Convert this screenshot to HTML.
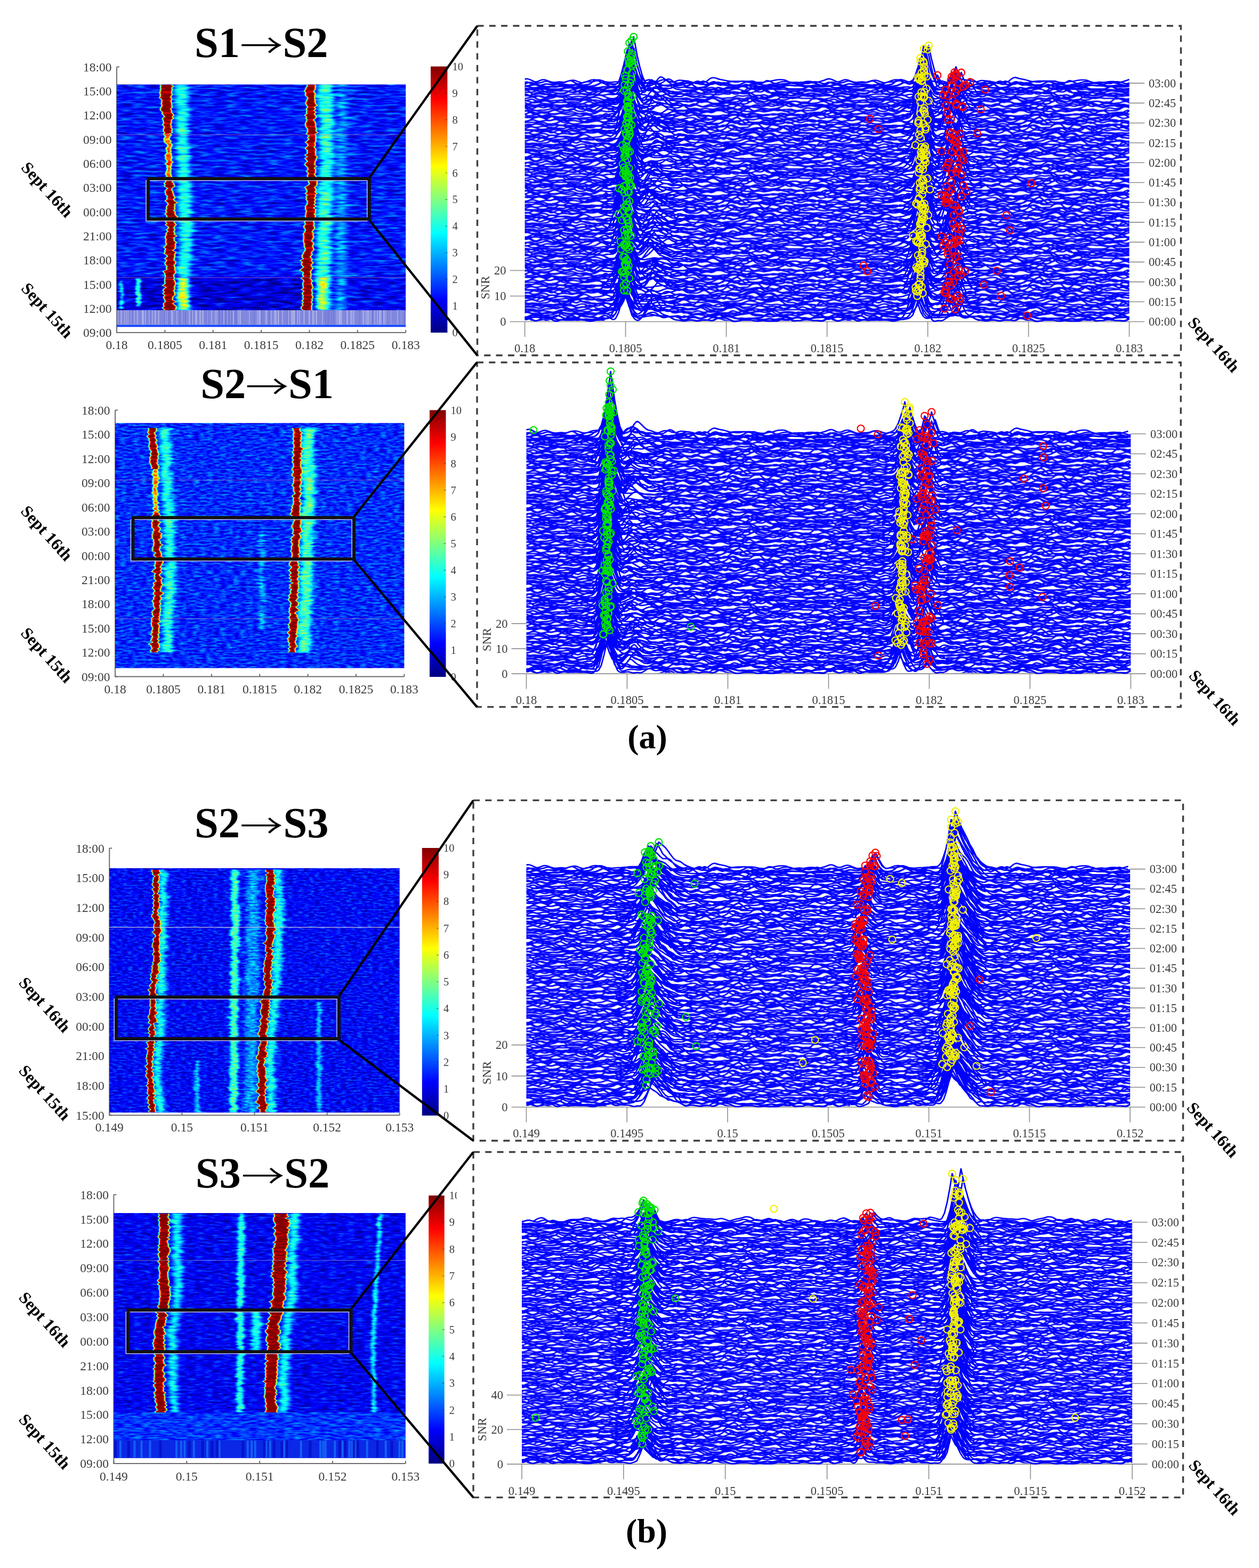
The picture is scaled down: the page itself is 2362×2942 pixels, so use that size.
<!DOCTYPE html><html><head><meta charset="utf-8"><title>Figure</title><style>html,body{margin:0;padding:0;background:#fff}svg{display:block}text{font-family:'Liberation Serif','Times New Roman',serif}.t{fill:#3a3a3a;font-size:23.5px}.c{fill:#3a3a3a;font-size:20.5px}.w{fill:#3a3a3a;font-size:22.5px}.b{fill:#000;font-weight:bold}.ar{font-family:'Noto Serif CJK SC',serif;stroke:#000;stroke-width:1.3px}.wf{fill:none;stroke:#00f;stroke-width:2.7px;stroke-linejoin:round}.wf path{vector-effect:non-scaling-stroke}circle{r:6.5px}</style></head><body><svg width="2362" height="2942" viewBox="0 0 2362 2942"><rect width="2362" height="2942" fill="#fff"/><defs><linearGradient id="cbg" x1="0" y1="0" x2="0" y2="1"><stop offset="0" stop-color="#800000"/><stop offset="0.125" stop-color="#ff0000"/><stop offset="0.25" stop-color="#ff8000"/><stop offset="0.375" stop-color="#ffff00"/><stop offset="0.5" stop-color="#80ff80"/><stop offset="0.625" stop-color="#00ffff"/><stop offset="0.75" stop-color="#0080ff"/><stop offset="0.875" stop-color="#0000ff"/><stop offset="1" stop-color="#000080"/></linearGradient><pattern id="wt" patternUnits="userSpaceOnUse" width="567" height="150"><g class="wf" transform="scale(5.0177 .5)"><path id="tl0" vector-effect="non-scaling-stroke" d="M-1 295q.5 -4 1-8t1-4 1 4 1 7 1 3 1-2 1-6 1-6 1-2 1 3 1 7 1 6 1 1 1-3 1-2 1 1 1 0 1-3 1-1 1 2 1 1 1 0 1 1 1 2 1 2 1 0 1-2 1-2 1-2 1-1 1-1 1-2 1-2 1-1 1 1 1 3 1 3 1 1 1 0 1 1 1 2 1 0 1 0 1 0 1-5 1-7 1-3 1 3 1 4 1 0 1-1 1 0 1-2 1-3 1 0 1 4 1 5 1 3 1 1 1 1 1 0 1-2 1-1 1 1 1 2 1 0 1-2 1-1 1 1 1 2 1 0 1-4 1-5 1-2 1 0 1 1 1 3 1 5 1 4 1 1 1-1 1-2 1-1 1 0 1 0 1 1 1 2 1 0 1-2 1-1 1 1 1 2 1 1 1-1 1-1 1-1 1-6 1-6 1 1 1 5 1 5 1 2 1 0 1 0 1-2 1-3 1 0 1 3 1 2 1-1 1 0 1 1 1-3 1-7 1-6"/><path id="tl1" vector-effect="non-scaling-stroke" d="M-1 284q.5 4 1 6t1 0 1-4 1-3 1-1 1 1 1 1 1 1 1 3 1 2 1-2 1 0 1 4 1 2 1-1 1-3 1-6 1-6 1 0 1 5 1 5 1 3 1 0 1-1 1 1 1 1 1-1 1-2 1-4 1-6 1-3 1 4 1 8 1 5 1 0 1-2 1-3 1-3 1-1 1 0 1 0 1 1 1 1 1-1 1-2 1-1 1-1 1-3 1-3 1 1 1 5 1 5 1 1 1-3 1-3 1-1 1 0 1 2 1 5 1 5 1 1 1-4 1-4 1-1 1 1 1 2 1 0 1-2 1-3 1-3 1 0 1 3 1 4 1 1 1-4 1-3 1 1 1 2 1 2 1 2 1 2 1 1 1-1 1-1 1 0 1 0 1 1 1 2 1 1 1 0 1-1 1-2 1 0 1 2 1 0 1-2 1 0 1 2 1 2 1 0 1-3 1-5 1-3 1 3 1 5 1 1 1-1 1-1 1-2 1-2 1-1 1-1 1 1 1 4 1 0"/><path id="tl2" vector-effect="non-scaling-stroke" d="M-1 283q.5 2 1 2t1-3 1-5 1-3 1-1 1 2 1 5 1 5 1 1 1-1 1-1 1-4 1-3 1 2 1 5 1 4 1 0 1-2 1 0 1 1 1-3 1-6 1-2 1 3 1 3 1 1 1 1 1 2 1 0 1 0 1 1 1-1 1-3 1-4 1-2 1 3 1 6 1 1 1-4 1-4 1-1 1 1 1-1 1-2 1-1 1-1 1-2 1 0 1 2 1 2 1 1 1 1 1 1 1 1 1 1 1-1 1-1 1 2 1 3 1-2 1-2 1 3 1 0 1-2 1 2 1 4 1 1 1-4 1-5 1-3 1-3 1-3 1-1 1 4 1 7 1 0 1-3 1 3 1 5 1 3 1 0 1-1 1 1 1 1 1 0 1-1 1-1 1-1 1-1 1-3 1-7 1-5 1 1 1 4 1 2 1-1 1-1 1 2 1 4 1 4 1 2 1-1 1-1 1 1 1 0 1 0 1 2 1 0 1-4 1-6 1-4 1 2 1 6 1 3 1-2"/><path id="tl3" vector-effect="non-scaling-stroke" d="M-1 282q.5 0 1 0t1 0 1 0 1 0 1-3 1-5 1-1 1 3 1 3 1 2 1 2 1 0 1-3 1-6 1-6 1-1 1 2 1 1 1 0 1 1 1 3 1 4 1 3 1 1 1 0 1-1 1-3 1-6 1-6 1-1 1 3 1 4 1 4 1 3 1 0 1-4 1-4 1 0 1 4 1 5 1 2 1 0 1 1 1 1 1-1 1-2 1-1 1 0 1 0 1 0 1 1 1 0 1 0 1 1 1 0 1 0 1-2 1-2 1 2 1 3 1 0 1-3 1-3 1-2 1-2 1 0 1 2 1 2 1 2 1 2 1 1 1-2 1-4 1-2 1 1 1 2 1 2 1 1 1-1 1-2 1-2 1-3 1-5 1-3 1 4 1 6 1 3 1 1 1 0 1 0 1 1 1 2 1 1 1-1 1-2 1 1 1 2 1-2 1-3 1-2 1-3 1-4 1-3 1 0 1 2 1 1 1 1 1 4 1 4 1 2 1 2 1 1 1 0 1 0 1 0"/><path id="tl4" vector-effect="non-scaling-stroke" d="M-1 269q.5 -2 1-3t1-1 1 2 1 5 1 4 1 1 1 0 1 0 1-1 1-1 1 0 1-3 1-4 1 0 1 4 1 5 1 2 1-2 1-4 1-2 1 0 1-1 1-2 1-1 1 0 1 1 1 2 1 1 1 0 1-1 1-1 1-1 1-2 1-1 1 2 1 3 1 0 1-1 1 3 1 4 1 0 1 0 1 1 1-1 1-1 1-1 1-3 1-4 1-3 1 0 1 4 1 5 1 3 1-1 1-6 1-6 1-2 1 1 1 2 1 2 1 1 1 0 1 2 1 3 1 1 1 0 1-1 1-1 1 1 1 2 1 2 1-1 1-2 1 2 1 2 1-3 1-6 1-6 1-2 1 3 1 4 1 3 1 1 1-1 1-1 1 1 1 2 1 1 1 1 1 2 1 0 1-2 1 0 1 2 1 2 1 1 1-1 1-3 1-2 1 1 1 2 1 1 1 0 1-1 1-3 1-3 1-1 1-1 1 0 1 2 1 2 1 0 1-3 1-3 1-1"/><path id="tl5" vector-effect="non-scaling-stroke" d="M-1 257q.5 -2 1-3t1-1 1 0 1 0 1 3 1 7 1 5 1 0 1-2 1 0 1 2 1 0 1-3 1-2 1 2 1 4 1 3 1-1 1-3 1 0 1 2 1 2 1 0 1 0 1 1 1 0 1-1 1-3 1-4 1-5 1-4 1 0 1 1 1-1 1-1 1 2 1 6 1 7 1 2 1-1 1 1 1 1 1 0 1 0 1 0 1 0 1 0 1-1 1-1 1 0 1-3 1-5 1-3 1-2 1-2 1-3 1-2 1 2 1 3 1 3 1 4 1 5 1 4 1 0 1-2 1-1 1 0 1-1 1-4 1-5 1-1 1 3 1 5 1 5 1 0 1-2 1 2 1 2 1 0 1 0 1 0 1 0 1-1 1-2 1-2 1-2 1-3 1-4 1-3 1-2 1-2 1 0 1 5 1 8 1 6 1 1 1-3 1-3 1 0 1 1 1 0 1 1 1 3 1 1 1-1 1-1 1-2 1-2 1 0 1 3 1 2 1-4 1-8 1-5 1 0"/><path id="tl6" vector-effect="non-scaling-stroke" d="M-1 259q.5 0 1 1t1 4 1 4 1 1 1 0 1 0 1 0 1 0 1 0 1-1 1-1 1 1 1 0 1-4 1-6 1-4 1-1 1 2 1 5 1 5 1 3 1 1 1 0 1 0 1-1 1-1 1 1 1 0 1-2 1-3 1-4 1-5 1-5 1 0 1 5 1 5 1 4 1 3 1 1 1-1 1-4 1-5 1-2 1 1 1 1 1-1 1-2 1 0 1 3 1 3 1 1 1-1 1-3 1-2 1 3 1 6 1 3 1-1 1-2 1-1 1 0 1 0 1 1 1 0 1-3 1-1 1 3 1 2 1-1 1 0 1 0 1-1 1 2 1 2 1 0 1 0 1 0 1 0 1 1 1 0 1-3 1-3 1 0 1 3 1 1 1-1 1-1 1-2 1 0 1 2 1 1 1-1 1-3 1-2 1 2 1 4 1 1 1-2 1-1 1 0 1 1 1 2 1 1 1-1 1-2 1-1 1 0 1 1 1 1 1 1 1 1 1-2 1-4 1-1 1 4"/><path id="tl7" vector-effect="non-scaling-stroke" d="M-1 256q.5 3 1 5t1 1 1-2 1 0 1 2 1 0 1-2 1-1 1 1 1 2 1 2 1 0 1-3 1-4 1-1 1 2 1 2 1 1 1 0 1 0 1 0 1 0 1 1 1 1 1-1 1-3 1-4 1-1 1 4 1 4 1 0 1-3 1-2 1 1 1 2 1 1 1 1 1 1 1-1 1-1 1 0 1-1 1-1 1 1 1 2 1 0 1-2 1-1 1 0 1 1 1 0 1-3 1-1 1 2 1 1 1 1 1 1 1-3 1-4 1-1 1 0 1 1 1 1 1-1 1-3 1-3 1 0 1 4 1 6 1 4 1 1 1-1 1-1 1 0 1-2 1-5 1-6 1-4 1 0 1 4 1 7 1 6 1 1 1-2 1-2 1-1 1 2 1 3 1-1 1-3 1 0 1 2 1-1 1-5 1-6 1-3 1 3 1 5 1 2 1 0 1 0 1 0 1 0 1 0 1 0 1 1 1 1 1 0 1 1 1 2 1-1 1-3 1 1 1 4 1 2"/><path id="tl8" vector-effect="non-scaling-stroke" d="M-1 258q.5 0 1-1t1-1 1 1 1 1 1-1 1-1 1 0 1-2 1-2 1 0 1-1 1-3 1-3 1 0 1 2 1 3 1 4 1 2 1-1 1 0 1 2 1 0 1-2 1-2 1 0 1 2 1 2 1 1 1-1 1 0 1 1 1-1 1-1 1-1 1-2 1 0 1 1 1-4 1-4 1 1 1 2 1 1 1 1 1 1 1 1 1 2 1 1 1-1 1-1 1 1 1 0 1-3 1-4 1-3 1-1 1 0 1 1 1 1 1 1 1 3 1 4 1 1 1-1 1 1 1-1 1-5 1-4 1 0 1 4 1 5 1 2 1-1 1 0 1 1 1-2 1-3 1-1 1-1 1-2 1 0 1 4 1 5 1 2 1-1 1-2 1-2 1-1 1 1 1 2 1 2 1 0 1-2 1 0 1 1 1 0 1 0 1 1 1 0 1-4 1-6 1-4 1 1 1 6 1 6 1 2 1-2 1-3 1-1 1 2 1 3 1 0 1 0 1 1 1-1 1-2"/><path id="tl9" vector-effect="non-scaling-stroke" d="M-1 253q.5 -3 1-5t1-3 1 0 1 1 1 1 1 2 1 0 1-4 1-4 1 0 1 4 1 5 1 1 1-3 1-3 1 0 1 4 1 4 1 0 1-2 1-2 1-2 1-2 1-3 1-3 1 0 1 5 1 6 1 1 1-1 1 1 1-2 1-5 1-1 1 3 1 4 1 1 1-3 1-3 1 1 1 4 1 1 1-1 1 1 1 0 1-1 1 2 1 1 1-5 1-7 1-3 1 3 1 5 1 3 1 1 1 0 1 0 1-1 1-2 1 0 1 3 1 2 1-1 1 0 1 1 1-4 1-6 1-2 1 2 1 3 1 3 1 3 1 1 1 0 1 0 1-3 1-5 1-3 1-1 1 0 1 2 1 5 1 4 1 1 1-1 1-2 1-3 1-4 1-2 1 2 1 4 1 3 1 2 1-1 1-3 1 1 1 3 1 0 1-3 1-3 1-1 1 2 1 3 1-2 1-2 1 3 1 3 1 1 1-1 1 0 1 2 1 0 1-2 1-3 1-4"/><path id="tl10" vector-effect="non-scaling-stroke" d="M-1 234q.5 4 1 7t1 4 1-1 1-4 1-2 1 2 1 3 1 0 1 0 1 2 1 0 1-3 1-3 1-1 1 1 1 1 1 0 1 0 1 2 1 4 1 1 1-2 1 0 1 2 1 0 1-2 1-5 1-6 1-1 1 4 1 6 1 5 1 2 1-1 1-2 1-1 1-1 1-2 1 0 1-2 1-6 1-4 1 0 1 5 1 8 1 4 1-1 1-3 1-4 1-2 1 1 1 1 1-1 1-3 1-3 1 0 1 3 1 2 1-1 1 0 1 2 1 1 1 0 1 2 1 2 1-2 1-4 1-4 1-2 1 2 1 5 1 4 1 1 1-1 1-3 1-2 1 0 1-1 1-2 1 0 1 4 1 5 1 2 1 0 1-1 1-4 1-4 1 1 1 3 1 2 1 1 1 0 1-1 1-1 1 1 1 0 1-4 1-3 1 2 1 4 1 0 1-4 1-2 1 1 1 0 1-2 1 1 1 6 1 4 1-5 1-10 1-4 1 5 1 8 1 6"/><path id="tl11" vector-effect="non-scaling-stroke" d="M-1 241q.5 0 1 0t1 1 1 1 1-1 1-2 1-2 1-1 1 1 1 2 1 1 1-2 1-3 1-2 1 0 1 2 1 0 1-2 1 1 1 4 1 1 1-3 1-3 1 0 1 4 1 4 1-1 1-1 1 1 1-2 1-4 1-3 1 1 1 4 1 3 1 1 1 0 1-1 1-3 1-4 1-2 1 2 1 4 1 3 1 1 1 0 1 0 1 0 1 1 1 0 1-2 1-1 1 0 1 0 1 0 1 1 1 2 1-1 1-3 1-2 1-1 1-1 1-2 1 1 1 5 1 4 1 0 1-3 1-2 1 1 1 2 1 1 1-2 1-4 1 0 1 5 1 3 1-2 1-3 1 0 1 2 1-1 1-4 1-2 1 1 1 1 1 0 1 1 1 3 1 0 1-4 1-1 1 2 1 1 1-1 1-1 1 1 1 2 1 2 1 1 1 0 1 1 1 1 1-1 1-3 1-3 1-1 1 1 1 1 1 1 1 2 1 1 1 0 1 0 1 0 1 0"/><path id="tl12" vector-effect="non-scaling-stroke" d="M-1 232q.5 1 1 2t1 2 1 0 1-2 1-1 1 1 1 2 1 1 1-1 1-1 1 1 1 1 1-1 1-2 1-1 1 1 1 1 1-4 1-8 1-6 1 0 1 5 1 3 1 0 1 2 1 4 1 3 1 0 1-3 1-2 1 0 1 1 1 3 1 4 1 1 1-5 1-6 1 0 1 5 1 3 1-1 1 0 1 2 1 0 1-3 1-3 1-1 1 1 1 2 1 1 1-1 1-3 1-2 1 2 1 3 1 1 1-1 1 0 1 3 1 2 1-1 1-1 1 1 1 0 1-6 1-8 1-3 1 1 1 1 1 0 1 1 1 2 1 2 1 3 1 2 1-1 1 0 1 3 1 3 1 1 1 0 1 0 1-2 1-1 1 2 1 0 1-2 1-1 1-1 1-3 1-4 1-4 1-4 1-3 1 0 1 4 1 6 1 7 1 5 1 1 1 0 1-1 1-3 1-4 1-1 1 3 1 3 1 1 1 1 1 2 1 0 1-3 1-2 1 1 1 2"/><path id="tl13" vector-effect="non-scaling-stroke" d="M-1 224q.5 2 1 4t1 3 1 0 1-1 1 1 1 1 1-1 1-1 1-1 1-4 1-4 1 0 1 3 1 5 1 3 1-2 1-3 1-2 1 1 1 3 1-2 1-3 1 2 1 4 1 2 1-1 1 0 1 1 1-1 1-1 1 0 1 1 1 2 1 1 1-2 1-4 1-3 1 0 1 3 1 3 1 0 1-1 1 0 1 1 1 2 1 1 1-1 1-1 1-1 1-3 1-1 1 2 1 1 1-2 1-3 1-2 1-2 1-2 1-2 1-1 1 2 1 5 1 4 1 1 1 0 1 0 1 0 1-1 1-2 1 0 1 2 1 1 1 0 1 1 1 3 1 2 1 0 1-1 1-2 1-1 1 1 1 0 1-3 1-4 1-2 1 1 1 2 1 3 1 2 1-1 1-2 1-1 1-1 1-2 1-2 1-2 1-1 1 3 1 5 1 2 1 0 1 2 1 3 1 0 1-2 1-2 1-2 1-2 1-3 1-3 1 0 1 2 1 3 1 4 1 4"/><path id="tl14" vector-effect="non-scaling-stroke" d="M-1 223q.5 0 1 0t1-2 1-3 1 0 1 3 1 3 1 0 1-3 1-3 1 0 1 4 1 4 1-1 1-2 1 2 1 1 1-4 1-5 1-3 1-1 1 0 1 0 1-1 1-2 1-2 1 1 1 5 1 6 1 3 1 0 1 0 1 0 1-1 1-4 1-4 1 2 1 6 1 1 1-7 1-8 1-3 1 2 1 4 1 4 1 4 1 2 1-1 1-3 1-4 1-2 1 3 1 7 1 6 1 2 1-1 1-1 1 0 1 0 1-3 1-5 1-3 1-2 1 0 1 2 1 1 1-1 1-1 1 1 1 2 1 1 1 0 1 1 1 3 1 4 1 1 1-2 1-1 1 0 1 0 1-1 1-2 1-3 1-4 1-1 1 3 1 3 1-1 1-3 1 0 1 2 1 0 1-4 1-4 1 1 1 4 1 3 1 2 1 2 1 1 1-2 1-4 1-2 1 2 1 4 1 3 1 1 1-1 1-1 1 0 1-1 1-1 1 1 1 2 1 0 1-3"/><path id="tl15" vector-effect="non-scaling-stroke" d="M-1 224q.5 -1 1-2t1-2 1-2 1 0 1 2 1-3 1-6 1-3 1 1 1 6 1 5 1-1 1 0 1 3 1 1 1 0 1 0 1-1 1-2 1-2 1-1 1-1 1-2 1-1 1 1 1 2 1 0 1-1 1 2 1 3 1 1 1-1 1-3 1-4 1-3 1 0 1 1 1-1 1-1 1 2 1 4 1 3 1 2 1 1 1 0 1 1 1 1 1-1 1-1 1-1 1-1 1 0 1 2 1 3 1 0 1-2 1-3 1-4 1-2 1 2 1 3 1 0 1-4 1-5 1-2 1 1 1 1 1 1 1 1 1 0 1 1 1 2 1 1 1-2 1-3 1 0 1 3 1 4 1 1 1-3 1-3 1-1 1-2 1-4 1-2 1 2 1 5 1 5 1 3 1 2 1 2 1 0 1-1 1-2 1-4 1-1 1 4 1 4 1 0 1-3 1-2 1 2 1 3 1 0 1-4 1-5 1-2 1 2 1 4 1 4 1 3 1 1 1-1 1-2 1-2"/><path id="tl16" vector-effect="non-scaling-stroke" d="M-1 212q.5 0 1 0t1 0 1 1 1 0 1-3 1-3 1 1 1 4 1 3 1 1 1 1 1 0 1-1 1 0 1-1 1-2 1 1 1 3 1 1 1 0 1-1 1-2 1 0 1 2 1 1 1 0 1-1 1-2 1 0 1 2 1-1 1-3 1-1 1 0 1 1 1 2 1 1 1 0 1 0 1-1 1-3 1-2 1 0 1 0 1 2 1 4 1 2 1 0 1-3 1-5 1-2 1 2 1 4 1-1 1-5 1-2 1 3 1 5 1 2 1-2 1-4 1-1 1 2 1 0 1-2 1 0 1 2 1 1 1-1 1-3 1-4 1-3 1 1 1 6 1 6 1-1 1-3 1 3 1 3 1-2 1-3 1-3 1-4 1-1 1 4 1 4 1-1 1-3 1 1 1 5 1 4 1 0 1-2 1-1 1 1 1 1 1-1 1-2 1 0 1 2 1 1 1 1 1 0 1-3 1-2 1 2 1 3 1-2 1-6 1-4 1 0 1 3 1 3 1 1 1 0"/><path id="tl17" vector-effect="non-scaling-stroke" d="M-1 211q.5 0 1-1t1-2 1-1 1 0 1 1 1 2 1 1 1 0 1 1 1 1 1-1 1-2 1-3 1-2 1 1 1 1 1 1 1 3 1 2 1-1 1-4 1-6 1-4 1 1 1 5 1 4 1 0 1-1 1-1 1-3 1-3 1 1 1 4 1 2 1-1 1-2 1-1 1 0 1 1 1 2 1 2 1 2 1-1 1-5 1-4 1 1 1 4 1 2 1-2 1-4 1-1 1 4 1 5 1 2 1 0 1 1 1 0 1-5 1-7 1-3 1 2 1 3 1 1 1 0 1 0 1-1 1-2 1 0 1 3 1 4 1 4 1 2 1-3 1-2 1 2 1-3 1-8 1-5 1 1 1 5 1 5 1 3 1 2 1 2 1 1 1-1 1-2 1-2 1-4 1-6 1-4 1 0 1 2 1 4 1 6 1 5 1 1 1-3 1-3 1 0 1 3 1 3 1 0 1 0 1 1 1-3 1-6 1-5 1-1 1 4 1 6 1 2 1 0 1 0 1-2"/><path id="tl18" vector-effect="non-scaling-stroke" d="M-1 201q.5 1 1 2t1 2 1 1 1-1 1-2 1-2 1 0 1 3 1 2 1-3 1-3 1 2 1 3 1 1 1-1 1-1 1 1 1 2 1 1 1-1 1-4 1-6 1-5 1-2 1 1 1 1 1-1 1-2 1 0 1 1 1 0 1 1 1 1 1 0 1 1 1 3 1 4 1 2 1-1 1-1 1 1 1 2 1 2 1 2 1 1 1-1 1-4 1-4 1 0 1 3 1 4 1 2 1-2 1-3 1-1 1 0 1-1 1-3 1-2 1 2 1 5 1 4 1 0 1-2 1 0 1 2 1-1 1-2 1 1 1 2 1 0 1-2 1-2 1-2 1-3 1-2 1 1 1 3 1 3 1 0 1-2 1-2 1-1 1-1 1-3 1-3 1 0 1 5 1 7 1 4 1 1 1-1 1-1 1-1 1-2 1-2 1-3 1-3 1-1 1 1 1 2 1 2 1 2 1 2 1 3 1 2 1 0 1-1 1-3 1-4 1-2 1 1 1 2 1 2 1 2"/><path id="tl19" vector-effect="non-scaling-stroke" d="M-1 200q.5 0 1 1t1 1 1 0 1 0 1-2 1-4 1-2 1 0 1 2 1 4 1 1 1 0 1-1 1-4 1-2 1 0 1 1 1 2 1 0 1-2 1-1 1-1 1-2 1-3 1-4 1-3 1 0 1 4 1 6 1 4 1 0 1-3 1-2 1 2 1 4 1 3 1 0 1-3 1-4 1-2 1 4 1 6 1-2 1-4 1 1 1 2 1 1 1 1 1 2 1 0 1-1 1-3 1-6 1-4 1 1 1 5 1 4 1 2 1 2 1 1 1 0 1-1 1-1 1 1 1 2 1 0 1-1 1 0 1-1 1-1 1 0 1 1 1 1 1-1 1-2 1 0 1 2 1-1 1-3 1 0 1 3 1 0 1-5 1-5 1-3 1 0 1 3 1 4 1 5 1 3 1-3 1-5 1-2 1 3 1 6 1 3 1-1 1-1 1 0 1 0 1-1 1-1 1 1 1 1 1-1 1 0 1 2 1 1 1-1 1-1 1 0 1-1 1-1 1 1 1 2"/><path id="tl20" vector-effect="non-scaling-stroke" d="M-1 194q.5 -2 1-3t1 0 1 3 1 3 1 0 1-2 1-4 1-4 1-1 1 0 1 1 1 3 1 4 1 1 1-5 1-5 1 2 1 5 1 2 1-1 1-1 1 0 1-1 1-3 1-2 1 0 1-2 1-4 1-1 1 4 1 4 1-1 1-3 1 0 1 3 1 4 1 1 1-2 1-1 1-1 1-3 1-4 1-3 1 0 1 4 1 6 1 3 1-1 1 0 1 3 1 3 1 1 1-1 1-2 1-2 1-2 1-3 1-4 1-3 1 1 1 4 1 3 1 1 1-1 1-3 1-4 1-3 1 1 1 7 1 9 1 4 1-1 1-2 1-1 1 1 1 2 1 0 1 0 1 1 1 0 1 0 1 0 1-1 1-2 1-3 1-4 1-1 1 4 1 4 1-3 1-5 1-1 1 0 1-1 1 0 1 3 1 3 1 0 1-2 1-1 1 2 1 4 1 1 1-2 1-1 1 1 1 1 1 0 1 1 1 2 1 1 1-1 1-3 1-3 1 0"/><path id="tl21" vector-effect="non-scaling-stroke" d="M-1 193q.5 0 1 0t1-1 1-3 1-4 1-3 1-1 1 0 1 0 1 2 1 5 1 3 1-3 1-5 1-1 1 4 1 3 1-2 1-3 1 0 1 2 1 1 1 1 1 2 1-1 1-4 1 0 1 3 1-2 1-1 1 4 1-1 1-3 1 2 1 3 1-1 1-2 1 0 1-1 1-2 1-1 1 0 1-1 1-3 1-2 1 3 1 6 1 1 1-4 1-2 1 1 1 2 1 3 1 3 1 2 1 1 1-2 1-4 1-4 1-3 1 1 1 5 1 5 1 2 1 0 1 0 1-2 1-5 1-3 1 3 1 5 1 0 1-3 1-2 1-1 1 1 1 3 1 2 1 0 1 1 1 1 1-1 1-3 1-4 1-3 1-1 1-1 1-3 1-3 1 1 1 5 1 5 1 1 1-2 1-1 1 2 1 4 1 2 1-1 1-1 1 1 1 1 1 0 1-1 1-1 1 1 1 1 1 0 1 1 1 1 1-1 1-1 1 1 1 1 1 0 1 0"/><path id="tl22" vector-effect="non-scaling-stroke" d="M-1 183q.5 -1 1-1t1 0 1 0 1 1 1 2 1 2 1 0 1-3 1-6 1-6 1-1 1 2 1 2 1 3 1 4 1 1 1-3 1-2 1 2 1 3 1 0 1-3 1-2 1 1 1 2 1 2 1 2 1 0 1-5 1-7 1-4 1-1 1 1 1 3 1 4 1 4 1 2 1-1 1-3 1-4 1-4 1-4 1-3 1-1 1 3 1 7 1 7 1 4 1 2 1 1 1-1 1-3 1-4 1-2 1 1 1 2 1 2 1 1 1-1 1-3 1-4 1-3 1-1 1 2 1 4 1 3 1 2 1 1 1-3 1-7 1-4 1 3 1 7 1 7 1 4 1 0 1-3 1-4 1-2 1 1 1 3 1 2 1-1 1-2 1-3 1-2 1 2 1 4 1 3 1 1 1 0 1-2 1-4 1-2 1 1 1 0 1-6 1-8 1-2 1 6 1 10 1 6 1-1 1-5 1-4 1-2 1-1 1 1 1 2 1 2 1 2 1 2 1 1 1-1 1-1"/><path id="tl23" vector-effect="non-scaling-stroke" d="M-1 173q.5 3 1 5t1 2 1 0 1 0 1 0 1 1 1 2 1 0 1-1 1 0 1-1 1-2 1-1 1 1 1 2 1 1 1-2 1-4 1-2 1 2 1 3 1 1 1 0 1 1 1 1 1-2 1-2 1 1 1 2 1 1 1 1 1 1 1 0 1-1 1-3 1-4 1-1 1 2 1-2 1-5 1-1 1 3 1 2 1 1 1 3 1 3 1 1 1 1 1 1 1 0 1-1 1-3 1-2 1 0 1-1 1-1 1 1 1 2 1 1 1-1 1 0 1 2 1 2 1 0 1-3 1-4 1-1 1 3 1 1 1-1 1 2 1 2 1 1 1 0 1-3 1-6 1-7 1-3 1 4 1 8 1 5 1-1 1-1 1 2 1 0 1 0 1 0 1-4 1-4 1 0 1 4 1 4 1 1 1 0 1-3 1-5 1-2 1 2 1 5 1 4 1-1 1-4 1-2 1 2 1 4 1 1 1-2 1-1 1 0 1-4 1-7 1-2 1 5 1 6 1 2"/><path id="tl24" vector-effect="non-scaling-stroke" d="M-1 176q.5 0 1-1t1-3 1-3 1 0 1 3 1 4 1 2 1 0 1-1 1-1 1 1 1 1 1-2 1-2 1 1 1-1 1-3 1 1 1 2 1-2 1-1 1 2 1 1 1-1 1-3 1-4 1-2 1 1 1 1 1 0 1 2 1 3 1 1 1-1 1-1 1 2 1 3 1-1 1-5 1-4 1 1 1 4 1 3 1 0 1-2 1-2 1-2 1-2 1-1 1 0 1 0 1 1 1 3 1 4 1 2 1-2 1-3 1 0 1 1 1-1 1-1 1 1 1 2 1 0 1-3 1-2 1 3 1 6 1 3 1-1 1-2 1-2 1-2 1-4 1-4 1 1 1 6 1 6 1-1 1-3 1 1 1 2 1 2 1 1 1-1 1-2 1-2 1-1 1 1 1 2 1 1 1-1 1 0 1 2 1 0 1-4 1-3 1 2 1 4 1 1 1-4 1-5 1-2 1-1 1-2 1-1 1-1 1-2 1-1 1 2 1 5 1 6 1 5 1 0 1-5"/><path id="tl25" vector-effect="non-scaling-stroke" d="M-1 170q.5 -1 1-2t1-2 1 0 1 3 1 2 1-1 1-2 1-1 1 1 1 3 1 2 1-1 1-4 1-5 1 0 1 4 1 2 1-1 1-1 1 0 1 0 1 0 1 1 1 2 1 2 1 0 1-3 1-3 1 0 1 3 1 3 1 1 1-1 1-3 1-4 1-3 1-1 1 1 1 2 1 1 1-1 1-2 1-1 1 3 1 5 1 1 1 0 1 1 1-2 1-2 1-1 1-1 1 0 1 0 1-1 1-1 1 1 1 2 1 1 1-2 1-4 1-2 1 1 1 1 1 1 1 2 1 1 1 1 1 3 1 2 1-2 1-1 1 2 1-1 1-2 1-1 1-2 1-2 1 1 1 5 1 4 1 0 1-1 1 0 1-4 1-8 1-5 1 2 1 8 1 8 1 2 1-4 1-7 1-5 1 2 1 6 1 2 1-2 1 1 1 4 1 2 1 0 1-1 1-2 1-2 1-2 1-2 1 0 1 4 1 4 1 0 1-1 1-1 1-2 1-2"/><path id="tl26" vector-effect="non-scaling-stroke" d="M-1 167q.5 -2 1-4t1-3 1 0 1 0 1-3 1-3 1 1 1 5 1 4 1-1 1-4 1-2 1 2 1 4 1 1 1-4 1-4 1 0 1 3 1 3 1 1 1 0 1 1 1 2 1-1 1-2 1 1 1 2 1-1 1-4 1-1 1 3 1 3 1-1 1-1 1 2 1 0 1-1 1-2 1 0 1 2 1-1 1-1 1 0 1 1 1 1 1-3 1-4 1 0 1 2 1 0 1-3 1-4 1-3 1 1 1 6 1 7 1 3 1 0 1-1 1-3 1-2 1 1 1 2 1 2 1 2 1 0 1-2 1-6 1-6 1 1 1 5 1 5 1 3 1 0 1-4 1-7 1-6 1-2 1 3 1 6 1 3 1 0 1 0 1 0 1-1 1-3 1-3 1 0 1 3 1 3 1 1 1 0 1 1 1 2 1 2 1 1 1-1 1-1 1 1 1 1 1-2 1-3 1 1 1 4 1 1 1-4 1-4 1 0 1 1 1 1 1 3 1 1 1-3 1-3"/><path id="tl27" vector-effect="non-scaling-stroke" d="M-1 154q.5 4 1 7t1 3 1-1 1-3 1-2 1 1 1 2 1 1 1 0 1 1 1 1 1-1 1-1 1 1 1 1 1 0 1 0 1 0 1 0 1 0 1 0 1 0 1 0 1 0 1 0 1 0 1 0 1 0 1 0 1-2 1-6 1-9 1-7 1 0 1 4 1 1 1-2 1-1 1 0 1 1 1 3 1 3 1 3 1 3 1 0 1-2 1-1 1 2 1 3 1 1 1-2 1-3 1-1 1 0 1 1 1 2 1 3 1 3 1 0 1-3 1-3 1-1 1 2 1 4 1 0 1-3 1 0 1 2 1 1 1 0 1 0 1 0 1-1 1-4 1-6 1-3 1 2 1 3 1 2 1 1 1 1 1 2 1 0 1-3 1-2 1 0 1 0 1 0 1 0 1 0 1 0 1 1 1 2 1 2 1 1 1 0 1-1 1-3 1-3 1 1 1 5 1 4 1 0 1 0 1 0 1-2 1 1 1 3 1 0 1-2 1-4 1-5 1 1 1 6 1 4"/><path id="tl28" vector-effect="non-scaling-stroke" d="M-1 155q.5 -1 1-2t1-1 1 0 1 0 1 0 1-1 1-1 1 2 1 4 1 2 1 0 1-1 1-3 1-5 1-4 1 1 1 5 1 5 1 2 1 0 1-1 1-2 1-3 1-5 1-5 1-3 1 0 1 3 1 5 1 6 1 3 1 0 1 1 1 1 1-1 1-1 1 0 1-1 1-1 1 1 1-1 1-2 1 2 1 2 1-1 1 0 1 2 1 1 1-1 1-2 1-1 1 1 1 2 1 1 1 0 1-1 1-3 1-5 1-4 1 0 1 3 1 4 1 3 1 0 1-3 1-3 1-1 1 2 1 4 1 3 1 0 1-1 1 0 1-1 1-4 1-5 1-2 1 3 1 6 1 2 1-4 1-5 1-3 1 1 1 6 1 6 1 2 1 0 1-1 1-1 1 1 1 1 1-1 1-3 1-4 1-3 1 0 1 3 1 4 1 1 1-3 1-3 1-2 1-2 1-2 1-1 1 0 1 0 1 1 1 3 1 4 1 3 1 1 1-1 1-2"/><path id="tl29" vector-effect="non-scaling-stroke" d="M-1 149q.5 0 1 0t1-2 1-3 1-1 1 2 1 3 1 0 1-2 1-1 1 0 1-1 1-2 1 0 1 4 1 5 1 1 1-3 1-3 1-1 1 1 1 2 1 2 1 2 1 1 1-1 1-2 1-2 1-1 1 1 1 2 1 0 1-2 1-1 1 1 1 2 1 0 1-1 1 1 1 1 1 0 1 0 1-1 1-3 1-4 1-3 1 2 1 6 1 2 1-6 1-7 1 0 1 6 1 6 1 1 1-2 1 0 1 3 1 2 1-1 1-2 1-1 1 1 1 1 1-1 1-2 1-1 1 1 1 2 1 2 1 0 1-2 1-4 1-5 1-1 1 2 1 3 1 2 1-3 1-6 1-4 1 2 1 8 1 8 1 2 1-2 1 0 1 2 1 0 1-3 1-4 1-2 1 2 1 3 1-1 1-2 1 2 1 1 1-4 1-4 1 0 1 2 1 3 1 4 1 2 1-2 1-3 1-1 1 2 1 2 1-3 1-4 1 1 1 3 1 1 1-1"/><path id="tl30" vector-effect="non-scaling-stroke" d="M-1 147q.5 1 1 1t1-1 1-4 1-5 1-4 1-3 1 0 1 4 1 6 1 4 1-1 1-4 1-3 1-1 1 2 1 4 1 2 1-2 1-3 1-1 1 2 1 5 1 4 1 0 1-2 1-2 1-2 1-1 1-1 1-2 1-1 1 2 1 3 1-2 1-4 1 1 1 4 1 3 1 1 1-2 1-2 1 2 1 1 1-3 1-2 1 2 1 3 1-1 1-2 1 2 1 3 1-1 1-3 1-1 1 1 1 1 1 1 1 2 1-1 1-2 1 2 1 3 1 0 1-4 1-4 1 1 1 3 1-1 1-1 1 0 1-4 1-4 1-2 1 0 1 5 1 7 1 1 1-1 1 2 1 0 1-1 1-1 1-3 1-2 1 1 1 1 1-1 1-2 1-2 1-2 1-1 1 2 1 3 1 0 1-3 1-1 1 3 1 3 1 1 1 1 1 2 1 2 1-1 1-4 1-2 1 1 1 3 1 2 1 0 1 1 1 0 1-1 1 1 1 1 1 0"/><path id="tl31" vector-effect="non-scaling-stroke" d="M-1 123q.5 -1 1-2t1-3 1-4 1-1 1 4 1 7 1 7 1 5 1 2 1-3 1-5 1 0 1 6 1 6 1 1 1-3 1-3 1-1 1 0 1 0 1 1 1 2 1 1 1 0 1 1 1 1 1-2 1-5 1-4 1 0 1 4 1 3 1-1 1-2 1-2 1-1 1 1 1 1 1-2 1-2 1 4 1 7 1 1 1-5 1-3 1 2 1 4 1 2 1-2 1-4 1-3 1-1 1 2 1 4 1 3 1 0 1-2 1 0 1 1 1-1 1-2 1-2 1-1 1 1 1 4 1 4 1-1 1-4 1-1 1 3 1 2 1-2 1-3 1 0 1 2 1-1 1-1 1 3 1 0 1-6 1-7 1-4 1-1 1 1 1 3 1 3 1 1 1 2 1 5 1 4 1 1 1 1 1 1 1 0 1 0 1 0 1-1 1-2 1-1 1 0 1-1 1-1 1 2 1 3 1 0 1-3 1-5 1-5 1-3 1-1 1-1 1-1 1-1 1-2 1-3"/><path id="tl32" vector-effect="non-scaling-stroke" d="M-1 134q.5 -1 1-2t1 0 1 2 1 1 1-1 1-2 1-1 1-1 1-2 1-2 1 2 1 6 1 2 1 0 1 0 1-1 1 2 1 2 1-1 1-1 1 0 1-1 1-1 1 0 1-1 1-1 1 2 1 2 1-2 1-3 1-1 1-1 1-1 1 1 1 2 1 2 1 2 1 2 1 1 1-1 1-1 1 1 1 1 1-1 1-2 1-2 1-2 1 0 1 3 1 2 1-2 1-3 1 0 1 2 1 1 1-1 1-2 1-3 1-3 1-2 1-2 1-3 1-3 1 1 1 7 1 9 1 4 1-2 1-5 1-3 1 4 1 5 1 1 1 1 1 0 1-3 1-4 1-4 1-2 1 0 1 1 1 2 1 2 1 1 1-1 1-2 1-1 1 1 1 3 1 3 1 2 1 1 1 0 1-1 1-3 1-3 1 0 1 3 1 3 1 1 1-1 1-2 1-1 1 1 1 1 1-3 1-5 1-2 1 2 1 4 1 4 1 2 1-2 1-3 1 0"/><path id="tl33" vector-effect="non-scaling-stroke" d="M-1 127q.5 3 1 5t1 2 1-1 1-2 1-1 1 1 1 2 1 1 1-1 1-2 1-2 1 0 1 2 1 1 1 0 1-1 1-1 1-1 1-3 1-1 1 3 1 1 1-3 1-2 1 1 1 3 1 3 1 2 1 0 1-6 1-7 1 2 1 6 1-2 1-5 1 2 1 6 1 3 1-1 1-1 1 0 1-3 1-7 1-5 1 1 1 5 1 5 1 1 1-4 1-4 1 2 1 6 1 2 1-4 1-3 1 2 1 3 1 0 1-2 1-3 1-5 1-4 1 1 1 4 1 4 1 4 1 3 1 0 1-2 1 1 1 2 1-1 1-1 1 2 1 2 1-3 1-6 1-6 1-4 1 1 1 6 1 7 1 5 1 2 1 0 1-1 1-2 1-2 1-1 1-1 1-2 1-2 1-1 1-1 1 0 1 3 1 4 1 2 1-2 1-3 1 0 1 1 1 1 1 3 1 1 1-5 1-7 1-3 1 1 1 2 1 1 1 2 1 5 1 5 1 2"/><path id="tl34" vector-effect="non-scaling-stroke" d="M-1 118q.5 2 1 5t1 4 1 0 1-2 1-2 1 1 1 3 1 0 1-3 1-3 1-1 1 0 1-1 1-2 1-1 1 0 1-1 1-2 1 0 1 3 1 3 1 0 1-2 1 0 1 4 1 5 1 2 1-1 1-2 1 0 1 1 1-2 1-3 1-2 1-1 1 0 1 0 1 2 1 4 1 3 1 0 1-3 1-4 1-3 1 0 1 2 1 0 1-1 1 1 1 2 1 3 1 3 1 1 1 0 1-1 1-3 1-3 1-2 1 0 1 4 1 4 1 1 1-2 1-2 1 1 1 0 1-1 1 1 1 2 1 1 1 0 1 0 1 0 1-1 1-2 1 0 1 1 1-2 1-2 1 0 1 1 1 2 1 1 1-3 1-5 1-2 1 2 1 5 1 4 1 0 1-1 1-1 1-3 1-2 1 2 1 3 1-1 1-1 1 1 1 0 1 0 1-1 1-1 1 1 1 3 1 2 1 0 1-3 1-6 1-4 1-1 1 1 1 3 1 5 1 6"/><path id="tl35" vector-effect="non-scaling-stroke" d="M-1 115q.5 -3 1-5t1-1 1 4 1 6 1 3 1-2 1-4 1-2 1 1 1 3 1 3 1 1 1-1 1-2 1 0 1 2 1 1 1-1 1-1 1 0 1 0 1 1 1 0 1-1 1 0 1 0 1-1 1-4 1-5 1-1 1 2 1 1 1 0 1 0 1 1 1 1 1 0 1 0 1 0 1-1 1-2 1 0 1 4 1 4 1-2 1-5 1-2 1 3 1 6 1 4 1 0 1-2 1 0 1 0 1-4 1-4 1-2 1-2 1-1 1 0 1 1 1 2 1 1 1 1 1 3 1 3 1-1 1-5 1-4 1 0 1 1 1-1 1-1 1 0 1 2 1 4 1 2 1-1 1-1 1 0 1 1 1 3 1 3 1 1 1 0 1-1 1-1 1 1 1 2 1 1 1-1 1-1 1 1 1 1 1-1 1-3 1-2 1 1 1 2 1 0 1 0 1 2 1 1 1 0 1-1 1-2 1-1 1 1 1 1 1 0 1 0 1-1 1-5 1-6 1-2"/><path id="tl36" vector-effect="non-scaling-stroke" d="M-1 106q.5 0 1 1t1 3 1 4 1 3 1 0 1-1 1 0 1 1 1 0 1-4 1-5 1-2 1 2 1 3 1 0 1-2 1-1 1-1 1-4 1-6 1-4 1 2 1 6 1 5 1 3 1 3 1 3 1-1 1-6 1-7 1-3 1 1 1 3 1 6 1 7 1 2 1-1 1 0 1 0 1 0 1 0 1-3 1-4 1 0 1 2 1 0 1-1 1 0 1 1 1 3 1 3 1 0 1-5 1-7 1-2 1 4 1 5 1 3 1 2 1 1 1-1 1-3 1-4 1-3 1 0 1 3 1 4 1 1 1-2 1 1 1 1 1-4 1-5 1-3 1-1 1 3 1 5 1 1 1-1 1 2 1 3 1-2 1-7 1-6 1 1 1 6 1 2 1-3 1-2 1 2 1 3 1 1 1-2 1-4 1-3 1 1 1 4 1 3 1 3 1 4 1 2 1-3 1-6 1-2 1 4 1 5 1 2 1-1 1-2 1 0 1 1 1-3 1-5 1-1 1 3"/><path id="tl37" vector-effect="non-scaling-stroke" d="M-1 90q.5 1 1 2t1 3 1 5 1 5 1 3 1 2 1 2 1 1 1 0 1-1 1-3 1-3 1-2 1-1 1 1 1 2 1 0 1-3 1-1 1 4 1 4 1 1 1-1 1-5 1-4 1 3 1 5 1 1 1-4 1-6 1-5 1-3 1-1 1 2 1 5 1 6 1 5 1 1 1-2 1-1 1 1 1 2 1 2 1 0 1-3 1-3 1-1 1 0 1 1 1 3 1 3 1 0 1-3 1-4 1-2 1 2 1 3 1 1 1 0 1 0 1-1 1-2 1 0 1 2 1 1 1 0 1 0 1 1 1 1 1 0 1-1 1-2 1-1 1 0 1 0 1-1 1-2 1-2 1 0 1 2 1 2 1 2 1 2 1 1 1 0 1 0 1 0 1-1 1 0 1 2 1 0 1-2 1-2 1-2 1-2 1 0 1 3 1 3 1 0 1-1 1 0 1 1 1 1 1-2 1-5 1-5 1-1 1 2 1 1 1-1 1-4 1-5 1-2 1 2 1 4"/><path id="tl38" vector-effect="non-scaling-stroke" d="M-1 92q.5 2 1 5t1 6 1 4 1 0 1 0 1 0 1-1 1 0 1-1 1-2 1-2 1 0 1 0 1-5 1-7 1-2 1 3 1 3 1 1 1 0 1-1 1-2 1 0 1 5 1 7 1 4 1-1 1-6 1-6 1-1 1 3 1 3 1 1 1-1 1-1 1 2 1 4 1 3 1 1 1-1 1-2 1-2 1-3 1-4 1-3 1 1 1 6 1 6 1-1 1-7 1-5 1 1 1 4 1 5 1 4 1 0 1 0 1 1 1 0 1 0 1-1 1-2 1-2 1-1 1 1 1 2 1 2 1 1 1 0 1 0 1-1 1-3 1-2 1 0 1-1 1-2 1-1 1 1 1 3 1 3 1 0 1-2 1-3 1-3 1-2 1-1 1 1 1 2 1 2 1 3 1 4 1 2 1-1 1-1 1 1 1 1 1-2 1-2 1 0 1-1 1 1 1 3 1 1 1 0 1 0 1 0 1 0 1 0 1-1 1-3 1-5 1-5 1-1 1 4 1 6"/><path id="tl39" vector-effect="non-scaling-stroke" d="M-1 92q.5 1 1 2t1 3 1 3 1 0 1-4 1-5 1-2 1 1 1 2 1 2 1 3 1 4 1 1 1-3 1-4 1-5 1-6 1-3 1 3 1 7 1 7 1 4 1 1 1-1 1-3 1-3 1-3 1-4 1-2 1 2 1 6 1 5 1 0 1 0 1 2 1 0 1-2 1-2 1-2 1-2 1-1 1 1 1 1 1 0 1 1 1 2 1 0 1-3 1-4 1-2 1 1 1 1 1 1 1 3 1 2 1-3 1-7 1-6 1-1 1 5 1 8 1 6 1 2 1-1 1 0 1 2 1 0 1-2 1 0 1 2 1 1 1-1 1-3 1-3 1 0 1 3 1 0 1-2 1 2 1 3 1 0 1-4 1-5 1-2 1 1 1 2 1 1 1 1 1 2 1 1 1 1 1 2 1 0 1-1 1-1 1-3 1-4 1-5 1-5 1-2 1 1 1 4 1 6 1 4 1-1 1-4 1-3 1 0 1 3 1 2 1-1 1-1 1 1 1 2 1 3"/><path id="tl40" vector-effect="non-scaling-stroke" d="M-1 89q.5 4 1 6t1 1 1-2 1-1 1 0 1 0 1 2 1 2 1-2 1-3 1 0 1 2 1 0 1-3 1-2 1 3 1 3 1-1 1 0 1 1 1 0 1 0 1-1 1-2 1-3 1-4 1-3 1-2 1-1 1 1 1 3 1 3 1 0 1-1 1 1 1 3 1 3 1 0 1-3 1-2 1 2 1 2 1-1 1-1 1 0 1-1 1-3 1-2 1 2 1 4 1 3 1 1 1 1 1 2 1 1 1 0 1 0 1 0 1-3 1-5 1-1 1 3 1 1 1-3 1-2 1 2 1 3 1 0 1-3 1-3 1-1 1 0 1 1 1 1 1 0 1 2 1 4 1 3 1 0 1-5 1-7 1-1 1 6 1 5 1 0 1-3 1-2 1 1 1 2 1 0 1-3 1-4 1-2 1 2 1 3 1 0 1-2 1 0 1 3 1 3 1-1 1-3 1-2 1-3 1-3 1-2 1 0 1 3 1 5 1 3 1-2 1-2 1 3 1 6 1 3"/><path id="tl41" vector-effect="non-scaling-stroke" d="M-1 93q.5 -1 1-2t1-2 1-1 1 1 1 0 1-3 1-1 1 3 1 3 1-1 1-3 1 0 1 3 1 0 1-2 1-1 1-1 1 2 1 3 1 0 1-1 1 0 1 0 1 1 1 1 1-1 1-2 1-1 1 1 1 2 1-1 1-4 1-3 1 0 1 2 1-1 1-5 1-3 1 3 1 6 1 4 1 1 1 1 1 0 1-1 1 1 1 1 1-1 1-1 1 0 1-1 1-3 1-3 1 0 1 4 1 4 1-1 1-1 1 1 1-2 1-1 1 2 1-2 1-4 1 1 1 5 1 4 1 1 1-1 1-2 1 0 1 1 1-1 1-1 1 1 1 0 1-3 1-3 1 0 1 2 1 2 1 2 1 2 1 1 1-1 1-3 1-3 1 0 1 3 1 2 1-2 1-1 1 2 1 0 1-4 1-5 1-3 1-1 1 1 1 4 1 5 1 3 1 2 1 1 1 0 1-2 1-2 1 0 1-3 1-3 1 3 1 5 1 2 1-1 1-3"/><path id="tl42" vector-effect="non-scaling-stroke" d="M-1 86q.5 0 1 0t1-1 1 0 1 2 1 1 1 0 1-1 1-1 1 0 1 0 1 1 1 0 1 0 1 1 1 0 1-1 1-1 1 1 1 1 1-2 1-3 1-1 1 1 1 3 1 2 1-2 1-2 1 1 1 1 1 0 1 0 1 0 1-1 1-3 1-3 1-2 1 1 1 4 1 1 1-3 1-4 1-1 1 4 1 5 1 2 1-1 1-2 1-2 1-3 1-3 1 0 1 3 1 3 1 1 1 1 1 2 1 1 1 0 1 1 1 1 1 0 1 0 1 0 1-1 1-4 1-6 1-5 1-2 1 2 1 5 1 4 1 1 1-1 1-2 1-2 1-2 1-1 1 1 1 3 1 3 1 0 1-5 1-9 1-7 1 0 1 7 1 9 1 5 1 2 1 3 1 1 1-4 1-8 1-6 1 3 1 7 1 3 1-2 1-3 1 1 1 5 1 4 1 0 1 0 1 2 1 0 1-1 1 0 1 0 1-1 1-2 1 0 1 2 1 0 1-3"/><path id="tl43" vector-effect="non-scaling-stroke" d="M-1 72q.5 3 1 6t1 4 1-1 1-4 1-3 1 1 1 4 1 2 1 1 1 1 1-1 1-3 1-5 1-4 1 0 1 3 1 4 1 3 1 1 1 1 1 2 1 0 1-3 1-4 1-2 1 2 1 3 1 0 1-3 1-4 1-4 1-1 1 3 1 3 1 1 1 0 1 1 1 1 1-1 1-1 1 1 1 1 1 0 1 1 1 2 1 0 1-2 1 0 1 3 1 2 1-3 1-6 1-4 1 1 1 6 1 5 1-1 1-4 1-4 1-2 1 1 1 2 1 1 1-2 1-3 1 0 1 2 1 2 1 1 1 2 1 3 1 1 1 0 1 1 1 0 1-2 1 0 1 2 1 1 1-1 1-1 1 1 1 1 1-2 1-5 1-5 1-1 1 3 1 3 1 3 1 3 1-2 1-4 1 1 1 3 1-2 1-4 1 0 1 1 1 0 1-1 1-1 1 2 1 4 1 2 1 0 1 1 1 0 1-2 1-1 1-2 1-3 1 0 1 4 1 6"/><path id="tl44" vector-effect="non-scaling-stroke" d="M-1 71q.5 0 1 0t1 1 1 3 1 3 1 0 1-1 1-2 1-3 1 0 1 3 1 2 1 0 1 0 1 0 1 0 1 0 1-1 1-1 1 0 1 1 1 1 1-4 1-6 1-2 1 0 1 2 1 5 1 4 1 0 1 0 1 2 1 0 1-1 1 0 1-1 1-3 1-1 1 2 1 1 1-1 1 0 1 2 1 1 1 0 1 0 1-2 1-4 1-3 1-1 1 0 1-1 1-1 1 1 1 2 1 0 1-2 1-1 1 0 1-1 1-2 1-1 1 1 1 3 1 4 1 3 1 3 1 2 1-2 1-5 1-5 1-3 1 1 1 6 1 6 1 2 1 0 1 0 1 0 1-1 1-1 1-2 1-3 1-1 1 2 1 3 1-2 1-4 1 0 1 3 1 3 1 0 1-3 1 0 1 4 1 1 1-2 1-1 1 1 1 1 1-1 1-1 1 0 1 1 1 2 1 0 1 0 1-1 1-7 1-7 1 0 1 5 1 4 1 1 1 0 1 1"/><path id="tl45" vector-effect="non-scaling-stroke" d="M-1 66q.5 2 1 3t1 0 1-3 1 0 1 4 1 2 1-1 1-3 1-1 1 3 1 1 1-1 1 0 1-1 1-1 1 0 1-2 1-3 1 1 1 4 1 2 1-1 1-1 1 1 1 2 1-1 1-2 1 1 1 2 1 2 1 1 1-1 1-3 1-2 1 1 1 2 1 1 1-2 1-1 1 2 1 1 1-2 1-3 1 0 1 1 1 1 1 2 1 1 1-1 1 0 1 1 1-2 1-2 1 1 1 1 1 0 1 0 1 1 1 1 1 0 1 1 1 1 1-2 1-5 1-4 1 1 1 4 1 1 1-4 1-5 1-2 1 3 1 6 1 4 1 1 1 1 1 0 1-2 1-4 1-3 1 2 1 4 1 2 1-3 1-7 1-6 1-1 1 4 1 4 1 2 1 1 1 2 1 3 1 1 1-3 1-7 1-6 1-2 1 2 1 4 1 2 1-1 1-1 1 1 1 1 1 0 1 0 1 1 1 1 1-1 1-1 1 1 1 3 1 3 1 2"/><path id="tl46" vector-effect="non-scaling-stroke" d="M-1 65q.5 -1 1-2t1-2 1-3 1-1 1 4 1 5 1 1 1-3 1-4 1-3 1-1 1-1 1-2 1-1 1 4 1 8 1 4 1 0 1 0 1 0 1-2 1-1 1 2 1-1 1-4 1-3 1-1 1 1 1 3 1 4 1 1 1-2 1 0 1 1 1-2 1-2 1 2 1 1 1-3 1-4 1-3 1 0 1 4 1 5 1 3 1 0 1-2 1-2 1-2 1 0 1 2 1 0 1-3 1-1 1 4 1 3 1-2 1-1 1 2 1 2 1 0 1-1 1 1 1 1 1-1 1-1 1 0 1 1 1 1 1-3 1-6 1-3 1 2 1 4 1 4 1 2 1 0 1-1 1-3 1-3 1 0 1 2 1 1 1-1 1-1 1 1 1 1 1-1 1-3 1-2 1 3 1 5 1 2 1-1 1-1 1 1 1 1 1 0 1-2 1-4 1-2 1-1 1-3 1-3 1-1 1 1 1 1 1 1 1 3 1 4 1 3 1 1 1-1 1-2 1-2"/><path id="tl47" vector-effect="non-scaling-stroke" d="M-1 46q.5 0 1 0t1 2 1 5 1 4 1-1 1-3 1 0 1 4 1 5 1 1 1-2 1-3 1-4 1-2 1 1 1 3 1 4 1 3 1 0 1-1 1 1 1 0 1-2 1-2 1-1 1-1 1-3 1-3 1-1 1 2 1 4 1 4 1 3 1 0 1-2 1-4 1-4 1 0 1 2 1 3 1 3 1 0 1 0 1 1 1-2 1-4 1-3 1 0 1 3 1 2 1-2 1-4 1-3 1-2 1-3 1-2 1 1 1 2 1 1 1 0 1 1 1 2 1 2 1 2 1 2 1 2 1 1 1 0 1 0 1 0 1-1 1-1 1 2 1 3 1 1 1-1 1-1 1 0 1-2 1-4 1-2 1 1 1 0 1-1 1 1 1 3 1 3 1 2 1 1 1-1 1-1 1 0 1-2 1-4 1-2 1 2 1 4 1 2 1-1 1-1 1 0 1 0 1-1 1-3 1-4 1-4 1-3 1-1 1 1 1 2 1 1 1 0 1 0 1 0 1 2"/><path id="tl48" vector-effect="non-scaling-stroke" d="M-1 51q.5 -1 1-1t1 1 1 2 1 1 1-1 1 0 1 3 1 2 1-1 1-4 1-3 1 2 1 3 1 2 1 0 1-3 1-1 1 3 1 1 1-2 1-1 1 1 1 1 1-2 1-4 1-2 1 0 1 0 1 1 1 1 1-1 1-2 1 0 1 2 1 2 1 3 1 2 1-1 1-4 1-6 1-4 1 1 1 4 1 2 1-2 1-4 1-3 1 0 1 4 1 7 1 5 1-2 1-3 1 1 1 3 1 3 1-1 1-1 1 1 1-3 1-3 1 2 1 4 1 2 1-2 1-4 1-1 1 3 1 3 1 0 1-3 1-7 1-6 1-1 1-1 1-3 1-1 1 3 1 2 1 0 1 1 1 1 1-1 1 1 1 6 1 6 1 0 1-3 1 1 1 4 1 2 1-2 1-5 1-4 1 0 1 2 1 0 1-2 1 1 1 3 1 1 1-1 1-2 1-2 1-1 1 1 1 2 1 2 1 2 1 1 1 0 1-1 1-2 1-1 1 1"/><path id="tl49" vector-effect="non-scaling-stroke" d="M-1 51q.5 1 1 1t1 0 1-1 1-4 1-5 1-2 1 1 1 2 1 3 1 4 1 2 1-1 1 0 1 2 1 0 1-2 1-2 1-2 1-1 1 0 1 0 1-1 1-1 1 2 1 3 1-1 1-5 1-5 1-3 1-2 1-1 1 2 1 5 1 5 1 2 1-1 1-2 1-1 1 1 1 3 1 2 1-1 1-4 1-6 1-4 1 1 1 5 1 7 1 6 1 1 1-3 1-5 1-3 1 3 1 6 1 2 1-3 1-3 1-1 1 0 1-1 1-1 1 1 1 1 1 0 1-1 1-1 1-1 1-2 1-1 1-1 1-3 1-4 1-3 1 0 1 3 1 4 1 4 1 4 1 2 1-3 1-5 1-2 1 1 1 3 1 5 1 5 1 2 1-1 1-2 1 1 1 3 1 0 1-2 1-3 1-1 1 3 1 1 1-1 1 1 1-1 1-4 1-2 1 1 1 2 1 1 1 1 1 1 1-1 1-1 1 2 1 2 1 0 1 0 1 0"/><path id="tl50" vector-effect="non-scaling-stroke" d="M-1 40q.5 -4 1-7t1-1 1 7 1 7 1 1 1-2 1 0 1 2 1 0 1-1 1 1 1 0 1-2 1 0 1 1 1-2 1-6 1-6 1-2 1 2 1 5 1 6 1 4 1 0 1-2 1 0 1 2 1 0 1-4 1-5 1-2 1 1 1 3 1 4 1 3 1-1 1-6 1-6 1-2 1 0 1 1 1 3 1 4 1 3 1 0 1-2 1-3 1 0 1 5 1 5 1 1 1-1 1 0 1 0 1 0 1-1 1-3 1-2 1 1 1 2 1 1 1-1 1-4 1-3 1 1 1 2 1 3 1 3 1 0 1-1 1 1 1 1 1 0 1-1 1-2 1 0 1 1 1-3 1-4 1 0 1 2 1 2 1 1 1 0 1-1 1-3 1-3 1 0 1 1 1-3 1-4 1 3 1 8 1 2 1-2 1 1 1 2 1 2 1-2 1-6 1-4 1 0 1 2 1 3 1 4 1 2 1-2 1-2 1 2 1 3 1 1 1-2 1-6 1-7 1-3"/><path id="tl51" vector-effect="non-scaling-stroke" d="M-1 41q.5 0 1-1t1-1 1 0 1-1 1-4 1-5 1 0 1 5 1 5 1 2 1-1 1 0 1 2 1 1 1 0 1-2 1-3 1 0 1 2 1-1 1-5 1-4 1 2 1 6 1 3 1-2 1-3 1-1 1 0 1 0 1 0 1-1 1-2 1-2 1-2 1-1 1 2 1 5 1 4 1 2 1 2 1 0 1-2 1-4 1-4 1-1 1-1 1-2 1-1 1 1 1 4 1 6 1 3 1 0 1-1 1-2 1 1 1 3 1-1 1-3 1-1 1 0 1-1 1-1 1 2 1 4 1 2 1-3 1-5 1-1 1 3 1 2 1-1 1-1 1 1 1 2 1 0 1-2 1-1 1 1 1 2 1 0 1-5 1-8 1-4 1 1 1 1 1-1 1 0 1 4 1 6 1 5 1 2 1-1 1-1 1 1 1 1 1-1 1-1 1 1 1 2 1 1 1-1 1-2 1-2 1-2 1-2 1 0 1 2 1 1 1 1 1 2 1 1 1-1 1-1"/><path id="tl52" vector-effect="non-scaling-stroke" d="M-1 35q.5 -2 1-4t1-3 1 0 1 2 1 2 1 2 1 2 1 1 1-1 1-1 1 0 1-1 1-1 1 1 1 0 1-1 1 2 1 3 1 0 1-2 1-1 1 1 1-2 1-4 1 0 1 2 1 0 1-3 1-2 1 1 1 3 1 3 1 1 1 0 1-2 1-5 1-5 1-3 1-2 1-1 1 0 1 1 1 1 1 0 1 2 1 7 1 8 1 2 1-3 1-2 1 1 1 1 1-1 1 0 1 2 1 1 1 0 1 0 1 0 1-1 1-2 1-2 1-2 1-2 1-2 1 0 1 4 1 5 1 0 1-3 1-2 1 0 1 3 1 1 1-4 1-4 1-1 1 0 1 0 1 1 1 2 1 3 1 3 1 0 1-4 1-6 1-3 1 2 1 3 1 1 1-1 1-3 1-1 1 5 1 7 1 3 1 0 1 1 1 1 1-1 1-2 1-1 1-1 1-2 1-1 1 1 1 1 1-1 1-2 1 0 1 3 1 2 1-1 1-3 1-3"/><path id="tl53" vector-effect="non-scaling-stroke" d="M-1 27q.5 0 1 1t1 1 1 0 1-1 1-1 1 0 1 0 1 0 1 2 1 3 1 1 1-1 1-1 1 0 1-3 1-4 1-1 1 0 1-1 1-1 1 1 1 3 1 3 1 1 1-1 1-3 1-3 1 0 1 4 1 5 1 2 1 0 1 0 1-1 1-2 1 0 1 2 1 0 1-2 1-4 1-4 1 1 1 5 1 2 1-4 1-6 1-5 1-2 1 3 1 7 1 5 1 0 1-3 1-4 1-3 1 1 1 4 1 4 1 3 1 1 1 0 1 0 1 1 1 1 1-2 1-5 1-4 1 0 1 1 1-1 1-1 1 3 1 6 1 3 1-1 1 0 1 1 1-2 1-3 1-2 1-4 1-6 1-5 1-1 1 5 1 8 1 7 1 2 1-3 1-3 1 0 1 1 1-1 1-1 1 2 1 2 1-1 1 0 1 3 1 2 1 0 1 0 1 0 1-1 1-2 1-1 1 0 1 1 1 2 1 1 1-1 1-2 1-2 1 0 1 2"/><path id="tl54" vector-effect="non-scaling-stroke" d="M-1 25q.5 0 1 0t1 1 1 2 1 0 1-3 1-2 1 0 1 0 1 1 1 2 1 1 1 0 1 0 1 0 1-2 1-4 1-3 1 1 1 5 1 2 1-3 1-2 1 2 1 3 1 0 1 0 1 2 1 0 1-1 1 0 1-1 1-2 1-2 1-1 1 0 1 0 1-1 1-1 1 1 1 2 1 2 1 2 1 1 1-1 1 0 1 1 1-2 1-3 1 0 1 2 1 2 1 0 1-2 1 0 1 1 1-3 1-5 1-2 1-1 1-3 1-5 1-3 1 3 1 7 1 7 1 5 1 3 1 1 1 0 1 0 1-1 1-3 1-3 1 1 1 3 1-2 1-4 1 0 1 2 1 0 1-4 1-3 1 2 1 4 1 4 1 2 1-1 1-1 1 0 1 0 1 0 1 1 1 1 1-1 1-1 1-1 1-2 1 0 1 3 1 2 1 0 1 0 1 0 1 0 1-1 1-4 1-4 1 2 1 5 1 1 1 0 1 1 1-1 1-1 1 1"/><path id="tl55" vector-effect="non-scaling-stroke" d="M-1 17q.5 -1 1-2t1 1 1 4 1 2 1 0 1-2 1-3 1 0 1 2 1 0 1-1 1 1 1 0 1-2 1-1 1 1 1 2 1 2 1 1 1-1 1-3 1-1 1 3 1 2 1 0 1 0 1 0 1 0 1-1 1-2 1-1 1 1 1 1 1 0 1 1 1-2 1-3 1 2 1 4 1 2 1 0 1-1 1-2 1-2 1-2 1-2 1 0 1 3 1 3 1-1 1-4 1-3 1-1 1 2 1 3 1 1 1 1 1 2 1 0 1-1 1 0 1 1 1 1 1 0 1 0 1 0 1-1 1-2 1-3 1-5 1-5 1-1 1 3 1 3 1-1 1-4 1-1 1 5 1 7 1 3 1-1 1-2 1-2 1-2 1 0 1 2 1 2 1 3 1 3 1-1 1-3 1-1 1 0 1 0 1 0 1 1 1 0 1-3 1-3 1-1 1 1 1 1 1 0 1 1 1 2 1 1 1 0 1 0 1 0 1 0 1 0 1 0 1-1 1-2 1 0"/><path id="tl56" vector-effect="non-scaling-stroke" d="M-1 16q.5 0 1 0t1-1 1-2 1-2 1-1 1 1 1 3 1 3 1 1 1 0 1 0 1 0 1-1 1-3 1-2 1 2 1 3 1 0 1-3 1-3 1 0 1 3 1 3 1 1 1 0 1-1 1-2 1-4 1-6 1-2 1 4 1 6 1 4 1 1 1 0 1-2 1-4 1-2 1 2 1 4 1 2 1-3 1-7 1-5 1 1 1 5 1 4 1 2 1 2 1 1 1 0 1 0 1 0 1 0 1-1 1-4 1-5 1-2 1 1 1 3 1 4 1 0 1-5 1-6 1-5 1-1 1 5 1 7 1 1 1-5 1-5 1-1 1 3 1 3 1 0 1-1 1 3 1 5 1 2 1 0 1 1 1 2 1 0 1-2 1-4 1-3 1 3 1 5 1 2 1 0 1-2 1-4 1-2 1 2 1 3 1 1 1-1 1-3 1-4 1-3 1-1 1 2 1 4 1 3 1 2 1 1 1 0 1-1 1-2 1-1 1 1 1 2 1 1 1 0 1-1"/><path id="tl57" vector-effect="non-scaling-stroke" d="M-1 13q.5 -2 1-5t1-5 1-2 1 3 1 6 1 4 1 0 1-3 1-3 1 0 1 2 1 0 1-2 1 0 1 1 1 1 1 2 1 0 1-1 1 0 1 0 1 1 1 1 1-1 1-3 1-6 1-7 1-4 1 0 1 3 1 4 1 4 1 4 1 4 1 1 1-1 1-4 1-6 1-3 1-2 1 0 1 1 1-1 1 0 1 3 1 4 1 2 1-1 1-2 1 0 1 4 1 5 1 2 1 0 1-1 1-1 1 0 1-1 1-2 1-2 1-1 1 0 1 0 1-1 1 0 1 3 1 2 1 0 1 1 1-2 1-4 1-1 1 0 1 2 1 4 1 3 1 1 1 0 1 0 1 0 1-1 1-4 1-6 1-3 1 2 1 3 1 2 1 2 1 2 1 2 1 1 1 0 1 0 1 0 1-1 1-2 1-2 1-1 1-1 1-2 1-2 1 1 1 4 1 2 1-2 1-3 1-1 1 0 1 1 1 3 1 4 1 2 1-1 1-4 1-6"/><path id="tl58" vector-effect="non-scaling-stroke" d="M-1 9q.5 -3 1-5t1-1 1 3 1 2 1-1 1-2 1-2 1-3 1-2 1 2 1 4 1 2 1-1 1-1 1 0 1-2 1-4 1-2 1 3 1 6 1 3 1-2 1-4 1-2 1 0 1 0 1-2 1-2 1 2 1 5 1 4 1 1 1 0 1 0 1 0 1-2 1-4 1-2 1 1 1 1 1-1 1 0 1 3 1 3 1-1 1-3 1-1 1 2 1 3 1 0 1-1 1-2 1-6 1-7 1-1 1 5 1 6 1 4 1 0 1-3 1-3 1 0 1 2 1 2 1 2 1-1 1-5 1-2 1 5 1 6 1 1 1-3 1-3 1 1 1 3 1-1 1-4 1-2 1 0 1 0 1-1 1-2 1 0 1 1 1 0 1 0 1 2 1 4 1 2 1-3 1-5 1-2 1 3 1 5 1 1 1-3 1-3 1-1 1 0 1 2 1 4 1 1 1-2 1-1 1 1 1 2 1 0 1-3 1-3 1 0 1 3 1 3 1 1 1-2 1-3"/><path id="tl59" vector-effect="non-scaling-stroke" d="M-1 -6q.5 -2 1-4t1-2 1 3 1 6 1 3 1-2 1-4 1-2 1 2 1 4 1 3 1 1 1-1 1-1 1 1 1 0 1-3 1-3 1-1 1 1 1 3 1 3 1 1 1-2 1-4 1-3 1-1 1 2 1 5 1 3 1-1 1 0 1 1 1-1 1-1 1 0 1-1 1-1 1 1 1 1 1 0 1 1 1 1 1 0 1 0 1 0 1-1 1-1 1 0 1 0 1-2 1-4 1-2 1 2 1 4 1 3 1-1 1-4 1-2 1 1 1 1 1 1 1 3 1 3 1 0 1-1 1 0 1 0 1-4 1-8 1-5 1 0 1 2 1 2 1 3 1 3 1 2 1 1 1 0 1 0 1 0 1 0 1 0 1 0 1 0 1 1 1 2 1 1 1 0 1 0 1-2 1-2 1-1 1-2 1-2 1-1 1 0 1 1 1 4 1 4 1 1 1 0 1 0 1 1 1-1 1-3 1-1 1 1 1 2 1 1 1-2 1-3 1-3 1-4 1-3"/><use href="#tl0" y="-300"/><use href="#tl1" y="-300"/><use href="#tl54" y="300"/><use href="#tl56" y="300"/><use href="#tl57" y="300"/><use href="#tl58" y="300"/><use href="#tl59" y="300"/></g></pattern><pattern id="wA1" href="#wt" patternTransform="translate(984.6 453.53) scale(1 0.99978)"/><filter id="jA1" filterUnits="userSpaceOnUse" x="219" y="158.6" width="542.2" height="423.4" color-interpolation-filters="sRGB"><feTurbulence type="fractalNoise" baseFrequency="0.04 0.25" numOctaves="2" seed="7" result="t"/><feColorMatrix in="t" type="matrix" values="1 0 0 0 0 1 0 0 0 0 1 0 0 0 0 0 0 0 0 1" result="n"/><feComposite in="SourceGraphic" in2="n" operator="arithmetic" k1="0" k2="1" k3="0.38" k4="-0.190" result="s"/><feComponentTransfer in="s"><feFuncR type="table" tableValues="0 0 0 0 .5 1 1 1 .5"/><feFuncG type="table" tableValues="0 0 .5 1 1 1 .5 0 0"/><feFuncB type="table" tableValues=".5 1 1 1 .5 0 0 0 0"/><feFuncA type="table" tableValues="1 1"/></feComponentTransfer></filter><filter id="bA10" x="-20%" y="-5%" width="140%" height="110%"><feGaussianBlur stdDeviation="5 1"/></filter><filter id="bA11" x="-20%" y="-5%" width="140%" height="110%"><feGaussianBlur stdDeviation="5 1"/></filter><filter id="bA12" x="-20%" y="-5%" width="140%" height="110%"><feGaussianBlur stdDeviation="6 1"/></filter><filter id="bA13" x="-20%" y="-5%" width="140%" height="110%"><feGaussianBlur stdDeviation="3 1"/></filter><filter id="bA14" x="-20%" y="-5%" width="140%" height="110%"><feGaussianBlur stdDeviation="3 1"/></filter><filter id="bA15" x="-20%" y="-5%" width="140%" height="110%"><feGaussianBlur stdDeviation="2 1"/></filter><filter id="bA16" x="-20%" y="-5%" width="140%" height="110%"><feGaussianBlur stdDeviation="2 1"/></filter><filter id="bA17" x="-20%" y="-5%" width="140%" height="110%"><feGaussianBlur stdDeviation="1.6 .6"/></filter><filter id="bA18" x="-20%" y="-5%" width="140%" height="110%"><feGaussianBlur stdDeviation="1.6 .6"/></filter><filter id="bA19" x="-20%" y="-5%" width="140%" height="110%"><feGaussianBlur stdDeviation="1.6 .6"/></filter><filter id="bA110" x="-20%" y="-5%" width="140%" height="110%"><feGaussianBlur stdDeviation="1.6 .6"/></filter><pattern id="wA2" href="#wt" patternTransform="translate(987.5 1113.23) scale(1 1.00581)"/><filter id="jA2" filterUnits="userSpaceOnUse" x="216.1" y="793.7" width="542.3" height="459.7" color-interpolation-filters="sRGB"><feTurbulence type="fractalNoise" baseFrequency="0.08 0.3" numOctaves="2" seed="11" result="t"/><feColorMatrix in="t" type="matrix" values="1 0 0 0 0 1 0 0 0 0 1 0 0 0 0 0 0 0 0 1" result="n"/><feComposite in="SourceGraphic" in2="n" operator="arithmetic" k1="0" k2="1" k3="0.36" k4="-0.180" result="s"/><feComponentTransfer in="s"><feFuncR type="table" tableValues="0 0 0 0 .5 1 1 1 .5"/><feFuncG type="table" tableValues="0 0 .5 1 1 1 .5 0 0"/><feFuncB type="table" tableValues=".5 1 1 1 .5 0 0 0 0"/><feFuncA type="table" tableValues="1 1"/></feComponentTransfer></filter><filter id="bA20" x="-20%" y="-5%" width="140%" height="110%"><feGaussianBlur stdDeviation="4 1"/></filter><filter id="bA21" x="-20%" y="-5%" width="140%" height="110%"><feGaussianBlur stdDeviation="4 1"/></filter><filter id="bA22" x="-20%" y="-5%" width="140%" height="110%"><feGaussianBlur stdDeviation="3 1"/></filter><filter id="bA23" x="-20%" y="-5%" width="140%" height="110%"><feGaussianBlur stdDeviation="1.4 .6"/></filter><filter id="bA24" x="-20%" y="-5%" width="140%" height="110%"><feGaussianBlur stdDeviation="1.4 .6"/></filter><filter id="bA25" x="-20%" y="-5%" width="140%" height="110%"><feGaussianBlur stdDeviation="1.4 .6"/></filter><filter id="bA26" x="-20%" y="-5%" width="140%" height="110%"><feGaussianBlur stdDeviation="1.4 .6"/></filter><pattern id="wB1" href="#wt" patternTransform="translate(987.5 1927.50) scale(1 0.99799)"/><filter id="jB1" filterUnits="userSpaceOnUse" x="205.3" y="1628.9" width="544.4" height="458.5" color-interpolation-filters="sRGB"><feTurbulence type="fractalNoise" baseFrequency="0.1 0.35" numOctaves="2" seed="23" result="t"/><feColorMatrix in="t" type="matrix" values="1 0 0 0 0 1 0 0 0 0 1 0 0 0 0 0 0 0 0 1" result="n"/><feComposite in="SourceGraphic" in2="n" operator="arithmetic" k1="0" k2="1" k3="0.32" k4="-0.160" result="s"/><feComponentTransfer in="s"><feFuncR type="table" tableValues="0 0 0 0 .5 1 1 1 .5"/><feFuncG type="table" tableValues="0 0 .5 1 1 1 .5 0 0"/><feFuncB type="table" tableValues=".5 1 1 1 .5 0 0 0 0"/><feFuncA type="table" tableValues="1 1"/></feComponentTransfer></filter><filter id="bB10" x="-20%" y="-5%" width="140%" height="110%"><feGaussianBlur stdDeviation="4 1"/></filter><filter id="bB11" x="-20%" y="-5%" width="140%" height="110%"><feGaussianBlur stdDeviation="2.5 1"/></filter><filter id="bB12" x="-20%" y="-5%" width="140%" height="110%"><feGaussianBlur stdDeviation="4 1"/></filter><filter id="bB13" x="-20%" y="-5%" width="140%" height="110%"><feGaussianBlur stdDeviation="4 1"/></filter><filter id="bB14" x="-20%" y="-5%" width="140%" height="110%"><feGaussianBlur stdDeviation="2 1"/></filter><filter id="bB15" x="-20%" y="-5%" width="140%" height="110%"><feGaussianBlur stdDeviation="2 1"/></filter><filter id="bB16" x="-20%" y="-5%" width="140%" height="110%"><feGaussianBlur stdDeviation="1.3 .6"/></filter><filter id="bB17" x="-20%" y="-5%" width="140%" height="110%"><feGaussianBlur stdDeviation="1.3 .6"/></filter><pattern id="wB2" href="#wt" patternTransform="translate(979 2607.44) scale(1 0.93108)"/><filter id="jB2" filterUnits="userSpaceOnUse" x="213.4" y="2276" width="547.5" height="426" color-interpolation-filters="sRGB"><feTurbulence type="fractalNoise" baseFrequency="0.06 0.3" numOctaves="2" seed="31" result="t"/><feColorMatrix in="t" type="matrix" values="1 0 0 0 0 1 0 0 0 0 1 0 0 0 0 0 0 0 0 1" result="n"/><feComposite in="SourceGraphic" in2="n" operator="arithmetic" k1="0" k2="1" k3="0.32" k4="-0.160" result="s"/><feComponentTransfer in="s"><feFuncR type="table" tableValues="0 0 0 0 .5 1 1 1 .5"/><feFuncG type="table" tableValues="0 0 .5 1 1 1 .5 0 0"/><feFuncB type="table" tableValues=".5 1 1 1 .5 0 0 0 0"/><feFuncA type="table" tableValues="1 1"/></feComponentTransfer></filter><filter id="bB20" x="-20%" y="-5%" width="140%" height="110%"><feGaussianBlur stdDeviation="4 1"/></filter><filter id="bB21" x="-20%" y="-5%" width="140%" height="110%"><feGaussianBlur stdDeviation="2.5 1"/></filter><filter id="bB22" x="-20%" y="-5%" width="140%" height="110%"><feGaussianBlur stdDeviation="3 1"/></filter><filter id="bB23" x="-20%" y="-5%" width="140%" height="110%"><feGaussianBlur stdDeviation="4 1"/></filter><filter id="bB24" x="-20%" y="-5%" width="140%" height="110%"><feGaussianBlur stdDeviation="2 1"/></filter><filter id="bB25" x="-20%" y="-5%" width="140%" height="110%"><feGaussianBlur stdDeviation="1.4 .6"/></filter><filter id="bB26" x="-20%" y="-5%" width="140%" height="110%"><feGaussianBlur stdDeviation="1.4 .6"/></filter></defs><rect x="895.5" y="48.5" width="1320" height="618.3" fill="none" stroke="#404040" stroke-width="3.4" stroke-dasharray="12 10.3"/><path d="M984.6 603.5H2118.6M984.6 603.5v28.5M1173.6 603.5v28.5M1362.6 603.5v28.5M1551.6 603.5v28.5M1740.6 603.5v28.5M1929.6 603.5v28.5M2118.6 603.5v28.5M984.6 603.5h-28M984.6 555.5h-28M984.6 507.5h-28M2118.6 603.5h28.5M2118.6 566.2h28.5M2118.6 528.9h28.5M2118.6 491.6h28.5M2118.6 454.4h28.5M2118.6 417.1h28.5M2118.6 379.8h28.5M2118.6 342.5h28.5M2118.6 305.2h28.5M2118.6 268h28.5M2118.6 230.7h28.5M2118.6 193.4h28.5M2118.6 156.1h28.5" stroke="#8f8f8f" stroke-width="1.6" fill="none"/><clipPath id="cwA1"><path clip-rule="evenodd" d="M964.6 116.6H2138.6V642H964.6ZM1135.1 612L1135.1 569.5L1135.1 539.5L1135.1 509.5L1140.1 479.5L1140.1 449.5L1140.1 419.5L1140.1 389.5L1140.1 359.6L1140.1 329.6L1140.1 299.6L1145.2 269.6L1145.2 239.6L1145.2 209.6L1145.2 179.6L1145.2 146.6L1285.7 146.6L1285.7 179.6L1285.7 209.6L1285.7 239.6L1285.7 269.6L1285.7 299.6L1285.7 329.6L1285.7 359.6L1285.7 389.5L1285.7 419.5L1285.7 449.5L1285.7 479.5L1285.7 509.5L1285.7 539.5L1280.6 569.5L1280.6 612ZM1687.1 612L1687.1 569.5L1687.1 539.5L1692.1 509.5L1692.1 479.5L1692.1 449.5L1692.1 419.5L1692.1 389.5L1692.1 359.6L1692.1 329.6L1692.1 299.6L1692.1 269.6L1697.1 239.6L1697.1 209.6L1697.1 179.6L1697.1 146.6L1837.6 146.6L1837.6 179.6L1837.6 209.6L1837.6 239.6L1837.6 269.6L1837.6 299.6L1837.6 329.6L1837.6 359.6L1837.6 389.5L1832.6 419.5L1832.6 449.5L1832.6 479.5L1832.6 509.5L1832.6 539.5L1832.6 569.5L1832.6 612Z"/></clipPath><rect x="984.6" y="156.6" width="1134" height="445.4" fill="url(#wA1)" clip-path="url(#cwA1)"/><g class="wf" transform="translate(984.6 0) scale(5.0177 .5)"><path d="M0 1193q.5 -3 1-3t1 4 1 7 1 3 1-2 1-6 1-6 1-2 1 3 1 7 1 6 1 1 1-3 1-2 1 1 1 0 1-3 1-1 1 2 1 1 1 0 1 1 1 2 1 2 1 0 1-2 1-2 1-2 1-1 1-1 1-2 1-2 1-4l1-13 1-26 1-35 1-44 1 41 1 37 1 33 1 14q.5 5 1 6t1-3 1-13 1-20 1-19 1-9 1 7 1 13 1 9 1 8 1 6 1 3 1 4 1 6 1 5 1 2 1 1 1 2 1 0 1-2 1-1 1 1 1 2 1 0 1-2 1-1 1 0 1 1 1 1 1-3 1-5 1-2 1 0 1 1 1 3 1 5 1 4 1 0 1-2 1-2 1-1 1 0 1 0 1 1 1 2 1 1 1-1 1-1 1 1 1 1 1 0 1 0 1 0 1-2 1-6 1-6 1 0 1 6 1 6 1 1 1-1 1 0 1-2 1-3 1 0 1 3 1 2 1 0 1 1 1 1 1-3 1-7 1-4 1 4 1 7 1 3 1-2 1-6 1-6 1-2 1 3 1 6 1 5 1 1 1-3 1-1 1 2 1 0 1-3 1-2 1 2 1 2 1 0 1 0 1 1 1 2 1 1 1-2 1-3 1-1 1-1 1-2 1-4l1-9 1-24 1-31 1-38 .4-14 .6 29 1 39 1 30 1 22q.5 8 1 9t1-1 1-1 1 0 1-5 1-7 1-5l1-6 1-14 .6-13 .4 8 1 16 1 12q.5 4 1 3t1-2 1 0 1 4 1 5 1 2 1 1 1 2 1 0 1-2 1-1 1 1 1 2 1 0 1-2 1-1 1 0 1 1 1 1 1-3 1-5 1-2 1 0 1 1 1 3 1 5 1 4 1 0 1-2 1-2 1-1 1 0 1 0 1 1 1 2 1 1 1-1 1-1 1 1 1 1 1 0 1 0 1 0 1-2 1-6 1-6 1 0 1 6 1 6 1 1 1-1 1 0 1-2 1-3 1 0 1 3 1 2 1 0 1 1 1 1 1-3 1-7M0 1199q.5 1 1-1t1-4 1-3 1-1 1 1 1 1 1 0 1 2 1 3 1-1 1-1 1 3 1 2 1 0 1-3 1-7 1-5 1 1 1 5 1 5 1 3 1 0 1-1 1 1 1 0 1-1 1-1 1-4 1-6 1-3 1 3 1 7 1 5 1-5l1-20 1-35 1-42 .8-34 .2 9 1 40 1 34 1 29 1 17q.5 4 1 2t1-5 1-6 1-6 1-4 1-1 1 3 1 7 1 7 1 3 1-2 1-2 1 0 1 0 1 2 1 5 1 5 1 1 1-4 1-5 1-2 1 2 1 3 1 0 1-3 1-4 1-3 1 0 1 3 1 4 1 1 1-3 1-3 1 0 1 2 1 2 1 3 1 3 1 1 1-1 1-2 1-1 1 1 1 2 1 1 1 1 1 1 1-1 1-2 1 0 1 2 1 0 1-2 1 0 1 2 1 1 1-1 1-3 1-4 1-2 1 3 1 5 1 1 1-2 1-2 1-2 1-1 1 0 1-1 1 1 1 4 1 0 1-3 1-2 1-1 1 1 1 1 1 0 1 2 1 3 1-1 1-1 1 3 1 2 1 0 1-3 1-7 1-5 1 1 1 5 1 5 1 3 1 0 1-1 1 1 1 0 1-1 1-1 1-5 1-13l1-24 1-27 1-30 .5-21 .5 25 1 39 1 29 1 17q.5 6 1 7t1 0 1-2 1-1 1 0 1-4l1-12 .9-17 .1 2 1 13 1 10q.5 3 1 2t1-2 1 0 1 4 1 5 1 1 1-3 1-2 1 0 1 0 1 2 1 5 1 5 1 1 1-4 1-5 1-2 1 2 1 3 1 0 1-3 1-4 1-3 1 0 1 3 1 4 1 1 1-3 1-3 1 0 1 2 1 2 1 3 1 3 1 1 1-1 1-2 1-1 1 1 1 2 1 1 1 1 1 1 1-1 1-2 1 0 1 2 1 0 1-2 1 0 1 2 1 1 1-1 1-3 1-4 1-2 1 3 1 5 1 1 1-2 1-2 1-2 1-1 1 0 1-1 1 1 1 4M0 1194q.5 0 1-3t1-5 1-3 1-1 1 1 1 4 1 5 1 1 1-1 1-1 1-4 1-3 1 2 1 5 1 4 1 0 1-2 1 0 1 1 1-3 1-6 1-2 1 3 1 3 1 1 1 1 1 2 1 0 1 0 1 1 1-1 1-6l1-17 1-39 1-44 1-51 .3-16 .7 39 1 49 1 34 1 30 1 15q.5 3 1 1t1-4 1-2 1-1 1-2 1 0 1 2 1 2 1 1 1 1 1 1 1 1 1 1 1-1 1-1 1 2 1 3 1-2 1-2 1 3 1 0 1-2 1 2 1 4 1 1 1-4 1-5 1-3 1-3 1-3 1-1 1 4 1 7 1 0 1-3 1 3 1 5 1 3 1 0 1-1 1 1 1 1 1 0 1-1 1-1 1-1 1-1 1-3 1-7 1-5 1 1 1 4 1 2 1-1 1-1 1 2 1 4 1 4 1 2 1-1 1-1 1 1 1 0 1 0 1 2 1 0 1-4 1-6 1-4 1 2 1 6 1 3 1-3 1-5 1-3 1-1 1 2 1 5 1 5 1 1 1-1 1-1 1-4 1-3 1 2 1 5 1 4 1 0 1-2 1 0 1 1 1-3 1-6 1-2 1 3 1 3 1 1 1 1 1 2 1 0 1 0 1-2l1-11 1-21 1-28 .7-20 .3 7 1 29 1 28 1 12q.5 4 1 3t1-4 1-2 1 1 1-7l1-25 1-39 .4-15 .6 24 1 30 1 21q.5 7 1 9t1 2 1 0 1 0 1 1 1 1 1 0 1 0 1 0 1 2 1 3 1-2 1-2 1 3 1-1 1-3 1 2 1 4 1 1 1-4 1-5 1-3 1-2 1-3 1-1 1 5 1 7 1 0 1-3 1 3 1 5 1 2 1-1 1-1 1 1 1 1 1 0 1 0 1 0 1-1 1-1 1-3 1-8 1-5 1 2 1 4 1 2 1-1 1-1 1 1 1 3 1 4 1 3 1 0 1-1 1 1 1-1 1-1 1 2 1 0 1-3 1-5 1-4 1 1 1 5 1 3M29 1170q.5 1 1 4t1 5 1 4 1 1l1-8 1-24 1-29 1-31 .1-2 .9 31 1 30 1 21 1 14q.5 5 1 6t1 0 1-2 1-2 1-2 1-1 1-1 1 0 1 2 1 0 1 0 1 2 1 1 1 0 1-2 1-2 1 2 1 3 1 0M139 1186q.5 -3 1-7t1-6 1-3l1-5 1-16 1-24 1-30 .2-4 .8 27 1 25 1 19 1 14q.5 6 1 9t1 5 1 2 1 0 1 0 1-1 1-1 1-2 1-6l1-9 .9-12 .1 1 1 11 1 12q.5 4 1 4t1 0 1 0 1 0 1 0 1-2 1-2M29 1177q.5 0 1 0t1-1 1-3 1-6l1-14 1-32 1-48 1-55 1 55 1 49 1 33 1 22q.5 8 1 9t1-1 1-3 1-7 1-16 1-20 1-16 1-1 1 14 1 16 1 11 1 5 1 0 1-1 1 0 1 1 1 2 1 2 1 1M139 1177q.5 1 1 1t1 0 1-1 1-1 1-1 1-5l1-13 1-15 1-20 .8-22 .2 5 1 26 1 25 1 22q.5 7 1 7t1 0 1 0 1-1 1-1 1-1 1-4 1-6l1-11 1-22 .8-19 .2 4 1 30 1 21 1 8q.5 0 1-4t1-7 1-4 1 0M29 1166q.5 -3 1-4t1 0 1 1 1-2 1-7l1-15 1-20 1-24 .5-17 .5 17 1 28 1 28 1 19 1 9q.5 0 1-4t1-8 1-8 1-4 1 2 1 5 1 5 1 1 1-2 1-1 1 0 1-2 1-3 1-1 1 1 1 3 1 3 1 4M139 1179q.5 -1 1-3t1-4 1-5 1-5 1-6l1-13 1-22 1-28 .3-7 .7 21 1 30 1 27 1 11q.5 3 1 3t1 1 1 1 1 0 1 0 1 0 1 0 1 0 1-1 1-1 1-4l1-21 1-37 .5-19 .5 16 1 27 1 17q.5 5 1 5t1-1 1 0M29 1170q.5 -2 1-4t1-5 1-5 1 0 1 4l1-1 1-25 1-38 1-52 .5-30 .5 23 1 44 1 35 1 28 1 19q.5 5 1 3t1-5 1-5 1-2 1 2 1 4 1 3 1 0 1-2 1 0 1 4 1 6 1 3 1-1 1-2 1-1 1 0M139 1176q.5 0 1 0t1-2 1-4 1-4 1-9l1-21 1-29 1-34 1-39 1 51 1 44 1 29 1 17q.5 3 1-1t1-7 1-4 1-2l1-6 1-33 1-47 .1-3 .9 38 1 35 1 22q.5 6 1 5t1-3 1-4 1-2 1 2 1 5 1 3 1-1M29 1170q.5 1 1 0t1-3 1-3 1 0 1 1 1-5l1-13 1-18 1-29 .3-9 .7 16 1 26 1 15 1 11q.5 4 1 5t1-1 1-7 1-11 1-7 1 3 1 8 1 5 1 1 1 3 1 5 1 3 1 2 1 1 1-3 1-4 1-1 1 0M139 1161q.5 -2 1-1t1 4 1 4 1-3l1-14 1-20 1-20 .8-17 .2 6 1 26 1 21 1 17q.5 5 1 5t1 0 1 0 1-2 1-2 1 1 1 0l1-8 1-23 .5-12 .5 7 1 19 1 14q.5 5 1 5t1-2 1-1 1 2 1 1 1 0 1 0 1-3M29 1164q.5 0 1 0t1 0 1 0 1-4l1-14 1-21 1-28 1-46 .1-3 .9 29 1 33 1 26 1 16q.5 5 1 6t1 0 1-1 1 1 1 2 1 0 1 0 1 2 1 0 1-3 1-4 1-3 1-1 1 0 1 1 1 1 1 1 1 3 1 4M139 1165q.5 1 1 1t1-1 1-1 1 0 1-3l1-9 1-27 1-39 1-42 .3-11 .7 35 1 32 1 28 1 23q.5 7 1 8t1 1 1 0 1 0 1 1 1 2 1 1 1-4l1-11 1-12 .3-6 .7 10 1 8 1 3q.5 1 1 1t1 0 1 0 1 1 1 1M29 1157q.5 1 1 1t1-2 1-6 1-11l1-19 1-34 1-49 .6-36 .4 19 1 45 1 41 1 35 1 16q.5 4 1 3t1-1 1-4 1-9 1-10 1-13 1-12 1-2 1 6 1 10 1 12 1 9 1 5 1 4 1 2 1-1 1-2 1 0 1 3M139 1151q.5 4 1 6t1 1 1-1 1 0 1-6l1-19 1-26 1-30 .9-31 .1 4 1 41 1 28 1 21 1 14q.5 5 1 6t1 0 1-1 1-2l1-9 1-18 .6-10 .4 9 1 17 1 6q.5 0 1-2t1-2 1 2 1 4 1 3 1 1 1 0 1 0 1-1M29 1144q.5 3 1 6t1 5 1 2 1-1 1-2 1-3l1-9 1-27 1-26 1-40 .1-5 .9 23 1 26 1 23 1 23q.5 9 1 12t1-1 1-10 1-15 1-14 1-2 1 8 1 8 1 5 1 2 1 1 1 4 1 6 1 3 1-1 1 0 1 2M139 1147q.5 -3 1-5t1-2 1 1l1 0 1-12 1-22 1-28 .1-1 .9 23 1 23 1 19 1 5q.5 2 1 3t1-2 1-6 1-4 1 0 1 5 1 7 1 1l1-8 1-19 .4-10 .6 7 1 12 1 10q.5 3 1 3t1-1 1-3 1-3 1 0 1 3 1 2M29 1141q.5 -2 1-3t1 1 1 5 1 1l1-10 1-33 1-48 1-63 .4-27 .6 33 1 51 1 46 1 36 1 17q.5 5 1 4t1-1 1-1 1-1 1 1 1 0 1-2 1-1 1 0 1 0 1 0 1 1 1 2 1-1 1-3 1-2 1-1 1-1M139 1147q.5 1 1 1t1-2 1-4 1-4 1-4l1-8 1-18 1-27 .6-15 .4 12 1 27 1 18 1 11q.5 4 1 5t1 2 1 2 1-3l1-15 1-28 .3-9 .7 20 1 22 1 17q.5 4 1 3t1-2 1-1 1 0 1 0 1 0 1 1 1 1 1-1 1-3M29 1136q.5 0 1 0t1 1 1 3 1 1l1-7 1-24 1-30 .9-23 .1 2 1 32 1 22 1 14 1 12q.5 4 1 2t1-8 1-15 1-17 1-10 1 4 1 12 1 10 1 6 1 3 1 3 1 5 1 4 1 1 1-1 1 0 1 3 1 2 1-1M139 1141q.5 1 1 0t1-3 1-4l1-7 1-26 1-34 1-44 .4-21 .6 28 1 40 1 30 1 28q.5 10 1 13t1 2 1-2 1-2l1-5 1-22 .9-26 .1 2 1 21 1 17 1 10q.5 3 1 4t1 1 1-1 1-3 1-2 1 1 1 2 1 1 1-1 1 0M29 1136q.5 0 1 1t1 2 1 1 1-2l1-9 1-31 1-41 1-47 .4-20 .6 29 1 47 1 34 1 24 1 13q.5 4 1 4t1 0 1 0 1-1 1-1 1-1 1-3 1-1 1 2 1 1 1-2 1-3 1-2 1-2 1-2 1-2 1-1 1 2M139 1137q.5 1 1 2t1-1 1-2 1 0 1-4l1-12 1-20 1-25 .3-8 .7 15 1 20 1 17 1 14q.5 5 1 6t1 0 1-2 1 0 1 1 1 1 1 1 1-1 1-5l1-11 .8-14 .2 1 1 10 1 13q.5 5 1 5t1-3 1-4 1-2 1-1 1-1M29 1129q.5 0 1 0t1 0 1-1 1-3 1-3 1-3l1-10 1-28 1-46 .8-38 .2 6 1 37 1 34 1 27 1 18q.5 6 1 6t1-3 1-7 1-7 1-2 1 3 1 6 1 9 1 8 1 3 1 0 1-1 1-1 1 0 1-3 1-5 1-3M139 1121q.5 3 1 6t1 3 1 0 1 0 1-3l1-14 1-29 1-36 .9-32 .1 3 1 44 1 33 1 14 1 3q.5 1 1 1t1 0 1-2l1-6 .9-9 .1 2 1 15 1 8q.5 2 1 1t1-2 1-1 1 3 1 7 1 5 1 1 1-1 1-1 1 0 1 0M29 1128q.5 1 1 1t1-1 1-3 1-6l1-12 1-14 1-21 1-29 .1-4 .9 21 1 25 1 21 1 15q.5 5 1 7t1 2 1 0 1 0 1 0 1-1 1-1 1-1 1-1 1 0 1 2 1 3 1 0 1-2 1-3 1-4 1-2 1 2 1 3M139 1123q.5 -1 1-1t1 2 1 3 1 1 1-3l1-10 1-21 1-25 1-24 1 26 1 19 1 16 1 13q.5 4 1 5t1 2 1 2 1 1 1 0 1 0 1-2l1-11 1-21 .6-15 .4 7 1 19 1 14q.5 6 1 9t1 3 1-1 1-2 1-3 1-4M29 1126q.5 0 1-2t1-3 1-2 1-7l1-19 1-34 1-48 .8-47 .2 8 1 52 1 42 1 28 1 20q.5 6 1 6t1 0 1 1 1 2 1 1 1 0 1-2 1-4 1-2 1 2 1 3 1-1 1-5 1-2 1 3 1 4 1 2 1-2 1-4M139 1123q.5 -1 1-1t1 1 1 1 1-1 1-3 1-7l1-18 1-33 1-42 .9-44 .1 6 1 50 1 44 1 30 1 12q.5 3 1 2t1-1 1 0 1 1 1 3 1-1l1-10 1-35 .9-41 .1 4 1 34 1 29 1 20q.5 4 1 0t1-7 1-3 1 3 1 5M29 1110q.5 -2 1-3t1 1 1 4 1 2 1-6l1-18 1-29 1-35 .8-29 .2 8 1 38 1 33 1 26 1 13q.5 2 1-1t1-5 1-1 1 3 1 3 1-1 1-4 1-1 1 3 1 4 1 2 1 1 1 1 1-1 1-4 1-6 1-3 1 2M139 1115q.5 -1 1-1t1-1 1-3 1-3 1-4l1-11 1-24 1-35 .7-30 .3 10 1 36 1 30 1 22 1 11q.5 4 1 5t1 1 1-3l1-13 1-18 .6-10 .4 6 1 19 1 12q.5 4 1 3t1-3 1-2 1 2 1 4 1 2 1 1 1 1 1-1 1-4M29 1097q.5 0 1 0t1 1 1 0 1-5l1-14 1-19 1-25 .5-16 .5 14 1 26 1 22 1 18 1 11q.5 3 1 4t1 2 1 0 1-2 1-4 1-4 1-1 1 2 1 4 1 2 1-1 1-2 1-1 1 0 1-1 1-3 1-2 1 2 1 5M139 1098q.5 -1 1-2t1 0 1 1 1 0 1-4l1-15 1-34 1-44 .9-44 .1 4 1 56 1 44 1 31 1 16q.5 5 1 5t1 0 1 1 1-1l1-11 1-23 .6-21 .4 7 1 19 1 17q.5 6 1 9t1 4 1 1 1-2 1-3 1-1 1 0 1-1 1-3M29 1103q.5 1 1 0t1-3 1-2 1 1 1-1l1-9 1-19 1-28 .5-16 .5 8 1 21 1 24 1 24q.5 6 1 4t1-3 1 0 1 1 1 0 1 2 1 2 1-1 1-1 1-3 1-6 1-4 1 1 1 5 1 4 1 2 1 2 1 1 1 0M139 1087q.5 1 1 4t1 6 1 4 1-2l1-10 1-22 1-25 1-31 .2-7 .8 30 1 30 1 21 1 10q.5 2 1 3t1 4 1 5 1-2 1-4 1 1 1-2l1-14 1-25 .5-15 .5 16 1 23 1 18q.5 5 1 3t1-6 1-6 1 0 1 5 1 5 1 3M29 1092q.5 2 1 2t1-1 1-6l1-19 1-32 1-44 1-57 1 50 1 44 1 35 1 21q.5 5 1 3t1-5 1-4 1 0 1 3 1 4 1 2 1 2 1 5 1 5 1 2 1 0 1-2 1-3 1-2 1-3 1-4 1-2 1 1 1 4M139 1092q.5 -2 1-4t1-1 1 4 1 3 1-1 1-3 1-7l1-16 1-25 1-38 .5-23 .5 16 1 38 1 30 1 18q.5 5 1 4t1-3 1-4l1-9 1-20 .5-16 .5 16 1 22 1 18q.5 7 1 10t1 4 1 0 1-2 1-3 1-3 1-2 1-3 1-4M29 1100q.5 1 1-2t1-4 1 1 1 3 1-4l1-14 1-25 1-36 1-43 1 35 1 33 1 24 1 14q.5 4 1 4t1 3 1 6 1 0 1-7 1-9 1-11 1-14 1-12 1 2 1 13 1 12 1 7 1 3 1 2 1 3 1 4 1 5 1 5M139 1100q.5 0 1-4t1-2 1 3 1-5l1-15 1-18 1-20 .8-30 .2 2 1 31 1 26 1 16 1 7q.5 2 1 2t1-1 1-2 1-3 1-2 1 3 1 6 1-1 1-13l1-25 1-37 .2-5 .8 30 1 32 1 21q.5 6 1 6t1-1 1-3 1-4 1-4M29 1079q.5 -3 1-4t1-1 1 1 1 2 1-1l1-9 1-21 1-32 .6-20 .4 12 1 24 1 20 1 13 1 6q.5 1 1 1t1 3 1 7 1 7 1 4 1 1 1 1 1 0 1-3 1-4 1-3 1 0 1 2 1 2 1 2 1 0 1-3 1-4 1-3M139 1093q.5 1 1 0t1-5 1-8 1-9l1-15 1-28 1-34 1-36 1 49 1 39 1 27 1 12q.5 2 1-1t1-6 1-5 1-3 1-1 1 3 1 7 1 7 1 4 1 1 1-3l1-13 1-34 .6-23 .4 11 1 26 1 21q.5 8 1 10t1 3 1 1M29 1089q.5 0 1 1t1 1 1 0 1-1 1-5l1-12 1-22 1-21 1-40 .3-11 .7 18 1 31 1 28 1 18q.5 6 1 7t1-2 1-8 1-14 1-13 1 1 1 10 1 8 1 5 1 5 1 5 1 3 1 2 1 2 1 2 1 1 1-1 1-1 1 1M139 1084q.5 0 1 1t1 2 1 2 1 1 1 0 1-2 1-8l1-19 1-30 1-34 .3-8 .7 25 1 26 1 16 1 16q.5 6 1 8t1 2 1 1 1 3 1 0l1-10 1-14 .2-3 .8 12 1 11 1 6q.5 1 1 0t1-2 1-1 1-1 1-1 1 1 1 2M29 1073q.5 1 1 2t1 2 1-5l1-22 1-44 1-52 .8-48 .2 9 1 55 1 41 1 31 1 26q.5 9 1 12t1 3 1-2 1-5 1-9 1-14 1-17 1-14 1 0 1 11 1 11 1 11 1 11 1 8 1 3 1 0 1 0 1 0 1-1 1-1 1 1M139 1070q.5 0 1 1t1 1 1 1 1 2 1 2 1-5l1-21 1-36 1-41 .6-28 .4 18 1 45 1 29 1 22 1 12q.5 5 1 7t1 2 1-1 1-2 1-2 1-2 1-2 1-3l1-10 1-27 .9-34 .1 2 1 36 1 29 1 16q.5 3 1 1t1-4 1-2M29 1078q.5 2 1 2t1 0 1-2 1-9l1-19 1-32 1-39 .7-30 .3 9 1 41 1 33 1 23 1 12q.5 3 1 3t1 3 1 5 1 1 1-1 1 0 1-2 1-2 1-1 1-1 1 0 1 0 1-1 1-1 1 1 1 2 1 1 1-2 1-4 1-2M139 1077q.5 -2 1-4t1-1 1 3 1 2 1-4l1-13 1-28 1-33 .7-27 .3 8 1 31 1 29 1 23 1 10q.5 2 1 0t1-3 1-1 1 1l1-2 1-33 1-43 1 40 1 26 1 16q.5 4 1 2t1-3 1-1 1 0 1-1 1-1 1 1 1 2M29 1067q.5 -1 1 0t1 3 1 3 1-1 1-2 1-5l1-24 1-41 1-62 .8-49 .2 13 1 59 1 44 1 38 1 21q.5 4 1 1t1-7 1-11 1-7 1 4 1 7 1 5 1 2 1-1 1-1 1 2 1 6 1 7 1 3 1 0 1-1 1-3 1-2M139 1070q.5 1 1 2t1 0 1-3 1-2 1-1l1-5 1-26 1-24 .8-19 .2 7 1 25 1 25 1 11 1 11q.5 3 1 2t1-2 1-1 1-2l1-8 1-23 1-47 1 29 1 29 1 18q.5 5 1 4t1-4 1-5 1-3 1 1 1 6 1 7 1 3M29 1070q.5 -2 1-7t1-10 1-6 1 0 1-2l1-13 1-33 1-41 .9-41 .1 4 1 45 1 38 1 30 1 22q.5 7 1 8t1-1 1-5 1-6 1-5 1-6 1-6 1 0 1 4 1 5 1 5 1 4 1 5 1 6 1 4 1 0 1-3 1-3 1-1M140 1069q.5 0 1 1t1-3l1-16 1-39 1-46 1-46 .3-15 .7 36 1 46 1 33 1 24q.5 7 1 8t1 1 1 1 1 2 1 3 1 3 1-1 1-6l1-10 1-15 .4-8 .6 13 1 16 1 8q.5 2 1 1t1-1 1 0 1 1 1 2 1 3 1 3M29 1061q.5 3 1 3t1 0 1 1 1 1 1-1 1-3l1-7 1-30 1-39 1-44 .4-21 .6 28 1 38 1 38 1 24 1 1q.5 -3 1-9t1-12 1-7 1 3 1 7 1 7 1 8 1 7 1 5 1 3 1 0 1-3 1-4 1-3 1 0 1 3 1 4M140 1048q.5 2 1 5t1 6 1 4 1-1 1-7l1-17 1-31 1-36 .4-15 .6 24 1 31 1 26 1 22q.5 6 1 5t1-2 1 0 1 0 1-6l1-17 1-28 .4-14 .6 18 1 27 1 15q.5 5 1 6t1 1 1 0 1 0 1 0 1-1 1-3 1-4M29 1059q.5 1 1 0t1-2 1-1 1-1l1-5 1-33 1-45 1-53 .5-28 .5 28 1 50 1 41 1 30 1 14q.5 2 1-2t1-6 1-1 1 3 1 1 1-5 1-5 1 1 1 7 1 8 1 3 1-1 1 0 1 2 1 1 1-1 1-2 1-1 1 1M140 1054q.5 0 1 1t1 2 1 0 1-2 1-3l1-6 1-13 1-26 1-30 1 27 1 25 1 17 1 10q.5 3 1 2t1-3 1-5 1-3 1 2 1 2l1-9 1-29 .4-14 .6 9 1 19 1 21q.5 8 1 10t1 1 1-2 1 0 1 2 1 1M29 1046q.5 -1 1-1t1 2 1 3 1-2 1-4 1 0 1-4l1-21 1-39 1-57 .6-38 .4 17 1 52 1 39 1 22 1 13q.5 5 1 9t1 6 1 1 1 0 1 3 1 4 1 1 1-2 1-1 1 1 1 1 1 1 1 2 1-1 1-2 1 2 1 3M140 1049q.5 0 1-1t1-2 1-1 1 1 1-3l1-20 1-35 1-34 .6-23 .4 17 1 42 1 34 1 18 1 6q.5 2 1 3t1 0 1-2 1-1 1 2 1 3 1-2 1-6l1-6 1-8 .1-1 .9 8 1 5q.5 2 1 4t1 3 1 1 1 1 1 2M29 1038q.5 2 1 4t1 2 1-6l1-19 1-35 1-44 .9-44 .1 5 1 48 1 36 1 27 1 25q.5 10 1 13t1 1 1-6 1-5 1-1 1-4 1-11 1-17 1-15 1 0 1 11 1 12 1 12 1 10 1 5 1 2 1 2 1 1 1 0 1-1 1-2M140 1042q.5 -3 1-4t1 0 1-1l1-13 1-35 1-44 .9-41 .1 5 1 47 1 41 1 31 1 11q.5 2 1 1t1 2 1 6 1 1 1-7l1-13 1-16 .6-10 .4 10 1 19 1 10q.5 3 1 2t1-2 1-1 1 1 1 3 1 3 1 0 1-2 1 0M29 1038q.5 -1 1-1t1 0 1-1 1 0 1 1l1-5 1-28 1-40 1-52 .5-31 .5 25 1 49 1 43 1 30 1 15q.5 4 1 2t1-4 1-5 1-6 1-6 1-5 1-1 1 3 1 5 1 6 1 4 1 1 1 0 1-1 1-2 1-2 1-2 1-3M140 1045q.5 0 1-2t1-4 1-7l1-17 1-33 1-38 .8-35 .2 10 1 46 1 37 1 29 1 14q.5 3 1 1t1-2 1 1 1 1 1-1 1-2 1-5l1-15 1-33 .8-33 .2 7 1 40 1 24 1 10q.5 3 1 4t1 2 1 0 1-2 1-3 1-4M29 1033q.5 -4 1-6t1 2 1 6 1-4l1-12 1-26 1-37 1-49 .6-34 .4 21 1 51 1 43 1 27 1 9q.5 1 1 0t1-1 1-2 1-7 1-14 1-17 1-5 1 12 1 16 1 10 1 3 1 3 1 7 1 5 1 0 1-2 1-3 1-5 1-4M140 1040q.5 1 1 0t1-8l1-21 1-23 1-25 1-55 .2-9 .8 35 1 43 1 37 1 24q.5 6 1 4t1-3 1-2 1-6l1-15 1-18 .5-7 .5 8 1 18 1 15q.5 5 1 4t1-5 1-5 1 2 1 6 1 2 1-4 1-3 1 2 1 3 1 0M29 1031q.5 1 1 1t1-1 1-3 1-2 1-1 1-8l1-19 1-25 1-30 .4-15 .6 20 1 31 1 24 1 14 1 5q.5 1 1 2t1 2 1 0 1-1 1 1 1 2 1 3 1 3 1 1 1 0 1-1 1-3 1-3 1-2 1 0 1 4 1 4 1 1M140 1033q.5 -1 1-2t1 0 1 1 1-4l1-16 1-33 1-41 1-51 .1-6 .9 43 1 47 1 39 1 22q.5 6 1 5t1-3 1-6 1-13l1-26 1-37 .2-10 .8 28 1 30 1 22q.5 7 1 8t1 2 1 2 1 1 1 0 1-1 1-3 1-3 1-2M29 1016q.5 1 1 2t1 1 1 0 1 0 1-2l1-11 1-26 1-33 1-37 1 35 1 27 1 24 1 23q.5 8 1 9t1-4 1-8 1-5 1-1 1 4 1 5 1 3 1 1 1 1 1 1 1-2 1-3 1-2 1-1 1-1 1-1 1 1 1 2M140 1021q.5 -3 1-5t1-1 1 2 1 1 1-3l1-12 1-31 1-43 1-53 .1-6 .9 45 1 46 1 34 1 19q.5 5 1 6t1 4 1 3 1-3 1-5 1-2 1-1l1-6 1-24 .5-16 .5 14 1 21 1 18q.5 6 1 6t1-3 1-5 1-3 1-1M29 1006q.5 -3 1-3t1 2 1 4 1 3l1 0 1-26 1-30 1-36 .1-3 .9 32 1 29 1 27 1 10q.5 3 1 3t1 0 1 0 1-2 1-4 1-4 1-3 1 2 1 6 1 3 1-2 1-4 1-1 1 4 1 5 1 3 1 2 1 2 1 0 1-3M140 1022q.5 -2 1-6t1-7 1-4 1-1 1-5l1-17 1-27 1-48 .5-24 .5 26 1 46 1 36 1 25q.5 9 1 10t1-3 1-6 1-7l1-17 1-31 .2-7 .8 22 1 24 1 15q.5 5 1 7t1 3 1 0 1-5 1-7 1-3 1 3 1 5 1 3M29 1005q.5 -3 1-5t1-3 1 0 1 1l1-2 1-12 1-21 1-31 .3-9 .7 20 1 26 1 23 1 19q.5 7 1 9t1 0 1-7 1-11 1-11 1-8 1 0 1 8 1 9 1 6 1 1 1-1 1 1 1 3 1 4 1 2 1 0 1 0 1-1 1-2M140 1017q.5 -2 1-5t1-6 1-6 1-8l1-13 1-22 1-25 .7-19 .3 12 1 38 1 27 1 17q.5 6 1 8t1 2 1 1 1 2 1 0 1-3 1-3 1-1 1-1 1-6l1-14 1-24 1 22 1 14 1 5q.5 1 1 1t1 2 1 3 1 1M29 999q.5 1 1 3t1 3 1 1 1-1 1-1 1 0l1-4 1-14 1-23 .9-28 .1 1 1 22 1 20 1 15 1 8q.5 2 1 1t1 0 1 4 1 4 1-2 1-7 1-4 1 2 1 4 1 5 1 4 1 1 1 1 1 1 1 0 1 0 1-1 1-2M140 1006q.5 -3 1-8l1-12 1-22 1-32 1-44 .1-5 .9 35 1 37 1 32 1 22q.5 7 1 8t1 0 1-3 1-3 1-2 1-2 1-3 1-3 1 0 1 4 1 0l1-13 1-30 1 15 1 16 1 11q.5 4 1 7t1 4 1 0 1-1 1 0M29 995q.5 3 1 7t1 5 1 0 1 0 1 2 1-4l1-17 1-35 1-49 1-56 1 46 1 44 1 32 1 18q.5 5 1 3t1-5 1-4 1-1 1 1 1 3 1 5 1 5 1 3 1 3 1 3 1-2 1-7 1-6 1-1 1 5 1 8 1 6M140 996q.5 -2 1-2t1 2 1 6 1 5 1 0 1-3l1-8 1-23 1-29 .9-28 .1 3 1 29 1 24 1 19 1 11q.5 3 1 2t1-1 1 0 1-3l1-14 1-38 .7-34 .3 11 1 35 1 28 1 11q.5 3 1 3t1 1 1 1 1-3 1-7 1-6M29 986q.5 1 1 3t1 3 1 0 1-1 1-1l1-5 1-23 1-38 1-50 .3-16 .7 28 1 44 1 34 1 21 1 10q.5 3 1 3t1-2 1-4 1-2 1 2 1 4 1 3 1 1 1 1 1 2 1 1 1 0 1 0 1 0 1-3 1-5 1-1 1 3M140 988q.5 -1 1-2t1 0 1 3 1-2l1-16 1-29 1-36 .8-32 .2 9 1 46 1 33 1 20 1 11q.5 4 1 5t1 1 1-1 1-1 1-1 1-5l1-13 .9-13 .1 0 1 14 1 12q.5 5 1 7t1 2 1 1 1 2 1 1 1 0 1 0 1 0M29 1000q.5 0 1-2t1-4 1-3 1-1 1-5l1-19 1-34 1-36 .5-14 .5 20 1 38 1 27 1 19 1 14q.5 3 1 1t1-3 1 0 1 1 1-1 1-1 1 0 1-1 1-3 1-3 1 0 1 4 1 4 1-1 1-1 1 1 1-2 1-1 1 2M140 994q.5 0 1 2t1 3 1-1 1-5 1-9l1-14 1-22 1-32 .5-20 .5 12 1 28 1 30 1 23q.5 8 1 9t1 1 1 0 1-1 1-1 1 0 1-3l1-13 1-15 1 15 1 9q.5 3 1 2t1-2 1 0 1 4 1 4 1-1 1-1M29 994q.5 0 1 0t1 0 1-1 1-3 1-4 1-6l1-12 1-19 1-32 .9-41 .1 2 1 32 1 30 1 28 1 21q.5 6 1 5t1-3 1-4 1-4 1-3 1-1 1 1 1 3 1 3 1 2 1 2 1 2 1 1 1 0 1 1 1 1 1 0 1 0M140 995q.5 0 1-1t1-1 1 0 1-5l1-21 1-37 1-48 .8-43 .2 11 1 51 1 47 1 30 1 9q.5 1 1-1t1-2 1 2 1 4 1 2 1-5l1-15 1-31 .6-24 .4 12 1 25 1 21q.5 8 1 12t1 4 1 0 1 0 1 1 1 1 1 0M29 979q.5 -2 1-3t1 0 1 3 1 3 1-1 1-9l1-22 1-38 1-51 .6-36 .4 20 1 50 1 40 1 31 1 19q.5 6 1 5t1-3 1-5 1-5 1-4 1-2 1-1 1-2 1 0 1 5 1 8 1 6 1 1 1-3 1-4 1-2 1 1 1 2M140 986q.5 -1 1-3t1-4 1-3 1-1 1-2l1-9 1-29 1-38 .9-38 .1 4 1 45 1 34 1 25 1 16q.5 4 1 3t1-1 1 1 1 1 1-4l1-16 1-31 .7-28 .3 11 1 37 1 19 1 5q.5 0 1-1t1 1 1 5 1 4 1-1 1-4M30 985q.5 0 1 0t1 0 1 0 1-4l1-15 1-26 1-31 1-42 .2-8 .8 31 1 36 1 32 1 19q.5 6 1 8t1 1 1-3 1-4 1-3 1-1 1 0 1-1 1-2 1 0 1 2 1 0 1-2 1-1 1 0 1-1 1-2 1-1 1 2M140 984q.5 0 1-1t1 0 1 1 1-5l1-18 1-31 1-44 .8-44 .2 5 1 48 1 43 1 30 1 12q.5 3 1 3t1 1 1 0 1-1 1-3l1-16 1-32 .5-18 .5 11 1 25 1 19q.5 6 1 6t1-1 1-1 1 1 1 0 1-2 1-1 1 0M30 981q.5 0 1-1t1-3 1-3 1-5l1-17 1-33 1-54 .9-50 .1 5 1 55 1 45 1 31 1 19q.5 6 1 5t1-7 1-13 1-14 1-11 1 1 1 11 1 11 1 6 1 4 1 6 1 5 1 3 1 1 1 0 1 1 1 1 1 0 1 0M140 977q.5 1 1 2t1 2 1 0 1-5l1-14 1-22 1-26 .9-24 .1 3 1 35 1 20 1 18 1 13q.5 4 1 3t1-3 1-3 1-1 1 0 1 1 1-1l1-12 1-32 .7-24 .3 10 1 34 1 16 1 7q.5 2 1 3t1 1 1 0 1 0 1 0M30 975q.5 -1 1-2t1-1 1 0 1-7l1-18 1-22 1-31 .4-15 .6 14 1 23 1 19 1 19 1 13q.5 4 1 5t1 2 1 0 1-2 1-2 1-2 1 0 1 2 1 0 1-3 1-1 1 4 1 3 1-2 1-1 1 2 1 2 1 0 1-1M140 967q.5 1 1 3t1 3 1 1 1-1 1-1 1-1l1-11 1-24 1-30 1-40 .3-11 .7 27 1 32 1 25 1 20q.5 7 1 9t1 4 1 1 1-6l1-13 .9-16 .1 2 1 12 1 10q.5 5 1 8t1 1 1-4 1-1 1 4 1 3 1-2 1-1M30 964q.5 2 1 4t1 2 1 0 1-3l1-13 1-23 1-27 1-33 .2-7 .8 26 1 35 1 19 1 17q.5 7 1 9t1-1 1-6 1-7 1-9 1-11 1-12 1-7 1 3 1 7 1 5 1 4 1 4 1 5 1 5 1 2 1 1 1 2 1 2M140 957q.5 -1 1 0t1 3 1 3 1-3l1-15 1-29 1-33 .5-21 .5 16 1 31 1 28 1 20q.5 7 1 10t1 3 1-5l1-15 1-19 .4-11 .6 12 1 14 1 9q.5 3 1 5t1 3 1 1 1-2 1-3 1-2 1-3 1-4 1-2 1 1 1 2M30 955q.5 -1 1-1t1 0 1-1l1-6 1-18 1-26 1-35 .1-5 .9 25 1 21 1 18 1 18q.5 7 1 10t1 1 1-7 1-10 1-10 1-7 1 4 1 13 1 10 1 2 1 1 1 4 1 5 1 4 1-1 1-2 1 0 1-3 1-3 1 2M140 954q.5 0 1 1t1 1 1-1 1-3 1-9l1-20 1-33 1-42 .5-24 .5 26 1 43 1 32 1 18q.5 6 1 7t1 2 1 3 1 1 1-3 1-4 1-3 1-7l1-19 1-31 .3-11 .7 32 1 24 1 19q.5 6 1 8t1 3 1 1 1-2 1-1M30 940q.5 0 1 2t1 5 1 2l1-9 1-36 1-49 1-62 .4-21 .6 37 1 57 1 44 1 30 1 11q.5 0 1-7t1-13 1-10 1-6 1 3 1 11 1 9 1 3 1 0 1 2 1 7 1 8 1 3 1-2 1-4 1-2 1 0 1-1 1-1M140 945q.5 -2 1-3t1-2 1-1 1 0l1-3 1-20 1-33 1-42 .1-5 .9 33 1 33 1 29 1 21q.5 6 1 6t1-2 1-5 1-6 1-4 1 1 1 5 1 4l1-2 1-21 .8-26 .2 5 1 17 1 15 1 14q.5 5 1 7t1 1 1-3 1-3M30 943q.5 0 1 1t1 2 1-1l1-13 1-36 1-52 .9-53 .1 3 1 48 1 42 1 31 1 24q.5 8 1 10t1-1 1-8 1-12 1-13 1-4 1 9 1 12 1 8 1 5 1 4 1 3 1 2 1 0 1-3 1-2 1 1 1 2 1 1 1-1M140 955q.5 -1 1-4t1-5 1-6l1-12 1-22 1-27 1-32 1 37 1 25 1 18 1 13q.5 4 1 3t1-3l1-6 1-19 .9-28 .1 0 1 29 1 20 1 7q.5 2 1 3t1 4 1 5 1 1 1-1 1 0 1 0 1 0 1-1 1-3 1-2M30 941q.5 0 1 0t1-1 1-2 1-3 1-6l1-12 1-19 1-30 .8-30 .2 7 1 38 1 27 1 23 1 1q.5 -3 1-10t1-14 1-11 1-1 1 7 1 8 1 11 1 12 1 7 1 4 1 1 1-2 1 1 1 3 1-2 1-4 1-1 1 0M140 943q.5 0 1 0t1-1 1-1 1-3l1-11 1-22 1-30 1-37 .1-3 .9 33 1 36 1 26 1 15q.5 5 1 6t1 0 1-5l1-15 1-19 .2-3 .8 9 1 11 1 6q.5 1 1 1t1 0 1 3 1 6 1 3 1 0 1-1 1-2 1 1 1 3M30 939q.5 2 1 3t1 1 1-1l1-8 1-34 1-44 1-51 .5-29 .5 23 1 44 1 38 1 30 1 11q.5 0 1-7t1-13 1-10 1-2 1 8 1 9 1 8 1 9 1 7 1 5 1 4 1 4 1 2 1-1 1-1 1 0 1-1 1-2 1-2M140 936q.5 -2 1-2t1 1 1 3 1 3 1-4l1-16 1-30 1-45 .8-35 .2 8 1 40 1 32 1 22 1 11q.5 3 1 3t1-1 1-1 1 3 1 7 1 6 1-2l1-14 .7-9 .3 3 1 12 1 7q.5 2 1 2t1 1 1 2 1 1 1 0 1 0M30 939q.5 0 1-4l1-13 1-30 1-41 1-46 1 45 1 35 1 29 1 12q.5 3 1 3t1 2 1 4 1 1 1-4 1-5 1-4 1-2 1 3 1 6 1 4 1 0 1-3 1-4 1-2 1 2 1 4 1 3 1 2 1 1 1 0 1 0M140 929q.5 1 1 4t1 5 1 2 1-1 1-6l1-16 1-28 1-33 .6-21 .4 13 1 34 1 28 1 13q.5 4 1 5t1 3 1 4 1 0 1-9l1-17 .8-17 .2 0 1 11 1 15q.5 7 1 12t1 6 1 0 1-4 1-5 1-2 1 2 1 4 1 3M30 932q.5 -1 1-2t1-1 1 0 1-2l1-8 1-21 1-29 1-32 .3-11 .7 26 1 31 1 26 1 19q.5 6 1 6t1-2 1-8 1-16 1-20 1-13 1 5 1 14 1 10 1 8 1 8 1 6 1 1 1-2 1-2 1-2 1-3 1-5 1-3M140 934q.5 0 1 0t1 0 1-1 1-4l1-9 1-28 1-39 1-50 .4-22 .6 27 1 47 1 40 1 27q.5 9 1 11t1 2 1-1 1-2 1 0 1 0l1-11 1-28 1-37 1 34 1 28 1 15q.5 3 1 2t1-1 1-1 1-4 1-5 1-2M30 925q.5 1 1 2t1 0 1-3l1-4 1-34 1-44 1-48 .4-22 .6 30 1 47 1 39 1 28 1 11q.5 1 1-5t1-15 1-19 1-14 1 3 1 13 1 9 1 5 1 4 1 5 1 6 1 5 1 2 1 1 1 2 1 0 1-2 1 0 1 2M140 930q.5 0 1-1t1-3 1-5l1-9 1-19 1-26 .6-13 .4 13 1 19 1 17 1 18q.5 7 1 9t1 2 1 0 1-1 1-2 1-2 1-2 1-2 1-2 1-5l1-14 1-34 .2-8 .8 19 1 22 1 15q.5 5 1 7t1 2 1 0 1 1 1 2M30 914q.5 3 1 6t1 4 1 1 1-1 1-9l1-26 1-41 1-49 .8-43 .2 13 1 53 1 42 1 25 1 17q.5 6 1 8t1 4 1 3 1 2 1 1 1 0 1 1 1 1 1-1 1-1 1-1 1-4 1-4 1-1 1 1 1 3 1 4 1 0M140 918q.5 -3 1-6t1-2 1 4 1 5l1-3 1-21 1-24 1-37 .3-11 .7 22 1 29 1 25 1 22q.5 6 1 6t1-3 1-7 1-5 1 1 1 4 1 2 1-4l1-9 .6-7 .4 5 1 11 1 8q.5 2 1 2t1 0 1-1 1-4 1-5 1-2M30 908q.5 2 1 3t1 2 1-3l1-18 1-20 1-35 .3-11 .7 16 1 22 1 18 1 15q.5 5 1 7t1 1 1-1 1 2 1 4 1 2 1-1 1-2 1 0 1 4 1 5 1 2 1 0 1-1 1-1 1 0 1-1 1-2 1-2 1-1 1 0M140 900q.5 -1 1 0t1 3 1 4 1 4 1 3 1-3l1-19 1-28 1-47 .7-36 .3 11 1 41 1 34 1 25 1 12q.5 3 1 1t1-9l1-21 1-34 .2-9 .8 28 1 28 1 18q.5 5 1 6t1 3 1 4 1 1 1-1 1-1 1-1 1 0 1-1M30 915q.5 1 1 0t1-1 1 0 1 0 1-5l1-18 1-26 1-32 .9-35 .1 3 1 34 1 29 1 28 1 20q.5 5 1 4t1-3 1-3 1 1 1 3 1 0 1-1 1-2 1-6 1-7 1-1 1 5 1 6 1 4 1 0 1-3 1-3 1 0M140 902q.5 0 1 2t1 5 1 4 1 1 1 0 1 0 1-4l1-15 1-28 1-32 .8-28 .2 6 1 37 1 27 1 20 1 10 1-16 1-35 .3-13 .7 19 1 24 1 20q.5 7 1 9t1 1 1-1 1-2 1-6 1-7 1-2 1 4 1 6 1 4M30 907q.5 0 1 1t1 1 1-1 1-4l1-11 1-30 1-39 1-40 .1-4 .9 37 1 34 1 32 1 21q.5 6 1 7t1 0 1-3 1-8 1-12 1-13 1-10 1 1 1 6 1 5 1 8 1 10 1 8 1 3 1-2 1-2 1 1 1 1 1 1M140 900q.5 2 1 5t1 4 1 0 1-2l1-7 1-24 1-28 1-35 .3-11 .7 25 1 31 1 30 1 16q.5 4 1 4t1 1 1 1 1-1 1-1 1-2l1-11 1-17 .4-8 .6 11 1 14 1 7q.5 1 1 0t1-2 1 1 1 4 1 3 1-1 1-4M30 897q.5 -1 1-2t1-2 1-4l1-10 1-20 1-27 .9-32 .1 1 1 31 1 30 1 26 1 10q.5 3 1 4t1 0 1-5 1-7 1-3 1 3 1 4 1 1 1-1 1-1 1-1 1-2 1 0 1 4 1 5 1 3 1 1 1 1 1 0 1-2M140 900q.5 -1 1-1t1-1 1-4l1-13 1-33 1-41 1-48 .2-11 .8 41 1 49 1 36 1 21q.5 7 1 9t1 2 1-2 1-1 1 0 1-5 1-7 1-4 1-5l1-15 1-34 .2-7 .8 24 1 26 1 14q.5 3 1 2t1-1 1 3 1 5 1 3M30 883q.5 1 1 4t1 7 1 5 1 1 1-4l1-17 1-30 1-40 1-49 .1-5 .9 38 1 40 1 32 1 20q.5 6 1 7t1 0 1-3 1-4 1-3 1 1 1 5 1 5 1 1 1-3 1-3 1-1 1 0 1 2 1 5 1 5 1 1 1-3M140 898q.5 -1 1-4t1-6 1-3 1 3 1 5 1-1l1-13 1-23 1-30 .3-9 .7 17 1 23 1 18 1 13q.5 4 1 5t1 1 1-1 1-2 1-1 1-1 1-4 1-6l1-8 1-9 .4-4 .6 13 1 13 1 3q.5 1 1 1t1 0 1 0 1 2M30 896q.5 0 1-2t1-4 1-4 1-3 1-2l1-4 1-25 1-32 .7-27 .3 7 1 30 1 27 1 16 1 8q.5 2 1 2t1-1 1-2 1 0 1 2 1 1 1 0 1 1 1 2 1 1 1 0 1 0 1 0 1 2 1 3 1-2 1-2 1 3M140 894q.5 0 1 0t1 1 1-1l1-9 1-30 1-42 1-50 .4-19 .6 29 1 55 1 34 1 22q.5 6 1 5t1-1 1-2l1-11 1-29 1-38 1 33 1 23 1 15q.5 5 1 6t1 1 1 0 1 0 1 0 1 1 1 1 1-1 1-1 1 2M30 875q.5 2 1 4t1 1l1-5 1-20 1-29 1-32 1 28 1 29 1 23 1 13q.5 4 1 4t1 0 1 0 1-1 1-3 1-7 1-12 1-16 1-14 1 0 1 10 1 10 1 10 1 8 1 6 1 2 1 0 1 3 1 3 1 0 1-3M140 879q.5 -4 1-6t1-1 1 3 1 3 1-1l1-8 1-21 1-29 .5-14 .5 12 1 25 1 25 1 19q.5 6 1 6t1-1 1-4l1-11 1-19 .3-7 .7 12 1 14 1 9q.5 3 1 3t1 0 1 1 1 0 1-1 1 1 1 0 1-1 1-2 1-1M30 877q.5 0 1-1t1-2 1-1 1 0l1-6 1-26 1-34 1-36 .2-8 .8 34 1 32 1 27 1 23q.5 6 1 4t1-7 1-13 1-17 1-11 1 2 1 9 1 11 1 11 1 8 1 3 1-3 1-5 1-3 1 0 1 2 1 2 1 1 1 1M140 879q.5 0 1-1t1-1 1 0 1-3l1-14 1-25 1-28 1-35 .1-4 .9 34 1 32 1 29 1 20q.5 5 1 4t1-1 1 0 1-1 1-1 1-6l1-22 1-33 .4-16 .6 16 1 26 1 23q.5 8 1 11t1 3 1-3 1-7 1-6 1-2 1 1M30 862q.5 -1 1 0t1 1 1-1 1-6l1-19 1-36 1-46 .9-60 .1 1 1 58 1 54 1 40 1 27q.5 8 1 8t1-1 1-3 1-4 1-6 1-5 1 0 1 0 1-2 1-1 1 0 1-1 1-2 1-1 1 2 1 4 1 3 1 4 1 6M140 877q.5 -2 1-5t1-7l1-12 1-18 1-27 1-36 .3-9 .7 25 1 33 1 31 1 24q.5 6 1 5t1-2 1 0 1 1 1 0 1 0 1 0 1-4l1-12 1-22 .1-2 .9 14 1 17 1 3q.5 0 1-2t1-3 1-2 1-3 1-4 1-2 1 2M30 867q.5 -2 1-9l1-20 1-33 1-40 1-51 .2-7 .8 45 1 51 1 37 1 26 1 4q.5 -1 1-4t1-3 1 1 1 1 1-2 1-4 1-4 1-2 1 1 1 2 1 1 1 0 1 1 1 4 1 6 1 4 1 0 1-2 1-1 1 0 1 1M140 876q.5 -1 1-2t1-3 1-8l1-18 1-28 1-27 .8-22 .2 7 1 37 1 30 1 23 1 10q.5 2 1 1t1-4 1-6 1-3 1 1 1 1 1-1 1-2 1-4l1-14 1-31 .5-20 .5 18 1 28 1 18q.5 5 1 6t1 3 1 5 1 3 1-1M30 869q.5 -1 1-3t1-2 1 1 1 2 1-1l1-11 1-30 1-50 1-59 .3-18 .7 37 1 47 1 39 1 32 1 17q.5 4 1 3t1-3 1-3 1-1 1 1 1 0 1-3 1-1 1 2 1 1 1 1 1 1 1-3 1-4 1-1 1 0 1 1M140 859q.5 1 1 4t1 5 1 1 1-4 1-6l1-9 1-19 1-27 .9-25 .1 4 1 34 1 22 1 18 1 13q.5 2 1 0t1-3 1 0 1 2 1-1 1-7l1-13 .5-6 .5 6 1 11 1 8q.5 1 1-1t1-1 1 2 1 1 1 0 1 0 1-3M30 866q.5 0 1-1t1-1 1-1 1-4l1-10 1-16 1-34 1-32 1 30 1 26 1 19 1 14q.5 4 1 4t1-3 1-8 1-13 1-16 1-6 1 9 1 10 1 4 1 2 1 3 1 4 1 4 1 3 1 1 1 1 1 3 1 3 1 1M140 865q.5 0 1-1t1 0 1 1 1-1 1-2 1-7l1-16 1-18 1-21 .3-10 .7 12 1 19 1 20 1 14q.5 4 1 4t1 0 1 0 1 0 1-2l1-9 1-24 .2-5 .8 14 1 20 1 9q.5 2 1-1t1-5 1-3 1-1 1 0 1 1 1 1M30 860q.5 0 1-3t1-8l1-12 1-23 1-35 1-48 .4-19 .6 27 1 40 1 37 1 31 1 11q.5 2 1 1t1 0 1-1 1-4 1-5 1-9 1-14 1-10 1 2 1 10 1 11 1 8 1 5 1 3 1 2 1 0 1-2 1-1 1 2 1 3M140 860q.5 2 1 0t1-2 1 0 1-2 1-4 1-2 1 1l1-2 1-25 1-42 1-50 .5-21 .5 27 1 52 1 36 1 23q.5 8 1 9l1-8 1-27 1-33 .1-4 .9 31 1 21 1 8q.5 2 1 2t1 2 1 4 1 2 1 0 1 0 1 0 1-1M30 851q.5 3 1 4t1 1 1-3l1-13 1-26 1-34 1-48 .2-9 .8 36 1 33 1 21 1 17q.5 6 1 9t1 6 1 6 1 4 1 0 1-3 1-4 1-2 1 0 1 0 1-1 1-3 1-3 1 0 1 3 1 3 1 0 1 0 1 2 1 1M140 841q.5 -2 1-1t1 4 1 6 1 4 1-3l1-15 1-24 1-28 .6-16 .4 13 1 24 1 26 1 12q.5 3 1 1t1-4 1-1 1 5 1 5l1-8 1-31 .9-42 .1 3 1 33 1 26 1 16q.5 4 1 3t1-3 1-4 1-3 1 0 1 3 1 3M30 837q.5 0 1 2t1 5 1 4 1-1l1-8 1-33 1-51 1-65 .6-37 .4 25 1 60 1 51 1 38 1 20q.5 5 1 3t1-5 1-6 1-5 1-2 1 2 1 4 1 3 1 2 1 2 1 2 1 2 1-1 1-3 1-2 1-1 1-1 1-2M140 851q.5 0 1-3t1-6 1-4 1 1 1 4 1-2l1-15 1-22 1-27 .4-13 .6 16 1 21 1 19 1 17q.5 6 1 8t1 3 1-1l1-11 1-29 .9-32 .1 4 1 34 1 23 1 11q.5 3 1 2t1-2 1-1 1 0 1 1 1 2 1-1 1-3M30 836q.5 0 1 1t1 3 1 4 1-1l1-12 1-37 1-42 1-50 .6-34 .4 24 1 51 1 45 1 36 1 17q.5 3 1-2t1-12 1-15 1-16 1-9 1 5 1 10 1 7 1 7 1 9 1 8 1 4 1 1 1 1 1 3 1 2 1-1 1-1M140 840q.5 -1 1-2t1-2 1-3l1-10 1-19 1-26 .9-33 .1 1 1 29 1 23 1 24 1 19q.5 5 1 4t1-2 1-1 1 1 1 0 1-3 1-5l1-10 1-25 .9-29 .1 1 1 32 1 22 1 9q.5 2 1 1t1 0 1 2 1 1 1-1 1 0M30 837q.5 1 1 2t1 1 1 0 1-2 1-7l1-16 1-27 1-33 .9-33 .1 3 1 37 1 30 1 26 1 17q.5 5 1 6t1 1 1-1 1-1 1-1 1-3 1-2 1 2 1 1 1-3 1-3 1-2 1-1 1-1 1-2 1-2 1 1 1 5M140 841q.5 0 1-2t1-2 1 0 1 1 1 2 1 0 1-5l1-17 1-31 1-37 1-44 .1 0 .9 46 1 38 1 28 1 13 1-21 1-35 .3-13 .7 27 1 27 1 20q.5 5 1 4t1-3 1-2 1 1 1 1 1-2 1-3 1-2 1-2 1-2 1-2M30 829q.5 0 1 0t1-1 1-3 1-4 1-5l1-9 1-24 1-41 .5-23 .5 12 1 29 1 27 1 21 1 14q.5 5 1 6t1 1 1-2 1-4 1-3 1-1 1 3 1 7 1 6 1 2 1-1 1-2 1-1 1 0 1-2 1-4 1-4 1-2M140 828q.5 2 1 2t1 0 1 0 1 0 1-5l1-19 1-34 1-37 1-37 1 48 1 30 1 20 1 15q.5 5 1 6t1 2 1 2 1-3l1-15 1-33 .2-8 .8 19 1 21 1 14q.5 5 1 8t1 6 1 5 1 2 1-1 1-2 1-1 1 0 1-2M30 829q.5 0 1-1t1-3 1-5 1-6l1-6 1-14 1-23 1-25 1 26 1 22 1 18 1 13q.5 3 1 0t1-8 1-10 1-8 1-1 1 5 1 6 1 5 1 4 1 5 1 5 1 2 1-1 1-3 1-4 1-2 1 2 1 3 1 0M140 822q.5 0 1 2t1 3 1 1 1-2 1-8l1-18 1-27 1-27 .6-16 .4 14 1 27 1 23 1 20q.5 7 1 9t1 3 1-2l1-13 1-33 .7-30 .3 11 1 35 1 23 1 10q.5 3 1 2t1-2 1-1 1 2 1 3 1 0 1-2 1-3 1-4 1-2M30 823q.5 -2 1-3t1-1 1 0 1-2l1-9 1-19 1-26 .8-22 .2 7 1 24 1 17 1 16 1 11q.5 3 1 3t1 1 1 3 1 1 1-4 1-9 1-13 1-10 1 2 1 9 1 4 1 0 1 3 1 7 1 7 1 3 1-2 1-4 1-1M140 821q.5 0 1 1t1 2 1-1 1-3 1-1 1-2l1-6 1-25 1-39 1-51 .5-27 .5 30 1 48 1 35 1 27 1 9q.5 2 1 2t1 1 1 2 1 1 1-3l1-11 1-18 .2-4 .8 9 1 12q.5 6 1 10t1 2 1-5 1-3 1 3 1 5 1 2M30 807q.5 -1 1 1t1 3 1-5l1-21 1-40 1-50 .8-44 .2 11 1 51 1 44 1 36 1 22q.5 6 1 4t1-6 1-6 1-4 1-6 1-11 1-14 1-5 1 7 1 12 1 12 1 8 1 6 1 5 1 2 1-4 1-7 1-3 1 2 1 3M140 814q.5 0 1-1t1-3 1-3 1-2l1-7 1-23 1-35 1-44 .1-5 .9 37 1 36 1 28 1 19q.5 6 1 7t1 0 1-10l1-30 1-40 .1-4 .9 29 1 31 1 19q.5 5 1 3t1-5 1-2 1 3 1 4 1 2 1 0 1 1 1 0 1-5 1-7M30 798q.5 0 1 1t1 1 1-3l1-12 1-21 1-28 1-37 1 35 1 29 1 26 1 17q.5 6 1 8t1 2 1 0 1-1 1-4 1-4 1 0 1 3 1 4 1 2 1-2 1-3 1-1 1 0 1-2 1-4 1-2 1 3 1 6 1 4M140 796q.5 0 1 0t1 1 1 1 1-3l1-12 1-24 1-30 .8-25 .2 6 1 38 1 30 1 20 1 9q.5 3 1 3t1 1 1 2 1 2 1 1 1-3l1-14 1-29 .9-33 .1 1 1 34 1 28 1 15q.5 3 1 0t1-4 1-1 1 0 1-2 1-4 1-2M30 802q.5 -1 1-3t1-2 1 2 1 0l1-13 1-33 1-48 1-54 1 46 1 46 1 42 1 13q.5 4 1 4t1 1 1 2 1 1 1 1 1 2 1 0 1-1 1-3 1-7 1-5 1 1 1 5 1 5 1 3 1 2 1 1 1 0 1-2M140 793q.5 3 1 6t1 4 1 0 1-3 1-7l1-15 1-28 1-39 .8-38 .2 9 1 43 1 31 1 26 1 19q.5 7 1 8t1-7l1-19 1-24 .5-15 .5 15 1 24 1 19q.5 7 1 8t1 0 1-2 1-4 1-6 1-4 1 1 1 5 1 4 1 2 1 2M30 795q.5 0 1-2t1-3 1-5l1-15 1-33 1-51 1-57 1 54 1 45 1 33 1 19q.5 5 1 5t1 1 1 4 1 4 1-2 1-8 1-8 1-2 1 5 1 7 1 4 1 1 1 1 1 1 1-1 1-3 1-2 1 1 1 3 1 3M140 787q.5 -1 1 0t1 4 1 3 1-2 1-9l1-20 1-27 1-34 .5-22 .5 20 1 36 1 30 1 21q.5 6 1 5t1-4 1-5 1-5l1-8 .9-11 .1 2 1 19 1 10q.5 4 1 7t1 5 1 3 1 0 1-2 1-3 1-3 1-2 1-3 1-4 1-2M30 794q.5 -2 1-2t1 2 1 2 1-8l1-20 1-32 1-45 .7-33 .3 13 1 42 1 35 1 25 1 13q.5 2 1 1t1 2 1 6 1 1 1-4 1-3 1 0 1 2 1 3 1 3 1 2 1 1 1-2 1-4 1-4 1-3 1 1 1 5 1 5M140 790q.5 -2 1 1t1 5 1-1 1-3 1 0l1-2 1-24 1-24 1-28 1 25 1 22 1 18 1 12q.5 3 1 1t1-4 1-3 1 2 1 6 1 1 1-5 1-7l1-14 1-24 .3-7 .7 21 1 24 1 15q.5 5 1 5t1-3 1-5 1-4 1-3M30 775q.5 -1 1-1t1 1 1 3 1 5 1 3 1-6l1-20 1-33 1-42 .4-19 .6 19 1 30 1 24 1 19 1 14q.5 4 1 3t1-3 1-8 1-9 1 1 1 7 1 4 1 2 1 3 1 5 1 6 1 5 1 2 1-1 1-3 1-4 1-3M140 793q.5 -2 1-6t1-7 1-5 1-6l1-10 1-16 1-20 .6-12 .4 13 1 27 1 19 1 11q.5 3 1 2t1-5 1-12l1-20 .7-13 .3 4 1 19 1 18q.5 8 1 12t1 5 1 1 1 1 1 0 1-3 1-4 1-3 1 0 1 2 1 2 1 2 1 0M30 790q.5 0 1 0t1 0 1-2 1-10l1-25 1-37 1-41 .7-38 .3 14 1 38 1 39 1 33 1 18q.5 5 1 5t1 2 1 3 1 0 1 0 1 1 1 0 1-1 1-2 1-2 1-1 1 0 1 0 1 1 1 2 1 1 1-1 1-1 1 1M140 787q.5 1 1 2t1 1 1-1l1-7 1-27 1-40 1-52 .5-31 .5 24 1 49 1 46 1 23 1 1q.5 0 1 1t1 3 1 2 1 1 1 3 1 3 1 1 1 1 1 1 1-2 1-8l1-17 .9-20 .1 2 1 18 1 13q.5 5 1 7t1 3 1 2 1 0M30 775q.5 1 1 3t1 2 1-1 1-1 1 1 1 0l1-9 1-25 1-28 .8-20 .2 3 1 30 1 23 1 14 1 5q.5 -1 1-7t1-15 1-15 1-5 1 6 1 9 1 8 1 9 1 9 1 6 1 1 1-2 1 0 1 1 1-1 1-1 1 1M140 772q.5 1 1 1t1 0 1 2 1 2 1-4l1-16 1-25 1-26 .5-12 .5 19 1 27 1 15 1 11q.5 4 1 7t1 5 1 2 1-3l1-10 1-17 .4-6 .6 7 1 11 1 7q.5 2 1 2t1 0 1 1 1 3 1 4 1 2 1-2 1-3 1 0 1 1M30 779q.5 0 1 0t1-1 1-4 1-13l1-31 1-48 1-59 .6-39 .4 24 1 59 1 47 1 33 1 19q.5 6 1 9t1 4 1 0 1-1 1 0 1-2 1-2 1-1 1-1 1 0 1 0 1-1 1-1 1 1 1 2 1 1 1-2 1-4 1-2M140 772q.5 -1 1 0t1 3 1 3 1 1 1-5l1-19 1-33 1-42 .9-45 .1 4 1 47 1 41 1 30 1 14q.5 3 1 1t1-2 1 3 1 5 1 1 1-1 1-3l1-13 1-23 .6-18 .4 9 1 21 1 16q.5 5 1 6t1 0 1-1 1 1 1 1 1 0M30 767q.5 1 1 3t1 3 1-5l1-16 1-31 1-56 1-62 .2-15 .8 38 1 58 1 45 1 28 1 13q.5 3 1 1t1-2 1-1 1-5 1-5 1 1 1 4 1 2 1-2 1-4 1-2 1 2 1 6 1 7 1 3 1 0 1-2 1-4 1-2M140 774q.5 0 1-2t1-4 1-2 1-1l1-7 1-29 1-27 .7-17 .3 12 1 27 1 26 1 11q.5 5 1 8t1 3 1-1 1-1 1 0 1-1l1-5 1-36 1-47 1 37 1 31 1 17q.5 4 1 1t1-6 1-4 1 1 1 6 1 7 1 3 1 0M30 763q.5 -5 1-10t1-6 1 0 1-5l1-23 1-42 1-51 .6-35 .4 21 1 50 1 43 1 33 1 21q.5 6 1 4t1-8 1-14 1-16 1-12 1 1 1 10 1 8 1 6 1 7 1 7 1 5 1 4 1 4 1 3 1 0 1-3 1-3 1-1M140 769q.5 0 1 1t1-1 1-6 1-9 1-7 1-4l1-8 1-25 1-35 .8-30 .2 7 1 36 1 31 1 24 1 13q.5 4 1 5t1-1l1-9 1-20 .6-11 .4 7 1 19 1 15q.5 5 1 5t1-2 1-3 1-1 1 0 1 0 1 2 1 4 1 3 1 0M30 764q.5 0 1 0t1 1 1 1 1-1 1-2 1-7l1-17 1-22 1-22 .2-6 .8 16 1 17 1 15 1 1q.5 -3 1-12t1-14 1 1 1 12 1 10 1 7 1 7 1 7 1 5 1 3 1 1 1-1 1-3 1-5 1-4 1 0 1 3 1 4M140 748q.5 2 1 5t1 6 1 3 1-5l1-14 1-30 1-42 .8-37 .2 7 1 46 1 34 1 25 1 17q.5 4 1 2t1-3 1 0 1 1 1-1 1 0 1 2 1 1 1-1 1-3 1-7l1-13 1-22 .1-1 .9 19 1 17 1 8q.5 2 1 0t1-5 1-4M30 758q.5 -1 1-2t1-1 1 0 1-8l1-29 1-48 1-59 .6-41 .4 22 1 58 1 48 1 36 1 18q.5 3 1-1t1-7 1-2 1 3 1 2 1-3 1-5 1 1 1 8 1 8 1 2 1-2 1 0 1 3 1 2 1-1 1-3 1-2 1 1M140 754q.5 0 1 1t1 2 1 0 1-2 1-2l1-6 1-12 1-26 1-28 .1-3 .9 24 1 25 1 18 1 11q.5 3 1 2t1-3 1-5 1-3 1 3 1 6 1 1 1-8l1-16 1-21 .9-17 .1 4 1 31 1 19 1 6q.5 2 1 3t1 2 1 1 1-1M30 745q.5 0 1 2t1 2 1-9l1-26 1-31 1-39 .6-29 .4 19 1 44 1 31 1 23 1 20q.5 5 1 2t1-8 1-10 1-9 1-6 1-1 1 4 1 8 1 9 1 4 1 0 1 1 1 2 1 2 1 2 1 2 1-1 1-2 1 2 1 3M140 749q.5 0 1-1t1-2 1-3l1-5 1-11 1-33 1-37 .3-9 .7 26 1 35 1 26 1 18q.5 4 1 2t1-3 1 0 1 0 1-3 1-3l1-5 1-12 .7-18 .3 4 1 15 1 15q.5 6 1 8t1 0 1-3 1-1 1 1 1 1 1 1 1 2 1-1M30 744q.5 2 1 2t1-2 1-3 1-2 1-3l1-9 1-17 1-27 .7-21 .3 5 1 29 1 29 1 15 1 2q.5 0 1 0t1 2 1 4 1 2 1-2 1-4 1-3 1-1 1 2 1 4 1 2 1-1 1-1 1 1 1 1 1-1 1-2 1-2M140 742q.5 -3 1-4t1 1 1 4 1 0l1-14 1-32 1-43 1-51 .2-11 .8 40 1 48 1 32 1 20q.5 7 1 11t1 7 1-1l1-15 1-21 .7-14 .3 6 1 23 1 15q.5 5 1 5t1-2 1-3 1-1 1 1 1 3 1 2 1-1 1-1 1 1 1 1M30 737q.5 0 1 0t1-1 1-1 1-5l1-21 1-40 1-50 .7-42 .3 16 1 51 1 43 1 35 1 21q.5 4 1 0t1-9 1-11 1-9 1 1 1 8 1 7 1 3 1 1 1 3 1 4 1 2 1-1 1-3 1-4 1-3 1-2 1-2 1-2M140 745q.5 0 1-2t1-4 1-2 1-3l1-14 1-29 1-39 1-48 .2-9 .8 43 1 47 1 35 1 20q.5 6 1 6t1 0 1 0 1-1 1-2 1-2 1-2 1-1 1-5l1-20 1-43 .3-14 .7 25 1 34 1 24q.5 7 1 7t1-2 1-4 1-4 1-3M30 725q.5 -1 1 3t1 6 1-2 1-4 1 0l1-6 1-18 1-35 1-37 1 35 1 25 1 14 1 11q.5 4 1 7t1 6 1 5 1 1 1-5 1-5 1 2 1 6 1 2 1-4 1-3 1 2 1 3 1 0 1-2 1-3 1-5 1-4M140 740q.5 1 1 0t1-6 1-7 1 1 1 0l1-24 1-38 1-41 .8-37 .2 13 1 54 1 37 1 16 1-10 .7-27 .3 5 1 20 1 15 1 12q.5 4 1 7t1 5 1 1 1-5 1-5 1 2 1 6 1 2 1-4 1-3 1 2 1 3 1 0 1-2M30 733q.5 0 1-1t1-3 1-3 1-4l1-9 1-18 1-19 .7-14 .3 6 1 24 1 18 1 12 1 4q.5 0 1-2t1-2 1 0 1-2 1-2 1 2 1 4 1 4 1 4 1 3 1 1 1-1 1-3 1-3 1-2 1 0 1 4 1 4 1 0M140 733q.5 -1 1-2t1 0 1 1 1-1 1-4l1-11 1-23 1-35 1-43 .4-14 .6 30 1 45 1 33 1 20q.5 6 1 5t1-4 1-5 1-1 1 1 1-6l1-18 1-25 .1-3 .9 22 1 23 1 15q.5 4 1 4t1-1 1-2 1-3 1-3 1-2 1 0M30 718q.5 1 1 1t1 0 1 1 1-1l1-8 1-29 1-41 1-52 .4-23 .6 27 1 43 1 38 1 35 1 20q.5 3 1-2t1-7 1-2 1 3 1 6 1 3 1 0 1-1 1-1 1-1 1-3 1-4 1-2 1-1 1-1 1 0 1 1 1 2M140 721q.5 -3 1-5t1-1 1 2 1 1 1 0 1-3l1-10 1-18 1-25 .7-20 .3 9 1 27 1 20 1 12q.5 5 1 8t1 6 1 2 1-9l1-17 .8-15 .2 3 1 17 1 18q.5 6 1 8t1 1 1-2 1-1 1-1 1-4 1-4 1-2 1-1 1-1M30 704q.5 0 1 2t1 4 1 5 1 1l1-13 1-20 1-24 .5-14 .5 13 1 24 1 22 1 8q.5 3 1 2t1-5 1-10 1-14 1-13 1 0 1 11 1 12 1 11 1 7 1 1 1-2 1 0 1 3 1 4 1 3 1 2 1 1 1 0 1-3M140 722q.5 -2 1-6t1-7 1-4 1 1 1 1l1-5 1-14 1-33 1-35 1 38 1 30 1 22 1 15q.5 2 1-2t1-5 1-1 1 1 1 0 1-3l1-8 1-21 .8-18 .2 5 1 28 1 17q.5 5 1 3t1-6 1-3 1 3 1 4 1 3 1 2M30 700q.5 -2 1-3t1-2l1-6 1-27 1-38 1-52 .5-27 .5 29 1 50 1 41 1 33 1 19q.5 6 1 6t1-2 1-4 1-3 1-1 1 0 1 1 1 3 1 3 1 0 1-4 1-5 1-2 1 2 1 4 1 2 1 0 1 0 1-1 1-2M140 717q.5 -2 1-5t1-6 1-5 1-6l1-14 1-28 1-36 1-42 .1-4 .9 50 1 43 1 30 1 18q.5 5 1 5t1 1 1 2 1 0 1-3 1-4 1-8l1-20 1-33 .3-8 .7 26 1 30 1 17q.5 4 1 1t1-6 1-3 1 2 1 4 1 2 1 0M30 704q.5 2 1 3t1 0 1-2 1-2l1-6 1-19 1-29 1-39 .3-11 .7 25 1 32 1 25 1 18 1 4q.5 0 1-1t1 0 1 5 1 6 1-1 1-7 1-5 1 1 1 4 1 5 1 4 1 0 1 0 1 1 1 0 1 0 1-1 1-2M140 706q.5 -3 1-5t1-1 1 3 1 0l1-10 1-27 1-35 1-39 .1-4 .9 41 1 40 1 28 1 15q.5 3 1 1t1-3 1-3 1-4 1-5l1-7 1-5 .4-3 .6 12 1 8 1-2q.5 -1 1-1t1 1 1 3 1 5 1 4 1 0 1 0 1 1 1 0M30 704q.5 4 1 5t1 0 1 0 1 0 1-8l1-22 1-34 1-43 .5-24 .5 20 1 37 1 32 1 23 1 12q.5 3 1 3t1 0 1-1 1-4 1-8 1-10 1-11 1-12 1-5 1 8 1 12 1 6 1 0 1-1 1 4 1 9 1 9 1 6M140 696q.5 -2 1-2t1 2 1 6 1 5 1-1 1-6l1-14 1-30 1-36 .5-21 .5 16 1 33 1 27 1 20q.5 7 1 8t1 1 1 0 1 0 1 1 1-1 1-12l1-27 1-34 .1-2 .9 30 1 24 1 15q.5 5 1 6t1 1 1-3 1-7 1-6 1-1M30 691q.5 2 1 2t1-1 1-1 1-2l1-10 1-27 1-42 1-55 .1-3 .9 42 1 44 1 32 1 19q.5 6 1 8t1 2 1-2 1-4 1-2 1 2 1 4 1 2 1 1 1 2 1 1 1 1 1 1 1 0 1 0 1-3 1-5 1-1 1 3M140 688q.5 -1 1-2t1 0 1 2 1-3l1-15 1-26 1-29 .5-14 .5 19 1 34 1 24 1 11q.5 4 1 6t1 3 1 1 1-3 1-11l1-22 1-40 .1-5 .9 26 1 26 1 20q.5 7 1 8t1 1 1 1 1 2 1 1 1 1 1 1 1 0 1 0 1-3M30 697q.5 -2 1-4t1-3 1 0 1 1 1-8l1-24 1-32 1-33 .6-22 .4 19 1 38 1 30 1 27 1 10q.5 2 1 1t1 0 1 2 1-1 1-1 1 1 1-2 1-4 1-3 1 0 1 4 1 4 1-1 1-1 1 1 1-2 1-1 1 2M140 694q.5 0 1 2t1 3 1-1 1-4 1-5l1-11 1-20 1-33 1-43 .1-1 .9 32 1 36 1 30 1 16q.5 4 1 4t1 0 1-1 1-1 1 1 1-1l1-14 1-26 .8-24 .2 7 1 26 1 16 1 7q.5 2 1 3t1 3 1 3 1-1 1-1 1 1M30 694q.5 0 1 0t1-1 1-3 1-6l1-16 1-31 1-40 1-56 .3-17 .7 35 1 44 1 40 1 32 1 17q.5 5 1 4t1-3 1-4 1-4 1-4 1-2 1 1 1 4 1 4 1 1 1 1 1 2 1 1 1 0 1 1 1 1 1 0 1 0M140 695q.5 0 1-1t1-1 1 0 1-1l1-8 1-24 1-31 1-39 .3-11 .7 27 1 40 1 26 1 11q.5 3 1 2t1-1 1 2 1 4 1-2l1-18 1-28 .4-11 .6 16 1 20 1 12q.5 4 1 5t1 3 1 2 1 0 1 1 1 2 1 1 1 0 1 1M30 675q.5 -1 1 0t1 3 1 3 1 0 1-5l1-14 1-26 1-36 .7-30 .3 11 1 36 1 30 1 22 1 16q.5 5 1 4t1-7 1-14 1-16 1-13 1-3 1 5 1 5 1 6 1 10 1 13 1 10 1 2 1-3 1-3 1-1 1 1 1 2M140 686q.5 -1 1-3t1-4 1-3 1 0 1 3 1 1l1-9 1-18 1-21 .9-23 .1 3 1 25 1 20 1 17 1 10q.5 2 1 2t1 1 1 1 1-1 1-2 1-1 1-5l1-20 1-46 .3-17 .7 23 1 30 1 25q.5 9 1 13t1 4 1-2 1-4 1-4M30 685q.5 0 1 0t1 0 1-3l1-12 1-31 1-35 1-39 .1-4 .9 35 1 32 1 28 1 23q.5 7 1 7t1-1 1-3 1-10 1-17 1-19 1-13 1 3 1 11 1 9 1 8 1 8 1 6 1 3 1 1 1 0 1-1 1-2 1-1 1 1M140 684q.5 0 1-1t1 0 1 2 1 0 1-2 1-6l1-17 1-28 1-28 .3-9 .7 22 1 28 1 19 1 14q.5 5 1 7t1 1 1-1 1-1 1-7l1-16 .6-10 .4 4 1 9 1 8q.5 2 1 2t1-1 1 0 1 2 1 0 1-2 1-1 1 0 1-1M30 681q.5 0 1-1t1-3 1-2 1 0 1-5l1-15 1-34 1-37 .5-20 .5 19 1 36 1 25 1 18 1 12q.5 3 1 3t1 0 1 1 1 1 1-1 1 0 1 1 1-2 1-2 1 1 1 1 1 0 1 0 1 1 1 1 1 1 1 1 1 0M140 677q.5 1 1 2t1 2 1 1 1-2 1-4 1-7l1-16 1-25 1-30 .6-24 .4 13 1 34 1 31 1 21q.5 6 1 6t1-3 1-9l1-20 1-33 .2-8 .8 27 1 28 1 14q.5 4 1 5t1 1 1-3 1-3 1 1 1 1 1 0 1 0 1 1 1 1M30 675q.5 -1 1-2t1-1 1 1 1-2 1-11l1-26 1-47 1-64 .6-44 .4 20 1 55 1 49 1 41 1 26q.5 7 1 7t1-1 1-3 1-3 1-2 1 0 1 2 1 0 1-3 1-1 1 4 1 3 1-1 1-1 1 1 1 2 1 0 1-1M140 667q.5 1 1 3t1 3 1 1 1-1 1-1 1-2l1-12 1-19 1-20 .8-21 .2 6 1 21 1 16 1 13q.5 5 1 8t1 3l1-6 1-16 .6-14 .4 8 1 17 1 11q.5 4 1 4t1 0 1 1 1 0 1-3 1-1 1 4 1 3 1-1 1-1 1 1M30 665q.5 2 1 4t1 2 1-1 1-4l1-13 1-25 1-27 1-34 .1-4 .9 29 1 35 1 18 1 17q.5 6 1 5t1-7 1-12 1-10 1-1 1 7 1 6 1 2 1 0 1 1 1 0 1-3 1-2 1 1 1 2 1 1 1 1 1 2 1 2M140 657q.5 -1 1 0t1 3 1 4 1 4 1 2 1-2 1-8l1-20 1-26 1-27 .2-6 .8 22 1 27 1 26 1 8q.5 3 1 4t1 1 1-2 1-4 1-3 1 0 1 1 1-5l1-19 1-32 .1-4 .9 21 1 19 1 7q.5 2 1 2t1 1 1 2 1 1M30 655q.5 -1 1-1t1 0 1 1 1-1l1-11 1-26 1-38 .9-44 .1 0 1 34 1 30 1 30 1 22q.5 7 1 7t1-3 1-5 1-3 1 0 1 4 1 7 1 5 1-2 1-3 1 1 1 3 1 2 1-2 1-1 1 1 1-3 1-3 1 2M140 654q.5 0 1 1t1 1 1-1 1-1 1 0 1-4l1-15 1-25 1-34 .7-27 .3 13 1 33 1 24 1 19 1-3 1-30 .9-37 .1 4 1 36 1 25 1 13q.5 3 1 3t1 2 1 6 1 5 1-2 1-3 1 1 1 3 1 3 1-1 1-1 1 1M30 640q.5 0 1 2t1 5 1 5 1-1l1-13 1-23 1-31 .9-29 .1 1 1 35 1 28 1 19 1 10q.5 2 1-1t1-5 1 0 1 5 1 6 1 5 1 1 1-3 1-5 1-2 1 4 1 5 1 2 1-2 1-3 1-1 1 0 1-1 1-1M140 645q.5 -2 1-3t1-2 1-1 1-1l1-8 1-25 1-39 1-49 1 46 1 38 1 31 1 21q.5 6 1 5t1-3 1-4 1-5 1-4 1 1 1 5 1 6 1 3l1-9 1-33 1-46 1 35 1 33 1 22q.5 6 1 5t1-4 1-5 1-2M30 643q.5 0 1 1t1 3 1 4 1 3 1-3l1-17 1-33 1-38 1-45 .3-15 .7 32 1 43 1 37 1 25 1 10q.5 2 1 0t1-4 1-1 1 5 1 5 1 1 1-1 1-1 1 0 1 0 1-1 1-2 1-1 1 1 1 2 1 1 1-1M140 655q.5 -1 1-4t1-5 1-3 1-1 1-4l1-14 1-27 1-41 .6-30 .4 15 1 35 1 33 1 24 1 7q.5 3 1 5t1 3 1-1l1-10 1-19 .4-8 .6 8 1 14 1 17q.5 6 1 8t1 1 1-2 1-1 1 0 1 0 1-1 1-3 1-2 1 1M30 642q.5 0 1-1t1-2 1-2 1-2 1-3 1-5l1-8 1-18 1-25 .3-7 .7 21 1 21 1 20 1 6q.5 2 1 2t1-1 1-2 1-4 1-5 1-3 1 3 1 8 1 5 1 2 1 1 1 0 1 2 1 3 1-1 1-3 1-1 1 0M140 643q.5 0 1 0t1-1 1-1 1-2 1-9l1-17 1-24 1-32 .3-5 .7 22 1 32 1 24 1 14q.5 5 1 6t1 0 1-2 1-4 1-5 1-3 1-5l1-12 1-20 .1-3 .9 16 1 18 1 18q.5 4 1 3t1-1 1-2 1-3 1 1 1 3 1-1M30 639q.5 2 1 3t1 1 1 0 1-3 1-10l1-18 1-21 1-26 .4-11 .6 13 1 21 1 19 1 13q.5 4 1 6t1 4 1 6 1 7 1 2 1-3 1-2 1 1 1 1 1-1 1 0 1 2 1 1 1 0 1 0 1 0 1-1 1-2 1-2M140 636q.5 -2 1-2t1 1 1 3 1 3 1-1l1-6 1-18 1-28 1-27 1 23 1 18 1 14 1 8q.5 3 1 3t1-1 1-8l1-20 1-30 .3-11 .7 31 1 32 1 17q.5 5 1 5t1 0 1 0 1-1 1 0 1 2 1 1 1 0 1 0 1 0M30 639q.5 0 1 0t1 0 1 0 1-2 1-9l1-22 1-41 1-51 .6-36 .4 18 1 45 1 41 1 37 1 17q.5 3 1-1t1-8 1-9 1-8 1-2 1 6 1 8 1 3 1-1 1-2 1 0 1 3 1 5 1 4 1 2 1 1 1 0 1 1M140 629q.5 1 1 4t1 5 1 2 1 0 1-1 1-7l1-18 1-23 1-25 .3-10 .7 19 1 26 1 14 1 10q.5 4 1 6t1 4 1 1 1-8l1-22 1-38 .5-17 .5 15 1 33 1 27q.5 9 1 11t1 0 1-5 1-5 1-2 1 2 1 4 1 3 1 2M30 632q.5 -1 1-2t1-1 1-1 1-6l1-19 1-39 1-50 .9-52 .1 4 1 56 1 46 1 37 1 22q.5 4 1 0t1-8 1-7 1-3 1 2 1 5 1 6 1 5 1 3 1 1 1 1 1 1 1-3 1-5 1-2 1-1 1-4 1-5 1-2M140 634q.5 0 1 0t1 0 1-2 1-7l1-17 1-34 1-42 .9-43 .1 5 1 47 1 40 1 31 1 18q.5 5 1 5t1 0 1 0 1-2 1-1 1 0l1-10 1-17 .7-11 .3 5 1 17 1 14q.5 5 1 5t1-1 1-1 1 0 1-3 1-5 1-2 1-1M30 625q.5 1 1 2t1 0 1-2 1-6l1-23 1-39 1-41 .6-29 .4 17 1 44 1 37 1 28 1 14q.5 3 1 2t1-3 1-4 1-1 1 3 1 3 1 0 1-3 1-3 1-1 1 1 1 2 1 2 1 2 1 2 1 0 1-2 1 0 1 2M140 630q.5 0 1-1t1-4l1-10 1-15 1-24 1-31 1 30 1 20 1 15 1 15q.5 5 1 6t1 1 1 0 1-1 1-2 1-2 1-2 1-4l1-9 1-22 1-33 .1 0 .9 28 1 22 1 11q.5 3 1 3t1 1 1 2 1 1 1 1 1 2 1 0M30 615q.5 3 1 6t1 3 1 0 1-1 1-10l1-28 1-46 1-55 .8-42 .2 14 1 58 1 46 1 28 1 19q.5 6 1 8t1 3 1 1 1 0 1 1 1 2 1 2 1 1 1-1 1-1 1-1 1-4 1-4 1-1 1 1 1 3 1 4 1 0M140 618q.5 -3 1-6t1-2 1 4 1 6 1 3 1-5l1-15 1-37 1-47 .8-41 .2 8 1 49 1 46 1 29 1 13q.5 1 1-4t1-6 1 1 1 4 1 3 1 2 1-2l1-12 1-30 .8-28 .2 8 1 31 1 23 1 11q.5 1 1-3t1-6 1-2 1 1M30 608q.5 2 1 3t1 3 1 4 1-1l1-6 1-36 1-48 1-56 .5-30 .5 26 1 50 1 41 1 29 1 16q.5 5 1 6t1 2 1 1 1-1 1-2 1 0 1 4 1 5 1 2 1 0 1-1 1-1 1 0 1-1 1-2 1-2 1-1 1 0M140 600q.5 -1 1 0t1 3 1 4 1 1l1-9 1-19 1-38 1-37 1 33 1 28 1 23 1 13q.5 4 1 4t1 0 1-1 1-1 1 2 1 4 1 2 1-3l1-11 1-17 .6-10 .4 10 1 23 1 10q.5 4 1 5t1 0 1-1 1 0 1-1 1-2M30 615q.5 1 1 0t1-1 1-2l1-7 1-29 1-39 1-43 .3-10 .7 31 1 37 1 27 1 20 1 12q.5 4 1 5t1-1 1-4 1-2 1 2 1 3 1 0 1-1 1-2 1-6 1-7 1-1 1 5 1 6 1 4 1 0 1-3 1-3 1 0M140 602q.5 0 1 2t1 5 1 3 1-7l1-18 1-29 1-35 .4-18 .6 21 1 31 1 27 1 21q.5 7 1 7t1-1 1-1 1 2 1 3 1-3l1-12 1-19 .6-11 .4 7 1 22 1 9q.5 4 1 5t1-1 1-6 1-7 1-2 1 5 1 7 1 3 1-1M30 607q.5 0 1 1t1 1 1-1 1-1 1-1 1-6l1-17 1-27 1-42 .9-45 .1 2 1 48 1 38 1 28 1 20q.5 6 1 6t1-3 1-4 1 0 1 1 1-1 1-3 1-2 1 2 1 4 1 3 1-1 1-4 1-2 1 1 1 1 1 1M140 600q.5 2 1 5t1 4 1 0 1-2 1-9l1-25 1-37 1-47 .5-29 .5 23 1 47 1 43 1 26 1 7q.5 1 1-3l1-14 1-26 .1-2 .9 19 1 18 1 7q.5 2 1 2t1 0 1 0 1-2 1-4 1-2 1 2 1 4 1 3 1-1 1-4 1-2M30 597q.5 -1 1-2t1-2 1-1 1-3l1-11 1-22 1-30 .7-27 .3 10 1 33 1 31 1 15 1 13q.5 4 1 3t1-6 1-9 1-4 1 2 1 3 1 1 1 0 1 0 1-1 1-2 1 1 1 5 1 5 1 3 1 1 1 1 1 0 1-2M140 600q.5 -1 1-1t1-1 1-4l1-10 1-28 1-37 1-43 .3-14 .7 32 1 46 1 34 1 20q.5 7 1 9t1 2 1-2 1-1 1 0 1-5 1-8 1-9l1-15 1-25 .2-8 .8 22 1 22 1 15q.5 4 1 3t1-3 1-1 1 4 1 5 1 3 1 1M30 583q.5 1 1 4t1 7 1 5 1 0 1-9l1-27 1-45 1-57 .8-55 .2 10 1 59 1 52 1 39 1 23q.5 6 1 5t1-3 1-5 1-7 1-7 1-2 1 6 1 8 1 3 1-1 1-1 1 1 1 1 1 2 1 5 1 5 1 1 1-3M140 598q.5 -1 1-4t1-6 1-3 1 3 1 3l1-9 1-29 1-41 1-48 1 45 1 37 1 28 1 16q.5 5 1 5t1 0 1-1 1-2 1-2 1-4l1-11 1-21 .7-15 .3 5 1 24 1 20q.5 7 1 7t1-3 1-4 1-1 1 0 1 2 1 5M30 596q.5 0 1-2t1-4 1-4 1-5l1-6 1-11 1-27 1-31 1 21 1 24 1 21 1 10q.5 2 1 1t1-1 1-1 1-2 1 0 1 3 1 2 1 0 1 1 1 1 1 1 1 1 1-1 1-1 1 2 1 3 1-2 1-2 1 3M140 595q.5 0 1-1t1 0 1 1 1-1 1-6l1-17 1-30 1-32 1-35 .1-5 .9 36 1 36 1 23 1 18q.5 6 1 6t1-2 1-3 1-1 1-1 1-2 1-3l1-11 1-32 .8-31 .2 8 1 37 1 27 1 13q.5 3 1 3t1-1 1-1 1 2 1 3M30 576q.5 2 1 4t1 3 1 2 1 0 1-6l1-14 1-18 1-18 .9-18 .1 3 1 26 1 21 1 17 1 11q.5 3 1 2t1-2 1-2 1-2 1-5 1-8 1-9 1-8 1 2 1 9 1 6 1 5 1 3 1 2 1 5 1 4 1 0 1-3M140 579q.5 -4 1-6t1-1 1 3 1 4 1 3 1-1l1-11 1-27 1-33 .8-24 .2 7 1 37 1 32 1 19 1 9q.5 2 1 2t1 0 1-1 1-6l1-18 1-33 .6-24 .4 15 1 31 1 26q.5 8 1 8t1 0 1 0 1-1 1-1 1-2 1-1 1 3M30 577q.5 0 1-1t1-2 1-1 1-1l1-8 1-36 1-50 1-57 .3-18 .7 42 1 51 1 42 1 35 1 10q.5 3 1 3t1-2 1-5 1-5 1-3 1 0 1 4 1 6 1 3 1-2 1-6 1-6 1-2 1 1 1 2 1 2 1 1 1 0M140 579q.5 0 1-1t1-1 1 0 1-1 1-2 1-2 1-5l1-16 1-34 1-42 .6-26 .4 20 1 48 1 33 1 24 1 12q.5 2 1-2l1-15 1-33 .9-39 .1 3 1 33 1 24 1 14q.5 5 1 7t1 4 1 2 1-2 1-6 1-6 1-2 1 1 1 2M31 564q.5 1 1 1t1-1 1-1 1 0l1-2 1-9 1-26 1-31 .1-2 .9 25 1 25 1 20 1 12q.5 4 1 5t1-2 1-7 1-10 1-8 1 0 1 2 1 1 1 2 1 2 1 1 1-1 1-1 1 1 1 3 1 3 1 4 1 6M140 577q.5 -2 1-5t1-6 1-6l1-7 1-21 1-33 1-38 .2-7 .8 32 1 40 1 34 1 15q.5 4 1 4t1 1 1 0l1-7 1-23 1-28 1 26 1 20 1 9q.5 2 1 2t1 0 1-3 1-5 1-3 1-2 1-3 1-3 1-1 1 1 1 3M31 561q.5 -3 1-5t1 0 1 3l1-2 1-26 1-37 1-52 .4-23 .6 29 1 42 1 32 1 26 1 16q.5 4 1 3t1-4 1-8 1-10 1-11 1-8 1 3 1 8 1 5 1 5 1 8 1 10 1 7 1 1 1-2 1-1 1 0 1 1M140 576q.5 -1 1-2t1-3 1-4 1-5 1-7l1-9 1-22 1-36 1-47 .4-21 .6 35 1 49 1 39 1 20q.5 5 1 4t1-2 1 0 1-1l1-11 1-26 .9-26 .1 3 1 31 1 23 1 11q.5 2 1 0t1-4 1-2 1 2 1 5 1 3 1-1 1-2M31 564q.5 -2 1-2t1 1 1 2 1-1l1-10 1-21 1-35 1-39 1 38 1 26 1 21 1 19q.5 6 1 8t1 1 1-3 1-3 1 0 1 2 1 0 1-3 1-1 1 2 1 1 1 1 1 1 1-3 1-4 1-1 1 0 1 0M140 560q.5 1 1 4t1 5 1 1 1-3 1-3 1-3l1-8 1-23 1-29 1-30 1 32 1 29 1 26 1 8q.5 2 1 1t1 0 1 2 1-1 1-9l1-16 .7-15 .3 4 1 18 1 13q.5 3 1 2t1 0 1 2 1 1 1 0 1 0 1-3 1-4M31 564q.5 -1 1-1t1-1 1-3 1-7l1-14 1-36 1-36 .4-14 .6 20 1 33 1 25 1 20 1 9q.5 3 1 3t1 1 1 1 1-1 1-1 1 1 1 0 1-4 1-5 1-3 1-1 1 1 1 2 1 1 1 1 1 3 1 3 1 1M140 565q.5 0 1-1t1 0 1-1l1-10 1-21 1-30 1-37 .1-4 .9 32 1 33 1 14 1 11q.5 4 1 5t1 2 1 1 1 0 1 0 1 1 1 2 1 1 1-4l1-9 1-10 .2-3 .8 10 1 5q.5 2 1 2t1-1 1-1 1 0 1 1 1 1 1 1M31 556q.5 -3 1-5t1-1 1 3 1 2l1-7 1-20 1-26 .9-23 .1 1 1 30 1 19 1 14 1 14q.5 4 1 3t1-1 1 1 1 0 1-5 1-7 1-3 1 3 1 5 1 3 1 1 1 0 1 0 1-1 1-2 1 0 1 3 1 2M140 560q.5 2 1 0t1-2 1 0 1-7l1-22 1-31 1-35 .9-36 .1 5 1 47 1 34 1 24 1 16q.5 5 1 6t1 0 1-1 1 1 1-1 1-6l1-11 1-16 1 11 1 4q.5 2 1 4t1 4 1 4 1 3 1 1 1 0 1 0 1-1 1-1M31 556q.5 1 1 1t1-1 1-2 1-1 1-3l1-13 1-20 1-34 1-46 .1-4 .9 28 1 31 1 30 1 26q.5 8 1 9t1-1 1-4 1-4 1-2 1 0 1 0 1-1 1-3 1-3 1 0 1 3 1 3 1 0 1 0 1 2 1 1M140 541q.5 -2 1-1t1 4 1 5 1-2l1-16 1-33 1-45 .7-34 .3 14 1 46 1 32 1 30 1 8q.5 0 1-4t1-6 1-5l1-6 1-9 .1-2 .9 16 1 14 1 4q.5 0 1-2t1-2 1 0 1 0 1-1 1-3 1-3 1 0 1 3 1 2 1-1M31 539q.5 2 1 5t1 4 1 0 1-6l1-19 1-34 1-43 .7-33 .3 12 1 42 1 37 1 27 1 16q.5 5 1 5t1-1 1-3 1-4 1-6 1-6 1-2 1 2 1 3 1 3 1 4 1 4 1 1 1-2 1-2 1-1 1-1 1-2M140 551q.5 0 1-3t1-6 1-4 1-1 1-3l1-11 1-24 1-29 .2-7 .8 22 1 23 1 16 1 11q.5 4 1 6t1 4 1 3 1 0 1-5l1-12 .9-15 .1 2 1 16 1 9q.5 3 1 4t1 1 1 0 1-1 1-1 1 1 1 2 1-1 1-3 1-2M31 537q.5 1 1 3t1 4 1 0 1-10l1-22 1-26 1-29 .8-31 .2 8 1 35 1 32 1 26 1 7q.5 -1 1-10t1-20 1-18 1-4 1 10 1 13 1 9 1 6 1 6 1 6 1 5 1 2 1-1 1 0 1 3 1 2 1-1 1-1M140 540q.5 -1 1-2t1-2 1 0 1 2 1 2 1-3l1-14 1-34 1-41 .6-21 .4 17 1 41 1 30 1 18q.5 7 1 9t1 2 1-1 1-3 1-4 1-5l1-9 1-13 .2-2 .8 13 1 11 1 4q.5 1 1 1t1 1 1 2 1 1 1-1 1 0 1 3M31 538q.5 1 1 2t1 1 1-3l1-13 1-22 1-27 1-32 .2-6 .8 29 1 28 1 20 1 17q.5 6 1 8t1 2 1 0 1-1 1-1 1-1 1-3 1-2 1 2 1 1 1-3 1-3 1-2 1-1 1-1 1-2 1-2 1 1 1 5M140 541q.5 0 1-2t1-2 1 0 1-2l1-9 1-19 1-25 .7-21 .3 7 1 23 1 21 1 17q.5 7 1 10t1 2 1-2 1-1 1 0 1-1l1-5 1-15 .6-10 .4 7 1 12 1 5q.5 2 1 3t1 2 1 1 1-2 1-3 1-2 1-2 1-2 1-2M31 530q.5 0 1-1t1-4 1-4 1 0l1-2 1-28 1-50 1-60 .4-20 .6 30 1 48 1 40 1 31 1 16q.5 4 1 1t1-8 1-10 1-8 1-1 1 7 1 11 1 9 1 4 1 2 1 1 1 0 1 0 1-3 1-5 1-3 1-2M140 528q.5 2 1 2t1 0 1 0 1 0 1-5l1-17 1-30 1-32 1-32 1 43 1 25 1 16 1 14q.5 4 1 5t1 2 1 3 1 4 1 2 1-1 1-5l1-11 1-22 .9-22 .1 3 1 32 1 24 1 10q.5 2 1 1t1-2 1-1 1 0 1-3M31 528q.5 -1 1-3t1-5 1-8l1-17 1-37 1-55 1-64 1 58 1 53 1 42 1 29q.5 9 1 10t1 0 1-2 1-3 1-5 1-5 1-2 1 1 1 3 1 5 1 4 1 1 1-1 1-2 1-3 1-2 1 2 1 3 1 0M141 524q.5 1 1 2t1-2l1-12 1-35 1-48 1-56 .2-10 .8 45 1 49 1 34 1 22q.5 7 1 9t1 3 1 2 1 1 1-6l1-21 1-38 .3-13 .7 24 1 28 1 20q.5 6 1 6t1-1 1-1 1 2 1 3 1 0 1-2 1-3 1-4 1-2M31 520q.5 -1 1-1t1 0 1 1 1-1l1-12 1-33 1-41 1-55 .2-12 .8 38 1 44 1 36 1 25 1 10q.5 4 1 5t1 1 1 0 1-3 1-5 1-2 1 2 1 4 1-1 1-5 1-2 1 3 1 5 1 2 1-2 1-4 1-1M141 523q.5 1 1 2t1-1 1-8l1-19 1-32 1-40 .9-42 .1 6 1 49 1 38 1 32 1 14q.5 2 1 0t1-3 1-1 1 0 1 2 1 2 1-6l1-15 1-29 1 17 1 16 1 11q.5 5 1 6t1-2 1-5 1-2 1 3 1 5 1 2M31 509q.5 1 1 2t1-5l1-24 1-45 1-55 .8-48 .2 12 1 57 1 48 1 39 1 25q.5 7 1 5t1-6 1-6 1-1 1 2 1-1 1-5 1-4 1 1 1 5 1 6 1 4 1 2 1 2 1 0 1-5 1-7 1-3 1 2 1 3M141 514q.5 -1 1-3t1-3 1 0 1 1l1-6 1-30 1-43 1-51 .4-18 .6 33 1 49 1 39 1 28q.5 9 1 10t1-2 1-6 1-4 1 1 1 3 1-1l1-9 1-18 .3-4 .7 9 1 15 1 12q.5 4 1 4t1 0 1 0 1-1 1-5 1-7M31 499q.5 1 1 1t1 0 1-1l1-6 1-17 1-28 1-37 .2-8 .8 28 1 31 1 25 1 18q.5 7 1 9t1 2 1-1 1-4 1-4 1 0 1 3 1 4 1 2 1-2 1-3 1-1 1 0 1-2 1-4 1-2 1 3 1 6 1 4M141 497q.5 0 1 0t1 1 1 1 1-5l1-15 1-23 1-26 .6-18 .4 16 1 33 1 23 1 17q.5 6 1 8t1 2 1 1 1 2 1-3l1-13 1-30 .4-13 .6 11 1 22 1 17q.5 6 1 9t1 2 1-3 1-3 1-1 1 0 1-1 1-3 1-2M31 499q.5 -1 1-1t1 2 1 3 1-5l1-18 1-32 1-43 .5-21 .5 18 1 39 1 38 1 13 1 8q.5 3 1 2t1-4 1-9 1-13 1-12 1-2 1 8 1 7 1 2 1 2 1 7 1 10 1 7 1 2 1 1 1 1 1 0 1-1M141 499q.5 3 1 4t1 0 1-3 1-5l1-11 1-25 1-38 1-49 .1-6 .9 42 1 36 1 30 1 25q.5 9 1 10t1-3 1-5 1 0 1 2 1-1l1-8 1-18 .5-13 .5 10 1 19 1 9q.5 1 1-2t1-5 1 0 1 5 1 5 1 3 1 2M31 493q.5 -1 1-2t1 0 1 2 1-5l1-23 1-39 1-48 .5-26 .5 24 1 39 1 31 1 23 1 14q.5 5 1 6t1 1 1-4 1-9 1-6 1 4 1 9 1 6 1 3 1 1 1 0 1 0 1-1 1-3 1-3 1 0 1 4 1 4M141 486q.5 1 1 4t1 4 1 0 1-4l1-10 1-23 1-33 1-46 .3-16 .7 29 1 43 1 33 1 19q.5 5 1 3t1-3 1-1 1-1l1-6 1-21 .3-9 .7 14 1 19 1 17q.5 6 1 7t1 0 1-2 1-3 1-3 1-2 1-3 1-4 1-2M31 491q.5 0 1 3t1 4 1-1 1-3 1-7l1-17 1-27 1-31 .4-13 .6 18 1 27 1 18 1 13 1 9q.5 3 1 0t1-12 1-17 1-8 1 6 1 11 1 10 1 10 1 8 1 4 1 0 1-3 1-4 1-2 1 2 1 5 1 5M141 491q.5 2 1 4t1 0 1-2 1 1 1-3l1-19 1-23 1-29 .4-14 .6 16 1 27 1 22 1 16q.5 5 1 3l1-12 1-23 .9-20 .1 3 1 34 1 14 1 3q.5 1 1 1t1 0 1 1 1 3 1 3 1 2 1 1 1-2 1-4 1-4 1-2M31 474q.5 0 1 1t1 3 1 1l1-11 1-28 1-42 .9-47 .1 0 1 41 1 33 1 25 1 15q.5 5 1 6t1 3 1 6 1 7 1 4 1 1 1 1 1 0 1-3 1-4 1-3 1 0 1 2 1 2 1 2 1 0 1-3 1-4 1-3M141 487q.5 -4 1-7t1-4 1-1 1-1l1-4 1-19 1-31 1-41 .4-19 .6 27 1 38 1 29 1 18q.5 5 1 4t1-3 1-2 1 2 1 6 1 7 1 4 1-2l1-15 1-37 .7-34 .3 12 1 32 1 25 1 12q.5 4 1 4t1 1 1 1 1-1M31 490q.5 0 1 0t1-1 1-5l1-11 1-22 1-22 1-39 .2-10 .8 20 1 30 1 27 1 18q.5 6 1 8t1 2 1-4 1-13 1-17 1-12 1 2 1 10 1 7 1 7 1 7 1 5 1 4 1 4 1 3 1 0 1-2 1 0 1 2M141 489q.5 1 1 1t1 0 1-2l1-8 1-24 1-36 1-45 .3-14 .7 28 1 45 1 25 1 12q.5 4 1 6t1 3 1 1 1 1 1 3 1 3 1-5l1-18 1-33 .5-17 .5 18 1 29 1 18q.5 6 1 6t1 0 1-1 1-1 1 1 1 2 1 1M31 479q.5 1 1 1t1-1 1-1 1 2 1 1l1-11 1-31 1-37 1-37 .2-4 .8 35 1 35 1 24 1 17q.5 5 1 5t1-2 1-3 1-1 1 0 1 0 1 1 1 3 1 4 1 2 1-1 1-2 1-1 1 0 1 0 1-1 1 0M141 473q.5 0 1 0t1 2 1 3 1 0l1-9 1-29 1-35 1-42 .4-18 .6 30 1 37 1 29 1 26q.5 9 1 12t1 1l1-10 1-23 .9-24 .1 2 1 21 1 17 1 8q.5 2 1 2t1 0 1 0 1 2 1 4 1 2 1-1 1-2 1-1 1 0M31 479q.5 0 1-1t1-3 1-3 1-3 1-7l1-14 1-22 1-32 .7-27 .3 10 1 30 1 24 1 16 1 6q.5 -3 1-14t1-14 1 3 1 10 1 8 1 7 1 6 1 6 1 4 1 1 1 1 1 2 1 1 1 0 1-2 1-4 1-2M141 472q.5 1 1 3t1 3 1 0 1-8l1-22 1-30 1-38 .4-16 .6 19 1 35 1 30 1 20q.5 6 1 6t1-2 1-2 1 3 1 5 1 1 1-1 1 0 1-6l1-17 1-34 .6-22 .4 13 1 32 1 21q.5 6 1 7t1 1 1 0 1 1 1 1M31 470q.5 2 1 3t1-1 1-1 1-1l1-14 1-16 1-30 .5-12 .5 11 1 24 1 15 1 14q.5 5 1 6t1-2 1-6 1-11 1-10 1 2 1 7 1 5 1 2 1 0 1 0 1 3 1 7 1 7 1 3 1 0 1-2 1-4 1-2M141 473q.5 -2 1-4t1-2 1 2 1 3 1-1 1-3l1-4 1-23 1-24 1-39 1 34 1 28 1 17 1 11 1-17 1-31 .6-20 .4 16 1 23 1 16q.5 6 1 9t1 3 1 0 1-2 1-4 1-3 1 1 1 6 1 7 1 3 1 0M31 452q.5 -4 1-5t1 1 1 3 1-3l1-15 1-21 1-27 .7-21 .3 8 1 30 1 25 1 21 1 14q.5 3 1 1t1-3 1-1 1 2 1 3 1 1 1-2 1-3 1-1 1 0 1 1 1 2 1 3 1 3 1 0 1-3 1-3 1-1M141 471q.5 0 1-2t1-6 1-9 1-8l1-7 1-13 1-24 1-32 .2-4 .8 24 1 26 1 21 1 15q.5 5 1 6t1 2 1 2 1 0 1-3 1-7l1-15 1-31 .4-14 .6 21 1 25 1 16q.5 5 1 6t1 1 1 0 1 1 1 3 1 3 1 0M31 462q.5 0 1 1t1 1 1 0 1-2l1-8 1-31 1-42 1-47 .4-23 .6 29 1 41 1 41 1 28 1 7q.5 1 1-1t1-3 1 0 1 2 1 1 1 1 1 3 1 3 1 1 1 0 1-1 1-3 1-4 1-3 1 0 1 3 1 4M141 454q.5 3 1 6t1 3 1 0 1 1 1-2l1-13 1-27 1-36 1-49 .1-5 .9 37 1 43 1 29 1 14q.5 5 1 3l1-13 1-33 .5-17 .5 13 1 31 1 20q.5 7 1 7t1-2 1-2 1 1 1 1 1 0 1 0 1-1 1-3 1-4 1-3M31 456q.5 -1 1-1t1 1 1-4l1-23 1-40 1-48 .8-45 .2 11 1 51 1 43 1 32 1 18q.5 4 1 1t1-4 1 2 1 6 1 1 1-6 1-6 1 0 1 6 1 6 1 1 1-2 1 0 1 3 1 2 1-1 1-3 1-2 1 1M141 455q.5 1 1 2t1 0 1-4l1-8 1-27 1-37 1-53 .4-24 .6 30 1 51 1 39 1 26q.5 8 1 9t1 0 1-4 1-5 1-3 1 1 1 1l1-12 1-34 .3-9 .7 12 1 22 1 21q.5 8 1 10t1 1 1-2 1 0 1 2 1 1 1-1M31 446q.5 2 1 4t1-1 1-4 1 1 1 2l1-3 1-14 1-27 1-30 .1-3 .9 25 1 22 1 14 1 11q.5 5 1 8t1 4 1-2 1-4 1 1 1 3 1 0 1-3 1-2 1 1 1 2 1 2 1 1 1-2 1-2 1 2 1 3M141 448q.5 -1 1-2t1-2 1-6l1-17 1-45 1-54 .6-28 .4 24 1 55 1 42 1 31 1 5q.5 1 1 0t1 0 1 0 1-3 1-5l1-8 1-14 .3-8 .7 10 1 13 1 12q.5 5 1 6t1-1 1-3 1-1 1 1 1 1 1 1 1 2 1-1M31 446q.5 0 1-2t1-5l1-11 1-22 1-27 1-34 .1-5 .9 27 1 25 1 28 1 26q.5 8 1 7t1-5 1-5 1 1 1 4 1 2 1-2 1-4 1-3 1-1 1 2 1 4 1 2 1-1 1-1 1 1 1 1 1-1 1-2 1-2M141 437q.5 -1 1 1t1 1l1-10 1-34 1-46 1-54 .1-5 .9 45 1 48 1 36 1 18q.5 4 1 4t1 3 1 6 1 1 1-6 1-6 1-6l1-13 1-29 .1-4 .9 23 1 19 1 11q.5 3 1 3t1 1 1 3 1 2 1-1 1-2 1 0 1 1M31 437q.5 -1 1-1t1 1 1 2 1 1 1-6l1-19 1-31 1-43 .5-23 .5 18 1 40 1 32 1 23 1 11q.5 3 1 1t1-3 1-1 1 2 1 3 1-1 1-3 1 0 1 2 1 1 1-1 1-3 1-4 1-3 1-2 1-2 1-2M141 442q.5 -2 1-3t1-3l1-8 1-28 1-37 1-44 .4-21 .6 29 1 47 1 39 1 25q.5 8 1 8t1 0 1 0 1 0 1-1 1-3l1-9 1-24 1-31 1 30 1 24 1 9q.5 1 1 0t1 0 1 2 1 0 1-2 1-2 1-3 1-3M31 429q.5 4 1 6t1-2 1-7l1-10 1-28 1-43 1-63 .3-20 .7 40 1 52 1 37 1 21 1 8q.5 3 1 5t1 5 1 5 1 1 1-5 1-5 1 2 1 6 1 2 1-4 1-3 1 2 1 3 1 0 1-2 1-3 1-5 1-4M141 441q.5 -2 1-7t1-7 1 1 1-1l1-21 1-26 1-26 .3-8 .7 24 1 32 1 17 1 14q.5 4 1 4t1-3 1-9l1-13 1-23 1-30 .1 0 .9 35 1 26 1 8q.5 1 1 0t1 2 1 5 1 1 1-4 1-3 1 2 1 3 1 0 1-2M31 431q.5 -1 1-3t1-2 1-1 1-8l1-20 1-31 1-39 .6-29 .4 16 1 42 1 32 1 22 1 10q.5 2 1 2t1-1 1-2 1-1 1 2 1 4 1 4 1 4 1 3 1 1 1-1 1-3 1-3 1-2 1 0 1 4 1 4 1 0M141 430q.5 0 1 1t1 1 1-2 1-7l1-16 1-26 1-33 .7-27 .3 8 1 39 1 34 1 23 1 9q.5 2 1 0t1-5 1-5 1-1 1 2 1-3l1-11 1-16 .3-6 .7 14 1 17 1 12q.5 4 1 5t1 0 1-2 1-3 1-3 1-2 1 0M31 418q.5 0 1 0t1 1 1 1 1-2l1-9 1-35 1-50 1-63 .4-29 .6 31 1 57 1 52 1 41 1 9q.5 1 1-1t1-2 1 2 1 5 1 4 1 0 1-2 1 0 1 0 1-4 1-4 1-2 1-1 1-1 1-1 1 1 1 2M141 416q.5 -1 1 0t1 2 1 0 1-7l1-17 1-23 1-31 .3-10 .7 23 1 28 1 22 1 13q.5 3 1 2t1 0 1 5 1 4 1-7l1-20 1-31 .5-16 .5 16 1 34 1 21q.5 7 1 8t1-1 1-2 1-1 1-4 1-4 1-2 1-1 1-1M31 406q.5 1 1 3t1 6 1 5l1-9 1-21 1-26 1-34 .1-3 .9 28 1 30 1 15 1 11q.5 4 1 6t1 2 1-1 1-1 1 0 1 1 1 3 1 3 1 0 1-5 1-7 1-2 1 4 1 5 1 3 1 2 1 1 1 0 1-3M141 414q.5 -4 1-7t1-3 1 0l1-3 1-19 1-24 1-46 .4-18 .6 29 1 42 1 32 1 21q.5 7 1 8t1-4 1-15l1-26 1-38 .2-5 .8 29 1 29 1 19q.5 6 1 6t1 1 1 2 1 0 1-5 1-7 1-2 1 4 1 5 1 3 1 2M31 398q.5 -1 1 0t1 2 1 4 1 5 1-4l1-21 1-42 1-51 .6-33 .4 21 1 51 1 43 1 29 1 13q.5 2 1 0t1-3 1-4 1-6 1-7 1-7 1-2 1 2 1 2 1 4 1 7 1 8 1 6 1 2 1 0 1-1 1-2M141 412q.5 -3 1-6t1-5 1-4l1-8 1-22 1-28 1-35 .4-14 .6 30 1 40 1 29 1 20q.5 6 1 8t1 3 1 1 1-1 1-3 1-3 1-5l1-15 1-32 .7-28 .3 10 1 38 1 26 1 8q.5 0 1-3t1-3 1 2 1 3 1 2 1 1M31 407q.5 1 1 0t1-2 1-1 1-3l1-10 1-20 1-29 .6-20 .4 12 1 26 1 21 1 16 1 6q.5 1 1-1t1-1 1 5 1 5 1-4 1-11 1-7 1 2 1 6 1 7 1 6 1 2 1 1 1 1 1 0 1 0 1 0 1-1M141 399q.5 -2 1 0t1 4 1 2 1-7l1-20 1-29 1-33 .4-15 .6 26 1 38 1 28 1 16q.5 5 1 4t1-2 1-3 1-4 1-3 1-1l1-1 1-16 1-36 1 19 1 19 1 16q.5 5 1 7t1 4 1 3 1 0 1 0 1 0 1-1M31 410q.5 1 1 0t1 0 1 0 1-8l1-25 1-44 1-58 .8-52 .2 12 1 56 1 48 1 37 1 23q.5 7 1 7t1-1 1-6 1-14 1-19 1-14 1 2 1 11 1 10 1 10 1 8 1 3 1-3 1-5 1-1 1 5 1 8 1 6M141 393q.5 0 1 3t1 7 1 3l1-9 1-25 1-34 1-48 .4-18 .6 29 1 42 1 32 1 21q.5 7 1 8t1 0 1-1 1 0 1 1 1 1 1-1 1-3 1-5l1-8 1-14 .8-15 .2 4 1 17 1 17q.5 6 1 8t1-1 1-8 1-7 1-1M31 394q.5 0 1-1t1-3 1-6l1-11 1-19 1-28 .3-8 .7 16 1 22 1 23 1 14q.5 4 1 4t1-1 1-2 1-5 1-8 1-5 1 2 1 6 1 5 1 4 1 4 1 3 1 2 1 2 1 1 1 0 1-3 1-5 1-1 1 3M141 386q.5 0 1 1t1 3 1 3 1-2l1-8 1-17 1-21 1-28 .2-6 .8 22 1 23 1 21 1 18q.5 5 1 5t1-2 1-2 1 0 1-1 1-4 1-6l1-5 1-10 .1-1 .9 13 1 11q.5 5 1 8t1 3 1 0 1 1 1 0 1-1 1-3M31 392q.5 -2 1-2t1 1 1 1 1-6l1-23 1-38 1-40 1-47 1 53 1 43 1 38 1 20q.5 6 1 6t1 1 1 1 1-2 1-1 1 1 1-2 1-4 1-3 1 0 1 4 1 4 1-1 1-1 1 1 1-2 1-1 1 2M141 396q.5 2 1 3t1-2 1-10l1-20 1-24 1-30 .5-19 .5 15 1 26 1 23 1 24q.5 9 1 12t1 3 1-3l1-10 1-22 .3-6 .7 13 1 17 1 13q.5 3 1 1t1-2 1 0 1-2 1-4 1-3 1 0 1 4 1 4 1-1 1-1 1 1M31 395q.5 0 1-2t1-4 1-3 1-2 1-2l1-7 1-31 1-49 1-58 .2-9 .8 41 1 49 1 41 1 26 1 6q.5 1 1 0t1-2 1-3 1-3 1 0 1 3 1 3 1 1 1 1 1 1 1 0 1 1 1 2 1 1 1 0 1-1M141 393q.5 0 1 0t1 0 1 0 1-3l1-11 1-26 1-36 1-37 .3-11 .7 34 1 38 1 23 1 15q.5 5 1 6t1 3 1 4 1-2l1-17 1-31 .6-23 .4 13 1 26 1 17q.5 6 1 9t1 4 1 2 1 1 1 0 1 1 1 1 1 0 1 1M31 375q.5 1 1 3t1 3 1 1 1 0 1-2l1-8 1-26 1-33 1-37 .1-3 .9 33 1 32 1 26 1 14q.5 2 1-4t1-15 1-14 1-2 1 8 1 6 1 2 1 4 1 8 1 10 1 7 1 0 1-4 1-3 1-1 1 1 1 2M141 383q.5 -2 1-4t1-3 1-1 1-2l1-12 1-34 1-46 1-50 1 55 1 44 1 32 1 20q.5 5 1 5t1 0 1-2l1-9 1-19 .5-11 .5 8 1 17 1 14q.5 5 1 6t1-3 1-7 1-4 1 1 1 6 1 5 1-1 1-4 1-3M31 385q.5 0 1 0t1 0 1-2 1-6l1-10 1-26 1-39 1-51 .3-17 .7 31 1 48 1 34 1 25 1 13q.5 3 1 0t1-7 1-7 1-6 1-5 1-2 1 1 1 3 1 4 1 3 1 1 1 1 1 1 1-1 1-2 1-1 1 1M141 381q.5 0 1 1t1 2 1 1 1-3l1-10 1-26 1-38 1-40 .2-5 .8 37 1 36 1 25 1 18q.5 6 1 7t1 0 1-1 1 0 1-2 1-4 1-3 1-3l1-8 1-19 .8-21 .2 5 1 20 1 18q.5 6 1 7t1 0 1-1 1-1 1-2M31 379q.5 -1 1-2t1-1 1 0 1 1 1-2l1-15 1-21 1-23 .7-18 .3 8 1 21 1 15 1 11 1 2q.5 0 1 1t1 4 1 5 1 3 1 3 1 4 1 1 1-1 1 1 1 1 1 0 1 1 1 1 1 0 1 1 1 1 1 0M141 378q.5 1 1 2t1 1 1-1 1-5l1-16 1-29 1-40 1-47 .2-7 .8 38 1 44 1 37 1 23q.5 5 1 3t1-4 1-2 1 0 1 1 1 1 1-5l1-19 1-32 .3-10 .7 24 1 21 1 15q.5 5 1 6t1 1 1 0 1 0 1 1 1 1M31 372q.5 -1 1 0t1 2 1-1 1-5l1-8 1-18 1-29 .9-28 .1 2 1 23 1 23 1 21 1 15q.5 5 1 6t1 0 1-2 1-2 1-2 1 0 1 2 1 0 1-3 1-1 1 3 1 3 1-1 1-2 1 1 1 2 1 0 1-1M141 370q.5 2 1 3t1 1 1-1 1-2 1-6l1-17 1-25 1-27 .4-14 .6 19 1 25 1 18 1 13q.5 4 1 6t1 4 1 4 1 3 1-1 1-8l1-16 1-24 .1-3 .9 19 1 20 1 10q.5 1 1-2t1-2 1 3 1 3 1-1 1-2 1 1M31 368q.5 2 1 2t1 0 1-2 1-8l1-15 1-18 1-22 .6-16 .4 11 1 29 1 15 1 15 1 12q.5 2 1-1t1-6 1-4 1 0 1 3 1 2 1-2 1-4 1-3 1-2 1-3 1-2 1 1 1 2 1 1 1 0 1 1 1 2M141 356q.5 1 1 3t1 5 1 3l1-5 1-26 1-33 1-48 .4-20 .6 26 1 41 1 34 1 23q.5 9 1 11t1 0 1-1 1 1 1-3 1-5 1-3 1 0 1 3 1 2 1-2 1-6l1-13 1-22 .5-13 .5 8 1 16 1 15q.5 5 1 6t1 1M31 353q.5 0 1 1t1 1 1-2l1-9 1-18 1-26 .5-16 .5 9 1 16 1 16 1 17q.5 7 1 11t1 2 1-9 1-15 1-17 1-13 1 3 1 16 1 15 1 7 1 4 1 7 1 7 1 4 1-1 1-1 1 1 1-3 1-3 1 2M141 357q.5 1 1 1t1-2 1-2 1 0 1 0 1-3l1-11 1-18 1-26 .3-9 .7 15 1 17 1 14 1 15q.5 5 1 7t1 1 1-3 1-7l1-18 1-32 .7-25 .3 13 1 40 1 31 1 4q.5 1 1 0t1 0 1 3 1 2 1-2 1-1 1 1M31 342q.5 2 1 5t1 5 1 2 1-1 1-2 1-5l1-15 1-22 1-34 .8-34 .2 3 1 34 1 21 1 14 1 10q.5 2 1 2t1 4 1 9 1 7 1 1 1-2 1 1 1 6 1 7 1 3 1-2 1-4 1-2 1 0 1-1 1-1M141 342q.5 -1 1-2t1-1 1 2 1 5 1 3l1-8 1-19 1-25 .9-28 .1 3 1 29 1 27 1 18 1 8q.5 1 1-2t1-7 1-9l1-12 1-17 .3-6 .7 19 1 25 1 13q.5 3 1 1t1-6 1-4 1 3 1 6 1 3 1-2 1-4 1-2M31 343q.5 1 1 3t1 4 1 3 1-1 1-9l1-20 1-29 1-38 1-46 1 45 1 41 1 30 1 19q.5 4 1-1t1-14 1-16 1-9 1 3 1 10 1 9 1 8 1 7 1 6 1 4 1 0 1-2 1 0 1 2 1 2 1-1M141 351q.5 -3 1-5t1-3 1 0 1-1l1-7 1-21 1-33 .9-40 .1 4 1 31 1 30 1 23 1 11q.5 4 1 5t1 3 1 2 1 0 1-2 1-3 1 0 1 5 1 4 1-5l1-15 .8-15 .2 4 1 15 1 11q.5 4 1 5t1-1 1-3 1 0M31 341q.5 -1 1-2t1-2 1-3 1-10l1-24 1-33 1-47 .5-27 .5 23 1 51 1 36 1 31 1 8q.5 1 1-1t1-3 1-2 1-3 1-4 1-4 1 1 1 8 1 6 1 2 1 1 1 0 1 2 1 3 1-1 1-3 1-1 1 0M141 343q.5 0 1-1t1-1 1 0 1-4l1-15 1-34 1-47 1-51 .2-7 .8 49 1 51 1 38 1 26q.5 7 1 6t1-3 1-5 1-5 1-3 1-4l1-13 1-24 .5-13 .5 12 1 26 1 23q.5 7 1 7t1 0 1-2 1-3 1 1 1 3 1-2M31 343q.5 1 1 1t1 0 1-2 1-6 1-8l1-10 1-20 1-25 1-26 1 27 1 22 1 15 1 14q.5 6 1 10t1 5 1-1 1-5 1-3 1 2 1 2 1 0 1 2 1 4 1 3 1 1 1 0 1 0 1-1 1-2 1-2M141 334q.5 0 1 1t1 3 1 3 1-1l1-8 1-24 1-39 1-43 .2-7 .8 31 1 32 1 21 1 3 1-16 .3-8 .7 15 1 15 1 13q.5 6 1 11t1 8 1 2 1-3 1-2 1 1 1 0 1-2 1 0 1 3 1 2 1-1 1-1 1 1M31 339q.5 0 1 0t1 0 1-1 1-2 1-6l1-19 1-31 1-44 .5-20 .5 17 1 36 1 36 1 21 1 6q.5 0 1-5t1-10 1-9 1-4 1 4 1 8 1 5 1 0 1-1 1 1 1 4 1 6 1 4 1 2 1 1 1 0 1 0M141 333q.5 3 1 5t1 2 1 0 1-2 1-8l1-18 1-24 1-28 .3-9 .7 21 1 28 1 15 1 10q.5 4 1 6t1 4 1 1 1-7l1-16 1-25 .4-11 .6 9 1 22 1 20q.5 7 1 9t1 0 1-5 1-5 1-2 1 2 1 4 1 3 1 2M0 331q.5 0 1 1t1 2 1 0 1-2 1-1 1 0 1 0 1 1 1 2 1 1 1 0 1 0 1-1 1-2 1-4 1-4 1 2 1 6 1 2 1-3 1-2 1 2 1 3 1 0 1 0 1 1 1 0 1 0 1 0 1-2 1-3 1-1 1 0 1 0 1-1 1-2 1-7l1-19 1-35 1-46 .8-38 .2 11 1 50 1 36 1 32 1 23q.5 5 1 2t1-4 1-1 1 1 1 2 1 0 1-2 1 0 1 1 1-3 1-5 1-2 1-1 1-3 1-5 1-3 1 3 1 7 1 8 1 6 1 2 1 0 1 0 1 0 1 0 1-2 1-4 1 0 1 3 1-2 1-4 1 0 1 2 1 0 1-3 1-3 1 1 1 4 1 4 1 2 1 0 1 0 1 0 1 0 1 0 1 0 1 0 1-1 1-1 1-1 1-2 1 0 1 3 1 2 1 0 1 0 1 0 1 0 1-1 1-4 1-4 1 2 1 5 1 1 1 0 1 1 1-1 1-1 1 1 1 2 1 0 1-3 1-2 1 1 1 1 1 0 1 1 1 1 1 0 1 1 1 0 1-3 1-4 1-3 1 1 1 5 1 2 1-3 1-2 1 2 1 3 1 0 1 0 1 2 1 0 1-1 1 0 1-1 1-2 1-5l1-15 1-33 1-44 1-55 .1-6 .9 46 1 49 1 37 1 24q.5 7 1 8t1 0 1-3 1-1 1 1 1-2 1-4 1-7l1-16 1-27 .2-6 .8 23 1 20 1 15q.5 5 1 5t1-4 1-6 1-2 1-1 1-4 1-5 1-2 1 2 1 6 1 8 1 6 1 2 1 0 1 0 1 0 1 0 1-2 1-3 1 0 1 2 1-1 1-3 1 0 1 2 1-1 1-4 1-2 1 2 1 4 1 4 1 2 1-1 1-1 1 0 1 0 1 0 1 0 1 1 1 0 1-2 1-2 1-2 1 1 1 4 1 2 1 0 1 0 1 0 1 0 1-1 1-5 1-5 1 2 1 6 1 2 1 0 1 1 1-1 1-1M0 322q.5 0 1 2t1 4 1 2 1 0 1-2 1-3 1 0 1 2 1 0 1-1 1 0 1-1 1-1 1 0 1 0 1 1 1 2 1 1 1-1 1-3 1 0 1 4 1 2 1 0 1-1 1 0 1 1 1-1 1-2 1-1 1 1 1 0 1-1 1 1 1-1 1-6l1-13 1-25 1-38 1-42 1 42 1 33 1 27 1 16q.5 4 1 3t1-1 1-1 1-4 1-10 1-13 1-5 1 5 1 8 1 8 1 7 1 6 1 5 1 1 1-2 1 0 1 2 1 1 1 0 1 0 1 0 1-1 1-2 1-3 1-6 1-6 1-1 1 4 1 4 1-1 1-4 1-1 1 5 1 7 1 3 1-2 1-3 1-2 1-1 1 1 1 2 1 2 1 3 1 2 1-1 1-2 1-1 1 0 1 0 1 0 1 1 1 0 1-3 1-3 1-1 1 1 1 1 1 0 1 0 1 1 1 1 1 0 1 1 1 1 1 0 1 0 1 0 1-1 1-2 1 1 1 4 1 2 1 0 1-2 1-3 1 0 1 2 1 0 1-1 1 0 1-1 1-1 1 0 1 0 1 1 1 2 1 1 1-1 1-3 1 0 1 4 1 2 1 0 1-1 1 0 1 1 1-1 1-2 1-1 1 1 1 0 1-2 1-6l1-24 1-38 1-42 .6-29 .4 18 1 49 1 39 1 27 1 9q.5 2 1 0t1-5l1-11 1-16 .6-8 .4 8 1 19 1 9q.5 2 1 1t1-3 1-2 1 1 1 2 1 2 1 2 1 2 1 0 1-2 1 0 1 2 1 1 1 0 1 0 1 0 1-1 1-2 1-3 1-6 1-6 1-1 1 4 1 4 1-1 1-4 1-1 1 5 1 7 1 3 1-2 1-3 1-2 1-1 1 1 1 2 1 2 1 3 1 2 1-1 1-2 1-1 1 0 1 0 1 0 1 1 1 0 1-3 1-3 1-1 1 1 1 1 1 0 1 0 1 1 1 1 1 0 1 1 1 1 1 0 1 0 1 0 1-1 1-2M0 324q.5 0 1-1t1-2 1-2 1-1 1 1 1 3 1 3 1 1 1 0 1-1 1-1 1 0 1-3 1-3 1 2 1 4 1 1 1-3 1-3 1 0 1 3 1 2 1 0 1 0 1-1 1-2 1-3 1-5 1-3 1 4 1 7 1 3 1 0 1 0 1-2 1-9l1-22 1-38 1-46 .9-55 .1 2 1 54 1 39 1 30 1 21q.5 6 1 5t1-3 1 0 1 5 1 5 1 5 1 4 1 2 1 2 1 0 1-4 1-4 1-1 1 1 1 3 1 4 1 0 1-5 1-6 1-5 1-1 1 5 1 6 1 1 1-4 1-5 1-1 1 3 1 2 1-1 1 0 1 4 1 4 1 1 1 0 1 2 1 2 1 0 1-1 1-4 1-3 1 3 1 5 1 1 1-1 1-1 1-4 1-3 1 2 1 4 1 2 1-2 1-4 1-3 1-2 1-1 1 1 1 3 1 3 1 2 1 1 1 0 1 0 1-1 1-1 1 1 1 2 1 1 1 0 1-1 1-2 1-2 1-1 1 1 1 3 1 3 1 1 1 0 1-1 1-1 1 0 1-3 1-3 1 2 1 4 1 1 1-3 1-3 1 0 1 3 1 2 1 0 1 0 1-1 1-2 1-3 1-5 1-3 1 3 1 3l1-9 1-25 1-30 .9-35 .1 4 1 33 1 28 1 24 1 18q.5 5 1 4t1-4 1-7 1-5 1 1 1 2l1-8 1-24 .7-22 .3 8 1 27 1 21 1 9q.5 2 1 1t1-2 1-2 1-4 1-4 1-1 1 1 1 3 1 4 1 0 1-5 1-6 1-5 1-1 1 5 1 6 1 1 1-4 1-5 1-1 1 3 1 2 1-1 1 0 1 4 1 4 1 1 1 0 1 2 1 2 1 0 1-1 1-4 1-3 1 3 1 5 1 1 1-1 1-1 1-4 1-3 1 2 1 4 1 2 1-2 1-4 1-3 1-2 1-1 1 1 1 3 1 3 1 2 1 1 1 0 1 0 1-1 1-1 1 1 1 2 1 1 1 0M0 316q.5 -3 1-5t1-2 1 2 1 5 1 4 1 0 1-3 1-2 1 1 1 2 1 0 1-2 1 0 1 1 1 0 1 1 1 1 1 0 1 0 1 0 1 0 1 0 1-1 1-2 1-6 1-7 1-3 1 0 1 3 1 4 1 4 1 4 1 3 1-2l1-6 1-30 1-38 1-43 .3-12 .7 26 1 35 1 28 1 19 1 8q.5 3 1 5t1 3 1 1 1-1 1-2 1 0 1 4 1 5 1 2 1 0 1-1 1-1 1 0 1-1 1-2 1-2 1-1 1 0 1 0 1-1 1 0 1 3 1 2 1 0 1 1 1-2 1-4 1-1 1 0 1 2 1 5 1 3 1 0 1 0 1 0 1 0 1-1 1-4 1-5 1-2 1 1 1 2 1 2 1 2 1 2 1 2 1 1 1 0 1 0 1 0 1-1 1-2 1-2 1-1 1-1 1-2 1-1 1 1 1 3 1 2 1-1 1-3 1-2 1 0 1 1 1 3 1 4 1 2 1-1 1-4 1-5 1-2 1 3 1 6 1 4 1 0 1-3 1-3 1 0 1 2 1 1 1-1 1 0 1 1 1 0 1 1 1 1 1-1 1-1 1 0 1 1 1 1 1-1 1-2 1-6 1-8 1-4 1 0 1 3 1 4 1 1l1-6 1-14 1-31 .9-26 .1 3 1 24 1 20 1 17 1 9q.5 2 1 2t1 0 1-1 1 0 1 3 1 3 1-4l1-19 1-30 .2-6 .8 20 1 26 1 21q.5 5 1 4t1-1 1-1 1-2 1-1 1-1 1-2 1-1 1 0 1 0 1 0 1-1 1 0 1 3 1 1 1 0 1 2 1-2 1-4 1-2 1 0 1 3 1 4 1 2 1 0 1 0 1 0 1 0 1-1 1-4 1-5 1-2 1 2 1 3 1 2 1 2 1 2 1 2 1 1 1 0 1-1 1-1 1 0 1-2 1-3 1-1 1 0 1-1 1-2 1 0 1 3 1 3 1-1 1-4 1-2 1 1 1 2 1 2 1 3 1 3 1 0 1-4M0 309q.5 -2 1-1t1 3 1 2 1-1 1-1 1-1 1-3 1-2 1 2 1 4 1 2 1-1 1-1 1 0 1-2 1-4 1-2 1 3 1 6 1 3 1-2 1-4 1-2 1 0 1 0 1-2 1-2 1 2 1 5 1 4 1 1 1 0 1 0 1 0 1-5l1-19 1-32 1-41 1-51 .1-6 .9 40 1 41 1 38 1 28q.5 8 1 8t1-3 1-3 1 2 1 3 1 0 1-1 1-2 1-6 1-7 1-2 1 5 1 7 1 3 1-1 1-3 1-2 1 0 1 1 1 3 1 3 1-1 1-5 1-2 1 4 1 5 1 1 1-3 1-3 1 1 1 3 1-1 1-3 1-2 1 0 1 1 1-1 1-2 1 0 1 1 1-1 1-1 1 3 1 5 1 2 1-3 1-6 1-2 1 4 1 5 1 1 1-3 1-3 1-1 1 0 1 2 1 4 1 1 1-2 1-2 1 0 1 3 1 1 1-3 1-3 1 0 1 2 1 3 1 2 1-3 1-2 1 3 1 2 1-1 1-2 1-2 1-3 1-2 1 2 1 4 1 2 1-1 1-1 1 0 1-1 1-3 1-2 1 3 1 5 1 3 1-1 1-4 1-2 1 0 1-1 1-2 1-2 1 1 1 5 1 4 1 1 1 0 1-4l1-16 1-33 1-41 .8-34 .2 9 1 44 1 35 1 23 1 11q.5 4 1 5t1 2 1-1 1-5l1-10 1-11 .5-6 .5 10 1 9 1 10q.5 3 1 2t1-6 1-8 1-2 1 5 1 7 1 3 1-1 1-3 1-2 1 0 1 1 1 3 1 3 1-1 1-5 1-2 1 4 1 5 1 1 1-3 1-3 1 1 1 3 1-1 1-3 1-2 1 0 1 1 1-1 1-2 1 0 1 1 1-1 1-1 1 3 1 5 1 2 1-3 1-6 1-2 1 4 1 5 1 1 1-3 1-3 1-1 1 0 1 2 1 4 1 1 1-2 1-2 1 0 1 3 1 1 1-3 1-3 1 0 1 2 1 3 1 2 1-3M0 297q.5 -2 1-1t1 3 1 5 1 3 1-2 1-4 1-2 1 2 1 4 1 3 1 1 1-1 1-1 1 1 1 0 1-3 1-3 1-1 1 2 1 4 1 3 1 0 1-3 1-4 1-3 1-1 1 2 1 5 1 3 1-1 1 0 1 1 1-1 1-1 1 0 1-2 1-8l1-20 1-43 1-55 .7-41 .3 15 1 55 1 43 1 35 1 22q.5 5 1 3t1-3 1-1 1 0 1-2 1-4 1-2 1 2 1 4 1 3 1-1 1-4 1-2 1 1 1 1 1 1 1 3 1 3 1 0 1-1 1 0 1 0 1-4 1-8 1-5 1 0 1 3 1 3 1 2 1 2 1 2 1 1 1 0 1 0 1 0 1 0 1 0 1 0 1 0 1 1 1 2 1 1 1 0 1 0 1-2 1-2 1-1 1-2 1-2 1-1 1 0 1 1 1 4 1 4 1 1 1 0 1 0 1 1 1-1 1-3 1-1 1 1 1 2 1 1 1-2 1-3 1-3 1-4 1-1 1 3 1 5 1 3 1-2 1-4 1-2 1 2 1 4 1 3 1 1 1-1 1-1 1 1 1 0 1-3 1-3 1-1 1 2 1 4 1 3 1 0 1-3 1-4 1-3 1-1 1 2 1 5 1 3 1-1 1 0 1 1 1-1 1-5l1-15 1-34 1-43 1-40 1 48 1 39 1 34 1 17q.5 4 1 3t1-1 1-1 1-5l1-10 1-13 .3-5 .7 10 1 9 1 3q.5 1 1 1t1 1 1 3 1 3 1 0 1-3 1-2 1 1 1 1 1 1 1 3 1 2 1-1 1-1 1 1 1 0 1-5 1-8 1-5 1 1 1 3 1 2 1 2 1 3 1 3 1 1 1-1 1-1 1 0 1 0 1 0 1 0 1 0 1 1 1 2 1 2 1 1 1 0 1-2 1-2 1-1 1-2 1-2 1-1 1 0 1 1 1 4 1 4 1 1 1-1 1-1 1 1 1 0 1-2 1-1 1 0 1 1 1 2 1-1 1-3 1-3 1-4"/></g><g fill="none" stroke="#ff0000" stroke-width="2.2"><circle cx="1771.9" cy="579.2"/><circle cx="1774.4" cy="549.7"/><circle cx="1791.9" cy="580.5"/><circle cx="1801.5" cy="559.8"/><circle cx="1782.9" cy="535.9"/><circle cx="1784.9" cy="561.3"/><circle cx="1799" cy="565.5"/><circle cx="1780.4" cy="559.6"/><circle cx="1773.9" cy="544.2"/><circle cx="1796.5" cy="554.5"/><circle cx="1771.9" cy="548.7"/><circle cx="1797" cy="518.1"/><circle cx="1775.4" cy="536.8"/><circle cx="1780.4" cy="528.5"/><circle cx="1779.9" cy="517.7"/><circle cx="1798.5" cy="506.3"/><circle cx="1810.5" cy="509"/><circle cx="1788.4" cy="529.6"/><circle cx="1782.4" cy="496"/><circle cx="1789.4" cy="511.2"/><circle cx="1794.5" cy="499.5"/><circle cx="1803" cy="515"/><circle cx="1778.4" cy="471"/><circle cx="1778.4" cy="477.4"/><circle cx="1797.5" cy="480.9"/><circle cx="1790.9" cy="457.2"/><circle cx="1792.4" cy="482.9"/><circle cx="1790.9" cy="454.1"/><circle cx="1784.9" cy="456.9"/><circle cx="1796" cy="453.3"/><circle cx="1786.9" cy="469.2"/><circle cx="1769.4" cy="460.1"/><circle cx="1799" cy="438.9"/><circle cx="1801.5" cy="451.1"/><circle cx="1766.9" cy="443.6"/><circle cx="1773.4" cy="454.3"/><circle cx="1781.4" cy="445.8"/><circle cx="1792.4" cy="427.9"/><circle cx="1798.5" cy="429.8"/><circle cx="1795.5" cy="449.4"/><circle cx="1798.5" cy="413"/><circle cx="1804.5" cy="429.1"/><circle cx="1789.4" cy="403.7"/><circle cx="1787.9" cy="419.9"/><circle cx="1800" cy="396.6"/><circle cx="1786.9" cy="383.8"/><circle cx="1791.9" cy="385.3"/><circle cx="1773.9" cy="381.2"/><circle cx="1775.9" cy="373.9"/><circle cx="1798.5" cy="394.2"/><circle cx="1772.9" cy="366.8"/><circle cx="1774.9" cy="371.9"/><circle cx="1776.9" cy="379.7"/><circle cx="1804" cy="368.4"/><circle cx="1765.9" cy="366.3"/><circle cx="1779.4" cy="371.9"/><circle cx="1780.4" cy="359.8"/><circle cx="1813" cy="358.9"/><circle cx="1807" cy="347.6"/><circle cx="1785.9" cy="355.5"/><circle cx="1775.9" cy="349.7"/><circle cx="1804" cy="327.8"/><circle cx="1794" cy="322.2"/><circle cx="1784.4" cy="341.7"/><circle cx="1798" cy="314.3"/><circle cx="1777.9" cy="309.1"/><circle cx="1796.5" cy="316.4"/><circle cx="1804" cy="298.1"/><circle cx="1785.4" cy="325.6"/><circle cx="1775.4" cy="314.3"/><circle cx="1808" cy="300.6"/><circle cx="1766.9" cy="283.9"/><circle cx="1807.5" cy="284.4"/><circle cx="1779.4" cy="305.2"/><circle cx="1790.9" cy="296.8"/><circle cx="1793" cy="278.3"/><circle cx="1800.5" cy="285.6"/><circle cx="1785.4" cy="285"/><circle cx="1793.5" cy="266.1"/><circle cx="1796" cy="269.5"/><circle cx="1801.5" cy="250.8"/><circle cx="1781.9" cy="248.3"/><circle cx="1786.9" cy="250.4"/><circle cx="1790.9" cy="264.2"/><circle cx="1787.4" cy="262.4"/><circle cx="1781.9" cy="258"/><circle cx="1793.5" cy="253.4"/><circle cx="1778.9" cy="225"/><circle cx="1783.9" cy="224.1"/><circle cx="1806" cy="201"/><circle cx="1776.9" cy="211.3"/><circle cx="1805.5" cy="199.3"/><circle cx="1774.9" cy="197.3"/><circle cx="1794" cy="196.9"/><circle cx="1787.4" cy="188.8"/><circle cx="1777.9" cy="179.4"/><circle cx="1794" cy="194.7"/><circle cx="1773.4" cy="168.8"/><circle cx="1796" cy="167.1"/><circle cx="1792.4" cy="173.7"/><circle cx="1768.9" cy="178.2"/><circle cx="1785.4" cy="159.7"/><circle cx="1806.5" cy="162.7"/><circle cx="1799" cy="155.3"/><circle cx="1820" cy="153.9"/><circle cx="1790.9" cy="135.6"/><circle cx="1783.9" cy="150.3"/><circle cx="1811.5" cy="159.6"/><circle cx="1795" cy="141.4"/><circle cx="1758.8" cy="141.2"/><circle cx="1803.5" cy="136.2"/><circle cx="1785.4" cy="143.8"/><circle cx="1789.9" cy="141.2"/><circle cx="1794" cy="138.7"/><circle cx="1632" cy="223"/><circle cx="1648" cy="242"/><circle cx="1848" cy="168"/><circle cx="1840" cy="205"/><circle cx="1833" cy="250"/><circle cx="1935" cy="344"/><circle cx="1888" cy="404"/><circle cx="1870" cy="508"/><circle cx="1846" cy="534"/><circle cx="1878" cy="555"/><circle cx="1620" cy="498"/><circle cx="1627" cy="509"/><circle cx="1927" cy="592"/><circle cx="1895" cy="432"/></g><g fill="none" stroke="#f0f000" stroke-width="2.2"><circle cx="1729.2" cy="538.1"/><circle cx="1720.7" cy="555.3"/><circle cx="1718.2" cy="545.6"/><circle cx="1731.2" cy="549.9"/><circle cx="1723.7" cy="543.2"/><circle cx="1727.2" cy="517"/><circle cx="1721.2" cy="547.1"/><circle cx="1726.7" cy="522.4"/><circle cx="1717.7" cy="539.1"/><circle cx="1725.2" cy="532.9"/><circle cx="1719.2" cy="501"/><circle cx="1723.7" cy="533.7"/><circle cx="1726.7" cy="508"/><circle cx="1731.7" cy="488.1"/><circle cx="1725.7" cy="501.7"/><circle cx="1723.2" cy="502.1"/><circle cx="1734.7" cy="490.3"/><circle cx="1721.2" cy="504.5"/><circle cx="1722.2" cy="478.8"/><circle cx="1733.7" cy="494.3"/><circle cx="1730.2" cy="473.2"/><circle cx="1725.7" cy="485.9"/><circle cx="1726.2" cy="495.8"/><circle cx="1718.7" cy="452.3"/><circle cx="1729.2" cy="477.8"/><circle cx="1732.2" cy="488.7"/><circle cx="1730.2" cy="465.3"/><circle cx="1721.7" cy="451.9"/><circle cx="1721.2" cy="454.6"/><circle cx="1727.7" cy="440.7"/><circle cx="1729.7" cy="441.3"/><circle cx="1725.7" cy="456.3"/><circle cx="1712.7" cy="441.6"/><circle cx="1736.8" cy="457.9"/><circle cx="1726.2" cy="436.9"/><circle cx="1729.7" cy="447.9"/><circle cx="1726.2" cy="419.6"/><circle cx="1726.2" cy="421.2"/><circle cx="1726.7" cy="444.9"/><circle cx="1738.8" cy="427.4"/><circle cx="1724.7" cy="431.1"/><circle cx="1729.7" cy="411.9"/><circle cx="1727.7" cy="418.1"/><circle cx="1727.7" cy="417.6"/><circle cx="1731.2" cy="405.3"/><circle cx="1730.2" cy="417.3"/><circle cx="1729.2" cy="390.4"/><circle cx="1728.7" cy="411.6"/><circle cx="1735.7" cy="390.3"/><circle cx="1741.3" cy="403.6"/><circle cx="1723.2" cy="374"/><circle cx="1733.7" cy="408.5"/><circle cx="1724.2" cy="371.9"/><circle cx="1729.7" cy="402.4"/><circle cx="1727.7" cy="384.1"/><circle cx="1718.7" cy="381.7"/><circle cx="1721.2" cy="384.2"/><circle cx="1731.7" cy="389.7"/><circle cx="1733.7" cy="395"/><circle cx="1744.8" cy="355.3"/><circle cx="1730.2" cy="384.1"/><circle cx="1734.2" cy="382.1"/><circle cx="1732.2" cy="348.9"/><circle cx="1730.2" cy="364.8"/><circle cx="1739.8" cy="334.7"/><circle cx="1726.2" cy="351.8"/><circle cx="1731.2" cy="336.4"/><circle cx="1729.7" cy="339.8"/><circle cx="1732.2" cy="357"/><circle cx="1725.2" cy="355.6"/><circle cx="1724.7" cy="316.2"/><circle cx="1731.7" cy="317.7"/><circle cx="1725.7" cy="342.7"/><circle cx="1726.2" cy="317.1"/><circle cx="1732.7" cy="338.8"/><circle cx="1723.7" cy="323.8"/><circle cx="1734.2" cy="300.6"/><circle cx="1732.2" cy="310.1"/><circle cx="1727.7" cy="285.5"/><circle cx="1727.7" cy="294"/><circle cx="1734.7" cy="299.3"/><circle cx="1724.7" cy="300.6"/><circle cx="1732.7" cy="290.7"/><circle cx="1728.7" cy="289.5"/><circle cx="1736.8" cy="304.4"/><circle cx="1733.7" cy="297.5"/><circle cx="1735.2" cy="286.8"/><circle cx="1738.3" cy="290.6"/><circle cx="1735.7" cy="274.5"/><circle cx="1727.2" cy="258.5"/><circle cx="1728.7" cy="275.9"/><circle cx="1732.2" cy="280.3"/><circle cx="1733.7" cy="277.9"/><circle cx="1726.7" cy="244.3"/><circle cx="1717.2" cy="272.3"/><circle cx="1736.3" cy="238.9"/><circle cx="1724.2" cy="252.5"/><circle cx="1723.7" cy="230.9"/><circle cx="1732.2" cy="232.2"/><circle cx="1736.3" cy="242.8"/><circle cx="1740.3" cy="224.6"/><circle cx="1723.2" cy="226.8"/><circle cx="1734.2" cy="209.9"/><circle cx="1722.7" cy="230.7"/><circle cx="1726.7" cy="213.5"/><circle cx="1735.2" cy="213.4"/><circle cx="1732.2" cy="207.1"/><circle cx="1723.2" cy="181.3"/><circle cx="1726.7" cy="191.6"/><circle cx="1732.7" cy="183.2"/><circle cx="1733.7" cy="180.8"/><circle cx="1734.2" cy="202.9"/><circle cx="1728.7" cy="180.6"/><circle cx="1734.2" cy="172.6"/><circle cx="1742.3" cy="189.1"/><circle cx="1733.2" cy="183.2"/><circle cx="1737.8" cy="166"/><circle cx="1729.2" cy="152.2"/><circle cx="1725.2" cy="146.9"/><circle cx="1722.7" cy="144.8"/><circle cx="1724.2" cy="149.1"/><circle cx="1728.7" cy="173.1"/><circle cx="1729.2" cy="144.9"/><circle cx="1729.2" cy="150.7"/><circle cx="1729.2" cy="136"/><circle cx="1724.7" cy="146.9"/><circle cx="1733.7" cy="134.4"/><circle cx="1732.2" cy="115.3"/><circle cx="1733.2" cy="131.7"/><circle cx="1733.2" cy="118"/><circle cx="1734.2" cy="141.2"/><circle cx="1738.8" cy="143.4"/><circle cx="1733.2" cy="91.4"/><circle cx="1733.7" cy="125.3"/><circle cx="1740.3" cy="92.9"/><circle cx="1726.7" cy="108.7"/><circle cx="1726.7" cy="115.2"/><circle cx="1742.3" cy="85.4"/></g><g fill="none" stroke="#00e400" stroke-width="2.2"><circle cx="1170.3" cy="535.5"/><circle cx="1174.3" cy="531.3"/><circle cx="1166.7" cy="509.9"/><circle cx="1170.8" cy="544.8"/><circle cx="1170.3" cy="508.9"/><circle cx="1177.8" cy="506.9"/><circle cx="1176.8" cy="545.4"/><circle cx="1180.8" cy="522"/><circle cx="1172.3" cy="482"/><circle cx="1172.3" cy="494.9"/><circle cx="1179.3" cy="498.3"/><circle cx="1170.8" cy="519.7"/><circle cx="1169.3" cy="482"/><circle cx="1174.3" cy="498.6"/><circle cx="1167.7" cy="509.6"/><circle cx="1172.8" cy="512.8"/><circle cx="1165.2" cy="467.3"/><circle cx="1175.3" cy="487.9"/><circle cx="1173.3" cy="497.1"/><circle cx="1176.8" cy="489.5"/><circle cx="1164.2" cy="453.2"/><circle cx="1174.8" cy="458.4"/><circle cx="1182.3" cy="460.7"/><circle cx="1183.3" cy="442.4"/><circle cx="1177.8" cy="440.3"/><circle cx="1177.3" cy="463.8"/><circle cx="1175.3" cy="455.1"/><circle cx="1170.8" cy="458.6"/><circle cx="1171.8" cy="461.5"/><circle cx="1179.8" cy="467.7"/><circle cx="1180.3" cy="423.8"/><circle cx="1172.8" cy="440.8"/><circle cx="1179.8" cy="437.9"/><circle cx="1178.3" cy="412.6"/><circle cx="1176.3" cy="429.4"/><circle cx="1174.8" cy="407.4"/><circle cx="1176.3" cy="432"/><circle cx="1170.8" cy="431.7"/><circle cx="1169.8" cy="395.6"/><circle cx="1179.3" cy="419.2"/><circle cx="1172.8" cy="387.9"/><circle cx="1160.2" cy="402.4"/><circle cx="1176.8" cy="413.2"/><circle cx="1166.7" cy="413.2"/><circle cx="1179.8" cy="399"/><circle cx="1175.8" cy="389.8"/><circle cx="1180.8" cy="377.6"/><circle cx="1178.8" cy="396.4"/><circle cx="1174.8" cy="347.3"/><circle cx="1161.2" cy="353.3"/><circle cx="1181.8" cy="348.9"/><circle cx="1175.3" cy="383.3"/><circle cx="1167.2" cy="355.8"/><circle cx="1171.3" cy="361.4"/><circle cx="1178.3" cy="326.5"/><circle cx="1178.3" cy="333.8"/><circle cx="1179.8" cy="360.9"/><circle cx="1177.8" cy="359.6"/><circle cx="1175.3" cy="373.1"/><circle cx="1169.3" cy="325.5"/><circle cx="1170.3" cy="349.4"/><circle cx="1170.3" cy="314.3"/><circle cx="1173.8" cy="328.9"/><circle cx="1182.3" cy="333.2"/><circle cx="1173.8" cy="318.7"/><circle cx="1184.3" cy="348.5"/><circle cx="1173.3" cy="292.1"/><circle cx="1171.3" cy="293.8"/><circle cx="1181.3" cy="344.3"/><circle cx="1173.3" cy="285"/><circle cx="1168.2" cy="307.6"/><circle cx="1178.8" cy="330.9"/><circle cx="1173.8" cy="288.4"/><circle cx="1180.3" cy="315.8"/><circle cx="1173.8" cy="330.9"/><circle cx="1172.8" cy="322.5"/><circle cx="1167.7" cy="272.3"/><circle cx="1176.8" cy="299.3"/><circle cx="1175.8" cy="276.1"/><circle cx="1176.8" cy="261.9"/><circle cx="1178.8" cy="285.2"/><circle cx="1170.8" cy="280.5"/><circle cx="1178.3" cy="239.6"/><circle cx="1175.8" cy="281.6"/><circle cx="1174.8" cy="267.3"/><circle cx="1181.8" cy="251.4"/><circle cx="1181.8" cy="284.5"/><circle cx="1178.3" cy="238.9"/><circle cx="1174.8" cy="230.8"/><circle cx="1179.3" cy="221.2"/><circle cx="1177.8" cy="220.3"/><circle cx="1171.8" cy="241.9"/><circle cx="1184.8" cy="234.4"/><circle cx="1173.8" cy="249.6"/><circle cx="1179.3" cy="203.2"/><circle cx="1175.3" cy="253.2"/><circle cx="1179.8" cy="255.3"/><circle cx="1176.8" cy="201.3"/><circle cx="1180.8" cy="246.3"/><circle cx="1180.3" cy="229.6"/><circle cx="1177.3" cy="225.8"/><circle cx="1179.8" cy="239.6"/><circle cx="1185.8" cy="216.4"/><circle cx="1178.8" cy="206.4"/><circle cx="1179.3" cy="213"/><circle cx="1176.3" cy="219"/><circle cx="1175.3" cy="169.6"/><circle cx="1176.3" cy="201.6"/><circle cx="1177.8" cy="192.2"/><circle cx="1177.8" cy="176.1"/><circle cx="1182.3" cy="199.3"/><circle cx="1176.3" cy="190.2"/><circle cx="1186.3" cy="180.6"/><circle cx="1183.8" cy="183.5"/><circle cx="1177.8" cy="198.9"/><circle cx="1178.8" cy="182.2"/><circle cx="1182.3" cy="155.4"/><circle cx="1174.3" cy="148"/><circle cx="1170.8" cy="170.2"/><circle cx="1176.8" cy="131.1"/><circle cx="1182.3" cy="115.8"/><circle cx="1178.3" cy="161.1"/><circle cx="1179.3" cy="111.3"/><circle cx="1171.8" cy="159.2"/><circle cx="1180.3" cy="119.2"/><circle cx="1186.3" cy="114.2"/><circle cx="1185.8" cy="136.5"/><circle cx="1181.8" cy="117.2"/><circle cx="1183.8" cy="148.8"/><circle cx="1172.8" cy="141.9"/><circle cx="1189.3" cy="120.3"/><circle cx="1185.3" cy="104.8"/><circle cx="1177.8" cy="96.3"/><circle cx="1185.3" cy="123.5"/><circle cx="1182.8" cy="107.9"/><circle cx="1185.3" cy="101"/><circle cx="1184.8" cy="76.1"/><circle cx="1180.8" cy="80.3"/><circle cx="1188.8" cy="69.1"/></g><text class="w" x="984.6" y="661" text-anchor="middle">0.18</text><text class="w" x="1173.6" y="661" text-anchor="middle">0.1805</text><text class="w" x="1362.6" y="661" text-anchor="middle">0.181</text><text class="w" x="1551.6" y="661" text-anchor="middle">0.1815</text><text class="w" x="1740.6" y="661" text-anchor="middle">0.182</text><text class="w" x="1929.6" y="661" text-anchor="middle">0.1825</text><text class="w" x="2118.6" y="661" text-anchor="middle">0.183</text><text class="w" x="949.6" y="611.1" text-anchor="end">0</text><text class="w" x="949.6" y="563.1" text-anchor="end">10</text><text class="w" x="949.6" y="515.1" text-anchor="end">20</text><text class="w" x="2155.1" y="611.1">00:00</text><text class="w" x="2155.1" y="573.8">00:15</text><text class="w" x="2155.1" y="536.5">00:30</text><text class="w" x="2155.1" y="499.2">00:45</text><text class="w" x="2155.1" y="462">01:00</text><text class="w" x="2155.1" y="424.7">01:15</text><text class="w" x="2155.1" y="387.4">01:30</text><text class="w" x="2155.1" y="350.1">01:45</text><text class="w" x="2155.1" y="312.8">02:00</text><text class="w" x="2155.1" y="275.6">02:15</text><text class="w" x="2155.1" y="238.3">02:30</text><text class="w" x="2155.1" y="201">02:45</text><text class="w" x="2155.1" y="163.7">03:00</text><text class="w" font-size="25" text-anchor="middle" transform="translate(909 539.5) rotate(-90)" y="8.5">SNR</text><text class="b" font-size="31.5" text-anchor="middle" transform="translate(2275.3 648.5) rotate(48)" y="7.7">Sept 16th</text><path d="M219 125.6V624.1H761.2" fill="none" stroke="#6e6e6e" stroke-width="2"/><path d="M219 125.6h5M219 170.9h5M219 216.2h5M219 261.6h5M219 306.9h5M219 352.2h5M219 397.5h5M219 442.8h5M219 488.1h5M219 533.5h5M219 578.8h5M219 624.1h5M219 624.1v-5M309.4 624.1v-5M399.7 624.1v-5M490.1 624.1v-5M580.5 624.1v-5M670.8 624.1v-5M761.2 624.1v-5" stroke="#6e6e6e" stroke-width="2"/><text class="t" x="209.5" y="133.8" text-anchor="end">18:00</text><text class="t" x="209.5" y="179.1" text-anchor="end">15:00</text><text class="t" x="209.5" y="224.4" text-anchor="end">12:00</text><text class="t" x="209.5" y="269.8" text-anchor="end">09:00</text><text class="t" x="209.5" y="315.1" text-anchor="end">06:00</text><text class="t" x="209.5" y="360.4" text-anchor="end">03:00</text><text class="t" x="209.5" y="405.7" text-anchor="end">00:00</text><text class="t" x="209.5" y="451" text-anchor="end">21:00</text><text class="t" x="209.5" y="496.3" text-anchor="end">18:00</text><text class="t" x="209.5" y="541.7" text-anchor="end">15:00</text><text class="t" x="209.5" y="587" text-anchor="end">12:00</text><text class="t" x="209.5" y="632.3" text-anchor="end">09:00</text><text class="t" x="219" y="655.2" text-anchor="middle">0.18</text><text class="t" x="309.4" y="655.2" text-anchor="middle">0.1805</text><text class="t" x="399.7" y="655.2" text-anchor="middle">0.181</text><text class="t" x="490.1" y="655.2" text-anchor="middle">0.1815</text><text class="t" x="580.5" y="655.2" text-anchor="middle">0.182</text><text class="t" x="670.8" y="655.2" text-anchor="middle">0.1825</text><text class="t" x="761.2" y="655.2" text-anchor="middle">0.183</text><clipPath id="cA1"><rect x="219" y="158.6" width="542.2" height="423.4"/></clipPath><g filter="url(#jA1)" clip-path="url(#cA1)"><rect x="219" y="158.6" width="542.2" height="423.4" fill="#252525"/><rect x="216" y="519" width="420" height="63" fill="#161616"/><rect x="650" y="519" width="115" height="63" fill="#1f1f1f"/><path filter="url(#bA10)" fill="#666666" d="M330 159l-3 3 5 3-4 3-1 3 1 3 1 3 5 3-7 3 3 3-5 3 5 3 2 3-3 3 0 3 2 3 1 3 1 3 2 3-4 3-2 3 1 3 0 3 1 3 0 3 1 3-4 3 7 3-4 3-1 3 5 3 0 3-1 3-1 3-3 3 9 3-5 3-5 3 1 3 2 3-4 3 5 3-1 3 4 3 0 3-9 3 7 3-4 3 7 3-3 3 1 3-4 3 8 3 0 3-8 3 4 3-3 3 2 3-3 3 8 3-7 3 2 3 1 3-2 3 2 3-1 3 1 3-2 3 1 3 2 3-1 3 1 3-1 3 3 3-3 3 1 3-2 3 0 3-1 3 5 3-4 3 0 3 3 3 1 3-1 3-4 3 6 3-1 3-3 3 4 3-3 3-1 3 2 3 0 3 1 3-5 3 9 3-6 3-2 3 6 3-3 3 1 3-2 3 1 3 0 3-3 3 3 3-2 3-1 3 2 3 0 3-1 3-2 3 4 3-6 3 1 3 2 3-3 3 3 3 0 3 2 3-5 3 1 3 2 3-7 3 13 3-9 3 0 3 4 3-3 3-4 3 6 3 0 3-3 3 0 3 2 3-3 3 4 3-1 3-2 3-1 3 3 3 21 0 5-3-3-3 0-3-3-3 4-3-4-3 1-3 2-3-2-3 1-3-1-3 1-3 2-3-4-3 4-3 0-3-5-3 3-3-3-3 5-3-7-3 4-3 5-3-2-3 1-3 0-3-5-3 9-3-6-3 0-3-2-3 6-3-4-3 3-3-1-3-4-3 4-3 0-3 1-3 2-3 0-3-3-3 3-3 1-3-3-3-1-3-1-3 5-3-3-3 4-3-3-3 1-3-2-3 3-3-1-3-4-3-1-3 6-3-5-3-3-3 10-3-4-3-1-3-5-3 5-3 2-3-3-3 0-3-2-3 4-3 0-3-3-3 2-3-4-3 4-3-3-3 4-3-2-3 0-3-6-3 4-3 2-3-4-3 0-3 2-3 2-3-1-3-2-3-2-3 5-3-5-3 4-3-6-3 9-3-3-3-1-3 1-3-5-3 4-3-1-3 2-3-1-3-3-3 0-3-2-3 0-3 2-3 1-3-2-3 0-3 3-3 4-3-8-3 3-3-4-3 3-3-1-3-2-3 1-3 5-3-4-3 3-3-2-3 0-3 3-3-4-3 0-3-2-3 1-3 1-3-2-3 1-3 5-3-2-3-4-3 3-3-1-3 1-3-1-3 2-3-5-3z"/><path filter="url(#bA11)" fill="#6b6b6b" d="M600 159l-3 3 3 3-4 3 0 3 4 3-4 3-4 3 4 3 3 3-7 3 7 3 0 3-3 3 0 3 2 3 0 3 4 3-3 3-4 3 2 3 4 3 4 3-4 3 1 3 4 3-6 3 0 3-3 3 1 3 7 3-9 3 3 3-4 3 4 3 2 3-3 3 3 3 0 3-1 3 4 3-3 3-2 3-1 3 0 3 3 3-1 3 7 3-1 3-5 3 0 3 4 3-9 3 3 3 4 3-5 3 1 3 0 3 3 3-2 3 1 3 0 3-2 3 3 3-5 3-2 3-1 3 1 3 2 3 4 3-2 3-2 3-1 3 1 3 0 3 0 3-3 3 2 3 4 3-8 3 5 3-6 3 7 3-3 3-3 3 5 3 5 3-5 3 3 3-3 3-6 3 6 3-3 3-4 3 6 3-1 3-3 3 4 3-4 3 5 3-4 3 4 3-4 3 6 3-3 3 3 3-6 3 1 3 3 3-9 3 3 3 6 3-2 3 1 3-4 3 2 3-3 3-1 3-1 3 3 3 0 3 0 3-7 3 4 3 4 3 2 3-3 3-1 3-3 3 11 3-8 3 6 3 0 3-3 3-2 3 2 3-3 3 3 3-1 3 1 3 0 3 2 3 23 0-2-3 1-3 10-3-10-3 6-3-1-3-3-3 0-3-2-3 4-3 0-3 0-3-4-3-4-3 6-3-4-3 7-3 0-3-1-3 0-3-3-3 4-3-7-3 4-3-2-3-2-3 4-3-4-3 5-3 3-3-3-3-4-3 4-3 0-3 1-3 2-3-3-3 0-3 3-3-3-3-1-3 2-3-2-3-1-3-1-3 2-3-3-3 2-3 2-3 2-3-2-3 2-3-3-3 7-3-2-3-5-3 3-3 1-3 1-3-7-3-1-3 6-3-2-3 2-3 4-3-8-3 2-3 1-3 7-3-1-3-4-3 0-3-3-3 8-3-5-3 3-3-6-3 2-3 0-3 4-3-2-3 5-3-5-3-5-3 5-3-5-3 5-3-4-3 5-3-3-3 2-3 5-3-1-3-7-3 2-3 6-3-4-3 2-3-4-3-1-3 3-3-2-3 0-3 1-3 0-3-4-3 4-3-1-3 0-3 2-3 2-3-1-3-4-3 2-3-2-3 4-3 3-3-2-3 0-3-5-3 1-3-1-3 1-3-3-3 6-3-4-3 3-3 1-3-4-3 1-3 2-3-1-3 3-3-1-3 0-3-6-3 1-3-1-3 0-3 5-3-3-3z"/><path filter="url(#bA12)" fill="#4a4a4a" d="M630 159l-2 3 1 3-1 3 4 3-1 3 1 3-4 3 10 3-6 3 0 3 1 3-2 3-1 3 2 3 3 3-1 3 1 3-4 3 0 3 8 3-6 3 1 3 0 3 2 3-6 3 1 3 0 3 0 3-5 3 5 3-7 3 8 3 0 3 2 3-6 3 6 3-5 3-1 3 1 3 0 3 3 3 2 3-8 3 5 3 3 3-2 3 1 3-6 3 7 3-6 3 4 3 3 3 1 3-3 3 2 3-4 3 0 3 5 3-4 3 0 3-3 3 3 3 1 3-4 3 0 3 6 3-4 3-1 3-2 3 2 3 1 3 4 3-5 3 6 3-7 3 2 3 3 3-3 3-1 3 1 3 1 3-5 3 3 3 0 3 0 3 2 3-2 3 1 3 1 3 2 3-3 3 4 3-6 3 5 3-6 3 2 3 1 3 4 3-3 3-3 3 4 3-4 3-2 3 4 3-1 3 3 3-4 3 3 3 1 3-1 3-2 3-1 3 4 3-2 3 0 3-2 3 1 3-2 3 3 3 2 3-2 3 1 3-1 3 3 3-4 3-5 3 5 3-2 3-2 3 4 3-1 3 1 3-1 3 0 3 0 3 5 3-7 3 1 3 1 3-5 3 1 3 17 0 6-3 0-3 3-3-7-3 4-3-2-3 3-3 1-3-1-3-8-3 2-3 5-3-5-3 1-3 7-3-3-3 2-3 1-3-2-3-5-3 11-3-7-3 0-3 0-3 0-3 3-3-4-3 3-3-2-3 2-3 0-3-4-3 1-3 1-3 2-3 2-3 0-3-3-3 4-3-5-3-1-3 4-3-1-3-4-3 4-3-5-3-1-3 5-3 0-3 1-3 0-3-1-3 1-3 1-3-5-3 0-3 7-3-7-3 5-3 0-3-5-3 1-3 4-3-4-3 7-3 1-3-5-3 0-3-2-3 0-3 2-3 2-3-2-3 1-3-3-3 1-3-3-3 8-3-2-3-2-3-2-3 2-3 2-3-3-3-1-3 1-3 1-3-1-3 0-3 2-3-4-3-1-3 3-3-1-3 1-3 4-3-5-3-3-3 2-3 4-3 2-3-2-3-2-3 1-3-2-3 0-3 0-3 2-3 4-3-8-3 4-3-7-3 9-3-7-3 12-3-3-3-4-3 0-3-1-3 5-3 0-3-4-3-3-3 8-3-9-3 4-3 2-3 1-3-4-3 6-3-4-3 1-3-6-3 5-3-4-3-2-3 3-3 0-3 4-3-6-3 11-3z"/><path filter="url(#bA13)" fill="#949494" d="M332 522l5 3 1 3-1 3-1 3 1 3 1 3-3 3 4 3-6 3 2 3 0 3-3 3 3 3 5 3 0 3-3 3 3 3-3 3-1 3 1 1 12 0 1-1 2-3 3-3-2-3-2-3 3-3-4-3 2-3 2-3-5-3 3-3-2-3-1-3-2-3 5-3-2-3 2-3-4-3 5-3-2-3z"/><path filter="url(#bA14)" fill="#949494" d="M597 522l1 3 2 3-2 3-1 3 3 3 3 3-5 3 1 3 0 3 5 3-10 3 6 3-5 3 2 3 1 3 7 3-9 3-1 3 6 3-5 1 12 0 2-1-2-3 0-3 4-3-1-3 2-3-3-3 1-3-1-3 1-3-2-3 0-3 1-3 3-3 0-3 0-3-1-3 0-3 0-3-1-3z"/><path filter="url(#bA15)" fill="#666666" d="M225 526l1 3-3 3 0 3 3 3-1 3 1 3-4 3 5 3 1 3-2 3 0 3 2 3-4 3 0 3 0 3 1 3-1 3 3 3 4 0 0-3-3-3 2-3 4-3-4-3 0-3 0-3 1-3 2-3 0-3-2-3 1-3-1-3 0-3 1-3-4-3 0-3 2-3z"/><path filter="url(#bA16)" fill="#737373" d="M255 522l0 3 1 3-1 3 0 3 0 3-2 3 1 3 1 3-2 3 2 3 3 3-1 3-3 3 2 3-2 3 4 3-4 3 1 2 10 0-3-2 3-3 0-3-4-3 4-3 0-3-1-3 1-3-3-3 1-3 0-3 0-3 1-3 0-3-1-3 3-3-3-3 3-3z"/><path filter="url(#bA17)" fill="#ffffff" d="M301 159l1 3-1 3 1 3-1 3-1 3 1 3 0 3-2 3 4 3 1 3 0 3-1 3 1 3-1 3-2 3 0 3 4 3-1 3 3 3 2 3-4 3 1 3 1 3 0 3-2 3 3 3 0 3-1 3 0 3 2 3 0 1 12 0 2-1-1-3 1-3-2-3 0-3-1-3 1-3 0-3 1-3 3-3-2-3 3-3-2-3-3-3 1-3-2-3 3-3-1-3 0-3-1-3 0-3 1-3-2-3 1-3 2-3-1-3 0-3 1-3-1-3 3-3-3-3z"/><path filter="url(#bA18)" fill="#cccccc" d="M307 250l1 3 2 3-2 3-1 3 1 3 1 3 5 3 1 3-4 3 1 3 1 3 0 3-2 3-2 3 2 3-1 3 3 3 1 3-4 3 3 3-1 3 2 3-1 3-1 3-2 3 1 3 2 3-3 1 12 0 0-1-1-3-1-3 1-3-1-3 1-3 0-3 1-3-1-3 4-3-4-3 1-3 1-3-2-3 1-3-2-3 1-3-1-3 1-3 2-3 0-3-3-3 1-3-2-3-1-3 1-3 3-3-3-3z"/><path filter="url(#bA19)" fill="#ffffff" d="M310 332l-3 3 5 3-1 3-3 3 2 3-1 3 5 3-2 3-3 3 2 3 0 3 3 3-1 3 0 3-3 3 4 3 2 3-3 3-1 3 1 3-2 3 2 3-3 3 3 3 0 3-1 3 2 3-4 3 3 3-3 3 6 3 0 3-3 3 2 3-3 3 0 3-1 3-1 3 2 3-1 3 0 3 2 3-2 3-3 3 3 3-2 3 1 3-2 3 5 3 1 3-5 3 3 3 0 3-3 3 2 3 3 3-2 3 1 3-7 3 2 3 2 3 1 3-1 3-1 3 0 3 0 3 1 3-6 3 8 3-5 3-1 3 3 3-4 3 4 3-2 3 1 3 1 3 1 3-3 3 0 3 1 3-3 3 4 3-2 1 19 0 4-1 0-3 1-3-4-3-3-3 7-3-7-3 0-3 0-3 4-3 0-3-1-3-1-3 2-3-1-3 1-3 1-3 0-3-1-3-2-3 1-3-1-3 0-3 3-3 1-3-3-3 1-3-1-3 0-3 2-3 1-3-4-3 1-3 0-3 1-3 0-3 2-3-6-3 4-3 0-3 2-3-2-3 3-3-4-3 0-3-1-3 6-3-5-3 0-3-1-3 2-3-2-3 1-3 4-3-3-3-2-3 4-3-1-3 4-3-3-3-2-3 1-3-3-3 2-3-1-3 1-3-1-3 6-3-6-3-1-3 2-3-2-3 0-3-2-3 0-3-2-3 1-3 4-3 0-3-1-3-4-3 5-3-1-3-5-3z"/><path filter="url(#bA110)" fill="#ffffff" d="M576 159l0 3-1 3-2 3-2 3 3 3-1 3 1 3 4 3-1 3-2 3-1 3 0 3 2 3 1 3-2 3 1 3-1 3 1 3-4 3 3 3 0 3 1 3-1 3-2 3 1 3-1 3 3 3 1 3 1 3-2 3-1 3 5 3-3 3 3 3-3 3-4 3 4 3 1 3-3 3-2 3 4 3-1 3 1 3-5 3 5 3-5 3 3 3 2 3-4 3-1 3 3 3 3 3 0 3-3 3 3 3 0 3-1 3 1 3-2 3 3 3 0 3 2 3-3 3-6 3 2 3 2 3 0 3-3 3 3 3-1 3 0 3 0 3 2 3 0 3-1 3-3 3 0 3 1 3 1 3-1 3 0 3-1 3 1 3 0 3-1 3-1 3 1 3-2 3-1 3 2 3 1 3-1 3-3 3 1 3 0 3 0 3-1 3 1 3 0 3 1 3 0 3 1 3 1 3-1 3-2 3-2 3-1 3 0 3 2 3-6 3 5 3-3 3 2 3 2 3-3 3-3 3 6 3 0 3-1 3 1 3-4 3 4 3 1 3-2 3 0 3 1 3 0 3-3 3 4 3-2 3-1 3 2 3-1 3 1 3-2 3 2 3-2 3 1 3-3 3 0 3 3 3 17 0 0-3-1-3 1-3 1-3-2-3 2-3-1-3 2-3-1-3-1-3 1-3-1-3 0-3 2-3-1-3 0-3-2-3 2-3-1-3-3-3 1-3 0-3 0-3 0-3 1-3 3-3-2-3-2-3 3-3 1-3-3-3 2-3-4-3 1-3 3-3-2-3 3-3 2-3-1-3-2-3 1-3 1-3-3-3 1-3 1-3 1-3-1-3 1-3-3-3 2-3 3-3 0-3-2-3 2-3-2-3 1-3 0-3 2-3 1-3-3-3 3-3 0-3 0-3-4-3 5-3-4-3 2-3-1-3 2-3-2-3 2-3-1-3 4-3-5-3 3-3-1-3-2-3 4-3 0-3 1-3 0-3-3-3 3-3-4-3-1-3 2-3 0-3 0-3-3-3 5-3-4-3 1-3 0-3 2-3 0-3 2-3-3-3 0-3-1-3 2-3-1-3-3-3 3-3-1-3 0-3 1-3 1-3-1-3 1-3-2-3 5-3-3-3 0-3 0-3-1-3 0-3-1-3 0-3-3-3 4-3 1-3-2-3-1-3 3-3-4-3 3-3-2-3 5-3-3-3-1-3 0-3-1-3 0-3 0-3 1-3-1-3-1-3 2-3 0-3 1-3-1-3z"/></g><rect x="219" y="252" width="542.2" height="1.6" fill="#b070b0" opacity="0.45"/><rect x="219" y="520" width="542.2" height="1.6" fill="#b070b0" opacity="0.45"/><rect x="219" y="582" width="542.2" height="27.5" fill="#8088dd"/><path d="M221 582v27.5M222 582v27.5M226 582v27.5M228 582v27.5M234 582v27.5M238 582v27.5M242 582v27.5M245 582v27.5M252 582v27.5M256 582v27.5M257 582v27.5M258 582v27.5M267 582v27.5M268 582v27.5M269 582v27.5M273 582v27.5M277 582v27.5M280 582v27.5M286 582v27.5M288 582v27.5M291 582v27.5M292 582v27.5M296 582v27.5M298 582v27.5M311 582v27.5M313 582v27.5M321 582v27.5M322 582v27.5M324 582v27.5M332 582v27.5M341 582v27.5M342 582v27.5M345 582v27.5M350 582v27.5M351 582v27.5M352 582v27.5M354 582v27.5M356 582v27.5M361 582v27.5M364 582v27.5M367 582v27.5M368 582v27.5M369 582v27.5M375 582v27.5M376 582v27.5M378 582v27.5M380 582v27.5M381 582v27.5M387 582v27.5M390 582v27.5M397 582v27.5M404 582v27.5M407 582v27.5M420 582v27.5M426 582v27.5M432 582v27.5M438 582v27.5M439 582v27.5M447 582v27.5M450 582v27.5M451 582v27.5M454 582v27.5M464 582v27.5M468 582v27.5M478 582v27.5M483 582v27.5M486 582v27.5M487 582v27.5M489 582v27.5M493 582v27.5M495 582v27.5M499 582v27.5M500 582v27.5M502 582v27.5M503 582v27.5M509 582v27.5M515 582v27.5M517 582v27.5M518 582v27.5M522 582v27.5M523 582v27.5M530 582v27.5M541 582v27.5M547 582v27.5M549 582v27.5M550 582v27.5M552 582v27.5M553 582v27.5M557 582v27.5M559 582v27.5M560 582v27.5M562 582v27.5M570 582v27.5M572 582v27.5M580 582v27.5M581 582v27.5M586 582v27.5M588 582v27.5M590 582v27.5M593 582v27.5M594 582v27.5M601 582v27.5M605 582v27.5M612 582v27.5M614 582v27.5M630 582v27.5M633 582v27.5M636 582v27.5M637 582v27.5M638 582v27.5M639 582v27.5M641 582v27.5M651 582v27.5M652 582v27.5M658 582v27.5M660 582v27.5M663 582v27.5M665 582v27.5M666 582v27.5M681 582v27.5M682 582v27.5M684 582v27.5M685 582v27.5M688 582v27.5M690 582v27.5M692 582v27.5M696 582v27.5M703 582v27.5M708 582v27.5M712 582v27.5M713 582v27.5M715 582v27.5M720 582v27.5M721 582v27.5M724 582v27.5M725 582v27.5M726 582v27.5M734 582v27.5M735 582v27.5M746 582v27.5M752 582v27.5M754 582v27.5" stroke="#b8bcec" stroke-width="1.4" opacity=".8"/><path d="M221 582v27.5M225 582v27.5M243 582v27.5M244 582v27.5M249 582v27.5M256 582v27.5M276 582v27.5M278 582v27.5M282 582v27.5M288 582v27.5M295 582v27.5M309 582v27.5M312 582v27.5M317 582v27.5M320 582v27.5M337 582v27.5M340 582v27.5M343 582v27.5M345 582v27.5M348 582v27.5M349 582v27.5M351 582v27.5M353 582v27.5M359 582v27.5M364 582v27.5M378 582v27.5M386 582v27.5M388 582v27.5M391 582v27.5M411 582v27.5M412 582v27.5M417 582v27.5M423 582v27.5M425 582v27.5M430 582v27.5M431 582v27.5M434 582v27.5M440 582v27.5M441 582v27.5M444 582v27.5M454 582v27.5M464 582v27.5M477 582v27.5M478 582v27.5M490 582v27.5M492 582v27.5M494 582v27.5M495 582v27.5M502 582v27.5M504 582v27.5M505 582v27.5M525 582v27.5M539 582v27.5M555 582v27.5M556 582v27.5M560 582v27.5M573 582v27.5M584 582v27.5M591 582v27.5M601 582v27.5M611 582v27.5M612 582v27.5M614 582v27.5M615 582v27.5M617 582v27.5M622 582v27.5M626 582v27.5M629 582v27.5M666 582v27.5M675 582v27.5M684 582v27.5M698 582v27.5M699 582v27.5M717 582v27.5M725 582v27.5M727 582v27.5M735 582v27.5M751 582v27.5M754 582v27.5M759 582v27.5M760 582v27.5" stroke="#6a72d4" stroke-width="1.4" opacity=".8"/><rect x="219" y="609.5" width="542.2" height="3.9" fill="#1040ff"/><rect x="274" y="338.9" width="414.7" height="75.8" fill="none" stroke="#d8d8e8" stroke-width="1.3"/><rect x="278.2" y="335.1" width="414.7" height="75.8" fill="none" stroke="#111" stroke-width="5.8"/><rect x="808" y="124.7" width="31.4" height="499.4" fill="url(#cbg)"/><path d="M839.4 174.6h-4M839.4 224.6h-4M839.4 274.5h-4M839.4 324.5h-4M839.4 374.4h-4M839.4 424.3h-4M839.4 474.3h-4M839.4 524.2h-4M839.4 574.2h-4" stroke="#333" stroke-width="1.2" opacity=".6"/><text class="c" x="848.4" y="631.1">0</text><text class="c" x="848.4" y="581.2">1</text><text class="c" x="848.4" y="531.2">2</text><text class="c" x="848.4" y="481.3">3</text><text class="c" x="848.4" y="431.3">4</text><text class="c" x="848.4" y="381.4">5</text><text class="c" x="848.4" y="331.5">6</text><text class="c" x="848.4" y="281.5">7</text><text class="c" x="848.4" y="231.6">8</text><text class="c" x="848.4" y="181.6">9</text><text class="c" x="848.4" y="131.7">10</text><path d="M693.3 332.7L895.5 48.5M693.3 413.3L895.5 666.8" stroke="#000" stroke-width="4.3" fill="none"/><text class="b" x="365" y="106.7" font-size="80.5">S1</text><text class="ar" font-size="79" transform="translate(450.8 106.7) scale(1 .73)">→</text><text class="b" x="530.6" y="106.7" font-size="80.5">S2</text><text class="b" font-size="31.5" text-anchor="middle" transform="translate(86.5 357.6) rotate(48)" y="7.7">Sept 16th</text><text class="b" font-size="31.5" text-anchor="middle" transform="translate(86.5 584.2) rotate(48)" y="7.7">Sept 15th</text><rect x="895" y="680" width="1320.3" height="646.4" fill="none" stroke="#404040" stroke-width="3.4" stroke-dasharray="12 10.3"/><path d="M987.5 1264.1H2121.4M987.5 1264.1v28.5M1176.5 1264.1v28.5M1365.5 1264.1v28.5M1554.5 1264.1v28.5M1743.4 1264.1v28.5M1932.4 1264.1v28.5M2121.4 1264.1v28.5M987.5 1264.1h-28M987.5 1217.1h-28M987.5 1170.1h-28M2121.4 1264.1h28.5M2121.4 1226.6h28.5M2121.4 1189.1h28.5M2121.4 1151.6h28.5M2121.4 1114.1h28.5M2121.4 1076.6h28.5M2121.4 1039h28.5M2121.4 1001.5h28.5M2121.4 964h28.5M2121.4 926.5h28.5M2121.4 889h28.5M2121.4 851.5h28.5M2121.4 814h28.5" stroke="#8f8f8f" stroke-width="1.6" fill="none"/><clipPath id="cwA2"><path clip-rule="evenodd" d="M967.5 774.5H2141.4V1302.6H967.5ZM1102.9 1272.6L1102.9 1229.9L1102.9 1199.8L1102.9 1169.6L1102.9 1139.4L1107.9 1109.2L1107.9 1079.1L1107.9 1048.9L1107.9 1018.7L1107.9 988.5L1107.9 958.4L1107.9 928.2L1107.9 898L1112.9 867.8L1112.9 837.7L1112.9 804.5L1243.4 804.5L1243.4 837.7L1243.4 867.8L1243.4 898L1243.4 928.2L1243.4 958.4L1238.4 988.5L1238.4 1018.7L1238.4 1048.9L1238.4 1079.1L1238.4 1109.2L1238.4 1139.4L1238.4 1169.6L1238.4 1199.8L1238.4 1229.9L1233.4 1272.6ZM1654.9 1272.6L1654.9 1229.9L1654.9 1199.8L1659.9 1169.6L1659.9 1139.4L1659.9 1109.2L1659.9 1079.1L1659.9 1048.9L1659.9 1018.7L1659.9 988.5L1664.9 958.4L1664.9 928.2L1664.9 898L1664.9 867.8L1664.9 837.7L1664.9 804.5L1780.3 804.5L1775.3 837.7L1775.3 867.8L1775.3 898L1775.3 928.2L1775.3 958.4L1775.3 988.5L1775.3 1018.7L1775.3 1048.9L1775.3 1079.1L1775.3 1109.2L1775.3 1139.4L1775.3 1169.6L1775.3 1199.8L1775.3 1229.9L1775.3 1272.6Z"/></clipPath><rect x="987.5" y="814.5" width="1133.9" height="448.1" fill="url(#wA2)" clip-path="url(#cwA2)"/><g class="wf" transform="translate(987.5 0) scale(5.0177 .5)"><path d="M0 2514q.5 -3 1-3t1 4 1 7 1 3 1-2 1-6 1-6 1-2 1 3 1 7 1 6 1 1 1-3 1-2 1 1 1 0 1-3 1-1 1 2 1 2 1 1 1 0 1 1 1 2 1-1l1-11 1-38 1-54 1-69 .6-46 .4 28 1 62 1 52 1 40 1 25q.5 7 1 8t1 1 1-1 1-1 1 2 1 2 1-1 1 0 1 0 1-5 1-7 1-3 1 3 1 4 1 0 1-1 1 0 1-2 1-3 1 0 1 4 1 6 1 3 1 1 1 1 1-1 1-2 1-1 1 1 1 2 1 0 1-2 1-1 1 1 1 2 1 0 1-4 1-5 1-2 1 0 1 1 1 3 1 5 1 4 1 1 1-1 1-2 1-1 1 0 1 0 1 1 1 2 1 1 1-1 1-1 1 1 1 1 1 0 1-1 1-1 1-1 1-6 1-6 1 1 1 5 1 5 1 2 1 0 1 0 1-2 1-3 1 0 1 3 1 2 1 0 1 1 1 1 1-4 1-8 1-4 1 4 1 7 1 3 1-2 1-6 1-6 1-2 1 3 1 7 1 6 1 1 1-3 1-2 1 1 1 0 1-3 1-1 1 2 1 2 1 0 1-4l1-11 1-27 1-35 .7-32 .3 8 1 39 1 31 1 21q.5 7 1 7t1-2 1-3 1-1 1 0 1-2l1-8 .8-12 .2 3 1 12 1 11q.5 5 1 7t1 0 1-1 1 0 1-5 1-7 1-3 1 3 1 4 1 1 1-1 1-1 1-1 1-2 1 0 1 4 1 5 1 3 1 1 1 1 1 0 1-2 1-1 1 1 1 2 1 0 1-2 1-1 1 0 1 1 1 1 1-3 1-5 1-2 1 0 1 1 1 3 1 5 1 4 1 0 1-2 1-2 1-1 1 0 1 0 1 1 1 2 1 1 1-1 1-1 1 1 1 1 1 0 1 0 1 0 1-2 1-6 1-6 1 0 1 6 1 6 1 1 1-1 1 0 1-2 1-3 1 0 1 3 1 2 1 0 1 1 1 1 1-3M0 2520q.5 1 1-1t1-4 1-3 1-1 1 1 1 1 1 0 1 2 1 3 1-1 1-1 1 3 1 2 1 0 1-3 1-7 1-5 1 1 1 5 1 5 1 3 1 0 1-1 1 1 1 0 1-1 1-4l1-18 1-38 1-45 1-46 .1-3 .9 50 1 45 1 32 1 20q.5 6 1 6t1-2 1-3 1-1 1 0 1 1 1 1 1-1 1-2 1-1 1-1 1-3 1-3 1 1 1 5 1 5 1 1 1-3 1-3 1-1 1 0 1 2 1 5 1 5 1 1 1-3 1-4 1-2 1 1 1 2 1 0 1-2 1-3 1-3 1 0 1 3 1 4 1 1 1-4 1-3 1 1 1 2 1 2 1 2 1 2 1 1 1-1 1-1 1 0 1 0 1 1 1 2 1 1 1 0 1-1 1-2 1 0 1 2 1 0 1-2 1 0 1 2 1 2 1 0 1-3 1-5 1-3 1 4 1 6 1 0 1-2 1-1 1-2 1-1 1-1 1-2 1 1 1 5 1 1 1-4 1-3 1 0 1 1 1 0 1 1 1 3 1 2 1-2 1 0 1 4 1 2 1-1 1-3 1-6 1-6 1 0 1 5 1 5 1 3 1 0 1-6l1-15 1-30 1-38 .5-22 .5 18 1 33 1 23 1 18q.5 7 1 11t1 7 1-1l1-17 1-34 .5-21 .5 15 1 27 1 20q.5 6 1 7t1 1 1 0 1 0 1-1 1-2 1-1 1-1 1-3 1-3 1 0 1 4 1 5 1 1 1-3 1-2 1 0 1 0 1 2 1 5 1 5 1 1 1-4 1-4 1-1 1 1 1 2 1 0 1-3 1-4 1-3 1 0 1 3 1 4 1 1 1-3 1-3 1 0 1 2 1 2 1 3 1 3 1 1 1-1 1-2 1-1 1 1 1 2 1 1 1 1 1 1 1-1 1-2 1 0 1 2 1 0 1-2 1 0 1 2 1 1 1 0 1-2 1-5 1-3 1 3 1 5 1 1 1-2 1-2 1-2 1-1 1 0 1-1 1 1M0 2515q.5 0 1-3t1-5 1-3 1-1 1 1 1 4 1 5 1 1 1-1 1-1 1-4 1-3 1 3 1 6 1 3 1-1 1-2 1 0 1 1 1-3 1-6 1-2 1 3 1 3 1 1 1-1l1-9 1-36 1-45 1-56 .3-20 .7 38 1 47 1 36 1 26 1 16q.5 4 1 1t1-12 1-16 1-6 1 6 1 9 1 6 1 3 1 2 1 1 1-1 1 0 1 2 1 2 1 1 1 1 1 1 1 1 1 1 1-1 1-1 1 2 1 3 1-2 1-2 1 3 1 0 1-2 1 2 1 4 1 1 1-4 1-5 1-3 1-3 1-3 1-1 1 4 1 7 1 0 1-3 1 3 1 5 1 3 1 0 1-1 1 1 1 1 1 0 1-1 1-1 1-1 1-1 1-3 1-7 1-5 1 1 1 4 1 2 1-1 1-1 1 2 1 4 1 4 1 2 1-1 1-1 1 1 1 0 1 0 1 2 1 0 1-4 1-6 1-4 1 2 1 6 1 3 1-3 1-5 1-2 1 0 1 1 1 4 1 5 1 1 1-1 1-1 1-4 1-3 1 3 1 6 1 3 1-1 1-2 1 0 1 1 1-3 1-6 1-2 1 1l1-3 1-21 1-25 1-32 .1-4 .9 29 1 32 1 24 1 10q.5 2 1-1t1-6 1-3 1 0l1-6 1-31 .6-22 .4 12 1 21 1 20q.5 7 1 9t1 0 1-3 1-2 1-1 1-1 1 0 1 2 1 1 1 0 1 1 1 2 1 1 1 0 1 0 1 0 1 2 1 3 1-2 1-2 1 3 1-1 1-3 1 2 1 4 1 1 1-4 1-5 1-3 1-2 1-3 1-1 1 5 1 7 1 0 1-3 1 3 1 5 1 2 1-1 1-1 1 1 1 1 1 0 1 0 1 0 1-1 1-1 1-3 1-8 1-5 1 2 1 4 1 2 1-1 1-1 1 1 1 3 1 4 1 3 1 0 1-1 1 1 1-1 1-1 1 2 1 0 1-3 1-5 1-4 1 1 1 6M22 2509q.5 1 1 1t1 0 1-3l1-15 1-42 1-57 1-61 .3-19 .7 46 1 56 1 45 1 34 1 13q.5 2 1-2t1-8 1-5 1 1 1 5 1 5 1 3 1 2 1 2 1 1 1-1 1-1 1 0 1-1 1 0 1 2M132 2500q.5 1 1 3t1 3 1 2 1 2 1 0 1-7l1-20 1-33 1-39 .2-7 .8 25 1 33 1 25 1 16q.5 5 1 6t1-1 1-6 1-9l1-10 .8-8 .2 4 1 18 1 10q.5 4 1 5t1 1 1 0 1-1 1-2M22 2496q.5 -1 1-1t1 0 1 1 1-2l1-13 1-38 1-51 1-61 .1-6 .9 46 1 46 1 38 1 31 1 13q.5 3 1 2t1-1 1 2 1 3 1 0 1-1 1 1 1 0 1-1 1-1 1-4 1-5 1-3 1 0 1 4M132 2498q.5 0 1 0t1-2 1-7l1-16 1-23 1-29 .2-7 .8 24 1 28 1 20 1 11q.5 3 1 3t1-1 1-3 1-2 1 1 1-2l1-12 1-19 .1-2 .9 18 1 19 1 6q.5 2 1 2t1 1 1 0 1-1 1-2M22 2500q.5 0 1 1t1 1 1-5l1-17 1-29 1-38 .7-32 .3 7 1 30 1 30 1 23 1 11q.5 3 1 3t1 1 1 5 1 7 1 2 1-1 1 1 1 1 1 0 1 0 1 0 1 0 1 0 1-1 1-1 1 0 1-3 1-5M132 2496q.5 1 1 2t1 2 1 0 1 0 1-2l1-12 1-28 1-37 .8-37 .2 5 1 34 1 28 1 25 1 10q.5 2 1 0t1-4 1-6l1-10 1-16 1 21 1 16 1 12q.5 4 1 4t1 0 1-1 1-1 1 0M22 2496q.5 0 1 0t1 0 1-2l1-7 1-27 1-42 1-53 .5-27 .5 24 1 40 1 31 1 30 1 20q.5 6 1 7t1 2 1-1 1-9 1-16 1-15 1-3 1 8 1 10 1 8 1 4 1 2 1 3 1 4 1 3 1 1 1-2M132 2493q.5 2 1 3t1-1l1-9 1-21 1-29 1-33 1 36 1 28 1 18 1 6q.5 1 1-2t1-6 1-5 1-3l1-3 1-10 .4-6 .6 10 1 18 1 9q.5 3 1 3t1-4 1-6 1-2 1 1 1 1 1-1M22 2490q.5 0 1 1t1 0 1-5 1-15l1-32 1-46 1-60 .7-46 .3 21 1 59 1 51 1 42 1 26q.5 6 1 3t1-8 1-11 1-10 1 0 1 8 1 5 1 3 1 6 1 6 1 2 1-1 1-2 1-1 1 1 1 1 1-2M132 2490q.5 0 1 0t1 0 1 0 1 1 1-2l1-13 1-25 1-25 .7-16 .3 9 1 32 1 20 1 10q.5 3 1 4t1 2 1 1 1-5l1-17 1-30 .5-21 .5 16 1 30 1 24q.5 7 1 6t1-2 1 0 1 2 1 0M22 2484q.5 -1 1-2t1-1 1 1 1 0l1-6 1-19 1-23 1-27 .1-1 .9 22 1 23 1 16 1 9q.5 3 1 3t1-4 1-11 1-7 1 3 1 6 1 5 1 4 1 3 1 3 1 3 1 1 1-2 1-1 1 2 1 0 1-4M132 2482q.5 2 1 3t1 0 1-3 1-10l1-21 1-29 1-37 .2-9 .8 31 1 34 1 27 1 17q.5 4 1 1l1-13 1-28 .9-32 .1 3 1 32 1 25 1 3q.5 0 1-1t1 0 1 2 1 1 1 1 1 1 1 1 1 2M22 2473q.5 -1 1-3t1-3 1-2l1-2 1-13 1-34 1-39 .4-13 .6 25 1 30 1 22 1 19 1 14q.5 5 1 6t1-2 1-11 1-18 1-15 1 0 1 10 1 10 1 9 1 6 1 5 1 5 1 1 1-4 1-6 1-3 1 2M132 2478q.5 0 1-1t1-2 1-2 1-4l1-12 1-20 1-20 1-22 1 29 1 25 1 23 1 5q.5 0 1-3t1-3 1 0l1-7 1-28 .8-31 .2 6 1 28 1 25 1 16q.5 4 1 2t1-3 1 0 1 0 1-1M22 2471q.5 1 1 3t1 1 1-5l1-18 1-26 1-28 .8-19 .2 7 1 34 1 27 1 18 1 10q.5 2 1 1t1-2 1-5 1-11 1-12 1-7 1-1 1 3 1 6 1 10 1 11 1 6 1 1 1-2 1-4 1-2 1 0 1 0M132 2475q.5 1 1 0t1-2 1 0 1 1 1-5l1-10 1-26 1-28 .2-5 .8 17 1 24 1 21 1 14q.5 4 1 3t1-6l1-17 1-26 .5-16 .5 14 1 19 1 21q.5 6 1 4t1-6 1-5 1 0 1 5 1 7 1 3M22 2461q.5 2 1 5t1 3 1-1 1-1 1-6l1-21 1-33 1-38 .4-15 .6 21 1 37 1 29 1 18 1 9q.5 2 1-1t1-8 1-9 1-4 1 4 1 7 1 5 1 3 1 2 1 1 1 1 1 1 1-1 1-1 1 0 1 0M132 2469q.5 -1 1-4t1-4 1 0 1 4 1 4 1-2 1-8l1-14 1-31 1-37 .1-3 .9 24 1 30 1 26 1 14q.5 3 1 2t1-1 1-4l1-13 1-24 .6-14 .4 8 1 22 1 17q.5 6 1 8t1 2 1 0 1-1M22 2453q.5 0 1 0t1 1 1 3 1-2l1-16 1-29 1-36 .7-24 .3 11 1 35 1 32 1 25 1 12q.5 2 1-2t1-7 1-5 1-7 1-13 1-11 1 4 1 12 1 8 1 5 1 3 1 2 1 2 1 2 1 2 1 0 1-3M132 2442q.5 -1 1 1t1 5 1 4 1-2l1-10 1-23 1-34 .9-40 .1 2 1 40 1 34 1 26 1 13q.5 4 1 4t1-3l1-12 .9-22 .1 1 1 9 1 14q.5 7 1 11t1 3 1-2 1 0 1 2 1 0 1-3 1-3M22 2455q.5 2 1 3t1-1l1-10 1-27 1-35 1-51 .3-16 .7 29 1 42 1 35 1 26 1 11q.5 2 1 0t1-4 1-3 1 0 1 2 1 2 1 1 1-1 1 0 1 1 1 1 1 1 1 0 1 0 1-2 1-3 1-1 1 2M132 2460q.5 0 1-3t1-3 1 1 1-4l1-19 1-33 1-40 .3-13 .7 30 1 34 1 27 1 19q.5 5 1 5t1 0 1-1 1-8l1-22 1-31 .2-6 .8 23 1 24 1 18q.5 5 1 4t1-2 1-1 1 0 1 1 1 1M22 2440q.5 -1 1-3t1-2 1 2 1 3l1-3 1-23 1-36 1-44 .3-12 .7 31 1 36 1 25 1 18 1 12q.5 5 1 7t1 0 1-7 1-8 1-3 1 2 1 4 1 4 1 4 1 2 1-1 1-3 1-4 1-2 1 3 1 7M132 2442q.5 0 1 0t1-1 1-2 1-2 1-2 1-2l1-4 1-18 1-30 .9-36 .1 2 1 39 1 32 1 22 1 4 1-17 1-18 .5-10 .5 13 1 22 1 4q.5 0 1-2t1-2 1 1 1 3 1 4 1 4 1 2M22 2442q.5 -1 1-1t1 1 1-2l1-14 1-41 1-52 1-65 .3-19 .7 47 1 57 1 44 1 29 1 11q.5 3 1 3t1-1 1-5 1-10 1-13 1-9 1 5 1 13 1 10 1 8 1 7 1 4 1 0 1-1 1 0 1-1 1 0M132 2446q.5 -1 1-2t1-1 1-1 1-3l1-9 1-20 1-30 .8-28 .2 4 1 36 1 30 1 20q.5 7 1 7t1-3 1-6 1-9l1-19 1-31 .3-11 .7 21 1 26 1 20q.5 7 1 8t1 2 1 2 1 1 1 0 1 0M22 2442q.5 1 1 2t1 1 1-4l1-16 1-39 1-48 1-57 .1-7 .9 44 1 46 1 39 1 23 1 2q.5 -2 1-7t1-7 1 2 1 8 1 6 1 2 1 2 1 3 1 2 1 2 1 3 1 2 1 0 1-3 1-5 1-2 1 2M132 2446q.5 0 1-1t1-2 1 0 1 2 1 1 1-3l1-11 1-20 1-23 .8-20 .2 7 1 24 1 19 1 15q.5 5 1 6t1 1 1-3l1-14 1-24 .2-4 .8 19 1 16 1 6q.5 2 1 2t1 0 1 0 1 1 1 3M22 2426q.5 0 1 2t1 5 1 4 1-1 1-10l1-26 1-50 1-63 .7-47 .3 13 1 64 1 52 1 37 1 22q.5 6 1 5t1-1 1 0 1 1 1 3 1 2 1-2 1-5 1-4 1 1 1 4 1 2 1-2 1-3 1 0 1 3M132 2440q.5 -1 1-4t1-6 1-4 1 1 1 5 1 3 1-6l1-16 1-20 .9-24 .1 1 1 20 1 20 1 15 1-9 1-30 .5-18 .5 14 1 25 1 18q.5 6 1 8t1 3 1 2 1 1 1-2 1-5 1-4 1 1M22 2418q.5 -2 1-2t1 2 1 0l1-10 1-32 1-41 1-51 .4-20 .6 31 1 47 1 38 1 27 1 13q.5 4 1 5t1 3 1 1 1-5 1-10 1-11 1-4 1 6 1 10 1 8 1 4 1 0 1-1 1 1 1 3 1 4 1 2M132 2436q.5 -1 1-4t1-7 1-6 1-3 1-5l1-15 1-32 1-42 .5-18 .5 23 1 39 1 30 1 20q.5 6 1 6t1-4l1-16 1-21 .4-11 .6 17 1 24 1 13q.5 4 1 5t1 1 1 1 1 2 1 2 1 1 1-1M22 2419q.5 -1 1-3t1-4 1-4 1-9l1-24 1-45 1-63 .8-57 .2 15 1 64 1 55 1 47 1 31q.5 9 1 9t1-2 1-6 1-10 1-10 1-1 1 7 1 3 1 0 1 4 1 5 1 3 1 3 1 2 1-1 1-1 1-2M132 2422q.5 -1 1-1t1 0 1-2 1-5 1-10l1-18 1-25 1-26 .3-8 .7 28 1 32 1 21 1 10q.5 2 1 2t1 1 1-3l1-17 1-34 .4-17 .6 19 1 24 1 18q.5 7 1 12t1 6 1-3 1-5 1 1 1 3M22 2418q.5 -1 1-2t1-2 1-1 1-1 1-4 1-9l1-16 1-31 1-46 .6-31 .4 17 1 42 1 38 1 31 1 15q.5 3 1 1t1-3 1-2 1-3 1-4 1-3 1 0 1 4 1 6 1 3 1 0 1 1 1 3 1 3 1 1M132 2419q.5 -1 1-1t1 0 1-4l1-14 1-29 1-35 .8-34 .2 7 1 35 1 32 1 28 1 11q.5 2 1 0t1-3 1 0 1 2 1-1l1-12 1-24 .3-6 .7 15 1 16 1 7q.5 1 1-1t1-3 1 0 1 4 1 6M22 2418q.5 0 1-2t1-4 1 0 1-1l1-20 1-33 1-35 1-60 1 44 1 45 1 41 1 16q.5 6 1 7t1 0 1-2 1-2 1-1 1 0 1-1 1-3 1-2 1 3 1 6 1 1 1-4 1-2 1 1 1 2 1 3M132 2413q.5 1 1 2t1 1 1 1 1-1 1-4 1-3l1-3 1-26 1-21 .4-7 .6 19 1 15 1 13 1 14 1-3 1-34 .9-35 .1 0 1 35 1 23 1 12q.5 3 1 2t1-1 1-1 1-3 1-3 1 2 1 6M22 2405q.5 0 1 1t1 2 1 1 1-6l1-21 1-41 1-52 .5-25 .5 20 1 40 1 34 1 29 1 17q.5 5 1 6t1 1 1-1 1-3 1-4 1-4 1-4 1-4 1-1 1 3 1 6 1 7 1 4 1 2 1 2 1 0 1-4M132 2412q.5 1 1-1t1-4 1-2 1 0 1-3l1-10 1-15 1-23 .1-3 .9 14 1 11 1 11 1 7q.5 2 1 3t1-1l1-13 1-30 .6-20 .4 16 1 31 1 19q.5 6 1 5t1-4 1-5 1-4 1-1 1 3 1 6M22 2407q.5 0 1 1t1 1 1-2 1-3 1-4l1-13 1-27 1-33 .6-25 .4 12 1 34 1 27 1 19 1 8q.5 2 1 3t1 2 1-3 1-6 1-1 1 2 1 2 1 2 1 3 1 3 1 0 1 0 1 2 1 0 1-2 1-2M132 2405q.5 1 1 2t1 1 1 0 1 1 1 1 1-4l1-13 1-16 1-24 .8-24 .2 4 1 31 1 14 1-9 1-31 1 30 1 20 1 13q.5 5 1 6t1-3 1-6 1-1 1 2 1 2 1 2 1 3 1 3M22 2402q.5 0 1-1t1-3 1-4 1-3 1-4l1-12 1-23 1-29 .7-22 .3 11 1 32 1 23 1 18 1 14q.5 3 1-2t1-16 1-21 1-9 1 8 1 14 1 11 1 6 1 4 1 2 1-1 1-2 1-1 1 0 1 0 1 0M132 2398q.5 -1 1 0t1 2 1 1 1-1 1-5l1-13 1-26 1-33 1-40 .1-2 .9 38 1 37 1 29 1 9 1-14 .8-13 .2 2 1 17 1 14q.5 4 1 3t1-5 1-6 1 0 1 5 1 4 1 0 1-2 1-2M22 2396q.5 1 1 2t1 0 1-8l1-21 1-37 1-40 .5-21 .5 20 1 40 1 32 1 22 1 9q.5 2 1 0t1-3 1-2 1 0 1 1 1-2 1-5 1-5 1 0 1 6 1 8 1 4 1 1 1 1 1-1 1-2 1-2 1-1M132 2395q.5 0 1 0t1 0 1 1 1 0l1-8 1-22 1-34 1-40 1 37 1 36 1 24 1 11q.5 2 1 0t1-4 1-3 1-6l1-16 1-31 .7-27 .3 11 1 35 1 23 1 7q.5 2 1 2t1 3 1 5 1 1M22 2390q.5 1 1 2t1 0 1-2 1 0 1 1 1-8l1-24 1-31 1-35 .4-15 .6 24 1 28 1 29 1 27 1 7q.5 2 1 1t1-3 1-1 1 1 1-1 1 0 1 1 1 1 1 1 1-3 1-5 1-1 1 2 1 1 1-2M132 2389q.5 1 1 1t1 0 1 1 1 2 1-3l1-12 1-17 1-21 .8-23 .2 6 1 22 1 21 1 19q.5 7 1 7t1-8l1-19 .9-15 .1 3 1 17 1 17 1 1q.5 1 1 2t1 1 1-1 1 0 1 1 1 1 1 1M22 2391q.5 0 1 0t1 0 1-2l1-9 1-19 1-22 1-30 1 19 1 11 1 11 1 15q.5 6 1 8t1 1 1-2 1-2 1-3 1-6 1-9 1-7 1 4 1 11 1 7 1 3 1 4 1 6 1 4 1 1 1-2 1-3M132 2390q.5 0 1 0t1 0 1 0 1 0 1-3l1-9 1-19 1-25 .6-14 .4 12 1 23 1 12 1 2q.5 0 1-2t1-4l1-8 1-19 .1-1 .9 13 1 12 1 9q.5 3 1 4t1 2 1 2 1 3 1 3 1 0 1-3M22 2379q.5 -2 1-5t1-5 1-5l1-9 1-23 1-29 1-35 .3-12 .7 31 1 35 1 32 1 23 1 7q.5 2 1 2t1-1 1-3 1-4 1-4 1-5 1-2 1 4 1 4 1 1 1 2 1 4 1 3 1 0 1-2 1-1 1 1M132 2386q.5 0 1-1t1-3 1-5 1-10l1-20 1-32 1-39 .6-26 .4 17 1 46 1 41 1 24q.5 7 1 8t1 1 1-4l1-15 1-22 .4-10 .6 12 1 17 1 12q.5 5 1 6t1-1 1-2 1 2 1 2 1-1 1-1M22 2380q.5 0 1 0t1-1 1-2 1-5l1-15 1-23 1-28 .9-35 .1 4 1 32 1 28 1 24 1 19q.5 5 1 3t1-3 1-1 1 0 1 0 1 0 1-1 1-3 1-4 1-2 1 3 1 6 1 1 1-6 1-6 1 0 1 6M132 2375q.5 1 1 2t1 2 1 0 1-7l1-18 1-30 1-39 .4-17 .6 22 1 37 1 33 1 16q.5 4 1 3t1-3 1-6l1-11 1-28 .2-3 .8 17 1 20 1 12q.5 3 1 3t1-1 1-2 1-3 1-4 1-3 1 2M22 2376q.5 1 1 0t1-2 1-2 1-3 1-8l1-19 1-38 1-48 .8-38 .2 11 1 55 1 32 1 26 1 22q.5 7 1 9t1 3 1 0 1-3 1-2 1 1 1 0 1-3 1-2 1 2 1 3 1-1 1-2 1 2 1 3 1-1M133 2366q.5 2 1 5t1 2l1-7 1-21 1-30 1-38 .1-4 .9 30 1 30 1 21 1 11q.5 3 1 4t1 2 1-2 1-6l1-6 1-12 .8-16 .2 5 1 21 1 10q.5 3 1 5t1 3 1 0 1-3 1-2 1 2M22 2367q.5 0 1 0t1 1 1 1 1-3 1-13l1-27 1-32 1-35 .4-18 .6 23 1 35 1 28 1 22 1 11q.5 3 1 2t1-5 1-11 1-12 1-1 1 11 1 9 1 1 1 1 1 5 1 6 1 3 1-2 1-4 1-3 1-1M133 2363q.5 1 1 2t1 1 1-2l1-7 1-18 1-27 .8-30 .2 5 1 23 1 25 1 22q.5 8 1 9t1-2l1-12 1-27 1-37 1 34 1 26 1 11q.5 2 1 1t1 2 1 6 1 2 1-4 1-4 1 1M22 2363q.5 0 1 0t1-1 1-1 1 1 1-4l1-19 1-32 1-37 .7-28 .3 12 1 34 1 31 1 26 1 15q.5 4 1 4t1 1 1 1 1-1 1-1 1 1 1 1 1-1 1-2 1-2 1-2 1 0 1 3 1 2 1-2 1-3M133 2363q.5 0 1 0t1 0 1-1 1-6l1-14 1-17 1-23 .2-6 .8 17 1 18 1 16 1 9q.5 2 1 1t1 0 1 2 1 1 1-2l1-9 1-21 .4-10 .6 12 1 18 1 14q.5 4 1 4t1-1 1-2 1-2M22 2352q.5 -2 1-2t1 1 1 2 1-5l1-25 1-46 1-69 .7-55 .3 18 1 64 1 62 1 27 1 20q.5 6 1 8t1 4 1 3 1-1 1-2 1 0 1-3 1-7 1-5 1 1 1 5 1 5 1 1 1-4 1-4 1 2 1 6M133 2356q.5 2 1 1t1-3 1-4l1-6 1-16 1-21 1-30 .1-1 .9 29 1 18 1 11 1 15q.5 6 1 8t1-3 1-6 1-2l1-4 1-12 .3-5 .7 8 1 13 1 10q.5 2 1-1t1-7 1-5 1 1 1 5M22 2344q.5 -1 1 0t1 1l1-4 1-38 1-58 1-73 .4-31 .6 39 1 64 1 50 1 35 1 17q.5 4 1 3t1-2 1-1 1 2 1 1 1-6 1-12 1-11 1-2 1 4 1 6 1 8 1 5 1 2 1 2 1 3 1 3 1 2M133 2346q.5 1 1 1t1-1 1-4l1-8 1-14 1-25 .6-19 .4 10 1 24 1 23 1 16q.5 5 1 4t1-6l1-12 1-13 .3-5 .7 9 1 10 1 11q.5 4 1 6t1 2 1-1 1-3 1-4 1-3 1 0 1 2M22 2348q.5 -1 1-1t1 1 1 0 1-7l1-20 1-33 1-35 .8-30 .2 8 1 37 1 31 1 24 1 16q.5 5 1 5t1-1 1-1 1-1 1-2 1-2 1 0 1 5 1 5 1-3 1-6 1-2 1 3 1 6 1 4 1 1 1-1M133 2346q.5 1 1 0l1-7 1-24 1-29 1-37 .2-5 .8 30 1 28 1 19 1 14q.5 4 1 4t1 0 1 0 1 1 1 1 1 0 1 0 1 0 1-2l1-11 1-28 .9-29 .1 3 1 36 1 28 1 4q.5 0 1-2M22 2329q.5 3 1 4t1 2 1 3 1 3 1-4l1-19 1-45 1-53 1-60 .3-18 .7 46 1 60 1 53 1 28 1 14q.5 4 1 3t1-1 1 0 1-1 1-4 1-4 1 0 1 2 1 0 1-1 1 0 1 1 1 3 1 3 1 0M133 2318q.5 0 1 3t1 6 1 5 1 1l1-6 1-18 1-32 .9-38 .1 3 1 27 1 26 1 23 1 11q.5 4 1 7t1 6 1 2 1-2 1-5l1-10 .6-8 .4 4 1 13 1 1q.5 0 1 0t1 0 1 1 1 0M22 2340q.5 -1 1-6t1-5 1 3 1 3 1-8l1-26 1-41 1-48 .5-26 .5 21 1 40 1 35 1 29 1 17q.5 3 1-1t1-11 1-11 1 0 1 8 1 9 1 9 1 5 1 0 1-2 1-1 1 0 1 1 1 3 1 3 1 0M133 2338q.5 0 1 0t1-1 1-6 1-11l1-14 1-27 1-40 .4-18 .6 24 1 31 1 24 1 15q.5 3 1-1l1-11 .9-11 .1 2 1 21 1 16q.5 6 1 7t1-1 1-2 1 1 1 2 1 2 1 0 1-3 1-3M22 2316q.5 1 1 5t1 8 1 5 1-4l1-19 1-35 1-40 1-43 .2-9 .8 40 1 40 1 30 1 22 1 10q.5 3 1 4t1 2 1 1 1-1 1-2 1-2 1-2 1-3 1-3 1 1 1 6 1 6 1-1 1-7 1-5 1 1M133 2321q.5 -1 1-3t1-2 1 0l1-2 1-15 1-26 .3-10 .7 11 1 16 1 17 1 16q.5 5 1 4t1-7l1-15 .7-12 .3 4 1 16 1 14q.5 5 1 7t1 2 1-2 1-3 1-2 1-2 1-3 1-3 1 0M22 2330q.5 0 1-1t1-3 1-5 1-11l1-27 1-42 1-48 .6-29 .4 24 1 54 1 36 1 32 1 20q.5 5 1 3t1-3 1-3 1-7 1-10 1-8 1-2 1 4 1 5 1 5 1 5 1 3 1-1 1-4 1-1 1 2 1 1M133 2325q.5 3 1 4t1 1 1-1 1-4 1-11l1-21 1-34 1-41 .3-11 .7 30 1 43 1 32 1 11 1-18 1-31 .5-20 .5 17 1 30 1 19q.5 6 1 5t1-2 1-1 1 0 1 0 1 0 1 1 1 2M22 2322q.5 -1 1-2t1-3 1-4 1-5l1-13 1-36 1-47 1-56 .4-26 .6 37 1 52 1 44 1 34 1 19q.5 6 1 6t1-3 1-8 1-8 1-3 1 2 1 3 1 3 1 4 1 1 1-2 1-1 1 2 1 4 1 3 1 1M133 2323q.5 0 1 0t1-1 1-2 1-3 1-7l1-14 1-23 1-30 .8-23 .2 7 1 35 1 28 1 16q.5 5 1 6t1-2l1-12 1-28 .6-24 .4 11 1 26 1 21 1 13q.5 3 1 2t1-2 1-1 1 0 1-1M22 2317q.5 0 1 1t1 1 1-1 1-5l1-11 1-30 1-41 1-61 .4-27 .6 28 1 49 1 44 1 33 1 14q.5 2 1-2t1-4 1 3 1 5 1 3 1 1 1 1 1 0 1-1 1 1 1 1 1-1 1-1 1 0 1-1 1-3M133 2318q.5 0 1 0t1 0 1 1 1-2l1-12 1-30 1-36 .8-31 .2 6 1 44 1 28 1 18 1 6q.5 2 1 2t1-5l1-17 1-31 .2-7 .8 17 1 25 1 18q.5 6 1 6t1 0 1 1 1-1 1-2 1 1M22 2309q.5 1 1 3t1 2 1-2 1-5l1-10 1-41 1-53 1-68 .3-19 .7 47 1 56 1 43 1 30 1 11q.5 3 1 4t1 3 1 1 1-4 1-4 1 0 1 3 1 4 1 2 1-1 1-2 1-2 1-2 1-2 1 0 1 3M133 2309q.5 -1 1-1t1 1 1 3 1-1l1-17 1-30 1-35 .8-33 .2 9 1 44 1 33 1 24 1 6q.5 1 1-2t1-8l1-17 1-23 .5-9 .5 16 1 24 1 9q.5 2 1 2t1 0 1 2 1 4 1 2 1-1M22 2308q.5 -2 1-4t1-3 1 1 1 2 1-7l1-26 1-45 1-58 .8-45 .2 11 1 59 1 50 1 35 1 21q.5 6 1 7t1 0 1-2 1-1 1 0 1 0 1 1 1 2 1 1 1-1 1-1 1 1 1 2 1 1 1-3 1-6M133 2311q.5 0 1-1t1-3 1-7l1-12 1-16 1-19 .7-17 .3 8 1 21 1 16 1 10q.5 3 1 4t1-3l1-16 1-35 .4-16 .6 21 1 32 1 21q.5 6 1 6t1-1 1-1 1 0 1 1 1 2 1 1 1-1M22 2293q.5 -2 1-2t1-1 1-6l1-16 1-37 1-57 .7-42 .3 15 1 56 1 44 1 33 1 22q.5 6 1 4t1-7 1-10 1-12 1-13 1-3 1 9 1 11 1 8 1 6 1 5 1 1 1-3 1-3 1-1 1 0 1-1 1-2M133 2306q.5 -1 1-5t1-6 1-3 1-3l1-9 1-11 1-18 .7-22 .3 7 1 28 1 22 1 14q.5 4 1 5t1 1 1-2 1-5 1-9l1-19 1-35 .2-8 .8 26 1 27 1 21q.5 6 1 5t1-1 1 0 1-2M22 2294q.5 0 1 2t1 3 1-1 1-7l1-18 1-35 1-46 .9-50 .1 1 1 50 1 41 1 33 1 23q.5 7 1 8t1-3 1-11 1-10 1 0 1 6 1 4 1 2 1 3 1 4 1 3 1 2 1 1 1-1 1 0 1 1 1-2M133 2298q.5 0 1-1t1-2 1 0 1-1l1-12 1-21 1-25 .7-18 .3 9 1 31 1 23 1 13q.5 4 1 3t1-1 1-1 1-7l1-19 1-38 .1-2 .9 27 1 27 1 16q.5 3 1 1t1-3 1-1 1 0 1 1M22 2294q.5 0 1-2t1-4 1-3 1-1 1-2l1-10 1-27 1-42 1-54 .1-2 .9 43 1 44 1 28 1 21q.5 8 1 10t1 1 1-4 1-5 1-3 1 0 1 4 1 5 1 3 1 0 1-2 1-2 1-2 1 0 1 2 1 0M133 2292q.5 -1 1-1t1 1 1-3l1-14 1-23 1-26 .6-16 .4 11 1 30 1 25 1 15q.5 4 1 3t1-1 1-1 1-8l1-18 1-23 .1-3 .9 22 1 14 1 7q.5 1 1 0t1 0 1 3 1 4 1 3 1 0M22 2288q.5 -1 1-2t1-1 1-1 1-3 1-6l1-13 1-16 1-20 .8-20 .2 5 1 28 1 21 1 18 1 4q.5 1 1 0t1-1 1 1 1 3 1 3 1 0 1 0 1 1 1-3 1-5 1-3 1 0 1 3 1 2 1-2 1-3M133 2290q.5 0 1 0t1-1 1-3 1-6l1-16 1-29 1-38 .6-20 .4 16 1 38 1 31 1 22q.5 7 1 7t1-5l1-12 1-22 1 10 1 12q.5 5 1 7t1 4 1 3 1 0 1 0 1 1 1-3 1-5M22 2285q.5 0 1-3t1-5 1-2 1 0 1 0 1-1 1-7l1-18 1-25 1-28 .3-7 .7 21 1 27 1 24 1 15q.5 4 1 2t1-8 1-9 1-2 1 4 1 6 1 3 1-1 1-2 1-2 1 0 1 4 1 7 1 5 1-2M133 2280q.5 0 1 2t1 2 1-4l1-14 1-18 1-24 .8-22 .2 5 1 28 1 22 1 12q.5 4 1 5t1-2l1-13 1-24 .7-19 .3 11 1 29 1 18q.5 5 1 4t1-5 1-5 1 1 1 4 1 1 1-3 1-3M22 2270q.5 0 1 2t1 3 1-1 1-7l1-16 1-21 1-27 .8-23 .2 3 1 28 1 28 1 21 1 11q.5 3 1 2t1-3 1-3 1 0 1 3 1 2 1-1 1-3 1-5 1-4 1 2 1 6 1 6 1 5 1 1 1-3 1-5M133 2272q.5 0 1-1t1-1 1 2 1 3 1-2l1-13 1-23 1-27 .9-25 .1 2 1 27 1 25 1 22q.5 9 1 9l1-12 1-32 .8-34 .2 5 1 33 1 27 1 17q.5 5 1 4t1-3 1-5 1-6 1-4 1 1M22 2274q.5 0 1-1t1-1 1 0 1-4l1-18 1-50 1-66 1-76 .1-5 .9 63 1 61 1 51 1 36 1 8q.5 0 1-4t1-6 1-3 1-3 1-5 1-4 1 1 1 5 1 5 1 2 1 0 1 2 1 6 1 6 1 1 1-1M133 2266q.5 3 1 5t1 2 1-3l1-13 1-21 1-25 .7-23 .3 7 1 27 1 19 1 15q.5 5 1 7t1 2 1-5l1-18 1-38 .1-5 .9 23 1 20 1 16q.5 5 1 5t1 0 1 1 1 3 1 2 1 0 1-1M22 2259q.5 3 1 6t1 3 1-4l1-11 1-28 1-40 1-52 .5-26 .5 26 1 46 1 36 1 27 1 13q.5 3 1 0t1-5 1-5 1-7 1-3 1 6 1 8 1 5 1 1 1 0 1 2 1 1 1-1 1-2 1 0 1 4 1 6M133 2259q.5 -3 1-3t1 3 1 6 1 0l1-14 1-24 1-25 .6-15 .4 12 1 25 1 20 1 14q.5 4 1 3t1-2 1-3 1-5l1-6 1-9 .5-7 .5 9 1 15 1 14q.5 4 1 4t1-2 1-5 1-5 1-2M22 2260q.5 -2 1-3t1 0 1 1 1-7l1-20 1-30 1-32 .5-14 .5 20 1 34 1 25 1 20 1 8q.5 -1 1-9t1-16 1-14 1-8 1 2 1 8 1 7 1 5 1 4 1 6 1 8 1 7 1 2 1-3 1-2 1 1 1 1M133 2261q.5 1 1 2t1-2 1-4 1 0 1 1 1-4l1-15 1-24 1-26 .5-12 .5 17 1 30 1 22 1 10 1-22 1-44 .3-14 .7 19 1 28 1 19q.5 5 1 5t1 0 1 0 1-1 1-1 1 3 1 7M22 2256q.5 1 1 1t1-1 1-3 1-8l1-21 1-36 1-47 1-64 1 59 1 50 1 39 1 25q.5 8 1 9t1 0 1-4 1-5 1-4 1-2 1 2 1 5 1 3 1-2 1-5 1-5 1-2 1 3 1 6 1 5 1 1M133 2249q.5 1 1 3t1 3 1 0 1-7l1-16 1-22 1-24 .1-2 .9 24 1 27 1 15 1-3 1-18 .7-17 .3 7 1 18 1 14q.5 6 1 8t1 1 1-3 1-5 1-4 1 1 1 5 1 2 1-4 1-6M22 2250q.5 2 1 3t1 0 1-1 1-6l1-23 1-38 1-46 .6-35 .4 17 1 45 1 37 1 27 1 17q.5 4 1 3t1-3 1-6 1-10 1-13 1-8 1 6 1 11 1 7 1 7 1 7 1 2 1-1 1 0 1 1 1 2 1 1M133 2249q.5 -2 1-2t1 2 1 2 1-6l1-17 1-28 1-40 .5-20 .5 22 1 40 1 24 1 1 1-21 .3-10 .7 16 1 20 1 13q.5 3 1 3t1 0 1 0 1 1 1 2 1 2 1 1 1-2 1-1 1 2M22 2249q.5 2 1 2t1-1 1-2 1-7l1-23 1-45 1-61 .8-55 .2 10 1 63 1 50 1 36 1 29q.5 7 1 4t1-5 1-3 1-5 1-8 1-2 1 4 1 4 1 3 1 1 1 0 1 1 1 4 1 4 1 0 1-3 1-4M133 2243q.5 -1 1 0t1 3 1 2 1-4l1-14 1-25 1-31 .6-23 .4 15 1 30 1 26 1 21q.5 6 1 6t1-2 1-7l1-20 .9-22 .1 2 1 23 1 19q.5 7 1 9t1 1 1-2 1-2 1-2 1-2 1-2M23 2243q.5 0 1 0t1-1 1-4l1-9 1-28 1-31 1-31 .3-8 .7 30 1 33 1 24 1 20q.5 6 1 5t1-3 1-3 1 1 1 4 1 2 1-3 1-7 1-5 1 2 1 5 1 3 1 2 1 2 1 1 1 1 1 1M133 2238q.5 1 1 3t1 2 1 0 1 0 1-2 1-8l1-18 1-28 1-29 .1-3 .9 30 1 31 1 18 1-2 1-17 .7-19 .3 5 1 16 1 12q.5 5 1 8t1 5 1 2 1-3 1-7 1-5 1 2 1 5M23 2237q.5 0 1-1t1-6 1-10l1-15 1-27 1-32 1-39 .1-5 .9 38 1 39 1 35 1 15q.5 6 1 8t1-2 1-7 1-4 1-1 1 0 1 0 1 0 1 0 1 2 1 4 1 2 1-1 1-1 1 1 1 4 1 5M133 2237q.5 0 1 1t1 1 1-1 1-5l1-18 1-25 1-28 .6-17 .4 10 1 30 1 25 1 17q.5 6 1 9t1 4 1-3l1-11 1-29 .6-21 .4 6 1 20 1 14q.5 5 1 7t1 2 1-1 1-1 1 2 1 4M23 2226q.5 0 1 1t1 0 1-7l1-21 1-32 1-36 .9-44 .1 5 1 47 1 40 1 31 1 21q.5 5 1 3t1-4 1-2 1 1 1 1 1-1 1-1 1 2 1 3 1 0 1-3 1-2 1 2 1 3 1 0 1-1 1-2M133 2235q.5 0 1-2t1-4 1-5l1-11 1-24 1-35 .8-31 .2 8 1 37 1 36 1 24q.5 7 1 7t1-4l1-12 .8-9 .2 3 1 7 1 4q.5 2 1 3t1 2 1 1 1-1 1-1 1 2 1 3 1 0 1-3M23 2226q.5 -2 1-4t1-5l1-11 1-20 1-24 1-34 .2-6 .8 27 1 32 1 25 1 14q.5 5 1 7t1 1 1-2 1-1 1 1 1 0 1-1 1 2 1 2 1 0 1 0 1 0 1-2 1-2 1 1 1 1 1-2 1-4M133 2226q.5 2 1 3t1 0 1-3 1-8l1-15 1-20 1-20 .4-6 .6 18 1 26 1 14 1 12q.5 3 1 2t1-3 1-7l1-18 1-36 .3-12 .7 21 1 32 1 17q.5 5 1 5t1 1 1 1 1-1 1-1 1 0M23 2223q.5 1 1 1t1-1 1-6l1-16 1-30 1-40 .9-42 .1 3 1 39 1 32 1 27 1 19q.5 7 1 9t1 2 1 0 1 0 1 1 1 2 1-1 1-1 1 0 1-5 1-7 1-3 1 3 1 4 1 1 1-1 1-1M133 2221q.5 0 1 0t1 0 1 1 1 2 1 0 1-5l1-13 1-24 1-30 .7-25 .3 7 1 28 1 14 1 3 .2 0 .8 15 1 14 1 10q.5 3 1 3t1-1 1 1 1 3 1-1 1-1 1 0 1-5 1-7M23 2216q.5 0 1 1t1 1 1 0 1-5l1-21 1-49 1-59 1-65 .2-14 .8 58 1 63 1 48 1 31 1 8q.5 1 1-1t1-3 1-1 1 1 1 2 1 1 1-1 1-1 1-1 1-2 1-3 1-3 1 1 1 5 1 5M133 2215q.5 2 1 3t1 0 1-2 1-4l1-14 1-29 1-36 .6-27 .4 15 1 30 1 27 1 24q.5 9 1 13t1 3l1-7 1-16 .4-8 .6 6 1 9 1 7q.5 2 1 2t1 0 1 1 1 1 1-1 1-2 1-1M23 2206q.5 2 1 2t1 0 1 1 1-5l1-20 1-31 1-39 .6-27 .4 16 1 36 1 27 1 21 1 19q.5 7 1 9t1-1 1-7 1-9 1-6 1 1 1 2 1 0 1 1 1 2 1 1 1 1 1 2 1 1 1 0 1 1M133 2211q.5 -3 1-6t1-3 1 2 1 0l1-10 1-18 1-24 .7-23 .3 9 1 31 1 25 1 14q.5 4 1 3t1-4 1-3 1 3 1 4 1-7l1-23 1-41 .2-7 .8 27 1 28 1 14q.5 3 1 2t1-2 1-1M23 2208q.5 0 1 0t1-4l1-18 1-44 1-57 1-61 .1-6 .9 51 1 54 1 42 1 29 1 0q.5 -5 1-15t1-15 1 1 1 13 1 12 1 8 1 5 1 4 1 2 1 0 1-1 1-1 1 0 1-1 1 0 1 2 1 0M133 2202q.5 2 1 3t1 2 1 1 1 0 1-1 1-8l1-22 1-30 1-30 .3-8 .7 25 1 31 1 17 1 1 .9-19 .1 1 1 14 1 10q.5 5 1 8t1 6 1 5 1 2 1 0 1 0 1 0 1-1 1-2M23 2194q.5 0 1 0t1 1 1 1 1-7l1-25 1-46 1-57 .7-46 .3 14 1 54 1 46 1 40 1 26q.5 7 1 4t1-7 1-8 1-6 1-1 1 5 1 7 1 4 1 3 1 2 1-2 1-3 1-2 1 0 1 4 1 5M133 2197q.5 0 1-1t1-2 1-1 1-3l1-11 1-20 1-26 .6-17 .4 13 1 27 1 22 1 14q.5 4 1 3t1-2 1 1 1 0l1-12 1-21 .5-8 .5 12 1 24 1 10q.5 3 1 4t1 1 1-1 1-1 1-1M23 2199q.5 0 1 0t1 0 1-3l1-10 1-41 1-61 1-73 .6-45 .4 30 1 68 1 52 1 40 1 25q.5 8 1 11t1 5 1 1 1-1 1 1 1 1 1 0 1 0 1 0 1 0 1 0 1-1 1-1 1 0 1-3 1-5M133 2196q.5 2 1 3t1 0 1-1 1-3l1-10 1-19 1-23 .3-8 .7 13 1 13 1 11 1 10q.5 3 1 1t1-7l1-14 .7-9 .3 5 1 19 1 17q.5 5 1 5t1-1 1 0 1 1 1 0 1 0 1 0 1 0M23 2194q.5 0 1 0t1 0 1-1l1-7 1-26 1-38 1-47 .4-22 .6 19 1 34 1 33 1 30 1 17q.5 5 1 6t1 2 1 1 1-1 1-4 1-6 1-3 1 1 1 1 1-1 1-1 1 1 1 3 1 3 1 1 1-2M133 2194q.5 1 1 1t1 0 1 0 1-1 1-1 1 0 1-4l1-12 1-24 1-30 .5-18 .5 12 1 21 1 21 1 20q.5 6 1 5l1-12 1-24 .6-21 .4 13 1 28 1 14q.5 4 1 3t1-2 1 0 1 1 1-1M23 2190q.5 0 1-1t1-3 1-6l1-11 1-22 1-33 1-49 .4-24 .6 25 1 41 1 38 1 28 1 13q.5 4 1 4t1 0 1-1 1-1 1 0 1-2 1-2 1 2 1 3 1 0 1-2 1-2 1 0 1 2 1 0 1-3M133 2188q.5 0 1 0t1 0 1-2l1-9 1-21 1-28 .5-13 .5 12 1 26 1 23 1 10q.5 2 1-2l1-12 1-18 .9-20 .1 3 1 23 1 18 1 12q.5 2 1 0t1-2 1 0 1-2 1-2 1 2 1 3 1 0M23 2180q.5 -1 1-1t1 2 1 3 1-1 1-8l1-17 1-21 1-31 .2-6 .8 20 1 22 1 17 1 15q.5 6 1 7t1-4 1-9 1-7 1-6 1-2 1 5 1 7 1 6 1 6 1 4 1 0 1 0 1 2 1 0 1-4M133 2185q.5 1 1 0t1-2 1-3 1-8l1-17 1-30 1-39 .4-17 .6 26 1 38 1 31 1 16q.5 5 1 5t1-3 1-10l1-15 .8-14 .2 4 1 9 1 9q.5 5 1 8t1 4 1 1 1 0 1 0 1 1 1 2M23 2168q.5 -2 1-3t1 0 1 5 1 5l1-7 1-30 1-41 1-59 .6-38 .4 21 1 52 1 48 1 37 1 19q.5 4 1 1t1-4 1 0 1 3 1 1 1-1 1 1 1 0 1-1 1 1 1 0 1-4 1-6 1-3 1 2M133 2175q.5 -1 1-2t1-2 1-3 1-4 1-5l1-9 1-18 1-38 .6-25 .4 16 1 41 1 24 1 14q.5 4 1 4l1-4 1-16 .9-25 .1 1 1 21 1 16 1 11q.5 4 1 5t1 0 1-1 1 1 1 0 1-1M23 2175q.5 1 1 0t1-2 1-6 1-11l1-15 1-19 1-22 .7-18 .3 11 1 29 1 23 1 15 1 11q.5 3 1 2t1-3 1-2 1-2 1-5 1-4 1 0 1 5 1 8 1 4 1-1 1-3 1-4 1-2 1 1 1 1M133 2173q.5 -1 1-2t1 0 1 2 1 0 1-2 1-8l1-18 1-25 1-27 .7-21 .3 11 1 39 1 28 1 18q.5 5 1 5t1-3l1-13 1-34 .7-23 .3 11 1 26 1 14 1 6q.5 1 1 2t1 5 1 7 1 3M23 2165q.5 2 1 3t1-1 1-4l1-9 1-33 1-42 1-49 .1-1 .9 39 1 42 1 32 1 19q.5 6 1 7t1 0 1-4 1-5 1-2 1 2 1 4 1 3 1 1 1 0 1 0 1 0 1 1 1 0 1-1 1 0 1-1M133 2163q.5 -2 1-3t1 0 1 4 1 4 1-1 1-1 1 1 1-6l1-16 1-21 1-20 .3-5 .7 19 1 23 1 15 1 0 1-25 .9-34 .1 0 1 26 1 21 1 15q.5 5 1 6t1 2 1 1 1 0 1 0M23 2150q.5 0 1 2t1 4 1 3 1-3l1-19 1-40 1-52 1-63 .2-10 .8 53 1 56 1 42 1 17 1-6q.5 -4 1-5t1 5 1 9 1 5 1 5 1 5 1 2 1-2 1-3 1-1 1 1 1 2 1 1 1-1 1-2M133 2143q.5 2 1 5t1 3 1 0 1-1l1-8 1-19 1-30 .7-26 .3 7 1 31 1 26 1 19q.5 7 1 10t1 4 1 0 1-6 1-12l1-16 1-22 .3-9 .7 21 1 21 1 16q.5 5 1 6t1-1 1-4 1-3M23 2158q.5 1 1 1t1-1 1-1 1-4l1-18 1-31 1-37 .8-34 .2 9 1 41 1 33 1 21 1 4q.5 -2 1-8t1-7 1 4 1 9 1 6 1 4 1 4 1 3 1 2 1 1 1 0 1 0 1-1 1-3 1-2 1 2M133 2152q.5 -2 1-2t1 2 1 4 1 1 1-6l1-15 1-24 1-40 .6-25 .4 16 1 39 1 30 1 22q.5 7 1 7t1-5l1-17 1-23 .4-9 .6 12 1 19 1 17q.5 5 1 5t1-1 1-1 1 0 1 1 1 1M23 2135q.5 -1 1-2t1 1 1 2l1-3 1-17 1-26 .8-24 .2 5 1 27 1 21 1 12 1 7q.5 3 1 5t1 5 1 1 1-7 1-8 1-3 1 2 1 4 1 4 1 4 1 2 1-1 1-3 1-4 1-2 1 3 1 7M133 2140q.5 0 1-1t1-2 1-5l1-12 1-22 1-24 .9-25 .1 5 1 38 1 27 1 21 1 9q.5 2 1 0t1-5 1-4 1 2 1 6 1 0 1-13l1-24 1-23 .1 0 .9 21 1 18 1 13q.5 5 1 7t1 2M23 2140q.5 0 1 1t1 1 1-3l1-14 1-27 1-38 1-49 .2-7 .8 37 1 38 1 28 1 20q.5 7 1 8t1-2 1-6 1-3 1 3 1 6 1 6 1 5 1 3 1 1 1 0 1 0 1-1 1-1 1 0 1-1 1 0M133 2143q.5 -1 1-1t1-1 1-2 1-3l1-10 1-22 1-28 .5-14 .5 17 1 30 1 22 1 13q.5 3 1 1t1-5 1-5 1-6l1-13 .8-18 .2 3 1 16 1 15q.5 6 1 9t1 4 1 2 1 1 1 0 1 0M23 2144q.5 1 1 1t1-1 1-7l1-23 1-37 1-48 .9-58 .1 4 1 52 1 46 1 35 1 26q.5 8 1 9t1 0 1-1 1 0 1-2 1-4 1-2 1 1 1 1 1 2 1 4 1 2 1 0 1-3 1-5 1-2 1 2M133 2143q.5 -1 1-2t1 0 1 2 1-3l1-15 1-27 1-34 .5-18 .5 18 1 35 1 22 1 14q.5 4 1 4t1 0 1 1 1-1l1-11 1-30 .8-29 .2 6 1 31 1 19 1 11q.5 3 1 3t1 0 1 1 1 2M23 2126q.5 2 1 5t1 3 1-8l1-26 1-44 1-60 .8-49 .2 12 1 58 1 52 1 38 1 22q.5 5 1 4t1-2 1-1 1 0 1 1 1 3 1 2 1-2 1-5 1-4 1 1 1 4 1 3 1-1 1-4 1-1 1 3M133 2133q.5 -3 1-5t1-3 1 0 1 0l1-7 1-24 1-30 .5-13 .5 16 1 24 1 19 1 15q.5 5 1 7t1 2 1-1 1-4 1-8l1-13 .8-12 .2 3 1 17 1 14q.5 5 1 7t1 0 1-5 1-4 1 0M23 2115q.5 0 1 1t1-4l1-18 1-33 1-38 .7-31 .3 12 1 39 1 34 1 25 1 14q.5 4 1 4t1-1 1-3 1-5 1-3 1 2 1 5 1 6 1 6 1 5 1 2 1-1 1-4 1-4 1 0 1 3 1 4 1 2M133 2129q.5 -3 1-6t1-5 1-4l1-6 1-15 1-23 .8-22 .2 4 1 25 1 20 1 14q.5 5 1 7t1 2 1-1 1 0 1 1l1-5 1-28 .9-37 .1 0 1 35 1 27 1 16q.5 4 1 5t1 2 1 0 1-2M23 2114q.5 -2 1-4t1-3 1-4l1-10 1-31 1-48 1-64 .2-14 .8 46 1 51 1 46 1 34 1 12q.5 3 1 0t1-10 1-15 1-13 1 0 1 11 1 6 1 3 1 7 1 6 1 3 1 3 1 2 1-1 1-1 1-3M133 2119q.5 0 1 0t1-2 1-3 1-5l1-14 1-25 1-28 1-35 1 43 1 33 1 22 1 11q.5 4 1 4t1-2l1-8 1-17 .1-1 .9 10 1 6q.5 3 1 6t1 7 1 6 1-2 1-5 1 0 1 2M23 2114q.5 -1 1-2t1-1 1-2 1-6l1-12 1-15 1-24 .9-29 .1 3 1 26 1 24 1 22 1 17q.5 5 1 4t1-3 1-2 1-1 1-3 1-4 1-3 1 0 1 4 1 6 1 3 1-1 1 0 1 3 1 3 1 1M133 2117q.5 0 1 0t1-1 1-2 1-4l1-9 1-25 1-39 1-42 .1-3 .9 43 1 38 1 24 1 12q.5 3 1 2t1-3l1-5 .8-10 .2 2 1 8 1 7q.5 3 1 3t1-3 1-5 1-3 1 0 1 5 1 7M23 2115q.5 -2 1-4t1 0 1 1l1-16 1-29 1-32 1-56 .3-16 .7 33 1 46 1 42 1 19 1 10q.5 3 1 2t1-2 1-2 1-1 1 0 1-1 1-3 1-2 1 3 1 6 1 1 1-4 1-2 1 1 1 2 1 3M133 2113q.5 0 1 1t1 1 1-3l1-14 1-14 1-15 .8-27 .2 3 1 26 1 29 1 8q.5 2 1 3t1 3 1 3 1-1 1-2 1 0 1-2 1-8l1-15 1-22 .1-2 .9 18 1 12 1 6q.5 3 1 6t1 6M23 2105q.5 1 1 2t1 2 1 0l1-7 1-27 1-37 1-39 .2-7 .8 26 1 31 1 27 1 20q.5 8 1 11t1 3 1-1 1-3 1-4 1-5 1-5 1-3 1-1 1 3 1 7 1 7 1 4 1 2 1 1 1-1 1-3M133 2109q.5 -1 1-3t1-2 1 1 1 1 1-5l1-13 1-25 1-36 .1-5 .9 18 1 23 1 18 1 13q.5 4 1 6t1 4 1 3 1-2l1-10 1-17 .2-3 .8 7 1 7q.5 2 1 2t1-2 1-1 1 3 1 6M23 2106q.5 1 1 1t1-4l1-16 1-35 1-52 1-67 .3-21 .7 42 1 58 1 47 1 34 1 12q.5 2 1-1t1-2 1 2 1-2 1-6 1-2 1 3 1 2 1 1 1 4 1 4 1 0 1 0 1 1 1 0 1-1 1-2M133 2105q.5 1 1 1t1 0 1 1 1 1 1-3 1-9l1-15 1-26 1-34 .3-11 .7 26 1 32 1 24 1 15q.5 3 1 1t1-6 1-8l1-7 .5-10 .5 4 1 3 1 8q.5 4 1 6t1 2 1 1 1 3 1 3M23 2099q.5 -1 1-3t1-4 1-3 1-7l1-18 1-32 1-38 .5-21 .5 19 1 40 1 29 1 22 1 15q.5 5 1 3t1-9 1-17 1-15 1 1 1 12 1 10 1 6 1 3 1 1 1-1 1-2 1-1 1 0 1 0 1 1M133 2097q.5 1 1 2t1 1 1-1 1-3 1-5 1-8l1-12 1-21 1-26 .3-6 .7 22 1 27 1 18 1-2 1-18 .3-6 .7 14 1 18 1 8q.5 1 1-3t1-5 1 1 1 4 1 3 1 0 1-2 1-2M23 2096q.5 1 1 2t1 0 1-4 1-11l1-23 1-32 1-46 .6-33 .4 16 1 45 1 35 1 27 1 15q.5 3 1 2t1-1 1 1 1 1 1-1 1-2 1 0 1 4 1 5 1 1 1-1 1 0 1-1 1-2 1-2 1-1M133 2093q.5 0 1 0t1 1 1 0l1-7 1-19 1-30 .9-31 .1 3 1 31 1 30 1 19q.5 7 1 8t1 0 1-5l1-14 1-32 .9-38 .1 1 1 36 1 29 1 16q.5 4 1 2t1-4 1-2 1 3 1 5 1 1M23 2093q.5 0 1-2t1-3 1-1l1-4 1-31 1-49 1-56 .5-29 .5 30 1 56 1 36 1 31 1 23q.5 5 1 3t1-4 1-7 1-9 1-12 1-14 1 0 1 10 1 9 1 9 1 3 1-1 1 2 1 3 1 0 1-3M133 2088q.5 0 1 0t1 1 1 0l1-10 1-22 1-24 .9-21 .1 3 1 28 1 19 1 16q.5 7 1 11t1 4 1-2 1-1 1 2 1-2l1-8 1-25 .6-11 .4 9 1 19 1 9q.5 4 1 5t1 1 1 1 1 1M23 2089q.5 0 1 0t1 0 1-1 1-8l1-24 1-46 1-65 .8-58 .2 10 1 53 1 52 1 42 1 23q.5 5 1 2t1-8 1-10 1-6 1 4 1 9 1 8 1 7 1 3 1 0 1 1 1 3 1 3 1 0 1-2 1-2M133 2088q.5 0 1 0t1 0 1-1 1-6l1-13 1-24 1-30 .3-8 .7 23 1 26 1 13 1 1q.5 -1 1-3t1 0 1 3 1-1l1-10 1-29 1-39 1 35 1 30 1 19q.5 6 1 7t1 1 1-1 1-2M23 2071q.5 -3 1-5t1-2 1 0 1-3l1-15 1-33 1-52 1-61 1 61 1 52 1 37 1 26q.5 8 1 8t1-2 1-2 1 1 1-1 1-2 1 2 1 2 1-1 1 0 1 2 1 1 1-1 1-2 1-1 1 1M133 2083q.5 -1 1-3t1-4 1-5 1-8l1-14 1-25 1-31 .8-28 .2 8 1 46 1 34 1 20 1 10q.5 2 1-3l1-18 1-31 .5-19 .5 15 1 26 1 19q.5 7 1 9t1 0 1-3 1 1 1 2 1-1 1 0M23 2078q.5 0 1-1t1-1 1-3l1-9 1-17 1-22 1-33 .3-9 .7 20 1 26 1 23 1 20q.5 5 1 3t1-7 1-9 1-5 1 2 1 5 1 3 1 1 1-1 1 0 1 4 1 6 1 2 1-6 1-7 1 0 1 6M133 2075q.5 1 1 2t1 1 1-3l1-13 1-27 1-38 .8-35 .2 4 1 42 1 37 1 23 1 6q.5 1 1 0t1-3l1-6 1-24 .4-10 .6 11 1 19 1 12q.5 4 1 4t1-1 1-2 1-3 1-4 1-2 1 3M23 2073q.5 -1 1-1t1-1 1-4l1-11 1-27 1-39 1-47 .3-12 .7 32 1 47 1 24 1 18 1 12q.5 4 1 6t1 3 1-1 1-7 1-10 1-6 1 1 1 3 1 3 1 6 1 6 1 1 1-1 1 2 1 3 1-1M133 2064q.5 2 1 5t1 4 1 0 1-3l1-7 1-23 1-30 1-36 .1-4 .9 30 1 28 1 24 1 20q.5 3 1-1t1-7 1-7l1-13 1-26 .1-3 .9 24 1 16 1 10q.5 4 1 6t1 1 1-3 1-2 1 2M23 2065q.5 0 1 1t1 2 1-1 1-10l1-25 1-39 1-49 1-63 .1-3 .9 53 1 51 1 37 1 21 1 1q.5 -1 1-3t1-1 1 4 1 9 1 11 1 5 1-3 1-3 1 2 1 4 1 2 1-2 1-4 1-3 1-1M133 2061q.5 1 1 2t1 2 1 1 1 0 1-5l1-16 1-33 1-38 .4-12 .6 21 1 28 1 13 .3 0 .7 17 1 10 1 6q.5 2 1 2t1 1 1 1 1-2 1-2 1 3 1 6 1 2 1-4 1-4 1 1M23 2062q.5 0 1-1t1-1 1 0 1-7l1-23 1-35 1-40 .4-18 .6 21 1 34 1 30 1 25 1 12q.5 3 1 3t1 0 1-1 1-2 1 0 1 2 1 1 1 0 1-1 1-2 1-2 1 0 1 3 1 2 1-2 1-3M133 2061q.5 0 1 0t1 0 1 0 1-2 1-7l1-13 1-25 1-38 .4-18 .6 20 1 33 1 26 1 14q.5 4 1 4t1-3l1-14 1-24 .3-6 .7 19 1 21 1 11q.5 3 1 4t1 1 1 0 1-1 1-2 1-2M23 2049q.5 0 1 1t1 3 1 4 1 0l1-10 1-42 1-56 1-55 .4-21 .6 43 1 42 1 40 1 35 1 21q.5 6 1 6t1-2 1-2 1-1 1-4 1-7 1-5 1 1 1 6 1 6 1 1 1-4 1-4 1 2 1 6M133 2054q.5 2 1 1t1-5l1-9 1-22 1-31 1-37 .2-9 .8 33 1 39 1 19 1 9q.5 3 1 7t1 6 1-3 1-5 1 1 1-1l1-9 1-27 .1-3 .9 19 1 17 1 7q.5 0 1-4t1-5 1 1 1 5M23 2043q.5 1 1 4t1 5 1-2l1-16 1-30 1-34 .9-37 .1 3 1 37 1 28 1 23 1 17q.5 5 1 5t1-2 1-4 1-6 1-6 1 0 1 3 1 1 1 1 1 4 1 5 1 2 1-1 1 0 1 3 1 4 1 3M133 2045q.5 1 1 0t1-2 1-1 1 0l1-4 1-17 1-24 .4-12 .6 13 1 23 1 18 1 9q.5 2 1 0t1-4 1-7l1-16 1-25 .1-2 .9 24 1 22 1 12q.5 3 1 2t1-3 1-5 1-4 1 0 1 2M23 2044q.5 0 1 1t1 0 1-9l1-24 1-39 1-41 .6-28 .4 16 1 41 1 34 1 27 1 16q.5 4 1 3t1-3 1-5 1-7 1-6 1-1 1 5 1 9 1 7 1 0 1-3 1-1 1 3 1 6 1 3 1 0 1-1M133 2044q.5 1 1 2t1 0 1-3 1-7l1-16 1-27 1-38 .1-4 .9 25 1 27 1 22 1 11q.5 3 1 3t1 0 1 0 1-2l1-7 1-15 .6-11 .4 7 1 13 1 7q.5 3 1 5t1 5 1 4 1-2 1-5M23 2032q.5 1 1 2t1 3 1 3 1-1 1-10l1-24 1-41 1-50 1-61 .2-10 .8 54 1 63 1 40 1 30 1 12q.5 3 1 2t1-1 1-1 1-4 1-4 1 0 1 2 1 0 1-1 1 0 1 1 1 3 1 4 1 1M133 2016q.5 0 1 3t1 7 1 6 1 3 1 2 1-2l1-14 1-32 1-39 .5-17 .5 17 1 33 1 27 1 21q.5 8 1 10t1-3l1-12 1-13 1 13 1 9q.5 5 1 6t1-2 1-4 1 0 1 1 1 0M23 2028q.5 -3 1-2t1 4 1 2l1-10 1-44 1-61 1-73 .4-32 .6 35 1 62 1 53 1 41 1 26q.5 7 1 4t1-11 1-16 1-9 1 5 1 12 1 10 1 5 1 1 1 0 1 0 1 0 1 1 1 3 1 3 1 0M133 2036q.5 0 1 0t1-1 1-5 1-6l1-6 1-17 1-30 .8-32 .2 6 1 26 1 22 1 16q.5 6 1 8t1 3 1 3 1 3l1-3 1-23 .8-26 .2 5 1 24 1 20 1 13q.5 4 1 4t1-1 1-4 1-4M23 2020q.5 4 1 8t1 5 1-2 1-11l1-27 1-45 1-56 1-73 .1-8 .9 59 1 60 1 48 1 36 1 16q.5 5 1 5t1-1 1-2 1-2 1-2 1-3 1-4 1-3 1 1 1 6 1 6 1-1 1-7 1-5 1 1M133 2019q.5 -1 1-2t1-1 1 4 1 6l1-1 1-23 1-36 1-43 .1-3 .9 32 1 35 1 26 1 12q.5 3 1 2t1-2 1-4l1-10 1-21 .3-6 .7 17 1 16 1 10q.5 2 1 1t1-3 1-4 1-3 1 1M23 2026q.5 -1 1-2t1-3 1-7l1-16 1-29 1-32 .9-29 .1 2 1 42 1 29 1 26 1 18q.5 5 1 4t1-2 1-5 1-11 1-14 1-9 1 3 1 8 1 6 1 6 1 6 1 4 1-1 1-4 1-2 1 1 1 1M133 2024q.5 3 1 4t1 1 1-2 1-6l1-13 1-20 1-27 .6-18 .4 9 1 26 1 28 1 19q.5 4 1-3l1-22 1-32 .3-13 .7 22 1 27 1 16q.5 4 1 3t1-2 1-1 1 0 1 0 1 0 1 1 1 2M23 2018q.5 -2 1-4t1-4 1-5l1-8 1-26 1-33 1-37 .4-17 .6 27 1 36 1 29 1 21 1 7q.5 0 1-5t1-8 1-1 1 5 1 7 1 6 1 3 1 2 1 2 1-1 1-4 1-2 1 2 1 4 1 3 1 1M133 2022q.5 0 1 0t1-1 1-3 1-6l1-13 1-20 1-25 .7-21 .3 6 1 26 1 25 1 17q.5 5 1 5t1-1 1-3l1-10 1-23 .6-20 .4 12 1 20 1 18q.5 7 1 10t1 2 1-2 1-1 1 0 1-1M23 2017q.5 1 1 1t1-2 1-9l1-20 1-26 1-31 .5-22 .5 14 1 29 1 25 1 21 1 14q.5 3 1 0t1-6 1-3 1 3 1 6 1 3 1 1 1 2 1-1 1-2 1 1 1 2 1-1 1-1 1 1 1-2 1-4M133 2017q.5 0 1 0t1 0 1 1 1 0 1-7l1-20 1-29 1-34 .4-14 .6 23 1 31 1 22 1 15q.5 5 1 6t1 1 1-3 1-9l1-14 1-12 .2-3 .8 18 1 15 1 9q.5 4 1 5t1-1 1-2 1 1M23 2010q.5 2 1 3t1-1 1-2 1-1l1-8 1-22 1-33 1-38 .3-12 .7 25 1 31 1 24 1 17 1 8q.5 2 1 1t1-5 1-7 1-2 1 3 1 6 1 7 1 4 1 0 1-1 1-1 1-2 1-2 1 0 1 3M133 2007q.5 -1 1-1t1 1 1 3 1 1l1-10 1-16 1-16 .9-21 .1 2 1 25 1 18 1 14q.5 4 1 4t1-3 1-9l1-15 .6-7 .4 5 1 17 1 9q.5 1 1-1t1-4 1-1 1 3 1 4 1 2 1-1M23 2001q.5 -2 1-2t1 2 1 3 1-4l1-22 1-40 1-53 1-57 1 57 1 50 1 35 1 24q.5 8 1 10t1 1 1-2 1-2 1 0 1 1 1 1 1 2 1 1 1-1 1-2 1 0 1 3 1 2 1-3 1-6M133 2009q.5 0 1-1t1-3 1-9l1-17 1-20 1-26 .4-13 .6 18 1 25 1 18 1 10q.5 3 1 4t1 3 1 1 1-6l1-13 .6-9 .4 5 1 14 1 8q.5 2 1 3t1 1 1 0 1 1 1 2 1 1 1-1M23 1990q.5 0 1 0t1 2 1 0l1-15 1-50 1-60 1-74 .1-6 .9 63 1 60 1 49 1 32 1 6q.5 1 1 1t1 1 1 1 1-1 1 0 1 2 1 1 1 0 1 0 1-2 1-4 1-3 1-1 1 0 1-1 1-1M133 2004q.5 -1 1-5t1-6 1-3 1-2 1-6l1-12 1-22 1-37 .1-3 .9 30 1 31 1 21 1 11q.5 3 1 3t1-2 1-4 1-3 1-4l1-8 .7-11 .3 4 1 12 1 12q.5 4 1 4t1 0 1 0 1-2M23 1994q.5 2 1 3t1-1 1-2 1 0 1-3l1-12 1-21 1-29 .6-19 .4 10 1 25 1 23 1 16 1 3q.5 -4 1-15t1-16 1 1 1 11 1 7 1 5 1 6 1 5 1 3 1 2 1 1 1-1 1 0 1 1 1-2M133 1996q.5 0 1-1t1-2 1 1 1 1 1-9l1-20 1-31 1-39 .4-16 .6 28 1 40 1 28 1 15q.5 4 1 4t1-4l1-14 1-26 .5-20 .5 11 1 26 1 22q.5 7 1 8t1-1 1-3 1-1 1 0 1 1M23 1991q.5 -1 1-3t1-4 1-7l1-17 1-32 1-42 .8-43 .2 6 1 45 1 40 1 36 1 16q.5 5 1 5t1 1 1 0 1-4 1-8 1-9 1-4 1 4 1 8 1 6 1 2 1 0 1 0 1 0 1 0 1 1 1 0M133 1990q.5 -1 1 0t1 2 1-1 1-5 1-10l1-21 1-29 1-34 .3-10 .7 32 1 35 1 24 1 15q.5 5 1 5t1-2 1-3 1-3l1-8 1-20 .2-4 .8 8 1 9 1 9q.5 4 1 6t1 4 1 3 1 0M23 1984q.5 -1 1-1t1-1 1-7l1-19 1-30 1-36 .9-37 .1 1 1 47 1 37 1 27 1 19q.5 4 1 1t1-4 1-1 1 1 1 3 1 3 1-1 1-1 1 2 1-2 1-5 1-3 1 0 1 3 1 2 1-2 1-3M133 1988q.5 0 1 0t1-1 1-2 1-5l1-14 1-31 1-41 .9-36 .1 4 1 47 1 39 1 28 1 13q.5 3 1 2t1-4 1-10l1-16 .6-8 .4 5 1 12 1 9q.5 5 1 7t1 0 1-1 1 2 1-2 1-5M23 1979q.5 -2 1-4t1-2 1-1 1-6l1-17 1-36 1-49 .8-45 .2 10 1 49 1 41 1 34 1 23q.5 7 1 7t1-2 1-5 1-6 1-4 1 1 1 4 1 2 1-2 1-4 1-3 1 0 1 4 1 7 1 5 1-2M133 1978q.5 0 1 2t1 2 1-2 1-5 1-8l1-15 1-28 1-32 .5-19 .5 20 1 32 1 25 1 19 1-5 1-22 1-31 1 32 1 23 1 8q.5 1 1-2t1-4 1 1 1 4 1 1 1-3 1-4M23 1971q.5 2 1 3t1-1 1-8l1-20 1-45 1-61 1-74 .3-24 .7 51 1 70 1 56 1 37 1 14q.5 3 1 1t1-3 1 0 1 3 1 2 1-1 1-3 1-5 1-4 1 1 1 5 1 6 1 5 1 1 1-3 1-5M133 1970q.5 0 1-1t1-1 1 2 1 3 1-2 1-11l1-19 1-24 1-27 .1-1 .9 23 1 23 1 23 1 2 1-27 .9-35 .1 1 1 31 1 23 1 14q.5 5 1 6t1 1 1-1 1-4 1-6 1-4 1 1M23 1971q.5 -1 1-1t1 1 1 0l1-6 1-25 1-34 1-37 .3-11 .7 23 1 33 1 29 1 22q.5 7 1 6t1-7 1-14 1-15 1-10 1 2 1 11 1 11 1 8 1 5 1 2 1-1 1 0 1 4 1 5 1 2 1-1M133 1964q.5 3 1 5t1 3 1 0 1-4l1-11 1-18 1-28 .8-30 .2 5 1 26 1 23 1 19q.5 7 1 10t1 2l1-9 1-31 .7-31 .3 6 1 25 1 22 1 11q.5 3 1 2t1 1 1 4 1 2 1 0 1-2M23 1965q.5 3 1 3t1-2 1-4 1-4l1-8 1-22 1-29 1-34 .1-4 .9 26 1 26 1 21 1 12q.5 5 1 8t1 5 1 3 1 2 1 2 1 1 1-1 1-4 1-5 1-2 1 0 1-1 1-1 1 1 1 4 1 6M133 1958q.5 -3 1-3t1 3 1 6 1 3 1-5l1-15 1-24 1-32 .9-38 .1 4 1 38 1 32 1 20 1 8q.5 1 1-3l1-13 1-11 .1-1 .9 16 1 13q.5 5 1 8t1 4 1 0 1-2 1-4 1-5 1-2M23 1955q.5 -1 1 0t1 2 1-4l1-21 1-39 1-45 1-48 1 54 1 44 1 35 1 22q.5 5 1 2t1-6 1-4 1-2 1-2 1-1 1 1 1 1 1 0 1 2 1 7 1 8 1 2 1-3 1-2 1 1 1 1M133 1960q.5 1 1 1t1-2 1-3 1-2l1-5 1-19 1-29 .9-29 .1 2 1 31 1 28 1 20q.5 7 1 9t1 1 1-3 1-8l1-18 1-30 .8-31 .2 7 1 29 1 22 1 13q.5 3 1 2t1-1 1 2 1 6M23 1955q.5 0 1-1t1-3 1-4 1-8l1-18 1-30 1-47 .7-35 .3 15 1 47 1 37 1 23 1 9q.5 1 1-2t1-3 1 1 1 1 1 1 1 5 1 8 1 3 1-4 1-5 1-5 1-3 1 3 1 7 1 5 1 0M133 1948q.5 1 1 3t1 3 1 1 1-3 1-9l1-16 1-18 1-18 1 28 1 18 1 13q.5 5 1 7t1 1 1-2 1-1 1-4l1-13 1-20 1 10 1 9q.5 5 1 9t1 7 1 2 1-4 1-6M23 1953q.5 0 1-1t1 0 1 1 1-3l1-10 1-16 1-28 1-31 1 26 1 22 1 17 1 5q.5 -2 1-9t1-13 1-3 1 8 1 10 1 9 1 6 1 3 1 3 1 2 1-2 1-2 1 0 1 1 1 2 1 1M133 1947q.5 -2 1-2t1 2 1 0l1-12 1-21 1-27 .7-25 .3 7 1 32 1 28 1 15q.5 5 1 5t1-4l1-16 1-31 .7-27 .3 11 1 30 1 22 1 11q.5 3 1 4t1 1 1 1 1 1 1-1 1 0 1 1M23 1948q.5 0 1 0t1-1 1-7l1-23 1-48 1-64 .9-65 .1 7 1 69 1 54 1 40 1 32q.5 8 1 6t1-3 1 0 1 2 1 1 1 0 1 0 1-1 1-2 1-2 1-3 1-1 1 3 1 3 1 0 1-3 1-4M133 1941q.5 -1 1 1t1 4 1 2 1 0 1-4l1-11 1-19 1-28 .7-25 .3 7 1 29 1 27 1 16q.5 5 1 6t1 1 1-3 1-3 1 1 1-1l1-10 1-18 .1-2 .9 15 1 11 1 7q.5 1 1-1t1-3M23 1941q.5 0 1 1t1 0 1-3 1-10l1-25 1-34 1-36 .7-28 .3 15 1 43 1 34 1 28 1 12q.5 2 1 0t1-3 1 1 1 4 1 2 1-2 1-6 1-5 1 1 1 4 1 3 1 2 1 2 1 1 1 1 1 1M133 1937q.5 1 1 3t1 2 1 0 1 0 1-3l1-8 1-25 1-35 1-38 .1-4 .9 37 1 39 1 25 1 11q.5 2 1-5l1-27 1-41 .2-9 .8 25 1 30 1 24q.5 7 1 7t1-3 1-7 1-5 1 1 1 4M23 1936q.5 0 1-2t1-6 1-7 1-10l1-24 1-39 1-49 .8-49 .2 11 1 60 1 54 1 32 1 27q.5 5 1-2t1-15 1-12 1-3 1 4 1 5 1 3 1 3 1 5 1 5 1 2 1-1 1-1 1 1 1 4 1 5 1 1M133 1935q.5 0 1 1t1 1 1-1 1-3 1-11l1-22 1-28 1-32 .4-14 .6 21 1 36 1 28 1 18 1-7 1-34 .7-24 .3 11 1 24 1 16 1 7q.5 1 1 0t1-1 1 0 1 0 1 0 1 2 1 4M23 1925q.5 0 1 0t1 0 1-2 1-7l1-19 1-38 1-58 1-76 .1-7 .9 64 1 59 1 50 1 29 1 5q.5 1 1 0t1-1 1 0 1-1 1 0 1 4 1 4 1 0 1-3 1-2 1 2 1 3 1 0 1-1 1-1 1-5M133 1933q.5 0 1-2t1-4 1-2 1 0 1 0 1-3 1-8l1-13 1-16 1-25 .3-9 .7 22 1 26 1 20 1 13q.5 3 1 0t1-8l1-14 1-19 .5-10 .5 12 1 17 1 11q.5 5 1 8t1 4 1-1 1-4M23 1924q.5 -2 1-4t1-3 1-4l1-13 1-28 1-43 1-60 .1-6 .9 46 1 47 1 34 1 27 1 8q.5 2 1 0t1-2 1-1 1-6 1-11 1-8 1 2 1 7 1 6 1 5 1 3 1 2 1 2 1 1 1-2 1-4 1-2M133 1924q.5 2 1 3t1 0 1-3 1-5 1-9l1-16 1-21 1-23 .3-9 .7 24 1 25 1 22 1 14 1-11 1-22 1-33 1 27 1 21 1 17q.5 4 1 3t1-2 1 0 1 1 1 0 1 0 1 0M23 1921q.5 1 1 2t1-1 1-11l1-27 1-41 1-51 .6-30 .4 20 1 45 1 37 1 28 1 19q.5 5 1 6t1 1 1 0 1 0 1 0 1-3 1-10 1-10 1-3 1 0 1 0 1 3 1 7 1 7 1 3 1 0 1 0 1-2M134 1918q.5 0 1 1t1 2 1 1 1-3l1-11 1-19 1-22 .6-14 .4 9 1 20 1 16 1 9 1-8 1-22 .8-22 .2 4 1 29 1 20 1 8q.5 3 1 4t1 2 1-1 1-1 1 0 1-5 1-7M23 1914q.5 0 1 1t1 1 1-1 1-8l1-26 1-52 1-62 .9-59 .1 5 1 72 1 58 1 42 1 25q.5 7 1 4t1-9 1-13 1-12 1-2 1 8 1 8 1 5 1 3 1 2 1 1 1-2 1-3 1 0 1 4 1 5 1 1M134 1917q.5 1 1 0t1-1 1-1l1-8 1-25 1-35 1-48 .2-8 .8 30 1 35 1 26 1 7 .9-17 .1 3 1 20 1 13 1 4q.5 1 1 0t1-2 1-1 1 0 1 1 1 1 1-1 1-2 1-1M23 1904q.5 2 1 3t1 1 1 1 1-3l1-17 1-26 1-34 .8-34 .2 8 1 33 1 26 1 21 1 19q.5 8 1 10t1 0 1-4 1-4 1-1 1 1 1-1 1-2 1-1 1-1 1-2 1 0 1 2 1 2 1 1 1 1 1 1M134 1902q.5 -2 1-2t1 1 1-4l1-16 1-26 1-34 .3-12 .7 24 1 35 1 28 1 14q.5 3 1 0t1-8l1-16 1-21 .7-13 .3 11 1 23 1 15q.5 4 1 3t1-1 1 0 1-1 1-2 1-1 1 0M23 1906q.5 0 1 0t1 0 1-3 1-7 1-11l1-21 1-34 1-47 1-52 1 60 1 46 1 32 1 20q.5 7 1 9t1 5 1 4 1 1 1 0 1 0 1 0 1-1 1-2 1-1 1 0 1 0 1 0 1 1 1 0 1 0M134 1904q.5 1 1 1t1 1 1-1l1-9 1-21 1-33 .8-29 .2 2 1 27 1 28 1 20q.5 7 1 10t1 4 1 0 1-4 1-6l1-7 1-12 .8-15 .2 4 1 21 1 15q.5 6 1 8t1 1 1-2 1-2M23 1892q.5 0 1 0t1-1 1-8l1-22 1-42 1-53 .6-31 .4 22 1 49 1 37 1 28 1 21q.5 6 1 6t1-1 1-1 1 2 1 3 1 0 1 0 1 1 1-1 1-1 1-1 1-4 1-4 1-2 1 0 1 4 1 5 1 3M134 1895q.5 -1 1-2t1-2 1-6l1-13 1-18 1-22 1 23 1 18 1 14q.5 5 1 6t1-1 1-2 1 2 1 3 1 0 1-4l1-10 1-16 .4-9 .6 12 1 17 1 16q.5 4 1 3t1-1 1-2M23 1897q.5 0 1 0t1 0 1-1 1-2 1-4 1-11l1-20 1-27 1-34 .7-31 .3 7 1 29 1 24 1 19 1 29q.5 8 1 9t1 2 1 4 1 5 1 3 1 1 1 0 1 0 1-1 1-2 1-1 1 0 1-3 1-5 1-3M134 1898q.5 0 1-1t1 0 1 0 1-7l1-17 1-27 1-35 .2-9 .8 19 1 24 1 23 1 13q.5 3 1-1l1-14 1-14 .4-5 .6 15 1 22 1 9q.5 2 1 2t1 1 1 1 1 0 1 0 1 0 1 0M23 1892q.5 0 1 0t1 0 1-3l1-15 1-32 1-42 .9-44 .1 2 1 36 1 29 1 29 1 24q.5 8 1 10t1 4 1 3 1 1 1-1 1-4 1-6 1-3 1 1 1 1 1-1 1-2 1 0 1 3 1 3 1 1 1-1 1-3M134 1893q.5 0 1 0t1 0 1-2 1-7l1-12 1-20 1-27 1 19 1 17 1 9q.5 3 1 3t1-1l1-6 1-19 .7-17 .3 9 1 29 1 17q.5 6 1 7t1-3 1-6 1-2 1 1 1 1 1-2M23 1888q.5 0 1-1t1-3 1-4 1-2 1 1l1-1 1-24 1-38 1-42 .4-14 .6 26 1 38 1 30 1 22 1 12q.5 2 1 0t1-2 1 0 1-2 1-2 1 2 1 3 1 0 1-2 1-1 1 0 1 1 1 0 1-3 1-1M134 1887q.5 0 1 0t1 0 1-4l1-17 1-33 1-36 .7-23 .3 14 1 43 1 29 1 16q.5 5 1 6t1 2 1 1 1-1 1-6l1-13 1-28 1 20 1 20 1 7q.5 1 1 0t1 0 1 2 1 1M23 1878q.5 -1 1-1t1 1 1-2l1-15 1-33 1-43 .9-45 .1 3 1 44 1 39 1 29 1 17q.5 6 1 8t1 1 1-5 1-5 1 0 1 2 1 2 1 1 1 0 1 1 1 3 1 2 1-2 1-1 1 2 1 0 1-4 1-5M134 1881q.5 -1 1-1t1-1 1-2 1-5l1-11 1-19 1-26 .1 0 .9 22 1 22 1 13q.5 5 1 7t1 1 1-3 1-6l1-14 1-38 .3-11 .7 18 1 26 1 18q.5 5 1 6t1 1 1 0 1 1 1 2M23 1867q.5 -2 1-3t1 0 1 3l1 0 1-29 1-38 1-43 .4-18 .6 25 1 35 1 32 1 28 1 16q.5 4 1 3t1-4 1-8 1-9 1-8 1-4 1 4 1 8 1 6 1 5 1 6 1 3 1-4 1-7 1-3 1 2 1 4M134 1872q.5 -1 1-2t1-3 1-7l1-15 1-16 1-18 .5-15 .5 15 1 26 1 24 1 10q.5 1 1-1t1-4l1-5 1-7 .3-4 .7 8 1 7q.5 2 1 3t1 3 1 4 1 1 1-1 1 1 1 0 1-1M23 1873q.5 1 1 0t1-2 1-5 1-6 1-4l1-8 1-14 1-23 .9-29 .1 2 1 29 1 22 1 13 1 2q.5 -4 1-11t1-6 1 3 1 3 1 3 1 6 1 10 1 10 1 4 1 0 1-2 1-4 1-2 1 0 1 0 1-1M134 1868q.5 -1 1 0t1 0l1-10 1-16 1-31 .7-24 .3 7 1 25 1 24 1 20q.5 6 1 5l1-10 .9-15 .1 1 1 11 1 10q.5 4 1 5t1 0 1-1 1-3 1-6 1-4 1 0 1 5 1 7 1 4M23 1863q.5 2 1 3t1-1 1-1 1 1 1-5l1-17 1-25 1-27 .9-25 .1 4 1 34 1 25 1 18 1 2q.5 -4 1-15t1-17 1 0 1 12 1 12 1 10 1 7 1 5 1 2 1 0 1 1 1 0 1-1 1 0 1 0 1-1M134 1857q.5 -1 1 1t1 5 1 3 1-5l1-13 1-19 1-35 .6-24 .4 10 1 28 1 27 1 23q.5 8 1 9t1 0 1-4l1-12 1-23 .4-11 .6 9 1 15 1 14q.5 5 1 7t1 3 1 1 1 0 1 0M23 1849q.5 0 1 2t1 4 1 3 1-3l1-14 1-31 1-41 1-50 .3-12 .7 38 1 47 1 36 1 17 1-5q.5 -4 1-10t1-8 1 1 1 7 1 9 1 9 1 5 1 1 1 0 1 0 1 1 1 2 1 1 1-1 1-3 1-2M134 1848q.5 2 1 2t1 0 1 1 1-2l1-13 1-27 1-37 .4-16 .6 19 1 33 1 27 1 21q.5 7 1 8t1-1 1-11l1-26 1-29 .3-9 .7 25 1 26 1 15q.5 5 1 6t1 1 1-1 1-3 1-3M23 1856q.5 1 1 1t1-1 1-1 1-3l1-18 1-41 1-53 1-65 .2-12 .8 53 1 55 1 43 1 26 1 9q.5 2 1 2t1 0 1 0 1-2 1-2 1 1 1 3 1 3 1 2 1 1 1 0 1-1 1-3 1-2 1 2 1 1M134 1847q.5 0 1 3t1 4 1-3l1-15 1-24 1-26 .4-15 .6 14 1 28 1 24 1 16q.5 5 1 6t1-1 1-7l1-17 1-21 .1-2 .9 15 1 16 1 13q.5 3 1 2t1-2 1-1 1 1 1 2 1 1M23 1833q.5 -1 1-1t1 1 1 4 1 5 1-3l1-17 1-22 1-27 .2-6 .8 18 1 19 1 15 1 16q.5 7 1 11t1 1 1-13 1-21 1-17 1-3 1 10 1 14 1 12 1 8 1 4 1 0 1-3 1-2 1 3 1 7 1 6M134 1838q.5 -1 1-2t1-2 1-2 1 1 1 4l1 0 1-13 1-21 .9-20 .1 2 1 25 1 17 1 6 1-16 1-27 .4-11 .6 21 1 27 1 8q.5 1 1-2t1-3 1 2 1 4 1 4 1 4 1 2M23 1838q.5 0 1 1t1 1 1 0 1-2 1-8l1-18 1-35 1-45 .5-25 .5 22 1 36 1 30 1 27 1 15q.5 3 1 0t1-6 1-7 1-8 1-4 1 5 1 9 1 7 1 6 1 4 1 1 1 0 1 0 1-1 1 0 1 2M134 1840q.5 -1 1-1t1 0 1 1 1 1 1-2 1-8l1-13 1-17 .9-21 .1 1 1 23 1 17 1 9q.5 3 1 1l1-13 1-27 .6-24 .4 11 1 28 1 23q.5 8 1 11t1 4 1 2 1 1 1 0 1 0M23 1842q.5 1 1 1t1-1 1-5l1-12 1-29 1-41 1-57 .3-18 .7 34 1 45 1 37 1 29 1 15q.5 3 1-2t1-12 1-14 1-11 1-1 1 8 1 9 1 7 1 7 1 7 1 3 1 0 1-2 1-4 1-2 1 2 1 3M134 1838q.5 -1 1 0t1 1 1-4l1-13 1-21 1-26 1 25 1 22 1 11q.5 4 1 5t1 0 1-1 1 1 1 0l1-9 1-23 .8-20 .2 6 1 22 1 13 1 7q.5 2 1 2t1 0 1 1 1 3M23 1824q.5 2 1 5t1 4 1 0 1-3 1-10l1-27 1-43 1-49 .5-27 .5 23 1 49 1 38 1 27 1 9q.5 -1 1-9t1-16 1-8 1 7 1 13 1 8 1 2 1 2 1 5 1 5 1 2 1-2 1-4 1-1 1 4 1 5M134 1826q.5 -2 1-3t1 1 1 1l1-10 1-31 1-39 .7-31 .3 14 1 37 1 30 1 24q.5 9 1 12t1 2 1-3 1-7l1-16 1-28 .4-13 .6 17 1 26 1 20q.5 7 1 8t1-2 1-6 1-4 1 1M23 1814q.5 0 1 1t1 1 1-1 1-4l1-8 1-20 1-28 1-34 .2-4 .8 27 1 28 1 23 1 16q.5 4 1 0t1-12 1-11 1 2 1 10 1 10 1 9 1 7 1 4 1 1 1-3 1-4 1 0 1 3 1 4 1 2 1-2M134 1820q.5 -3 1-5t1-2 1 1 1 1 1-5l1-15 1-26 1-33 .6-23 .4 15 1 37 1 28 1 18q.5 6 1 8t1 3 1 1 1-6l1-17 .9-21 .1 2 1 22 1 16 1 10q.5 3 1 4t1 0 1-2M23 1812q.5 -2 1-4t1-3 1 0 1 3 1-1l1-13 1-26 1-34 .3-11 .7 20 1 30 1 26 1 18q.5 6 1 7t1-2 1-6 1-4 1-1 1-4 1-12 1-7 1 6 1 9 1 7 1 7 1 6 1 2 1 0 1-3 1-7M134 1818q.5 -1 1-2t1-3 1-5 1-9l1-16 1-22 1-28 .5-18 .5 22 1 34 1 23 1 15 1-10 1-24 .5-16 .5 16 1 25 1 14q.5 3 1 2t1-1 1 4 1 6 1-2 1-5 1 0 1 2M23 1812q.5 -1 1-2t1-1 1-4l1-16 1-34 1-40 1-53 .3-15 .7 37 1 46 1 39 1 31 1 16q.5 4 1 2t1-6 1-8 1-8 1-6 1-2 1 1 1 4 1 8 1 9 1 5 1 0 1 0 1 3 1 3 1 1 1-1M134 1816q.5 0 1-1t1-3 1-3 1-4l1-11 1-33 1-37 .9-35 .1 5 1 47 1 32 1 23 1 11q.5 3 1 2l1-6 1-20 .5-13 .5 9 1 17 1 11q.5 3 1 2t1-4 1-4 1 0 1 4 1 6M23 1814q.5 -2 1-4t1 0 1 3 1-4 1-11l1-21 1-58 1-68 .7-51 .3 22 1 72 1 49 1 41 1 26q.5 6 1 4t1-5 1-4 1-2 1-2 1-2 1-1 1 4 1 8 1 2 1-4 1-2 1 1 1 2 1 3 1 3M134 1812q.5 1 1 2t1-1 1-4 1 0 1-1l1-17 1-16 1-13 .3-10 .7 12 1 18 1 18 1 11 1-17 .7-8 .3 3 1 12 1 6q.5 2 1 2t1 0 1 0 1-1 1-3 1-3 1 2 1 6M23 1803q.5 1 1 2t1 2 1 1 1-6l1-20 1-38 1-42 .7-31 .3 11 1 39 1 35 1 28 1 19q.5 6 1 6t1-2 1-4 1-4 1-4 1-4 1-4 1-1 1 4 1 7 1 7 1 4 1 1 1 1 1 0 1-3 1-4M134 1803q.5 -1 1-1t1 1 1 2 1 2 1 0l1-6 1-26 1-34 1-35 1 31 1 27 1 23 1 14q.5 4 1 1l1-12 1-24 .4-13 .6 13 1 16 1 9q.5 2 1 0t1-4 1-1 1 4 1 7M23 1804q.5 1 1 1t1-1 1-1 1 1 1 0 1-8l1-22 1-39 1-49 .6-31 .4 20 1 44 1 34 1 28 1 22q.5 4 1-2t1-11 1-5 1 3 1 4 1 3 1 5 1 5 1 1 1 0 1 1 1 0 1-1 1-2 1-2M134 1804q.5 0 1 0t1 1 1 0l1-10 1-18 1-20 1-23 1 27 1 23 1 16q.5 6 1 8t1 0 1-7l1-17 1-26 .6-12 .4 14 1 18 1 8q.5 4 1 7t1 4 1 1 1 1 1 3 1 3M23 1798q.5 -1 1-3t1-4 1-2 1-1 1-9l1-25 1-40 1-49 .6-33 .4 24 1 49 1 40 1 33 1 22q.5 5 1 2t1-7 1-6 1 0 1 5 1 3 1-1 1-2 1-2 1-2 1-1 1 0 1 0 1 0 1 0 1 2M134 1797q.5 1 1 1t1-1 1-3 1-5 1-7l1-12 1-22 1-31 .5-16 .5 18 1 34 1 26 1 14q.5 4 1 4t1 1 1 2 1-3l1-15 1-19 .4-6 .6 8 1 19 1 11q.5 3 1 2t1-2 1-2M23 1794q.5 1 1 2t1 0 1-3 1-6l1-12 1-22 1-36 1-46 .2-6 .8 34 1 34 1 28 1 18q.5 6 1 7t1 1 1-1 1-5 1-8 1-5 1 2 1 8 1 9 1 4 1 2 1 2 1-1 1-2 1-2 1-1 1 0M134 1791q.5 0 1 1t1 2 1 2 1 0 1-7l1-16 1-20 1-19 .4-11 .6 16 1 24 1 18 1 8q.5 2 1 0t1-9l1-17 .9-17 .1 2 1 20 1 15q.5 5 1 6t1-1 1-2 1 3 1 5 1 1M24 1788q.5 -1 1-1t1 1 1 2 1-2 1-12l1-25 1-38 1-48 .7-46 .3 16 1 53 1 50 1 30 1 21q.5 4 1 2t1-1 1 0 1-2 1-1 1 0 1 1 1 1 1-3 1-4 1 0 1 2 1 0 1-3 1-4M134 1787q.5 0 1 1t1 2 1-1 1-3 1-3l1-6 1-19 1-28 .5-13 .5 13 1 26 1 23 1 5q.5 2 1 0l1-9 1-35 .7-25 .3 12 1 25 1 26 1 11q.5 2 1 0t1-2 1 0 1 1 1 1M24 1788q.5 0 1 0t1 0 1-1 1-5l1-16 1-33 1-44 .6-26 .4 10 1 34 1 30 1 20 1 9q.5 2 1 1t1-1 1 1 1 1 1 0 1-1 1-1 1 1 1 1 1 2 1 5 1 5 1 2 1-2 1-3 1-1M134 1787q.5 0 1 0t1 0 1-1 1-6l1-13 1-23 1-27 .3-10 .7 21 1 19 1 8 1 6q.5 2 1 4t1 3 1 0 1-4l1-7 1-16 .7-12 .3 7 1 18 1 14q.5 6 1 9t1 3 1-1 1-2M24 1764q.5 -2 1-2t1 1 1 1 1-5l1-18 1-41 1-57 .6-36 .4 24 1 54 1 42 1 34 1 19q.5 4 1 2t1-2 1 0 1-2 1-2 1 2 1 2 1-1 1 0 1 2 1 1 1-1 1-2 1-1 1 1 1 2M134 1779q.5 -2 1-4t1-5 1-8l1-12 1-21 1-26 .8-20 .2 8 1 38 1 28 1 16q.5 6 1 6l1-9 1-27 .8-23 .2 6 1 27 1 16 1 8q.5 3 1 3t1-2 1-2 1 2 1 2 1-1 1 0M24 1775q.5 0 1-1t1-2 1-5l1-12 1-18 1-29 .7-25 .3 7 1 27 1 25 1 23 1 6q.5 0 1-6t1-13 1-11 1 0 1 8 1 7 1 4 1 1 1 1 1 4 1 6 1 2 1-6 1-7 1 0 1 6 1 6M134 1775q.5 1 1 1t1 0 1-2 1-9l1-20 1-29 1-33 .2-3 .8 32 1 28 1 20 1 11q.5 3 1 1l1-8 1-27 .7-21 .3 8 1 25 1 18q.5 6 1 8t1 1 1-2 1-3 1-5 1-3 1 3M24 1770q.5 -1 1-2t1-2 1-4l1-11 1-22 1-29 .9-28 .1 2 1 37 1 18 1 15 1 16q.5 6 1 8t1 3 1 1 1-2 1-3 1 1 1 1 1-3 1-2 1 2 1 3 1-1 1-2 1 2 1 3 1-1 1-4M134 1768q.5 3 1 4t1 0 1-2 1-6l1-18 1-29 1-36 .5-22 .5 19 1 33 1 30 1 26q.5 6 1 1t1-11l1-12 1-14 1 18 1 15 1 3q.5 0 1 0t1 1 1 0 1-3 1-1 1 3M24 1765q.5 1 1 1t1-2 1-10l1-26 1-43 1-54 1-69 1 57 1 55 1 44 1 30 1 10q.5 3 1 2t1-3 1-3 1 3 1 7 1 2 1-4 1-4 1 1 1 4 1 2 1-1 1-3 1-3 1-1 1 1M134 1762q.5 1 1 1t1-2l1-6 1-17 1-27 1-36 1 26 1 27 1 24 1 10q.5 2 1 0t1-6l1-13 1-22 .6-14 .4 11 1 22 1 11q.5 3 1 4t1 4 1 6 1 1 1-5 1-3 1 2M24 1758q.5 -1 1-1t1 1 1-5l1-23 1-39 1-44 .6-30 .4 16 1 40 1 37 1 29 1 17q.5 5 1 4t1-4 1-8 1-9 1-2 1 6 1 6 1 3 1 2 1 1 1 0 1 1 1 2 1 2 1-1 1-3 1 0M134 1759q.5 0 1 0t1 0 1-1 1-2l1-4 1-17 1-28 1-35 1 28 1 25 1 17 1 11q.5 3 1 3t1-4l1-11 .8-11 .2 4 1 14 1 7q.5 3 1 5t1 2 1 0 1-1 1-2 1-2M24 1749q.5 1 1 1t1-5l1-16 1-28 1-44 .4-19 .6 15 1 37 1 38 1 9 1 6q.5 2 1 4t1 5 1 3 1-4 1-9 1-12 1-14 1-6 1 4 1 9 1 12 1 10 1 4 1-3 1-4 1 2 1 6 1 2M134 1755q.5 -1 1-4t1-3 1 1 1 2 1 0l1-9 1-26 1-45 .9-46 .1 3 1 47 1 46 1 15 1 4 1-12 1-19 .4-8 .6 18 1 17 1 13q.5 4 1 4t1-3 1-7 1-5 1 1 1 5M24 1745q.5 3 1 5t1 2 1-6l1-22 1-40 1-53 1-68 .1-5 .9 53 1 51 1 37 1 16 1-10q.5 -4 1-4t1 8 1 14 1 9 1 5 1 2 1 0 1 1 1 2 1 0 1-1 1 1 1 3 1 3 1 2 1 2M134 1743q.5 0 1-1t1 0 1 3 1 1l1-8 1-23 1-31 .6-18 .4 11 1 30 1 21 1 12 1-7 1-17 .7-15 .3 6 1 17 1 16q.5 6 1 9t1 3 1-1 1-3 1-4 1-4 1-1 1 2M24 1744q.5 1 1 1t1-2 1-8l1-19 1-30 1-40 1-51 .2-7 .8 39 1 43 1 35 1 25 1 7q.5 2 1 0t1-5 1-7 1-6 1 1 1 9 1 8 1 0 1-3 1-1 1 3 1 6 1 4 1 1 1-1 1-1M134 1746q.5 0 1-1t1-2 1 0 1 1 1-6l1-19 1-32 1-34 .6-22 .4 14 1 36 1 29 1 21q.5 6 1 3l1-15 1-26 .4-11 .6 16 1 22 1 12q.5 3 1 2t1 0 1 5 1 5 1-3 1-6M24 1731q.5 1 1 3t1 3 1-3l1-17 1-39 1-45 1-50 .2-11 .8 39 1 50 1 45 1 23 1 10q.5 3 1 2t1-3 1-4 1-4 1-5 1-2 1 3 1 4 1 2 1 0 1 1 1 2 1 3 1 3 1 0 1-5M134 1718q.5 3 1 6t1 5 1 2 1-3l1-9 1-22 1-33 .1-3 .9 14 1 20 1 19 1 12q.5 5 1 7t1-1l1-20 1-34 .3-10 .7 25 1 27 1 17q.5 6 1 6t1-4 1-5 1 0 1 1 1 0M24 1724q.5 1 1 4t1 5 1 0 1-8l1-19 1-31 1-35 .9-36 .1 2 1 37 1 35 1 31 1 20q.5 6 1 4t1-5 1-5 1-1 1 4 1 5 1 2 1-2 1-3 1-1 1 0 1 1 1 3 1 3 1 1 1-3M134 1732q.5 0 1 0t1-4 1-6l1-4 1-15 1-27 .8-26 .2 5 1 22 1 18 1 14q.5 5 1 6t1 2 1 4 1 6 1 4 1-5l1-20 1-34 .3-8 .7 22 1 29 1 19q.5 5 1 4t1-4 1-4M24 1728q.5 3 1 3t1-8l1-28 1-45 1-50 .8-43 .2 10 1 55 1 43 1 32 1 21q.5 7 1 9t1 3 1 2 1 1 1-2 1-3 1-2 1-3 1-4 1-3 1 1 1 6 1 6 1-1 1-7 1-5 1 1 1 4M134 1714q.5 -1 1 0t1 5 1 6l1-2 1-26 1-41 1-48 .2-8 .8 35 1 41 1 31 1 16q.5 3 1-2l1-16 1-18 .2-4 .8 19 1 19 1 10q.5 2 1 1t1-3 1-3 1-3 1-4 1-3 1 1M24 1721q.5 -1 1-2t1-4l1-11 1-25 1-28 1-28 .3-9 .7 29 1 29 1 27 1 21q.5 7 1 7t1-3 1-8 1-11 1-8 1 1 1 6 1 5 1 4 1 4 1 3 1 1 1-3 1-5 1-1 1 2 1 1 1 1M134 1725q.5 1 1 1t1-1 1-3 1-4 1-6l1-13 1-23 1-22 .6-10 .4 15 1 31 1 17 1 14q.5 5 1 3l1-16 1-30 .6-23 .4 10 1 26 1 18 1 9q.5 2 1 2t1 0 1 0 1 0 1 1M24 1713q.5 -2 1-4t1-8l1-21 1-41 1-51 1-56 1 60 1 46 1 38 1 27q.5 9 1 10t1-1 1-6 1-6 1 0 1 5 1 4 1 1 1 1 1 2 1-1 1-4 1-2 1 2 1 4 1 3 1 2 1 2M134 1720q.5 0 1-1t1-3 1-4 1-4 1-7l1-16 1-23 1-25 .3-8 .7 23 1 27 1 17 1-5 1-23 .7-20 .3 11 1 30 1 18q.5 5 1 5t1 0 1 1 1 1 1-1 1-1 1 0 1-1M24 1717q.5 0 1-1t1-3 1-4 1-6l1-13 1-33 1-40 .4-17 .6 19 1 33 1 29 1 17 1 3q.5 0 1 0t1 3 1 5 1 3 1 2 1 2 1-1 1-2 1 1 1 1 1-1 1-1 1 0 1-1 1-3 1-3M134 1715q.5 0 1 0t1 1 1 1 1-1 1-6l1-16 1-26 1-32 .8-38 .2 7 1 37 1 31 1 25 1 12q.5 2 1-1t1-6 1-7l1-9 1-19 .4-11 .6 15 1 22 1 18q.5 5 1 4t1-2 1 0M24 1712q.5 0 1-2t1-2 1 1 1-3l1-11 1-21 1-27 .8-28 .2 5 1 26 1 20 1 16 1 14q.5 6 1 8t1 1 1-4 1-5 1-1 1 3 1 4 1 2 1-1 1-2 1-2 1-2 1-2 1 0 1 3 1 3M134 1704q.5 0 1 1t1 3 1-1l1-15 1-26 1-28 .7-25 .3 11 1 35 1 27 1 20q.5 6 1 5t1-5l1-13 1-27 1-31 1 37 1 23 1 7q.5 1 1-1t1-1 1 3 1 4 1 2 1-1M24 1696q.5 0 1 2t1 3 1-3l1-14 1-36 1-47 1-53 .2-9 .8 43 1 48 1 35 1 24 1 10q.5 2 1 0t1-4 1-3 1 1 1 3 1 2 1 3 1 2 1-1 1-1 1 1 1 2 1 1 1-3 1-6 1-3M134 1707q.5 -1 1-3t1-4 1-3 1-1l1-5 1-21 1-30 .8-26 .2 6 1 26 1 23 1 20q.5 7 1 9t1-1l1-9 1-12 .4-6 .6 10 1 10 1 6q.5 2 1 3t1 1 1 1 1 2 1 1 1-1M24 1688q.5 0 1 2t1 5 1 4 1-1 1-8l1-22 1-39 1-50 .6-32 .4 22 1 45 1 34 1 29 1 20q.5 5 1 3t1-8 1-12 1-10 1-3 1 5 1 8 1 5 1 2 1 2 1 2 1 1 1-1 1-2 1 0M134 1695q.5 -3 1-5t1-2 1 0 1 1 1 0l1-7 1-26 1-27 .4-12 .6 20 1 27 1 20 1 15q.5 2 1-6l1-25 1-25 1 27 1 18 1 8q.5 2 1 3t1 2 1 0 1-1 1 0 1-2M24 1697q.5 0 1-2t1-3 1-8l1-23 1-43 1-57 .8-51 .2 12 1 56 1 49 1 38 1 26q.5 8 1 8t1-4 1-8 1-9 1-10 1-5 1 3 1 7 1 7 1 6 1 6 1 4 1 0 1-1 1 0 1-2 1-2M134 1693q.5 -1 1-2t1 1 1 3 1-2 1-8l1-14 1-23 1-29 .4-11 .6 21 1 22 1 5 1-9 1 21 1 17 1 12q.5 2 1-1t1-3 1 1 1 1 1-2 1-3 1 0 1 1 1 1M24 1685q.5 -2 1-3t1-1 1-4l1-17 1-32 1-46 .8-46 .2 10 1 47 1 45 1 27 1 18q.5 6 1 7t1-1 1-8 1-14 1-14 1-5 1 8 1 12 1 9 1 6 1 2 1 0 1 0 1 0 1 2 1 0 1-4M134 1688q.5 1 1 2t1-1 1-4 1-8l1-19 1-29 1-34 .5-18 .5 24 1 38 1 26 1 19q.5 6 1 7t1-2 1-8l1-13 1-23 .1-3 .9 14 1 12 1 8q.5 2 1 3t1 3 1 4 1 3 1 0M24 1682q.5 -1 1-2t1-4 1-11l1-22 1-35 1-43 .7-37 .3 17 1 51 1 38 1 32 1 12q.5 3 1 2t1-1 1 0 1 2 1 3 1 0 1 0 1 1 1-2 1-4 1-3 1 0 1 3 1 2 1-2 1-4 1-3M134 1686q.5 -1 1-2t1-2 1-3l1-9 1-19 1-25 .8-20 .2 5 1 27 1 24 1 18q.5 6 1 7t1 0 1-2 1-4 1-7l1-13 1-23 .5-14 .5 15 1 28 1 11q.5 4 1 6t1 2 1-3 1-5M24 1673q.5 -1 1-1t1-1 1-6l1-15 1-27 1-38 .7-29 .3 11 1 37 1 30 1 25 1 17q.5 4 1-1t1-14 1-18 1-12 1 1 1 10 1 12 1 8 1 2 1 0 1-1 1 0 1 4 1 7 1 5 1-2 1-3M134 1679q.5 1 1 1t1-4 1-11l1-16 1-21 1-24 1 27 1 21 1 12q.5 4 1 6t1 2 1-3l1-12 1-21 .5-13 .5 14 1 21 1 11q.5 2 1 0t1-3 1 1 1 4 1 1 1-3 1-4M24 1673q.5 1 1-1t1-5 1-6 1-9l1-19 1-28 1-34 .6-20 .4 17 1 39 1 28 1 20 1 11q.5 2 1 1t1 0 1 3 1 2 1-1 1-4 1-6 1-4 1 1 1 5 1 6 1 5 1 2 1-3 1-6 1-2M134 1668q.5 -1 1-1t1 2 1 3 1-1 1-6l1-13 1-24 1-31 1-38 .1-4 .9 35 1 38 1 28 1 13 1-15 1-30 .8-31 .2 5 1 33 1 28 1 13q.5 3 1 1t1-5 1-6 1-4 1 1M24 1668q.5 0 1 1t1 2 1 0 1-5l1-14 1-24 1-28 1-33 .3-7 .7 27 1 35 1 22 1 11q.5 3 1 3t1 0 1 0 1 0 1 2 1 4 1 2 1 0 1-2 1-3 1 0 1 5 1 5 1 1 1-1 1-1M134 1668q.5 2 1 2t1-1 1-5l1-13 1-21 1-30 .6-24 .4 13 1 26 1 23 1 17q.5 6 1 8t1 0l1-7 .9-15 .1 0 1 6 1 4q.5 2 1 4t1 2 1 0 1 2 1 4 1 3 1 0 1-2M24 1666q.5 0 1-2t1-4 1-2 1-5l1-20 1-32 1-40 .7-35 .3 13 1 38 1 32 1 23 1 17q.5 6 1 9t1 4 1 2 1 2 1 0 1-2 1-4 1-5 1-2 1 0 1-1 1-1 1 1 1 4 1 6 1 3M134 1652q.5 0 1 3t1 6 1 3 1-2 1-4 1-5l1-11 1-20 1-25 .4-9 .6 16 1 21 1 16 1 10q.5 1 1-6l1-21 1-28 .3-12 .7 25 1 30 1 23q.5 6 1 6t1-2 1-5 1-5 1-2M24 1654q.5 1 1 2t1 0 1-7l1-22 1-38 1-48 1-61 1 54 1 51 1 39 1 19q.5 6 1 6t1-2 1-3 1-2 1-1 1 1 1 0 1-1 1 3 1 7 1 7 1 2 1-3 1-2 1 1 1 1 1-1M134 1662q.5 0 1-3t1-4 1 0 1 1 1-6l1-17 1-25 1-25 .3-8 .7 23 1 29 1 19 1 13q.5 3 1 1t1-6 1-6 1-5l1-12 1-28 .8-28 .2 4 1 31 1 21 1 10q.5 3 1 5t1 6M24 1652q.5 -1 1-3t1-3 1 0 1 0l1-9 1-39 1-54 1-67 .3-15 .7 45 1 55 1 46 1 36 1 9q.5 0 1-7t1-18 1-17 1-1 1 12 1 10 1 4 1 1 1-1 1 0 1 4 1 6 1 4 1 0 1-3M134 1649q.5 2 1 3t1 1 1-1 1-4 1-8l1-14 1-16 1-19 .3-7 .7 19 1 23 1 18 1 10q.5 2 1 1t1-1 1-4l1-16 1-32 .5-22 .5 13 1 25 1 21q.5 9 1 13t1 2 1-5 1-6 1-5M0 1647q.5 0 1 1t1 2 1 0 1-2 1-1 1 0 1 0 1 1 1 2 1 1 1 0 1 0 1-1 1-2 1-4 1-4 1 2 1 6 1 2 1-3 1-2 1 2 1 3 1 0 1 0 1 1 1-2l1-9 1-34 1-55 1-66 .5-38 .5 28 1 60 1 50 1 38 1 19q.5 5 1 4t1-1 1 1 1 2 1 2 1 1 1-2 1-1 1 1 1-2 1-2 1 1 1 2 1 2 1 0 1-2 1 0 1 1 1-3 1-5 1-2 1-1 1-4 1-5 1-2 1 2 1 6 1 8 1 6 1 2 1 0 1 0 1 0 1 0 1-2 1-3 1 0 1 2 1-1 1-3 1-1 1 1 1 0 1-3 1-2 1 2 1 4 1 4 1 2 1-1 1-1 1 0 1 0 1 0 1 0 1 1 1 0 1-2 1-2 1-2 1 1 1 4 1 2 1 0 1 0 1 0 1 0 1-1 1-5 1-5 1 2 1 6 1 2 1 0 1 1 1-1 1-1 1 1 1 2 1-1 1-3 1-1 1 0 1 0 1 1 1 2 1 1 1 0 1 0 1-1 1-2 1-4 1-4 1 2 1 6 1 2 1-3 1-2 1 2 1 3 1-1 1-4l1-7 1-20 1-26 .6-16 .4 10 1 23 1 20 1 8 1-8 1-15 1 14 1 8q.5 4 1 6t1 3 1 2 1 1 1 1 1 1 1-1 1 0 1 1 1-2 1-3 1 0 1 2 1 2 1 0 1-2 1 0 1 1 1-3 1-5 1-2 1-1 1-3 1-5 1-3 1 3 1 7 1 7 1 5 1 3 1 1 1 0 1 0 1 0 1-2 1-4 1 0 1 3 1-2 1-4 1 0 1 2 1 0 1-4 1-3 1 2 1 4 1 4 1 2 1-1 1-1 1 0 1 0 1 0 1 1 1 1 1-1 1-1 1-1 1-2 1 0 1 3 1 2 1 0 1 0 1 0 1 0 1-1 1-4 1-4 1 2 1 5 1 1 1 0 1 1 1-1M0 1638q.5 0 1 2t1 4 1 2 1 0 1-2 1-3 1 0 1 2 1 0 1-1 1 0 1-1 1-1 1 0 1 0 1 1 1 2 1 1 1-1 1-3 1 0 1 4 1 2 1 0 1-1 1 0 1-1l1-10 1-24 1-31 1-31 .1-4 .9 28 1 25 1 28 1 11q.5 3 1 4t1 1 1-3 1-11 1-13 1-4 1 5 1 7 1 5 1 3 1 4 1 6 1 4 1 0 1-3 1-4 1-2 1 2 1 3 1 1 1 1 1 2 1 0 1-1 1 0 1 1 1 1 1 0 1 0 1 0 1-1 1-2 1-3 1-5 1-5 1-1 1 3 1 3 1-1 1-4 1-1 1 5 1 8 1 4 1-2 1-3 1-2 1-1 1 1 1 2 1 2 1 2 1 2 1-1 1-3 1-1 1 0 1 0 1 0 1 1 1 1 1-2 1-3 1-1 1 0 1 0 1 0 1 1 1 2 1 1 1 0 1 0 1 0 1 0 1 0 1 0 1-1 1-2 1 1 1 4 1 2 1 0 1-2 1-3 1 0 1 2 1 0 1-1 1 1 1 0 1-2 1-1 1 1 1 2 1 2 1 1 1-1 1-3 1-1 1 3 1 2 1 0 1 0 1-1 1-7l1-20 1-35 1-39 .2-8 .8 34 1 33 1 23 1 19 1-21 1-32 .6-18 .4 15 1 32 1 19q.5 7 1 8t1 0 1-2 1-2 1-2 1-2 1-1 1 2 1 3 1 0 1-3 1-3 1-1 1 1 1 2 1 2 1 2 1 2 1 0 1-2 1 0 1 2 1 1 1 0 1 0 1 0 1-1 1-2 1-3 1-6 1-6 1-1 1 4 1 4 1-1 1-4 1-1 1 5 1 7 1 3 1-2 1-3 1-2 1-1 1 1 1 2 1 2 1 2 1 2 1-1 1-3 1 0 1 1 1 0 1 0 1 1 1 0 1-3 1-3 1-1 1 1 1 1 1 0 1 0 1 1 1 1 1 0 1 1 1 1 1 0 1 0 1 0 1-1M0 1640q.5 0 1-1t1-2 1-2 1-1 1 1 1 3 1 3 1 1 1 0 1-1 1-1 1 0 1-3 1-3 1 2 1 4 1 1 1-3 1-3 1 0 1 3 1 2 1 0 1 0 1-1 1-4l1-11 1-28 1-31 1-31 .2-7 .8 32 1 32 1 24 1 20q.5 5 1 2t1-10 1-13 1-7 1 5 1 9 1 3 1-1 1 0 1 4 1 6 1 4 1 2 1 1 1 0 1 1 1 1 1-1 1-1 1-1 1-4 1-4 1-1 1 1 1 3 1 4 1 0 1-5 1-6 1-5 1-1 1 5 1 6 1 1 1-5 1-6 1-1 1 4 1 3 1-1 1 0 1 3 1 4 1 2 1 0 1 2 1 2 1 0 1-1 1-4 1-3 1 3 1 5 1 1 1-1 1-1 1-4 1-3 1 2 1 4 1 2 1-2 1-4 1-4 1-2 1 0 1 1 1 3 1 3 1 2 1 1 1 0 1 0 1-1 1-1 1 1 1 2 1 1 1 0 1-1 1-2 1-2 1-1 1 1 1 3 1 3 1 1 1 0 1-1 1-1 1 0 1-3 1-3 1 2 1 4 1 1 1-3 1-3 1 0 1 3 1 2 1 0 1 0 1-2 1-8l1-15 1-25 1-25 .1 0 .9 26 1 26 1 16q.5 6 1 6l1-9 1-31 .9-38 .1 1 1 31 1 27 1 19q.5 5 1 4t1-4 1-7 1-5 1 1 1 4 1 3 1 2 1 2 1 1 1 1 1 1 1-1 1-1 1-1 1-4 1-4 1-1 1 1 1 3 1 4 1 0 1-5 1-6 1-5 1-1 1 5 1 6 1 1 1-5 1-6 1-1 1 4 1 3 1-1 1 0 1 3 1 4 1 2 1 0 1 2 1 2 1 0 1-1 1-4 1-3 1 3 1 5 1 1 1-1 1-1 1-4 1-3 1 2 1 4 1 2 1-2 1-4 1-4 1-2 1 0 1 1 1 3 1 3 1 2 1 1 1 0 1 0 1-1 1-1 1 1 1 2 1 1M0 1631q.5 -3 1-5t1-2 1 3 1 6 1 4 1 0 1-3 1-3 1 0 1 2 1 1 1-1 1 0 1 1 1 0 1 1 1 0 1-1 1 0 1 0 1 1 1 1 1-1 1-3 1-6 1-7 1-5 1-7l1-14 1-23 1-32 .4-14 .6 21 1 38 1 21 1 22 1 3q.5 -1 1-4t1-4 1-2 1 0 1 1 1-1 1 0 1 3 1 4 1 2 1-1 1-2 1 0 1 4 1 5 1 2 1 0 1-1 1-1 1 0 1-1 1-2 1-2 1-1 1 0 1 0 1-1 1 0 1 3 1 2 1 0 1 1 1-2 1-4 1-1 1 0 1 2 1 5 1 3 1 0 1 0 1 0 1 0 1-1 1-4 1-6 1-3 1 2 1 3 1 2 1 2 1 2 1 2 1 1 1 0 1 0 1 0 1-1 1-2 1-2 1-1 1-1 1-2 1-2 1 1 1 4 1 2 1-2 1-3 1-2 1 0 1 2 1 3 1 4 1 2 1-1 1-4 1-5 1-2 1 3 1 6 1 4 1 0 1-3 1-3 1 0 1 2 1 1 1-1 1 0 1 1 1 0 1 1 1 0 1-1 1 0 1 0 1 1 1 1 1-1 1-3 1-8l1-16 1-19 1-23 .8-19 .2 6 1 30 1 24 1 18q.5 7 1 10t1 0 1-9l1-21 1-31 1 18 1 16 1 10q.5 3 1 3t1-1 1 0 1 3 1 4 1 2 1-1 1-2 1 0 1 4 1 5 1 1 1-1 1-1 1-1 1 0 1-1 1-2 1-1 1 0 1 0 1 0 1-1 1 0 1 3 1 1 1 0 1 2 1-2 1-4 1-2 1 0 1 3 1 4 1 2 1 0 1 0 1 0 1 0 1-1 1-4 1-5 1-2 1 2 1 3 1 2 1 2 1 2 1 2 1 1 1 0 1-1 1-1 1 0 1-2 1-3 1-1 1 0 1-1 1-2 1 0 1 3 1 3 1-1 1-4 1-2 1 1 1 2 1 2 1 3 1 3 1 0M0 1625q.5 -2 1-1t1 3 1 2 1-1 1-1 1-1 1-3 1-2 1 2 1 4 1 2 1-1 1-1 1 0 1-2 1-4 1-2 1 3 1 6 1 3 1-2 1-4 1-2 1 0 1 0 1-2 1-7l1-18 1-37 1-55 1-73 .1-3 .9 61 1 56 1 47 1 27 1 4q.5 -1 1-5t1-8 1-7 1-1 1 5 1 8 1 8 1 3 1-1 1-1 1 2 1 3 1 0 1-1 1-1 1-5 1-7 1-2 1 5 1 7 1 3 1-1 1-3 1-3 1 0 1 2 1 3 1 3 1-1 1-5 1-2 1 4 1 5 1 1 1-3 1-3 1 1 1 3 1-1 1-3 1-2 1 0 1 1 1-1 1-2 1-1 1 1 1 0 1-1 1 3 1 5 1 2 1-3 1-6 1-2 1 4 1 5 1 1 1-3 1-3 1-1 1 0 1 2 1 4 1 1 1-3 1-2 1 1 1 3 1 1 1-3 1-3 1 0 1 2 1 3 1 2 1-3 1-2 1 3 1 2 1-1 1-2 1-2 1-3 1-2 1 2 1 4 1 2 1-1 1-1 1 0 1-1 1-4 1-3 1 3 1 6 1 4 1-1 1-4 1-2 1 0 1-1 1-3 1-8l1-15 1-20 1-32 .4-16 .6 22 1 34 1 26 1 14 1-20 1-33 .3-7 .7 19 1 24 1 16q.5 4 1 3t1-1 1 2 1 3 1-1 1-4 1-2 1 2 1 3 1 0 1-1 1-1 1-5 1-7 1-2 1 5 1 7 1 3 1-1 1-3 1-3 1 0 1 2 1 3 1 3 1-1 1-5 1-2 1 4 1 5 1 1 1-3 1-3 1 1 1 3 1-1 1-3 1-2 1 0 1 1 1-1 1-2 1-1 1 1 1 0 1-1 1 3 1 5 1 2 1-3 1-6 1-2 1 4 1 5 1 1 1-3 1-3 1-1 1 0 1 2 1 4 1 1 1-3 1-2 1 1 1 3 1 1 1-3 1-3 1 0 1 2 1 3 1 2M0 1613q.5 -2 1-2t1 3 1 6 1 3 1-2 1-4 1-2 1 2 1 4 1 3 1 1 1-1 1-1 1 1 1 0 1-3 1-3 1-1 1 1 1 3 1 3 1 1 1-2 1-4 1-3 1-1 1-1l1-5 1-38 1-62 1-74 .5-41 .5 39 1 67 1 58 1 43 1 20q.5 5 1 4t1-3 1-9 1-16 1-13 1 0 1 9 1 10 1 8 1 4 1 3 1 4 1 2 1-2 1-4 1-2 1 1 1 3 1 3 1 0 1-3 1-2 1 1 1 1 1 1 1 3 1 2 1-1 1-1 1 1 1 0 1-5 1-8 1-5 1 1 1 3 1 2 1 2 1 3 1 3 1 0 1-1 1 0 1 0 1 0 1 0 1 0 1 0 1 1 1 2 1 2 1 1 1 0 1-2 1-2 1-1 1-3 1-3 1-1 1 0 1 2 1 5 1 4 1 1 1-1 1-1 1 1 1 0 1-2 1-1 1 0 1 1 1 2 1-1 1-3 1-3 1-4 1-2 1 3 1 5 1 2 1-2 1-4 1-2 1 2 1 4 1 4 1 2 1-1 1-1 1 0 1-1 1-3 1-3 1-1 1 2 1 4 1 3 1 0 1-3 1-4 1-9l1-19 1-29 1-32 .5-21 .5 24 1 37 1 32 1 20q.5 5 1 5t1 0 1-2 1-8l1-20 1-30 .5-20 .5 18 1 30 1 24q.5 8 1 9t1 0 1-1 1 0 1-2 1-2 1 1 1 1 1-2 1-4 1-2 1 1 1 3 1 3 1 0 1-3 1-2 1 1 1 1 1 1 1 3 1 2 1-1 1-1 1 1 1 0 1-5 1-8 1-5 1 1 1 3 1 2 1 2 1 3 1 3 1 0 1-1 1 0 1 0 1 0 1 0 1 0 1 0 1 1 1 2 1 2 1 1 1 0 1-2 1-2 1-1 1-3 1-3 1-1 1 0 1 2 1 5 1 4 1 1 1-1 1-1 1 1 1 0 1-2 1-1 1 0 1 1 1 2 1-1 1-3 1-3"/></g><g fill="none" stroke="#ff0000" stroke-width="2.2"><circle cx="1739.2" cy="1245.6"/><circle cx="1732.6" cy="1222.3"/><circle cx="1744.2" cy="1237.7"/><circle cx="1732.1" cy="1227.8"/><circle cx="1742.7" cy="1207.4"/><circle cx="1724.6" cy="1206.5"/><circle cx="1739.2" cy="1202.5"/><circle cx="1732.6" cy="1207.2"/><circle cx="1748.2" cy="1207.1"/><circle cx="1736.6" cy="1185.2"/><circle cx="1727.6" cy="1183.9"/><circle cx="1732.1" cy="1185.1"/><circle cx="1737.1" cy="1174.9"/><circle cx="1741.7" cy="1185.7"/><circle cx="1733.1" cy="1166.7"/><circle cx="1720.1" cy="1169.1"/><circle cx="1724.1" cy="1183.3"/><circle cx="1743.7" cy="1156.5"/><circle cx="1729.6" cy="1174.9"/><circle cx="1730.6" cy="1167.5"/><circle cx="1732.1" cy="1167.8"/><circle cx="1739.2" cy="1164.4"/><circle cx="1747.2" cy="1159.1"/><circle cx="1741.7" cy="1162.3"/><circle cx="1726.6" cy="1158.6"/><circle cx="1759.7" cy="1135.4"/><circle cx="1724.6" cy="1146.1"/><circle cx="1727.6" cy="1127"/><circle cx="1738.1" cy="1123"/><circle cx="1727.1" cy="1112.4"/><circle cx="1746.2" cy="1114.2"/><circle cx="1730.1" cy="1125.8"/><circle cx="1728.6" cy="1108"/><circle cx="1731.6" cy="1087.8"/><circle cx="1718.6" cy="1106"/><circle cx="1716.6" cy="1098.2"/><circle cx="1734.6" cy="1098.8"/><circle cx="1728.6" cy="1097.8"/><circle cx="1738.1" cy="1088.1"/><circle cx="1724.1" cy="1105.2"/><circle cx="1732.1" cy="1093.7"/><circle cx="1743.2" cy="1063.7"/><circle cx="1724.6" cy="1066.9"/><circle cx="1734.1" cy="1071.4"/><circle cx="1743.7" cy="1049.9"/><circle cx="1739.7" cy="1048.6"/><circle cx="1746.7" cy="1049.6"/><circle cx="1737.1" cy="1053.4"/><circle cx="1744.2" cy="1047.8"/><circle cx="1734.1" cy="1046.6"/><circle cx="1746.2" cy="1037.3"/><circle cx="1742.7" cy="1038.3"/><circle cx="1734.6" cy="1004.4"/><circle cx="1748.2" cy="1022.8"/><circle cx="1745.2" cy="994.8"/><circle cx="1732.6" cy="1006.2"/><circle cx="1732.1" cy="1015.6"/><circle cx="1740.7" cy="1007.5"/><circle cx="1711.6" cy="1012.2"/><circle cx="1736.6" cy="1004"/><circle cx="1745.7" cy="1004.2"/><circle cx="1735.6" cy="997.2"/><circle cx="1740.2" cy="1006.4"/><circle cx="1726.6" cy="977.7"/><circle cx="1748.7" cy="986.2"/><circle cx="1737.6" cy="965.4"/><circle cx="1746.2" cy="976.3"/><circle cx="1730.1" cy="955.3"/><circle cx="1733.6" cy="947.7"/><circle cx="1744.2" cy="936.6"/><circle cx="1745.2" cy="959"/><circle cx="1755.7" cy="955.6"/><circle cx="1728.6" cy="931.9"/><circle cx="1747.7" cy="940.3"/><circle cx="1729.1" cy="927.5"/><circle cx="1719.6" cy="936"/><circle cx="1749.2" cy="929.8"/><circle cx="1733.6" cy="914.9"/><circle cx="1745.2" cy="918.5"/><circle cx="1731.6" cy="925.1"/><circle cx="1742.2" cy="908.6"/><circle cx="1741.7" cy="894.2"/><circle cx="1735.6" cy="905.3"/><circle cx="1732.1" cy="889.4"/><circle cx="1738.1" cy="883.6"/><circle cx="1744.2" cy="893.1"/><circle cx="1727.6" cy="879.3"/><circle cx="1737.6" cy="884.9"/><circle cx="1728.6" cy="892.8"/><circle cx="1738.1" cy="872.9"/><circle cx="1748.7" cy="864.7"/><circle cx="1733.6" cy="857.9"/><circle cx="1733.1" cy="853.7"/><circle cx="1739.2" cy="865.2"/><circle cx="1728.6" cy="850.5"/><circle cx="1751.7" cy="831.8"/><circle cx="1735.1" cy="817.5"/><circle cx="1737.1" cy="835.2"/><circle cx="1735.1" cy="821.5"/><circle cx="1720.1" cy="823.7"/><circle cx="1740.7" cy="820.8"/><circle cx="1747.7" cy="812.2"/><circle cx="1739.2" cy="796.3"/><circle cx="1729.6" cy="820.5"/><circle cx="1725.1" cy="807"/><circle cx="1734.6" cy="780.4"/><circle cx="1747.7" cy="773"/><circle cx="1615" cy="804"/><circle cx="1647" cy="815"/><circle cx="1957" cy="837"/><circle cx="1958" cy="858"/><circle cx="1921" cy="898"/><circle cx="1957" cy="916"/><circle cx="1795" cy="995"/><circle cx="1962" cy="949"/><circle cx="1895" cy="1053"/><circle cx="1894" cy="1079"/><circle cx="1895" cy="1101"/><circle cx="1956" cy="1120"/><circle cx="1642" cy="1137"/><circle cx="1648" cy="1230"/><circle cx="1913" cy="1065"/></g><g fill="none" stroke="#f0f000" stroke-width="2.2"><circle cx="1683.5" cy="1206.3"/><circle cx="1690.5" cy="1210"/><circle cx="1696" cy="1202"/><circle cx="1679.9" cy="1201.6"/><circle cx="1693.5" cy="1204.8"/><circle cx="1686" cy="1188.2"/><circle cx="1690" cy="1197.3"/><circle cx="1700.5" cy="1186.8"/><circle cx="1699.5" cy="1172.3"/><circle cx="1689" cy="1175.8"/><circle cx="1692.5" cy="1152.2"/><circle cx="1691.5" cy="1163.5"/><circle cx="1684" cy="1150.8"/><circle cx="1697" cy="1176.2"/><circle cx="1690.5" cy="1175.4"/><circle cx="1699" cy="1164.4"/><circle cx="1695.5" cy="1140.5"/><circle cx="1694" cy="1158.7"/><circle cx="1693" cy="1160.1"/><circle cx="1688" cy="1125.2"/><circle cx="1687" cy="1133.8"/><circle cx="1691" cy="1147.8"/><circle cx="1690.5" cy="1137.8"/><circle cx="1688" cy="1137.9"/><circle cx="1680.9" cy="1122.1"/><circle cx="1692" cy="1110.7"/><circle cx="1686.5" cy="1131.3"/><circle cx="1699" cy="1110"/><circle cx="1694" cy="1098.1"/><circle cx="1688" cy="1104.8"/><circle cx="1693" cy="1088.7"/><circle cx="1689" cy="1100.9"/><circle cx="1699.5" cy="1092.3"/><circle cx="1693" cy="1093.3"/><circle cx="1690.5" cy="1091.9"/><circle cx="1692.5" cy="1069.9"/><circle cx="1700.5" cy="1077.7"/><circle cx="1693" cy="1072.5"/><circle cx="1689" cy="1061.7"/><circle cx="1692" cy="1078.3"/><circle cx="1693" cy="1052.9"/><circle cx="1693.5" cy="1064.4"/><circle cx="1693" cy="1058.2"/><circle cx="1687.5" cy="1057.5"/><circle cx="1692" cy="1034.6"/><circle cx="1698" cy="1034.5"/><circle cx="1703.5" cy="1036.2"/><circle cx="1693.5" cy="1033.5"/><circle cx="1698" cy="1023.3"/><circle cx="1689.5" cy="1024.7"/><circle cx="1692.5" cy="1031.2"/><circle cx="1692.5" cy="1025.5"/><circle cx="1689" cy="1023.8"/><circle cx="1695" cy="1003.4"/><circle cx="1695.5" cy="995.8"/><circle cx="1689" cy="1020.8"/><circle cx="1695.5" cy="1011.2"/><circle cx="1701.5" cy="1004.8"/><circle cx="1701.5" cy="1009.2"/><circle cx="1689.5" cy="1003.3"/><circle cx="1689.5" cy="1005.9"/><circle cx="1694" cy="982.5"/><circle cx="1689" cy="980.9"/><circle cx="1695.5" cy="985.1"/><circle cx="1697" cy="979.1"/><circle cx="1686" cy="970.9"/><circle cx="1690.5" cy="975.7"/><circle cx="1702.5" cy="966.7"/><circle cx="1694" cy="969.3"/><circle cx="1695.5" cy="959.8"/><circle cx="1693.5" cy="966.6"/><circle cx="1687" cy="959.8"/><circle cx="1695.5" cy="953.8"/><circle cx="1697" cy="940.1"/><circle cx="1694.5" cy="928.8"/><circle cx="1700.5" cy="944.6"/><circle cx="1694" cy="940.4"/><circle cx="1699.5" cy="926.7"/><circle cx="1695" cy="945.3"/><circle cx="1698.5" cy="930.6"/><circle cx="1700.5" cy="914.6"/><circle cx="1696.5" cy="920.5"/><circle cx="1698" cy="926.3"/><circle cx="1691.5" cy="904.3"/><circle cx="1694" cy="906.4"/><circle cx="1690" cy="915.8"/><circle cx="1695" cy="912.4"/><circle cx="1693.5" cy="887.1"/><circle cx="1695.5" cy="907.8"/><circle cx="1692.5" cy="898.2"/><circle cx="1688.5" cy="893.7"/><circle cx="1698" cy="885.2"/><circle cx="1697" cy="878.1"/><circle cx="1692" cy="885.3"/><circle cx="1704.5" cy="891.3"/><circle cx="1704.5" cy="889.9"/><circle cx="1690" cy="887.7"/><circle cx="1693.5" cy="857.1"/><circle cx="1699.5" cy="844.5"/><circle cx="1701.5" cy="876.2"/><circle cx="1705" cy="852.9"/><circle cx="1695" cy="866.8"/><circle cx="1702.5" cy="850.5"/><circle cx="1702.5" cy="858.7"/><circle cx="1696.5" cy="853.7"/><circle cx="1696" cy="839.9"/><circle cx="1697.5" cy="829.7"/><circle cx="1690" cy="837.7"/><circle cx="1700" cy="835.9"/><circle cx="1704.5" cy="812.4"/><circle cx="1695.5" cy="830.4"/><circle cx="1694" cy="824.8"/><circle cx="1701.5" cy="814.7"/><circle cx="1699" cy="806.9"/><circle cx="1702" cy="808.4"/><circle cx="1702" cy="804.1"/><circle cx="1694" cy="802.8"/><circle cx="1690" cy="801.9"/><circle cx="1705.5" cy="777.6"/><circle cx="1707" cy="794"/><circle cx="1701.5" cy="787.4"/><circle cx="1706" cy="767.5"/><circle cx="1700.5" cy="782.6"/><circle cx="1699" cy="773.7"/><circle cx="1707" cy="764.5"/><circle cx="1697.5" cy="754.2"/></g><g fill="none" stroke="#00e400" stroke-width="2.2"><circle cx="1136" cy="1153.3"/><circle cx="1143.6" cy="1182.3"/><circle cx="1139.5" cy="1172.1"/><circle cx="1134.5" cy="1156.7"/><circle cx="1138.5" cy="1162.3"/><circle cx="1131.5" cy="1190.5"/><circle cx="1135.5" cy="1169.1"/><circle cx="1136.5" cy="1143.6"/><circle cx="1132" cy="1189.7"/><circle cx="1140" cy="1177.1"/><circle cx="1136.5" cy="1175"/><circle cx="1139.5" cy="1161.1"/><circle cx="1134.5" cy="1124.3"/><circle cx="1141.5" cy="1119.8"/><circle cx="1135" cy="1131.8"/><circle cx="1146.1" cy="1137.3"/><circle cx="1135.5" cy="1131.9"/><circle cx="1141" cy="1151.2"/><circle cx="1141.5" cy="1150.6"/><circle cx="1130.5" cy="1135.7"/><circle cx="1145.1" cy="1139.2"/><circle cx="1133" cy="1154.4"/><circle cx="1134.5" cy="1128"/><circle cx="1137.5" cy="1135.5"/><circle cx="1142" cy="1109"/><circle cx="1130" cy="1070.7"/><circle cx="1137" cy="1111.4"/><circle cx="1144.6" cy="1071.1"/><circle cx="1139" cy="1092.1"/><circle cx="1140" cy="1065.2"/><circle cx="1140" cy="1071.4"/><circle cx="1139.5" cy="1058.2"/><circle cx="1137.5" cy="1070.8"/><circle cx="1143.6" cy="1073.7"/><circle cx="1142" cy="1102.8"/><circle cx="1149.6" cy="1094.5"/><circle cx="1137" cy="1089.8"/><circle cx="1138.5" cy="1026.5"/><circle cx="1135.5" cy="1077.6"/><circle cx="1137" cy="1028.5"/><circle cx="1139.5" cy="1065.6"/><circle cx="1138.5" cy="1051.1"/><circle cx="1134" cy="1061.1"/><circle cx="1144.1" cy="1002.4"/><circle cx="1141" cy="1043.3"/><circle cx="1133.5" cy="1008.8"/><circle cx="1141" cy="983.1"/><circle cx="1140" cy="1020.7"/><circle cx="1144.1" cy="1049.8"/><circle cx="1146.1" cy="1000.1"/><circle cx="1141.5" cy="1040.9"/><circle cx="1138.5" cy="1014.4"/><circle cx="1142" cy="1016.4"/><circle cx="1137" cy="1033.1"/><circle cx="1139" cy="1002"/><circle cx="1137.5" cy="985.3"/><circle cx="1137" cy="973.5"/><circle cx="1131.5" cy="995.9"/><circle cx="1139.5" cy="981.5"/><circle cx="1139" cy="996.1"/><circle cx="1134.5" cy="955.8"/><circle cx="1140.5" cy="986.3"/><circle cx="1141" cy="974.6"/><circle cx="1140.5" cy="958.8"/><circle cx="1142" cy="943.4"/><circle cx="1143" cy="949.9"/><circle cx="1140" cy="968.5"/><circle cx="1145.1" cy="936.3"/><circle cx="1137.5" cy="966.5"/><circle cx="1136" cy="952"/><circle cx="1149.1" cy="921.5"/><circle cx="1143.6" cy="905.6"/><circle cx="1140" cy="942.2"/><circle cx="1135.5" cy="953.9"/><circle cx="1144.6" cy="947.9"/><circle cx="1143" cy="913.8"/><circle cx="1146.1" cy="954.9"/><circle cx="1137" cy="921.3"/><circle cx="1137.5" cy="926.4"/><circle cx="1142" cy="909.6"/><circle cx="1139.5" cy="870.6"/><circle cx="1139.5" cy="928.9"/><circle cx="1143.6" cy="930.5"/><circle cx="1141.5" cy="904.4"/><circle cx="1137.5" cy="870.1"/><circle cx="1141.5" cy="902.9"/><circle cx="1142" cy="874.9"/><circle cx="1136" cy="880.9"/><circle cx="1142" cy="897.4"/><circle cx="1148.1" cy="865.5"/><circle cx="1136" cy="867.6"/><circle cx="1151.6" cy="883.3"/><circle cx="1137.5" cy="878"/><circle cx="1140" cy="869.4"/><circle cx="1147.6" cy="891.2"/><circle cx="1147.6" cy="883"/><circle cx="1144.6" cy="853.7"/><circle cx="1144.1" cy="831.7"/><circle cx="1145.6" cy="853.6"/><circle cx="1144.6" cy="861.4"/><circle cx="1141.5" cy="835.6"/><circle cx="1146.1" cy="816.2"/><circle cx="1144.1" cy="832.7"/><circle cx="1146.1" cy="831.7"/><circle cx="1146.1" cy="803.3"/><circle cx="1141.5" cy="841.5"/><circle cx="1143" cy="780.9"/><circle cx="1141" cy="808.5"/><circle cx="1135" cy="818.9"/><circle cx="1143.6" cy="778.9"/><circle cx="1144.1" cy="794"/><circle cx="1144.1" cy="786.1"/><circle cx="1147.6" cy="801.9"/><circle cx="1137" cy="778.5"/><circle cx="1139.5" cy="807"/><circle cx="1138" cy="765.8"/><circle cx="1145.1" cy="800.2"/><circle cx="1147.1" cy="809.7"/><circle cx="1144.1" cy="769.3"/><circle cx="1151.1" cy="773.7"/><circle cx="1142" cy="755"/><circle cx="1142" cy="767.8"/><circle cx="1141.5" cy="763.9"/><circle cx="1141.5" cy="778.1"/><circle cx="1146.1" cy="775.5"/><circle cx="1146.6" cy="763.1"/><circle cx="1143" cy="740.1"/><circle cx="1149.6" cy="730.9"/><circle cx="1145.6" cy="723.6"/><circle cx="1143.6" cy="772"/><circle cx="1145.1" cy="761.8"/><circle cx="1143.6" cy="714.2"/><circle cx="1145.6" cy="696.9"/><circle cx="1001" cy="807"/><circle cx="1296" cy="1176"/></g><text class="w" x="987.5" y="1321.2" text-anchor="middle">0.18</text><text class="w" x="1176.5" y="1321.2" text-anchor="middle">0.1805</text><text class="w" x="1365.5" y="1321.2" text-anchor="middle">0.181</text><text class="w" x="1554.5" y="1321.2" text-anchor="middle">0.1815</text><text class="w" x="1743.4" y="1321.2" text-anchor="middle">0.182</text><text class="w" x="1932.4" y="1321.2" text-anchor="middle">0.1825</text><text class="w" x="2121.4" y="1321.2" text-anchor="middle">0.183</text><text class="w" x="952.5" y="1271.7" text-anchor="end">0</text><text class="w" x="952.5" y="1224.7" text-anchor="end">10</text><text class="w" x="952.5" y="1177.7" text-anchor="end">20</text><text class="w" x="2157.9" y="1271.7">00:00</text><text class="w" x="2157.9" y="1234.2">00:15</text><text class="w" x="2157.9" y="1196.7">00:30</text><text class="w" x="2157.9" y="1159.2">00:45</text><text class="w" x="2157.9" y="1121.7">01:00</text><text class="w" x="2157.9" y="1084.2">01:15</text><text class="w" x="2157.9" y="1046.6">01:30</text><text class="w" x="2157.9" y="1009.1">01:45</text><text class="w" x="2157.9" y="971.6">02:00</text><text class="w" x="2157.9" y="934.1">02:15</text><text class="w" x="2157.9" y="896.6">02:30</text><text class="w" x="2157.9" y="859.1">02:45</text><text class="w" x="2157.9" y="821.6">03:00</text><text class="w" font-size="25" text-anchor="middle" transform="translate(912 1200) rotate(-90)" y="8.5">SNR</text><text class="b" font-size="31.5" text-anchor="middle" transform="translate(2277.2 1310.8) rotate(48)" y="7.7">Sept 16th</text><path d="M216.1 769.5V1269.6H758.4" fill="none" stroke="#6e6e6e" stroke-width="2"/><path d="M216.1 769.5h5M216.1 815h5M216.1 860.4h5M216.1 905.9h5M216.1 951.4h5M216.1 996.8h5M216.1 1042.3h5M216.1 1087.7h5M216.1 1133.2h5M216.1 1178.7h5M216.1 1224.1h5M216.1 1269.6h5M216.1 1269.6v-5M306.5 1269.6v-5M396.9 1269.6v-5M487.2 1269.6v-5M577.6 1269.6v-5M668 1269.6v-5M758.4 1269.6v-5" stroke="#6e6e6e" stroke-width="2"/><text class="t" x="206.6" y="777.7" text-anchor="end">18:00</text><text class="t" x="206.6" y="823.2" text-anchor="end">15:00</text><text class="t" x="206.6" y="868.6" text-anchor="end">12:00</text><text class="t" x="206.6" y="914.1" text-anchor="end">09:00</text><text class="t" x="206.6" y="959.6" text-anchor="end">06:00</text><text class="t" x="206.6" y="1005" text-anchor="end">03:00</text><text class="t" x="206.6" y="1050.5" text-anchor="end">00:00</text><text class="t" x="206.6" y="1095.9" text-anchor="end">21:00</text><text class="t" x="206.6" y="1141.4" text-anchor="end">18:00</text><text class="t" x="206.6" y="1186.9" text-anchor="end">15:00</text><text class="t" x="206.6" y="1232.3" text-anchor="end">12:00</text><text class="t" x="206.6" y="1277.8" text-anchor="end">09:00</text><text class="t" x="216.1" y="1300.7" text-anchor="middle">0.18</text><text class="t" x="306.5" y="1300.7" text-anchor="middle">0.1805</text><text class="t" x="396.9" y="1300.7" text-anchor="middle">0.181</text><text class="t" x="487.2" y="1300.7" text-anchor="middle">0.1815</text><text class="t" x="577.6" y="1300.7" text-anchor="middle">0.182</text><text class="t" x="668" y="1300.7" text-anchor="middle">0.1825</text><text class="t" x="758.4" y="1300.7" text-anchor="middle">0.183</text><clipPath id="cA2"><rect x="216.1" y="793.7" width="542.3" height="459.7"/></clipPath><g filter="url(#jA2)" clip-path="url(#cA2)"><rect x="216.1" y="793.7" width="542.3" height="459.7" fill="#2a2a2a"/><path filter="url(#bA20)" fill="#6b6b6b" d="M299 803l4 3-6 3 5 3-3 3 1 3 1 3-1 3 2 3 1 3 0 3-2 3-3 3 1 3 3 3-5 3 7 3-2 3 0 3 3 3 0 3-1 3-4 3 3 3 1 3-3 3 5 3-2 3-5 3 6 3-3 3 6 3-1 3-5 3 0 3 3 3-1 3 5 3-3 3-1 3 2 3-6 3 5 3 2 3-2 3-1 3 3 3 4 3-5 3-2 3 7 3-9 3 7 3-3 3 4 3-5 3 5 3-3 3-4 3-1 3 4 3 3 3-2 3 0 3-1 3 3 3-1 3 0 3-2 3 5 3 0 3-6 3 9 3-4 3-3 3-3 3 7 3 0 3-4 3-3 3 7 3-4 3 1 3 8 3-1 3-3 3-3 3 2 3-7 3 6 3-2 3-2 3-1 3 5 3-1 3 0 3 1 3-4 3-1 3 0 3 4 3 3 3-2 3 1 3-5 3 2 3-2 3-2 3 8 3-3 3-4 3 0 3 2 3-4 3 5 3-5 3 2 3-1 3 1 3-3 3-1 3 2 3 0 3 1 3 0 3 4 3-1 3-3 3 2 3-3 3 6 3-2 3-5 3 5 3 0 3-9 3 5 3 0 3-4 3 2 3 0 3 4 1 17 0-2-1 9-3-10-3 4-3-1-3-2-3-1-3 3-3 0-3 2-3 0-3-5-3 7-3-5-3-1-3 1-3 1-3-1-3 3-3 1-3-8-3 7-3 0-3-4-3 2-3 2-3 2-3-4-3 4-3 3-3-8-3 6-3 2-3-7-3 2-3 1-3 0-3 3-3 4-3-3-3 1-3-4-3 1-3 0-3 4-3-3-3-4-3 0-3 5-3-3-3 1-3-2-3 4-3-1-3 3-3-3-3-1-3-4-3 5-3-1-3-1-3-5-3 1-3 8-3-6-3 5-3-2-3-2-3 1-3-2-3 2-3-3-3 4-3-2-3 3-3 0-3 1-3-8-3 6-3-2-3-1-3 4-3 1-3-3-3 2-3-3-3 3-3-7-3 2-3 1-3 6-3-5-3 0-3-1-3-3-3 3-3-1-3 2-3-4-3-2-3 2-3 3-3-2-3-2-3 5-3-6-3 3-3-3-3 4-3-1-3-4-3 9-3-5-3-6-3 1-3 0-3 2-3 1-3 1-3-1-3 2-3 1-3-6-3 2-3-1-3 4-3 1-3-7-3 4-3 0-3 2-3-2-3-4-3-3-3 2-3 4-3 0-3 1-3-3-3 7-3-6-3z"/><path filter="url(#bA21)" fill="#757575" d="M569 803l0 3 0 3 1 3 1 3-1 3-3 3-2 3 6 3 0 3-6 3 3 3-5 3 1 3 3 3 4 3-6 3 0 3 6 3-9 3 6 3 0 3-2 3 2 3 6 3-9 3 3 3-1 3-1 3-1 3 7 3-4 3-4 3 2 3 4 3 0 3-5 3 3 3 2 3 0 3 0 3-7 3 9 3-4 3 4 3 3 3-7 3-3 3 5 3-3 3-1 3-1 3 6 3-6 3-2 3 2 3-1 3 3 3-2 3-1 3 3 3-3 3 3 3 2 3-5 3-1 3 3 3 2 3-2 3 1 3-1 3 1 3 1 3-4 3 0 3 1 3-2 3 2 3 1 3-1 3-1 3-1 3 6 3-2 3-5 3 1 3 5 3 0 3-4 3 3 3-7 3 4 3 1 3-6 3 2 3 4 3 1 3-4 3 3 3 3 3-5 3-2 3 3 3-1 3 4 3-4 3-2 3 7 3-8 3 2 3 0 3 1 3-2 3 1 3-1 3-3 3 3 3 0 3 0 3 1 3-3 3 5 3 0 3-9 3 4 3-2 3-5 3 8 3-2 3 0 3 0 3 5 3 1 3-2 3 0 3-2 3 2 3-3 3 2 3-3 3 2 3 1 1 21 0-2-1 2-3-1-3 2-3-2-3 5-3-3-3 2-3-4-3-2-3 5-3-2-3 1-3-6-3 4-3 0-3 0-3 4-3-2-3 0-3 3-3-3-3-2-3-1-3 4-3 3-3-2-3-4-3 0-3 3-3 2-3-4-3 9-3-4-3-5-3 5-3-6-3 5-3-3-3 4-3-1-3 2-3-1-3-2-3 0-3 1-3-2-3 2-3 2-3-2-3 0-3-2-3 4-3-7-3 7-3-1-3-2-3 2-3 0-3 4-3-3-3-1-3-3-3 2-3-3-3 3-3 2-3-6-3 8-3-5-3 0-3 7-3-5-3-1-3-2-3 5-3-3-3-1-3-3-3 7-3 1-3 0-3 0-3 1-3-6-3 6-3-5-3 0-3 4-3-2-3 4-3 0-3-2-3 0-3 5-3-5-3 0-3-5-3-1-3 7-3 3-3-1-3-1-3 0-3-2-3 0-3 0-3 3-3-5-3 3-3 4-3-2-3-4-3-1-3 3-3 2-3 0-3-3-3-2-3-3-3 6-3-8-3 4-3 3-3-3-3 2-3 3-3-8-3 3-3 1-3-1-3 2-3 1-3-3-3 2-3 1-3 2-3-5-3 11-3-3-3-3-3z"/><path filter="url(#bA22)" fill="#4c4c4c" d="M484 1000l1 3 1 3 5 3-4 3-8 3 5 3 2 3 1 3 3 3-1 3-6 3 6 3-1 3 1 3 2 3-6 3 4 3-6 3 2 3 1 3 4 3-6 3-2 3 5 3-2 3 4 3-4 3-1 3 4 3-2 3 1 3-5 3 7 3-5 3 3 3-3 3 0 3 3 3 1 3 3 3-3 3 1 3 0 3 4 3-7 3 4 3-3 3 0 3-3 3 4 3-4 3-1 3 3 3-2 3 4 3 0 3-4 3 3 3-3 3 1 3 10 0 0-3 1-3 2-3-3-3 2-3 0-3 0-3-2-3 4-3-3-3 1-3 1-3-4-3 5-3-6-3 4-3 1-3 2-3 0-3-4-3 2-3 1-3-1-3-6-3 1-3 2-3 2-3-2-3-2-3 4-3 0-3-2-3-1-3-1-3 2-3-2-3 1-3 1-3 0-3 0-3 0-3 0-3 0-3 6-3-2-3 0-3-3-3 3-3 1-3-4-3-4-3 3-3 0-3-3-3 6-3-5-3 1-3 1-3 4-3-3-3z"/><path filter="url(#bA23)" fill="#ffffff" d="M279 803l0 3-1 3-1 3 3 3-4 3 2 3 2 3 0 3 1 3 0 3-2 3 1 3 0 3 3 3 1 3-2 3 1 3-1 3-1 3 1 3-1 3 1 3 1 3 1 3 1 3-2 2 15 0-1-2 1-3-2-3-2-3 2-3-1-3 2-3-1-3 1-3 0-3-2-3 1-3-2-3 1-3 0-3-1-3-3-3 3-3-1-3-2-3 2-3-2-3-2-3 4-3 0-3 0-3z"/><path filter="url(#bA24)" fill="#bfbfbf" d="M290 880l-3 3 0 3-2 3 1 3 2 3 0 3-2 3 1 3-1 3 2 3 0 3-2 3 1 3 0 3-3 3 4 3-1 3 2 3-4 3 4 3-2 3 2 3 1 3-3 3 0 3 4 3-4 3 0 1 11 0-2-1 3-3-3-3 0-3 1-3-3-3 4-3-3-3-1-3 1-3-1-3 4-3-3-3 0-3-1-3-1-3 3-3-1-3 2-3 1-3-2-3 4-3-2-3-1-3-1-3 1-3-1-3 0-3z"/><path filter="url(#bA25)" fill="#ffffff" d="M289 962l-1 3-3 3 0 3-1 3 3 3-2 3 0 3 0 3 0 3 3 3 1 3-2 3 0 3-2 3 1 3 0 3 3 3-1 3 1 3 0 3-1 3-2 3 1 3-1 3 7 3-3 3-1 3 4 3-4 3 3 3-1 3 0 3-1 3 1 3 1 3-5 3-2 3 7 3-2 3 1 3-2 3 3 3 1 3-6 3 3 3-2 3-2 3 3 3 2 3-3 3 0 3 3 3-3 3 1 3-3 3 1 3 1 3 0 3 1 3 2 3-3 3-3 3 1 3 0 3 3 3-5 3 1 3 0 3-1 3 0 3 1 3 2 3-1 3-1 3 1 3-3 3 3 3 0 3-1 3-3 3 6 3-9 3 4 3 1 3 2 3-4 3 2 3 0 1 12 0-2-1 4-3-2-3 3-3 0-3-1-3-2-3 2-3-3-3 3-3-1-3-1-3 3-3-2-3 1-3 0-3 1-3-1-3-2-3 5-3-3-3 1-3-1-3 2-3 0-3 0-3 1-3 0-3-1-3-1-3 3-3-2-3 0-3 2-3 0-3-2-3 5-3 1-3-6-3 1-3 1-3 0-3 3-3-2-3 0-3-1-3 3-3-3-3-4-3 3-3 3-3-3-3 2-3-3-3 3-3 1-3 2-3-1-3-2-3 3-3-4-3 1-3-1-3-2-3-1-3 1-3 1-3 4-3-5-3 1-3-4-3 5-3 0-3-1-3 3-3-6-3 1-3 2-3-2-3-3-3 2-3 4-3-7-3 3-3 1-3 2-3-2-3-1-3z"/><path filter="url(#bA26)" fill="#ffffff" d="M549 803l1 3 1 3 1 3-2 3 2 3-2 3 0 3 2 3-2 3 0 3 2 3 0 3-2 3 1 3-2 3 1 3 2 3-2 3-2 3 3 3-3 3 2 3 1 3 0 3-1 3-3 3 4 3-1 3-2 3 0 3 5 3-2 3 0 3 0 3-1 3-2 3 3 3 0 3 0 3 1 3 2 3-5 3 0 3 2 3-1 3 1 3 0 3-1 3-2 3 1 3-2 3 1 3-2 3-1 3 4 3-1 3 3 3 2 3-3 3 0 3-2 3 0 3 2 3 0 3 0 3-1 3 3 3-3 3-3 3 2 3-2 3 2 3 1 3-2 3 0 3 0 3-2 3 3 3 0 3 0 3 0 3-1 3 0 3-3 3-2 3 2 3 4 3-3 3-3 3 3 3 1 3-4 3 4 3-3 3 4 3-2 3 5 3-7 3 3 3-4 3 5 3-2 3 1 3-2 3-2 3 1 3-1 3 0 3 3 3 1 3-1 3 0 3-3 3 2 3-2 3 2 3 1 3-2 3 0 3 1 3 1 3-2 3-2 3 2 3-1 3 3 3-3 3-3 3 3 3 1 3-1 3-2 3 1 3 1 3 1 3-1 3 3 3-4 3 3 3-2 3-3 1 16 0-1-1 0-3-1-3 4-3 0-3-2-3-2-3 2-3 0-3 0-3 3-3-3-3 1-3 1-3 0-3 1-3 0-3 0-3 1-3 0-3 1-3-1-3-2-3 0-3-4-3 2-3 6-3-3-3-3-3 4-3 1-3-1-3-4-3 2-3 2-3-1-3-1-3 3-3-2-3 1-3 1-3 0-3 0-3-1-3 2-3-3-3 0-3 2-3-1-3 1-3 0-3-2-3 1-3 3-3-3-3 1-3-2-3 2-3-1-3 2-3 1-3-3-3 4-3-2-3 1-3-1-3-1-3 0-3 1-3-1-3 1-3 3-3 0-3-1-3-2-3 4-3 1-3-1-3-2-3 0-3 2-3-1-3 0-3 2-3-4-3 1-3-1-3 1-3-1-3 1-3 0-3-1-3 2-3 1-3-4-3 3-3-4-3 3-3 0-3 3-3-4-3 2-3 0-3-1-3-1-3 3-3 0-3-1-3-1-3 4-3-3-3 0-3 3-3-1-3 1-3-3-3 0-3 0-3 0-3 0-3 2-3-4-3 4-3-1-3-1-3 3-3-1-3 3-3-5-3 0-3 0-3 2-3-3-3 2-3-1-3 2-3-2-3 3-3-4-3-1-3 2-3z"/></g><rect x="216.1" y="900" width="542.3" height="1.6" fill="#c080a0" opacity="0.4"/><rect x="216.1" y="1160" width="542.3" height="1.6" fill="#c080a0" opacity="0.4"/><rect x="245.4" y="974.9" width="414.6" height="77.7" fill="none" stroke="#d8d8e8" stroke-width="1.3"/><rect x="249.6" y="971.1" width="414.6" height="77.7" fill="none" stroke="#111" stroke-width="5.8"/><rect x="806" y="769.5" width="30.5" height="500.5" fill="url(#cbg)"/><path d="M836.5 819.5h-4M836.5 869.6h-4M836.5 919.6h-4M836.5 969.7h-4M836.5 1019.8h-4M836.5 1069.8h-4M836.5 1119.8h-4M836.5 1169.9h-4M836.5 1220h-4" stroke="#333" stroke-width="1.2" opacity=".6"/><text class="c" x="845.5" y="1277">0</text><text class="c" x="845.5" y="1227">1</text><text class="c" x="845.5" y="1176.9">2</text><text class="c" x="845.5" y="1126.8">3</text><text class="c" x="845.5" y="1076.8">4</text><text class="c" x="845.5" y="1026.8">5</text><text class="c" x="845.5" y="976.7">6</text><text class="c" x="845.5" y="926.7">7</text><text class="c" x="845.5" y="876.6">8</text><text class="c" x="845.5" y="826.5">9</text><text class="c" x="845.5" y="776.5">10</text><path d="M664.6 968.7L894.7 680M664.6 1051.2L894.7 1326.4" stroke="#000" stroke-width="4.3" fill="none"/><text class="b" x="376.3" y="746.7" font-size="80.5">S2</text><text class="ar" font-size="79" transform="translate(461.2 746.7) scale(1 .73)">→</text><text class="b" x="541" y="746.7" font-size="80.5">S1</text><text class="b" font-size="31.5" text-anchor="middle" transform="translate(85.8 1002.2) rotate(48)" y="7.7">Sept 16th</text><text class="b" font-size="31.5" text-anchor="middle" transform="translate(85.8 1231) rotate(48)" y="7.7">Sept 15th</text><rect x="888" y="1501.6" width="1331.6" height="638.6" fill="none" stroke="#404040" stroke-width="3.4" stroke-dasharray="12 10.3"/><path d="M987.5 2077.2H2120.2M987.5 2077.2v28.5M1176.3 2077.2v28.5M1365.1 2077.2v28.5M1553.8 2077.2v28.5M1742.6 2077.2v28.5M1931.4 2077.2v28.5M2120.2 2077.2v28.5M987.5 2077.2h-28M987.5 2018.9h-28M987.5 1960.6h-28M2120.2 2077.2h28.5M2120.2 2040h28.5M2120.2 2002.8h28.5M2120.2 1965.5h28.5M2120.2 1928.3h28.5M2120.2 1891.1h28.5M2120.2 1853.9h28.5M2120.2 1816.7h28.5M2120.2 1779.5h28.5M2120.2 1742.2h28.5M2120.2 1705h28.5M2120.2 1667.8h28.5M2120.2 1630.6h28.5" stroke="#8f8f8f" stroke-width="1.6" fill="none"/><clipPath id="cwB1"><path clip-rule="evenodd" d="M967.5 1591.1H2140.2V2115.7H967.5ZM1168.1 2085.7L1168.1 2043.3L1168.1 2013.3L1163.1 1983.4L1163.1 1953.4L1163.1 1923.5L1163.1 1893.6L1163.1 1863.6L1163.1 1833.7L1168.1 1803.7L1168.1 1773.8L1168.1 1743.9L1173.2 1713.9L1173.2 1684L1173.2 1654L1178.2 1621.1L1308.6 1621.1L1303.6 1654L1303.6 1684L1303.6 1713.9L1298.6 1743.9L1298.6 1773.8L1298.6 1803.7L1293.6 1833.7L1293.6 1863.6L1293.6 1893.6L1293.6 1923.5L1293.6 1953.4L1293.6 1983.4L1298.6 2013.3L1298.6 2043.3L1298.6 2085.7ZM1594.6 2085.7L1594.6 2043.3L1594.6 2013.3L1594.6 1983.4L1589.6 1953.4L1589.6 1923.5L1589.6 1893.6L1584.6 1863.6L1579.6 1833.7L1579.6 1803.7L1574.6 1773.8L1579.6 1743.9L1584.6 1713.9L1589.6 1684L1599.7 1654L1604.7 1621.1L1679.9 1621.1L1669.9 1654L1664.9 1684L1659.9 1713.9L1654.9 1743.9L1649.8 1773.8L1654.9 1803.7L1654.9 1833.7L1659.9 1863.6L1659.9 1893.6L1664.9 1923.5L1664.9 1953.4L1669.9 1983.4L1669.9 2013.3L1669.9 2043.3L1669.9 2085.7ZM1735.1 2085.7L1740.2 2043.3L1740.2 2013.3L1740.2 1983.4L1745.2 1953.4L1745.2 1923.5L1745.2 1893.6L1745.2 1863.6L1745.2 1833.7L1745.2 1803.7L1745.2 1773.8L1745.2 1743.9L1745.2 1713.9L1745.2 1684L1745.2 1654L1745.2 1621.1L1865.6 1621.1L1865.6 1654L1865.6 1684L1865.6 1713.9L1865.6 1743.9L1865.6 1773.8L1865.6 1803.7L1865.6 1833.7L1865.6 1863.6L1865.6 1893.6L1865.6 1923.5L1860.6 1953.4L1860.6 1983.4L1860.6 2013.3L1860.6 2043.3L1855.6 2085.7Z"/></clipPath><rect x="987.5" y="1631.1" width="1132.7" height="444.6" fill="url(#wB1)" clip-path="url(#cwB1)"/><g class="wf" transform="translate(987.5 0) scale(5.0177 .5)"><path d="M0 4140q.5 -3 1-3t1 4 1 7 1 3 1-2 1-5 1-5 1-2 1 2 1 6 1 6 1 1 1-3 1-2 1 2 1 1 1-3 1-2 1 1 1 2 1 1 1 0 1 1 1 2 1 1 1-2 1-3 1-1 1-1 1-2 1-2 1-2 1-1 1 1 1 3 1 3 1 1 1 0 1 2 1 3 1-1 1-1 1-2l1-13 1-24 1-26 1-23 1-27 .2-7 .8 12 1 13 1 13 1 11 1 8 1 11 1 16 1 15 1 9 1 6q.5 3 1 6t1 2 1-2 1-1 1 1 1 2 1 1 1-1 1-2 1 0 1 2 1 1 1-3 1-5 1-3 1-1 1 1 1 3 1 5 1 4 1 1 1-1 1-2 1-1 1 0 1 0 1 1 1 2 1 1 1-1 1-1 1 1 1 1 1 0 1 0 1-1 1-2 1-5 1-6 1 0 1 6 1 6 1 1 1-1 1 0 1-2 1-3 1 0 1 3 1 2 1 0 1 1 1 1 1-3 1-7 1-4 1 4 1 7 1 2 1-3 1-5 1-5 1-2 1 2 1 6 1 6 1 1 1-3 1-4l1-5 1-23 1-34 .2-5 .8 20 1 24 1 17 1 8q.5 2 1 2t1 1 1 2 1 1 1-2 1-3 1-1 1-1 1-2 1-2 1-2 1-1 1 1 1 3 1 3 1 1 1 0 1 0 1-7l1-26 1-37 1-47 1-65 .3-21 .7 11 1 23 1 28 1 27 1 20 1 17 1 17 1 14 1 9 1 12 1 14q.5 6 1 10t1 4 1 0 1 1 1 0 1-2 1-1 1 1 1 2 1 0 1-2 1-1 1 1 1 2 1 0 1-4 1-5 1-2 1 0 1 1 1 3 1 5 1 4 1 0 1-2 1-2 1-1 1 0 1 0 1 1 1 2 1 1 1-1 1-1 1 1 1 1 1 0 1 0 1 0 1-1 1-6 1-7 1 1 1 6 1 5 1 1 1-1 1 1 1-1 1-4 1-1 1 3 1 2 1 0 1 1 1 1 1-3M0 4147q.5 1 1-1t1-4 1-3 1-1 1 0 1 0 1 1 1 3 1 2 1-2 1 0 1 4 1 2 1 0 1-3 1-7 1-6 1 0 1 5 1 5 1 3 1 0 1-1 1 1 1 1 1 0 1-1 1-4 1-6 1-3 1 3 1 7 1 5 1 1 1-2 1-4 1-2 1 0 1-1 1-2l1-6 1-13 1-20 1-24 .9-23 .1-1 1 10 1 6 1 7 1 11 1 14 1 15 1 7 1 2 1 4 1 5q.5 2 1 3t1 3 1 5 1 5 1 1 1-4 1-4 1-1 1 1 1 2 1 0 1-3 1-4 1-3 1 0 1 3 1 4 1 1 1-3 1-2 1 1 1 2 1 2 1 2 1 2 1 1 1-1 1-2 1-1 1 1 1 2 1 2 1 1 1 0 1-1 1-2 1 0 1 2 1 0 1-2 1 0 1 2 1 1 1 0 1-2 1-5 1-3 1 3 1 5 1 1 1-1 1-1 1-3 1-2 1 0 1-1 1 1 1 4 1 0 1-3 1-2 1-1 1 1 1 1 1 1 1 3 1 2 1-2 1-1 1 2 1-3l1-10 .9-15 .1 0 1 3 1 3 1 8q.5 4 1 8t1 6 1 3 1 0 1-1 1 1 1 0 1-1 1-1 1-4 1-6 1-3 1 3 1 7 1 5 1 1 1-2 1-4 1-2 1 0 1-1 1 0 1 2 1-2l1-13 1-29 1-38 1-47 1-55 1 19 1 23 1 26 1 25 1 18 1 11 1 13 1 14 1 9 1 11 1 14q.5 6 1 8t1 0 1-4 1-4 1-2 1 1 1 2 1 1 1-2 1-4 1-3 1 0 1 3 1 4 1 1 1-3 1-3 1 0 1 2 1 2 1 2 1 2 1 1 1 0 1-1 1-1 1 0 1 1 1 2 1 2 1 1 1-1 1-2 1-1 1 1 1 0 1-2 1 0 1 2 1 2 1 0 1-3 1-5 1-3 1 4 1 6 1 0 1-2 1-1 1-2 1-1 1-1 1-1 1 2M0 4141q.5 0 1-3t1-5 1-3 1-1 1 1 1 4 1 5 1 2 1 0 1-1 1-5 1-4 1 3 1 6 1 3 1-1 1-2 1 0 1 1 1-3 1-6 1-2 1 3 1 3 1 1 1 2 1 2 1 0 1 1 1 1 1-1 1-3 1-5 1-3 1 3 1 6 1 2 1-3 1-5 1-2 1 1 1-1 1-3 1-8l1-16 1-25 1-30 1-31 .3-10 .7 9 1 15 1 16 1 16 1 13 1 13 1 10 1 8 1 10 1 15 1-2q.5 0 1 2t1 4 1-1 1-3 1 2 1 4 1 1 1-4 1-5 1-3 1-2 1-3 1-1 1 5 1 7 1 0 1-3 1 3 1 5 1 2 1 0 1 0 1 0 1 0 1 0 1 0 1 0 1-1 1-1 1-3 1-8 1-5 1 2 1 4 1 2 1-1 1-1 1 2 1 4 1 3 1 2 1 0 1-1 1 1 1 0 1 0 1 1 1-1 1-3 1-5 1-4 1 1 1 6 1 4 1-3 1-5 1-3 1-1 1 2 1 5 1 5 1 1 1-1 1-1 1-5 1-8l1-7 1-6 .2-1 .8 11 1 8 1 4q.5 2 1 4t1 2 1-3 1-6 1-2 1 3 1 3 1 1 1 2 1 2 1 0 1 1 1 1 1-1 1-3 1-5 1-3 1 3 1 6 1 2 1-3 1-5 1-2 1 0 1-8l1-22 1-31 1-37 1-46 .3-11 .7 14 1 22 1 19 1 16 1 17 1 16 1 13 1 13 1 9 1 7 1 8q.5 5 1 7t1-1 1-2 1 3 1-1 1-3 1 2 1 4 1 1 1-4 1-5 1-3 1-2 1-3 1-1 1 5 1 7 1 0 1-3 1 3 1 5 1 2 1 0 1 0 1 0 1 0 1 0 1 0 1 0 1-1 1-1 1-3 1-8 1-5 1 2 1 4 1 2 1-1 1-1 1 2 1 4 1 3 1 2 1 0 1-1 1 1 1 0 1 0 1 1 1-1 1-3 1-5 1-4 1 1 1 6M35 4128q.5 -2 1-3t1 1 1 5 1 5 1 0 1-6l1-11 1-14 1-17 .8-17 .2 2 1 7 1 8 1 6 1 7 1 10 1 4 1 5 1 8 1 0q.5 2 1 4t1 1 1 0 1 3 1 2 1 0 1-2 1-4 1-3M120 4130q.5 2 1 3t1 2 1 1 1-4l1-14 1-29 .7-22 .3 3 1 21 1 18 1 11q.5 4 1 5t1 2 1 3 1 3 1 2 1 1 1 0M149 4125q.5 -1 1 1t1 5 1 2l1-11 1-28 1-36 1-46 .9-46 .1 2 1 21 1 19 1 20 1 18 1 17 1 19 1 12 1 12 1 15 1 5 1 10q.5 2 1 0t1-2 1 2 1 2 1 0 1-2M35 4125q.5 1 1 0t1-1 1 2 1 2l1-6 1-19 1-20 1-33 1-33 .2-6 .8 12 1 9 1 11 1 10 1 13 1 16 1 16 1 12 1 6 1-1q.5 0 1 0t1 0 1 1 1 2 1 2 1 1 1 0 1 2 1 3M120 4132q.5 0 1-1t1-1 1 0 1-3 1-5 1-4l1-6 1-13 .7-14 .3 6 1 13 1 10 1 8q.5 3 1 4t1 0 1-2 1-1 1 0M149 4124q.5 -1 1 0t1 3 1 4 1 1 1-4l1-11 1-28 1-30 1-39 .7-32 .3 4 1 15 1 14 1 15 1 20 1 19 1 16 1 9 1 2 1 3 1 4q.5 2 1 4t1 4 1 3 1 1 1 0M35 4111q.5 2 1 6t1 7 1 2 1-1 1-1l1-7 1-17 1-26 1-29 1-35 .1-4 .9 14 1 12 1 14 1 17 1 7 1 6 1 9 1 7 1 5 1 3q.5 1 1 3t1 4 1 4 1 3 1 3 1 5 1 5 1 1M120 4122q.5 -1 1-2t1 0 1 2 1 0 1-3 1-5l1-8 1-15 .8-15 .2 5 1 13 1 13 1 11q.5 4 1 6t1 3 1 0 1 0 1 1M149 4117q.5 4 1 7t1 2 1-2 1-5l1-13 1-23 1-32 1-35 .3-12 .7 9 1 16 1 12 1 13 1 17 1 7 1 5 1 8 1 7 1 4 1 2q.5 1 1 2t1 2 1 3 1 3 1 3 1 5M35 4114q.5 2 1 4t1 3 1 1 1-1 1-4 1-6 1-6l1-8 1-13 1-21 1-24 .4-9 .6 6 1 13 1 13 1 10 1 6 1 4 1 5 1 10 1 11 1 7q.5 2 1 2t1 0 1 0 1 0 1 1 1 2 1 0M120 4122q.5 0 1 0t1 0 1 0 1-2l1-9 1-25 1-33 .1-2 .9 17 1 17 1 16q.5 7 1 12t1 7 1 3 1 1 1 0 1-1 1-1M149 4118q.5 2 1 3t1 1 1-1 1-4 1-5 1-3 1-6l1-15 1-29 1-35 1-38 .2-8 .8 14 1 20 1 17 1 13 1 9 1 11 1 15 1 17 1 11 1 6 1 3q.5 1 1 2t1 1 1 1 1 2M35 4115q.5 0 1 1t1 1 1-1 1-1 1 0 1-6l1-14 1-15 1-18 1-26 .4-12 .6 6 1 10 1 11 1 12 1 11 1 3 1 8 1 11 1 7 1 5q.5 3 1 5t1 0 1-3 1-1 1 0 1 0 1 0 1-1M120 4112q.5 0 1 1t1 2 1 2 1 0 1-3 1-6l1-12 1-17 .9-21 .1 2 1 21 1 17 1 13q.5 4 1 5t1 1 1 0 1 1 1 0M149 4116q.5 1 1 1t1-1 1-1 1 1 1-3l1-12 1-25 1-34 1-46 1-57 .1-6 .9 20 1 22 1 23 1 21 1 13 1 17 1 19 1 15 1 11 1 13 1 0q.5 0 1 0t1 0 1 0 1 1 1 1M35 4108q.5 1 1 1t1-4 1-5 1-4l1-8 1-17 1-21 1-25 .4-11 .6 7 1 14 1 14 1 6 1 10 1 12 1 8 1 3 1 1 1 3q.5 2 1 4t1 3 1 2 1 1 1 1 1 3 1 3 1 0 1-1 1 1M120 4107q.5 -2 1-2t1 1 1 0 1-3 1-4 1-5l1-9 1-15 .3-5 .7 13 1 16 1 6q.5 4 1 7t1 5 1 1 1-2 1-2 1-1M149 4111q.5 -1 1-5t1-5 1 0 1 2 1-3l1-15 1-27 1-35 1-39 .6-25 .4 9 1 16 1 17 1 21 1 16 1 10 1 9 1 10 1 10 1 9 1 9q.5 4 1 6t1 3 1 3 1 3 1 0 1-1M35 4106q.5 1 1 0t1-3 1-3 1 1 1 2 1-5l1-14 1-13 1-21 1-23 1 12 1 11 1 3 1 1 1 5 1 11 1 12 1 8 1 5 1 5q.5 2 1 3t1 1 1-1 1-1 1 2 1 2 1-1 1 0M120 4099q.5 -3 1-4t1 1 1 3 1-3l1-16 1-29 .3-9 .7 13 1 19 1 20 1 13q.5 3 1 1t1-3 1-1 1-1 1-3 1-4 1-3M149 4106q.5 -1 1-3t1-3 1 1 1 4 1 1 1-2 1-4l1-14 1-27 1-30 1-38 .6-28 .4 5 1 10 1 15 1 20 1 20 1 16 1 13 1 12 1 10 1 8 1 4q.5 2 1 4t1 4 1 2 1-1M35 4100q.5 0 1 0t1-1 1 0 1-2 1-6 1-5 1-4l1-5 1-7 1-20 1-24 .6-19 .4 2 1 8 1 10 1 12 1 10 1 8 1 4 1 4 1 8 1 11 1 6q.5 2 1 2t1 1 1 2 1 0 1-1 1 2M120 4096q.5 0 1 1t1 3 1 1 1-3 1-3 1-2 1-4l1-13 1-26 .7-22 .3 5 1 27 1 24 1 13q.5 3 1 3t1 1 1 2 1 0M149 4101q.5 -1 1-2t1 0 1-2 1-6 1-4 1-3l1-7 1-13 1-29 1-36 .8-34 .2 3 1 12 1 15 1 17 1 15 1 12 1 8 1 7 1 11 1 14 1 9q.5 3 1 3t1 1 1 2 1 1 1 0M35 4095q.5 0 1-1t1-3 1-4 1-2 1 2 1 4 1 3 1 1 1-1 1-5l1-11 1-13 1-21 1-23 .2-3 .8 8 1 9 1 9 1 8 1 9 1 10 1 5 1 2 1 3 1 4q.5 1 1 1t1 0 1 2 1 4M120 4092q.5 1 1 3t1 2 1-2 1-4 1-5l1-8 1-17 1-29 .2-7 .8 17 1 23 1 21 1 9q.5 1 1-2t1-5 1 0 1 5 1 3M149 4095q.5 -1 1-4t1-8l1-12 1-16 1-20 1-26 .5-16 .5 6 1 13 1 13 1 11 1 13 1 8 1 7 1 9 1 7 1 5 1 5q.5 2 1 4t1 3 1-1 1-3 1-2 1-2 1-2 1-1 1 2M35 4086q.5 -3 1-5t1 0 1 5 1 3 1-2 1-6l1-11 1-17 1-24 .9-23 .1-1 1 10 1 11 1 11 1 10 1 7 1 4 1 5 1 8 1 8 1 4q.5 1 1 1t1 1 1 3 1 2 1-1 1-1 1 1 1 0M120 4093q.5 0 1-1t1-1 1 1 1 1 1-2 1-5 1-7l1-8 .8-8 .2 2 1 3 1-1 1 0q.5 1 1 4t1 6 1 3 1 0 1 1M149 4080q.5 -1 1 1t1 5 1 3 1-2l1-8 1-14 1-24 1-31 .9-28 .1 1 1 12 1 14 1 14 1 13 1 9 1 6 1 7 1 9 1 10 1 5q.5 2 1 3t1 2 1 3 1 2 1-1 1-1 1 1M35 4082q.5 -2 1-2t1 0 1 2 1 3 1 1 1-1 1-3l1-7 1-15 1-20 1-27 .9-26 .1 1 1 11 1 9 1 11 1 14 1 11 1 5 1 5 1 6 1 5 1 4q.5 1 1 1t1 0 1 2 1 5 1 4 1 1M120 4084q.5 0 1-1t1-4 1-4 1 0 1 2l1-1 1-15 1-27 .2-6 .8 13 1 16 1 14 1 16q.5 2 1-2t1-5 1 1 1 4 1 2M149 4080q.5 0 1 0t1 2 1 2l1-7 1-25 1-32 1-39 1-46 .2-7 .8 18 1 18 1 20 1 16 1 12 1 14 1 17 1 14 1 5 1 6 1 5q.5 2 1 2t1-1 1-2 1-2 1 1 1 6 1 5M35 4071q.5 2 1 5t1 2 1-6 1-9 1-5 1-4l1-10 1-17 1-23 1-30 .4-14 .6 8 1 11 1 10 1 12 1 15 1 19 1 16 1 9 1 8 1 4 1 5q.5 3 1 4t1-2 1-5 1-3 1-2 1 0 1 2M120 4076q.5 -2 1-3t1-1 1-1l1-9 1-29 .7-18 .3 7 1 26 1 18 1 7q.5 2 1 1t1-3 1-2 1 0 1-1 1-2 1-2 1-2M149 4078q.5 2 1 0t1-11l1-23 1-26 1-30 1-36 .7-25 .3 7 1 23 1 19 1 14 1 12 1 10 1 11 1 15 1 18 1 14 1 7q.5 3 1 4t1 1 1 0 1 0 1-3 1-5 1-3 1-2 1 0M35 4065q.5 1 1 1t1-1 1-1 1 2 1 3 1 1 1-3l1-9 1-14 1-17 1-19 1 6 1 9 1 8 1 6 1 7 1 9 1 9 1 4 1 3q.5 1 1 0t1-1 1 1 1 2 1 2 1 0 1-4 1-5M120 4061q.5 0 1 2t1 6 1 5 1-3l1-8 1-7 .6-9 .4 3 1 10 1 10q.5 4 1 5t1 0 1-2 1-2 1-1 1-1 1-1 1 1M149 4067q.5 0 1-1t1-1 1 2 1 3 1 2 1 2 1 1 1-6l1-21 1-33 1-46 1-52 .4-23 .6 15 1 21 1 21 1 23 1 22 1 17 1 14 1 10 1 8 1 9 1 11q.5 5 1 8t1 2 1-4M35 4070q.5 1 1 1t1 0 1 0 1-1 1-4 1-6l1-10 1-20 1-22 1-24 .6-20 .4 5 1 16 1 9 1 7 1 10 1 12 1 16 1 6 1 0 1 6 1 9q.5 4 1 7t1 3 1-2 1-4 1-1 1 2 1 0M120 4067q.5 2 1 3t1 1 1 0 1-1 1-1 1-3l1-13 1-27 .9-24 .1 3 1 28 1 20 1 14q.5 5 1 5t1-1 1-1 1 1 1 1M149 4070q.5 0 1 0t1 0 1-1 1-3 1-2 1 0 1-3l1-11 1-17 1-29 1-32 .5-21 .5 3 1 11 1 13 1 16 1 19 1 9 1 3 1 9 1 13 1 12 1 8q.5 2 1 1t1-3 1-2 1 1M35 4058q.5 -1 1-1t1 0 1 1 1 2 1 3 1 2 1-3 1-10l1-16 1-17 1-18 1-25 .4-12 .6 6 1 8 1 11 1 15 1 15 1 11 1 9 1 9 1 7 1 0q.5 -1 1-3t1-1 1 3 1 3 1 1 1 0M120 4065q.5 0 1 1t1 1 1-1 1-5l1-11 1-13 .3-3 .7 7 1 9 1 8q.5 4 1 7t1 3 1-1 1-4 1-6 1-4 1 1 1 5M149 4057q.5 0 1 0t1 1 1 0l1-7 1-17 1-28 1-38 .8-32 .2 2 1 18 1 19 1 16 1 10 1 7 1 10 1 14 1 14 1 8 1 6q.5 3 1 5t1 1 1-4 1-6 1-3 1 2 1 3 1 1M35 4051q.5 2 1 4t1 2 1-1 1-1 1-1l1-7 1-13 1-15 1-24 .8-20 .2 1 1 6 1 7 1 11 1 12 1 13 1 10 1 4 1 3 1 6 1 5q.5 2 1 1t1-3 1-2 1 3 1 6 1 4 1 0 1-2M120 4058q.5 2 1 2t1-3 1-3 1 2 1 3 1-3l1-12 1-18 .5-7 .5 9 1 16 1 11 1 6q.5 1 1-2t1-7 1-6 1-2 1 1M149 4055q.5 1 1 1t1 0 1 0 1-1 1-6l1-14 1-19 1-29 1-32 .1-2 .9 8 1 10 1 13 1 15 1 15 1 12 1 6 1 5 1 7 1 7q.5 2 1 2t1-1 1-1 1 2 1 5 1 4 1 0M35 4054q.5 0 1-1t1-3 1-4 1-2 1 4 1 6 1-4l1-16 1-16 1-20 1-27 .8-21 .2 3 1 16 1 11 1 12 1 8 1 3 1 4 1 11 1 14 1 11 1 5q.5 3 1 5t1 3 1 1 1-1 1-1 1 1M120 4048q.5 0 1 2t1 4 1 1 1 0 1-2 1-7l1-9 1-13 .6-8 .4 6 1 14 1 8q.5 3 1 4t1 1 1-1 1-2 1-3 1-4M149 4054q.5 -1 1-4t1-9l1-19 1-24 1-29 1-55 .7-37 .3 6 1 24 1 23 1 20 1 21 1 20 1 13 1 14 1 9 1 3 1 2q.5 3 1 7t1 8 1 5 1 2 1 2 1 1 1 0 1-1 1-1M35 4046q.5 1 1 0t1-2 1-1 1-1 1-6l1-14 1-20 1-22 1-21 .9-22 .1 1 1 16 1 11 1 13 1 16 1 13 1 10 1 8 1 5 1 4 1 4q.5 1 1 1t1-2 1-3 1 1 1 4 1 3 1 1 1-1M120 4041q.5 -1 1-1t1 0 1 1 1 4 1 4 1-4l1-18 1-28 .6-13 .4 8 1 26 1 16 1 7q.5 2 1 3t1 1 1-1 1-3 1-3M149 4046q.5 -1 1-2t1-1 1-1 1-4 1-9l1-18 1-24 1-27 1-32 .6-22 .4 8 1 16 1 17 1 20 1 18 1 14 1 11 1 8 1 7 1 7 1 3q.5 1 1 0t1-1 1 1 1 3 1 4 1 1M35 4042q.5 0 1 0t1-1 1-2 1-1 1 0 1-4l1-14 1-23 1-23 1-20 .8-31 .2 2 1 10 1 14 1 15 1 15 1 15 1 14 1 11 1 10 1 4 1 1q.5 1 1 1t1 0 1 1 1 4 1 5 1 2 1 0M120 4035q.5 0 1 2t1 5 1 3 1-2 1-5 1-6l1-7 1-17 .5-13 .5 8 1 13 1 13 1 10q.5 3 1 4t1 1 1 1 1-1 1-4M149 4043q.5 0 1-1t1-2 1-1 1-1 1-8l1-18 1-25 1-23 1-21 .1-2 .9 10 1 7 1 11 1 13 1 12 1 13 1 13 1 9 1 8 1 1q.5 0 1 0t1-1 1-2 1 1 1 5 1 5 1 2M35 4035q.5 2 1 2t1-5l1-17 1-24 1-30 1-35 .5-18 .5 5 1 13 1 17 1 20 1 19 1 15 1 11 1 10 1 8 1 2 1 0q.5 0 1 1t1 2 1 2 1 2 1 2 1 0 1-4 1-5 1-3 1-1 1 2M120 4040q.5 -2 1-6t1-6 1-2 1 1 1 1 1-2l1-5 1-18 .3-7 .7 7 1 12 1 14q.5 6 1 9t1 1 1-4 1-2 1 1 1 2M149 4038q.5 0 1-1t1-3 1-4 1-5 1-9l1-18 1-32 1-36 1-42 .8-37 .2 7 1 27 1 23 1 23 1 19 1 14 1 11 1 13 1 15 1 13 1 11 1 8q.5 2 1 1t1-3 1-4 1-3 1-1M35 4030q.5 -1 1 0t1 2 1-2 1-5 1-1 1 2 1 1 1-2l1-7 1-11 1-24 1-24 .5-13 .5 5 1 12 1 10 1 7 1 8 1 9 1 8 1 6 1 9 1 8q.5 3 1 4t1 1 1 1 1 2 1 2 1 0M120 4036q.5 -1 1 0t1-1l1-7 1-19 1-22 .2-3 .8 16 1 16 1 15q.5 5 1 5t1-2 1-2 1 1 1 2 1 1 1 0 1 0 1 0M149 4029q.5 1 1 3t1-1 1-8l1-14 1-25 1-39 1-47 1-49 1 29 1 20 1 23 1 21 1 19 1 15 1 13 1 12 1 12 1 8 1 7q.5 3 1 5t1 3 1 0 1-2 1-1 1 2 1 3M35 4027q.5 2 1 3t1-1 1-8l1-16 1-17 1-18 1-27 .9-32 .1 1 1 13 1 13 1 11 1 11 1 11 1 10 1 10 1 9 1 10 1 11q.5 4 1 6t1 1 1-2 1-1 1 0 1-1 1-1 1 1 1 2 1 0M120 4033q.5 0 1-1t1-1 1 0 1-3l1-11 1-21 .8-15 .2 4 1 16 1 9 1 15q.5 5 1 5t1-2 1-1 1 2 1 1 1-1 1-3M149 4032q.5 1 1-1t1-6 1-5 1 0 1-1l1-10 1-30 1-38 1-46 .6-31 .4 5 1 19 1 18 1 18 1 17 1 16 1 17 1 18 1 14 1 7 1 4q.5 2 1 4t1 3 1 0 1-1 1 1 1 2M35 4017q.5 -1 1-1t1 1 1 2 1 0 1-6l1-14 1-15 1-11 .8-8 .2 2 1 6 1 7 1 9 1 3 1 5 1 4 1 4 1 6 1 3q.5 1 1 1t1 1 1 2 1 2 1 1 1-2 1-4 1-2 1 1 1 1M120 4022q.5 -1 1 0t1 3 1 3 1 0 1-6l1-15 1-12 1-14 .1-1 .9 15 1 12 1 9q.5 4 1 6t1 2 1 0 1 0 1 1 1 2M149 4015q.5 0 1 1t1 2 1 1 1-1 1-4l1-9 1-17 1-21 1-37 1-41 1 20 1 13 1 14 1 14 1 12 1 14 1 11 1 7 1 9 1 9q.5 4 1 6t1 3 1-1 1-4 1-2 1 1M35 4023q.5 1 1 0t1-2 1-3 1-1 1 0 1-7l1-15 1-21 1-26 1-24 .2-8 .8 6 1 8 1 14 1 14 1 11 1 7 1 4 1 5 1 8 1 13q.5 6 1 11t1 6 1 0 1-2 1-3 1-2 1 1 1 2M120 4015q.5 3 1 4t1-1 1-4 1-2 1 0l1-3 1-15 1-24 1 12 1 14 1 14q.5 5 1 7t1 2 1 0 1 1 1 1 1-2M149 4020q.5 0 1 0t1-2 1-1 1 0 1-8l1-20 1-36 1-47 1-50 .5-31 .5 9 1 20 1 25 1 24 1 21 1 16 1 12 1 12 1 15 1 19 1 17q.5 6 1 7t1 1 1-2 1-4 1-2 1 1M35 4000q.5 -1 1-2t1-1 1 0 1 1 1 2 1 3 1 3 1-3l1-11 1-19 1-19 1-19 .2-3 .8 11 1 10 1 6 1 5 1 8 1 8 1 7 1 8 1 9 1 7q.5 3 1 3t1-2 1-3 1 0 1 3 1 3M120 4017q.5 0 1 0t1 0 1 0 1-2 1-6l1-10 1-18 .2-3 .8 12 1 13 1 9q.5 4 1 5t1 1 1 0 1 0 1 0 1 0 1 0M149 3997q.5 -1 1-1t1 1 1 1 1-2l1-9 1-18 1-25 1-34 .5-18 .5 6 1 15 1 17 1 16 1 13 1 8 1 7 1 8 1 9 1 7 1 7q.5 4 1 7t1 4 1 0 1-3 1-3 1-1 1 2M35 4011q.5 0 1 0t1-1 1-1 1 1 1-1 1-6l1-8 1-13 1-21 1-21 .3-6 .7 8 1 11 1 9 1 5 1 7 1 9 1 8 1 6 1 5 1 3q.5 1 1 0t1-3 1-3 1 0 1 3 1 5 1 4 1-1M120 4006q.5 2 1 4t1 3 1 0 1-2 1-5l1-12 1-24 1-26 .3-8 .7 20 1 27 1 18 1 11q.5 3 1 2t1-3 1-5 1-6 1-5M149 4012q.5 -1 1-2t1-1 1 1 1-2 1-8l1-11 1-20 1-30 1-29 .1-4 .9 14 1 14 1 12 1 8 1 10 1 11 1 10 1 8 1 7 1 5q.5 1 1 0t1-3 1-3 1 0 1 3 1 5 1 4M35 4005q.5 -1 1-1t1 1 1 1 1 0 1 0 1-2 1-8l1-18 1-23 1-19 1-20 .4-12 .6 9 1 5 1 4 1 12 1 18 1 17 1 9 1 5 1 7 1 10q.5 4 1 6t1 1 1-2 1-1 1 1 1 1 1-1M120 4002q.5 -1 1-1t1 0 1-1 1-2 1-2 1-2l1-3 .7-8 .3 3 1 5 1 2q.5 2 1 4t1 4 1 3 1 2 1 1 1 0 1-1M149 4004q.5 0 1 1t1 1 1 0 1-1 1-4l1-10 1-23 1-26 1-24 .8-18 .2 4 1 15 1 4 1 4 1 12 1 19 1 16 1 8 1 5 1 7 1 9q.5 3 1 4t1 0 1-3 1-2 1 1 1 1M35 3994q.5 2 1 4t1 3 1 1 1-2 1-3 1-2l1-5 1-18 1-18 1-17 .7-11 .3 5 1 4 1 7 1 11 1 13 1 5 1 3 1 5 1 7 1 5q.5 3 1 6t1 4 1-1 1-2 1 2 1 3 1 0 1-3M120 3990q.5 3 1 6t1 4 1-1 1-5 1-10l1-20 1-27 .4-11 .6 17 1 25 1 15 1 8q.5 2 1 2t1 2 1 5 1 4 1 0 1-2M149 3998q.5 2 1 3t1 1 1-2 1-2 1 0l1-7 1-23 1-28 1-29 1-30 1 10 1 13 1 17 1 18 1 10 1 7 1 9 1 11 1 9 1 7q.5 4 1 7t1 1 1-2 1 2 1 3 1 0M35 3987q.5 0 1 1t1 1 1-2 1-2 1 4 1 5l1-5 1-21 1-21 1-19 .9-19 .1 1 1 13 1 8 1 7 1 6 1 8 1 10 1 11 1 10 1 3 1 2q.5 2 1 4t1 3 1 0 1-2 1-2 1-2 1 0M120 3991q.5 2 1 2t1-3 1-5 1 0 1 3l1-2 1-21 1-30 1 20 1 18 1 12q.5 4 1 5t1 2 1 2 1 1 1 0 1 1M149 3989q.5 1 1 1t1-2 1-2 1 3 1 6 1-3l1-19 1-25 1-25 1-28 .4-13 .6 9 1 13 1 10 1 10 1 11 1 12 1 15 1 12 1 5 1 5 1 7q.5 3 1 4t1 0 1-2 1-2 1-2M35 3988q.5 1 1 2t1 2 1 1 1-1 1-1 1 0 1-5l1-15 1-21 1-26 1-30 .2-6 .8 8 1 16 1 15 1 8 1 6 1 12 1 11 1 8 1 5 1 3q.5 1 1 1t1 0 1-1 1-2 1-3 1-3 1 1M120 3985q.5 -1 1-2t1-3 1-4l1-7 1-29 .6-16 .4 11 1 21 1 18 1 16q.5 5 1 5t1-1 1-2 1-1 1 0 1 0 1 0 1-1M149 3990q.5 1 1 2t1 1 1-1 1-2 1-5l1-14 1-21 1-26 1-31 1 9 1 12 1 14 1 14 1 7 1 5 1 10 1 10 1 6 1 4q.5 1 1 1t1-1 1-2 1-2 1-2 1-3 1-3M34 3974q.5 0 1 3t1 6 1 4 1-1 1-2 1 0 1-3 1-7 1-5 1-2l1-4 1-14 1-25 1-38 .9-35 .1 1 1 20 1 23 1 14 1 7 1 10 1 15 1 14 1 7 1 6 1 3q.5 0 1-1t1-2 1 0 1 4M120 3988q.5 0 1-1t1-2 1-2 1 0 1 3 1 0l1-6 1-24 1-25 .3-10 .7 15 1 17 1 15 1 14q.5 4 1 3t1-3 1-2 1 1M149 3984q.5 3 1 3t1-2 1-2 1 0 1-7l1-22 1-33 1-34 1-38 .7-31 .3 9 1 21 1 14 1 13 1 21 1 24 1 15 1 7 1 9 1 15 1 10q.5 4 1 5t1 0 1-3 1-5 1-4 1 0M34 3974q.5 0 1-1t1 0 1 3 1 3 1-4l1-15 1-23 1-30 1-35 .3-8 .7 10 1 17 1 12 1 10 1 12 1 13 1 12 1 11 1 9 1 6q.5 2 1 3t1 0 1-3 1-3 1 0 1 4 1 5 1 1 1-3 1-2M120 3981q.5 -1 1-3t1-3 1-1 1-2l1-8 1-18 1-20 1 18 1 11 1 7q.5 3 1 5t1 4 1 3 1 0 1-2 1 0 1 4M149 3972q.5 1 1 3t1 4 1 3 1 0 1-4 1-12l1-25 1-34 1-41 1-53 .4-23 .6 14 1 24 1 24 1 24 1 22 1 19 1 16 1 12 1 10 1 7 1 5q.5 2 1 5t1 6 1 4 1 0 1-2M34 3968q.5 0 1 0t1 0 1 0 1 0 1-2 1-8l1-15 1-13 1-17 1-35 .2-6 .8 7 1 10 1 15 1 19 1 12 1 10 1 5 1 9 1 6 1 0q.5 0 1 0t1 0 1-1 1-1 1 0 1 1 1 2 1 1 1 1M120 3969q.5 0 1 1t1 3 1 3 1-1l1-9 1-22 1-27 .3-6 .7 19 1 23 1 13 1 8q.5 2 1 1t1-1 1 1 1 0 1-1 1 1M149 3968q.5 0 1 0t1 0 1-2 1-9l1-17 1-19 1-25 1-45 .3-12 .7 9 1 14 1 19 1 23 1 15 1 13 1 8 1 12 1 8 1 2 1 2q.5 1 1 1t1-1 1-1 1 0 1 1 1 2 1 1M34 3972q.5 2 1 1t1-1 1 0 1 0 1-1 1-5l1-12 1-17 1-14 1-16 .2-3 .8 6 1 7 1 8 1 7 1 9 1 10 1 6 1-1 1-4q.5 0 1 2t1 6 1 6 1 3 1 2 1 2 1 0 1-4 1-5M120 3973q.5 1 1 0t1-4 1-6 1-3 1 1 1-2l1-11 1-22 .4-8 .6 10 1 15 1 6 1 0q.5 -1 1-1t1 2 1 5 1 5 1 3M149 3970q.5 0 1 1t1 1 1 0 1 0 1-4 1-9l1-16 1-29 1-41 1-50 .7-35 .3 8 1 23 1 24 1 25 1 19 1 11 1 8 1 13 1 18 1 15 1 10q.5 5 1 8t1 4 1 0 1-4 1-5M34 3952q.5 3 1 6t1 5 1 2 1-3l1-9 1-12 1-13 1-16 .9-20 .1 1 1 6 1 5 1 9 1 8 1 8 1 12 1 9 1 5 1 1q.5 0 1-1t1 0 1 3 1 4 1 2 1 0 1 0 1-1 1-2 1 0M120 3968q.5 0 1 0t1-1 1-3 1-3 1-2 1-3l1-9 1-18 1-27 1 18 1 17 1 19q.5 7 1 9t1 1 1-1 1-4M149 3964q.5 2 1 1t1-2 1-1 1 1 1 2 1-4l1-17 1-33 1-39 1-42 .4-18 .6 12 1 19 1 22 1 20 1 15 1 10 1 7 1 10 1 13 1 12 1 8q.5 3 1 4t1 1 1-1 1-2 1-1M34 3952q.5 1 1 3t1 4 1 3 1 1 1-1 1-2 1-2 1-4 1-10l1-16 1-19 1-15 1-19 .3-9 .7 7 1 3 1 7 1 13 1 13 1 15 1 13 1 5 1 8 1 5q.5 2 1 4t1 3 1 0 1-2 1-2M120 3960q.5 0 1 0t1-2 1-2 1-2l1-8 1-25 .9-28 .1 0 1 17 1 19 1 15q.5 5 1 6t1 1 1-1 1-3 1-1 1 4M149 3959q.5 2 1 3t1 1 1-1 1-2 1-2 1-5l1-13 1-24 1-27 1-26 .9-28 .1 2 1 14 1 6 1 11 1 16 1 16 1 17 1 16 1 6 1 10 1 6q.5 2 1 4t1 3 1 0 1-2 1-2M34 3959q.5 0 1-1t1-2 1-2 1-2 1-2 1-1 1 0 1 0 1-1 1-4l1-7 1-14 1-21 1-24 .1-1 .9 7 1 11 1 9 1 7 1 10 1 10 1 2 1-4 1-2q.5 0 1 3t1 8 1 10 1 7 1 2M120 3945q.5 1 1 2t1 2 1 3 1 3 1 0 1-7l1-15 1-19 .1-1 .9 5 1 6 1 11q.5 6 1 11t1 7 1 3 1 1 1-1M149 3956q.5 -1 1-2t1-2 1-2 1-5l1-15 1-27 1-35 1-40 .6-24 .4 9 1 19 1 14 1 11 1 16 1 17 1 14 1 12 1 13 1 12 1 3q.5 0 1-3t1-5 1-1 1 5 1 8 1 6 1 2M34 3940q.5 1 1 3t1 3 1 0 1-4 1-8l1-11 1-21 1-29 1-31 .2-6 .8 11 1 12 1 8 1 10 1 14 1 15 1 12 1 9 1 9 1 8q.5 3 1 5t1 3 1 1 1-1 1-3 1-4 1-1 1 2 1 1M120 3952q.5 -1 1-3t1-3 1-2l1-7 1-22 1-34 .2-5 .8 19 1 27 1 19 1 6q.5 2 1 3t1 1 1 0 1 0 1-1 1-2M149 3947q.5 1 1 0t1-3 1-2 1 2 1 2 1-2 1-8l1-18 1-32 1-43 1-48 .3-14 .7 14 1 25 1 20 1 19 1 19 1 16 1 14 1 14 1 10 1 10 1 2q.5 0 1 0t1 1 1 2 1 0M34 3941q.5 0 1-2t1-5 1-3 1 3 1 6 1 2 1-6l1-12 1-25 1-28 1-29 .2-5 .8 14 1 10 1 13 1 13 1 9 1 6 1 6 1 9 1 12 1 13q.5 3 1 2t1 0 1 1 1-2 1-1 1 2 1-2M120 3944q.5 2 1 3t1-1 1-4 1 0 1 4 1-1 1-8l1-15 1-26 .6-16 .4 9 1 27 1 15 1 12q.5 4 1 4t1 0 1 1M149 3932q.5 -2 1-1t1 4 1 5 1 2 1-3l1-8 1-23 1-27 1-29 .4-11 .6 9 1 9 1 13 1 14 1 9 1 6 1 6 1 9 1 12 1 12 1-1q.5 1 1 3t1 2 1-2 1-1 1 2 1-2M34 3934q.5 -2 1-3t1 1 1 5 1 2 1-4 1-4 1 0 1 3 1 2 1-4l1-13 1-16 1-18 .8-19 .2 1 1 5 1 9 1 12 1 10 1 6 1 7 1 8 1 5 1 4q.5 3 1 6t1 4 1 1 1-1 1-1M120 3942q.5 0 1 0t1-3l1-7 1-23 1-23 1 20 1 18 1 11q.5 4 1 5t1 2 1 1 1-2 1-3 1-1 1 1 1 3M149 3933q.5 2 1 4t1 1 1-5 1-11l1-19 1-26 1-31 1-42 .3-13 .7 12 1 18 1 16 1 14 1 12 1 15 1 17 1 14 1 9 1 10 1 8q.5 3 1 4t1 1 1 1 1 1 1 0 1 0 1 0M34 3930q.5 0 1 0t1 1 1 1 1-1 1-3l1-7 1-12 1-18 1-18 .8-18 .2 1 1 9 1 8 1 10 1 12 1 11 1 2 1 0 1 3 1 7q.5 5 1 10t1 7 1 1 1-3 1-4 1-2 1 1 1 2 1 0M120 3937q.5 0 1 0t1 0 1 0 1-3 1-11l1-21 1-25 .4-9 .6 14 1 25 1 17 1 10q.5 3 1 4t1 1 1-1 1-3 1-4M149 3931q.5 1 1 1t1-1 1-1 1 0 1-2l1-10 1-24 1-33 1-44 .9-47 .1 1 1 22 1 23 1 22 1 12 1 10 1 11 1 17 1 18 1 16 1 5 1 2q.5 0 1-1t1-1 1 1 1 2 1 0M34 3931q.5 -2 1-4t1-1 1 2 1 0 1-6l1-13 1-16 1-26 1-30 .3-9 .7 10 1 10 1 8 1 10 1 9 1 10 1 8 1 6 1 8 1 8q.5 3 1 4t1 1 1 0 1 0 1-1 1-2 1-1 1 1 1 3M120 3927q.5 -1 1 0t1 3 1 1 1-7l1-16 1-26 .4-12 .6 13 1 21 1 14 1 9q.5 3 1 3t1 1 1 1 1-4 1-6 1-2M149 3926q.5 1 1 2t1 1 1-1 1 0 1 3 1 1 1-5l1-12 1-22 1-29 1-31 .3-10 .7 9 1 12 1 11 1 9 1 11 1 12 1 8 1 6 1 6 1 6q.5 2 1 3t1 1 1 0 1 1 1 3M34 3923q.5 1 1 2t1 1 1-2 1-3 1-4l1-7 1-18 1-20 .9-18 .1 0 1 10 1 9 1 10 1 9 1 5 1 6 1 9 1 0 1 3q.5 2 1 4t1 4 1 2 1 0 1 1 1 1 1 0 1 1 1 0 1-3M120 3921q.5 -2 1-1t1 3 1-1l1-9 1-14 .7-13 .3 4 1 12 1 11 1 5q.5 1 1 0t1 1 1 4 1 2 1-1 1-2 1 1M149 3929q.5 0 1-2t1-2 1 1 1 1 1-2 1-5l1-11 1-24 1-33 1-38 .9-39 .1 2 1 17 1 18 1 22 1 11 1 14 1 16 1 14 1 11 1 10 1 9q.5 4 1 6t1 3 1 1 1-1 1-3M34 3919q.5 -1 1-1t1 1 1 0 1-3 1-5 1-7l1-11 1-15 1-18 1-25 .5-13 .5 6 1 11 1 10 1 10 1 10 1 14 1 8 1 1 1 7 1 11q.5 5 1 7t1 1 1 0 1 2 1 2 1 0 1-1 1 1M120 3917q.5 -2 1-3t1-2 1-1 1-3l1-12 1-22 1-21 .1-2 .9 29 1 19 1 16 1 6q.5 2 1 2t1-2 1-1 1 2 1-1M149 3921q.5 1 1 0t1-4 1-5 1-3 1 0 1 0l1-7 1-25 1-37 1-46 .8-39 .2 4 1 19 1 20 1 23 1 17 1 10 1 14 1 19 1 16 1 5 1 9q.5 4 1 7t1 4 1 0 1-1 1 1M34 3918q.5 -1 1-4t1-4 1-1 1 1 1 3 1 3 1 0 1 0 1 0 1-7l1-18 1-24 1-24 1-26 .5-16 .5 7 1 12 1 9 1 11 1 10 1 6 1 8 1 11 1 10 1 7 1 5q.5 3 1 5t1 3 1 2M120 3913q.5 2 1 3t1 1 1-2 1-7l1-12 1-16 .5-6 .5 8 1 14 1 11q.5 5 1 8t1 2 1 0 1 1 1 0 1-1 1-2M150 3909q.5 1 1 2t1 3 1 3 1-1 1-5l1-11 1-28 1-36 1-39 .5-19 .5 9 1 20 1 17 1 12 1 10 1 10 1 10 1 5 1 7 1 10 1 8q.5 3 1 4t1 1 1 1 1 2 1 2M34 3906q.5 2 1 3t1 1 1-1 1-4 1-7 1-9l1-11 1-14 1-23 1-32 .4-12 .6 6 1 11 1 12 1 15 1 18 1 17 1 3 1 6 1 9 1 8q.5 4 1 6t1 1 1 0 1 1 1-3 1-3 1 2 1 4M119 3912q.5 1 1 1t1-1 1-4 1-4 1-4l1-10 1-21 .6-17 .4 9 1 16 1 16 1 15q.5 5 1 5t1-2 1-2 1 1 1 1 1-2M150 3910q.5 -1 1-4t1-6 1-4 1-5l1-14 1-31 1-45 1-53 .5-26 .5 10 1 22 1 25 1 27 1 26 1 10 1 14 1 15 1 15 1 14 1 3q.5 2 1 5t1 3 1-3 1-3 1 2 1 4M34 3901q.5 0 1-1t1-2 1-1 1 1 1 3 1 2 1-2 1-7l1-15 1-17 1-12 1-12 .3-3 .7 10 1 14 1 8 1 3 1-1 1 4 1 11 1 12 1 5q.5 1 1 0t1-1 1 1 1 1 1-1 1-1 1 0M119 3896q.5 1 1 2t1 3 1 3 1-4l1-16 1-17 .2-4 .8 15 1 13 1 9q.5 3 1 3t1-1 1-1 1 0 1 0 1-1 1-1 1 1M150 3896q.5 0 1 1t1 3 1 1l1-7 1-28 1-41 1-48 1-49 .3-11 .7 20 1 28 1 27 1 19 1 16 1 9 1 13 1 19 1 18 1 11 1 3q.5 1 1 1t1 0 1 0 1-1 1-1 1 1M34 3902q.5 1 1-1t1-6 1-6 1-2 1 0 1 1 1 3 1 4 1 1 1-6l1-14 1-23 1-22 1-19 .1-2 .9 13 1 11 1 10 1 10 1 9 1 9 1 7 1 3 1 4 1 7q.5 3 1 6t1 4 1-1 1-5M119 3901q.5 1 1 2t1 0 1-2 1 0 1-1 1-8l1-15 1-19 .2-3 .8 12 1 7 1 6q.5 3 1 5t1 4 1 5 1 5 1 3 1 0M150 3888q.5 -1 1-1t1 0 1 1 1 3 1 2l1-6 1-24 1-35 1-45 1-48 .1-1 .9 25 1 25 1 18 1 16 1 16 1 15 1 14 1 12 1 6 1 6 1 8q.5 3 1 5t1 2 1-1 1-4M34 3884q.5 -1 1-2t1 1 1 5 1 4 1 2 1 2 1 1 1-1 1-4 1-5 1-7l1-13 1-23 1-29 1-32 .6-17 .4 8 1 25 1 13 1 16 1 10 1 9 1 12 1 15 1 3 1 4 1 6q.5 3 1 4t1 0M119 3884q.5 2 1 5t1 5 1 2 1-1 1-1 1-2l1-9 1-11 .3-6 .7 5 1 7 1 10q.5 4 1 6t1 0 1-5 1-4 1 2 1 6M150 3889q.5 3 1 4t1 2 1 2 1 0 1-4l1-14 1-30 1-35 1-42 1-51 1 19 1 20 1 24 1 27 1 16 1 17 1 11 1 9 1 12 1 14 1 1q.5 0 1 0t1 0 1 0 1-1 1 0M34 3890q.5 -2 1-6t1-6 1-3 1-2 1-1 1 0 1-3l1-9 1-18 1-17 1-15 .5-8 .5 9 1 12 1 6 1 9 1 11 1 8 1 6 1 8 1 9 1 6q.5 2 1 3t1 2 1 1 1-1 1-2 1-2 1-2M119 3892q.5 1 1 1t1-1 1-1 1-1 1-6l1-15 1-18 .5-15 .5 6 1 17 1 19 1 13q.5 4 1 4t1-2 1-2 1 0 1-2 1-3M150 3876q.5 -1 1-2t1-2 1 0 1-1l1-10 1-29 1-36 1-38 1-47 1 22 1 18 1 20 1 22 1 19 1 15 1 16 1 17 1 13 1 8 1 7q.5 3 1 4t1 0 1-3 1-3 1-1 1-1M34 3885q.5 0 1 1t1 2 1 0 1-3 1-5 1-4 1 1 1 5 1 1 1-8l1-15 1-21 1-21 1-18 .4-5 .6 11 1 14 1 9 1 5 1 4 1 5 1 9 1 11 1 9 1 7q.5 3 1 5t1 2 1 0 1 1M119 3881q.5 0 1 0t1 2 1 3 1 0 1-5l1-10 1-14 .7-21 .3 3 1 13 1 14 1 9q.5 3 1 3t1 0 1 1 1 2 1 2 1 1M150 3887q.5 -1 1-2t1-4 1-4 1 0 1-4l1-19 1-38 1-47 1-54 .3-15 .7 14 1 26 1 27 1 24 1 16 1 13 1 9 1 11 1 13 1 14 1 11q.5 4 1 6t1 2 1 0 1 0 1 1 1 1M34 3876q.5 0 1 0t1-1 1-1 1 1 1 2 1 2 1-1l1-6 1-15 1-15 1-14 .5-12 .5 0 1 7 1 8 1 10 1 9 1 7 1 3 1 6 1 7 1-3q.5 -1 1-1t1 0 1-1 1-3 1-4 1-2 1 2M119 3879q.5 0 1 0t1 1 1 2 1 1 1-1 1-6l1-16 1-25 .4-13 .6 9 1 14 1 18 1 16q.5 5 1 4t1-4 1-3 1 2 1 3M150 3874q.5 0 1 1t1 2 1 2 1 2 1-2l1-15 1-26 1-32 1-48 .8-40 .2 0 1 22 1 21 1 22 1 17 1 13 1 16 1 16 1 5 1 6 1 7q.5 3 1 4t1-1 1-5 1-3 1 3 1 7M34 3877q.5 0 1-3t1-3 1 2 1 4 1 2 1 0 1-1 1-5l1-12 1-18 1-24 1-25 .6-13 .4 7 1 15 1 9 1 6 1 6 1 8 1 11 1 10 1 7 1 6q.5 4 1 7t1 3 1-1 1 0 1 2 1 1M119 3872q.5 -1 1 0t1 2 1 0 1-1 1 1 1 0 1-4l1-9 1-17 .9-18 .1 1 1 20 1 15 1 10q.5 2 1 1t1 0 1 3 1 2M150 3874q.5 2 1 3t1 1 1 0 1-1 1-6l1-16 1-28 1-37 1-42 .6-22 .4 9 1 23 1 16 1 12 1 12 1 13 1 16 1 14 1 11 1 10 1 10q.5 3 1 4t1 0 1-1 1 1 1 1 1 0M34 3874q.5 0 1-3t1-5 1-2 1 2 1 4 1 0l1-9 1-24 1-24 1-22 1-23 1 15 1 14 1 13 1 11 1 11 1 10 1 7 1 6 1 7 1-2q.5 0 1 0t1 1 1 2 1 3 1 4 1 0 1-5M119 3869q.5 2 1 3t1 1 1 0 1-1 1-4l1-8 1-16 1 5 1 12q.5 5 1 8t1 3 1-2 1-3 1 0 1 3 1 2 1 0M150 3864q.5 0 1 2t1 4 1-1l1-13 1-34 1-37 1-38 .8-32 .2 4 1 22 1 20 1 19 1 17 1 16 1 14 1 11 1 10 1 10 1 1q.5 1 1 1t1 1 1 2 1 3 1 4 1 0 1-5 1-6M34 3864q.5 0 1 0t1-3 1-5 1-3 1-2 1 0 1 1 1-4l1-11 1-15 1-18 1-27 .7-23 .3 2 1 12 1 14 1 16 1 18 1 9 1 11 1 7 1 6 1 6 1 5q.5 2 1 2t1 0 1 0 1 0 1 0M119 3868q.5 -1 1-3t1-3 1 0 1 2 1 1 1-3l1-6 1-11 .9-15 .1 1 1 15 1 10 1 7q.5 2 1 3t1 1 1 0 1 0 1-1M150 3855q.5 -2 1-3t1-1 1 0 1 0 1-3l1-12 1-25 1-32 1-44 .9-49 .1 2 1 21 1 21 1 24 1 26 1 16 1 17 1 13 1 11 1 11 1 8 1 4q.5 1 1 1t1 0 1 0 1 0 1-1M34 3864q.5 -1 1-3t1-4 1-2 1 1 1-2l1-11 1-21 1-21 1-26 .8-29 .2 1 1 11 1 13 1 15 1 19 1 8 1 12 1 9 1 0 1 0 1 5q.5 4 1 9t1 8 1 4 1 0 1-3 1-3 1 0 1 2M119 3857q.5 -1 1-3t1-2 1 2 1 4 1 2 1-4l1-11 1-15 .6-14 .4 5 1 9 1 10 1 12q.5 5 1 8t1 3 1-2 1-4 1-2M150 3855q.5 0 1 1t1 0 1-8l1-18 1-21 1-27 1-40 .2-7 .8 11 1 13 1 17 1 20 1 10 1 12 1 10 1 2 1 0 1 7q.5 4 1 10t1 9 1 4 1 0 1-3 1-3 1 0 1 2 1 2M34 3855q.5 0 1 0t1-1 1-1 1 1 1 1 1 0 1-1l1-7 1-21 1-23 1-28 1-37 1 14 1 16 1 14 1 11 1 7 1 8 1 12 1 13 1 11 1 5q.5 1 1 0t1 0 1 2 1 1 1 1 1 3M119 3847q.5 -1 1-1t1 2 1 4 1 4 1 2 1-1 1-3 1-5l1-10 1-20 .1 0 .9 8 1 10 1 9q.5 4 1 7t1 4 1 0 1-3M150 3851q.5 1 1 3t1 1 1-1 1 1 1 1 1-3l1-11 1-22 1-34 1-38 .7-28 .3 4 1 18 1 14 1 11 1 12 1 16 1 16 1 15 1 9 1 2 1 6q.5 3 1 5t1 3 1 2 1 3 1 2M34 3842q.5 1 1 3t1 3 1 1 1-2l1-7 1-10 1-24 1-23 1-24 1 4 1 4 1 9 1 15 1 14 1 8 1 6 1 7 1 4 1 1q.5 1 1 4t1 7 1 6 1 2 1 0 1 1 1 0 1-2 1-1M119 3844q.5 -3 1-5t1-2 1 2 1 2l1-2 1-12 .2-4 .8 4 1 8 1 12q.5 4 1 3t1-3 1-2 1 2 1 2 1 0 1 0 1 1M150 3848q.5 0 1 0t1 1 1 2 1-1 1-5l1-12 1-40 1-50 1-53 .8-43 .2 6 1 29 1 23 1 20 1 21 1 17 1 14 1 15 1 20 1 18 1 11 1 6q.5 3 1 4t1 0 1-2 1-1 1 1M34 3848q.5 -1 1-2t1-3 1-3 1-1 1 0 1-1l1-6 1-12 1-19 1-22 .9-22 .1 1 1 9 1 6 1 6 1 10 1 13 1 14 1 7 1 1 1 3 1 5q.5 1 1 2t1 3 1 5 1 5 1 1 1-3 1-4M119 3840q.5 0 1 0t1 2 1 3 1-1 1-3l1-7 1-22 1-26 1 21 1 11 1 7q.5 4 1 8t1 7 1 5 1 3 1 0 1-1M150 3840q.5 -1 1-1t1-1 1-5l1-10 1-18 1-25 1-29 .2-6 .8 9 1 10 1 7 1 7 1 11 1 14 1 14 1 8 1 1 1 3q.5 2 1 4t1 2 1 2 1 5 1 5 1 1 1-3 1-4 1-2M34 3830q.5 0 1 4t1 7 1 1 1-4 1-5 1-4l1-6 1-19 1-25 1-26 .8-24 .2 2 1 11 1 12 1 15 1 12 1 10 1 10 1 10 1 8 1 7 1 5q.5 2 1 3t1 3 1 3 1-2 1-2 1 3 1-1M119 3836q.5 3 1 5t1 1 1-1 1-1 1-4 1-4 1 0 1-1l1-10 1-23 .2-3 .8 12 1 16 1 13q.5 4 1 3t1-4 1-3 1 2M150 3841q.5 -1 1-3t1-4 1-2 1-3l1-13 1-21 1-25 1-28 .3-9 .7 6 1 12 1 15 1 12 1 9 1 11 1 10 1 8 1 8 1 4q.5 2 1 4t1 5 1 4 1-2 1-2 1 3 1-1 1-3M34 3834q.5 -1 1-4t1-4 1 0 1 4 1 5 1 2 1-1l1-6 1-16 1-22 1-27 1-30 1 11 1 12 1 12 1 14 1 9 1 8 1 12 1 4 1 11 1-1q.5 1 1 3t1 5 1 3 1 0 1-2 1-4M119 3827q.5 1 1 3t1 3 1 2 1-1l1-10 1-26 1-37 1 17 1 22 1 17q.5 6 1 8t1 2 1 1 1 3 1 3 1 2 1 1M150 3826q.5 2 1 5t1 5 1 2 1 0 1-1 1-7l1-16 1-28 1-33 1-38 .2-8 .8 10 1 16 1 19 1 12 1 13 1 16 1 8 1 13 1 3 1 6 1 10q.5 4 1 5t1 0 1-3 1-3 1-2M34 3823q.5 2 1 3t1 0 1-1 1 2 1 4 1 1 1-1 1-2l1-9 1-15 1-22 1-30 .9-27 .1 1 1 10 1 11 1 17 1 16 1 12 1 7 1 1 1 1 1 4 1 5q.5 3 1 6t1 4 1 1 1 0 1 2M119 3830q.5 0 1 1t1 0 1-1 1 0 1-4 1-8l1-9 1-10 .5-6 .5 9 1 14 1 7q.5 2 1 2t1 0 1 0 1 0 1-1 1-1M150 3824q.5 1 1 3t1 4 1 1 1-1 1-2l1-11 1-26 1-38 1-51 1-57 1 17 1 22 1 26 1 25 1 21 1 14 1 8 1 8 1 9 1 10 1 10q.5 4 1 5t1 1 1 0 1 2 1 3M34 3809q.5 0 1 2t1 6 1 7 1 1 1-6l1-9 1-14 1-17 1-23 .2-5 .8 9 1 9 1 9 1 6 1 7 1 11 1 1 1 1 1 3 1 2q.5 1 1 1t1-1 1-1 1 1 1 2 1 3 1 4 1 5 1 4M119 3824q.5 1 1-1t1-3 1 0 1 2 1 1 1-3 1-8l1-11 1-16 .5-8 .5 12 1 12 1 11 1 9q.5 3 1 5t1 3 1 0 1-1M150 3827q.5 2 1 1t1-2 1 0 1 2 1 1 1-3l1-9 1-25 1-34 1-44 1-49 1 22 1 14 1 14 1 16 1 14 1 13 1 10 1 10 1 12 1 12 1 9q.5 4 1 7t1 6 1 4 1 0M34 3810q.5 3 1 5t1 4 1 3 1 1 1-1 1-4 1-8l1-14 1-17 1-23 1-32 .8-29 .2 2 1 16 1 17 1 16 1 14 1 9 1 7 1 7 1 12 1 13 1 9q.5 3 1 3t1-1 1-1 1 0 1 0 1 1M119 3823q.5 0 1 0t1-3l1-11 1-23 1-28 1 24 1 15 1 9q.5 3 1 3t1 0 1 2 1 4 1 4 1 3 1 1 1 0 1 0M150 3823q.5 1 1 1t1-1 1-4 1-6 1-3 1 0 1-5l1-19 1-35 1-41 1-47 .6-29 .4 11 1 24 1 20 1 17 1 17 1 21 1 22 1 18 1 10 1 9 1 8q.5 3 1 5t1 3 1 2 1 0M34 3815q.5 1 1 1t1 1 1 1 1-1 1-1 1 0 1-4l1-13 1-17 1-21 1-30 .8-28 .2 3 1 13 1 14 1 14 1 13 1 6 1 11 1 12 1 9 1 7 1 8q.5 1 1-1t1-3 1-1 1 0 1 1 1 1M119 3814q.5 -1 1-1t1 1 1 2 1 2 1-3l1-14 1-25 .9-22 .1 2 1 24 1 19 1 12q.5 4 1 5t1 1 1 0 1 0 1 1 1 1M150 3819q.5 0 1-2t1-1 1 1 1-2 1-4 1-6l1-14 1-27 1-36 1-40 .1-4 .9 13 1 18 1 16 1 10 1 13 1 16 1 12 1 9 1 12 1 1 1 2q.5 1 1 2t1 1 1 0 1 0 1-1M34 3807q.5 0 1 1t1 1 1-4 1-4 1 0 1-5l1-14 1-20 1-26 1-29 .2-4 .8 13 1 16 1 8 1 11 1 15 1 9 1 5 1 3 1 4 1 6q.5 3 1 5t1 3 1 1 1 1 1 3 1 3 1 1 1 0M119 3814q.5 -1 1-4t1-3 1 0 1-1 1-6l1-14 1-18 .8-17 .2 3 1 22 1 19 1 13q.5 3 1 2t1 0 1 2 1 0 1-2 1-2M150 3803q.5 -3 1-3t1 2 1 3 1 1 1-3l1-12 1-22 1-25 1-32 .5-20 .5 4 1 15 1 18 1 13 1 8 1 7 1 8 1 9 1 9 1 9 1 6q.5 2 1 4t1 4 1 3 1 1 1 0 1 1M34 3801q.5 2 1 4t1 2 1-2 1-3 1 0 1 3 1-1l1-12 1-16 1-26 1-30 .9-27 .1 2 1 16 1 8 1 5 1 10 1 16 1 15 1 12 1 8 1 8 1 6q.5 2 1 3t1 1 1 0 1 2 1 2 1-1M119 3806q.5 -1 1-4t1-4 1 0 1 4 1 2l1-8 1-21 1-26 1 19 1 20 1 15q.5 5 1 5t1-1 1-2 1-2 1-2 1-3M150 3803q.5 -2 1-3t1 1 1 4 1 1 1-2 1-4l1-13 1-24 1-26 1-34 .5-21 .5 6 1 7 1 13 1 17 1 19 1 14 1 11 1 10 1 9 1 6 1 4q.5 2 1 4t1 4 1 2 1-1 1-1M34 3801q.5 -1 1-1t1 0 1-1 1 0 1-2 1-6 1-6 1-6l1-5 1-4 1-15 .8-14 .2 0 1 5 1 3 1 6 1 8 1 6 1 5 1 1 1 0 1 6q.5 3 1 7t1 5 1 0 1 0 1 2 1 1 1 0M119 3799q.5 0 1-1t1-3l1-7 1-18 .8-20 .2 3 1 15 1 13 1 10q.5 4 1 5t1 0 1-1 1 2 1 4 1 1 1-2 1 0 1 2M150 3797q.5 0 1 1t1-2 1-6 1-7l1-14 1-23 1-29 1-46 .8-42 .2 2 1 19 1 17 1 18 1 21 1 18 1 14 1 11 1 8 1 13 1 14 1 8q.5 2 1 1t1 0 1 2 1 1 1 0 1 2M34 3795q.5 0 1 0t1-1 1-3 1-4 1-3l1-5 1-12 1-20 1-26 1-30 .1-1 .9 12 1 13 1 15 1 10 1 9 1 10 1 9 1 7 1 7 1 7q.5 3 1 5t1 1 1-2 1-2 1-1 1-1 1-2 1 1M119 3792q.5 0 1 1t1 2 1 1 1-2 1-5 1-9l1-13 1-17 .2-5 .8 13 1 12 1 13q.5 6 1 10t1 3 1-4 1-4 1 0M150 3792q.5 -2 1-4t1-2 1 2 1 4 1 2 1-4l1-11 1-18 1-23 1-25 .2-5 .8 8 1 10 1 11 1 9 1 9 1 8 1 8 1 10 1 4 1 2q.5 1 1 2t1 1 1-1 1-2 1 1 1 5M34 3794q.5 -2 1-6t1-6 1 0 1 4 1-2l1-12 1-13 1-15 1-21 .1-2 .9 5 1 6 1 7 1 9 1 9 1 8 1 5 1 2 1 2q.5 2 1 5t1 5 1 2 1 0 1 1 1 3 1 2 1-1 1-1 1 1M119 3791q.5 1 1 1t1-1 1-1 1 0 1-6l1-17 1-26 .3-8 .7 13 1 21 1 16 1 1q.5 -2 1-6t1-6 1 0 1 5 1 3M150 3783q.5 2 1 4t1 2 1 0 1 1 1 1 1-4l1-16 1-24 1-28 1-32 .6-21 .4 6 1 17 1 14 1 10 1 11 1 14 1 14 1 10 1 7 1 6 1 10q.5 4 1 5t1 0 1-1 1 1 1 0M34 3787q.5 -1 1-3t1-3 1 0 1 2 1 3 1 1 1-3 1-6l1-11 1-15 1-19 1-25 .1-1 .9 10 1 9 1 5 1 8 1 12 1 9 1 1 1 4 1 3 1 3q.5 1 1 2t1 0 1-2 1 1 1 5 1 5M119 3786q.5 -1 1-1t1-1 1-4 1-4 1 0 1 1l1-2 1-8 .6-10 .4 3 1 8 1 6q.5 3 1 6t1 5 1-1 1-3 1 2M150 3781q.5 1 1 2t1 3 1 1 1-2 1 0 1 1 1-4l1-13 1-24 1-28 1-35 .3-11 .7 8 1 13 1 17 1 14 1 7 1 8 1 9 1 7 1 7 1 4q.5 2 1 3t1 4 1 6 1 4 1 1M34 3768q.5 0 1 3t1 6 1 1 1-7 1-9 1-9l1-12 1-20 1-23 1-28 .4-11 .6 10 1 13 1 11 1 9 1 11 1 15 1 18 1 15 1 8 1 6 1 3q.5 2 1 3t1 1 1-3 1-5 1-3 1-2 1 0M119 3780q.5 -1 1-3t1-4 1-5l1-7 1-14 .6-17 .4 5 1 17 1 18 1 10q.5 2 1-1t1-5 1-3 1-1 1 0 1-1 1-2M150 3780q.5 -2 1-7t1-9 1-5 1-5l1-15 1-29 1-37 1-48 .4-22 .6 10 1 19 1 17 1 18 1 22 1 25 1 21 1 14 1 11 1 8 1 8q.5 4 1 5t1-2 1-5 1-3 1-2 1 0 1 2M34 3764q.5 0 1 1t1 1 1-1 1-1 1 2 1 4 1 3 1 0l1-8 1-17 1-21 1-25 .8-26 .2 1 1 13 1 12 1 10 1 11 1 13 1 12 1 7 1 6 1 3 1 1q.5 1 1 3t1 4 1 3 1 0 1-4M118 3771q.5 -3 1-5t1-3 1 1 1 6 1 4 1-5l1-9 1-7 .1 0 .9 8 1 7 1 8q.5 2 1 2t1-1 1-2 1-2 1-2 1-1M150 3766q.5 -1 1-1t1 0 1-5l1-17 1-29 1-39 1-47 .2-10 .8 15 1 20 1 16 1 18 1 16 1 14 1 14 1 15 1 13 1 9 1 5q.5 1 1 0t1-3 1-2 1 2 1 3 1 0 1-4 1-5M34 3768q.5 1 1 2t1 1 1 0 1 0 1-1 1-3 1-2 1-3l1-10 1-14 1-15 1-24 .5-12 .5 5 1 7 1 6 1 8 1 11 1 15 1 4 1 0 1 5 1 9q.5 5 1 9t1 5 1-1 1-4 1-2 1 1M118 3761q.5 0 1 2t1 4 1 3 1 2 1 1 1-1 1-3l1-5 1-18 1-23 1 18 1 17 1 11q.5 4 1 5t1-1 1-3 1 0M150 3770q.5 0 1 1t1 0 1-3 1-2 1-1 1-7l1-18 1-24 1-37 1-41 .2-10 .8 11 1 13 1 16 1 18 1 21 1 11 1 5 1 10 1 14 1 13 1 9q.5 2 1 0t1-4 1-1 1 2 1 0M34 3761q.5 -1 1-2t1-1 1 0 1 1 1 1 1-3l1-9 1-16 1-23 .9-22 .1 0 1 11 1 13 1 10 1 5 1 2 1 5 1 11 1 10 1 5q.5 2 1 4t1 3 1 0 1-4 1-6 1-3 1 2 1 3 1 1M118 3765q.5 1 1 1t1 0 1 1 1 1 1-1 1-5l1-15 1-21 .8-15 .2 4 1 19 1 15 1 14q.5 5 1 6t1-1 1-5 1-6 1-3M150 3758q.5 0 1 1t1 2 1 3 1 2 1-3l1-13 1-29 1-33 1-39 1-48 .2-12 .8 16 1 16 1 20 1 24 1 23 1 18 1 15 1 14 1 12 1 4 1-1q.5 0 1 1t1 3 1 3 1 1 1 1M34 3748q.5 1 1 3t1 4 1 2 1-1 1-1 1-1l1-4 1-15 1-20 1-29 1-32 .2-8 .8 7 1 11 1 14 1 16 1 16 1 13 1 7 1 5 1 8 1 8q.5 3 1 3t1-1 1-1 1 2 1 5 1 4 1 0M118 3755q.5 -1 1 0t1 3 1 2 1-4 1-9l1-13 1-22 .6-18 .4 11 1 21 1 18 1 15q.5 5 1 6t1 0 1-2 1-4 1-6 1-5M150 3757q.5 0 1-1t1-1 1 1 1 2 1 1 1-6l1-21 1-37 1-52 1-59 .4-25 .6 14 1 28 1 28 1 24 1 17 1 15 1 17 1 17 1 12 1 6 1 6q.5 4 1 8t1 7 1 4 1 0 1-2M34 3753q.5 1 1 1t1-1 1-3 1-5 1-7l1-9 1-9 1-31 1-31 .3-8 .7 10 1 15 1 12 1 13 1 13 1 7 1 10 1 4 1-1 1 0q.5 2 1 6t1 8 1 6 1 2 1 1 1 1 1 0 1-1 1-1M118 3750q.5 -1 1-1t1 0 1 1 1-2l1-18 1-23 .5-18 .5 9 1 19 1 17 1 12q.5 4 1 5t1 2 1 0 1-2 1-1 1-1 1-2M150 3751q.5 -2 1-4t1-2 1 4 1 6 1-2 1-6l1-6 1-18 1-26 1-31 1-36 1 14 1 17 1 12 1 6 1 7 1 14 1 17 1 14 1 9 1 10q.5 4 1 6t1 2 1-2 1-2 1 1M34 3742q.5 2 1 4t1 1 1-2 1-2 1-4l1-9 1-17 1-18 1-18 .8-13 .2 3 1 17 1 11 1 6 1 8 1 11 1 10 1 6 1 4 1 1q.5 1 1 1t1 0 1-1 1-3 1-3 1 0 1 4 1 4 1 1M118 3751q.5 -2 1-4t1-4 1-2 1 0 1 1 1 3 1 2l1-5 1-22 .7-16 .3 1 1 17 1 18 1 7q.5 2 1 1t1-1 1 0 1-1M150 3744q.5 -1 1-1t1-1 1-4 1-10l1-18 1-24 1-26 1-30 .4-14 .6 12 1 14 1 16 1 18 1 17 1 13 1 9 1 7 1 6 1 6 1 3q.5 0 1-1t1-1 1 1 1 3 1 3 1 1 1-1M34 3743q.5 -2 1-1t1 1 1-1 1-2 1-1 1-2l1-8 1-21 1-27 1-25 1-22 .1-4 .9 10 1 9 1 12 1 14 1 14 1 15 1 13 1 10 1 9 1 2q.5 1 1 1t1-1 1-2 1 1 1 5 1 5 1 2M118 3738q.5 0 1 0t1-1 1 1 1 5 1 2 1-10l1-23 1-27 .4-11 .6 18 1 23 1 14 1 8q.5 3 1 4t1 1 1 1 1 1 1 1M150 3741q.5 -1 1-2t1-1 1 0 1-1 1-7l1-20 1-26 1-29 1-49 .6-35 .4 6 1 21 1 21 1 21 1 22 1 20 1 16 1 15 1 8 1 5 1 4q.5 2 1 3t1 3 1 5 1 5 1 2 1 0M34 3732q.5 2 1 4t1 2 1-1 1-3 1-5 1-9l1-16 1-19 1-18 1-18 .1-1 .9 14 1 17 1 12 1 9 1 10 1 7 1 2 1 0 1 3 1 5q.5 3 1 5t1 4 1 2 1-1 1-3 1-4 1-3 1-1M118 3743q.5 0 1-1t1-5l1-14 1-25 1-27 .3-8 .7 19 1 21 1 20 1 16q.5 4 1 2t1-4 1-2 1 2 1 3 1-1 1-4 1-2M150 3737q.5 -1 1-3t1-4 1-4 1-4 1-4 1-6l1-10 1-17 1-23 1-32 .5-19 .5 9 1 18 1 16 1 10 1 8 1 10 1 13 1 12 1 11 1 10 1 5q.5 1 1 0t1-3 1-3 1-1 1 1M34 3735q.5 -2 1-4t1-1 1 3 1-1 1-6 1-2 1 2 1-2l1-9 1-9 1-10 1-20 .1-2 .9 9 1 9 1 7 1 5 1 4 1 4 1 5 1 4 1 3q.5 2 1 5t1 5 1 2 1-1 1-1 1 1 1 2M118 3736q.5 1 1 2t1 0 1-1 1 0 1-2 1-7l1-12 1-13 .2-2 .8 11 1 14 1 5q.5 1 1 1t1 0 1 1 1 2 1 1 1 0M150 3736q.5 0 1-4t1-6 1-2 1-4l1-17 1-32 1-38 1-44 .5-28 .5 10 1 24 1 22 1 20 1 17 1 14 1 14 1 14 1 12 1 9 1 10q.5 4 1 7t1 3 1-1 1-1 1 1 1 2 1 0M34 3725q.5 0 1 2t1 3 1-1 1-5 1-4 1 1 1 4 1-2l1-13 1-20 1-26 1-31 .5-15 .5 6 1 12 1 12 1 12 1 11 1 13 1 14 1 10 1 5 1 3 1 5q.5 2 1 3t1 1 1-1 1 0 1 2M118 3733q.5 1 1 1t1 0 1-1 1-1 1 1 1 0 1-5l1-13 1-13 .7-16 .3 4 1 11 1 17 1 10q.5 2 1 1t1-1 1 1 1 1M150 3731q.5 -2 1-6t1-5 1 1 1 4 1-1l1-16 1-30 1-40 1-49 .7-37 .3 5 1 21 1 20 1 20 1 18 1 19 1 21 1 16 1 9 1 8 1 8q.5 4 1 6t1 2 1-1 1 0 1 2 1 0M34 3720q.5 -1 1-2t1-2 1 0 1 2 1 2 1 0 1-3 1-5l1-7 1-6 1-18 1-19 .1-2 .9 8 1 5 1 7 1 5 1 6 1 7 1 5 1 3 1 5q.5 3 1 5t1 4 1 2 1-2 1-4 1-2 1 1M118 3725q.5 -1 1-1t1-1 1 0 1 3 1 2 1-4l1-17 1-27 .9-21 .1 3 1 26 1 18 1 11q.5 4 1 5t1 1 1 0 1 0 1 1M150 3717q.5 1 1 2t1 1 1-1 1-2 1-1 1-3l1-13 1-37 1-43 1-50 .5-28 .5 10 1 23 1 20 1 20 1 20 1 17 1 14 1 15 1 14 1 12 1 10q.5 3 1 3t1-2 1-3 1 0 1 1M34 3718q.5 2 1 4t1 1 1-2 1-3 1 0 1 1 1-4l1-7 1-11 1-15 1-11 .5-13 .5 1 1 3 1 9 1 9 1 7 1 3 1 0 1 2 1 6 1 11q.5 6 1 10t1 4 1 0 1-2 1-4 1-2 1 1M118 3708q.5 -1 1 1t1 5 1 4 1 0 1-4 1-7l1-10 1-13 .3-6 .7 11 1 8 1 6q.5 3 1 6t1 5 1 3 1 1 1 0 1 1M150 3723q.5 -1 1-3t1-1 1 1 1-2 1-4l1-10 1-18 1-18 1-34 .5-18 .5 3 1 14 1 14 1 11 1 8 1 5 1 5 1 10 1 14 1 14 1 5q.5 2 1 3t1 0 1-3 1-2 1 1 1 1M34 3700q.5 1 1 0t1-2 1-1 1 1 1 2 1 0 1-4l1-7 1-11 1-18 .8-18 .2 0 1 9 1 11 1 11 1 7 1 4 1 3 1 5 1 5 1 4q.5 2 1 5t1 6 1 4 1 0 1-3 1-3 1-1 1 2M118 3715q.5 1 1 2t1 1 1 0 1-1l1-7 1-20 1-26 .2-5 .8 18 1 18 1 14 1 10q.5 2 1 1t1-1 1 0 1 0 1 0 1 0M150 3697q.5 0 1 1t1 2 1 2 1 3 1 2 1-6l1-23 1-41 1-48 1-53 .4-24 .6 17 1 25 1 21 1 19 1 21 1 19 1 18 1 18 1 17 1 15 1 8q.5 2 1 2t1-1 1-1 1 2 1 4M34 3712q.5 0 1 0t1 0 1-1 1-1 1 0 1-6l1-17 1-17 1-26 1-35 .5-17 .5 7 1 17 1 16 1 13 1 9 1 11 1 12 1 11 1 8 1 7 1 4q.5 1 1 0t1-3 1-3 1 0 1 3 1 4 1 3M118 3706q.5 -1 1-1t1 2 1 4 1 2 1-1 1-6l1-15 1-20 .1-2 .9 8 1 14 1 13q.5 6 1 8t1 2 1 0 1-1 1-3 1-4M150 3710q.5 -1 1-1t1 1 1 0 1-2 1 1 1 0 1-10l1-21 1-31 1-41 1-51 .3-14 .7 13 1 21 1 22 1 21 1 18 1 16 1 14 1 10 1 6 1 6 1 7q.5 4 1 8t1 6 1 3 1-1M34 3708q.5 0 1-1t1-1 1 0 1 0 1-1 1-6l1-15 1-24 1-32 1-34 .4-12 .6 10 1 23 1 14 1 5 1 4 1 12 1 18 1 16 1 7 1 4 1 5q.5 3 1 6t1 3 1-1 1-3 1-2 1 1 1 1M118 3705q.5 1 1 0t1-2 1-1 1 0 1-1 1-3 1-5l1-6 .8-5 .2 3 1 9 1 4q.5 1 1 1t1 1 1 2 1 2 1 2 1 1M150 3705q.5 0 1 0t1 0 1-1 1-9l1-25 1-43 1-51 1-53 .4-22 .6 20 1 27 1 15 1 15 1 22 1 27 1 24 1 16 1 10 1 12 1 13q.5 5 1 6t1 0 1-3 1-2 1 1 1 1 1-1M34 3691q.5 0 1 2t1 4 1 4 1 1 1-7l1-14 1-11 1-19 1-27 .4-10 .6 5 1 14 1 16 1 3 1 6 1 11 1 11 1 5 1 1 1 4q.5 2 1 4t1 3 1 3 1 2 1-2 1-2 1 2 1 3 1 0M118 3687q.5 -1 1 0t1 4 1 6 1 3 1-3 1-9l1-14 1-20 .4-7 .6 12 1 19 1 14 1 4q.5 0 1-1t1-2 1 1 1 5 1 4M150 3701q.5 1 1 1t1-2 1-2 1-2l1-11 1-31 1-37 1-40 .8-35 .2 5 1 15 1 17 1 21 1 22 1 14 1 11 1 12 1 13 1 11 1 9q.5 5 1 8t1 1 1-2 1 2 1 3 1 0 1-4M34 3688q.5 0 1 0t1 1 1 1 1-3 1-7l1-8 1-11 1-25 1-38 .6-20 .4 5 1 17 1 18 1 14 1 10 1 7 1 8 1 8 1 9 1 11 1 8q.5 2 1 2t1 0 1 1 1 1 1-1 1-2 1-2 1-2M118 3681q.5 3 1 6t1 5 1 2 1-3 1-8l1-11 1-15 .9-17 .1 2 1 22 1 13 1 10q.5 4 1 5t1 0 1-1 1 1 1 2M150 3691q.5 -1 1-3t1-2 1 1l1-2 1-18 1-32 1-32 .6-16 .4 7 1 17 1 14 1 10 1 7 1 8 1 8 1 10 1 12 1 9 1 2q.5 1 1 2t1 2 1 1 1-1 1-2 1-2 1-1 1 1M34 3687q.5 1 1 2t1 2 1 2 1 1 1-1 1-1 1-1 1-7l1-17 1-24 1-30 1-36 .2-7 .8 11 1 18 1 17 1 10 1 8 1 13 1 14 1 8 1 6 1 4q.5 1 1 1t1 0 1-1 1-2 1-3 1-3M118 3687q.5 -1 1-1t1 0 1-2 1-5l1-8 1-8 1-25 1 22 1 13 1 12q.5 5 1 8t1 2 1-2 1-1 1 0 1-1M150 3692q.5 1 1 1t1-1 1-1 1 1 1 0 1-9l1-24 1-40 1-50 1-57 .4-23 .6 17 1 29 1 21 1 18 1 23 1 22 1 17 1 14 1 11 1 8 1 6q.5 2 1 3t1 0 1-3 1-3 1 1M34 3675q.5 0 1 3t1 6 1 3 1-2 1-4l1-6 1-21 1-30 1-30 .9-25 .1 0 1 19 1 19 1 13 1 5 1 5 1 13 1 17 1 8 1 0 1 3q.5 3 1 7t1 5 1 0 1-2 1-3 1-5 1-4 1 0M118 3687q.5 1 1 2t1 0 1-2 1-2 1-3l1-7 1-8 .9-13 .1 1 1 13 1 7 1 9q.5 3 1 2t1-3 1-2 1 2 1 2M150 3689q.5 0 1-2t1-2 1 0 1-4 1-14l1-25 1-29 1-35 1-42 .4-21 .6 12 1 16 1 14 1 24 1 25 1 17 1 8 1 11 1 16 1 13 1 6q.5 2 1 2t1-2 1-5 1-4 1 1 1 4M34 3675q.5 0 1-1t1 0 1 3 1 4 1 1 1-5l1-11 1-19 1-22 1-19 .3-6 .7 8 1 9 1 7 1 9 1 10 1 10 1 9 1 8 1 5 1 2q.5 1 1 1t1-1 1-2 1 0 1 4 1 4 1 0 1-3M118 3679q.5 2 1 3t1 0 1-3 1-4 1-5l1-7 1-17 .7-15 .3 3 1 15 1 13 1 6q.5 1 1 0t1 0 1 3 1 3 1 1M150 3676q.5 2 1 4t1 2 1-1 1-2 1-3 1-5 1-7l1-15 1-30 1-39 1-43 .4-17 .6 14 1 22 1 22 1 19 1 16 1 13 1 11 1 9 1 7 1 9 1 12q.5 5 1 8t1 2 1-3 1-2M34 3669q.5 0 1 0t1 0 1 0 1-1 1-7l1-16 1-20 1-17 1-22 .3-11 .7 4 1 8 1 10 1 15 1 19 1 11 1 9 1 5 1 8 1 6q.5 1 1 0t1-2 1-2 1-1 1-1 1-1 1 1 1 2 1 1M117 3679q.5 0 1-2t1-4 1-2 1 1 1 0l1-4 1-9 .7-9 .3 2 1 7 1 8q.5 4 1 7t1 4 1 0 1-2 1-1 1 0 1 1M150 3669q.5 0 1 0t1-1 1-2 1-1 1-3l1-13 1-43 1-50 1-56 .5-25 .5 14 1 33 1 25 1 22 1 17 1 20 1 17 1 9 1 10 1 9 1 8q.5 3 1 4t1 1 1 1 1 2 1 1 1 1M34 3673q.5 2 1 0t1-2 1 0 1-2l1-6 1-13 1-27 1-30 1-28 .1-2 .9 14 1 12 1 11 1 12 1 11 1 12 1 13 1 8 1 0 1-2q.5 0 1 2t1 6 1 6 1 3 1 2 1 1 1-1 1-3 1-5M117 3672q.5 0 1-1t1 0 1 2 1 0 1-4 1-6 1-6l1-8 1-12 .5-10 .5 7 1 11 1 11 1 7q.5 0 1-3t1-7 1-5 1 2M150 3672q.5 0 1 0t1 0 1 0 1-3 1-8l1-14 1-30 1-43 1-53 .9-52 .1 3 1 26 1 27 1 27 1 22 1 13 1 10 1 15 1 20 1 16 1 12 1 10q.5 3 1 4t1 0 1-4 1-5 1-3M34 3652q.5 3 1 6t1 5 1 2 1-1 1-4l1-11 1-18 1-23 1-33 .8-32 .2-1 1 13 1 15 1 14 1 14 1 17 1 14 1 10 1 5 1 2 1 5q.5 3 1 6t1 5 1 3 1 1 1 0 1-1 1-2 1-1M117 3664q.5 1 1 2t1 2 1 1 1-2 1-6l1-11 .9-13 .1 0 1 8 1 7q.5 3 1 6t1 4 1 0 1-3 1-1 1 4 1 3 1 0M150 3665q.5 0 1-1t1-1 1 1 1 1l1-4 1-25 1-39 1-46 1-51 .2-11 .8 15 1 22 1 25 1 22 1 18 1 12 1 9 1 12 1 15 1 13 1 9q.5 3 1 4t1 1 1-1 1-2 1-1 1 1M34 3653q.5 1 1 3t1 4 1 2 1-4l1-12 1-19 1-23 1-27 .5-14 .5 4 1 8 1 11 1 18 1 17 1 6 1-1 1 3 1 9 1 8q.5 5 1 9t1 6 1 1 1 0 1 1 1 0 1 0 1-1 1-2 1-2M117 3663q.5 0 1-1t1-1 1 0 1-1 1-2 1-2 1-5l1-12 1-28 .4-13 .6 6 1 15 1 17 1 12q.5 3 1 3t1 0 1-1 1-3M150 3664q.5 1 1 0t1-2 1-2 1-2 1-4l1-11 1-29 1-36 1-39 1-46 .3-16 .7 15 1 14 1 18 1 23 1 23 1 23 1 21 1 11 1 15 1 10 1 7q.5 3 1 5t1 1 1-2 1-2 1-1M34 3659q.5 0 1-1t1-2 1-2 1-2 1-2 1-1 1-2l1-7 1-18 1-23 1-27 1-34 1 11 1 9 1 13 1 16 1 12 1 11 1 13 1 11 1 4 1-3q.5 -1 1-1t1 2 1 6 1 8 1 6 1 2M117 3651q.5 -2 1-4t1-2 1 1 1 2 1 2 1 3 1 3 1 0 1-8l1-20 1-28 .5-16 .5 8 1 16 1 19 1 18q.5 7 1 10t1 4M150 3655q.5 -1 1-3t1-3 1 0 1 1 1 0 1-1 1-5l1-12 1-25 1-37 1-43 .4-15 .6 10 1 19 1 17 1 15 1 17 1 15 1 9 1 2 1 2 1 7 1 12q.5 6 1 11t1 7 1 2 1-1M34 3641q.5 1 1 3t1 3 1 0 1-3 1-3 1-3l1-9 1-19 1-20 1-22 .2-5 .8 6 1 6 1 8 1 12 1 13 1 10 1 8 1 8 1 7 1 5q.5 3 1 5t1 2 1 0 1-3 1-5 1-1 1 3 1 1M117 3647q.5 0 1 1t1 2 1 1 1-2 1-2 1 1 1 1 1-4l1-14 1-19 .4-6 .6 11 1 16 1 8q.5 4 1 7t1 4 1 1 1-1M150 3647q.5 -1 1-3t1-1 1 2 1 0 1-9l1-21 1-29 1-40 1-50 .3-13 .7 13 1 23 1 22 1 20 1 17 1 17 1 15 1 12 1 13 1 7 1 7q.5 2 1 0t1-4 1-1 1 3 1 1 1-3M34 3642q.5 0 1-2t1-5 1-3 1 3 1 5 1-1l1-10 1-12 1-22 1-24 .4-8 .6 7 1 14 1 6 1 9 1 10 1 6 1 3 1 3 1 6 1 9q.5 5 1 8t1 1 1-1 1 1 1-2 1-1 1 2 1-2M117 3645q.5 -2 1-3t1 0 1 3 1 2 1-7l1-19 1-23 .6-13 .4 12 1 17 1 16 1 9q.5 3 1 4t1 3 1 3 1 0 1-1 1-1M150 3631q.5 1 1 4t1 6 1 3 1 1 1 1 1-5l1-15 1-20 1-25 1-38 .5-17 .5 8 1 16 1 13 1 9 1 9 1 12 1 15 1 17 1 2 1 8 1 8q.5 2 1 1t1 0 1 2 1-2 1-5M34 3634q.5 -2 1-2t1 2 1 4 1 1 1-4 1-4 1-2l1-4 1-11 1-20 1-28 1-28 1 12 1 9 1 9 1 11 1 14 1 12 1 8 1 9 1 8 1 5q.5 2 1 4t1 4 1 2 1-1 1-1 1 0M117 3643q.5 0 1 0t1 0 1 0 1-1 1-4l1-8 1-21 .7-14 .3 7 1 16 1 14 1 7q.5 2 1 2t1 1 1 1 1-2 1-3 1-1M150 3640q.5 2 1 1t1-4 1-5 1-1 1 2l1-2 1-14 1-23 1-26 .8-22 .2 2 1 9 1 8 1 11 1 14 1 11 1 8 1 9 1 8 1 6 1 4q.5 3 1 5t1 2 1 0 1 0 1 0 1-1M34 3631q.5 0 1 0t1 1 1 1 1-1 1-1 1 0 1-2l1-7 1-9 1-13 1-18 .5-10 .5 3 1 9 1 10 1 10 1 2 1-1 1 2 1 7 1 11 1 9q.5 2 1 1t1-3 1-3 1-1 1 1 1 2 1 0 1-3M117 3629q.5 0 1 2t1 4 1 2 1-1l1-7 1-17 1-26 .1-3 .9 12 1 12 1 12q.5 6 1 10t1 6 1 2 1 0 1 1 1 1 1 0M150 3633q.5 0 1-1t1-1 1 0 1 0 1-3l1-14 1-31 1-45 1-54 .7-41 .3 5 1 28 1 26 1 17 1 14 1 15 1 20 1 22 1 20 1 9 1 5 1 3q.5 1 1 1t1 1 1 2 1 0 1-3M35 3627q.5 -1 1 0t1 2 1 1 1-1 1 0 1 2 1-3l1-11 1-12 1-21 1-24 .2-5 .8 4 1 8 1 9 1 7 1 5 1 7 1 9 1 5 1 2 1 5q.5 2 1 3t1 0 1-2 1-1 1 1 1 3 1 4M117 3632q.5 0 1 0t1-1 1-2 1-1 1-3l1-10 1-20 .3-6 .7 12 1 14 1 10q.5 4 1 6t1 1 1-1 1 0 1 1 1 1 1-4M150 3630q.5 1 1 1t1-1 1 0 1 2 1 1 1-3l1-11 1-30 1-42 1-47 .9-47 .1 0 1 22 1 20 1 18 1 19 1 20 1 15 1 12 1 13 1 11 1 8 1 3q.5 1 1 2t1 2 1 3 1 3M35 3626q.5 1 1 1t1-2 1-1 1 2 1-2l1-10 1-15 1-15 1-18 .5-10 .5 5 1 11 1 10 1 5 1 7 1 10 1 1 1 3 1 7 1 5q.5 2 1 3t1 2 1 2 1 1 1 0 1 0 1 0 1-2 1-4M117 3627q.5 2 1 2t1-2 1-4 1-2 1 0l1-6 1-13 .3-3 .7 7 1 6 1 6q.5 3 1 4t1-1 1-3 1 1 1 4 1 3 1 0M150 3625q.5 -1 1-1t1 2 1 2 1-2 1-4l1-7 1-18 1-25 1-28 1-35 1 10 1 15 1 18 1 8 1 11 1 13 1 11 1 9 1 9 1 7q.5 3 1 5t1 3 1 1 1 0 1-2 1-5M35 3618q.5 0 1 1t1 1 1-2 1-6l1-12 1-15 1-17 1-22 1-27 1 12 1 11 1 10 1 10 1 10 1 14 1 8 1 1 1 7 1 11q.5 5 1 7t1 1 1-1 1 1 1 2 1 0 1-1 1 1 1 1M117 3616q.5 3 1 5t1 1 1-3 1-4 1-3 1-4l1-12 1-24 .8-22 .2 3 1 26 1 27 1 12q.5 5 1 6t1 0 1-1 1-2 1-1M150 3621q.5 -1 1-3t1-4 1-3 1 0 1 3 1 2l1-5 1-16 1-23 1-27 .7-21 .3 3 1 12 1 15 1 10 1 4 1 9 1 14 1 11 1 2 1 6 1 7q.5 3 1 5t1 1 1-1 1 1 1 1M35 3612q.5 -2 1-3t1 0 1 2 1 3 1 3 1-1 1-4l1-7 1-24 1-30 1-33 .7-22 .3 3 1 18 1 15 1 10 1 9 1 9 1 8 1 5 1 6 1 9 1 8q.5 3 1 4t1 2 1 2 1 2 1 2 1 2M117 3611q.5 -1 1-2t1 0 1 3 1 1l1-7 1-17 .5-9 .5 4 1 8 1 7q.5 4 1 8t1 5 1 3 1 3 1 0 1-1 1 1 1 0M150 3610q.5 1 1 2t1 3 1 3 1-1 1-1 1-2l1-17 1-29 1-35 1-36 .6-23 .4 7 1 20 1 13 1 12 1 13 1 11 1 8 1 9 1 12 1 10 1 7q.5 3 1 5t1 3 1 2 1 2 1 2M35 3610q.5 1 1 1t1-1 1-4 1-6 1-4 1 0 1-1l1-10 1-22 1-28 1-29 .4-10 .6 7 1 17 1 19 1 19 1 3 1 9 1 10 1 11 1 11 1 1q.5 1 1 4t1 4 1-2 1-3 1 2 1 4 1 2M117 3608q.5 0 1 1t1 2 1 1 1-1 1-4 1-5l1-6 1-10 .7-9 .3 5 1 13 1 4 1 6q.5 3 1 5t1 2 1-1 1-1 1 1M150 3610q.5 -1 1-4t1-6 1-4 1-1l1-4 1-20 1-32 1-37 .8-32 .2 0 1 17 1 19 1 22 1 21 1 6 1 11 1 12 1 12 1 12 1 2q.5 2 1 4t1 2 1-3 1-3 1 2 1 4 1 2M35 3600q.5 -1 1-2t1-1 1 1 1 3 1 2 1-1 1-5l1-13 1-20 1-17 1-18 1-22 1 17 1 12 1 8 1 3 1 8 1 14 1 15 1 9 1 2 1 1q.5 1 1 3t1 3 1 0 1-1 1 0 1 0M117 3597q.5 -2 1-2t1 1 1 2 1 3 1 4 1 0l1-13 1-21 1-27 1 23 1 19 1 11q.5 4 1 5t1 1 1-1 1-1 1-1M150 3597q.5 0 1 1t1 3 1 2 1-1 1-5l1-14 1-24 1-24 1-27 1-33 1 22 1 15 1 12 1 7 1 11 1 17 1 17 1 11 1 4 1 3q.5 2 1 5t1 4 1 0 1-2 1 0 1 1M35 3601q.5 -2 1-6t1-6 1-1 1 1 1 0 1-1l1-5 1-12 1-19 1-23 .5-13 .5 3 1 10 1 16 1 14 1 8 1 6 1 7 1 6 1 6 1 5q.5 1 1 1t1 0 1 1 1 2 1 1 1-1 1-4 1-3M117 3603q.5 -1 1-2t1 0 1 2 1 0 1-4l1-8 1-22 1-28 1 21 1 20 1 12q.5 2 1 0t1-4 1-2 1 2 1 5 1 5M150 3589q.5 -1 1-1t1 0 1 1 1 3 1 3 1-2l1-13 1-26 1-36 1-37 .6-18 .4 10 1 22 1 16 1 14 1 14 1 13 1 12 1 11 1 5 1 6 1 8q.5 4 1 6t1 3 1-1 1-5 1-3M35 3581q.5 0 1 2t1 5 1 5 1 3 1 1 1-6l1-14 1-28 1-30 1-31 .3-10 .7 9 1 12 1 11 1 13 1 15 1 20 1 9 1 10 1 5 1 3q.5 2 1 6t1 6 1 0 1-3 1-1 1 0 1-1 1-1M117 3589q.5 -3 1-5t1 0 1 4 1 0l1-9 1-28 .7-17 .3 8 1 24 1 16 1 14q.5 3 1 1t1-3 1 0 1 2 1-1 1-5M150 3590q.5 3 1 4t1 2 1 1 1-3l1-10 1-25 1-28 1-28 .5-14 .5 6 1 11 1 11 1 10 1 15 1 19 1 8 1 9 1 4 1 3q.5 2 1 6t1 6 1 0 1-3 1-1 1 0 1-1 1-1M35 3583q.5 -3 1-4t1-2 1-2 1-2 1 0 1 1 1-4l1-11 1-11 1-9 1-11 .3-5 .7 7 1 5 1 7 1 10 1 7 1 5 1 6 1 9 1 6 1 2q.5 1 1 3t1 3 1 0 1-3 1-3 1-1 1-1M117 3587q.5 1 1 2t1 2 1 1 1 0 1-1 1-4l1-11 1-18 .4-6 .6 10 1 9 1 8q.5 5 1 9t1 5 1 1 1-1 1-1M150 3577q.5 -1 1-2t1-2 1 0 1-1l1-10 1-27 1-31 1-32 .9-35 .1 1 1 22 1 14 1 17 1 19 1 16 1 12 1 14 1 15 1 11 1 6 1 6q.5 2 1 3t1 0 1-3 1-3 1-1 1-1M35 3586q.5 1 1 2t1 0 1-2 1-4 1-4 1 0 1-1l1-12 1-26 1-30 1-37 .4-14 .6 8 1 18 1 21 1 17 1 11 1 6 1 5 1 6 1 10 1 11 1 9q.5 3 1 5t1 2 1 0 1 0 1 1 1 1M117 3582q.5 0 1 0t1 0 1 0 1 1 1-1l1-10 1-19 .5-11 .5 7 1 19 1 5 1 4q.5 2 1 2t1 0 1-1 1-1 1 1M150 3587q.5 -1 1-2t1-4 1-4 1 1 1 4 1-3l1-18 1-25 1-32 1-32 .2-6 .8 13 1 21 1 17 1 10 1 7 1 5 1 6 1 11 1 11 1 9q.5 4 1 7t1 4 1 1 1 0 1 1 1 1M35 3576q.5 0 1-1t1-1 1 1 1 2 1 2 1 2 1-1l1-11 1-18 1-19 1-33 1-34 1 15 1 16 1 16 1 12 1 9 1 11 1 12 1 1 1 3 1 5q.5 2 1 3t1-1 1-5 1-3 1 2 1 6M117 3579q.5 -1 1-1t1 1 1 1 1 0 1 1 1-1l1-8 1-17 1-27 .1-3 .9 18 1 13 1 8q.5 4 1 9t1 7 1 1 1-3M150 3575q.5 0 1 1t1 2 1 2 1 0l1-9 1-29 1-35 1-40 1-55 1 18 1 22 1 21 1 21 1 17 1 13 1 15 1 15 1 4 1 5 1 5q.5 2 1 2t1-3 1-5 1-2 1 2 1 6M35 3573q.5 -2 1-2t1 2 1 4 1 2 1 0 1-2 1-9l1-18 1-25 1-32 1-34 .2-7 .8 15 1 18 1 13 1 9 1 8 1 11 1 12 1 12 1 9 1 8q.5 4 1 7t1 3 1-1 1 0 1 2 1 1 1 0M116 3577q.5 0 1 0t1-2 1-3 1 0 1 2 1-2l1-9 1-16 1-26 1 18 1 16 1 12q.5 5 1 7t1 3 1 1 1-1 1-3M150 3574q.5 2 1 4t1 2 1 0 1-1 1-6l1-17 1-30 1-40 1-44 .6-26 .4 7 1 24 1 18 1 14 1 13 1 14 1 17 1 15 1 12 1 11 1 11q.5 4 1 5t1 0 1-1 1 1 1 1 1 0M35 3570q.5 -2 1-3t1-1 1 1 1 3 1 2 1-2 1-6 1-5 1 0 1-3l1-12 1-22 1-28 1-33 .2-7 .8 11 1 16 1 13 1 12 1 13 1 5 1 7 1 8 1 9 1 10 1 11q.5 3 1 2t1-4 1-6M116 3566q.5 -1 1-1t1 1 1 3 1 3 1 2 1 1 1-2 1-7l1-12 1-22 .1-3 .9 10 1 16 1 14q.5 5 1 5t1-2 1-3 1 0M150 3564q.5 0 1 2t1 4 1 2 1-2 1-6 1-5 1 1 1 3l1-3 1-22 1-31 1-40 1-46 .2-7 .8 17 1 19 1 18 1 18 1 10 1 11 1 13 1 14 1 13 1 15 1 4q.5 1 1-1t1-5M35 3568q.5 -1 1-5t1-7 1-4 1-1 1 0 1-1l1-7 1-18 1-20 1-23 1-31 .1-4 .9 11 1 12 1 14 1 17 1 18 1 9 1 12 1 7 1 6 1 6q.5 2 1 3t1 1 1-1 1-1 1 0 1 0 1-1M116 3560q.5 2 1 5t1 4 1 0 1-3 1-6l1-12 1-17 .8-19 .2 4 1 16 1 18 1 12q.5 4 1 5t1 1 1 0 1-1 1-1 1 0M150 3555q.5 -2 1-3t1-1 1 1 1 0 1-8l1-17 1-20 1-24 1-32 .1-2 .9 11 1 13 1 13 1 17 1 18 1 9 1 11 1 7 1 6 1 5q.5 2 1 3t1 1 1-1 1-1 1 0 1 0 1-1M35 3560q.5 -2 1-3t1-1 1 1 1 1 1-1 1-3l1-5 1-9 1-19 1-22 .6-15 .4 3 1 12 1 15 1 5 1 8 1 6 1-1 1-2 1 5 1 10q.5 5 1 9t1 5 1 0 1-2 1-2 1-1 1 1 1 3M116 3563q.5 0 1-1t1-2 1-2 1-3 1-2 1 1 1-1l1-6 1-15 .1-1 .9 8 1 11 1 5q.5 1 1-1t1-2 1 3 1 6 1 3M150 3556q.5 0 1 1t1 1 1-1 1-1 1 0l1-5 1-32 1-45 1-53 1-57 .1-3 .9 29 1 21 1 24 1 21 1 13 1 10 1 17 1 21 1 19 1 13 1 7q.5 2 1 1t1-2 1-1 1 1 1 3M35 3556q.5 -1 1-2t1-1 1 2 1 1 1-1 1-2l1-9 1-17 1-19 1-23 .5-14 .5 3 1 10 1 12 1 10 1 7 1 4 1 5 1 10 1 9 1 9q.5 3 1 3t1-2 1-2 1 1 1 1 1 1 1 3 1 3M116 3554q.5 2 1 2t1-3 1-5 1-3 1-4l1-6 .9-9 .1 1 1 12 1 7 1 6q.5 3 1 4t1 0 1-3 1-3 1-1 1 2 1 4M150 3552q.5 1 1 3t1 1 1-1 1 0l1-6 1-22 1-28 1-35 1-45 .1-3 .9 15 1 19 1 17 1 13 1 9 1 11 1 14 1 15 1 12 1 7 1-1q.5 0 1 1t1 2 1 1 1 1 1 3 1 3M35 3545q.5 1 1 2t1 1 1-3l1-9 1-11 1-26 1-24 .7-19 .3 4 1 5 1 4 1 8 1 16 1 14 1 8 1 6 1 7 1 4 1 1q.5 1 1 3t1 6 1 6 1 2 1 1 1 2 1 0 1-3 1-2 1 1M116 3553q.5 2 1 1t1-3 1-6 1-6 1-6l1-10 1-16 .7-16 .3 7 1 22 1 12 1 11q.5 5 1 7t1 1 1-3 1-2 1 1 1 2M150 3549q.5 0 1 0t1 1 1 2 1-1 1-3l1-6 1-23 1-28 1-28 .7-16 .3 4 1 17 1 10 1 9 1 10 1 7 1 5 1 7 1 13 1 11 1 6q.5 2 1 4t1 3 1 0 1-3 1-2 1 1M35 3547q.5 -2 1-4t1-2 1 0 1-1 1-4l1-8 1-12 1-18 1-21 .3-6 .7 4 1 8 1 4 1 4 1 8 1 12 1 13 1 5 1 0 1 2q.5 2 1 3t1 1 1 2 1 6 1 6 1 0 1-4 1-4 1-2M116 3539q.5 -1 1-1t1 1 1 1 1-1l1-6 1-17 1-33 .1-3 .9 21 1 25 1 14 1 9q.5 2 1-1t1-7 1-6 1 0 1 5 1 5M150 3541q.5 -1 1-1t1 0 1 0 1 1 1-1l1-9 1-24 1-31 1-40 1-49 .1-4 .9 14 1 20 1 23 1 23 1 16 1 8 1 11 1 12 1 8 1 10 1 13q.5 5 1 7t1 1 1-4 1-4 1-1M35 3535q.5 3 1 6t1 2 1-3 1-5 1-3 1-3l1-10 1-17 1-18 1-21 .3-7 .7 4 1 9 1 12 1 10 1 7 1 9 1 7 1 7 1 6 1 4q.5 1 1 2t1 4 1 4 1-2 1-2 1 3 1-1 1-3M116 3531q.5 -1 1-1t1 2 1 5 1 5 1 1 1-3l1-8 1-29 1-32 .2-6 .8 23 1 28 1 19 1 7q.5 1 1 0t1 0 1 1 1-3M150 3542q.5 -1 1-3t1-4 1-1 1 1 1-3 1-10l1-17 1-23 1-31 1-34 .1-2 .9 17 1 15 1 13 1 13 1 13 1 12 1 10 1 8 1 6 1 8q.5 5 1 8t1 1 1-1 1 2 1-2 1-3M35 3530q.5 -2 1-3t1 0 1 4 1 5 1 2 1-2l1-7 1-16 1-21 1-25 .8-23 .2 0 1 12 1 11 1 10 1 14 1 7 1 8 1 11 1 4 1 9 1-1q.5 0 1 2t1 4 1 3 1 1 1-2 1-4 1-3M117 3535q.5 -2 1-5t1-2 1 3 1 3 1 2 1-1l1-10 1-20 .8-24 .2 1 1 13 1 14 1 12q.5 4 1 5t1 1 1 1 1 3M150 3527q.5 2 1 5t1 5 1 2 1 0 1 0 1-5l1-19 1-33 1-43 1-48 .6-31 .4 9 1 22 1 25 1 18 1 18 1 20 1 12 1 18 1 7 1 9 1 12q.5 5 1 7t1 2 1-2 1-4 1-3M35 3527q.5 1 1 0t1-2 1-3l1-6 1-16 1-19 1-17 .1-1 .9 5 1 11 1 7 1 2 1 4 1 4 1 6 1 10 1 10q.5 4 1 6t1 1 1-4 1-5 1-3 1 0 1 2 1 2 1 1 1 0 1 2 1 3M117 3533q.5 1 1 0t1-1 1 0 1-1 1-3l1-5 1-19 .7-14 .3 3 1 13 1 14 1 11q.5 4 1 4t1-2 1-4 1-2 1 0M150 3524q.5 1 1 3t1 4 1 1 1 0 1 0l1-10 1-21 1-32 1-44 1-49 .1-5 .9 14 1 19 1 23 1 22 1 19 1 12 1 5 1 6 1 8 1 8 1 9q.5 4 1 5t1 1 1 0 1 2 1 3M35 3512q.5 2 1 6t1 7 1 2 1-1 1 1 1 0 1-6l1-14 1-19 1-25 1-28 .2-7 .8 6 1 12 1 16 1 6 1 5 1 8 1 7 1 5 1 3 1 4q.5 2 1 5t1 6 1 4 1 3 1 5 1 5 1 1M117 3511q.5 3 1 7t1 5 1 0 1-4l1-7 1-12 1-21 .2-4 .8 11 1 13 1 15q.5 6 1 10t1 4 1-2 1-3 1 0 1 3M150 3527q.5 2 1 1t1-1 1 1 1 1 1-3l1-12 1-22 1-32 1-37 .8-37 .2 4 1 17 1 21 1 11 1 10 1 11 1 11 1 9 1 6 1 7 1 9q.5 4 1 7t1 5 1 4 1 5 1 5 1 1M35 3516q.5 2 1 4t1 3 1 1 1-3l1-11 1-18 1-18 1-17 .9-18 .1 1 1 8 1 7 1 9 1 12 1 10 1 8 1 5 1 1 1 2q.5 2 1 7t1 9 1 5 1-1 1-3 1-1 1 0 1 1 1 2 1 0M117 3525q.5 0 1-1t1-1 1 0 1-2l1-10 1-18 .9-20 .1 2 1 19 1 10 1 5q.5 1 1 1t1-1 1 1 1 5 1 5 1 3 1 1M150 3524q.5 1 1 1t1-1 1-4 1-7 1-9l1-14 1-26 1-36 1-43 .4-17 .6 12 1 21 1 20 1 17 1 13 1 10 1 10 1 15 1 15 1 11 1 5q.5 1 1 1t1 0 1 0 1 1 1 2 1 0M35 3516q.5 0 1 1t1 1 1-1 1-1 1 1 1-2 1-8l1-14 1-18 1-28 1-35 .3-11 .7 8 1 14 1 16 1 14 1 6 1 12 1 13 1 10 1 7 1 10 1-2q.5 0 1 0t1 0 1 0 1 1 1 1 1-1M117 3518q.5 1 1 0t1-2 1-1 1 1 1 1 1-2l1-7 1-15 .4-8 .6 4 1 9 1 11q.5 4 1 6t1 2 1 0 1 0 1 0 1 0M150 3520q.5 0 1-2t1-2 1 1 1-1 1-2 1 0l1-4 1-28 1-42 1-50 1-59 .2-12 .8 18 1 26 1 18 1 22 1 24 1 20 1 16 1 19 1 6 1 8 1 8q.5 3 1 5t1 2 1 0 1-1M35 3509q.5 1 1 1t1-4 1-6 1-5l1-8 1-16 1-18 1-21 1 10 1 13 1 11 1 4 1 7 1 11 1 6 1 1 1-1 1 2q.5 1 1 2t1 2 1 2 1 1 1 1 1 3 1 3 1 1 1 0 1 1M117 3512q.5 -1 1-1t1 0 1-2 1-2 1 0 1-5l1-14 1-18 .2-4 .8 10 1 14 1 11q.5 5 1 8t1 3 1-2 1 0 1 3 1 0M150 3504q.5 -3 1-3t1 1 1 2 1 1 1-4l1-14 1-28 1-35 1-44 .6-32 .4 7 1 20 1 24 1 18 1 12 1 11 1 12 1 13 1 12 1 11 1 9q.5 3 1 5t1 5 1 4 1 0 1-1 1 1M35 3507q.5 1 1 0t1-3 1-3 1 0 1 1l1-6 1-16 1-14 1-21 .7-16 .3 3 1 13 1 10 1 3 1 1 1 4 1 11 1 12 1 7 1 5q.5 2 1 4t1 3 1 0 1-2 1 0 1 3 1 2 1-1 1-1M117 3502q.5 1 1 3t1 1 1-6l1-11 1-12 .9-8 .1 1 1 19 1 8 1 4q.5 1 1 0t1 0 1 3 1 3 1 0 1-1 1-1 1-2M150 3504q.5 -2 1-3t1 1 1 4 1 1 1-4l1-8 1-30 1-39 1-44 1-54 1 16 1 15 1 19 1 23 1 24 1 19 1 15 1 15 1 12 1 8 1 5q.5 2 1 4t1 3 1 1 1-1 1 0M35 3501q.5 0 1 0t1-1 1 0 1-2 1-6 1-4 1-2l1-3 1-5 1-16 1-21 .8-22 .2 1 1 6 1 9 1 11 1 9 1 6 1 4 1 2 1 8 1 10q.5 4 1 6t1 2 1 1 1 2 1 0 1-1 1 2M117 3492q.5 0 1 2t1 3 1 1 1 0 1-1l1-8 1-20 .6-11 .4 5 1 12 1 12 1 8q.5 2 1 2t1 0 1 2 1 3 1 0 1-2M150 3498q.5 0 1 1t1-2 1-6 1-4 1 0 1 2l1-3 1-23 1-32 1-43 .7-34 .3 2 1 17 1 19 1 17 1 14 1 10 1 9 1 13 1 16 1 11 1 4q.5 2 1 5t1 4 1 1 1 0 1 2M35 3496q.5 0 1-1t1-3 1-4 1-2 1 2 1 4 1 1 1-5l1-9 1-14 1-17 .8-12 .2 2 1 6 1 6 1 8 1 6 1 6 1 5 1 6 1 8 1 2q.5 0 1 0t1 0 1 0 1-1 1-2 1 1 1 5M117 3496q.5 0 1-1t1-2 1 0 1 3 1 2 1-3 1-9l1-14 1-16 .2-2 .8 14 1 10 1 6q.5 3 1 6t1 5 1 1 1-3 1-3M150 3492q.5 -2 1-4t1-2 1 2 1 4 1 2 1-4l1-16 1-31 1-40 1-45 .5-26 .5 8 1 20 1 21 1 18 1 17 1 16 1 16 1 16 1 9 1 7 1 6q.5 3 1 4t1 0 1-2 1 1 1 5M35 3488q.5 -3 1-5t1 0 1 5 1 2 1-6l1-12 1-17 1-25 1-32 .4-13 .6 5 1 12 1 13 1 14 1 12 1 9 1 6 1 6 1 9 1 9q.5 3 1 5t1 2 1 1 1 3 1 2 1-1 1-1 1 1 1 0M117 3488q.5 0 1 1t1 2 1 2 1 0 1-1 1 0 1-3l1-11 1-17 .3-4 .7 8 1 13 1 10q.5 2 1-1t1-8 1-7 1 0 1 5M150 3483q.5 2 1 5t1 3 1-3l1-12 1-21 1-33 1-43 .9-41 .1 2 1 18 1 19 1 19 1 18 1 14 1 10 1 10 1 13 1 12 1 8q.5 3 1 4t1 2 1 3 1 2 1-1 1-1 1 1 1 0M35 3483q.5 -2 1-2t1 1 1 2 1 2 1-1l1-10 1-16 1-22 1-26 1-30 1 11 1 15 1 11 1 8 1 10 1 14 1 10 1 3 1 5 1 4q.5 2 1 3t1 1 1-2 1-3 1 1 1 6 1 5 1 1M117 3486q.5 1 1 2t1 0 1-1 1-2 1-7 1-9l1-10 .7-6 .3 4 1 15 1 9q.5 3 1 3t1-1 1-2 1 1 1 3 1-2 1-3M150 3481q.5 1 1 3t1 3 1 0 1-1 1 0 1-1l1-7 1-20 1-32 1-36 1-45 1 13 1 17 1 20 1 17 1 9 1 11 1 11 1 9 1 8 1 6 1 2q.5 2 1 5t1 6 1 4 1 1M35 3472q.5 2 1 5t1-1l1-16 1-27 1-25 1-27 1-30 1 19 1 19 1 15 1 11 1 8 1 7 1 9 1 12 1 15 1 12q.5 4 1 5t1 1 1-1 1-1 1 0 1-3 1-5 1-3 1-1 1 1 1 2M117 3477q.5 2 1 3t1 0 1-3 1-3 1 0 1 2 1-4l1-19 1-27 .4-10 .6 16 1 23 1 11 1 6q.5 1 1 0t1-1 1 0 1-1M150 3480q.5 -2 1-7t1-8 1-3 1 1 1-3l1-15 1-28 1-40 1-51 .5-26 .5 9 1 19 1 20 1 23 1 26 1 23 1 15 1 13 1 11 1 9 1 10q.5 2 1 1t1-3 1-4 1-2 1 1 1 2M35 3467q.5 1 1 1t1-1 1-3l1-5 1-8 1-12 1-14 .7-12 .3 3 1 8 1 9 1 7 1 5 1 5 1 6 1 4 1 5 1 6q.5 3 1 5t1 2 1-1 1-3 1-4 1-1 1 3 1 3 1 0 1-4 1-6M117 3480q.5 -1 1-5t1-7 1-4 1 1 1 6 1 4 1-5l1-8 1-8 .2-3 .8 8 1 7 1 9q.5 3 1 3t1-1 1-2 1-2 1-2M150 3466q.5 -1 1-1t1 2 1 4 1 3 1 2 1-2l1-10 1-20 1-26 1-34 .6-21 .4 5 1 15 1 12 1 13 1 15 1 13 1 10 1 8 1 4 1 2 1 4q.5 3 1 6t1 4 1 0 1-4 1-5M35 3471q.5 1 1 1t1 0 1 0 1-1 1-3 1-3 1-5l1-12 1-18 1-20 1-30 .5-13 .5 8 1 9 1 8 1 11 1 13 1 16 1 7 1 1 1 7 1 10 1 10q.5 4 1 5t1-2 1-5 1-1 1 2 1 0M118 3461q.5 0 1 2t1 4 1 3 1 2 1 1 1-3l1-11 1-12 .7-14 .3 3 1 11 1 14 1 10q.5 3 1 4t1 0 1-2 1-2M150 3470q.5 0 1 1t1 0 1-4 1-10l1-22 1-36 1-43 1-48 .3-18 .7 15 1 25 1 17 1 16 1 17 1 20 1 22 1 11 1 6 1 9 1 12q.5 6 1 9t1 3 1-2 1-4 1-1 1 2 1 0M35 3459q.5 -1 1-1t1 0 1 1 1 1l1-4 1-12 1-21 1-30 1-32 1 12 1 17 1 13 1 8 1 5 1 8 1 13 1 12 1 7 1 5q.5 3 1 5t1 1 1-4 1-6 1-3 1 2 1 3 1 1 1 0M118 3465q.5 1 1 1t1 0 1 1 1 1 1-3l1-8 1-21 .8-16 .2 3 1 16 1 12 1 9q.5 4 1 7t1 3 1-2 1-5 1-5M150 3458q.5 0 1 1t1 2 1 3 1 2 1-2 1-8l1-16 1-28 1-35 1-46 .9-53 .1 0 1 19 1 22 1 26 1 25 1 20 1 17 1 17 1 14 1 6 1 1 1 4q.5 3 1 6t1 4 1 1 1 0M35 3452q.5 2 1 4t1 2 1-1 1-2 1-5l1-11 1-21 1-24 1-33 .5-16 .5 8 1 10 1 10 1 14 1 15 1 16 1 12 1 7 1 4 1 7 1 7q.5 2 1 1t1-3 1-2 1 3 1 6 1 4 1 0 1-3M118 3456q.5 -1 1 0t1 3 1 2 1-3 1-3 1 1 1-2l1-11 1-22 .4-10 .6 9 1 19 1 15 1 9q.5 2 1 1t1-4 1-7 1-6M150 3458q.5 0 1-1t1-1 1 1 1 2 1 2 1 0l1-9 1-18 1-29 1-31 .7-23 .3 3 1 16 1 17 1 14 1 8 1 7 1 9 1 10 1 6 1 2 1 2q.5 2 1 6t1 8 1 5 1 0 1-3M35 3455q.5 0 1-1t1-3 1-4 1-2 1 4 1 6 1-3 1-10l1-13 1-20 1-27 1-30 .3-10 .7 10 1 13 1 14 1 10 1 4 1 6 1 12 1 16 1 12 1 7 1 8q.5 3 1 4t1 1 1-2 1-2 1 1M118 3450q.5 -1 1-1t1-1 1-4l1-7 1-30 .5-12 .5 14 1 17 1 12 1 9q.5 3 1 4t1 1 1 1 1 0 1-2 1-1 1-1 1-2M150 3451q.5 -2 1-4t1-2 1 2l1 2 1-27 1-29 1-29 .9-30 .1 2 1 16 1 17 1 17 1 10 1 13 1 7 1 2 1 3 1 10 1 12q.5 5 1 8t1 4 1 2 1 1 1 0 1-1 1-1 1 1M35 3447q.5 1 1 0t1-2 1-1 1-1 1-3 1-7l1-13 1-16 1-16 1-19 .9-23 .1 1 1 11 1 13 1 16 1 14 1 10 1 8 1 6 1 4 1 5 1 3q.5 0 1-1t1-1 1 1 1 4 1 4 1 1 1-1M118 3452q.5 -2 1-5t1-4 1-1 1 0 1 1 1 3 1 2l1-5 1-17 .4-7 .6 2 1 12 1 13q.5 4 1 4t1-1 1-1 1 0 1-1M150 3445q.5 -1 1-1t1-1 1-3 1-4 1-3 1-1l1-3 1-13 1-26 1-36 1-40 .1-4 .9 20 1 20 1 16 1 14 1 10 1 10 1 10 1 8 1 4 1 5 1 6q.5 4 1 7t1 4 1 1 1-1M35 3443q.5 0 1 0t1-1 1-2 1-1 1 0 1-2 1-8l1-14 1-12 1-9 1-26 .3-8 .7 4 1 9 1 11 1 11 1 12 1 11 1 9 1 7 1 1 1 1q.5 0 1 0t1 0 1 2 1 5 1 5 1 2 1 0 1-1M118 3438q.5 0 1 0t1-1 1 1 1 4 1-2l1-15 1-27 .6-16 .4 9 1 24 1 18 1 6q.5 2 1 2t1 0 1 1 1 1 1 1 1 2M150 3442q.5 -1 1-2t1-1 1 0 1-1 1-7l1-16 1-20 1-20 1-39 .6-25 .4 5 1 15 1 17 1 16 1 18 1 16 1 13 1 11 1 5 1 4 1 2q.5 1 1 2t1 3 1 5 1 5 1 2 1 0M36 3439q.5 0 1-1t1-3 1-4 1-4 1-5 1-9l1-15 1-15 1-16 1-19 .3-8 .7 11 1 13 1 13 1 11 1 6 1 4 1 6 1 9 1 9 1 8q.5 4 1 6t1 1 1-3 1-4 1-3 1-1 1 2 1 4M118 3444q.5 0 1-1t1-3 1-6 1-6 1-2 1-1l1-7 1-11 .8-10 .2 5 1 15 1 6 1 7q.5 3 1 6t1 4 1 0 1-3 1-2M150 3438q.5 -1 1-3t1-4 1-4 1-4 1-5l1-10 1-23 1-31 1-41 1-53 .2-12 .8 18 1 26 1 23 1 17 1 14 1 17 1 18 1 17 1 15 1 13 1 7q.5 2 1 1t1-3 1-3 1-1 1 1M36 3430q.5 1 1 3t1-1 1-6 1-2 1 1 1-4l1-12 1-13 1-16 1-26 1 11 1 12 1 10 1 7 1 6 1 6 1 7 1 5 1 5 1 6q.5 3 1 5t1 2 1-1 1 0 1 2 1 2 1 0 1-3M118 3437q.5 1 1 1t1-1 1-1 1-2l1-7 1-17 .9-16 .1 1 1 16 1 13 1 11q.5 3 1 2t1-3 1-2 1 1 1 2 1 1 1 0M150 3437q.5 0 1-4t1-7 1-2 1 3 1 2 1 0 1-3l1-11 1-31 1-36 1-43 .4-19 .6 11 1 18 1 16 1 15 1 16 1 14 1 13 1 14 1 14 1 8 1 5q.5 2 1 4t1 3 1 2 1 0M36 3433q.5 1 1-1t1-6 1-6 1-3l1-4 1-10 1-18 1-20 .3-6 .7 5 1 6 1 6 1 7 1 7 1 6 1 6 1 8 1 10 1 6q.5 2 1 1t1-2 1 0 1 1 1-1 1-1 1 1 1 2 1 0 1-3M118 3434q.5 1 1 1t1 0 1-1 1-1 1 0 1-4l1-14 1-18 .3-4 .7 11 1 10 1 5q.5 4 1 8t1 4 1-2 1-1 1 2 1 1M150 3431q.5 -2 1-6t1-5 1 1 1 4 1 0l1-10 1-20 1-26 1-32 .7-22 .3 4 1 13 1 13 1 12 1 11 1 13 1 15 1 11 1 5 1 3 1 6q.5 3 1 4t1 1 1-1 1 0 1 2 1 0M36 3416q.5 0 1 1t1 2 1 1 1-1 1-2 1-1 1 0l1-4 1-21 1-25 1-27 .6-22 .4 3 1 13 1 12 1 11 1 13 1 10 1 7 1 9 1 10 1 8 1 6q.5 2 1 1t1-3 1-2 1 1 1 1 1 1M118 3425q.5 -1 1-1t1-1 1 0 1 3 1 3 1-1 1-10l1-19 1-18 .5-9 .5 12 1 17 1 12 1 8q.5 3 1 3t1 0 1 0 1 1M150 3417q.5 1 1 2t1 1 1-1 1-3 1-9l1-17 1-28 1-46 1-52 .3-16 .7 16 1 19 1 20 1 19 1 17 1 18 1 15 1 12 1 12 1 12 1 9q.5 4 1 5t1-1 1-4 1-2 1 1 1 1M36 3421q.5 0 1 0t1-2 1-1 1 1 1-2 1-5l1-9 1-14 1-11 1-26 .1-2 .9 3 1 10 1 10 1 8 1 4 1 1 1 2 1 7 1 12q.5 6 1 10t1 5 1 1 1-1 1-3 1-2 1 1 1 2 1 2M118 3409q.5 -1 1 1t1 5 1 4 1 0 1-5l1-12 1-18 1-25 .2-6 .8 21 1 16 1 11 1 10q.5 4 1 5t1 2 1 1 1 0 1 1M150 3423q.5 -1 1-3t1-4l1-10 1-30 1-35 1-45 .9-45 .1 2 1 27 1 14 1 14 1 20 1 19 1 16 1 11 1 7 1 7 1 10 1 14q.5 6 1 9t1 3 1 0 1-2 1-4 1-2 1 1 1 2M36 3398q.5 -1 1-1t1 1 1 1 1-5l1-13 1-18 1-24 1-33 .2-7 .8 8 1 14 1 16 1 16 1 12 1 7 1 7 1 8 1 7 1 7q.5 3 1 6t1 6 1 4 1 0 1-3 1-3 1-1 1 2 1 4 1 0M118 3415q.5 1 1 2t1 1 1 0 1 0 1 0 1-1 1-3l1-8 1-19 .9-21 .1 2 1 20 1 15 1 11q.5 4 1 5t1 1 1 0 1 0M150 3398q.5 0 1 0t1 1 1 3 1 3 1 3 1 2 1-3l1-13 1-20 1-22 1-27 .7-24 .3 4 1 11 1 11 1 12 1 13 1 11 1 13 1 13 1 11 1 7 1 0q.5 1 1 2t1 2 1 3 1 3M36 3413q.5 -1 1-2t1-1 1 1 1-2l1-12 1-7 1-16 1-22 .8-18 .2 1 1 13 1 11 1 8 1 5 1 7 1 9 1 8 1 5 1 5q.5 2 1 3t1 0 1-4 1-4 1 0 1 3 1 4 1 3 1 0 1-3M119 3405q.5 0 1 2t1 4 1 3 1 0 1-4l1-10 1-25 1-30 .2-6 .8 19 1 26 1 20 1 10q.5 3 1 2t1-2 1-3 1-4M150 3410q.5 -1 1-1t1 1 1 0 1-1 1-1l1-9 1-29 1-34 1-39 1-45 1 21 1 17 1 18 1 19 1 18 1 15 1 14 1 11 1 7 1 3 1 2q.5 1 1 3t1 4 1 4 1 3 1 0M36 3405q.5 0 1 1t1 1 1 0 1 0 1-2 1-10l1-22 1-26 1-25 1-25 .3-8 .7 11 1 7 1 6 1 14 1 20 1 18 1 11 1 6 1 8 1 11q.5 4 1 6t1 1 1-2 1-1 1 1 1 1 1-1 1-2M119 3405q.5 -1 1-2t1-1 1-3l1-10 1-22 1-22 1 25 1 22 1 12q.5 3 1 2t1-3 1-2 1 1 1 2 1 2 1 2M150 3406q.5 0 1 0t1 0 1 0 1-1 1-4 1-10l1-20 1-25 1-28 1-42 .4-22 .6 5 1 12 1 19 1 24 1 23 1 15 1 10 1 12 1 14 1 10 1 5q.5 1 1 1t1 0 1 1 1 1 1-1M36 3400q.5 2 1 3t1 1 1-2 1-2 1 1 1 0 1-4 1-8l1-13 1-16 1-32 1-33 .3-7 .7 11 1 19 1 11 1 8 1 10 1 12 1 11 1 10 1 11 1 1q.5 1 1 4t1 5 1 3 1 0 1-3 1-3M119 3387q.5 1 1 4t1 6 1 4 1-1 1-4 1-3 1-2 1-3l1-5 1-16 .5-13 .5 6 1 12 1 11 1 9q.5 4 1 7t1 4M150 3402q.5 1 1 1t1-2 1-2 1 1 1-1l1-11 1-22 1-25 1-30 1-47 .1-3 .9 14 1 19 1 21 1 13 1 10 1 12 1 13 1 12 1 10 1 12 1 0q.5 0 1 1t1 3 1 3 1 0 1-3M36 3390q.5 1 1 1t1-2 1-2 1 3 1 6 1 0l1-15 1-21 1-21 1-25 1-32 1 12 1 11 1 11 1 12 1 13 1 15 1 13 1 6 1 6 1 8q.5 3 1 5t1 2 1-1 1-2 1-2 1 0 1 4M119 3387q.5 3 1 5t1 2 1-3 1-5 1 0 1 5 1 0l1-12 1-25 .3-8 .7 11 1 16 1 11 1 6q.5 2 1 3t1 2 1 1 1 0M150 3391q.5 -1 1-3t1-2 1 4 1 6 1-4l1-24 1-37 1-40 1-47 .6-32 .4 11 1 22 1 18 1 19 1 18 1 20 1 21 1 18 1 10 1 9 1 10q.5 4 1 6t1 2 1-1 1-2 1-2 1 0M36 3391q.5 1 1 2t1 1 1-1 1-1 1 1 1 1 1-2 1-8l1-14 1-20 1-21 1-22 .1-2 .9 12 1 7 1 7 1 11 1 12 1 8 1 6 1 4 1 2 1 2q.5 1 1 2t1 0 1-3 1-3 1 1 1 7M119 3386q.5 0 1 0t1-1 1-2 1 0 1-1l1-10 .9-10 .1 1 1 9 1 9 1 10q.5 3 1 3t1-1 1-1 1 0 1 0 1 0 1 0M150 3393q.5 1 1 1t1-1 1-1 1 1 1-1l1-11 1-20 1-29 1-34 .8-28 .2 1 1 19 1 18 1 10 1 9 1 14 1 14 1 10 1 6 1 5 1 2q.5 1 1 2t1 0 1-2 1-3 1-3 1 1M36 3385q.5 3 1 3t1-2 1-2 1 0 1-4 1-11l1-17 1-17 1-19 1-22 .5-14 .5 7 1 7 1 7 1 16 1 19 1 10 1 3 1 6 1 12 1 9 1 4q.5 1 1 1t1-2 1-5 1-4 1 0 1 3 1 5M119 3390q.5 0 1 0t1-1 1-2 1-2 1 0 1 1 1-4l1-13 1-24 .4-9 .6 11 1 16 1 8 1 8q.5 3 1 5t1 1 1-3 1-2M150 3389q.5 0 1-2t1-2 1 0 1-3 1-10l1-18 1-23 1-29 1-36 .8-38 .2 2 1 14 1 14 1 23 1 25 1 15 1 8 1 11 1 16 1 13 1 7q.5 3 1 4t1-1 1-5 1-4 1 0 1 3M36 3374q.5 1 1 3t1 4 1 2 1-1 1-5l1-13 1-23 1-25 1-28 1-36 1 14 1 17 1 17 1 16 1 15 1 13 1 11 1 7 1 5 1 3q.5 1 1 2t1 3 1 5 1 4 1 0 1-3 1-2 1 1M119 3384q.5 1 1-1t1-4 1-3 1-1 1 0 1-1 1-6l1-11 1-16 .3-6 .7 8 1 9 1 9q.5 5 1 9t1 5 1 0 1-2 1 0M150 3377q.5 2 1 4t1 2 1-1 1-2 1-5 1-11l1-18 1-26 1-37 1-45 .3-14 .7 13 1 22 1 21 1 19 1 18 1 14 1 11 1 9 1 7 1 6 1 6q.5 4 1 8t1 6 1 1 1-3 1-2M36 3370q.5 0 1 0t1 0 1-1 1-2 1 0 1 4 1 1l1-15 1-22 1-26 1-23 .7-15 .3 7 1 15 1 13 1 9 1 12 1 10 1 4 1 5 1 6 1 5 1 3q.5 2 1 3t1 2 1 2 1 1 1 1 1 3M119 3371q.5 -2 1-2t1 2 1 3 1 2 1 0 1-6l1-16 1-22 .6-13 .4 11 1 22 1 12 1 9q.5 3 1 3t1 0 1 1 1 0 1-1M150 3370q.5 0 1 0t1-1 1-2 1 0 1 4 1 0l1-18 1-30 1-35 1-36 .6-20 .4 11 1 20 1 18 1 12 1 17 1 13 1 8 1 7 1 9 1 7 1 5q.5 2 1 4t1 3 1 2 1 1 1 1M36 3372q.5 0 1 0t1 0 1 0 1 0 1-3 1-5 1-5l1-8 1-17 1-22 1-23 .4-11 .6 7 1 14 1 15 1 10 1 3 1 1 1 7 1 12 1 10 1 7q.5 3 1 6t1 4 1 0 1-4 1-5 1-2 1 1M119 3372q.5 1 1 2t1 0 1-4 1-6 1-5l1-5 1-15 1-26 .1-1 .9 16 1 18 1 12q.5 3 1 1t1-6 1-5 1 2 1 6 1 5M150 3373q.5 0 1 0t1 0 1-1 1-6l1-14 1-17 1-21 1-28 .6-19 .4 3 1 14 1 13 1 13 1 15 1 11 1 2 1 1 1 5 1 12 1 9q.5 4 1 6t1 3 1 1 1-1 1-4 1-5 1-2M36 3365q.5 2 1 1t1-2 1-1 1 1 1 2 1 2 1-1 1-8l1-16 1-21 1-26 1-30 .6-17 .4 8 1 18 1 14 1 9 1 6 1 10 1 13 1 13 1 9 1 7 1 6q.5 2 1 2t1-1 1-1 1 1 1 1M119 3368q.5 1 1 1t1 0 1-1 1-3 1-3 1-5l1-13 1-22 .9-25 .1 3 1 23 1 15 1 13q.5 6 1 11t1 5 1 0 1-1 1-5M150 3366q.5 0 1-1t1-1 1 1 1 2 1-4l1-19 1-38 1-45 1-51 .6-31 .4 10 1 24 1 26 1 24 1 19 1 14 1 10 1 13 1 16 1 14 1 10q.5 4 1 6t1 2 1-1 1-2 1-1 1 1M36 3361q.5 2 1 3t1 1 1-2 1-3 1-2 1-2 1-3 1-5 1-6l1-6 1-8 1-23 1-32 1 7 1 12 1 12 1 14 1 13 1 4 1 9 1 6 1 4 1 5q.5 2 1 3t1 0 1-2 1-1 1 1M119 3361q.5 0 1 0t1 0 1-3 1-8l1-10 1-15 .2-5 .8 6 1 4 1 7q.5 4 1 8t1 5 1 1 1 0 1-1 1-3 1-1 1 5M150 3364q.5 1 1 1t1-2 1-3 1-4l1-13 1-28 1-37 1-40 .9-36 .1 0 1 28 1 16 1 9 1 13 1 18 1 17 1 19 1 16 1 7 1 10 1 6q.5 2 1 2t1 0 1 0 1-1 1-2 1-1M36 3357q.5 -1 1-2t1-2 1-2 1-1 1 0 1 0 1-3l1-9 1-15 1-20 1-29 .6-17 .4 3 1 11 1 13 1 11 1 10 1 12 1 11 1 4 1-2 1-2q.5 1 1 4t1 8 1 9 1 6 1 2 1-1 1 0M120 3346q.5 1 1 2t1 2 1 1l1-2 1-17 1-27 .2-5 .8 13 1 12 1 7q.5 3 1 5t1 4 1 6 1 7 1 4 1 1 1-1M150 3355q.5 -1 1-2t1-2 1-1 1 0 1-1l1-7 1-22 1-30 1-39 1-50 .1-6 .9 12 1 19 1 21 1 18 1 16 1 18 1 16 1 8 1 2 1 1 1 6q.5 4 1 9t1 9 1 6 1 2 1-1M36 3349q.5 1 1-1t1-4 1-1 1 3 1 2 1-1 1-1 1 0 1-4l1-15 1-19 1-19 1-22 .7-18 .3 3 1 14 1 14 1 13 1 11 1 12 1 7 1 9 1 3 1 0 1 6q.5 3 1 6t1 2 1-3 1-2M120 3354q.5 -1 1-3t1-3 1 0 1 2 1 0 1-4l1-10 1-12 1-20 .2-4 .8 13 1 18 1 14q.5 5 1 7t1 1 1-2 1-2M150 3348q.5 -1 1-3t1-2 1 2 1 2 1-1 1-1 1-4l1-14 1-28 1-32 1-33 .6-19 .4 8 1 19 1 17 1 16 1 15 1 13 1 14 1 9 1 10 1 3 1 1q.5 1 1 3t1 4 1 2 1-2M36 3333q.5 -3 1-5l1-3 1-6 1-15 1-19 .5-8 .5 5 1 6 1 7 1 10 1 11 1 3 1 6 1 7 1 3 1 0q.5 0 1 1t1 3 1 5 1 4 1-1 1-1 1 1 1-2 1-1 1 2 1-2 1-4 1 1M120 3345q.5 2 1 3t1-1 1-4 1 0 1 3 1-2 1-8l1-11 .8-12 .2 2 1 14 1 12q.5 4 1 5t1 2 1 0 1-1 1 1 1 1M150 3331q.5 1 1 4t1 6 1 4 1 1 1-1l1-10 1-19 1-22 1-25 .8-30 .2 1 1 14 1 15 1 11 1 7 1 7 1 11 1 13 1 15 1 0 1 6q.5 3 1 5t1 0 1-1 1 2 1-2 1-4M36 3334q.5 2 1 4t1 1 1-3 1-4 1-3l1-2 1-6 1-12 1-19 .7-14 .3 2 1 7 1 5 1 4 1 7 1 10 1 9 1 4 1 6 1 6q.5 2 1 3t1 2 1 2 1 1 1 0 1 0 1 0 1-1 1-3M120 3343q.5 0 1 0t1 0 1 1 1 0 1 0 1-1l1-7 1-21 1-30 .3-9 .7 17 1 23 1 13 1 8q.5 2 1 2t1 0 1 2 1 3M150 3340q.5 2 1 1t1-4 1-5 1-1 1 2l1-3 1-18 1-28 1-33 .9-31 .1 1 1 13 1 11 1 14 1 17 1 14 1 10 1 11 1 11 1 7 1 6q.5 3 1 6t1 3 1 0 1 0 1 0 1-1M36 3332q.5 1 1 1t1-1 1-1 1 1 1 1 1 0 1-2l1-8 1-16 1-21 1-21 .4-9 .6 7 1 13 1 4 1 3 1 5 1 10 1 13 1 12 1 3 1 1q.5 0 1 0t1 0 1 1 1 2 1 1 1-2 1-3M120 3338q.5 0 1 0t1 0 1 0 1-2 1-5 1-7l1-12 1-13 .7-12 .3 7 1 18 1 12 1 11q.5 4 1 5t1 0 1-3 1-4 1-2M150 3334q.5 0 1-1t1-1 1 0 1-4l1-17 1-31 1-42 1-54 .7-43 .3 5 1 26 1 26 1 25 1 16 1 13 1 14 1 18 1 20 1 18 1 6 1 3q.5 0 1-1t1-2 1 0 1 2 1 1 1-2M36 3327q.5 1 1 2t1 1 1 0 1 1 1 2 1 0 1-4l1-8 1-20 1-26 1-28 .7-21 .3 2 1 13 1 11 1 9 1 11 1 12 1 9 1 6 1 7 1 6 1 4q.5 1 1 1t1 0 1 1 1 3 1 4 1 3M120 3328q.5 -1 1 0t1 3 1 2 1-2 1-6l1-11 1-18 .2-4 .8 13 1 10 1 9q.5 4 1 6t1 3 1 1 1-4 1-6 1-3 1-1M150 3330q.5 1 1 1t1-1 1 0 1 0l1-10 1-30 1-39 1-53 1-63 .1-3 .9 21 1 24 1 22 1 21 1 17 1 19 1 19 1 14 1 10 1 11 1 8q.5 3 1 3t1-1 1-1 1 1 1 2 1 3M36 3330q.5 0 1-2t1-2 1 1 1-1 1-8l1-13 1-15 1-18 .9-18 .1-1 1 13 1 10 1 6 1 7 1 11 1 1 1 5 1 7 1 6q.5 2 1 4t1 3 1 2 1 1 1 0 1 0 1 0 1-2 1-4 1-3M120 3322q.5 -2 1 0t1 4 1 1 1-1 1 0 1-2 1-6l1-13 1-27 .8-27 .2 5 1 25 1 25 1 17q.5 5 1 4t1-2 1 0 1 2M150 3325q.5 -1 1 0t1 2 1 1 1-2 1-5l1-8 1-22 1-29 1-34 1-39 1 16 1 17 1 20 1 10 1 12 1 15 1 13 1 10 1 10 1 8q.5 4 1 6t1 3 1 1 1 0 1-2 1-5M36 3322q.5 1 1 0t1-3 1-4 1-3 1-2l1-6 1-9 1-16 1-22 .7-17 .3 2 1 9 1 9 1 8 1 13 1 8 1 1 1 6 1 11 1 9q.5 2 1 2t1 1 1 2 1 2 1 0 1-1 1 1 1 1 1 0M120 3318q.5 -2 1-3t1-1 1-1 1-7l1-17 1-26 .7-15 .3 9 1 33 1 17 1 14q.5 4 1 4t1 0 1-2 1-2 1 1 1 0 1-3M150 3322q.5 -1 1-3t1-4 1-4 1-5l1-13 1-25 1-35 1-46 .5-26 .5 8 1 19 1 18 1 17 1 22 1 15 1 8 1 12 1 17 1 13 1 3q.5 2 1 4t1 4 1 3 1 0 1-1 1 1 1 1M36 3309q.5 -1 1 0t1 2 1 3 1 1l1-9 1-12 1-13 1-24 .8-21 .2 1 1 7 1 10 1 12 1 10 1 5 1 3 1 4 1 4 1 0q.5 0 1 2t1 4 1 3 1 1 1 0 1 1 1 2 1 2 1 2 1 2M121 3318q.5 1 1 1t1-2 1-4 1-5 1-8l1-15 1-23 .5-14 .5 14 1 27 1 14 1 12q.5 4 1 5t1 0 1-2 1-2 1-2M150 3310q.5 1 1 2t1 3 1 3 1-1 1-2 1-4l1-16 1-24 1-28 1-28 .1-3 .9 14 1 13 1 9 1 7 1 8 1 7 1 4 1 5 1 9 1 8q.5 3 1 4t1 2 1 2 1 2 1 2 1 2M36 3312q.5 0 1-1t1-4 1-6 1-4 1-1l1-4 1-16 1-27 1-30 .8-26 .2 2 1 13 1 16 1 20 1 18 1 4 1 8 1 10 1 10 1 11 1 1q.5 1 1 3t1 2 1-3 1-3 1 2 1 4 1 2 1-2M121 3314q.5 -2 1-5t1-3 1 2 1 2 1-5l1-17 1-34 .5-14 .5 13 1 27 1 20 1 8q.5 2 1 2t1 1 1 1 1-2 1-4M150 3311q.5 -1 1-4t1-6 1-4 1-1l1-4 1-18 1-29 1-33 .7-25 .3 2 1 14 1 17 1 20 1 19 1 5 1 9 1 10 1 11 1 11 1 1q.5 1 1 3t1 2 1-3 1-3 1 2 1 4 1 2M36 3299q.5 -1 1-1t1 1 1 3 1 2 1-3 1-11l1-19 1-24 1-21 1-21 .1-2 .9 17 1 18 1 11 1 7 1 2 1 7 1 13 1 14 1 7 1 1q.5 0 1 1t1 2 1 1 1-1 1-1 1 0 1 0 1 0M121 3302q.5 2 1 4t1 3 1-1 1-1 1 0 1-7l1-17 1-30 .5-17 .5 12 1 23 1 17 1 11q.5 3 1 3t1 0 1 1 1 2 1-1M150 3298q.5 0 1 1t1 3 1 2 1-1 1-4 1-9l1-18 1-21 1-25 1-31 .7-23 .3 8 1 17 1 13 1 8 1 13 1 18 1 19 1 12 1 6 1 4 1 7q.5 3 1 4t1 1 1 0 1 0 1 0M36 3295q.5 -3 1-5t1-2 1 1 1 0 1-3l1-8 1-21 1-28 1-34 .5-21 .5 4 1 16 1 21 1 19 1 13 1 10 1 11 1 9 1 10 1 7 1 1q.5 1 1 2t1 2 1 2 1 2 1-1 1-5 1-3 1 1M121 3304q.5 -1 1-2t1 0 1 0 1-6l1-14 1-23 .7-23 .3 6 1 15 1 14 1 11q.5 5 1 8t1 6 1 5 1 2 1-1 1-1 1 1M150 3289q.5 -1 1-1t1 1 1 1 1 1 1-2l1-12 1-23 1-31 1-38 .2-8 .8 11 1 21 1 19 1 13 1 10 1 11 1 10 1 10 1 7 1 3q.5 1 1 3t1 4 1 3 1 1 1-1 1-4 1-3M36 3284q.5 2 1 5t1 4 1 1 1-3l1-12 1-16 1-29 1-29 .3-7 .7 8 1 11 1 9 1 9 1 9 1 13 1 17 1 6 1 8 1 2q.5 1 1 2t1 3 1 3 1-1 1-3 1-1 1 0 1-1 1-1 1 2M121 3295q.5 2 1 2t1-2 1-3l1-3 1-11 .6-6 .4 5 1 4 1 5q.5 3 1 6t1 4 1-1 1-5 1-4 1 2 1 6 1 3 1-2M150 3290q.5 3 1 4t1 2 1 2 1-2l1-10 1-26 1-29 1-31 .7-21 .3 4 1 13 1 11 1 13 1 16 1 20 1 8 1 11 1 5 1 4 1 7q.5 4 1 6t1 0 1-3 1-1 1 0 1-1 1-1M36 3279q.5 -2 1-3t1-2 1-1 1 0 1-2l1-9 1-18 1-18 1-15 .6-12 .4 8 1 13 1 6 1 9 1 12 1 9 1 6 1 8 1 10 1 6q.5 2 1 3t1 2 1 2 1 0 1-2 1-2 1-2 1-2 1-2M121 3293q.5 -1 1-1t1 0 1-1 1-1 1 1 1-2 1-7l1-9 1-15 .4-8 .6 10 1 13 1 10 1 11q.5 2 1-1t1-4 1-1 1 1M150 3278q.5 -1 1-2t1-2 1-1 1 1 1-1l1-10 1-23 1-26 1-35 1-50 .1-4 .9 16 1 20 1 22 1 18 1 15 1 17 1 18 1 14 1 9 1 9 1 8q.5 3 1 2t1-2 1-2 1-2 1-2M36 3290q.5 0 1-1t1-2 1-4 1-4 1 0 1 0l1-9 1-19 1-21 1-25 .1-3 .9 6 1 13 1 15 1 12 1 7 1 2 1 1 1 3 1 7q.5 4 1 8t1 6 1 3 1 1 1 0 1 1 1 2 1 1 1-2M121 3284q.5 2 1 3t1 1 1-1 1 0 1 1 1-5 1-10l1-10 .9-12 .1-1 1 10 1 9 1 7q.5 3 1 6t1 4 1 1 1-2 1-4M150 3288q.5 -1 1-2t1-4 1-4 1 1 1 5 1-1l1-15 1-34 1-45 1-50 1-52 1 29 1 28 1 21 1 17 1 14 1 15 1 18 1 19 1 15 1 12 1 9q.5 3 1 4t1 1 1 1 1 0M0 3280q.5 0 1 1t1 2 1 0 1-2 1-1 1 0 1 0 1 1 1 2 1 1 1 0 1 0 1-1 1-2 1-4 1-4 1 2 1 6 1 2 1-3 1-2 1 2 1 3 1 0 1 0 1 1 1 0 1 0 1 0 1-2 1-3 1-1 1 0 1 0 1-1 1-1 1 0 1 1 1 2 1 2 1 2 1-1 1-7l1-10 1-10 1-21 1-21 .1-2 .9 8 1 10 1 11 1 7 1 4 1 7 1 9 1-2 1 0q.5 1 1 2t1 1 1-2 1-4 1-2 1 2 1 6 1 8 1 6 1 2 1 0 1 0 1 0 1 0 1-2 1-3 1 0 1 2 1-1 1-3 1 0 1 2 1-1 1-4 1-2 1 2 1 4 1 4 1 2 1-1 1-1 1 0 1 0 1 0 1 0 1 1 1 0 1-2 1-2 1-2 1 1 1 4 1 2 1 0 1 0 1 0 1 0 1-1 1-5 1-5 1 2 1 6 1 2 1 0 1 1 1-1 1-1 1 1 1 2 1-1 1-3 1-1 1 0 1 0 1 1 1 2 1 1 1 0 1-1 1-5l1-13 1-21 .3-6 .7 6 1 15 1 17q.5 6 1 7t1-2 1-3 1 2 1 3 1 0 1 0 1 1 1 0 1 0 1 0 1-2 1-3 1-1 1 0 1 0 1-1 1-1 1 0 1 1 1 2 1 2 1 2 1 0 1-9l1-22 1-31 1-50 1-55 .5-26 .5 13 1 25 1 26 1 21 1 17 1 19 1 19 1 8 1 9 1 10 1 8q.5 2 1 1t1-3 1-2 1 2 1 6 1 7 1 5 1 3 1 1 1 0 1 0 1 0 1-2 1-4 1 0 1 3 1-2 1-4 1 0 1 2 1 0 1-3 1-3 1 1 1 4 1 4 1 2 1 0 1 0 1 0 1 0 1 0 1 0 1 0 1-1 1-1 1-1 1-2 1 0 1 3 1 2 1 0 1 0 1 0 1 0 1-1 1-4 1-4 1 2 1 5 1 1 1 0 1 1 1-1M0 3271q.5 0 1 2t1 4 1 2 1 0 1-2 1-3 1 0 1 2 1 0 1-1 1 0 1-1 1-1 1 0 1 0 1 1 1 2 1 1 1-1 1-3 1 0 1 4 1 2 1 0 1-1 1 0 1 1 1-1 1-2 1-1 1 1 1 0 1-1 1 1 1-1 1-2 1 2 1 3 1 1 1 0 1-1 1-3l1-7 1-14 1-18 1-19 .8-12 .2 3 1 12 1 7 1 4 1 4 1 5 1 9 1 9 1 5 1 6q.5 3 1 5t1 2 1 0 1 0 1 1 1 1 1 0 1 0 1 0 1-1 1-2 1-3 1-5 1-5 1-1 1 4 1 4 1-1 1-4 1-1 1 5 1 7 1 3 1-2 1-3 1-2 1-1 1 1 1 2 1 2 1 2 1 2 1-1 1-3 1-1 1 0 1 0 1 0 1 1 1 1 1-2 1-3 1-1 1 0 1 0 1 0 1 1 1 2 1 1 1 0 1 0 1 0 1 0 1 0 1 0 1-1 1-1 1 1 1 3 1 2 1 0 1-2 1-3 1 0 1 2 1 0 1-1 1 1 1 0 1-2 1-2 1-7l1-15 1-23 .3-8 .7 17 1 18 1 10 1 9q.5 4 1 6t1 2 1 0 1-1 1-1 1 1 1 0 1-3 1-2 1 1 1 1 1 0 1 1 1-1 1-2 1 2 1 3 1 1 1 0 1-4l1-17 1-34 1-45 1-56 .8-48 .2 1 1 30 1 28 1 21 1 17 1 16 1 17 1 19 1 17 1 13 1 11 1 10q.5 3 1 3t1-1 1-1 1 1 1 1 1 0 1 0 1 0 1-1 1-2 1-3 1-6 1-6 1-1 1 4 1 4 1-1 1-4 1-1 1 5 1 7 1 3 1-2 1-3 1-2 1-1 1 1 1 2 1 2 1 3 1 2 1-1 1-2 1-1 1 0 1 0 1 0 1 1 1 0 1-3 1-3 1-1 1 1 1 1 1 0 1 0 1 1 1 1 1 0 1 1 1 1 1 0 1 0 1 0 1-1M0 3273q.5 0 1-1t1-2 1-2 1-1 1 1 1 3 1 3 1 1 1 0 1-1 1-1 1 0 1-3 1-3 1 2 1 4 1 1 1-3 1-3 1 0 1 3 1 2 1 0 1 0 1-1 1-2 1-3 1-5 1-3 1 4 1 7 1 3 1 0 1 0 1-2 1-4 1-2 1 2 1 4 1 1 1-6l1-15 1-17 1-14 1-14 .5-10 .5 5 1 11 1 10 1 9 1 9 1 8 1 5 1 5 1 5 1-2q.5 -1 1-1t1 1 1 2 1 3 1 4 1 0 1-5 1-6 1-5 1-1 1 5 1 7 1 1 1-5 1-5 1-1 1 3 1 3 1 0 1-1 1 3 1 5 1 2 1 0 1 1 1 2 1 1 1-1 1-4 1-3 1 2 1 4 1 2 1 0 1-2 1-4 1-2 1 2 1 3 1 1 1-1 1-3 1-4 1-3 1 0 1 2 1 3 1 3 1 2 1 1 1 0 1-1 1-2 1 0 1 2 1 1 1 0 1 0 1-1 1-2 1-2 1-1 1 1 1 3 1 3 1 1 1 0 1 0 1 0 1-1 1-6l1-14 1-12 .6-9 .4 8 1 13 1 9 1 3q.5 2 1 4t1 3 1 1 1 0 1 0 1-1 1-2 1-3 1-5 1-3 1 4 1 7 1 3 1 0 1 0 1-2 1-4 1-2 1 2 1 4 1 2 1-2 1-6 1-6 1-5l1-13 1-32 1-43 1-52 .5-29 .5 9 1 26 1 23 1 21 1 19 1 19 1 10 1 11 1 13 1 12 1 12q.5 6 1 9t1 1 1-5 1-6 1-5 1-1 1 5 1 7 1 1 1-5 1-5 1-1 1 3 1 3 1 0 1-1 1 3 1 5 1 2 1 0 1 1 1 2 1 1 1-1 1-4 1-3 1 2 1 4 1 2 1 0 1-2 1-4 1-2 1 2 1 3 1 1 1-1 1-3 1-4 1-3 1 0 1 2 1 3 1 3 1 2 1 1 1 0 1-1 1-2 1 0 1 2 1 1 1 0M0 3265q.5 -3 1-5t1-2 1 2 1 5 1 4 1 0 1-3 1-2 1 1 1 2 1 0 1-2 1 0 1 1 1 0 1 1 1 1 1 0 1 0 1 0 1 0 1 0 1-1 1-2 1-6 1-7 1-3 1 0 1 3 1 4 1 4 1 4 1 3 1 0 1-1 1-3 1-6 1-4 1-1 1 0 1 0 1 0 1 0 1-1l1-5 1-15 1-23 1-27 .6-16 .4 4 1 16 1 19 1 9 1 11 1 8 1 7 1 7 1 6 1 4 1 3q.5 1 1 2t1 1 1 0 1-1 1 0 1 3 1 1 1 0 1 2 1-2 1-4 1-2 1 0 1 3 1 4 1 2 1 0 1 0 1 0 1 0 1-1 1-4 1-5 1-2 1 2 1 3 1 2 1 2 1 2 1 2 1 1 1 0 1-1 1-1 1 0 1-2 1-3 1-1 1 0 1-1 1-2 1 0 1 3 1 3 1-1 1-4 1-2 1 1 1 2 1 2 1 3 1 3 1 0 1-4 1-5 1-2 1 2 1 5 1 4 1 0 1-3 1-2 1 1 1 2 1 0 1-2 1-1 1-5l1-16 1-21 .4-12 .6 13 1 18 1 15 1 9q.5 3 1 4t1 1 1-1 1-3 1-7 1-7 1-3 1 0 1 3 1 4 1 4 1 4 1 3 1 0 1-1 1-3 1-6 1-4 1-1 1 0 1-2l1-11 1-26 1-31 1-37 .9-42 .1 1 1 19 1 18 1 18 1 22 1 23 1 13 1 15 1 10 1 8 1 8 1 5q.5 2 1 2t1-1 1-1 1 0 1 0 1-1 1-1 1 2 1 2 1 0 1 1 1-2 1-4 1-1 1 0 1 2 1 5 1 3 1 0 1 0 1 0 1 0 1-1 1-4 1-5 1-2 1 1 1 2 1 2 1 2 1 2 1 2 1 1 1 0 1 0 1 0 1-1 1-2 1-2 1-1 1-1 1-2 1-1 1 1 1 3 1 2 1-1 1-3 1-2 1 0 1 1 1 3 1 4 1 2 1-1M0 3258q.5 -2 1-1t1 3 1 2 1-1 1-1 1-1 1-3 1-2 1 2 1 4 1 2 1-1 1-1 1 0 1-2 1-4 1-2 1 3 1 6 1 3 1-2 1-4 1-2 1 0 1 0 1-2 1-2 1 2 1 5 1 4 1 1 1 0 1 0 1 0 1-2 1-4 1-2 1 1 1 1 1-1 1-1 1-1l1-4 1-17 1-23 1-25 .5-11 .5 5 1 16 1 7 1 11 1 8 1 0 1 0 1 6 1 12 1 12q.5 4 1 6t1 2 1-2 1-3 1 0 1 2 1 2 1 2 1-1 1-5 1-2 1 5 1 6 1 1 1-3 1-3 1 1 1 3 1-1 1-4 1-2 1 0 1 0 1-1 1-2 1 0 1 1 1 0 1 0 1 2 1 5 1 3 1-3 1-6 1-3 1 3 1 5 1 1 1-3 1-3 1-1 1 0 1 2 1 4 1 2 1-2 1-2 1 1 1 3 1 1 1-3 1-4 1-1 1 3 1 3 1 1 1-2 1-1 1 3 1 2 1-1 1-2 1-2 1-3 1-2 1 2 1 4 1 2 1-1 1-1 1 0 1-3l1-12 1-17 1-16 1 21 1 17 1 7q.5 2 1 1t1-1 1 0 1-1 1-2 1-2 1 1 1 5 1 4 1 1 1 0 1 0 1 0 1-2 1-3 1-1 1 1 1 1 1-1 1-1 1 2 1 0l1-16 1-34 1-44 1-48 .8-39 .2 6 1 21 1 23 1 21 1 12 1 11 1 16 1 22 1 19 1 15 1 7 1 4q.5 1 1 1t1 0 1 1 1 2 1 2 1-1 1-5 1-2 1 5 1 6 1 1 1-3 1-3 1 1 1 3 1-1 1-4 1-2 1 0 1 0 1-1 1-2 1 0 1 1 1 0 1 0 1 2 1 5 1 3 1-3 1-6 1-3 1 3 1 5 1 1 1-3 1-3 1-1 1 0 1 2 1 4 1 2 1-2 1-2 1 1 1 3 1 1 1-3 1-4 1-1 1 3 1 3 1 1M0 3246q.5 -2 1-1t1 3 1 5 1 3 1-2 1-4 1-2 1 2 1 4 1 3 1 1 1-1 1-1 1 1 1 0 1-3 1-3 1-1 1 2 1 4 1 3 1 0 1-3 1-4 1-3 1-1 1 2 1 5 1 3 1-1 1 0 1 1 1-1 1-1 1 0 1-1 1-1 1 1 1 1 1 0 1 1 1 1 1 0 1 0 1-4l1-14 1-18 1-21 1-25 .5-16 .5 4 1 8 1 9 1 13 1 14 1 13 1 8 1 2 1 5 1 8q.5 3 1 5t1 4 1 4 1 2 1-1 1-1 1 1 1 0 1-5 1-8 1-5 1 1 1 3 1 2 1 2 1 3 1 3 1 1 1-1 1-1 1 0 1 0 1 0 1 0 1 0 1 1 1 2 1 2 1 1 1 0 1-2 1-2 1-1 1-2 1-2 1-1 1 0 1 1 1 4 1 4 1 1 1-1 1-1 1 1 1 0 1-2 1-1 1 0 1 1 1 2 1-1 1-3 1-3 1-4 1-2 1 3 1 5 1 2 1-2 1-4 1-2 1 2 1 4 1 4 1 2 1-1 1-1 1 0 1-5l1-17 1-23 .5-12 .5 9 1 19 1 17 1 12q.5 3 1 2t1-3 1-4 1-3 1-1 1 2 1 5 1 3 1-1 1 0 1 1 1-1 1-1 1 0 1-1 1-1 1 1 1 1 1 0 1 1 1 0 1-9l1-23 1-39 1-54 1-62 .4-26 .6 16 1 28 1 23 1 19 1 20 1 23 1 22 1 20 1 14 1 6 1 8q.5 4 1 7t1 3 1 1 1 3 1 2 1-1 1-1 1 1 1 0 1-5 1-8 1-5 1 1 1 3 1 2 1 2 1 3 1 3 1 1 1-1 1-1 1 0 1 0 1 0 1 0 1 0 1 1 1 2 1 2 1 1 1 0 1-2 1-2 1-1 1-2 1-2 1-1 1 0 1 1 1 4 1 4 1 1 1-1 1-1 1 1 1 0 1-2 1-1 1 0 1 1 1 2 1-1 1-3 1-3"/></g><g fill="none" stroke="#ff0000" stroke-width="2.2"><circle cx="1640.8" cy="2038.9"/><circle cx="1629.3" cy="2058.2"/><circle cx="1625.8" cy="2056"/><circle cx="1623.2" cy="2033.5"/><circle cx="1633.3" cy="2042.4"/><circle cx="1625.2" cy="2025.4"/><circle cx="1634.3" cy="2028.9"/><circle cx="1621.2" cy="2020.9"/><circle cx="1638.3" cy="2013.9"/><circle cx="1630.8" cy="2012.4"/><circle cx="1633.8" cy="2031.5"/><circle cx="1618.2" cy="2007.3"/><circle cx="1622.7" cy="2023.4"/><circle cx="1634.3" cy="2001.1"/><circle cx="1621.2" cy="2017"/><circle cx="1632.3" cy="2009.4"/><circle cx="1632.8" cy="2008.2"/><circle cx="1632.8" cy="1992.8"/><circle cx="1631.3" cy="1997.9"/><circle cx="1615.7" cy="1992.1"/><circle cx="1623.7" cy="1990.5"/><circle cx="1630.3" cy="1990.1"/><circle cx="1626.8" cy="1963"/><circle cx="1629.8" cy="1967.7"/><circle cx="1617.7" cy="1961.9"/><circle cx="1636.3" cy="1960.4"/><circle cx="1624.7" cy="1963.2"/><circle cx="1626.3" cy="1955.3"/><circle cx="1631.8" cy="1958.8"/><circle cx="1634.8" cy="1951.1"/><circle cx="1624.2" cy="1946.6"/><circle cx="1630.3" cy="1956.3"/><circle cx="1637.8" cy="1940"/><circle cx="1626.8" cy="1933.8"/><circle cx="1621.7" cy="1935"/><circle cx="1618.2" cy="1943.2"/><circle cx="1625.2" cy="1925.7"/><circle cx="1622.2" cy="1937.1"/><circle cx="1622.7" cy="1926.2"/><circle cx="1615.7" cy="1931.6"/><circle cx="1625.8" cy="1927.5"/><circle cx="1626.3" cy="1933.1"/><circle cx="1622.2" cy="1917.9"/><circle cx="1623.2" cy="1918.1"/><circle cx="1626.8" cy="1910.8"/><circle cx="1634.3" cy="1912.8"/><circle cx="1619.7" cy="1922.1"/><circle cx="1627.8" cy="1908.2"/><circle cx="1635.3" cy="1909.4"/><circle cx="1615.7" cy="1911.5"/><circle cx="1624.7" cy="1893"/><circle cx="1635.8" cy="1897.3"/><circle cx="1619.7" cy="1880.3"/><circle cx="1627.3" cy="1896.5"/><circle cx="1632.3" cy="1888.3"/><circle cx="1624.2" cy="1876.9"/><circle cx="1623.7" cy="1875.3"/><circle cx="1624.7" cy="1874.6"/><circle cx="1608.7" cy="1874.8"/><circle cx="1627.8" cy="1878.5"/><circle cx="1612.7" cy="1864.8"/><circle cx="1629.8" cy="1861.4"/><circle cx="1617.7" cy="1847.2"/><circle cx="1628.3" cy="1851.8"/><circle cx="1606.2" cy="1831.7"/><circle cx="1620.7" cy="1850.4"/><circle cx="1628.3" cy="1842.8"/><circle cx="1624.2" cy="1829.5"/><circle cx="1621.2" cy="1839"/><circle cx="1620.2" cy="1834.5"/><circle cx="1623.7" cy="1840.9"/><circle cx="1619.2" cy="1819.9"/><circle cx="1614.7" cy="1819.2"/><circle cx="1619.2" cy="1826.9"/><circle cx="1618.2" cy="1815.5"/><circle cx="1613.2" cy="1824.9"/><circle cx="1622.2" cy="1813.5"/><circle cx="1609.2" cy="1818.4"/><circle cx="1621.7" cy="1799.1"/><circle cx="1632.3" cy="1792.1"/><circle cx="1626.8" cy="1803.2"/><circle cx="1612.7" cy="1792.7"/><circle cx="1613.2" cy="1797.7"/><circle cx="1610.2" cy="1791.6"/><circle cx="1611.2" cy="1794.5"/><circle cx="1611.2" cy="1799.3"/><circle cx="1618.7" cy="1775.1"/><circle cx="1607.2" cy="1789.8"/><circle cx="1619.7" cy="1772.1"/><circle cx="1614.7" cy="1770.3"/><circle cx="1608.2" cy="1766.9"/><circle cx="1616.7" cy="1776.1"/><circle cx="1612.2" cy="1770.9"/><circle cx="1620.2" cy="1762.6"/><circle cx="1620.2" cy="1764.7"/><circle cx="1608.7" cy="1755.8"/><circle cx="1615.2" cy="1765.3"/><circle cx="1604.2" cy="1762.8"/><circle cx="1605.2" cy="1740.1"/><circle cx="1615.7" cy="1732.5"/><circle cx="1613.2" cy="1745"/><circle cx="1610.7" cy="1737.4"/><circle cx="1609.2" cy="1736.7"/><circle cx="1616.7" cy="1742.7"/><circle cx="1615.7" cy="1733.2"/><circle cx="1604.2" cy="1734.3"/><circle cx="1612.7" cy="1728.8"/><circle cx="1620.7" cy="1727.1"/><circle cx="1621.2" cy="1728.6"/><circle cx="1613.2" cy="1726.5"/><circle cx="1621.7" cy="1707.8"/><circle cx="1620.7" cy="1725.6"/><circle cx="1626.8" cy="1705.4"/><circle cx="1607.2" cy="1697.5"/><circle cx="1626.8" cy="1709.6"/><circle cx="1614.2" cy="1696.9"/><circle cx="1620.7" cy="1676.4"/><circle cx="1629.3" cy="1682.9"/><circle cx="1625.8" cy="1669.5"/><circle cx="1614.7" cy="1672.6"/><circle cx="1631.3" cy="1673.1"/><circle cx="1619.2" cy="1680.8"/><circle cx="1631.8" cy="1668"/><circle cx="1631.3" cy="1667.7"/><circle cx="1627.8" cy="1659.7"/><circle cx="1625.2" cy="1655.8"/><circle cx="1629.3" cy="1648.6"/><circle cx="1620.7" cy="1650.2"/><circle cx="1635.8" cy="1650.1"/><circle cx="1633.8" cy="1656.6"/><circle cx="1633.3" cy="1643.7"/><circle cx="1625.8" cy="1645.9"/><circle cx="1623.2" cy="1624.1"/><circle cx="1632.3" cy="1623.8"/><circle cx="1637.3" cy="1618.2"/><circle cx="1622.7" cy="1636"/><circle cx="1641.8" cy="1625"/><circle cx="1639.3" cy="1625.3"/><circle cx="1632.8" cy="1616.1"/><circle cx="1636.8" cy="1605.1"/><circle cx="1644.8" cy="1606"/><circle cx="1642.3" cy="1599.8"/><circle cx="1838" cy="1838"/><circle cx="1820" cy="1925"/><circle cx="1859" cy="2049"/></g><g fill="none" stroke="#f0f000" stroke-width="2.2"><circle cx="1790.3" cy="1978.4"/><circle cx="1786.8" cy="1988.4"/><circle cx="1774.8" cy="1982.9"/><circle cx="1783.8" cy="1994.2"/><circle cx="1776.8" cy="2002.1"/><circle cx="1783.3" cy="1979.4"/><circle cx="1793.3" cy="1981.5"/><circle cx="1789.3" cy="1982.4"/><circle cx="1767.8" cy="1996.7"/><circle cx="1776.3" cy="1964"/><circle cx="1797.4" cy="1947.2"/><circle cx="1792.8" cy="1975.4"/><circle cx="1774.3" cy="1968.1"/><circle cx="1780.8" cy="1976.4"/><circle cx="1768.8" cy="1938.5"/><circle cx="1783.3" cy="1953"/><circle cx="1780.8" cy="1970.5"/><circle cx="1784.3" cy="1925.7"/><circle cx="1775.3" cy="1924.3"/><circle cx="1783.3" cy="1931.9"/><circle cx="1785.3" cy="1944.5"/><circle cx="1782.8" cy="1912.4"/><circle cx="1777.8" cy="1946.1"/><circle cx="1780.8" cy="1953.2"/><circle cx="1784.3" cy="1950.1"/><circle cx="1785.3" cy="1940.4"/><circle cx="1787.3" cy="1940.8"/><circle cx="1780.3" cy="1946.5"/><circle cx="1783.8" cy="1909.2"/><circle cx="1776.8" cy="1919.4"/><circle cx="1788.8" cy="1894.2"/><circle cx="1787.3" cy="1906.1"/><circle cx="1789.8" cy="1917.6"/><circle cx="1778.3" cy="1902.2"/><circle cx="1791.8" cy="1890.7"/><circle cx="1782.3" cy="1920.3"/><circle cx="1784.8" cy="1885.2"/><circle cx="1789.8" cy="1887.3"/><circle cx="1789.3" cy="1877.4"/><circle cx="1787.8" cy="1889"/><circle cx="1782.8" cy="1860.9"/><circle cx="1781.8" cy="1858.3"/><circle cx="1790.8" cy="1866.9"/><circle cx="1785.3" cy="1855.4"/><circle cx="1786.8" cy="1850.2"/><circle cx="1789.3" cy="1858.8"/><circle cx="1788.3" cy="1862.9"/><circle cx="1779.3" cy="1857.5"/><circle cx="1789.8" cy="1843"/><circle cx="1776.3" cy="1867.7"/><circle cx="1793.8" cy="1860.2"/><circle cx="1789.3" cy="1823.7"/><circle cx="1781.8" cy="1866.4"/><circle cx="1790.3" cy="1822.9"/><circle cx="1795.3" cy="1832.3"/><circle cx="1798.4" cy="1816.8"/><circle cx="1790.8" cy="1841.9"/><circle cx="1787.8" cy="1846"/><circle cx="1784.3" cy="1814.4"/><circle cx="1791.3" cy="1853.9"/><circle cx="1793.3" cy="1832.9"/><circle cx="1796.9" cy="1835.3"/><circle cx="1782.3" cy="1801.4"/><circle cx="1776.3" cy="1809.2"/><circle cx="1791.3" cy="1814.1"/><circle cx="1791.3" cy="1794.5"/><circle cx="1792.3" cy="1779.5"/><circle cx="1795.3" cy="1815"/><circle cx="1788.3" cy="1785.7"/><circle cx="1782.8" cy="1780.3"/><circle cx="1788.8" cy="1775.8"/><circle cx="1792.8" cy="1771"/><circle cx="1787.8" cy="1808.2"/><circle cx="1792.3" cy="1756.1"/><circle cx="1796.9" cy="1770.3"/><circle cx="1782.3" cy="1750.7"/><circle cx="1784.3" cy="1771.2"/><circle cx="1787.3" cy="1757.5"/><circle cx="1797.4" cy="1759.8"/><circle cx="1787.8" cy="1737.4"/><circle cx="1789.8" cy="1734.7"/><circle cx="1797.4" cy="1755.8"/><circle cx="1792.8" cy="1762.8"/><circle cx="1789.3" cy="1772.8"/><circle cx="1788.8" cy="1721.7"/><circle cx="1794.8" cy="1726.3"/><circle cx="1790.3" cy="1754.4"/><circle cx="1793.8" cy="1762"/><circle cx="1793.3" cy="1736.8"/><circle cx="1784.3" cy="1734.8"/><circle cx="1790.3" cy="1737.7"/><circle cx="1793.3" cy="1731.6"/><circle cx="1782.8" cy="1744.5"/><circle cx="1784.8" cy="1718.5"/><circle cx="1791.3" cy="1733.2"/><circle cx="1785.3" cy="1705.9"/><circle cx="1788.3" cy="1708"/><circle cx="1806.4" cy="1707"/><circle cx="1785.8" cy="1724.5"/><circle cx="1790.8" cy="1680.7"/><circle cx="1785.8" cy="1707.9"/><circle cx="1790.8" cy="1691.5"/><circle cx="1790.8" cy="1707.7"/><circle cx="1793.3" cy="1680"/><circle cx="1789.3" cy="1693.2"/><circle cx="1787.3" cy="1684.1"/><circle cx="1788.3" cy="1673.9"/><circle cx="1790.3" cy="1664"/><circle cx="1793.8" cy="1676.8"/><circle cx="1792.8" cy="1665.8"/><circle cx="1779.8" cy="1668.9"/><circle cx="1795.3" cy="1672.4"/><circle cx="1787.8" cy="1649.8"/><circle cx="1793.3" cy="1681.5"/><circle cx="1793.8" cy="1675.5"/><circle cx="1795.9" cy="1655.2"/><circle cx="1791.3" cy="1624.1"/><circle cx="1797.4" cy="1643"/><circle cx="1788.8" cy="1657.6"/><circle cx="1786.8" cy="1623.9"/><circle cx="1798.9" cy="1650.4"/><circle cx="1792.3" cy="1627"/><circle cx="1790.8" cy="1630.4"/><circle cx="1788.3" cy="1606.2"/><circle cx="1789.3" cy="1614"/><circle cx="1791.8" cy="1612"/><circle cx="1783.3" cy="1633.6"/><circle cx="1788.3" cy="1589.6"/><circle cx="1784.8" cy="1601"/><circle cx="1790.8" cy="1597.7"/><circle cx="1798.4" cy="1607.4"/><circle cx="1789.3" cy="1619.6"/><circle cx="1783.8" cy="1570.5"/><circle cx="1782.8" cy="1580.5"/><circle cx="1790.8" cy="1606.1"/><circle cx="1793.8" cy="1586.2"/><circle cx="1786.3" cy="1588.6"/><circle cx="1783.8" cy="1589.4"/><circle cx="1790.8" cy="1562.6"/><circle cx="1792.8" cy="1544.9"/><circle cx="1784.3" cy="1537.9"/><circle cx="1797.9" cy="1542.5"/><circle cx="1784.8" cy="1551.6"/><circle cx="1794.3" cy="1538.8"/><circle cx="1792.3" cy="1522.1"/><circle cx="1670" cy="1649"/><circle cx="1692" cy="1657"/><circle cx="1674" cy="1763"/><circle cx="1944" cy="1760"/><circle cx="1809" cy="1965"/><circle cx="1832" cy="2000"/><circle cx="1529" cy="1951"/><circle cx="1506" cy="1994"/></g><g fill="none" stroke="#00e400" stroke-width="2.2"><circle cx="1229.4" cy="2014.2"/><circle cx="1212.8" cy="2025.3"/><circle cx="1229.9" cy="2004.3"/><circle cx="1212.3" cy="2035.7"/><circle cx="1209.3" cy="2005.5"/><circle cx="1220.3" cy="2014.9"/><circle cx="1215.3" cy="2012"/><circle cx="1205.3" cy="2006.9"/><circle cx="1221.3" cy="2003.3"/><circle cx="1234.4" cy="2008.9"/><circle cx="1212.8" cy="2003"/><circle cx="1222.8" cy="1993.5"/><circle cx="1215.3" cy="1979.9"/><circle cx="1218.3" cy="2004.1"/><circle cx="1216.3" cy="1982.2"/><circle cx="1225.3" cy="1982.1"/><circle cx="1212.3" cy="1987.6"/><circle cx="1222.3" cy="1974.8"/><circle cx="1217.3" cy="1961.6"/><circle cx="1195.7" cy="1953.8"/><circle cx="1225.8" cy="1973.1"/><circle cx="1202.8" cy="1955.4"/><circle cx="1207.3" cy="1982.3"/><circle cx="1214.8" cy="1967.2"/><circle cx="1216.8" cy="1963.2"/><circle cx="1217.8" cy="1954.7"/><circle cx="1232.9" cy="1925.3"/><circle cx="1204.8" cy="1932"/><circle cx="1209.3" cy="1936.1"/><circle cx="1202.8" cy="1946.2"/><circle cx="1224.8" cy="1933.1"/><circle cx="1228.9" cy="1938.3"/><circle cx="1204.3" cy="1918.1"/><circle cx="1214.3" cy="1918.4"/><circle cx="1227.3" cy="1933.2"/><circle cx="1207.3" cy="1927.6"/><circle cx="1202.8" cy="1927.1"/><circle cx="1210.8" cy="1910.8"/><circle cx="1230.9" cy="1900.4"/><circle cx="1210.3" cy="1898.5"/><circle cx="1228.9" cy="1905"/><circle cx="1236.4" cy="1883"/><circle cx="1215.8" cy="1900.8"/><circle cx="1221.3" cy="1890.5"/><circle cx="1213.3" cy="1884.2"/><circle cx="1221.8" cy="1877"/><circle cx="1207.3" cy="1872.9"/><circle cx="1218.3" cy="1869.2"/><circle cx="1203.3" cy="1879.4"/><circle cx="1212.8" cy="1878.7"/><circle cx="1222.8" cy="1862.9"/><circle cx="1204.3" cy="1875.6"/><circle cx="1217.3" cy="1851.7"/><circle cx="1217.8" cy="1846.7"/><circle cx="1208.8" cy="1844.9"/><circle cx="1203.8" cy="1860.6"/><circle cx="1218.8" cy="1853.6"/><circle cx="1210.3" cy="1829.6"/><circle cx="1222.3" cy="1837.9"/><circle cx="1220.8" cy="1843.6"/><circle cx="1207.8" cy="1843.7"/><circle cx="1214.3" cy="1822.9"/><circle cx="1204.8" cy="1824.9"/><circle cx="1207.3" cy="1832.2"/><circle cx="1213.8" cy="1815"/><circle cx="1220.8" cy="1808.9"/><circle cx="1218.8" cy="1830"/><circle cx="1215.8" cy="1829.2"/><circle cx="1212.3" cy="1820.9"/><circle cx="1210.8" cy="1795.9"/><circle cx="1205.3" cy="1806.8"/><circle cx="1206.3" cy="1789.1"/><circle cx="1207.8" cy="1784.5"/><circle cx="1209.8" cy="1800"/><circle cx="1204.8" cy="1787.5"/><circle cx="1207.3" cy="1771.3"/><circle cx="1200.8" cy="1781.6"/><circle cx="1218.3" cy="1769.2"/><circle cx="1209.3" cy="1781.4"/><circle cx="1215.8" cy="1786.2"/><circle cx="1219.3" cy="1777.6"/><circle cx="1210.8" cy="1778.1"/><circle cx="1208.3" cy="1759.5"/><circle cx="1221.8" cy="1747.9"/><circle cx="1220.3" cy="1747.8"/><circle cx="1223.3" cy="1753.4"/><circle cx="1214.8" cy="1738.9"/><circle cx="1219.8" cy="1761.7"/><circle cx="1220.3" cy="1729.2"/><circle cx="1223.3" cy="1732.6"/><circle cx="1219.3" cy="1726.2"/><circle cx="1234.4" cy="1726.9"/><circle cx="1218.8" cy="1723.4"/><circle cx="1215.8" cy="1735.4"/><circle cx="1209.8" cy="1735.5"/><circle cx="1207.8" cy="1719.5"/><circle cx="1203.3" cy="1715.8"/><circle cx="1222.3" cy="1718.1"/><circle cx="1210.3" cy="1692.5"/><circle cx="1198.2" cy="1675.3"/><circle cx="1220.8" cy="1683.4"/><circle cx="1210.8" cy="1672.5"/><circle cx="1224.8" cy="1671.1"/><circle cx="1217.8" cy="1672.8"/><circle cx="1219.8" cy="1680.2"/><circle cx="1219.8" cy="1670.2"/><circle cx="1218.3" cy="1676.9"/><circle cx="1209.8" cy="1679.6"/><circle cx="1226.3" cy="1658.5"/><circle cx="1218.8" cy="1674.9"/><circle cx="1209.3" cy="1649.3"/><circle cx="1212.3" cy="1667.1"/><circle cx="1219.8" cy="1644.4"/><circle cx="1223.3" cy="1641.1"/><circle cx="1228.9" cy="1652.3"/><circle cx="1220.8" cy="1639.8"/><circle cx="1218.3" cy="1626.1"/><circle cx="1226.8" cy="1635.5"/><circle cx="1231.4" cy="1624.5"/><circle cx="1233.4" cy="1636.7"/><circle cx="1226.3" cy="1628.4"/><circle cx="1236.9" cy="1624.3"/><circle cx="1195.7" cy="1638.3"/><circle cx="1216.8" cy="1638.1"/><circle cx="1225.3" cy="1628.1"/><circle cx="1226.8" cy="1612.9"/><circle cx="1212.8" cy="1626.9"/><circle cx="1216.8" cy="1619.9"/><circle cx="1212.3" cy="1618"/><circle cx="1217.3" cy="1596.7"/><circle cx="1209.8" cy="1599.1"/><circle cx="1216.3" cy="1599.7"/><circle cx="1218.8" cy="1601.2"/><circle cx="1223.8" cy="1605.4"/><circle cx="1222.3" cy="1602.5"/><circle cx="1220.8" cy="1587.4"/><circle cx="1235.9" cy="1580.1"/><circle cx="1303" cy="1658"/><circle cx="1287" cy="1908"/><circle cx="1306" cy="1963"/></g><text class="w" x="987.5" y="2134.4" text-anchor="middle">0.149</text><text class="w" x="1176.3" y="2134.4" text-anchor="middle">0.1495</text><text class="w" x="1365.1" y="2134.4" text-anchor="middle">0.15</text><text class="w" x="1553.8" y="2134.4" text-anchor="middle">0.1505</text><text class="w" x="1742.6" y="2134.4" text-anchor="middle">0.151</text><text class="w" x="1931.4" y="2134.4" text-anchor="middle">0.1515</text><text class="w" x="2120.2" y="2134.4" text-anchor="middle">0.152</text><text class="w" x="952.5" y="2084.8" text-anchor="end">0</text><text class="w" x="952.5" y="2026.5" text-anchor="end">10</text><text class="w" x="952.5" y="1968.2" text-anchor="end">20</text><text class="w" x="2156.7" y="2084.8">00:00</text><text class="w" x="2156.7" y="2047.6">00:15</text><text class="w" x="2156.7" y="2010.4">00:30</text><text class="w" x="2156.7" y="1973.1">00:45</text><text class="w" x="2156.7" y="1935.9">01:00</text><text class="w" x="2156.7" y="1898.7">01:15</text><text class="w" x="2156.7" y="1861.5">01:30</text><text class="w" x="2156.7" y="1824.3">01:45</text><text class="w" x="2156.7" y="1787.1">02:00</text><text class="w" x="2156.7" y="1749.8">02:15</text><text class="w" x="2156.7" y="1712.6">02:30</text><text class="w" x="2156.7" y="1675.4">02:45</text><text class="w" x="2156.7" y="1638.2">03:00</text><text class="w" font-size="25" text-anchor="middle" transform="translate(912 2012.8) rotate(-90)" y="8.5">SNR</text><text class="b" font-size="31.5" text-anchor="middle" transform="translate(2273.3 2121.8) rotate(48)" y="7.7">Sept 16th</text><path d="M205.3 1591.4V2092.6H749.7" fill="none" stroke="#6e6e6e" stroke-width="2"/><path d="M205.3 1591.4h5M205.3 1647.1h5M205.3 1702.8h5M205.3 1758.5h5M205.3 1814.2h5M205.3 1869.8h5M205.3 1925.5h5M205.3 1981.2h5M205.3 2036.9h5M205.3 2092.6h5M205.3 2092.6v-5M341.4 2092.6v-5M477.5 2092.6v-5M613.6 2092.6v-5M749.7 2092.6v-5" stroke="#6e6e6e" stroke-width="2"/><text class="t" x="195.8" y="1599.6" text-anchor="end">18:00</text><text class="t" x="195.8" y="1655.3" text-anchor="end">15:00</text><text class="t" x="195.8" y="1711" text-anchor="end">12:00</text><text class="t" x="195.8" y="1766.7" text-anchor="end">09:00</text><text class="t" x="195.8" y="1822.4" text-anchor="end">06:00</text><text class="t" x="195.8" y="1878" text-anchor="end">03:00</text><text class="t" x="195.8" y="1933.7" text-anchor="end">00:00</text><text class="t" x="195.8" y="1989.4" text-anchor="end">21:00</text><text class="t" x="195.8" y="2045.1" text-anchor="end">18:00</text><text class="t" x="195.8" y="2100.8" text-anchor="end">15:00</text><text class="t" x="205.3" y="2123.2" text-anchor="middle">0.149</text><text class="t" x="341.4" y="2123.2" text-anchor="middle">0.15</text><text class="t" x="477.5" y="2123.2" text-anchor="middle">0.151</text><text class="t" x="613.6" y="2123.2" text-anchor="middle">0.152</text><text class="t" x="749.7" y="2123.2" text-anchor="middle">0.153</text><clipPath id="cB1"><rect x="205.3" y="1628.9" width="544.4" height="458.5"/></clipPath><g filter="url(#jB1)" clip-path="url(#cB1)"><rect x="205.3" y="1628.9" width="544.4" height="458.5" fill="#202020"/><path filter="url(#bB10)" fill="#6b6b6b" d="M297 1632l2 3-2 3 1 3 3 3-1 3 3 3-9 3 7 3-3 3 0 3 2 3 1 3 0 3-2 3 4 3-4 3 0 3 2 3-4 3 8 3-3 3 2 3-5 3-1 3 1 3 1 3-3 3 2 3-1 3 3 3-5 3 4 3-5 3-1 3 1 3-2 3 4 3 2 3-2 3 2 3 3 3-4 3 0 3-1 3-3 3 6 3-7 3 6 3-2 3 3 3-4 3-2 3 3 3-3 3 1 3 1 3-1 3 0 3-2 3 2 3-4 3 4 3-2 3 5 3 1 3-8 3 5 3-1 3-2 3 5 3-3 3-3 3 2 3 1 3 1 3-3 3 4 3 1 3-5 3 1 3 1 3-1 3 5 3-5 3-3 3 1 3 2 3 5 3-7 3 1 3 1 3-1 3 6 3-7 3 3 3-1 3 1 3-5 3 7 3-5 3 1 3-3 3 1 3 3 3 2 3-1 3 0 3-1 3-2 3 0 3-1 3-2 3 2 3 1 3-3 3-2 3 4 3 3 3-6 3 0 3 0 3 4 3-7 3 5 3 1 3-5 3 6 3-2 3-3 3 2 3-5 3 4 3 6 3-7 3 7 3-4 3 3 3-2 3-6 3 4 3 3 3-3 3-1 3 4 3-2 3-2 3 3 3 4 3-3 3 3 3 2 3-4 2 12 0 4-2 0-3-3-3 3-3-3-3 1-3 2-3-1-3 0-3-4-3 0-3-1-3 4-3-2-3-1-3 1-3-3-3-1-3 1-3 3-3-6-3 0-3 5-3-6-3 6-3-4-3 3-3 0-3-1-3-2-3 3-3-4-3 1-3 5-3-2-3-1-3 1-3 3-3 0-3-3-3-1-3 3-3 3-3-1-3-2-3 4-3 0-3-7-3 10-3-5-3 3-3-6-3 5-3-1-3 2-3-1-3 1-3 0-3 1-3-5-3 2-3 2-3-4-3-2-3 3-3 1-3 3-3-6-3 2-3 1-3 2-3 0-3 2-3-1-3-6-3 5-3 2-3 1-3-2-3 2-3-4-3 3-3-3-3-1-3 1-3 2-3 3-3-6-3 3-3-1-3 2-3-6-3 4-3 1-3-4-3 1-3 0-3 6-3-6-3-4-3 6-3-1-3 5-3-2-3 0-3-1-3 3-3-4-3 1-3 6-3-4-3 0-3-4-3 4-3-2-3-1-3 1-3 3-3-3-3-2-3 7-3-8-3 3-3 5-3-5-3 3-3-9-3 6-3 4-3-4-3 3-3 1-3-4-3 4-3 5-3-7-3 2-3-5-3-1-3 2-3-3-3 1-3 3-3 0-3 2-3-2-3 2-3-1-3 2-3-3-3-4-3 1-3z"/><path filter="url(#bB11)" fill="#737373" d="M436 1632l-3 3 2 3-1 3 1 3-3 3-1 3 3 3 2 3-3 3 4 3-3 3-2 3 4 3-4 3 3 3-3 3 2 3-3 3 1 3 4 3-2 3 1 3-1 3 2 3-3 3 0 3 2 3-2 3 0 3 2 3-1 3 0 3 4 3-1 3 0 3-2 3-2 3-2 3 2 3-3 3 2 3 3 3 2 3-1 3-4 3 3 3-3 3 3 3-2 3 2 3 3 3-3 3 2 3-4 3 0 3 3 3 1 3-4 3 1 3-3 3 2 3 2 3-2 3-2 3-1 3 4 3 1 3 0 3-1 3-3 3 6 3-3 3-1 3 2 3-6 3 4 3 0 3 1 3 2 3-2 3-5 3 2 3 2 3 0 3-3 3-1 3 5 3-1 3 1 3-4 3 6 3-10 3 4 3 6 3-5 3 0 3-3 3 6 3-4 3 3 3 0 3-2 3 3 3-4 3 1 3 2 3-1 3 2 3 0 3-2 3-1 3 1 3 0 3 1 3-2 3 2 3-1 3-1 3 3 3-4 3 2 3 4 3-6 3 2 3-3 3 2 3-2 3 3 3-1 3 1 3 3 3-3 3 1 3-2 3 0 3-1 3-2 3 3 3 4 3-3 3-2 3 4 3-4 3 0 3 0 3 1 3 1 3 5 3-5 3-2 3 1 3 0 2 12 0 1-2 2-3 4-3-5-3 0-3-4-3 2-3 4-3-3-3 1-3 2-3 2-3-3-3-2-3 3-3-1-3-3-3 2-3 4-3-6-3 4-3-3-3 3-3-4-3 1-3 4-3-4-3 6-3-3-3 3-3-4-3 2-3-1-3 1-3-2-3 3-3-2-3-3-3-1-3 6-3-5-3 0-3 1-3 2-3 3-3-4-3-1-3 0-3 3-3-3-3 2-3-3-3 3-3-2-3 1-3-4-3 2-3 3-3-2-3 3-3-1-3-4-3 2-3 3-3 1-3-3-3 0-3-1-3 2-3-1-3-1-3-1-3 4-3 0-3-3-3 0-3 4-3-3-3 2-3-2-3 3-3-1-3 3-3-1-3-2-3-2-3-1-3 1-3 1-3-4-3 3-3-1-3-1-3 5-3 1-3-5-3 2-3-3-3 1-3 0-3 2-3 3-3-6-3 4-3 4-3-3-3 2-3-3-3 4-3-2-3-5-3 3-3-2-3 3-3-3-3 1-3 0-3 4-3-4-3 4-3-2-3 1-3 0-3-2-3 4-3-2-3-1-3 1-3 0-3-1-3-4-3 1-3-4-3 1-3 4-3 0-3 1-3-2-3 2-3 0-3-1-3 1-3-4-3 5-3 1-3-7-3 1-3 4-3 0-3 2-3-1-3-4-3z"/><path filter="url(#bB12)" fill="#474747" d="M466 1632l-4 3 0 3 3 3-3 3 3 3 2 3-3 3 0 3 2 3 0 3-6 3 0 3 6 3-2 3-6 3 2 3 3 3-3 3 4 3-1 3 0 3-4 3 4 3 4 3-7 3 5 3 0 3 0 3-2 3-3 3 1 3 5 3-1 3 1 3-1 3 0 3-3 3-3 3 4 3 1 3-2 3-4 3 3 3-3 3 4 3-3 3 2 3 2 3 0 3 2 3-6 3-3 3 8 3 1 3 0 3-4 3 1 3 0 3-4 3 2 3 3 3-3 3 6 3-10 3 4 3 3 3-5 3-2 3 0 3 2 3 6 3-3 3 0 3-2 3 4 3-3 3-2 3 2 3 1 3 3 3-3 3 1 3 3 3-6 3-2 3 5 3-1 3-1 3 1 3-1 3 1 3-1 3 2 3-6 3 1 3 2 3-1 3 3 3-2 3-1 3 3 3-2 3-2 3 1 3 0 3 1 3 2 3 1 3-1 3 3 3-2 3-4 3 4 3-1 3-3 3 1 3 2 3-2 3 3 3-2 3 1 3-3 3 2 3-1 3 3 3-6 3 5 3 2 3-2 3-2 3 1 3-4 3 0 3 2 3 1 3 3 3-6 3 5 3-6 3 2 3 1 3 2 3-4 3-4 3 6 3 0 3-3 3 1 3 1 3 2 3 2 3-5 2 27 0 2-2-1-3-1-3 6-3-8-3 0-3 3-3-2-3-3-3 4-3-4-3 4-3 3-3-3-3 3-3-2-3-2-3-2-3 1-3 1-3 1-3-2-3 1-3 1-3 2-3-3-3 1-3 3-3-6-3 5-3-1-3-1-3-2-3 2-3-2-3 3-3-7-3 4-3-1-3 3-3 1-3-1-3-1-3 2-3 0-3 0-3 3-3-1-3-1-3-4-3 4-3-2-3-1-3 3-3-1-3 0-3-2-3 3-3-3-3 4-3-2-3-2-3-1-3 2-3 5-3-6-3-1-3 3-3 0-3 7-3-5-3-2-3 4-3-3-3-3-3 4-3 2-3-4-3-2-3 4-3 0-3 0-3-6-3 4-3 0-3-2-3 4-3 0-3-1-3 4-3-1-3 0-3 2-3-5-3-1-3-3-3 6-3 1-3-2-3-3-3 1-3 5-3-3-3-2-3 4-3-6-3 1-3 5-3-6-3 7-3 2-3-3-3 0-3-1-3 1-3 0-3-3-3 2-3-1-3 0-3 4-3 0-3-5-3 0-3 5-3-8-3 0-3 4-3-2-3 3-3-1-3 0-3 2-3-4-3-2-3 8-3-3-3 0-3 4-3-5-3 3-3-2-3-1-3 1-3 0-3 4-3 3-3-5-3 0-3-2-3 0-3 6-3z"/><path filter="url(#bB13)" fill="#6b6b6b" d="M512 1632l1 3 2 3 3 3-5 3 2 3-1 3-4 3 3 3 5 3-4 3 2 3 1 3-4 3 5 3 1 3 1 3-1 3-5 3 0 3 0 3 0 3-1 3 4 3 1 3-5 3 4 3-5 3 2 3-2 3-1 3 5 3-1 3-1 3 0 3-1 3 2 3-2 3 3 3-4 3 3 3 0 3 1 3-1 3-2 3-2 3-3 3 5 3 4 3 1 3-10 3 5 3 0 3-2 3 2 3 0 3-2 3 1 3-5 3 2 3 1 3 4 3-6 3 3 3 2 3-2 3 2 3-4 3 2 3 1 3 4 3-4 3 1 3-5 3 0 3 3 3-2 3 2 3-2 3 3 3 2 3-9 3 7 3-4 3 0 3-1 3 2 3-5 3 1 3-1 3 2 3 2 3-1 3-1 3-3 3-3 3 5 3-1 3 0 3 2 3-5 3 1 3-6 3 7 3-2 3-2 3 2 3-3 3 1 3 6 3-3 3 1 3-2 3 1 3-1 3 5 3-7 3 3 3-3 3 0 3-6 3 2 3 9 3-1 3-5 3 1 3 1 3-4 3 7 3-7 3 1 3-5 3 11 3-3 3 4 3-6 3 3 3-1 3 1 3 4 3 1 3-2 3-5 3 3 3 2 3-3 3 0 3 0 3-3 3 3 3 5 3-7 3 4 2 16 0-1-2-2-3-3-3 7-3-3-3 0-3-2-3-3-3 8-3-6-3 2-3-1-3-2-3 3-3 0-3 4-3 0-3-4-3-1-3 3-3 2-3-6-3 0-3-4-3 4-3-1-3 1-3 2-3-1-3-2-3 5-3-1-3-4-3 0-3 2-3 1-3 1-3 2-3-2-3-1-3 5-3-1-3-6-3 3-3-1-3 0-3 1-3-2-3-1-3-1-3 2-3 3-3 0-3-1-3 4-3-3-3 3-3-4-3 0-3 6-3 4-3-8-3-1-3 3-3-3-3 5-3 2-3-2-3-4-3 8-3 1-3-1-3-7-3-1-3 6-3-4-3 0-3 0-3 6-3-2-3 3-3 0-3-3-3 0-3 0-3 1-3-1-3 0-3 1-3 6-3-6-3 5-3-5-3 4-3-2-3 3-3-2-3-4-3 5-3 0-3-3-3 2-3 0-3-1-3 3-3-3-3-3-3 6-3-1-3-3-3-1-3 6-3 0-3-4-3 1-3 2-3 4-3-5-3 2-3 0-3 6-3-6-3-1-3 0-3 1-3-4-3 3-3 3-3-3-3 1-3 1-3-3-3 3-3-3-3 0-3-1-3 3-3-2-3-2-3 2-3 5-3-11-3 5-3 0-3-1-3 0-3-1-3 1-3-2-3 4-3-3-3 5-3z"/><path filter="url(#bB14)" fill="#525252" d="M366 1990l3 3-3 3 0 3 2 3-2 3-1 3 0 3 2 3-3 3 2 3 2 3-2 3-2 3-1 3 2 3-2 3-1 3 2 3-1 3 4 3-4 3 5 3-3 3 2 3 0 3-1 3 0 3-2 3-1 3 3 3-3 3 2 3 3 1 8 0 4-1-7-3-1-3 5-3-2-3-2-3-1-3 2-3 0-3 2-3-4-3 2-3-3-3 4-3-2-3-1-3 2-3 1-3-1-3-1-3 1-3 0-3 1-3-3-3 1-3-1-3 2-3-2-3 2-3 0-3-1-3 1-3 0-3z"/><path filter="url(#bB15)" fill="#525252" d="M595 1880l-1 3 0 3 0 3-1 3 1 3 1 3 0 3-1 3 1 3 1 3-4 3 2 3 1 3-1 3-1 3 3 3-2 3-1 3 4 3-5 3 2 3 0 3 0 3 1 3-3 3 2 3 0 3-2 3 3 3-1 3-1 3 0 3 0 3 1 3-1 3 3 3-5 3 0 3 3 3-2 3 3 3-1 3 1 3 0 3 0 3 0 3 0 3-1 3 1 3-1 3-1 3 0 3 0 3 3 3-5 3 4 3-1 3 1 3-1 3-1 3 1 3-4 3 5 3 0 3-2 3 4 3-1 3 0 3-2 3 10 0-2-3 1-3-1-3 0-3 2-3-1-3-3-3 3-3 1-3 0-3-1-3 1-3-2-3 0-3 0-3 0-3 0-3 0-3 1-3-1-3 0-3-2-3 3-3 0-3 0-3-2-3 5-3 0-3-2-3 0-3-5-3 3-3-2-3 2-3 3-3-4-3 1-3 0-3 0-3 2-3 1-3-5-3 1-3 2-3 2-3-4-3 2-3-2-3 0-3 0-3 2-3 0-3-2-3 3-3-2-3 1-3 3-3-4-3 0-3 0-3-2-3 3-3 0-3 1-3-1-3-2-3 0-3 2-3 0-3z"/><path filter="url(#bB16)" fill="#ffffff" d="M286 1632l-1 3 2 3-1 3 5 3-3 3-1 3 0 3 0 3-2 3 1 3 4 3-5 3 2 3 2 3 1 3-4 3 3 3-3 3 4 3-2 3-1 3 2 3-1 3-2 3 4 3-4 3 2 3-2 3-2 3 2 3 2 3 2 3 1 3-2 3 0 3-1 3 1 3 1 3-5 3 5 3 1 3 1 3-5 3 1 3 0 3-2 3 0 3-1 3 3 3 0 3 2 3-3 3-1 3 3 3 0 3-1 3 1 3-3 3 2 3-3 3 1 3 0 3-1 3 1 3-3 3 0 3 1 3-2 3 1 3 4 3-3 3-3 3 0 3 3 3-7 3 3 3 2 3-2 3 2 3-3 3 3 3 0 3 0 3 0 3-1 3 2 3-1 3-1 3 0 3 0 3-2 3-1 3 1 3 2 3-2 3 0 3 5 3-3 3-2 3-1 3 3 3-3 3 4 3-2 3 1 3-4 3 3 3-5 3 2 3 1 3 0 3-4 3 4 3-1 3-1 3-1 3 0 3-1 3 2 3-1 3 2 3-1 3-4 3 3 3 2 3-4 3 3 3-2 3 0 3 2 3 2 3 0 3-1 3 1 3-4 3 4 3 0 3-1 3 0 3-1 3 4 3-3 3-1 3 3 3-1 3 0 3 3 3-3 3 1 3 4 3-5 3 3 2 10 0 1-2-1-3-1-3 1-3 1-3-4-3 1-3-2-3 4-3-3-3 4-3-6-3 4-3 0-3-1-3-1-3 1-3 0-3-2-3 0-3 0-3-3-3 3-3 1-3-1-3-3-3 4-3-4-3 1-3 2-3-1-3-2-3 3-3 0-3-2-3 2-3 1-3-2-3 4-3 0-3-3-3 3-3-2-3 3-3-2-3 0-3 2-3-3-3 4-3-1-3 0-3-3-3 3-3-2-3 0-3-1-3 6-3 0-3-1-3-2-3-1-3 5-3 0-3-5-3 3-3-1-3-2-3 2-3 1-3-1-3 0-3-2-3 1-3 4-3-4-3 0-3 1-3 1-3-1-3-1-3 3-3 1-3 3-3-6-3 2-3-1-3 4-3 2-3-2-3 0-3 0-3 0-3-2-3 4-3 2-3-1-3 0-3-1-3 2-3-2-3-2-3 3-3-2-3 0-3 1-3 1-3-1-3 0-3-1-3 2-3-2-3 2-3 1-3 2-3-2-3-1-3 0-3 1-3-1-3 1-3-4-3 3-3-2-3-3-3 3-3-3-3 1-3 2-3 1-3 0-3 1-3-3-3 1-3-1-3 2-3 1-3-6-3 3-3 0-3 2-3-2-3 2-3 0-3-3-3 1-3 1-3 0-3 1-3-3-3 5-3-2-3 0-3z"/><path filter="url(#bB17)" fill="#ffffff" d="M499 1632l-1 3 6 3-6 3 3 3-1 3 0 3 1 3-1 3-1 3-1 3 0 3 0 3 0 3 1 3 0 3 1 3-1 3 4 3-4 3-1 3 4 3-3 3 1 3 2 3-3 3-1 3 2 3-1 3-1 3 0 3 0 3-1 3 2 3-1 3 3 3 1 3-3 3 1 3-2 3 0 3 2 3 1 3 0 3-1 3-2 3-5 3 6 3 0 3-1 3 0 3 0 3 4 3-4 3 2 3-2 3 0 3-2 3 0 3-1 3 2 3-2 3-1 3 0 3 0 3 4 3-3 3 1 3-2 3 0 3 4 3-2 3 0 3 3 3-1 3-2 3-1 3-1 3-1 3 3 3-5 3 2 3-5 3 1 3 3 3-1 3 0 3-1 3-2 3 1 3 0 3 2 3 1 3-2 3-2 3 0 3 2 3-1 3-4 3 4 3-2 3-1 3-1 3-1 3 4 3-3 3 2 3 1 3 2 3-2 3-1 3-2 3 1 3 0 3-2 3 1 3-2 3-2 3 0 3 4 3 1 3-1 3-2 3-1 3 2 3 0 3-3 3 4 3-3 3 3 3 0 3 1 3 0 3 0 3-4 3 1 3 3 3-1 3-4 3 0 3 5 3 2 3-3 3-1 3 0 3-4 3 2 3 5 3 0 3-5 3 6 3 0 3 0 2 14 0-4-2 1-3 2-3-1-3 4-3-5-3 0-3-2-3 1-3 0-3-3-3 4-3-2-3 0-3 2-3 2-3-4-3 0-3 1-3 3-3-1-3-2-3-1-3 2-3 0-3 0-3-1-3 1-3-3-3-2-3 2-3 0-3 2-3-3-3 6-3-1-3 2-3-2-3-3-3 3-3-2-3 2-3 1-3 0-3 0-3 0-3 0-3 1-3-3-3-1-3 3-3-1-3 3-3 0-3-1-3-1-3 5-3-5-3-1-3 5-3-1-3-1-3 3-3-3-3 4-3-3-3 3-3-3-3 3-3-2-3 2-3-3-3 1-3 3-3-1-3 2-3-2-3 4-3-1-3-1-3 1-3 1-3 1-3-6-3 2-3 1-3-2-3 0-3 1-3 3-3-3-3 2-3 0-3 1-3-2-3 2-3 2-3 1-3-5-3 1-3 3-3-3-3-4-3 6-3-2-3 1-3 1-3 1-3 1-3 1-3 1-3-3-3-1-3 4-3 2-3-4-3 1-3-1-3 0-3-3-3 3-3 0-3-2-3-1-3 2-3 2-3 2-3-2-3-1-3 2-3 0-3 1-3-2-3 2-3-4-3-2-3 2-3 0-3 0-3 2-3-1-3-4-3 6-3 0-3-2-3 1-3-1-3 2-3-1-3-2-3 1-3-1-3z"/></g><rect x="205.3" y="1739" width="544.4" height="1.6" fill="#d0d0e0" opacity="0.75"/><rect x="214.2" y="1874.5" width="417.7" height="78.1" fill="none" stroke="#d8d8e8" stroke-width="1.3"/><rect x="218.4" y="1870.7" width="417.7" height="78.1" fill="none" stroke="#111" stroke-width="5.8"/><rect x="791.8" y="1591" width="31.2" height="502.1" fill="url(#cbg)"/><path d="M823 1641.2h-4M823 1691.4h-4M823 1741.6h-4M823 1791.8h-4M823 1842h-4M823 1892.3h-4M823 1942.5h-4M823 1992.7h-4M823 2042.9h-4" stroke="#333" stroke-width="1.2" opacity=".6"/><text class="c" x="832" y="2100.1">0</text><text class="c" x="832" y="2049.9">1</text><text class="c" x="832" y="1999.7">2</text><text class="c" x="832" y="1949.5">3</text><text class="c" x="832" y="1899.3">4</text><text class="c" x="832" y="1849">5</text><text class="c" x="832" y="1798.8">6</text><text class="c" x="832" y="1748.6">7</text><text class="c" x="832" y="1698.4">8</text><text class="c" x="832" y="1648.2">9</text><text class="c" x="832" y="1598">10</text><path d="M636.5 1868.3L888 1501.6M636.5 1951.2L888 2140.2" stroke="#000" stroke-width="4.3" fill="none"/><text class="b" x="365.1" y="1571" font-size="80.5">S2</text><text class="ar" font-size="79" transform="translate(450.8 1571) scale(1 .73)">→</text><text class="b" x="531.4" y="1571" font-size="80.5">S3</text><text class="b" font-size="31.5" text-anchor="middle" transform="translate(81.9 1886.9) rotate(48)" y="7.7">Sept 16th</text><text class="b" font-size="31.5" text-anchor="middle" transform="translate(81.9 2052) rotate(48)" y="7.7">Sept 15th</text><rect x="888" y="2161.5" width="1331.6" height="648.1" fill="none" stroke="#404040" stroke-width="3.4" stroke-dasharray="12 10.3"/><path d="M979 2747.1H2124.2M979 2747.1v28.5M1169.9 2747.1v28.5M1360.7 2747.1v28.5M1551.6 2747.1v28.5M1742.5 2747.1v28.5M1933.3 2747.1v28.5M2124.2 2747.1v28.5M979 2747.1h-28M979 2682.3h-28M979 2617.5h-28M2124.2 2747.1h28.5M2124.2 2709.3h28.5M2124.2 2671.4h28.5M2124.2 2633.6h28.5M2124.2 2595.8h28.5M2124.2 2558h28.5M2124.2 2520.1h28.5M2124.2 2482.3h28.5M2124.2 2444.5h28.5M2124.2 2406.7h28.5M2124.2 2368.8h28.5M2124.2 2331h28.5M2124.2 2293.2h28.5" stroke="#8f8f8f" stroke-width="1.6" fill="none"/><clipPath id="cwB2"><path clip-rule="evenodd" d="M959 2253.7H2144.2V2785.6H959ZM1159.6 2755.6L1159.6 2715.2L1159.6 2687.2L1159.6 2659.3L1159.6 2631.4L1164.7 2603.4L1164.7 2575.5L1164.7 2547.6L1164.7 2519.6L1164.7 2491.7L1164.7 2463.8L1164.7 2435.8L1169.7 2407.9L1169.7 2380L1169.7 2352L1169.7 2324.1L1169.7 2296.2L1169.7 2283.7L1275 2283.7L1275 2296.2L1275 2324.1L1270 2352L1270 2380L1270 2407.9L1270 2435.8L1270 2463.8L1265 2491.7L1265 2519.6L1265 2547.6L1265 2575.5L1265 2603.4L1265 2631.4L1265 2659.3L1260 2687.2L1260 2715.2L1260 2755.6ZM1581.1 2755.6L1581.1 2715.2L1581.1 2687.2L1586.1 2659.3L1586.1 2631.4L1586.1 2603.4L1586.1 2575.5L1586.1 2547.6L1586.1 2519.6L1591.2 2491.7L1591.2 2463.8L1591.2 2435.8L1591.2 2407.9L1591.2 2380L1591.2 2352L1591.2 2324.1L1591.2 2296.2L1591.2 2283.7L1666.4 2283.7L1666.4 2296.2L1666.4 2324.1L1666.4 2352L1666.4 2380L1666.4 2407.9L1666.4 2435.8L1666.4 2463.8L1661.4 2491.7L1661.4 2519.6L1661.4 2547.6L1661.4 2575.5L1661.4 2603.4L1661.4 2631.4L1656.4 2659.3L1656.4 2687.2L1656.4 2715.2L1656.4 2755.6ZM1741.7 2755.6L1741.7 2715.2L1746.7 2687.2L1746.7 2659.3L1746.7 2631.4L1746.7 2603.4L1751.7 2575.5L1751.7 2547.6L1751.7 2519.6L1751.7 2491.7L1756.7 2463.8L1756.7 2435.8L1756.7 2407.9L1756.7 2380L1756.7 2352L1761.8 2324.1L1761.8 2296.2L1761.8 2283.7L1852.1 2283.7L1852.1 2296.2L1852.1 2324.1L1852.1 2352L1847.1 2380L1847.1 2407.9L1847.1 2435.8L1847.1 2463.8L1847.1 2491.7L1842 2519.6L1842 2547.6L1842 2575.5L1842 2603.4L1837 2631.4L1837 2659.3L1837 2687.2L1837 2715.2L1832 2755.6Z"/></clipPath><rect x="979" y="2293.7" width="1145.2" height="451.9" fill="url(#wB2)" clip-path="url(#cwB2)"/><g class="wf" transform="translate(979 0) scale(5.0177 .5)"><path d="M0 5481q.5 -3 1-3t1 4 1 7 1 3 1-2 1-5 1-5 1-2 1 2 1 5 1 5 1 1 1-3 1-1 1 2 1 0 1-3 1-1 1 2 1 1 1 0 1 1 1 2 1 1 1 0 1-1 1-2 1-2 1-2 1-2 1-2 1-1 1 0 1 1 1 3 1 3 1 1 1 0 1 1 1 2 1-1 1-3l1-5 1-21 1-26 1-25 .2-4 .8 17 1 20 1 12 1 10 1 9q.5 3 1 4t1 0 1 0 1 4 1 5 1 2 1 1 1 1 1-1 1-2 1-1 1 1 1 2 1 1 1-1 1-1 1 0 1 1 1 1 1-3 1-5 1-2 1 0 1 1 1 3 1 4 1 3 1 1 1-1 1-2 1-1 1 0 1 0 1 1 1 2 1 1 1-1 1-1 1 1 1 1 1 0 1 0 1-1 1-2 1-5 1-6 1 0 1 5 1 5 1 2 1 0 1 0 1-2 1-3 1 0 1 3 1 2 1 0 1 1 1 1 1-3 1-7 1-4 1 4 1 7 1 2 1-3 1-5 1-5 1-2 1 2 1 6 1 5 1-5l1-18 .8-16 .2 3 1 20 1 10q.5 3 1 3t1 0 1 1 1 1 1 0 1 0 1 1 1 2 1 1 1-2 1-3 1-1 1-1 1-2 1-2 1-2 1 0 1 2 1 2 1 2 1 1 1 0 1 2 1 2 1-1 1 0 1 0 1-8l1-21 1-31 1-34 1-42 .3-12 .7 21 1 28 1 26 1 21 1 15 1 15 1 14q.5 5 1 7t1 2 1 0 1 0 1-1 1-2 1-1 1 1 1 2 1 1 1-1 1-1 1 0 1 1 1 1 1-3 1-5 1-2 1 0 1 1 1 3 1 4 1 3 1 1 1-1 1-2 1-1 1 0 1 0 1 1 1 2 1 1 1-1 1-1 1 1 1 1 1 0 1 0 1-1 1-2 1-5 1-6 1 0 1 5 1 5 1 2 1 0 1 0 1-2 1-3 1 0 1 3 1 2 1 0 1 1 1 1 1-3 1-7 1-4 1 4M0 5487q.5 1 1-1t1-4 1-3 1-1 1 1 1 1 1 0 1 2 1 2 1-1 1 0 1 3 1 2 1 0 1-2 1-6 1-6 1 0 1 5 1 5 1 3 1 0 1-1 1 1 1 0 1-1 1-1 1-4 1-6 1-3 1 3 1 7 1 5 1 1 1-2 1-3 1-2 1-1 1 0 1 0 1 0 1-5l1-14 1-24 1-27 .7-22 .3 6 1 17 1 15 1 17 1 18 1 16q.5 5 1 5t1-2 1-3 1-1 1 0 1 2 1 5 1 5 1 1 1-4 1-4 1-1 1 1 1 2 1 0 1-3 1-3 1-2 1 0 1 3 1 3 1 0 1-3 1-2 1 1 1 1 1 1 1 3 1 3 1 1 1-1 1-2 1-1 1 1 1 1 1 1 1 2 1 1 1-1 1-2 1-1 1 1 1 0 1-2 1 0 1 2 1 2 1 0 1-3 1-4 1-2 1 3 1 5 1 1 1-2 1-2 1-2 1-1 1 0 1-1 1 1 1 4 1 0 1-3 1-2 1-1 1 1 1 1 1 0 1 2 1 2 1-1 1-2l1-4 1-17 .6-11 .4 8 1 13 1 4q.5 1 1 0t1 0 1 4 1 5 1 3 1 0 1-1 1 1 1 1 1-1 1-2 1-4 1-5 1-2 1 3 1 6 1 4 1 1 1-1 1-3 1-3 1-1 1 0 1 0 1 1 1 1 1-1 1-2 1-7l1-20 1-42 1-53 1-58 .1-4 .9 40 1 41 1 32 1 23 1 21 1 17 1 7q.5 2 1 3t1 4 1 5 1 1 1-3 1-4 1-2 1 1 1 2 1 0 1-2 1-3 1-3 1 0 1 3 1 4 1 1 1-3 1-3 1 0 1 2 1 2 1 2 1 2 1 1 1-1 1-1 1 0 1 0 1 1 1 2 1 1 1 0 1-1 1-2 1 0 1 2 1 0 1-2 1 0 1 2 1 1 1 0 1-2 1-4 1-2 1 3 1 4 1 0 1-1 1-1 1-2 1-1 1-1 1-1 1 2 1 4 1 0 1-3M0 5482q.5 0 1-3t1-5 1-3 1-1 1 2 1 5 1 5 1 1 1-1 1-1 1-4 1-4 1 2 1 5 1 3 1 0 1-2 1 0 1 1 1-3 1-5 1-2 1 2 1 3 1 1 1 1 1 2 1 1 1 1 1 1 1-1 1-3 1-4 1-2 1 3 1 5 1 1 1-3 1-5 1-2 1 1 1-4l1-10 1-13 1-15 .8-14 .2 2 1 12 1 14 1 10 1 7 1 7q.5 3 1 4t1 1 1 0 1 0 1 0 1 2 1 3 1-2 1-2 1 3 1 0 1-2 1 2 1 3 1 0 1-4 1-5 1-3 1-2 1-2 1-1 1 4 1 7 1 0 1-3 1 3 1 5 1 2 1-1 1-1 1 1 1 1 1 0 1 0 1 0 1-1 1-1 1-3 1-7 1-5 1 1 1 4 1 2 1-1 1-1 1 2 1 4 1 3 1 2 1 0 1-1 1 1 1 0 1-1 1 1 1 0 1-3 1-5 1-4 1 1 1 5 1 4 1-2 1-5 1-2 1 0 1 1 1 4 1 5 1 1 1-1 1-1 1-4 1-4 1 0 1 1l1-3 .3-4 .7 5 1 4q.5 2 1 4t1 2 1-2 1-5 1-3 1 2 1 3 1 1 1 2 1 2 1 0 1 1 1 1 1-1 1-3 1-4 1-2 1 3 1 5 1 1 1-3 1-4 1-1 1 0 1-9l1-24 1-37 1-48 .9-50 .1 3 1 36 1 35 1 29 1 24 1 21 1 15q.5 5 1 7t1 2 1-1 1-1 1 2 1 3 1-2 1-2 1 3 1-1 1-3 1 2 1 4 1 1 1-4 1-5 1-3 1-2 1-3 1-1 1 5 1 7 1 0 1-3 1 3 1 5 1 2 1-1 1-1 1 1 1 1 1 0 1-1 1-1 1 0 1-1 1-4 1-7 1-4 1 2 1 3 1 1 1 0 1 0 1 1 1 3 1 4 1 2 1-1 1-1 1 1 1 0 1 0 1 2 1 0 1-3 1-5 1-4 1 1 1 5 1 3 1-2 1-4M35 5470q.5 -2 1-3t1 0 1 4 1 5 1 2 1-2l1-6 1-13 1-17 1-22 1 12 1 13 1 10 1 9 1 11q.5 3 1 3t1 0 1 1 1 0 1-1 1-2 1-1M119 5468q.5 1 1 3t1 3 1 2 1 2 1-1 1-7l1-13 .9-15 .1 0 1 11 1 9q.5 3 1 4t1 1 1 1 1 3 1 3 1 2 1 1M151 5473q.5 3 1 5t1 2 1 0 1 0 1-2l1-8 1-22 1-30 1-34 .5-19 .5 12 1 23 1 24 1 16 1 15 1 15 1 4q.5 2 1 3t1-1 1-2 1 2 1 2M35 5467q.5 0 1-1t1-1 1 2 1 4 1 1 1 0 1-1l1-12 1-20 1-29 1-39 .2-8 .8 16 1 20 1 20 1 22 1 18 1 12q.5 3 1 1t1-6 1-6 1-2 1 1M119 5471q.5 0 1 1t1 0 1-1 1 0 1-3 1-5 1-3l1-4 1-7 1 12 1 5q.5 1 1 1t1 0 1 0 1-1 1-1 1 0M151 5468q.5 2 1 4t1 1 1-1 1 1 1-1 1-7l1-17 1-31 1-35 .6-23 .4 7 1 22 1 24 1 23 1 17 1 10 1 0q.5 -1 1-2t1-2 1 0 1 2 1 2M35 5453q.5 2 1 6t1 6 1 1 1-3l1-6 1-16 1-22 1-29 .1-2 .9 17 1 17 1 16 1 10 1 10 1 10q.5 2 1-1t1-5 1-3 1-2 1-3 1-3 1-1 1 1M119 5466q.5 1 1-1t1-3 1 0 1 2 1-1 1-9l1-17 1-22 .1 0 .9 23 1 21 1 6q.5 1 1 0t1-1 1 2 1 3 1 0 1-1M151 5467q.5 -1 1-1t1 1 1 2 1 0 1-7l1-16 1-24 1-30 .6-21 .4 8 1 20 1 21 1 11 1 9 1 9 1 5q.5 1 1 0t1-3 1-2 1 1 1 3 1 3M35 5457q.5 2 1 4t1 3 1 1 1-1 1-4 1-7l1-10 1-11 1-15 1-22 1 12 1 13 1 14 1 12 1 8q.5 3 1 3t1-2 1-2 1 2 1 5 1 3 1-1M119 5464q.5 0 1 0t1 0 1 0 1 0 1 0 1-1 1-4 1-10l1-17 .8-14 .2 2 1 17 1 15q.5 6 1 9t1 4 1 1 1 0 1-1M151 5464q.5 0 1-1t1-4 1-5 1-2 1 1 1 0 1-8l1-20 1-26 1-29 .5-17 .5 11 1 23 1 18 1 14 1 12 1 15 1 13q.5 4 1 5t1-1 1-3 1-1M35 5457q.5 0 1 1t1 1 1-1 1-1 1-1 1-7l1-17 1-20 1-25 .5-15 .5 9 1 18 1 16 1 15 1 15 1 9q.5 2 1 1t1 0 1 2 1 1 1 0 1 0 1-3M119 5456q.5 -1 1-1t1 1 1 2 1 2 1 0 1-3 1-3 1-2l1-4 1-11 .6-9 .4 6 1 12 1 10q.5 3 1 4t1 1 1 0 1 0M151 5458q.5 -1 1-1t1 1 1-1 1-4l1-6 1-19 1-31 1-39 .5-18 .5 12 1 25 1 23 1 20 1 11 1 13 1 11q.5 3 1 3t1 0 1 0 1-3 1-4 1-1M35 5451q.5 1 1 1t1-3 1-4 1 0 1 2 1-1l1-9 1-15 1-21 1-23 1 18 1 13 1 14 1 15 1 9q.5 3 1 2t1-3 1-3 1-1 1 0 1 1 1 1M119 5456q.5 -1 1-4t1-3 1 0 1-1 1-3 1-3 1-2l1-3 1-8 .2-1 .8 10 1 10q.5 3 1 3t1 1 1 2 1 0 1-1 1-1M151 5443q.5 0 1 1t1 2 1 2 1 1 1 0 1 0 1-5l1-17 1-38 1-45 .8-38 .2 4 1 32 1 25 1 21 1 20 1 17 1 13q.5 5 1 7t1 2 1 0 1 2M35 5449q.5 1 1 0t1-3 1-3 1 1 1 3 1-2l1-11 1-11 1-20 .7-15 .3 2 1 18 1 13 1 6 1 1 1 4q.5 3 1 6t1 5 1 3 1 1 1 0 1 0 1-1M119 5449q.5 -1 1-4t1-4 1 0 1 2l1-1 1-21 .9-25 .1 2 1 19 1 16 1 14q.5 4 1 4t1-1 1-2 1-1 1-1 1-2 1-3M151 5443q.5 0 1 2t1 3 1 0 1-4l1-14 1-37 1-50 1-56 .3-19 .7 27 1 32 1 27 1 27 1 28 1 23 1 13q.5 4 1 4t1 0 1 0 1-1 1-2 1-1M35 5444q.5 0 1-1t1-2 1 0 1-1 1-6 1-10l1-14 1-13 1-15 .5-11 .5 10 1 17 1 11 1 9 1 8 1 9q.5 3 1 3t1-1 1-3 1-3 1 0 1 3 1 2M119 5442q.5 0 1-1t1 0 1 2 1 0 1-3 1-3 1-1 1 0 1-2l1-6 1-13 .3-3 .7 11 1 14q.5 5 1 6t1 0 1 0 1 2M151 5443q.5 0 1-3t1-6 1-4 1 0 1 5 1 4l1-9 1-33 1-50 1-61 .4-26 .6 19 1 39 1 34 1 28 1 20 1 15 1 14q.5 5 1 7t1 2 1-1 1-1M35 5439q.5 0 1-1t1-3 1-4 1-2 1 2 1 4 1 3 1 0l1-7 1-16 1-22 1-23 .2-6 .8 12 1 15 1 16 1 12 1 10 1 6q.5 2 1 3t1 2 1 0 1-3M119 5436q.5 0 1 1t1 2 1 1 1-2 1-3 1-2 1-2 1-4l1-10 .5-8 .5 5 1 11 1 12q.5 4 1 3t1-4 1-4 1 0 1 4M151 5431q.5 -1 1-1t1 2 1 4 1 3 1-1l1-7 1-17 1-22 1-25 .3-9 .7 12 1 15 1 16 1 12 1 11 1 8q.5 3 1 5t1 3 1 0 1-3 1-2 1-1M35 5431q.5 -3 1-5t1 0 1 4 1 2 1 0 1 1 1 0 1-6l1-15 1-21 1-22 .5-10 .5 9 1 18 1 15 1 11 1 6 1 6q.5 3 1 5t1 3 1 0 1-2 1 0M119 5434q.5 1 1 2t1 0 1-1 1 1 1-1 1-8l1-14 .6-10 .4 6 1 14 1 10q.5 2 1-2t1-8 1-6 1 0 1 4 1 3 1 1M151 5433q.5 2 1 1t1-2 1 0 1 2 1-1 1-8l1-17 1-28 1-34 1-39 1 29 1 23 1 19 1 17 1 17 1 14q.5 5 1 6t1 0 1-1 1 2 1 2M35 5426q.5 -2 1-2t1 1 1 2 1 2 1 1 1-2 1-6l1-11 1-17 1-20 .4-10 .6 9 1 16 1 12 1 8 1 8 1 10q.5 3 1 3t1-2 1-3 1-2 1-2 1-2M119 5430q.5 -1 1-1t1-1 1-4 1-3 1 0 1 0l1-2 1-12 .3-5 .7 6 1 9 1 6q.5 2 1 4t1 3 1-2 1-3 1 2 1 3M151 5427q.5 2 1 3t1 0 1-1 1-2l1-8 1-25 1-37 1-49 .6-27 .4 14 1 30 1 25 1 25 1 24 1 18 1 6q.5 2 1 1t1-2 1-2 1-1 1-1 1-2M35 5416q.5 2 1 5t1 2 1-6 1-8 1-6l1-8 1-18 1-21 1-27 .1-1 .9 22 1 18 1 14 1 11 1 10 1 11q.5 5 1 8t1 5 1 2 1-1 1-2 1-1 1 0M119 5424q.5 -1 1-3t1-3 1 0 1 4 1 3 1-3 1-7l1-13 1-25 .1-3 .9 17 1 14 1 9q.5 2 1 2t1 0 1-1 1-2 1-3M151 5415q.5 -4 1-7t1-2 1 1 1-6l1-19 1-33 1-47 .8-45 .2 7 1 32 1 28 1 27 1 27 1 26 1 19q.5 6 1 7t1 0 1-2 1-1 1 0 1-3 1-5M35 5411q.5 1 1 1t1-1 1-1 1-3l1-9 1-19 1-23 .8-24 .2 5 1 21 1 19 1 17 1 10 1 10q.5 4 1 5t1 0 1 0 1 2 1 2 1 0 1-2 1-3 1-3M119 5410q.5 -2 1-2t1 2 1 5 1 4 1 0 1 0 1 2 1-2l1-11 1-16 .4-8 .6 10 1 13 1 8q.5 2 1 2t1-1 1-1 1 0M151 5410q.5 0 1 2t1 3 1 1l1-4 1-19 1-29 1-35 .5-20 .5 11 1 21 1 22 1 18 1 15 1 12 1 11q.5 4 1 5t1 0 1-2 1-3 1-4 1-2 1 2M35 5415q.5 1 1 1t1 0 1 0 1-1 1-3 1-2 1-3l1-9 1-14 1-15 .7-16 .3 3 1 17 1 9 1 7 1 8 1 9q.5 5 1 8t1 0 1-5 1-2 1 2 1 4M119 5408q.5 2 1 4t1 3 1 1 1 0 1-4l1-12 1-18 .4-9 .6 11 1 14 1 14q.5 5 1 6t1 1 1 0 1-1 1-2 1 0 1 2M151 5417q.5 0 1-1t1-3 1-2 1 0 1 0 1 0 1-5l1-21 1-36 1-53 .9-50 .1 3 1 34 1 35 1 34 1 22 1 13 1 13q.5 6 1 10t1 6 1 1 1-3M35 5404q.5 -1 1-1t1 0 1 1 1 1 1-3l1-9 1-17 1-24 .2-4 .8 8 1 14 1 15 1 11 1 4q.5 1 1 1t1 1 1 3 1 4 1 2 1 0 1 1 1 0 1-4M119 5411q.5 0 1 0t1 1 1 1 1 0 1-3l1-12 1-18 .7-13 .3 6 1 17 1 13q.5 5 1 8t1 3 1-1 1-4 1-5 1-3 1 1M152 5406q.5 1 1 3t1 2 1-2 1-4 1-5l1-9 1-19 1-29 1-41 .4-18 .6 14 1 24 1 27 1 24 1 17 1 12 1 10q.5 3 1 2t1-5 1-7 1-3M35 5398q.5 2 1 3t1 1 1 0 1 0 1 1 1 1 1-2l1-6 1-17 1-20 .9-28 .1 0 1 14 1 16 1 16 1 15 1 11q.5 3 1 3t1-1 1-1 1 0 1-2 1-4M119 5401q.5 1 1 3t1 2 1-3 1-4 1-3l1-4 .2-2 .8 7 1 4q.5 2 1 3t1 2 1 2 1 1 1-1 1-4 1-6 1-5 1-2M152 5401q.5 0 1 1t1 2 1 2 1 2 1-4l1-17 1-36 1-44 1-49 .1-3 .9 31 1 34 1 27 1 20 1 15 1 14q.5 6 1 8t1 0 1-4 1-2 1 2M35 5400q.5 0 1-1t1-3 1-4 1-2 1 1l1 1 1-20 1-19 .6-10 .4 6 1 14 1 11 1 12 1 10 1 3q.5 2 1 2t1-2 1-6 1-5 1 1 1 5 1 4 1 2M119 5396q.5 0 1 0t1 2 1 4 1 1 1-1 1-2 1-3 1-3l1-8 1-14 .6-10 .4 8 1 14 1 8q.5 3 1 4t1 0 1-3 1-3M152 5390q.5 1 1 5t1 6 1-1 1-4 1-3l1-9 1-19 1-24 1-29 1 17 1 19 1 13 1 7 1 6 1 11q.5 5 1 9t1 5 1 2 1 2 1 1M35 5393q.5 1 1 0t1-2 1-1 1-1 1-3 1-7l1-15 1-19 1-20 1-24 1 23 1 17 1 17 1 18 1 14q.5 5 1 7t1 1 1-3 1-3 1-2 1-3 1-4M119 5392q.5 -2 1-3t1-1 1 0 1 1 1 3 1 4 1 0 1-11l1-22 1-17 1 26 1 15 1 6q.5 1 1 1t1 0 1-1 1-2M152 5389q.5 -1 1-3t1-4 1-6l1-12 1-21 1-27 1-39 .2-9 .8 20 1 25 1 27 1 22 1 17 1 11q.5 4 1 4t1-1 1-2 1-3 1-4 1-2 1 1M35 5390q.5 0 1 0t1-1 1-2 1-2 1-4l1-12 1-22 1-28 .8-21 .2 4 1 30 1 15 1 10 1 11 1 11q.5 4 1 7t1 4 1 2 1 2 1 1 1-2 1-4 1-4M119 5385q.5 0 1-1t1 1 1 4 1 3 1-1 1-5 1-5l1-4 1-15 .3-5 .7 9 1 10 1 8q.5 3 1 4t1 1 1 1 1 2 1-1M152 5386q.5 0 1 0t1-1 1-3 1-2 1 3 1 5 1-6l1-25 1-33 1-41 .8-37 .2 5 1 33 1 31 1 26 1 21 1 13 1 8q.5 2 1 2t1-1 1 0M35 5383q.5 1 1 1t1-1 1-2 1-3 1-4 1-4 1-4 1-6l1-8 1-10 1-12 .5-9 .5 10 1 15 1 14 1 11 1 5 1 1q.5 0 1 1t1 2 1 2 1 2 1 1M119 5389q.5 -1 1-3t1-6 1-6 1-1 1 0l1-7 1-11 .4-3 .6 13 1 12 1 3q.5 1 1 1t1 2 1 3 1 0 1-3 1-2 1 1M152 5378q.5 -2 1-4t1-4 1-4 1-5l1-11 1-16 1-22 .9-26 .1 3 1 22 1 21 1 18 1 11 1 7 1 6q.5 3 1 5t1 3 1 2 1 1 1-1 1-3M35 5378q.5 -1 1 0t1 2 1-2 1-5 1-1 1-1l1-9 1-20 1-23 1-27 .1-2 .9 19 1 21 1 20 1 15 1 10 1 5q.5 1 1 1t1 0 1-1 1-1 1 1 1 2M119 5386q.5 0 1-1t1-1 1 0 1-1 1-2 1-1 1-1l1-7 1-17 .8-23 .2 5 1 18 1 15q.5 6 1 9t1 3 1 0 1 0 1 1M152 5371q.5 -2 1 0t1 3 1 2 1-2l1-13 1-31 1-51 1-58 .3-20 .7 29 1 38 1 32 1 27 1 22 1 19 1 10q.5 3 1 3t1 1 1 2 1 0 1-2M35 5376q.5 2 1 3t1-1 1-5 1-4 1-1l1-4 1-16 1-25 1-30 .2-7 .8 13 1 17 1 16 1 14 1 12 1 7q.5 3 1 4t1 2 1 3 1 2 1-1 1-2 1-1M119 5380q.5 0 1 0t1-1 1-1 1 1 1 1 1-2 1-7l1-12 1-21 1 14 1 17q.5 7 1 8t1-1 1-1 1 2 1 1 1-1M152 5366q.5 -1 1 1t1 5 1 4 1 0 1-2 1-3 1-7l1-16 1-29 1-37 1-44 1 28 1 28 1 28 1 22 1 13 1 9q.5 4 1 6t1 2 1-1M35 5366q.5 -1 1-1t1 1 1 1 1-3l1-12 1-19 1-23 .6-12 .4 7 1 23 1 12 1 13 1 12 1 3q.5 2 1 2t1-1 1-1 1 0 1 0 1-1 1 0 1 2 1 1M119 5372q.5 -1 1-2t1 0 1 3 1 3 1 0 1-5 1-8l1-10 1-14 .3-7 .7 13 1 14 1 9q.5 3 1 3t1 0 1 0 1 1 1 2M152 5369q.5 0 1-1t1-2 1-1 1 2 1 1l1-12 1-22 1-27 .9-33 .1 0 1 21 1 18 1 16 1 16 1 11 1 7q.5 3 1 4t1 2 1 1 1 0 1-2M35 5372q.5 1 1 0t1-2 1-3 1-1 1 1 1-1 1 0 1 1 1 1 1 0 1-9l1-20 1-16 1-21 .3-7 .7 12 1 12 1 9 1 9 1 10 1 13q.5 6 1 9t1 3M119 5359q.5 2 1 5t1 4 1-1 1-4 1-2 1-1l1-4 1-13 .3-6 .7 7 1 7 1 8q.5 3 1 5t1 2 1 0 1 0 1 1 1 2M152 5367q.5 1 1 1t1-1 1-1 1 0 1 0 1-6l1-21 1-35 1-35 .7-29 .3 8 1 27 1 21 1 16 1 15 1 15 1 17q.5 7 1 10t1 3 1-1 1-2M35 5350q.5 -1 1-2t1-1 1-1 1-6l1-14 1-22 1-27 .5-16 .5 13 1 21 1 16 1 17 1 17 1 12q.5 4 1 5t1-1 1-3 1-1 1 0 1 0 1 2 1 4 1 3M120 5366q.5 0 1 0t1 0 1 0 1-2 1-8l1-16 .9-23 .1 3 1 21 1 18 1 8q.5 2 1 2t1-1 1-1 1 0 1 0 1 0M152 5349q.5 1 1 2t1 3 1 3 1-2l1-13 1-30 1-36 1-40 .2-8 .8 26 1 27 1 21 1 17 1 17 1 13q.5 5 1 7t1 3 1 3 1 3 1 0 1-3M35 5361q.5 0 1 0t1-1 1-1 1 1 1-1 1-3 1-2l1-7 1-18 1-17 .7-12 .3 5 1 16 1 12 1 8 1 8 1 8q.5 3 1 4t1 1 1 0 1-1 1-3 1-4M120 5356q.5 2 1 4t1 2 1 0 1-1 1-5l1-12 1-13 .2-2 .8 10 1 13q.5 5 1 8t1 3 1 0 1-1 1-3 1-4 1-5M152 5360q.5 0 1-1t1-2 1-3l1-11 1-28 1-32 1-38 .1-3 .9 25 1 24 1 18 1 18 1 16 1 12q.5 5 1 6t1 1 1-1 1-3 1-4 1-3 1 0M35 5355q.5 -1 1-1t1 0 1 0 1 0 1 0 1-1 1-3 1-7l1-15 1-18 1-20 1-28 1 15 1 13 1 18 1 22 1 18q.5 6 1 7t1 0 1 0 1 2 1 1M120 5352q.5 -1 1-1t1 0 1-3l1-11 1-15 .6-8 .4 9 1 20 1 11q.5 3 1 2t1-3 1-2 1 1 1 2 1 2 1 1 1 0M152 5355q.5 0 1 0t1-1 1-3 1-4 1-2 1 1l1 0 1-20 1-35 1-43 .5-19 .5 12 1 31 1 28 1 18 1 13 1 13 1 11q.5 4 1 4t1-1 1-3M35 5344q.5 2 1 4t1 3 1 1 1-2 1-2 1 1 1 0 1-2 1-1 1-1l1-5 1-21 1-23 .8-18 .2 3 1 21 1 13 1 9 1 9 1 9q.5 4 1 6t1 3 1 1M120 5341q.5 3 1 6t1 3 1-2 1-4 1-5l1-10 1-16 .3-4 .7 14 1 16 1 6q.5 1 1 0t1-1 1 1 1 4 1 4 1 0M152 5349q.5 -2 1-2t1 1 1-3l1-14 1-19 1-21 .8-18 .2 3 1 12 1 14 1 16 1 16 1 7 1 3q.5 1 1 2t1 1 1 1 1 2 1 2 1-1 1-2M35 5338q.5 0 1 1t1 1 1-2 1-2 1 3 1 6 1 1 1-8l1-12 1-11 1-13 .7-13 .3 4 1 11 1 9 1 8 1 8 1 8q.5 4 1 7t1 3 1-1 1-2 1 0M120 5342q.5 2 1 2t1-3 1-4 1 0 1 3l1 0 1-15 .6-13 .4 5 1 12 1 10q.5 3 1 3t1 0 1 0 1 1 1 1 1 0M152 5335q.5 0 1 4t1 7 1-2l1-19 1-29 1-31 1-38 .2-6 .8 24 1 23 1 19 1 18 1 15 1 13q.5 6 1 10t1 4 1-1 1-2 1 0 1 1 1 0M35 5339q.5 1 1 2t1 2 1 1 1-1 1-2 1-4l1-11 1-19 1-25 .7-18 .3 5 1 15 1 16 1 16 1 15 1 5q.5 1 1 1t1 1 1 2 1 1 1-1 1-2 1-3 1-3M120 5336q.5 0 1-1t1-2 1 1 1 4 1 0l1-6 1-16 .2-3 .8 9 1 14q.5 5 1 7t1 1 1-1 1-1 1-1 1 0 1 0M152 5342q.5 0 1 0t1 1 1 0 1-7l1-20 1-38 1-49 1-55 1 38 1 36 1 26 1 21 1 22 1 17q.5 6 1 7t1 0 1-3 1-4 1-3 1-2M35 5329q.5 2 1 5t1 4 1-1 1-2 1 0 1-3 1-10l1-18 1-18 1-22 .9-22 .1 2 1 23 1 13 1 12 1 18 1 18q.5 6 1 6t1-3 1-3 1 2 1 3 1 0 1-2M120 5339q.5 0 1-1t1-2 1-2 1 0 1 2 1-2l1-8 1-15 1 13 1 7q.5 2 1 2t1 0 1 2 1 1 1-3 1-2M152 5335q.5 0 1 0t1-3 1-6 1-5 1-5l1-13 1-28 1-42 .9-50 .1-2 1 28 1 33 1 34 1 22 1 12 1 12q.5 5 1 9t1 4 1-1 1-2 1-3M35 5325q.5 0 1 0t1 2 1 4 1 2 1-1 1-2 1-5l1-13 1-15 1-18 1-26 .2-3 .8 13 1 18 1 17 1 15 1 12q.5 5 1 8t1 3 1-2 1-3 1-3 1-3 1 0M120 5332q.5 -1 1-2t1-2 1-2 1-3l1-7 1-13 .3-3 .7 8 1 10q.5 3 1 3t1-1 1 0 1 3 1 3 1 0 1-2 1 0M152 5334q.5 0 1-1t1-3 1-5 1-9l1-16 1-28 1-41 1-50 1 31 1 31 1 29 1 24 1 19 1 13q.5 4 1 5t1-1 1-4 1-3 1 0 1 4M35 5321q.5 0 1 0t1 0 1 0 1-1 1-2 1 0 1 2l1-2 1-21 1-23 1-22 1 19 1 21 1 14 1 11 1 4q.5 3 1 5t1 1 1-3 1-4 1-2 1-1 1-1M120 5321q.5 0 1 1t1 3 1 3 1 1 1-2 1-5l1-8 1-10 .3-3 .7 10 1 8 1 6q.5 2 1 2t1 0 1 1 1 0 1-2M152 5319q.5 -1 1-2t1 0 1 5 1 5 1-5l1-17 1-26 1-29 1-32 .3-13 .7 20 1 26 1 19 1 21 1 16 1 8 1 4q.5 1 1 0t1-2 1-1 1 0M35 5322q.5 -1 1 0t1 1 1 0 1-1 1-6l1-19 1-27 1-27 .5-15 .5 9 1 21 1 17 1 16 1 14 1 11q.5 5 1 8t1 2 1-5 1-7 1-2 1 3 1 4 1 3 1 2M120 5325q.5 0 1-1t1-4 1-5 1-2 1 2 1 3 1-1 1-6l1-10 .8-12 .2 2 1 7 1 1q.5 1 1 2t1 3 1 5 1 5M152 5323q.5 0 1 0t1-3 1-4 1 0 1 2 1 0 1-6l1-15 1-27 1-34 1-37 1 28 1 19 1 15 1 18 1 20 1 16q.5 6 1 8t1 2 1 0M35 5312q.5 3 1 4t1 1 1-1 1-1 1 1 1 1 1-3l1-12 1-22 1-25 .5-12 .5 7 1 16 1 15 1 16 1 13 1 7q.5 2 1 0t1-4 1-2 1 1 1 3 1 2 1 0M120 5320q.5 0 1 0t1-1 1-2 1-3 1-4l1-8 1-13 .5-6 .5 9 1 11 1 5q.5 1 1 2t1 4 1 3 1 0 1 0 1-4 1-4M152 5314q.5 0 1 1t1 2 1 2 1 0 1-3 1-3 1-6l1-17 1-33 1-38 1-49 .1-2 .9 30 1 27 1 22 1 22 1 22 1 17q.5 7 1 9t1 2 1 0M35 5308q.5 2 1 4t1 3 1 1 1-1 1-4 1-9l1-16 1-26 1-31 .5-15 .5 10 1 27 1 25 1 12 1 3 1 6q.5 3 1 5t1 4 1 5 1 4 1 0 1 0 1 0 1-1M120 5313q.5 0 1 0t1-2 1-2 1 1 1 0 1-5 1-7 1-5l1-5 1-9 .1-1 .9 10 1 9q.5 3 1 4t1 0 1-1 1 3 1 7M152 5314q.5 -1 1-2t1-4l1-11 1-33 1-46 1-52 .6-30 .4 18 1 43 1 30 1 19 1 20 1 21 1 16q.5 6 1 9t1 3 1-1 1 0 1 1 1 0 1 0M35 5310q.5 -1 1-2t1-2 1-2 1-1 1 0 1 0 1-2l1-7 1-12 1-15 1-21 1 10 1 8 1 11 1 12 1 8q.5 3 1 5t1 4 1 2 1-3 1-7 1-6 1-1M120 5299q.5 1 1 2t1 2 1 1 1-3l1-10 .7-13 .3 3 1 9 1 4q.5 1 1-1t1-2 1 2 1 6 1 7 1 4 1 1 1-1 1-3M152 5302q.5 0 1 0t1 0 1-4l1-15 1-30 1-38 1-48 .1-5 .9 25 1 24 1 26 1 24 1 19 1 14q.5 6 1 9t1 3 1-3 1-7 1-6 1-1 1 5M35 5298q.5 2 1 3t1 0 1-3 1-2 1 1 1-4l1-15 1-18 1-20 .4-10 .6 7 1 11 1 12 1 15 1 13 1 9q.5 3 1 4t1 2 1 1 1 1 1 1 1 0 1 0 1-3M120 5306q.5 -1 1-3t1-3 1 0 1 2 1-2l1-13 1-22 .6-13 .4 10 1 23 1 11q.5 5 1 7t1 2 1 0 1 0 1-1 1-2 1-3M152 5295q.5 1 1 3t1 2 1-1 1-1 1-3l1-13 1-24 1-28 1-25 1 24 1 19 1 17 1 15 1 13 1 8q.5 3 1 4t1 1 1 0 1-3 1-5M35 5293q.5 -2 1-5t1-2 1 4 1 5 1 2 1 1 1 2 1-1 1-6l1-10 1-10 1-21 .3-5 .7 8 1 13 1 8 1 5 1 4q.5 2 1 5t1 6 1 4 1-1 1-1 1 1M120 5298q.5 2 1 3t1-1 1-4 1-1 1 3 1-2l1-14 1-23 .5-15 .5 10 1 25 1 18q.5 5 1 5t1 0 1-1 1-1 1 1 1 1M152 5296q.5 2 1 2t1 1 1 1 1-4l1-14 1-22 1-29 1-43 .2-8 .8 20 1 26 1 20 1 14 1 12 1 13q.5 6 1 10t1 5 1-1 1-1 1 1 1-2M35 5285q.5 0 1 2t1 4 1 1 1-3 1-3 1 0 1 3 1 2l1-5 1-16 1-19 1-22 .1-3 .9 12 1 10 1 13 1 14 1 10q.5 4 1 6t1 3 1 1 1 0 1 0 1 1M120 5296q.5 0 1 0t1 0 1 1 1 0 1-1 1-1 1-5l1-12 1-22 .1-2 .9 17 1 16 1 5q.5 1 1 0t1-1 1 1 1 2 1 2M152 5289q.5 -2 1-3t1 0 1 3 1 1l1-11 1-32 1-41 1-50 .3-18 .7 20 1 29 1 28 1 28 1 23 1 15 1 10q.5 3 1 4t1 0 1 0 1 2 1 1M35 5284q.5 0 1 1t1 1 1-1 1-1 1-1 1-5l1-9 1-13 1-17 .3-5 .7 9 1 10 1 12 1 12 1 10q.5 3 1 1t1-4 1-3 1 1 1 5 1 4 1-1 1-4 1-3M120 5291q.5 0 1 0t1 0 1-3l1-9 1-18 .2-3 .8 6 1 9q.5 5 1 9t1 6 1 2 1 0 1 1 1 2 1 0 1-3 1-4 1-2M152 5285q.5 0 1 0t1 0 1 1 1-1l1-10 1-32 1-44 1-50 .4-22 .6 24 1 36 1 25 1 20 1 18 1 19 1 17q.5 6 1 7t1-1 1-4 1-4 1-2M35 5281q.5 -1 1 0t1 2 1 1 1 0 1 1 1 2 1-1 1-7l1-14 1-26 1-34 .6-20 .4 8 1 21 1 19 1 16 1 11 1 11q.5 4 1 6t1 1 1-2 1-1 1 0 1-1M120 5282q.5 -1 1 0t1 3 1 2 1-1 1-1 1-4l1-10 .9-13 .1 0 1 11 1 10q.5 4 1 6t1 2 1 0 1-4 1-6 1-2 1 0M152 5283q.5 0 1 1t1 2 1 1 1 0 1 0 1-5l1-15 1-23 1-28 1-33 .1-4 .9 18 1 17 1 19 1 18 1 12 1 7q.5 3 1 5t1 2 1-1 1-2M35 5280q.5 1 1 1t1-1 1-1 1 1 1 1 1-3 1-9l1-13 1-18 1-22 .3-7 .7 13 1 17 1 12 1 11 1 13 1 2q.5 1 1 1t1 1 1 1 1 0 1 0 1 1 1 1M120 5276q.5 -2 1 0t1 4 1 1 1-6l1-15 1-26 .2-5 .8 18 1 18 1 9q.5 2 1 1t1 0 1 3 1 2 1-1 1-1 1 1 1 2M152 5282q.5 1 1 1t1-2 1-3 1-1 1-1l1-7 1-15 1-21 1-31 .3-7 .7 13 1 21 1 11 1 12 1 13 1 10q.5 4 1 5t1 1 1 0 1 0 1 1M35 5273q.5 0 1 1t1 1 1-2 1-4 1-3 1 0 1 3 1 4 1 2 1-6l1-16 1-24 1-29 .6-17 .4 8 1 25 1 17 1 10 1 13 1 14q.5 6 1 7t1-1 1-2 1 1M120 5272q.5 -2 1-3t1-1 1-1 1-4l1-10 1-14 .3-1 .7 12 1 19q.5 6 1 8t1 2 1 0 1 0 1-2 1-2 1 1 1 0 1-3M152 5268q.5 -2 1-3t1 0 1 1l1-3 1-16 1-24 1-30 .1-3 .9 15 1 16 1 14 1 17 1 11 1 2q.5 2 1 4t1 4 1 3 1-1 1-1 1 2 1 2M35 5268q.5 -2 1-3t1 0 1 2 1 3 1 3 1-2l1-9 1-15 1-31 1-36 .4-16 .6 10 1 25 1 23 1 19 1 11 1 7q.5 2 1 2t1-2 1-4 1-2 1 1 1 2 1 1M120 5269q.5 2 1 3t1 1 1-1 1-3 1-5 1-8l1-12 .7-10 .3 5 1 16 1 15q.5 4 1 4t1 0 1 0 1-1 1-2 1-1 1-1M152 5268q.5 2 1 3t1 0 1 0 1 1 1-2 1-7l1-13 1-24 1-30 1-40 .3-14 .7 15 1 23 1 22 1 18 1 13 1 11 1 10q.5 3 1 4t1 1 1 0M35 5265q.5 1 1 1t1-1 1-4 1-5 1-4 1-4l1-5 1-14 1-21 .4-8 .6 6 1 11 1 11 1 12 1 15q.5 7 1 10t1 1 1-3 1 0 1 3 1 2 1-1 1-1 1 0M120 5268q.5 0 1-1t1-4 1-3 1 1 1-2l1-12 1-22 .2-7 .8 15 1 17 1 15q.5 4 1 4t1-2 1-2 1 1 1 1 1-2 1-3M152 5255q.5 -2 1-2t1 2 1 4 1 1 1-6l1-15 1-32 1-42 1-49 .5-21 .5 22 1 41 1 25 1 25 1 25 1 20 1 15q.5 3 1 1t1-2 1 0 1-3M35 5256q.5 -1 1-2t1-1 1 1 1 1l1-5 1-18 1-25 1-33 .2-6 .8 12 1 20 1 21 1 19 1 16 1 7q.5 1 1-1t1-5 1-3 1 3 1 5 1 2 1-2 1-3 1-1M120 5254q.5 1 1 3t1 4 1 2 1-3 1-6l1-8 .3-4 .7 6 1 8q.5 3 1 3t1 0 1 0 1-1 1-1 1-1 1-1 1 2 1 3M152 5259q.5 1 1 1t1-1 1-3 1-6 1-7l1-9 1-12 1-18 1-22 1 17 1 14 1 8 1 10 1 16 1 13q.5 5 1 5t1-2 1-3 1-1 1 0M35 5257q.5 -2 1-5t1-5 1-2 1 0 1 1 1 1l1-3 1-17 1-25 1-32 .4-15 .6 12 1 21 1 26 1 21 1 13 1 7q.5 3 1 4t1 1 1 0 1-1 1-3 1-2 1 1M120 5260q.5 0 1-2t1-6l1-8 .8-11 .2 2 1 10 1 8q.5 3 1 4t1-1 1-6 1-6 1-2 1 2 1 5 1 6 1 3 1-1 1-1M152 5246q.5 0 1 0t1 2 1 4 1 2 1-7l1-24 1-45 1-53 1-54 1 46 1 36 1 31 1 28 1 23 1 17q.5 6 1 7t1-1 1-3 1 0 1 2 1 1M35 5239q.5 0 1 2t1 5 1 4 1 2 1 2 1 0 1-2 1-4 1-5 1-7l1-15 1-24 1-30 .6-19 .4 10 1 25 1 27 1 16 1 14 1 8q.5 2 1 3t1 2 1 1 1-2M120 5246q.5 2 1 4t1 2 1-1 1 0 1 2 1 1 1-1 1-9l1-20 1-22 1 25 1 15 1 3q.5 0 1-1t1 1 1 5 1 3M152 5251q.5 1 1 2t1 0 1-6l1-17 1-26 1-29 .9-29 .1 2 1 20 1 18 1 17 1 18 1 21 1 7q.5 3 1 4t1 0 1-2 1 1 1 2 1-2 1-3 1-1M35 5241q.5 -3 1-4t1-2 1-2 1-2 1 0 1 0 1-6l1-12 1-16 1-13 .5-8 .5 13 1 16 1 10 1 11 1 11 1 7q.5 2 1 2t1 1 1 2 1 1 1-1 1-1 1 1M120 5251q.5 0 1-1t1-1 1-1 1-4l1-9 1-10 .2-4 .8 7 1 8q.5 5 1 9t1 5 1 1 1-1 1-1 1 0 1-2 1-3 1 0M152 5231q.5 -1 1 0t1 1 1-1 1-7l1-19 1-31 1-43 1-58 1 35 1 34 1 33 1 27 1 20 1 16q.5 7 1 10t1 3 1-1 1-1 1 0 1-1 1-2M35 5243q.5 1 1 2t1 0 1-3 1-8l1-14 1-16 1-16 .9-24 .1 1 1 14 1 13 1 9 1 10 1 13q.5 7 1 12t1 6 1 0 1-3 1-4 1-3 1 1 1 4 1 3 1 2M120 5239q.5 0 1 2t1 3 1 1 1-2 1-5l1-9 1-26 .1-2 .9 11 1 15 1 8q.5 2 1 1t1-1 1 1 1 3 1 3 1 1 1-1M152 5238q.5 -3 1-4t1 1 1 5 1-1l1-16 1-31 1-41 1-47 .3-12 .7 24 1 35 1 29 1 21 1 14 1 9 1 6q.5 2 1 4t1 4 1 3 1 2 1 1 1 0M35 5234q.5 0 1-1t1-1 1 1 1 2 1 2 1 2 1 1 1-1 1-2l1-5 1-22 1-25 1-29 .4-11 .6 15 1 23 1 18 1 12 1 14 1 11q.5 2 1-1t1-5 1-2 1-1M120 5237q.5 0 1 1t1 2 1 1 1 0 1-1 1-7l1-16 .9-21 .1 1 1 13 1 15q.5 7 1 11t1 3 1-3 1-2 1 2 1 3 1 0M152 5236q.5 1 1 2t1 2 1 1 1-4l1-15 1-29 1-50 1-58 .4-25 .6 21 1 38 1 36 1 29 1 21 1 19 1 15q.5 2 1-1t1-5 1-3 1-2 1-3 1-4M35 5231q.5 -2 1-2t1 2 1 4 1 2 1 0 1-1 1-2 1-4l1-11 1-20 1-23 1-22 1 22 1 15 1 11 1 8 1 9q.5 4 1 7t1 4 1 2 1 2 1 2 1 0M120 5231q.5 1 1 2t1 0 1-1 1 0 1 0 1-1 1-1 1 0 1-1l1-5 1-9 1 9 1 2q.5 2 1 4t1 4 1 2 1 0M152 5237q.5 0 1 0t1-1 1-2 1-6l1-17 1-39 1-47 1-53 .2-12 .8 30 1 34 1 28 1 24 1 22 1 19 1 13q.5 4 1 4t1 1 1 1 1-1 1-1 1 0M35 5228q.5 -2 1-3t1-1 1 2 1 4 1 2 1-3 1-10l1-15 1-10 1-11 .6-8 .4 6 1 13 1 12 1 10 1 8q.5 4 1 6t1 2 1 0 1-1 1-4 1-4 1-1 1 1M120 5231q.5 1 1 1t1 0 1 0 1 0 1-2 1-9l1-15 .7-8 .3 5 1 16 1 9q.5 2 1 1t1-2 1 0 1 2 1 1 1 0 1 0M152 5230q.5 2 1 2t1-3 1-7 1-4 1 1 1-1l1-11 1-27 1-35 1-42 1 29 1 26 1 22 1 18 1 16 1 5q.5 2 1 2t1 0 1 1 1 3 1 3M35 5227q.5 -1 1-5t1-6 1-3 1-2 1-2l1-6 1-13 1-16 1-14 1 17 1 13 1 8 1 7 1 7q.5 4 1 8t1 6 1 1 1-1 1-1 1-1 1 0 1 0 1-1M120 5224q.5 -1 1-2t1 0 1 2 1-1l1-10 1-15 .6-12 .4 6 1 16 1 14q.5 4 1 5t1 0 1-1 1 0 1 0 1 0 1-1 1-2M152 5211q.5 0 1 0t1 0 1 0 1 0 1-1l1-10 1-34 1-50 1-60 .3-19 .7 25 1 41 1 40 1 28 1 26 1 16 1 11q.5 3 1 2t1-2 1-2 1-1 1 0M35 5219q.5 -2 1-3t1-1 1 1 1 1 1-1 1-1 1 2 1 0l1-11 1-20 1-24 .8-16 .2 4 1 22 1 12 1 14 1 10 1 1q.5 -1 1-2t1 0 1 4 1 5 1 3 1 0M120 5214q.5 -1 1-1t1 2 1 3 1-2l1-11 1-15 .2-2 .8 12 1 10 1 1q.5 0 1 0t1 3 1 5 1 3 1-1 1-4 1-2 1 0M152 5218q.5 0 1-1t1-1 1 2 1 2 1-7l1-24 1-39 1-45 .9-46 .1 2 1 33 1 33 1 28 1 18 1 12 1 14q.5 7 1 12t1 7 1 2 1-1 1-3 1-3M35 5215q.5 -1 1-2t1-1 1 2 1 1 1-1 1 1 1 1 1 0 1-1l1-7 1-18 1-21 1-22 .1-3 .9 15 1 13 1 9 1 10 1 11q.5 5 1 9t1 5 1-1 1-4 1-2M120 5207q.5 0 1 2t1 4 1 3 1 1 1-1 1-3 1-5l1-8 .1-2 .9 2 1 4q.5 2 1 4t1 3 1 3 1 3 1 0 1-3 1-4M152 5215q.5 -1 1-1t1 1 1 1 1 0 1 1 1-2l1-12 1-33 1-42 1-54 .6-35 .4 15 1 33 1 31 1 31 1 28 1 23 1 12q.5 2 1 0t1-2 1 1 1 1M36 5208q.5 1 1 1t1 0 1 1 1 2 1-3l1-9 1-18 1-34 1-39 .3-11 .7 15 1 27 1 23 1 16 1 12 1 9q.5 3 1 2t1-3 1-1 1 4 1 5 1 3 1 1M120 5199q.5 -2 1-2t1 3 1 6 1 3l1-7 1-23 .7-17 .3 6 1 24 1 13q.5 4 1 3t1-1 1 1 1 1 1 0 1 0 1 1 1 2M152 5209q.5 2 1 3t1-1 1-1 1-1 1-11l1-26 1-32 1-34 .8-32 .2 5 1 28 1 24 1 22 1 18 1 11 1 11q.5 5 1 9t1 6 1 2 1 0 1 1 1 0M36 5203q.5 -1 1-2t1-1 1 0 1 0 1 1 1 1 1-1 1-5l1-10 1-15 1-21 .7-14 .3 3 1 14 1 17 1 15 1 9 1 1q.5 1 1 2t1 1 1-1 1 1 1 5M120 5200q.5 1 1 3t1 2 1-1 1 0 1 2 1-2l1-7 .8-11 .2 1 1 2 1 1q.5 1 1 4t1 6 1 5 1 3 1 0 1-1 1 1M152 5200q.5 0 1 0t1 1 1 1 1-2 1-9l1-21 1-34 1-45 .7-36 .3 5 1 31 1 32 1 29 1 20 1 11 1 10q.5 4 1 5t1 0 1 1 1 5 1 4 1 0M36 5204q.5 2 1 0t1-4 1-4 1-2 1-1 1-8l1-18 1-24 1-29 .4-14 .6 10 1 21 1 21 1 16 1 13 1 10q.5 4 1 5t1 1 1 0 1 0 1 0 1 2 1 3M120 5203q.5 1 1 0t1-1 1-1 1-4 1-4 1 2 1 5 1-1l1-13 1-25 .4-10 .6 14 1 22 1 10q.5 2 1 0t1-2 1 1 1 2M152 5193q.5 -2 1-1t1 2 1-1 1-9l1-20 1-27 1-36 .6-22 .4 10 1 26 1 22 1 18 1 17 1 13 1 9q.5 3 1 3t1 0 1 0 1 2 1 3 1-2 1-2M36 5187q.5 -1 1 1t1 5 1 5 1 2 1 0 1 0 1-2l1-8 1-18 1-24 1-26 .3-8 .7 13 1 18 1 20 1 12 1 10 1 10q.5 2 1 2t1 0 1-2 1-2 1 2M120 5192q.5 2 1 3t1 2 1 2 1 0 1-3 1-6 1-9l1-9 .5-4 .5 5 1 7q.5 3 1 5t1 4 1 4 1 3 1 1 1 0 1 1M152 5199q.5 1 1 1t1 0 1 0 1-2l1-7 1-18 1-22 1-26 .3-9 .7 11 1 17 1 18 1 11 1 10 1 11q.5 3 1 4t1 1 1-2 1-2 1 2 1 2 1 0M36 5187q.5 -1 1-1t1 2 1 4 1 1 1-2l1-5 1-20 1-21 1-28 .3-9 .7 10 1 15 1 14 1 14 1 16 1 12q.5 4 1 5t1-1 1-6 1-6 1-3 1 0 1 2M120 5194q.5 0 1-1t1-1 1 0 1-3 1-4 1 0 1 3 1 3 1-2l1-10 .7-9 .3 1 1 8 1 7q.5 2 1 2t1-1 1-1 1 0M152 5194q.5 1 1 0t1-1 1 1 1 0 1-1 1-1 1-5l1-13 1-24 1-30 1-31 .4-14 .6 17 1 26 1 19 1 12 1 10 1 10 1 8q.5 3 1 4t1 2 1 1M36 5180q.5 4 1 6t1 1 1-1 1 1 1 1 1-4l1-13 1-14 1-20 .3-5 .7 10 1 10 1 11 1 13 1 2q.5 1 1 1t1-1 1-2 1-2 1-2 1-1 1 1 1 2M120 5184q.5 -1 1-2t1 0 1 2 1 1 1-2 1-2 1 1 1 1l1-5 1-22 .4-9 .6 10 1 15 1 12q.5 5 1 6t1 0 1-1 1 0M152 5186q.5 0 1 1t1 2 1 1 1 0 1-1 1-6l1-14 1-26 1-31 .7-21 .3 5 1 17 1 14 1 15 1 13 1 9 1 4q.5 1 1 2t1 2 1 2 1 2 1 4M36 5181q.5 2 1 3t1 1 1-1 1-4 1-8l1-13 1-18 1-26 1-33 1 18 1 21 1 20 1 18 1 12 1 6q.5 1 1-1t1-2 1 2 1 4 1 3 1 0 1-2M120 5185q.5 0 1 0t1 0 1 0 1 0 1-1 1-6l1-14 1-18 .1-1 .9 9 1 12q.5 6 1 10t1 6 1 3 1 1 1 0 1 0 1-1M153 5180q.5 -3 1-5t1-2 1 0 1-8l1-27 1-44 1-50 .7-40 .3 8 1 40 1 34 1 28 1 22 1 18 1 17q.5 7 1 10t1 3 1-1 1-2 1-1 1 0M36 5179q.5 1 1 1t1-1 1-1 1-2l1-11 1-17 1-18 .9-18 .1 1 1 17 1 12 1 11 1 10 1 10q.5 4 1 5t1-1 1-2 1 1 1 1 1 1 1 1 1-3 1-4M120 5176q.5 -1 1-5l1-13 1-18 1 19 1 10 1 4q.5 1 1 2t1 2 1 1 1 0 1 0 1 1 1 1 1 0 1 0 1 1 1 0M153 5181q.5 0 1-2t1-2 1-1l1-9 1-27 1-39 1-45 .4-17 .6 18 1 31 1 26 1 17 1 19 1 17 1 10q.5 3 1 3t1 0 1-3 1-4 1-1 1 0M36 5175q.5 -1 1-5t1-5 1 0 1 2 1 0l1-6 1-11 1-15 1-16 1 14 1 8 1 10 1 12 1 7q.5 2 1 1t1-3 1-3 1-1 1 0 1 1 1 1 1 1M120 5171q.5 -2 1-2t1 1 1 0 1-3 1-3 1-1 1-1l1-9 1-19 .5-12 .5 14 1 16 1 16q.5 6 1 8t1 1 1-2 1-2 1-1M153 5168q.5 1 1 1t1 0 1-1 1-6l1-16 1-29 1-42 .7-32 .3 7 1 31 1 24 1 18 1 14 1 13 1 10q.5 3 1 4t1 1 1 0 1 1 1 3 1 3M36 5170q.5 -1 1-3t1-3 1 1 1 4 1 0 1-6l1-10 1-22 1-26 .7-18 .3 5 1 20 1 12 1 8 1 10 1 13q.5 6 1 9t1 3 1 0 1 0 1 0 1 0 1-1M120 5163q.5 -2 1-3t1 0 1 3 1 0l1-10 .7-11 .3 3 1 7 1 8q.5 4 1 7t1 4 1 0 1-2 1-1 1-1 1-2 1-3 1-3M153 5170q.5 1 1 0t1-1 1 1 1-2l1-13 1-21 1-33 1-46 .4-20 .6 13 1 24 1 27 1 26 1 19 1 14 1 9q.5 3 1 3t1-1 1-2 1-1 1 2M36 5165q.5 -1 1-2t1 0 1-2 1-6 1-4 1-1 1 0l1-1 1-15 1-21 .6-16 .4 3 1 12 1 12 1 14 1 10 1 6q.5 1 1 0t1-2 1 0 1 3 1 2 1-1M120 5160q.5 0 1 1t1 2 1 1 1-2 1-3 1-4l1-7 .9-7 .1 1 1 8 1 5q.5 3 1 6t1 4 1 0 1-2 1 0 1 2 1 1M153 5154q.5 -3 1-4t1 0 1 5 1 7 1-1l1-14 1-27 1-33 .8-26 .2 4 1 22 1 19 1 15 1 11 1 7 1 10q.5 4 1 7t1 3 1-1 1-1 1 1M36 5159q.5 -1 1-3t1-4 1-2 1 2 1 2 1-4l1-13 1-20 1-25 .3-8 .7 11 1 19 1 13 1 12 1 11 1 6q.5 2 1 2t1 0 1 1 1 2 1-1 1-3 1-2M120 5157q.5 1 1 2t1 1 1-2 1-3 1-2 1 0 1 0l1-6 1-15 .3-4 .7 9 1 15q.5 5 1 6t1-1 1-3 1 0 1 3 1 3M153 5153q.5 2 1 3t1-4l1-20 1-38 1-49 1-56 1 39 1 32 1 29 1 27 1 20 1 15q.5 5 1 7t1 2 1 1 1-1 1-3 1-2 1-1 1-1M36 5145q.5 -1 1 1t1 5 1 3 1-1 1 0 1 2 1 0 1-4 1-10l1-18 1-22 1-26 .4-12 .6 13 1 19 1 14 1 14 1 14 1 11q.5 4 1 4t1-1 1 0 1 3M120 5158q.5 0 1-1t1-1 1 1 1 1 1-2 1-3 1-2 1-4l1-12 1-31 .1-1 .9 11 1 11 1 12q.5 5 1 7t1 2 1 0 1 1M153 5152q.5 0 1 1t1 2 1 0 1-5l1-11 1-26 1-35 1-43 .6-29 .4 14 1 29 1 25 1 23 1 22 1 19 1 12q.5 3 1 2t1-1 1 2 1 2 1-1M36 5145q.5 0 1 1t1 2 1 2 1-1l1-8 1-17 1-23 1-28 .4-12 .6 14 1 19 1 19 1 14 1 9 1 7q.5 4 1 6t1 1 1-3 1-3 1-2 1-1 1-1 1-2M120 5150q.5 0 1-1t1-4 1-4 1-1 1 0l1-1 1-8 1 5 1 6q.5 2 1 3t1 2 1 2 1-2 1-3 1 2 1 4 1 2M153 5151q.5 -1 1-1t1 0 1 1 1 1 1 0 1-1 1-6l1-19 1-39 1-47 1-51 1 35 1 27 1 27 1 23 1 18 1 14q.5 5 1 6t1 0 1 0M36 5143q.5 2 1 1t1-6 1-8 1-3 1 2 1 3 1 2 1 0l1-7 1-15 1-20 .4-9 .6 5 1 11 1 13 1 17 1 12q.5 4 1 6t1 2 1-1 1-1 1 0 1-3M120 5141q.5 -2 1-3t1 0 1 4 1 4 1-1 1-2 1-2l1-7 .9-13 .1 0 1 6 1 5q.5 2 1 3t1 1 1-1 1-2 1-2 1-2M153 5126q.5 0 1 2t1 4 1 4 1 2 1-7l1-26 1-45 1-56 .8-51 .2 7 1 42 1 42 1 37 1 26 1 21 1 13q.5 5 1 6t1 1 1-3 1-5 1-3M36 5134q.5 0 1-1t1-1 1 1 1 2 1 3 1 3 1-1l1-7 1-16 1-21 1-28 .2-6 .8 14 1 17 1 14 1 13 1 13 1 9q.5 3 1 3t1-2 1-4 1-3 1-1M120 5128q.5 0 1 2t1 6 1 5 1-1 1-1 1 0l1-7 .9-12 .1 0 1 12 1 6q.5 2 1 2t1-1 1-2 1-1 1-1 1-1 1 1M153 5136q.5 1 1 2t1 2 1 2 1 0 1-6l1-14 1-23 1-26 .5-15 .5 7 1 17 1 15 1 17 1 14 1 8q.5 3 1 4t1-1 1-3 1-1 1 2 1 3M36 5137q.5 0 1 0t1 0 1-1 1-3 1-3 1-4l1-8 1-12 1-12 .6-11 .4 5 1 14 1 7 1 5 1 7 1 7q.5 4 1 6t1 0 1-5 1-2 1 3 1 4 1 2M120 5134q.5 2 1 3t1 1 1 0 1-1 1-1 1-1l1-9 1-20 .6-11 .4 8 1 19 1 13q.5 4 1 5t1-1 1-3 1 0 1 2 1 1M153 5132q.5 -1 1-1t1 0 1 0 1-1l1-6 1-19 1-23 1-32 1 14 1 15 1 17 1 19 1 8 1 1q.5 1 1 3t1 4 1 4 1 2 1-2 1-4M36 5124q.5 0 1 0t1 1 1 2 1 2 1 1 1-4l1-11 1-17 1-15 .9-12 .1 1 1 16 1 10 1 5 1 8 1 11q.5 5 1 8t1 3 1 0 1 0 1-1 1-4 1-6M120 5132q.5 0 1 1t1 1 1-1 1-2 1-3 1-2 1-1l1-6 1-14 .5-6 .5 9 1 15 1 8q.5 2 1 0t1-5 1-4 1 1 1 4M153 5130q.5 1 1 1t1-1 1-4 1-5 1-8l1-19 1-39 1-55 .9-55 .1 4 1 38 1 40 1 35 1 28 1 21 1 16q.5 6 1 6t1-4 1-7 1-3 1 2M36 5122q.5 1 1 1t1 0 1 0 1 0 1 0 1-2l1-8 1-19 1-22 .7-21 .3 4 1 14 1 16 1 16 1 15 1 9q.5 3 1 2t1-2 1-1 1 0 1-1 1-3 1-2M120 5125q.5 2 1 2t1-3 1-3 1 2 1 3 1 1 1-2 1-6l1-9 1-18 1 16 1 13 1 3q.5 -1 1-4t1-5 1-2 1 1M153 5123q.5 1 1 2t1 2 1 2 1 1 1-1 1-6l1-15 1-31 1-39 1-49 .5-30 .5 18 1 33 1 29 1 28 1 25 1 16 1 8q.5 2 1 2t1 2 1 5M36 5121q.5 -1 1-3t1-4 1-2 1 4 1 6 1-1 1-4 1-2l1-5 1-15 1-19 1-22 .2-6 .8 12 1 18 1 11 1 5 1 5 1 9q.5 4 1 7t1 4 1 2 1 2M120 5115q.5 0 1 2t1 4 1 1 1 0 1-1 1-3 1-3l1-7 1-16 .8-17 .2 3 1 19 1 12q.5 5 1 7t1 1 1-3 1-3 1-3M153 5116q.5 4 1 6t1-1 1-4 1-1 1-5l1-17 1-25 1-32 .7-28 .3 7 1 25 1 19 1 12 1 11 1 15 1 15q.5 5 1 7t1 2 1 1 1 1 1 0M36 5114q.5 -1 1-2t1-1 1-1 1-3 1-4 1-3 1 0 1 4 1 5 1-1l1-11 1-15 1-14 .5-8 .5 8 1 14 1 10 1 7 1 5 1 5q.5 1 1 0t1-3 1-3M120 5109q.5 -1 1-1t1 0 1 1 1 3 1 3 1-4l1-15 .4-7 .6 2 1 12q.5 6 1 10t1 4 1-1 1-1 1 0 1-1 1-3 1-3M153 5106q.5 -2 1-4t1-3 1-2l1-5 1-11 1-22 1-30 1 18 1 20 1 18 1 13 1 9 1 4q.5 1 1 1t1-1 1-3 1-4 1-2 1 1 1 3M36 5111q.5 0 1-1t1-2 1-1 1 0 1-1 1-3 1-4 1-4l1-5 1-22 1-30 .3-8 .7 11 1 18 1 16 1 16 1 13 1 8q.5 3 1 3t1-2 1-4 1-4 1-2M120 5103q.5 0 1 2t1 5 1 3 1-2 1-4 1-1 1 0l1-7 1-17 .1-1 .9 9 1 10q.5 4 1 7t1 3 1 0 1 1 1 0 1-3M153 5107q.5 0 1-1t1-3 1-3 1-1l1 0 1-23 1-32 1-33 1 20 1 20 1 20 1 18 1 13 1 9q.5 3 1 2t1-3 1-4 1-2 1 1 1 4M36 5106q.5 0 1-1t1-3 1-4 1-5 1-9l1-16 1-19 1-19 .5-9 .5 11 1 23 1 18 1 14 1 12 1 7q.5 2 1 0t1-4 1-3 1 0 1 2 1 2 1 2 1 0M120 5108q.5 -2 1-6t1-6 1-2 1 1 1 1 1-2l1-5 .5-6 .5 6 1 5 1 5q.5 3 1 5t1 3 1 0 1-3 1-2 1 1 1 2M153 5094q.5 -2 1-4t1-3 1-1 1 2 1 1l1-9 1-27 1-38 .9-40 .1 3 1 29 1 22 1 19 1 18 1 17 1 13q.5 5 1 7t1 2 1-1 1-3 1-4M36 5098q.5 1 1 2t1-2 1-5 1-1 1 3 1 2 1 0 1 0l1-3 1-15 1-14 .6-10 .4 6 1 11 1 9 1 6 1 6q.5 3 1 5t1 2 1 0 1 1 1 2 1 1M120 5104q.5 -1 1 0t1 1 1-1 1-2 1-1 1 1 1 0 1-6l1-17 .9-24 .1 1 1 20 1 16 1 10q.5 3 1 3t1-1 1 0 1 1M153 5093q.5 1 1 2t1 2 1 2 1 1l1-2 1-25 1-30 1-37 .5-21 .5 11 1 25 1 20 1 19 1 17 1 13 1 8q.5 3 1 4t1 2 1 0 1-2 1 0M36 5100q.5 1 1-1t1-5 1-4 1 0 1 3 1 2 1-3l1-9 1-15 1-18 .8-15 .2 3 1 12 1 11 1 10 1 8 1 8q.5 4 1 7t1 3 1-1 1-2 1-1 1 1M120 5102q.5 0 1-1t1-1 1 1 1 0 1-6l1-14 1-18 .4-11 .6 12 1 14 1 16q.5 5 1 5t1-2 1-1 1 2 1 1 1-1 1-3M153 5089q.5 2 1 4t1 3 1 0 1-4l1-10 1-31 1-40 1-49 .5-28 .5 14 1 33 1 29 1 28 1 27 1 19 1 9q.5 2 1 1t1-1 1 1 1 0 1-1M36 5085q.5 0 1 1t1 2 1 1 1-2l1-9 1-15 1-14 1-15 .2-5 .8 11 1 15 1 14 1 8 1 7q.5 3 1 4t1 1 1 0 1 0 1-1 1 0 1 2 1 1 1 0M120 5091q.5 -1 1 0t1 3 1 3 1 0 1-4 1-5 1 0 1 2 1-6l1-19 .9-23 .1 1 1 23 1 16 1 9q.5 3 1 3t1 1 1 1M153 5089q.5 -1 1-2t1-1 1 3 1 4 1-6l1-23 1-34 1-50 .8-44 .2 5 1 32 1 30 1 27 1 23 1 16 1 14q.5 5 1 7t1 2 1 0 1-2 1-4M36 5090q.5 0 1 0t1-2 1-1 1 1 1-2 1-5l1-10 1-19 1-19 .8-26 .2 3 1 14 1 18 1 17 1 12 1 6q.5 2 1 1t1-2 1 1 1 6 1 7 1 3 1-1M120 5085q.5 2 1 3t1-1 1-4 1-2 1 1 1-1l1-7 .6-10 .4 2 1 5 1 7q.5 3 1 5t1 3 1 1 1 0 1 1 1 2 1-1M153 5089q.5 0 1-1t1-1 1 0 1 1 1 1 1-5l1-13 1-27 1-39 1-51 .7-38 .3 11 1 31 1 29 1 30 1 31 1 27 1 13q.5 4 1 4t1-1 1-3M36 5068q.5 -1 1-1t1 1 1 1 1-2l1-6 1-13 1-17 .8-18 .2 3 1 13 1 14 1 15 1 13 1 7q.5 2 1 2t1-1 1-1 1 0 1 0 1 1 1 3 1 3 1 0M120 5087q.5 0 1 0t1 0 1 0 1-1 1-2 1-4l1-10 .9-13 .1 2 1 14 1 9q.5 4 1 5t1 1 1 0 1 0 1 0 1 0 1 0M153 5072q.5 1 1 2t1 3 1 3 1-2l1-13 1-21 1-26 1-31 .4-13 .6 15 1 20 1 17 1 17 1 15 1 11q.5 5 1 9t1 6 1 3 1-1 1-4 1-2M36 5082q.5 -1 1-2t1-1 1 1 1-3l1-13 1-15 1-26 1-34 .2-7 .8 18 1 24 1 20 1 15 1 10 1 8q.5 3 1 4t1 1 1 0 1 0 1-1 1-3 1-4 1-3M120 5076q.5 2 1 4t1 3 1 0 1-2 1-3 1-7l1-12 1-7 1 15 1 11q.5 4 1 5t1 1 1-1 1-3 1-4 1-5 1-5M153 5079q.5 -1 1-1t1 2 1 1 1-3 1-7l1-18 1-33 1-45 .8-43 .2 2 1 32 1 31 1 27 1 23 1 17 1 12q.5 3 1 2t1-4 1-4 1 0 1 3M36 5074q.5 0 1 1t1 1 1 0 1-1 1-4l1-9 1-18 1-19 .9-13 .1 2 1 21 1 12 1 3 1 1 1 7q.5 5 1 10t1 7 1 1 1-2 1 0 1 3 1 2 1-1M120 5072q.5 -1 1-1t1 0 1-1 1-2 1 0 1 3 1 1l1-7 .9-13 .1 1 1 6 1 7q.5 3 1 5t1 3 1 2 1 1 1 0 1 0M153 5075q.5 0 1-1t1-3 1-4 1-4l1-6 1-20 1-37 1-54 .5-30 .5 12 1 32 1 35 1 32 1 20 1 14 1 11q.5 4 1 6t1 2 1-1 1-3 1-2M36 5069q.5 2 1 3t1 1 1-2 1-2 1-1l1-6 1-24 1-27 1-29 .4-9 .6 18 1 17 1 17 1 18 1 18 1 7q.5 2 1 1t1-1 1 0 1 1 1 2 1 1 1-2M120 5062q.5 3 1 6t1 3 1-2 1-3 1-2 1-1 1 0 1-3l1-10 .9-20 .1 0 1 14 1 11q.5 5 1 9t1 6 1 3 1 0 1-1M153 5067q.5 0 1 2t1 1 1-2 1-1 1 2 1 3 1-4l1-12 1-19 1-23 1-35 .3-12 .7 14 1 20 1 20 1 17 1 15 1 15q.5 4 1 3t1-1 1 1M36 5061q.5 1 1 1t1-2 1-2 1 3 1 6 1 1 1-6l1-11 1-15 1-21 1-29 .5-15 .5 11 1 18 1 17 1 16 1 15 1 13q.5 5 1 6t1 0 1-2 1 0 1 1M120 5063q.5 2 1 2t1-3 1-5 1 0 1 5 1 0l1-13 1-28 .2-4 .8 16 1 18 1 10q.5 3 1 2t1 0 1 2 1 1 1 0 1 1M153 5060q.5 3 1 6t1 2 1-4 1-5l1-5 1-14 1-22 1-31 .4-14 .6 10 1 16 1 17 1 16 1 17 1 12q.5 4 1 4t1 0 1 1 1 1 1-1 1-2M36 5061q.5 1 1 2t1 1 1-1 1-2 1-4l1-10 1-16 1-20 .4-9 .6 7 1 11 1 12 1 13 1 11q.5 4 1 4t1-1 1 0 1 2 1 1 1-1 1-3 1-3 1-2M120 5057q.5 0 1-1t1-2 1 1 1 5 1 3 1 0 1-3l1-8 1-7 .2-2 .8 8 1 6q.5 3 1 4t1 1 1 0 1 0 1 0 1-1M153 5062q.5 0 1 1t1 1 1-1 1-2 1-2 1-4l1-13 1-30 1-42 1-58 .4-27 .6 19 1 38 1 36 1 28 1 22 1 17 1 8q.5 2 1 1t1-2 1-2M36 5056q.5 2 1 2t1-1 1-1 1 0 1-3 1-6 1-4 1 0 1 0l1-3 1-13 1-22 .4-9 .6 4 1 16 1 18 1 8 1 1q.5 1 1 3t1 5 1 4 1 0 1-2M120 5060q.5 0 1-1t1-2 1-2 1 0 1 2 1 1 1-3l1-10 1-13 .4-8 .6 9 1 8 1 8q.5 4 1 6t1 1 1-3 1-2 1 1M153 5057q.5 -1 1-4t1-6 1-4 1-1l1-4 1-17 1-31 1-45 .4-19 .6 11 1 29 1 31 1 20 1 10 1 12 1 12q.5 4 1 5t1 0 1-2 1-3 1-5M36 5045q.5 1 1 3t1 4 1 2 1-5l1-14 1-23 1-29 .8-22 .2 4 1 22 1 17 1 13 1 14 1 12q.5 5 1 8t1 4 1 1 1 0 1-1 1-3 1-3 1-2 1 0M120 5053q.5 -1 1-2t1-2 1-2 1-1 1-1 1-4l1-8 1-11 .1-1 .9 8 1 5q.5 3 1 5t1 4 1 3 1 1 1-1 1 0 1 3M153 5054q.5 -1 1-3t1-4 1-3 1 0 1-1l1-13 1-34 1-42 1-51 .3-17 .7 24 1 36 1 32 1 27 1 20 1 15 1 7q.5 2 1 1t1 0 1 3 1 3M36 5041q.5 0 1 0t1 0 1-1 1-2 1-1l1-2 1-11 1-30 1-32 .3-10 .7 12 1 22 1 25 1 16 1 13 1 5q.5 2 1 3t1 0 1-3 1-4 1-2 1-1 1-1M120 5042q.5 0 1 1t1 2 1 2 1 1 1-1 1-3 1-6l1-10 .5-6 .5 8 1 8 1 7q.5 2 1 2t1 0 1 1 1 0 1-1 1 1M153 5037q.5 -1 1 0t1 5 1 5 1-2 1-5 1-5l1-8 1-10 1-23 1-28 1 14 1 19 1 14 1 9 1 7 1 6q.5 2 1 2t1 0 1 0 1 1M36 5043q.5 0 1 1t1 1 1 0 1-1 1-8l1-17 1-18 1-22 .7-18 .3 6 1 17 1 17 1 14 1 14 1 12q.5 4 1 4t1-4 1-7 1-2 1 3 1 4 1 3 1 2M120 5045q.5 0 1-1t1-4 1-5 1-2 1 0l1-6 1-21 .6-14 .4 8 1 19 1 13q.5 3 1 1t1-6 1-5 1 1 1 5 1 5 1 3M153 5046q.5 -1 1-4t1-4 1 0 1 1 1-1 1-3l1-9 1-17 1-22 1-25 .1-3 .9 17 1 11 1 9 1 12 1 16 1 12q.5 5 1 7t1 3 1 1 1-1M36 5037q.5 1 1 1t1-1 1-1 1 1 1 2 1-1l1-8 1-16 1-18 .8-13 .2 2 1 12 1 11 1 13 1 11 1 5q.5 1 1 0t1-3 1-2 1 1 1 2 1 2 1 1M121 5041q.5 0 1-1t1-2 1-2 1-2 1-2 1-3l1-6 1-15 .1-1 .9 8 1 8q.5 5 1 10t1 5 1 0 1 0 1-4 1-4M153 5035q.5 1 1 3t1 3 1 0 1-5l1-12 1-30 1-42 1-52 .7-38 .3 13 1 40 1 34 1 25 1 20 1 18 1 17q.5 6 1 8t1 2 1 0 1 0 1-1M36 5033q.5 2 1 3t1 1 1-1 1-3 1-3 1-2 1-5l1-13 1-16 1-15 1-18 1 15 1 8 1 10 1 14 1 12q.5 6 1 10t1 5 1 0 1 0 1 1 1 0M121 5034q.5 -1 1-2t1-2 1-1 1-5l1-19 1-30 .1-2 .9 16 1 20 1 13q.5 4 1 4t1-1 1-2 1-2 1-1 1 4 1 7M153 5032q.5 -1 1-2t1-2 1-3 1-4 1-6l1-11 1-20 1-35 .6-28 .4 4 1 20 1 22 1 22 1 20 1 17 1 5q.5 2 1 3t1 1 1 0 1 0 1 0M36 5029q.5 -1 1-2t1-2 1-2 1-1 1 1 1 1 1-3l1-8 1-12 1-17 .8-19 .2 1 1 10 1 12 1 13 1 9 1 7q.5 3 1 6t1 3 1-3 1-7 1-6 1 0M121 5022q.5 1 1 2t1 3 1 2 1-3l1-12 1-16 1 7 1 3q.5 1 1 2t1 4 1 7 1 6 1 3 1 1 1-1 1-3M153 5023q.5 0 1 0t1 0 1 0 1-1l1-7 1-18 1-29 1-35 .2-5 .8 16 1 21 1 17 1 14 1 15 1 11q.5 3 1 2t1-5 1-7 1-2 1 5 1 8 1 6M36 5022q.5 1 1 0t1-3 1-2 1 0 1-4l1-11 1-13 1-15 .3-5 .7 7 1 7 1 8 1 11 1 11q.5 4 1 6t1 3 1 2 1 1 1 0 1 1 1 1 1-1 1-3M121 5022q.5 -2 1-2t1 1 1 2 1 0 1-2 1-2 1-4l1-13 1-29 .1-2 .9 23 1 19 1 11q.5 3 1 3t1-1 1-3 1-4M153 5020q.5 1 1 1t1-1 1-1 1 0 1-7l1-22 1-34 1-39 1-43 1 34 1 30 1 27 1 23 1 18 1 15q.5 5 1 6t1 0 1-3 1-4 1-1 1 2M36 5008q.5 -2 1-2t1 3 1 6 1 3 1 0 1-2l1-11 1-15 1-16 .5-8 .5 8 1 8 1 12 1 11 1 6 1 1q.5 0 1 0t1 1 1 4 1 4 1-1 1-1 1 1M121 5023q.5 0 1-2t1-4 1-1 1 2 1-2l1-9 1-15 .3-4 .7 8 1 14 1 11q.5 3 1 2t1-1 1-1 1-1 1 1 1 1M153 5018q.5 0 1 1t1 2 1 0 1-2 1 0 1 1 1-5l1-15 1-26 1-38 1-47 1 22 1 26 1 27 1 26 1 9 1 13q.5 5 1 7t1 0 1-2 1 1M36 5008q.5 2 1 4t1 1 1-3 1-3 1-1 1 0l1-3 1-15 1-23 1-26 1 17 1 13 1 10 1 12 1 13q.5 5 1 7t1 2 1 1 1 1 1 0 1 1 1 2M121 5017q.5 0 1 0t1 0 1 0 1 0 1-2 1-7l1-12 .6-11 .4 5 1 14 1 10q.5 3 1 2t1-2 1-2 1 0 1 3 1 2M153 5006q.5 -1 1 0t1 3 1 4 1 2 1-1 1-5l1-15 1-34 1-44 1-49 .2-10 .8 26 1 34 1 27 1 25 1 22 1 14 1 9q.5 3 1 4t1 1 1-1 1-1M36 5007q.5 1 1 1t1-1 1-1 1 0 1-2l1-8 1-13 1-17 .9-21 .1-1 1 14 1 15 1 15 1 12 1 4q.5 1 1 0t1-2 1 1 1 5 1 4 1-1 1-4 1-3M121 5012q.5 0 1 0t1 0 1-3 1-10l1-18 1-19 1 21 1 18q.5 7 1 9t1 2 1 1 1 1 1-1 1-3 1-4 1-2M153 5006q.5 0 1 0t1 1 1 2 1 0 1-8l1-24 1-37 1-45 .8-43 .2 3 1 31 1 26 1 25 1 26 1 26 1 19q.5 5 1 4t1-3 1-4 1-2 1 1 1 2M36 5002q.5 1 1 2t1 1 1-1 1 0 1 2 1-1l1-8 1-15 1-26 1-32 .3-7 .7 13 1 18 1 16 1 13 1 9 1 8q.5 3 1 4t1 0 1-2 1-1 1 0 1-1M121 5003q.5 1 1 2t1 1 1 0 1-1l1-8 1-14 .4-7 .6 9 1 10 1 8q.5 3 1 3t1 1 1 1 1-4 1-6 1-2 1 0M153 5004q.5 1 1 2t1 1 1 0 1-2l1-8 1-25 1-30 1-35 .5-18 .5 12 1 22 1 19 1 18 1 18 1 11 1 5q.5 2 1 2t1 0 1-1 1-2 1-1 1 1M36 5004q.5 0 1-2t1-2 1 1 1 1 1-4l1-12 1-16 1-21 .9-22 .1 0 1 20 1 17 1 12 1 10 1 12q.5 3 1 2t1-1 1 1 1 1 1 0 1 0 1 1 1 1M121 4996q.5 1 1 3t1 2 1 0 1 0 1-1 1-2 1-5l1-13 1-21 1 16 1 17q.5 7 1 9t1 1 1-2 1 0 1 2M153 5004q.5 0 1-2t1-3 1-1 1 0 1-2l1-7 1-19 1-30 1-34 .2-7 .8 21 1 16 1 17 1 18 1 14 1 10q.5 4 1 6t1 2 1 0 1 0 1 0 1 0M36 4997q.5 1 1 0t1-3 1-4 1-4 1-4l1-5 1-11 1-15 .5-10 .5 7 1 11 1 10 1 8 1 7q.5 4 1 8t1 3 1-3 1-1 1 3 1 3 1-1 1-2 1 1M121 4990q.5 -1 1-1t1-1 1-2 1-2 1 0 1 4 1 4l1-5 .8-5 .2 2 1 6 1 7q.5 2 1 1t1-1 1 1 1-1 1-4M153 4986q.5 0 1 1t1 3 1 4 1 3 1-3l1-13 1-26 1-35 1-40 .2-8 .8 23 1 24 1 16 1 19 1 21 1 16q.5 5 1 5t1 0 1 1 1 1 1-1 1-1M36 4985q.5 -1 1 0t1 2 1 3 1 3 1-2l1-9 1-11 1-23 1-27 .1-2 .9 12 1 16 1 16 1 12 1 5q.5 2 1 2t1-1 1-2 1-3 1-2 1 1 1 2 1 1M121 4994q.5 1 1 0t1-2 1-3 1-5l1-9 1-10 .4-3 .6 9 1 12q.5 6 1 9t1 2 1-1 1 1 1 0 1-2 1-2 1-1M153 4995q.5 0 1-2t1-1 1 1 1-2 1-8l1-19 1-35 1-45 1-57 .3-21 .7 25 1 34 1 32 1 28 1 19 1 17 1 13q.5 4 1 5t1 1 1 0 1 1 1 2M36 4988q.5 0 1-1t1-4 1-6 1-3 1 2 1 4 1 1 1-3 1-5 1-9l1-13 1-14 1-14 .2-2 .8 17 1 8 1 11 1 12 1 11q.5 5 1 7t1 1 1-1 1 0M121 4989q.5 -1 1-4t1-3 1 1 1 3 1 3 1 0 1-3 1-1 1 1 1-5l1-14 .7-13 .3 4 1 16 1 11q.5 3 1 2t1-3M153 4973q.5 0 1 2t1 4 1 1 1-3 1-5l1-10 1-29 1-40 1-46 .7-36 .3 14 1 32 1 33 1 31 1 28 1 24 1 9q.5 3 1 5t1 1 1-4 1-3 1 2M36 4976q.5 -1 1-1t1 1 1 3 1 2 1-1 1-3 1-6 1-8l1-11 1-12 1-18 .8-16 .2 5 1 18 1 14 1 7 1 10 1 13q.5 6 1 10t1 3 1-3 1-3 1-1M121 4978q.5 2 1 4t1 2 1-1 1 0 1 1 1 0 1-3l1-10 1-19 .7-13 .3 6 1 16 1 12q.5 4 1 5t1 0 1 0 1 2M153 4981q.5 0 1-1t1-3 1-5 1-4 1 1 1 4 1-1l1-16 1-40 1-55 1-68 1 38 1 41 1 38 1 29 1 19 1 13q.5 5 1 7t1 2 1-1 1-1M36 4972q.5 -3 1-5t1-2 1 1 1 1 1 2 1 4 1-1l1-11 1-24 1-32 1-34 .1-3 .9 28 1 27 1 19 1 15 1 13 1 8q.5 3 1 3t1-1 1-3 1-2 1 1M121 4980q.5 -1 1-1t1 0 1 0 1-2 1-6l1-12 1-21 1 10 1 9q.5 4 1 6t1 4 1 5 1 5 1 2 1-1 1-1M153 4966q.5 1 1 3t1 4 1 2 1 0 1-1 1-3 1-5l1-11 1-21 1-33 .9-34 .1 2 1 25 1 22 1 20 1 17 1 10 1 8q.5 3 1 5t1 3 1 1 1-2M36 4961q.5 2 1 5t1 4 1 2 1 2 1-2l1-7 1-18 1-20 .9-15 .1 1 1 12 1 10 1 8 1 8 1 11q.5 6 1 10t1 4 1 0 1-2 1-3 1 1 1 3 1-1M121 4972q.5 2 1 2t1-1 1 0 1-1l1-8 1-15 .6-16 .4 6 1 14 1 14q.5 5 1 7t1 0 1-5 1-4 1 1 1 5 1 3M153 4976q.5 1 1 0t1-2 1-4 1-5 1-7l1-14 1-23 1-27 .7-20 .3 6 1 23 1 25 1 14 1 15 1 7 1 4q.5 2 1 4t1 3 1-1 1-3 1-1 1 0M36 4957q.5 -1 1-2t1-2 1-1 1 0 1 0 1-5l1-13 1-14 1-12 .5-6 .5 12 1 15 1 9 1 10 1 11 1 6q.5 2 1 2t1 1 1 2 1 1 1-1 1-1 1 1M121 4969q.5 -1 1-1t1 0 1-1 1-3l1-6 1-22 .5-11 .5 9 1 20 1 14q.5 4 1 4t1-1 1-1 1 0 1-2 1-3 1 0M153 4952q.5 0 1 1t1 1 1 0 1 1 1 0l1-11 1-33 1-48 .9-48 .1-2 1 36 1 30 1 26 1 23 1 22 1 15q.5 5 1 6t1 1 1 0 1-1 1-3 1-3M36 4967q.5 0 1-1t1-2 1-4 1-4 1 0 1 0l1-8 1-19 1-22 .4-10 .6 5 1 10 1 15 1 17 1 11q.5 4 1 5t1-1 1-4 1-2 1 1 1 3 1 3 1 2M121 4962q.5 2 1 3t1 1 1-3l1-8 1-11 .6-15 .4 3 1 10 1 11q.5 4 1 4t1-1 1-1 1 1 1 3 1 3 1 1 1-1M153 4955q.5 -1 1 1t1 5 1 2 1-4 1-7l1-12 1-19 1-19 1-20 .3-8 .7 15 1 17 1 12 1 9 1 10 1 11q.5 5 1 9t1 5 1 2 1 1 1 0 1 0M36 4954q.5 0 1 0t1 1 1 2 1 2 1 2 1 0 1-5l1-10 1-16 1-31 1-33 .2-6 .8 19 1 23 1 21 1 15 1 10 1 9q.5 3 1 3t1-3 1-5 1-2 1-1M121 4958q.5 1 1 2t1 1 1 0 1 0 1 0 1-2 1-4 1-3 1 0 1 1l1-3 .8-11 .2 1 1 5 1 9q.5 4 1 6t1 1M153 4958q.5 1 1 2t1 1 1-3 1-10l1-21 1-45 1-53 .7-40 .3 8 1 38 1 35 1 29 1 21 1 21 1 16q.5 4 1 1t1-5 1-3 1-2 1-3 1-4 1-2M36 4949q.5 0 1 2t1 4 1 2 1 0 1-3l1-10 1-15 1-19 .8-19 .2 2 1 13 1 16 1 15 1 7 1 3q.5 1 1 1t1 0 1 1 1 2 1 1 1 1 1 2 1 0M121 4956q.5 1 1 0t1-2 1-2 1-6l1-13 .7-11 .3 4 1 12 1 11q.5 4 1 6t1 2 1-1 1-3 1-1 1 3 1 2 1 0M153 4957q.5 0 1 0t1-1 1-2 1-5l1-14 1-19 1-20 1-23 1 17 1 12 1 12 1 11 1 13 1 10q.5 4 1 5t1 2 1 2 1 0 1-2 1-1 1 1M36 4946q.5 -1 1-1t1 1 1 3 1 2 1-5l1-17 1-23 1-23 1-26 .1-3 .9 22 1 21 1 19 1 15 1 13 1 8q.5 2 1 1t1-1 1-1 1-4 1-4 1-1 1 1M121 4953q.5 0 1 0t1-1 1-1 1 0 1-3 1-6l1-7 1-18 .5-14 .5 9 1 18 1 11q.5 4 1 6t1 3 1 1 1 0 1 0M153 4952q.5 0 1-2t1-6 1-5 1-2l1-7 1-19 1-26 1-32 1 20 1 21 1 18 1 14 1 11 1 10q.5 2 1 0t1-4 1-2 1 1 1 3 1 4 1 0M36 4941q.5 -3 1-5t1-3 1-4l1-7 1-13 1-18 1-21 1 18 1 18 1 12 1 8 1 6q.5 3 1 5t1 5 1 5 1 1 1-1 1-1 1-1 1 0 1-1 1-2M121 4942q.5 0 1 1t1 2 1 0 1-2 1 0 1 0 1-7l1-15 .9-24 .1 1 1 21 1 17 1 9q.5 2 1 2t1 0 1-1 1-2M153 4932q.5 0 1 0t1 0 1 0 1 2 1 4 1-1l1-15 1-32 1-41 1-46 .3-13 .7 28 1 30 1 30 1 23 1 19 1 15 1 8q.5 2 1 1t1-2 1-1 1 0M36 4936q.5 -1 1 0t1 2 1 1 1-1 1-1 1 2 1 2 1-7l1-16 1-20 1-20 .3-4 .7 15 1 11 1 14 1 10 1 2q.5 0 1 0t1 1 1 4 1 6 1 3 1-1 1-2M121 4932q.5 0 1 2t1 4 1 2 1 0 1 0 1 0 1-2 1-4 1-2 1 0l1-4 1-14 .4-9 .6 9 1 11 1 8q.5 3 1 4t1 0M153 4937q.5 -1 1-1t1 2 1 3 1 0 1-3 1-7l1-13 1-19 1-34 .8-29 .2 4 1 22 1 13 1 11 1 15 1 19 1 14q.5 5 1 6t1 0 1-3 1-3 1 0M36 4934q.5 -1 1-1t1 2 1 1 1-1 1 1 1 0 1-5l1-12 1-17 1-26 .6-15 .4 7 1 18 1 16 1 10 1 7 1 5q.5 3 1 5t1 4 1 3 1 0 1-3 1-2 1 1M121 4930q.5 2 1 4t1 3 1 1 1-1 1-1 1 1 1-1 1-10l1-18 .8-16 .2 3 1 18 1 16q.5 6 1 8t1 1 1-3 1-4 1-3M154 4937q.5 1 1 1t1 0 1-1 1-7l1-21 1-32 1-38 .8-36 .2 6 1 27 1 21 1 21 1 21 1 19 1 15q.5 4 1 3t1-3 1-2 1 1 1 1 1 0M36 4929q.5 1 1 1t1 0 1 1 1 2 1-2 1-7l1-11 1-28 1-33 .6-19 .4 5 1 24 1 22 1 14 1 11 1 9q.5 3 1 3t1-1 1 0 1 4 1 5 1 2 1 0 1 1M121 4918q.5 0 1 3t1 6 1 5 1 1 1-4 1-8l1-12 1-27 .1-3 .9 18 1 17 1 14q.5 4 1 4t1-1 1-1 1 1 1 2 1 1M154 4930q.5 -1 1 0t1 0 1-5 1-6 1-2 1-3l1-13 1-37 1-48 1-56 .1-4 .9 31 1 31 1 30 1 31 1 27 1 17 1 8q.5 3 1 3t1-1 1-2M36 4924q.5 -1 1-2t1-1 1 0 1 0 1 1 1 1 1-4l1-13 1-20 1-27 1-34 1 18 1 20 1 22 1 20 1 11q.5 3 1 3t1 0 1 0 1-1 1 1 1 5 1 5M121 4924q.5 2 1 2t1-2 1 0 1 4 1 2 1-2 1-7l1-15 .6-9 .4 1 1 9q.5 5 1 10t1 8 1 4 1 0 1-1 1 0 1 0M154 4922q.5 1 1 1t1-1 1-2 1-5l1-14 1-27 1-33 .9-30 .1 1 1 28 1 26 1 18 1 10 1 11 1 9q.5 3 1 4t1 2 1 4 1 5 1 1 1-4M36 4925q.5 2 1 0t1-4 1-4 1-2 1 1 1-2 1-8l1-11 1-15 1-19 .3-4 .7 9 1 15 1 11 1 9 1 8q.5 4 1 6t1 3 1 1 1-1 1-1 1 2 1 3 1-2M121 4922q.5 0 1 0t1-1 1-5 1-10l1-15 .9-12 .1 3 1 22 1 12q.5 4 1 5t1 2 1 1 1-3 1-6 1-2 1 3 1 3 1 1M154 4917q.5 0 1-1t1-2 1-1 1-2 1-8l1-16 1-19 1-25 .4-13 .6 10 1 18 1 17 1 15 1 12 1 9q.5 3 1 5t1 4 1 3 1-2 1-2 1 2M36 4908q.5 -1 1 0t1 4 1 5 1 2 1 0 1 0 1-1 1-7l1-16 1-21 1-26 .4-10 .6 11 1 18 1 19 1 11 1 10 1 11q.5 3 1 2t1-1 1-2 1-2 1 2 1 3M121 4916q.5 1 1 2t1 2 1 0 1-3 1-6 1-10l1-12 1-17 .1 0 .9 15 1 13 1 9q.5 3 1 5t1 3 1 1 1 0 1 0 1 0M154 4920q.5 0 1 0t1-2 1-8l1-18 1-25 1-30 .5-15 .5 10 1 20 1 21 1 14 1 12 1 14q.5 4 1 5t1 1 1-2 1-2 1 2 1 3 1 0 1-3M36 4907q.5 -1 1 0t1 3 1 3 1 0 1 0 1 1 1-2 1-5l1-11 1-22 1-25 .5-13 .5 5 1 16 1 18 1 17 1 13 1 5q.5 0 1-3t1-5 1-3 1 0 1 2 1 2M121 4913q.5 -1 1-1t1 0 1-3 1-7l1-7 1-6 1 13 1 9q.5 2 1 1t1-2 1-1 1 0 1-1 1-2 1-1 1 0 1 1M154 4913q.5 1 1 1t1-4l1-9 1-20 1-29 1-33 1 14 1 18 1 20 1 18 1 14 1 6q.5 1 1-2t1-5 1-3 1 0 1 2 1 2 1 1 1 0M36 4901q.5 4 1 6t1 1 1-1 1 1 1 2 1 1 1-1 1-6l1-14 1-21 1-29 .6-19 .4 9 1 23 1 12 1 11 1 10 1 7q.5 2 1 2t1-2 1-2 1 1 1 2 1 3M121 4902q.5 -1 1 0t1 2 1 1 1-3 1-7l1-7 .7-6 .3 5 1 14 1 3q.5 1 1 1t1 1 1 2 1 2 1 0 1 0 1 1 1 0M154 4910q.5 1 1 1t1-2l1-8 1-22 1-28 1-38 .4-15 .6 14 1 26 1 16 1 13 1 13 1 9 1 5q.5 1 1-1t1-2 1 1 1 2 1 3 1 4 1 5M36 4902q.5 2 1 3t1 1 1-1 1-4 1-8l1-15 1-20 1-28 1-36 .1-2 .9 21 1 23 1 22 1 20 1 13 1 6q.5 1 1-1t1-2 1 2 1 5 1 3 1-1 1-2 1-1M121 4906q.5 0 1 0t1 0 1 0 1-1 1-3 1-5 1-5 1-7l1-14 1-19 .1-3 .9 25 1 20 1 11q.5 3 1 3t1-1 1-1 1 0M154 4895q.5 -2 1-2t1 1 1 1 1-4l1-15 1-21 1-26 1-32 1 22 1 19 1 15 1 13 1 16 1 16q.5 6 1 7t1 0 1-2 1-1 1 0 1 0M36 4899q.5 1 1 1t1-1 1 0 1 1 1-2 1-3 1-5l1-12 1-23 1-32 .6-19 .4 9 1 21 1 21 1 17 1 9 1 9q.5 4 1 7t1 3 1 0 1 0 1-3 1-4 1-1M121 4898q.5 1 1 2t1 2 1 0 1-3 1-4 1-4l1-6 1-19 .6-15 .4 8 1 20 1 16q.5 5 1 6t1 1 1 0 1 0 1-1 1-3M154 4898q.5 -1 1-1t1 1 1 0l1-9 1-32 1-43 1-51 .5-28 .5 17 1 35 1 26 1 27 1 26 1 19 1 11q.5 4 1 4t1-3 1-4 1-1 1 0 1 1M36 4895q.5 -1 1-5t1-4 1 1 1 2 1 1 1-1l1-7 1-16 1-21 1-27 .3-11 .7 10 1 20 1 21 1 14 1 8 1 3q.5 1 1 1t1 0 1 0 1 1 1 1 1 1 1 3M121 4889q.5 0 1 1t1 0 1-3 1-3 1 0 1 1l1-3 1-12 .8-14 .2 4 1 13 1 14q.5 6 1 9t1 2 1-2 1-2 1-1 1 1M154 4889q.5 0 1 1t1 1 1 1 1 2 1 0 1-8l1-16 1-18 1-26 .5-15 .5 7 1 12 1 14 1 13 1 12 1 10q.5 4 1 6t1 3 1 3 1 3 1 0M36 4891q.5 -1 1-3t1-3 1 1 1 3 1 0 1-1 1 1 1-1l1-8 1-11 1-18 1-28 .2-5 .8 7 1 12 1 17 1 16 1 11q.5 4 1 6t1 2 1 0 1-1 1-2 1 0M121 4881q.5 -1 1 0t1 4 1 5 1 1 1-3 1-5l1-10 1-12 .5-8 .5 10 1 13 1 9q.5 3 1 3t1-1 1-2 1-3 1-3 1 0M154 4890q.5 -1 1-1t1 1 1 0 1-3l1-6 1-27 1-45 1-58 .6-34 .4 13 1 38 1 36 1 28 1 23 1 19 1 12q.5 4 1 3t1-2 1-1 1 2 1 2M36 4886q.5 -1 1-2t1-1 1-2 1-5 1-4 1-1 1-1l1-3 1-15 1-19 .3-6 .7 8 1 8 1 11 1 11 1 8q.5 3 1 3t1-2 1-3 1 1 1 4 1 2 1-1 1 0M121 4882q.5 1 1 2t1 0 1-2 1-2 1-1 1-3l1-9 1-20 .4-8 .6 11 1 19 1 15q.5 4 1 3t1-2 1 0 1 2 1 0 1-2M154 4871q.5 -1 1 0t1 5 1 7 1-1l1-15 1-31 1-39 .9-38 .1 2 1 27 1 24 1 19 1 14 1 11 1 12q.5 5 1 8t1 3 1-1 1-1 1 1 1 1M36 4880q.5 -1 1-3t1-4 1-2 1 2 1 4 1 2 1-3l1-11 1-21 1-26 .8-23 .2 3 1 19 1 17 1 16 1 13 1 10q.5 4 1 6t1 2 1 0 1-1 1-2 1-2 1-1M121 4880q.5 1 1 1t1-2 1-3 1-2 1 0 1 1 1-6l1-19 .9-17 .1 2 1 24 1 14q.5 4 1 4t1-2 1-1 1 4 1 3 1-1M154 4878q.5 2 1 2t1 0 1 0 1-3l1-11 1-27 1-40 1-49 .4-16 .6 20 1 30 1 26 1 24 1 20 1 18 1 7q.5 1 1 0t1-2 1-2 1-2 1-1M36 4866q.5 -1 1 1t1 5 1 3 1-1 1 0 1-1l1-9 1-24 1-30 1-34 .3-11 .7 19 1 25 1 21 1 16 1 11 1 8q.5 3 1 5t1 3 1 0 1-2 1 0 1 3 1 2M121 4876q.5 -1 1-1t1 1 1 1 1-1 1-2 1-3l1-8 1-13 .4-11 .6 5 1 6 1 4q.5 2 1 4t1 5 1 3 1 0 1 1 1 3M154 4874q.5 1 1 1t1-2 1-8l1-15 1-24 1-27 .8-23 .2 5 1 22 1 18 1 13 1 12 1 13 1 11q.5 3 1 3t1-1 1 0 1 3 1 2 1-1 1-1M36 4866q.5 0 1 0t1 2 1 3 1 0 1-1 1 0 1 1 1-1l1-9 1-20 1-23 1-31 1 15 1 18 1 19 1 15 1 5q.5 2 1 3t1 1 1-1 1-2 1-2 1-1M121 4871q.5 -2 1-5t1-4 1 0 1 1 1-3l1-12 .9-21 .1 1 1 18 1 12q.5 5 1 9t1 5 1-2 1-3 1 2 1 3 1 1 1-1M154 4870q.5 0 1 0t1 1 1 1 1-5l1-21 1-36 1-50 1-61 1 34 1 37 1 32 1 21 1 18 1 14q.5 5 1 6t1 0 1-2 1-2 1 1 1 5M36 4864q.5 2 1 0t1-7 1-8 1-2 1 2 1 1 1-2l1-5 1-13 1-19 .2-3 .8 7 1 8 1 9 1 12 1 14q.5 6 1 9t1 3 1-1 1-2 1 0 1 1 1-3 1-5M121 4858q.5 -1 1 0t1 4 1 4 1-1 1-1 1 2 1-2l1-12 1-23 .7-18 .3 6 1 19 1 14q.5 5 1 6t1-1 1-3 1-2 1 0M154 4850q.5 1 1 3t1 4 1 4 1 2 1-2 1-9l1-21 1-30 1-35 .9-33 .1 4 1 33 1 26 1 22 1 18 1 15 1 13q.5 3 1 1t1-4 1-3 1-2M37 4852q.5 -1 1-1t1 2 1 3 1 2 1 2 1 2 1 1 1-2l1-8 1-15 1-16 .8-15 .2 3 1 11 1 11 1 13 1 10 1 6q.5 2 1 2t1-2 1-4 1-2 1 2M121 4850q.5 2 1 6t1 5 1-3l1-11 1-15 .5-12 .5 10 1 16 1 14q.5 4 1 4t1-1 1-2 1-2 1-2 1-1 1 0 1 1 1 1M154 4859q.5 1 1 2t1 1 1-2l1-9 1-21 1-31 1-36 .2-7 .8 17 1 20 1 19 1 20 1 16 1 10q.5 4 1 4t1-2 1-4 1-1 1 3 1 3 1 0M37 4856q.5 0 1 1t1 0 1-3 1-2 1-2l1-7 1-13 1-15 1-24 .2-3 .8 15 1 11 1 9 1 10 1 11q.5 6 1 9t1 1 1-4 1-2 1 2 1 4 1 2 1-2M121 4857q.5 1 1 1t1 0 1-1 1-1 1 1 1 0 1-3 1-5l1-8 .4-4 .6 6 1 9q.5 3 1 4t1 0 1 0 1 2 1 1 1 0M154 4852q.5 0 1 0t1 0 1 0l1-4 1-21 1-26 1-38 .4-16 .6 12 1 20 1 22 1 23 1 12 1 4q.5 3 1 6t1 5 1 4 1 2 1-2 1-3 1-1M37 4845q.5 0 1 1t1 2 1 2 1-3l1-16 1-28 1-33 .8-23 .2 6 1 26 1 23 1 15 1 9 1 10q.5 5 1 9t1 6 1 2 1 0 1 1 1 0 1-4 1-6 1-3M121 4853q.5 1 1 1t1 0 1-1 1-4 1-6l1-7 .6-5 .4 3 1 8q.5 4 1 8t1 5 1 0 1-4 1-6 1-4 1 1 1 5 1 4M154 4853q.5 0 1-2t1-5 1-7l1-11 1-25 1-37 1-52 .4-20 .6 18 1 31 1 32 1 29 1 22 1 16 1 11q.5 3 1 2t1-5 1-7 1-3 1 2 1 3M37 4844q.5 0 1 0t1 0 1 0 1-1l1-5 1-11 1-21 1-24 .3-10 .7 9 1 14 1 15 1 15 1 14 1 9q.5 2 1 1t1-3 1-2 1 0 1-1 1-3 1-2 1 2M121 4849q.5 -1 1-4t1-3 1 2 1 3 1-2l1-11 1-22 .6-15 .4 11 1 22 1 15q.5 5 1 5t1-3 1-6 1-5 1-2 1 1 1 1M154 4845q.5 1 1 2t1 2 1 1 1-1 1-8l1-20 1-28 1-33 1-38 1 29 1 23 1 19 1 19 1 17 1 9q.5 3 1 2t1-1 1 2 1 5 1 4M37 4838q.5 -2 1-4t1-2 1 4 1 5 1-6l1-17 1-18 1-24 .8-22 .2 4 1 23 1 20 1 14 1 13 1 7q.5 1 1-1t1-3 1 1 1 5 1 4 1 1 1 1 1 1M121 4837q.5 2 1 4t1 1 1 0 1-2 1-8l1-14 1-23 .3-5 .7 16 1 20 1 12q.5 3 1 2t1-2 1-2 1-2 1-2 1-3 1-3M154 4846q.5 0 1-4t1-5 1 0 1 2 1 0l1-5 1-19 1-34 1-38 .6-26 .4 10 1 19 1 19 1 22 1 24 1 18 1 10q.5 4 1 5t1 1 1 0 1-1M37 4832q.5 -1 1-1t1-1 1-3 1-4 1-3 1 0 1 4 1 2l1-8 1-23 1-27 1-28 1 26 1 21 1 17 1 12 1 9 1 6q.5 1 1-1t1-4 1-3 1 1M121 4830q.5 0 1 0t1 1 1 3 1 4 1 1 1-5 1-6 1-4l1-7 1-24 .2-6 .8 16 1 18 1 12q.5 3 1 2t1-3 1-3 1-1M154 4823q.5 -2 1-3t1 0 1 4 1 6 1 1l1-12 1-29 1-37 1-48 .5-25 .5 18 1 33 1 27 1 23 1 21 1 14 1 7q.5 2 1 2t1 1 1 3 1 3M37 4829q.5 -1 1-2t1-1 1 0 1-1 1-3 1-4l1-5 1-6 1-24 1-30 .1-3 .9 16 1 17 1 16 1 15 1 13q.5 5 1 7t1 2 1-2 1-4 1-4 1-2 1 1M121 4825q.5 2 1 5t1 3 1-2 1-4 1-1 1 3 1 2 1-3l1-9 1-10 .2-2 .8 9 1 10q.5 3 1 5t1 3 1-1 1-4 1 0M154 4827q.5 -1 1-3t1-4 1-5l1-10 1-33 1-44 .6-26 .4 8 1 28 1 25 1 25 1 20 1 15 1 11q.5 2 1 0t1-4 1-4 1-2 1 1 1 4 1 5M37 4825q.5 -1 1-3t1-4 1-4 1-4 1-3 1 0 1 2 1 0l1-5 1-14 1-20 .2-4 .8 11 1 15 1 8 1 5 1 7q.5 3 1 6t1 4 1 2 1 2 1 0 1-3M121 4821q.5 -3 1-5t1-1 1 2 1 1 1-1l1-5 .8-10 .2 3 1 6 1 6q.5 3 1 6t1 4 1 0 1-3 1-2 1 1 1 2 1 2M154 4811q.5 -2 1-3t1-1 1 3 1 5l1-1 1-22 1-36 1-43 .6-30 .4 13 1 27 1 23 1 23 1 22 1 18 1 13q.5 4 1 5t1-1 1-4 1-4 1-3M37 4825q.5 0 1-4t1-6 1-1 1 2 1 2 1 1 1 0l1-4 1-17 1-17 .8-16 .2 4 1 14 1 11 1 9 1 7 1 7q.5 3 1 4t1 1 1 1 1 2 1 0 1-2M121 4825q.5 0 1 0t1-1 1-2 1-1 1 1 1 2 1-1l1-12 1-26 .6-17 .4 9 1 23 1 18q.5 6 1 7t1 0 1 0 1 1 1-2M154 4817q.5 1 1 1t1-2l1-8 1-21 1-39 1-43 .3-14 .7 19 1 28 1 24 1 19 1 17 1 14 1 8q.5 2 1 2t1 1 1 2 1 0 1-2 1 0 1 2M37 4819q.5 -2 1-5t1-4 1 1 1 4 1 2 1-4l1-12 1-15 1-19 .5-10 .5 6 1 11 1 11 1 9 1 8q.5 4 1 8t1 6 1 2 1-1 1-2 1-1 1 0 1 0M121 4821q.5 -1 1-1t1 1 1 0 1-6l1-17 1-20 .3-8 .7 15 1 15 1 16q.5 5 1 5t1-2 1-2 1 1 1 1 1-1 1-3 1-4M154 4815q.5 2 1 2t1-1 1-2 1-3 1-9l1-19 1-30 1-38 .7-30 .3 7 1 27 1 26 1 26 1 20 1 12 1 7q.5 3 1 4t1 1 1-1 1-1 1 1M37 4806q.5 1 1 2t1 1 1-1 1-4l1-10 1-15 1-19 1-34 .2-7 .8 17 1 23 1 15 1 15 1 11 1 7q.5 3 1 4t1 0 1-2 1-1 1 1 1 2 1 1 1-2M121 4811q.5 1 1 3t1 3 1 0 1-4 1-5 1-4l1-5 1-12 1 11 1 8q.5 4 1 5t1 1 1 0 1 1 1 2 1 1 1 0M154 4807q.5 -1 1-1t1 3 1 5 1 1 1-5l1-11 1-24 1-27 .7-21 .3 4 1 17 1 18 1 13 1 10 1 10 1 9q.5 3 1 4t1 1 1-2 1-4 1-2M37 4812q.5 -1 1-3t1-1 1 1 1-1 1-1 1-2l1-6 1-8 1-22 1-24 1 14 1 14 1 11 1 7 1 2q.5 1 1 2t1 3 1 6 1 6 1 2 1 0 1-1M121 4810q.5 1 1-1t1-4 1-2 1 2 1 3 1 0 1-5 1-10l1-11 .5-6 .5 7 1 14 1 8q.5 3 1 3t1 1 1 2 1-1 1-2M154 4807q.5 -1 1 0t1 1 1 1 1 1 1-3 1-4 1-4l1-15 1-37 1-52 1-65 .3-18 .7 27 1 39 1 41 1 38 1 24 1 19 1 10q.5 2 1 0t1-3M37 4788q.5 0 1 1t1 2 1 2 1 2 1-2l1-11 1-25 1-33 .8-28 .2 3 1 27 1 25 1 19 1 12 1 9q.5 4 1 6t1 2 1 0 1 1 1 3 1 3 1 0 1-3M121 4807q.5 0 1 1t1 1 1-1 1-1 1 1 1 1 1 0 1-1 1-6l1-13 .8-12 .2 3 1 13 1 10q.5 4 1 5t1 1 1 0 1 0M154 4795q.5 2 1 4t1 2 1-1 1-2 1-1 1 2 1-1l1-15 1-35 1-46 1-53 .2-11 .8 29 1 32 1 31 1 29 1 23 1 15 1 4q.5 1 1 0t1-1M37 4800q.5 -1 1-1t1 1 1 0 1-2 1-1l1-3 1-20 1-21 1-24 .4-11 .6 14 1 18 1 14 1 14 1 13 1 9q.5 3 1 3t1 0 1-1 1-3 1-4 1-3 1 0M121 4801q.5 2 1 2t1 0 1-1 1-3 1-6 1-9l1-10 .5-4 .5 9 1 14 1 9q.5 3 1 3t1-1 1-3 1-4 1-5 1-5 1-2M154 4796q.5 0 1 2t1 2 1-1 1 0 1 2 1-4l1-17 1-35 1-43 1-48 1 33 1 30 1 26 1 21 1 15 1 9q.5 3 1 3t1 1 1 3 1 4M37 4796q.5 0 1 0t1 0 1 0 1-1 1-4l1-13 1-21 1-21 1-23 .3-10 .7 15 1 13 1 11 1 17 1 20 1 15q.5 5 1 4t1-2 1 0 1 2 1 1 1-1 1-2M121 4792q.5 0 1 0t1-1 1-2 1 0 1 4 1 4 1-4l1-13 .7-11 .3 2 1 10 1 10q.5 4 1 5t1 2 1 1 1 0 1-1 1-2M154 4795q.5 -1 1-3t1-4 1-5l1-8 1-22 1-38 1-55 .4-24 .6 16 1 32 1 35 1 31 1 20 1 13 1 10q.5 4 1 5t1 1 1-1 1-2 1-1 1 1M37 4792q.5 1 1 1t1-2 1-2 1 1 1 0 1-2 1-1 1-1l1-3 1-17 1-19 .7-11 .3 4 1 17 1 9 1 6 1 6 1 7q.5 3 1 4t1 2 1 2 1-1 1-2M121 4789q.5 2 1 2t1-2 1-3 1-2 1-3l1-6 1-15 .8-20 .2 4 1 19 1 14 1 7q.5 2 1 3t1 4 1 4 1 0 1-2 1-2M154 4792q.5 1 1 0t1-3 1-2 1 2 1 3 1-5l1-16 1-21 1-25 1-37 1 19 1 20 1 19 1 17 1 14 1 14q.5 3 1 2t1-1 1 1 1 2M37 4782q.5 0 1-2t1-2 1 3 1 6 1 1 1-10l1-18 1-17 1-21 .6-16 .4 8 1 17 1 13 1 12 1 11 1 10q.5 5 1 8t1 3 1-1 1-1 1 1 1 1 1-1M121 4786q.5 0 1-3t1-5 1-1 1 5 1 6 1 0 1-7l1-12 .9-12 .1 1 1 11 1 8q.5 3 1 5t1 3 1 1 1 0 1 1 1 1M154 4790q.5 2 1 0t1-5 1-4 1 1 1 4 1-1l1-12 1-26 1-31 1-35 .1-4 .9 20 1 25 1 22 1 14 1 11 1 11q.5 5 1 7t1 1 1-2 1-2M37 4784q.5 1 1 1t1-1 1-1 1 1 1 1 1-1 1-4l1-12 1-20 1-25 1-26 .1-2 .9 22 1 16 1 12 1 16 1 14 1 7q.5 2 1 1t1-3 1-4 1-3 1-2M121 4776q.5 -1 1-2t1 1 1 4 1-1l1-6 1-17 .3-4 .7 10 1 15 1 8q.5 2 1 1t1-1 1 0 1-1 1-1 1 0 1-1 1-1M154 4784q.5 1 1 1t1-1 1-2 1-2 1-2 1-3l1-7 1-29 1-49 1-61 .6-33 .4 17 1 42 1 35 1 29 1 23 1 17 1 11q.5 3 1 3t1-2 1-4M37 4780q.5 0 1-2t1-2 1 0 1-3 1-8l1-12 1-12 1-15 1-19 .3-6 .7 14 1 10 1 10 1 16 1 17 1 7q.5 1 1-1t1-2 1 2 1 2 1-1 1-2 1-3M121 4780q.5 -1 1-2t1-2 1 0 1 2 1 1 1-1 1-5l1-6 .8-9 .2 1 1 4 1 6q.5 3 1 6t1 2 1-3 1-2 1 1 1 2M154 4774q.5 -3 1-7t1-5 1 1 1 5 1 5 1 0 1-13l1-29 1-35 1-40 .7-40 .3 8 1 29 1 29 1 32 1 26 1 18 1 11q.5 3 1 2t1-4 1-4M37 4769q.5 2 1 4t1 2 1-1 1-2 1-3 1-4 1-4l1-5 1-15 1-21 1-20 1 19 1 17 1 15 1 12 1 8q.5 3 1 3t1-1 1-3 1-3 1 0 1 4M121 4771q.5 -1 1-2t1-1 1 0 1-1 1-2 1-3l1-6 1-22 .7-19 .3 6 1 19 1 18q.5 7 1 9t1 1 1-2 1 0 1 3 1 4M154 4772q.5 -2 1-4t1-3 1 0 1 2 1 0 1-1 1 0 1-2l1-8 1-21 1-29 1-36 .1-2 .9 20 1 19 1 17 1 13 1 14 1 15q.5 6 1 9t1 2M37 4762q.5 0 1 0t1-1 1-2 1 0 1 3 1-2l1-15 1-21 1-23 .4-8 .6 11 1 23 1 14 1 12 1 6 1 8q.5 2 1 2t1-3 1-4 1-2 1-2 1-1 1 0M121 4764q.5 1 1 2t1 2 1 1 1-1 1-2 1 0 1 2 1 0 1-8l1-18 .9-22 .1 3 1 20 1 18 1 7q.5 1 1 0t1 0 1 1M154 4758q.5 2 1 5t1 4 1-2 1-8l1-18 1-30 1-37 1-54 .3-18 .7 27 1 32 1 32 1 27 1 18 1 14 1 9q.5 2 1 1t1-2 1-1 1 1 1 2M37 4765q.5 0 1 0t1 0 1-4l1-16 1-23 1-24 .8-22 .2 3 1 19 1 17 1 16 1 13 1 12q.5 5 1 8t1 2 1-5 1-6 1-2 1 3 1 5 1 3 1 2 1 1M121 4766q.5 -1 1-4t1-5 1-2 1 2 1 3 1 0 1-5l1-8 1-13 .1-2 .9 5 1 2q.5 1 1 2t1 3 1 5 1 5 1 3 1 3M154 4761q.5 -2 1-3t1 0 1 0 1-9l1-24 1-40 1-51 .8-47 .2 6 1 42 1 35 1 24 1 19 1 19 1 19q.5 7 1 10t1 4 1 2 1 1 1-1 1-4M37 4759q.5 0 1-1t1-2 1 0 1 2 1-2l1-10 1-23 1-27 .8-22 .2 4 1 19 1 17 1 18 1 15 1 9q.5 3 1 2t1-4 1-3 1 2 1 3 1 2 1 1 1 0M121 4762q.5 0 1-1t1-3 1-3 1-2 1-1 1-4l1-12 1-24 .2-4 .8 14 1 16 1 17q.5 5 1 5t1-1 1-1 1-4 1-3 1 4M154 4759q.5 1 1 2t1 0 1-5l1-12 1-29 1-42 1-52 .7-35 .3 13 1 39 1 33 1 26 1 18 1 19 1 16q.5 6 1 8t1 2 1 0 1 0 1-1 1-2M37 4757q.5 1 1 1t1-2 1-8l1-16 1-24 1-31 .7-25 .3 4 1 22 1 26 1 23 1 11 1 2q.5 1 1 2t1 2 1 3 1 5 1 4 1 0 1 0 1 1 1 0 1 0M121 4754q.5 -1 1-2t1-2 1-1 1-6l1-17 .6-12 .4 2 1 10 1 12q.5 4 1 5t1 1 1 0 1-1 1-2 1 0 1 4 1 7 1 5M154 4751q.5 -1 1-2t1-3 1-3 1-3l1-10 1-24 1-43 1-57 .1-6 .9 23 1 32 1 29 1 28 1 23 1 11q.5 5 1 8t1 3 1 0 1 0 1-1 1-2M37 4749q.5 -1 1-2t1-2 1-1 1 0 1 0 1 0 1 0 1-2l1-9 1-24 1-30 .9-27 .1 0 1 23 1 19 1 17 1 17 1 13q.5 4 1 3t1-5 1-6 1-1 1 4M121 4743q.5 1 1 2t1 3 1 3 1-2l1-10 1-16 .4-6 .6 4 1 5 1 3q.5 2 1 5t1 7 1 6 1 3 1 1 1-1 1-2 1-2M154 4745q.5 0 1 0t1 0 1-2l1-11 1-27 1-40 1-49 .3-10 .7 20 1 30 1 25 1 22 1 20 1 16 1 5q.5 -1 1-5t1-6 1-1 1 4 1 7 1 6M37 4742q.5 -1 1-3t1-2 1 2 1 2 1-3 1-8l1-13 1-23 1-31 .4-12 .6 9 1 22 1 20 1 17 1 12 1 10q.5 4 1 5t1 1 1 0 1 0 1 0 1-3 1-5M121 4743q.5 -2 1-2t1 1 1 1 1 0 1-1 1-1 1 1 1-1l1-8 1-10 .1-1 .9 10 1 9q.5 3 1 4t1 0 1-2 1-3 1-4M154 4741q.5 0 1-1t1-1 1 0 1-3l1-14 1-25 1-29 1-35 .4-13 .6 18 1 25 1 25 1 20 1 17 1 14 1 6q.5 2 1 2t1-3 1-5 1-1 1 3 1 1M37 4726q.5 1 1 4t1 5 1 3 1 2 1 2 1-3l1-11 1-17 1-20 1-32 .2-7 .8 17 1 21 1 15 1 10 1 8 1 8q.5 4 1 7t1 4 1-1 1-1 1 1 1-2M121 4744q.5 0 1-2t1-4 1-1 1 3 1 0 1-6l1-13 1-22 .3-6 .7 17 1 20 1 9q.5 3 1 3t1 0 1 0 1 1 1 1 1-1M154 4739q.5 1 1 2t1-1 1-6l1-14 1-28 1-46 1-50 .1-5 .9 29 1 28 1 23 1 20 1 20 1 18q.5 8 1 11t1 1 1-1 1 1 1-2 1-1 1 2 1-2M37 4735q.5 2 1 1t1-4 1-4 1-2l1-6 1-15 1-25 1-34 .3-11 .7 15 1 21 1 17 1 13 1 14 1 13q.5 5 1 6t1 0 1 0 1 1 1 0 1 1 1 2 1 1M121 4737q.5 0 1 0t1 1 1 0 1 0 1 0 1-4l1-12 1-23 .5-13 .5 13 1 21 1 11q.5 3 1 3t1-1 1 0 1 3 1 2 1-2M154 4726q.5 1 1 3t1 4 1 2 1-1 1-1 1-1 1-2 1-2 1-2l1-6 1-20 1-33 1-39 .5-20 .5 15 1 26 1 24 1 24 1 18 1 13 1 8q.5 2 1 2M37 4728q.5 0 1-1t1-1 1 1 1 0 1-6l1-13 1-20 1-28 .5-17 .5 9 1 20 1 20 1 18 1 7 1 3q.5 1 1 1t1 2 1 5 1 4 1-1 1-4 1-3 1-1M121 4733q.5 0 1 0t1 0 1-2 1-8l1-15 1-17 .2-3 .8 15 1 17 1 10q.5 3 1 3t1 0 1 1 1 0 1-3 1-4 1-2 1 2M154 4728q.5 0 1 0t1 1 1 1 1-6l1-20 1-36 1-46 1-55 .1-5 .9 30 1 28 1 28 1 28 1 28 1 21 1 6q.5 1 1-1t1-4 1-2 1 1 1 2 1 0M37 4726q.5 1 1 1t1-1 1 0 1 2 1 0 1-2 1-6l1-13 1-19 1-20 .1-1 .9 10 1 12 1 9 1 7 1 7q.5 3 1 5t1 2 1-1 1-1 1 0 1-1 1-2M121 4724q.5 1 1 2t1 1 1 0 1 1 1-1 1-5l1-9 .6-9 .4 3 1 9 1 7q.5 2 1 4t1 2 1-4 1-6 1-2 1 0 1 1M154 4729q.5 1 1 0t1-1 1 0 1-5l1-16 1-20 1-25 .9-24 .1 2 1 17 1 14 1 14 1 15 1 9 1 5q.5 2 1 3t1 1 1-1 1-2 1-1 1 1 1 2M37 4721q.5 -1 1-1t1 2 1 2 1-2 1-5l1-7 1-13 1-17 1-18 1 15 1 11 1 11 1 13 1 2q.5 1 1 3t1 3 1 1 1 0 1 1 1 1 1 0 1 1M121 4717q.5 1 1 3t1 2 1 0 1-1 1-2 1-1 1-1 1-6l1-14 .5-5 .5 6 1 14q.5 6 1 8t1 1 1-2 1 1 1 3 1-1M154 4721q.5 -1 1-2t1-1 1 1 1 0 1-6l1-16 1-33 1-38 .7-29 .3 10 1 22 1 23 1 23 1 19 1 14 1 11q.5 4 1 5t1 1 1 0 1 0 1 0 1-2M37 4718q.5 -1 1-3t1-4 1-3 1 0 1 1l1-3 1-10 1-15 .8-15 .2 2 1 11 1 9 1 8 1 12 1 5q.5 1 1-1t1-1 1 3 1 3 1 0 1-1 1 1 1 2M121 4711q.5 -1 1-1t1-1 1-2 1-2 1-2 1-2l1-5 1-23 1 21 1 14 1 12q.5 2 1 0t1-2 1 1 1-1 1-4 1-3M154 4708q.5 1 1 3t1 4 1 3 1 0 1-4l1-13 1-29 1-39 1-42 .4-19 .6 20 1 23 1 27 1 28 1 24 1 10 1 10q.5 3 1 4t1 1 1-1 1-1 1 1M37 4707q.5 0 1 1t1 3 1 3 1-1 1-2 1-3l1-13 1-19 1-20 .3-5 .7 9 1 15 1 12 1 7 1 3q.5 2 1 3t1 0 1-3 1-2 1 1 1 2 1 1 1 0M121 4714q.5 1 1 1t1-2 1-4 1-3 1-2 1-4l1-10 .9-15 .1 0 1 21 1 10q.5 4 1 7t1 3 1-1 1-2 1-2 1-1 1-1M154 4711q.5 -1 1 0t1 2 1-2 1-10l1-18 1-23 1-28 .7-23 .3 4 1 20 1 16 1 16 1 13 1 7 1 6q.5 3 1 5t1 3 1 1 1 0 1 1 1 2 1 2M37 4707q.5 -1 1-4t1-6 1-3 1 2 1 1l1-7 1-19 1-24 1-26 1 17 1 19 1 21 1 17 1 3q.5 2 1 4t1 3 1 3 1 2 1-2 1-1 1 1 1-3M121 4710q.5 -1 1-4t1-3 1 1 1 2 1 2 1-1 1-9l1-15 .7-9 .3 6 1 15 1 8q.5 3 1 4t1 2 1 1 1-2 1-4 1-2M154 4696q.5 2 1 4t1 1 1-5l1-15 1-28 1-35 1-40 .4-13 .6 22 1 35 1 19 1 20 1 20 1 17 1 12q.5 2 1 0t1-2 1 0 1-3 1-3 1 2 1 4M37 4695q.5 0 1 1t1 3 1 1 1-7l1-17 1-28 1-32 .6-17 .4 9 1 26 1 24 1 21 1 13 1 6q.5 1 1-1t1-2 1 3 1 5 1 2 1-2 1-3 1-1 1 0M121 4699q.5 2 1 4t1 2 1-1 1 0 1 1 1-1 1-5l1-14 1-24 .4-9 .6 13 1 18 1 12q.5 4 1 4t1 0 1 1 1 2 1-1M154 4700q.5 -1 1-3t1-5 1-4 1 1 1 5 1 5 1 0l1-10 1-23 1-32 .8-24 .2 3 1 23 1 23 1 16 1 8 1 7 1 7q.5 3 1 3t1-1 1-1 1 0M37 4687q.5 -1 1-1t1 0 1 1 1 3 1 4 1 0l1-11 1-19 1-26 1-27 1 25 1 22 1 15 1 11 1 9q.5 4 1 6t1 2 1-1 1-3 1-2 1 1 1 2M121 4701q.5 -1 1-2t1 0 1 1 1-2 1-7l1-14 1-22 1 11 1 11 1 7q.5 3 1 5t1 4 1 4 1 3 1 0 1-2 1 0M154 4690q.5 2 1 4t1 2 1 0 1-1 1-3 1-5l1-10 1-19 1-32 .9-33 .1 3 1 23 1 21 1 19 1 16 1 9 1 7q.5 3 1 5t1 3 1 1 1-1 1-4M37 4688q.5 2 1 3t1 2 1 2 1 1 1-1 1-4 1-4 1-1 1-1 1-4l1-12 1-16 1-17 1-15 1 17 1 18 1 11 1 9 1 11q.5 5 1 7t1 0 1-3M121 4692q.5 2 1 2t1-1 1 0 1 2 1 1 1 0 1-3 1-8l1-13 .9-13 .1 2 1 14 1 6q.5 2 1 3t1 3 1 5 1 3 1-2M154 4695q.5 0 1-1t1-4 1-4 1-1 1 0 1-3l1-9 1-17 1-19 1-20 .3-9 .7 12 1 20 1 14 1 11 1 13 1 13q.5 4 1 3t1-2 1-1 1 0 1-1M37 4676q.5 -1 1-2t1-2 1 0 1 2 1 0 1-5l1-12 1-14 1-22 .9-30 .1 2 1 20 1 20 1 20 1 16 1 10q.5 4 1 7t1 4 1 1 1 0 1 0 1 0 1-1M121 4690q.5 -1 1-1t1 0 1-1 1-1 1 0 1-4l1-12 1-13 .2-3 .8 14 1 13 1 6q.5 2 1 2t1 0 1-2 1-3 1 0 1 2M154 4674q.5 0 1 0t1 0 1 2 1 4l1 0 1-17 1-28 1-29 .2-5 .8 17 1 17 1 14 1 14 1 15 1 9q.5 3 1 4t1 1 1 0 1-1 1-2 1-2 1-2M37 4686q.5 0 1-1t1-4 1-4 1 1 1 4 1 1 1-4 1-8l1-16 1-23 1-22 1-23 1 26 1 19 1 13 1 10 1 9q.5 5 1 9t1 6 1 3 1 2 1 1M121 4683q.5 2 1 3t1 1 1-1 1-1 1 0 1-3 1-5 1-5l1-11 1-20 .2-4 .8 15 1 15 1 12q.5 4 1 5t1 1 1-1 1-3M154 4677q.5 2 1 5t1 2 1-4 1-6 1-8l1-12 1-14 1-16 1-24 1 17 1 13 1 10 1 10 1 13 1 12q.5 5 1 7t1 3 1 1 1 0 1 0 1 1M37 4674q.5 0 1 1t1 2 1 2 1 2 1 0 1-5l1-8 1-11 1-23 .9-21 .1 1 1 15 1 16 1 14 1 10 1 5q.5 3 1 5t1 2 1-3 1-5 1-2 1-1 1-3M121 4679q.5 1 1 2t1 1 1 0 1-2l1-10 1-23 .6-19 .4 7 1 16 1 17q.5 7 1 11t1 3 1-3 1-3 1 1 1 3 1 0 1 0M154 4681q.5 1 1 1t1-1 1-1 1-1 1-9l1-24 1-37 1-47 .9-49 .1 5 1 36 1 30 1 30 1 28 1 13 1 11q.5 4 1 5t1 0 1-4 1-5 1-2 1 2M37 4674q.5 2 1 3t1 1 1 0 1 0 1-1 1-3 1-7l1-14 1-17 1-16 .6-10 .4 8 1 13 1 10 1 8 1 8 1 9q.5 4 1 6t1 2 1 1 1 2 1 0 1-2M121 4676q.5 1 1 0t1-1 1 0 1-1 1-2 1-1 1 1 1 2 1-1l1-8 1-17 .4-10 .6 7 1 15 1 14q.5 4 1 5t1 0 1-2M154 4678q.5 -1 1-2t1-2 1-2 1-2 1-3l1-7 1-25 1-41 1-53 .5-28 .5 15 1 32 1 32 1 29 1 22 1 18 1 14q.5 4 1 3t1-2 1-1 1 1 1 1M37 4664q.5 0 1 2t1 4 1 2 1-2 1-6 1-5 1 1 1 3 1-3l1-11 1-16 1-21 .2-4 .8 13 1 14 1 12 1 9 1 9q.5 2 1 1t1-2 1-1 1 1 1 3M121 4673q.5 0 1 0t1 0 1-1 1-6l1-15 .9-18 .1 1 1 19 1 14q.5 5 1 6t1-1 1-3 1 0 1 2 1 1 1 0 1 0 1-1M154 4671q.5 -3 1-7t1-5 1 1 1 4 1 3 1 2 1 1 1-5l1-16 1-26 1-33 .6-23 .4 7 1 23 1 14 1 14 1 15 1 13 1 11q.5 5 1 7t1 0 1-5M37 4656q.5 -2 1-3t1-1 1 0 1 0 1 0 1-1l1-4 1-8 1-15 1-22 .1-3 .9 11 1 14 1 15 1 16 1 6q.5 3 1 5t1 2 1-1 1-1 1-1 1-2 1-1M121 4663q.5 0 1 1t1 2 1 0 1-2 1 0 1 1 1-1 1-5l1-15 1-26 .1-1 .9 21 1 17 1 11q.5 4 1 4t1-1 1-3 1-6M154 4654q.5 0 1-1t1 0 1 2 1-2l1-14 1-32 1-39 .9-40 .1 1 1 33 1 32 1 21 1 22 1 14 1 10q.5 4 1 5t1 0 1-2 1-2 1-1 1 0 1 0M37 4657q.5 0 1 1t1 1 1-1 1-1 1 2 1 2 1-7l1-17 1-25 1-25 .5-13 .5 13 1 17 1 18 1 15 1 5 1 1q.5 1 1 3t1 5 1 6 1 4 1 0 1-3M121 4653q.5 0 1 2t1 4 1 2 1-1 1-1 1 0 1-1 1-4 1-6l1-8 1-13 .2-3 .8 16 1 12 1 4q.5 1 1 1t1 0 1-1M154 4657q.5 1 1 3t1 3 1 0 1-3 1-7l1-18 1-33 1-53 1-59 .2-8 .8 31 1 30 1 25 1 28 1 29 1 23 1 13q.5 3 1 1t1-4 1-3 1 0 1 2M37 4653q.5 1 1 2t1 1 1 0 1 1 1-1l1-10 1-17 1-22 1-31 .1-3 .9 16 1 19 1 17 1 11 1 6 1 5q.5 2 1 4t1 4 1 3 1-1 1-4 1-2 1 1 1 1M121 4650q.5 2 1 4t1 3 1 1 1-1 1-1 1 0 1-3l1-10 1-14 1 9 1 9q.5 4 1 7t1 4 1 0 1-3 1-3 1-2M154 4658q.5 1 1 1t1-1 1 0 1 1 1-3 1-9l1-15 1-25 1-34 .6-24 .4 5 1 20 1 22 1 21 1 19 1 11 1 2q.5 1 1 2t1 2 1 1 1 0 1 2M37 4650q.5 0 1 0t1 1 1 2 1 0 1-1 1-2 1-10l1-20 1-24 1-24 .8-22 .2 4 1 22 1 19 1 17 1 13 1 7q.5 3 1 6t1 6 1 5 1 2 1 1 1 1 1-1M121 4639q.5 0 1 2t1 6 1 6 1 1 1-3 1-2 1 0 1-5l1-14 .2-2 .8 6 1 10q.5 4 1 6t1 2 1 0 1 1 1 1 1 0M155 4652q.5 1 1 0t1-6 1-14l1-23 1-33 1-43 .9-51 .1-1 1 35 1 33 1 27 1 21 1 21 1 20q.5 8 1 12t1 4 1 0 1 0 1-1 1-2 1-1M37 4643q.5 -1 1-1t1 0 1 0 1 1 1 1 1-1 1-4l1-10 1-22 1-30 1-36 .2-7 .8 18 1 27 1 25 1 16 1 8 1 8q.5 3 1 3t1-1 1 1 1 5 1 5 1 1M121 4645q.5 2 1 2t1-2 1 0 1 3 1 1 1-2l1-11 1-27 .6-17 .4 7 1 19 1 19q.5 7 1 10t1 3 1-1 1-1 1 1 1 0M155 4644q.5 0 1-1t1-2 1-1 1-1 1-5l1-11 1-17 1-19 1-24 .4-13 .6 13 1 14 1 16 1 16 1 11 1 12q.5 6 1 11t1 7 1 1 1-4 1-4M37 4644q.5 -1 1-3t1-4 1-1 1 0 1-7l1-17 1-20 1-25 .5-15 .5 8 1 18 1 19 1 15 1 11 1 9q.5 3 1 4t1 1 1 0 1 0 1 0 1 2 1 3 1-2 1-2M121 4643q.5 0 1 0t1-1 1-4 1-4 1 0l1 1 1-10 .6-10 .4 5 1 10 1 10q.5 4 1 5t1-2 1-6 1-3 1 2 1 3 1 1M155 4636q.5 -1 1-2t1-1 1-1 1-4l1-11 1-17 1-25 1-32 .1-3 .9 20 1 20 1 18 1 15 1 11 1 8q.5 3 1 6t1 4 1-2 1-2 1 3 1 0M37 4629q.5 1 1 4t1 4 1-4l1-14 1-22 1-29 .6-19 .4 7 1 20 1 18 1 16 1 12 1 10q.5 4 1 6t1 1 1-1 1 1 1 0 1-1 1-2 1-1 1 3 1 2 1 0M121 4637q.5 1 1 2t1 1 1-1 1-3 1-5 1-6 1-8l1-15 1-26 1 24 1 19 1 14q.5 4 1 5t1 1 1 0 1 0 1 0M155 4641q.5 0 1 0t1-1 1-2 1-1 1 0 1-5l1-15 1-26 1-39 1-45 1 29 1 23 1 27 1 15 1 15 1 17q.5 6 1 8t1 1 1-3 1-4M37 4627q.5 1 1 3t1 4 1 1 1-1 1 1 1 0 1-1 1-2 1-9l1-19 1-24 1-26 .6-14 .4 10 1 25 1 20 1 13 1 5 1 4q.5 1 1 2t1 2 1 2 1 2 1 1M121 4633q.5 -1 1-1t1 1 1-2 1-5 1-3l1-1 .9-4 .1 1 1 9 1 2q.5 0 1 0t1 0 1 0 1-1 1-2 1-1 1 0 1 1M155 4637q.5 0 1-1t1-1 1-2 1-4 1-4 1-4l1-8 1-15 1-20 1-29 .3-11 .7 12 1 13 1 13 1 14 1 13 1 13q.5 5 1 7t1 2 1 0 1 2M37 4630q.5 2 1 1t1-2 1 0 1 2 1 1 1-3l1-9 1-17 1-20 1-28 1 16 1 19 1 9 1 7 1 7q.5 3 1 4t1-1 1-3 1-1 1 1 1 2 1 2 1 4M121 4622q.5 -1 1 0t1 3 1 1 1-3 1-2 1 2 1 2l1-4 1-18 .3-5 .7 8 1 11 1 10q.5 4 1 5t1 0 1-1 1 0 1 0M155 4632q.5 0 1-1t1 0 1 1 1-2l1-10 1-25 1-32 1-49 .6-32 .4 8 1 29 1 25 1 22 1 17 1 14 1 12q.5 5 1 7t1 3 1 3 1 5 1 4M37 4626q.5 1 1 1t1-1 1-4 1-5 1-2 1 1 1-1 1-9l1-17 1-21 1-25 .4-11 .6 13 1 21 1 15 1 11 1 10 1 12q.5 5 1 8t1 3 1-1 1-2 1-1 1 0M121 4627q.5 0 1 0t1 0 1 0 1-2 1-9l1-17 .9-19 .1 0 1 13 1 14q.5 6 1 10t1 6 1 3 1 1 1 0 1 0 1-1 1-1M155 4614q.5 0 1 1t1 1 1-1 1-2 1-7l1-18 1-33 1-44 .8-43 .2 4 1 29 1 28 1 30 1 28 1 21 1 11q.5 3 1 3t1 0 1 0 1 0 1 1M37 4623q.5 0 1-2t1-2 1 1 1-1 1-2 1 1 1 0l1-7 1-17 1-21 1-25 .1-1 .9 17 1 16 1 9 1 11 1 12q.5 5 1 7t1 2 1 0 1-3 1-4 1-1 1 0M121 4618q.5 1 1 2t1 2 1 0 1-5l1-15 1-19 .6-13 .4 11 1 20 1 14q.5 5 1 6t1 1 1 0 1 0 1 0 1 0 1-1 1-3M155 4617q.5 0 1 1t1 2 1 1 1-3l1-10 1-25 1-32 1-40 .5-26 .5 11 1 28 1 29 1 22 1 18 1 18 1 3q.5 1 1 0t1-1 1 0 1 1 1 1M37 4608q.5 -3 1-3t1 1 1 2 1 2 1 1 1-4l1-12 1-19 1-26 .9-31 .1 2 1 22 1 24 1 16 1 11 1 6q.5 3 1 4t1 1 1 0 1 1 1 1 1 1 1 3 1 3M121 4610q.5 0 1 1t1 0 1-3 1-3 1 0 1 1 1-4l1-10 .8-13 .2 4 1 12 1 13q.5 6 1 9t1 2 1-2 1-2 1-1 1 1M155 4611q.5 0 1 0t1 1 1 2 1 1 1-2 1-9l1-21 1-42 1-58 .9-59 .1 3 1 38 1 36 1 32 1 29 1 23 1 15q.5 6 1 10t1 5 1 0 1-1M37 4608q.5 -2 1-3t1 1 1 4 1 1 1-1 1 1 1-2l1-8 1-12 1-19 1-29 .3-8 .7 7 1 14 1 18 1 17 1 11 1 7q.5 2 1 3t1 1 1-1 1-2 1-1 1 2M121 4601q.5 -1 1 0t1 4 1 5 1 1 1-3 1-3 1-1 1-3l1-11 1-24 1 19 1 15 1 7q.5 1 1-1t1-4 1-3 1 0M155 4609q.5 0 1 1t1 0 1-5l1-14 1-28 1-43 1-52 1 27 1 30 1 28 1 22 1 16 1 13q.5 5 1 6t1 0 1-2 1-1 1 2 1 2 1-1M0 4602q.5 3 1 4t1-1 1-4 1-2 1 2 1 2 1 0 1 1 1 2 1 0 1-3 1-3 1-1 1 1 1 1 1 0 1 0 1 2 1 3 1 0 1-2 1 0 1 2 1 1 1-1 1-5 1-6 1-1 1 3 1 5 1 5 1 2 1-1 1-2 1-1 1 0 1-1 1 0 1-2 1-6 1-4 1 0 1 4 1 1l1-11 1-19 1-28 .4-12 .6 7 1 16 1 17 1 13 1 9 1 3q.5 1 1 1t1 1 1 3 1 2 1-1 1 0 1 2 1 1 1 0 1 1 1 1 1-2 1-4 1-3 1-1 1 2 1 4 1 3 1 1 1-1 1-2 1-2 1 0 1 0 1-2 1 0 1 3 1 4 1 2 1 0 1-1 1-4 1-3 1 1 1 3 1 2 1 0 1 0 1-1 1 0 1 2 1 0 1-4 1-3 1 2 1 3 1 0 1-3 1-2 1 1 1 0 1-2 1 1 1 6 1 4 1-5 1-9 1-3 1 5 1 7 1 4 1-1 1-4 1-2 1 2 1 2 1 0 1 1 1 2 1 0 1-3 1-4 1-5l1-8 .4-4 .6 5 1 7q.5 3 1 5t1 4 1 3 1 0 1-2 1 0 1 2 1 1 1-1 1-5 1-6 1-1 1 3 1 5 1 5 1 2 1-1 1-2 1-1 1 0 1-1 1 0 1-2 1-6 1-4 1 0 1 5 1 5l1-5 1-19 1-32 1-38 .4-14 .6 14 1 23 1 20 1 15 1 11 1 7q.5 4 1 8t1 6 1 2 1-1 1-1 1 1 1 1 1 0 1 2 1 2 1-2 1-4 1-4 1-2 1 3 1 5 1 3 1 1 1-1 1-2 1-2 1-1 1-1 1-2 1 0 1 4 1 5 1 2 1 0 1-1 1-4 1-4 1 1 1 3 1 2 1 1 1 0 1-1 1-1 1 1 1 0 1-3 1-3 1 1 1 4 1 0 1-4 1-2 1 1 1 0 1-2 1 1 1 6 1 4 1-5 1-9 1-3 1 5 1 7 1 4 1 0M0 4602q.5 0 1 0t1 0 1-1 1-1 1-1 1-1 1 1 1 2 1 1 1-2 1-3 1-2 1 0 1 2 1 0 1-2 1 1 1 4 1 1 1-3 1-3 1 0 1 3 1 3 1 0 1 0 1 1 1-2 1-4 1-3 1 1 1 4 1 3 1 1 1 0 1-1 1-3 1-4 1-2 1 2 1 4 1 3 1 1 1-3l1-12 1-17 1-20 .8-20 .2 3 1 15 1 16 1 12 1 11 1 8q.5 3 1 5t1 2 1-1 1-2 1-2 1-2 1-2 1-1 1 2 1 4 1 3 1 0 1-2 1-1 1 0 1 1 1 2 1-1 1-4 1 0 1 4 1 2 1-1 1-2 1 0 1 2 1-1 1-4 1-2 1 1 1 1 1 0 1 1 1 2 1 0 1-3 1-1 1 2 1 1 1-1 1-1 1 0 1 1 1 2 1 1 1 0 1 1 1 2 1 0 1-3 1-3 1-1 1 1 1 1 1 1 1 2 1 1 1 0 1 0 1 0 1 0 1 0 1-1 1-1 1-1 1-1 1 1 1 2 1 1 1-2 1-3 1-2 1 0 1 2 1-1 1-7l1-10 .7-6 .3 5 1 12 1 4q.5 1 1 0t1 0 1 4 1 4 1 0 1 0 1 1 1-3 1-5 1-3 1 1 1 4 1 3 1 1 1 0 1-1 1-3 1-4 1-2 1 2 1 4 1 3 1 1 1 0 1-4l1-16 1-33 1-49 1-58 .2-12 .8 26 1 35 1 31 1 28 1 23 1 20 1 8q.5 1 1-1t1-2 1-1 1-2 1-1 1 2 1 4 1 3 1 0 1-2 1-1 1 0 1 1 1 1 1-1 1-3 1 0 1 4 1 2 1-2 1-3 1 0 1 2 1 0 1-4 1-2 1 2 1 1 1 0 1 1 1 2 1 0 1-3 1-2 1 1 1 1 1-1 1-1 1 1 1 2 1 2 1 1 1 0 1 1 1 1 1-1 1-3 1-2 1 0 1 0 1 1 1 2 1 2 1 1 1-1 1-1 1 0 1 1 1 1M0 4594q.5 1 1 2t1 0 1-2 1-1 1 1 1 2 1 2 1 0 1-1 1 1 1 1 1-2 1-3 1-1 1 2 1 1 1-5 1-8 1-5 1 1 1 4 1 3 1 1 1 1 1 3 1 3 1 0 1-2 1-1 1 0 1 1 1 3 1 3 1 0 1-4 1-5 1 0 1 4 1 2 1-1 1-1 1-3l1-11 1-21 1-23 .6-13 .4 6 1 17 1 16 1 13 1 9 1 4q.5 1 1 2t1 2 1 2 1 1 1-1 1 0 1 3 1 2 1-1 1-1 1 1 1 0 1-6 1-7 1-2 1 1 1 1 1 0 1 1 1 2 1 2 1 2 1 1 1-1 1 0 1 3 1 3 1 1 1 0 1 0 1-2 1-1 1 2 1 0 1-2 1-1 1-1 1-3 1-4 1-4 1-4 1-2 1 1 1 3 1 5 1 6 1 5 1 2 1 0 1-1 1-3 1-3 1 0 1 3 1 2 1 0 1 1 1 1 1-1 1-2 1-1 1 1 1 1 1-1 1-2 1 0 1 2 1 2 1 1 1-1 1-1 1 1 1 1 1-1 1-2 1-1 1-2l1-9 1-25 .3-7 .7 6 1 9 1 11q.5 5 1 8t1 3 1 0 1 1 1 3 1 3 1 0 1-2 1-2 1-1 1 1 1 3 1 3 1 0 1-4 1-5 1 0 1 4 1 2 1 0 1 1 1 1 1-1 1-3 1-3 1-2 1-6l1-15 1-29 1-41 .8-39 .2 4 1 28 1 28 1 26 1 20 1 14 1 10q.5 5 1 8t1 3 1-1 1-1 1 1 1 0 1-6 1-7 1-2 1 1 1 1 1 0 1 1 1 2 1 2 1 2 1 1 1-1 1 0 1 3 1 3 1 1 1 0 1 0 1-2 1-1 1 2 1 0 1-2 1-1 1-1 1-3 1-4 1-4 1-4 1-2 1 1 1 3 1 5 1 6 1 5 1 2 1 0 1-1 1-3 1-3 1 0 1 3 1 2 1 0 1 1 1 1 1-1 1-2 1-1 1 1 1 1 1-1M0 4590q.5 2 1 3t1 0 1-2 1 0 1 2 1 0 1-1 1-1 1-4 1-4 1 0 1 3 1 4 1 2 1-2 1-3 1-1 1 2 1 3 1-2 1-3 1 2 1 3 1 1 1-1 1 0 1 2 1-1 1-2 1 1 1 2 1 1 1 0 1-1 1-3 1-3 1 0 1 2 1 2 1 1 1-2 1-6l1-10 1-17 1-21 .5-13 .5 8 1 16 1 13 1 9 1 9 1 10q.5 4 1 4t1-2 1-3 1-2 1-2 1-2 1-2 1-1 1 2 1 5 1 4 1 0 1-1 1 0 1 0 1-1 1-1 1 1 1 2 1 1 1 0 1 1 1 2 1 1 1 0 1-1 1-2 1 0 1 2 1 0 1-3 1-4 1-2 1 1 1 2 1 2 1 2 1 0 1-2 1-2 1-1 1-1 1-2 1-2 1-1 1 2 1 4 1 2 1 0 1 2 1 3 1 1 1-1 1-2 1-2 1-2 1-3 1-3 1 0 1 2 1 3 1 4 1 3 1 0 1-2 1 0 1 2 1 0 1-1 1-1 1-4 1-4 1 0 1 3 1 4 1 2 1-2 1-4l1-8 1-13 .6-7 .4 9 1 7 1 7q.5 4 1 7t1 4 1 1 1-1 1 0 1 1 1-1 1-1 1 0 1 1 1 2 1 1 1-2 1-4 1-2 1 0 1 2 1 3 1 0 1-1 1 0 1 1 1 2 1 1 1-2 1-8l1-20 1-32 1-36 .6-22 .4 9 1 26 1 17 1 18 1 15 1 11 1 8q.5 2 1 1t1-2 1 1 1 5 1 4 1 1 1 0 1 0 1 0 1-1 1-2 1 0 1 2 1 1 1 0 1 1 1 2 1 2 1 1 1-1 1-2 1-1 1 1 1 0 1-3 1-4 1-2 1 1 1 2 1 3 1 2 1-1 1-2 1-1 1 0 1-1 1-3 1-3 1 0 1 3 1 4 1 2 1 0 1 1 1 2 1 1 1-1 1-2 1-2 1-2 1-2 1-2 1-1 1 1 1 3 1 4 1 3 1 0M0 4585q.5 -1 1-3t1-3 1 0 1 3 1 3 1 0 1-3 1-3 1 0 1 4 1 4 1-1 1-1 1 2 1 0 1-3 1-4 1-3 1-1 1 0 1 0 1-1 1-3 1-2 1 1 1 4 1 6 1 3 1 0 1 0 1 0 1-1 1-3 1-3 1 1 1 5 1 2 1-6 1-8 1-3 1 0l1-4 1-11 1-15 1-22 .1-2 .9 12 1 12 1 10 1 10 1 12q.5 6 1 11t1 7 1 2 1-1 1-1 1 0 1 0 1-2 1-4 1-3 1-2 1 0 1 2 1 1 1-1 1-1 1 0 1 1 1 1 1 0 1 1 1 3 1 4 1 1 1-2 1-1 1 1 1 0 1-2 1-2 1-2 1-3 1-2 1 2 1 3 1 0 1-3 1-1 1 2 1 0 1-3 1-3 1 1 1 4 1 3 1 2 1 2 1 0 1-3 1-4 1-2 1 2 1 4 1 3 1 1 1 0 1 0 1-1 1-1 1 0 1 0 1 1 1 0 1-3 1-3 1 0 1 3 1 3 1 0 1-3 1-3 1 0 1 4 1 4 1-1 1-1 1 2 1 0 1-4 1-9l1-14 .7-11 .3 3 1 12 1 8q.5 3 1 3t1-2 1-3 1 1 1 5 1 5 1 3 1 1 1 0 1 0 1-1 1-4 1-4 1 1 1 5 1 2 1-6 1-8 1-2 1 2 1 3 1 3 1-3l1-20 1-40 1-53 .9-56 .1 2 1 36 1 37 1 37 1 31 1 21 1 15q.5 5 1 6t1 1 1-1 1-3 1-4 1-3 1-2 1 0 1 2 1 1 1-1 1-1 1 0 1 1 1 1 1 0 1 1 1 3 1 4 1 1 1-2 1-1 1 1 1 0 1-2 1-2 1-2 1-3 1-2 1 2 1 3 1 0 1-3 1-1 1 2 1 0 1-3 1-3 1 1 1 4 1 3 1 2 1 2 1 0 1-3 1-4 1-2 1 2 1 4 1 3 1 1 1 0 1 0 1-1 1-1 1 0 1 0 1 1 1 0 1-3 1-3M0 4584q.5 -1 1-2t1-2 1 0 1 2 1-3 1-6 1-3 1 1 1 6 1 5 1-1 1-1 1 3 1 2 1 0 1 0 1-1 1-2 1-2 1-1 1-1 1-1 1 0 1 1 1 1 1-1 1-1 1 2 1 3 1 1 1-1 1-3 1-4 1-3 1 0 1 1 1-1 1 0 1 2 1 3 1 2 1-4l1-13 1-20 1-25 .5-12 .5 10 1 16 1 15 1 14 1 10 1 7q.5 3 1 5t1 3 1 0 1-2 1-3 1-3 1-1 1 2 1 3 1 0 1-4 1-5 1-3 1 0 1 2 1 1 1 1 1 1 1 0 1 1 1 1 1-1 1-2 1 0 1 3 1 4 1 1 1-3 1-3 1-2 1-2 1-3 1-2 1 1 1 4 1 6 1 3 1 1 1 2 1 1 1 0 1-2 1-4 1-1 1 4 1 4 1 0 1-3 1-2 1 2 1 3 1 0 1-4 1-5 1-2 1 1 1 3 1 4 1 3 1 1 1 0 1-1 1-2 1-2 1 0 1 1 1-3 1-5 1-3 1 1 1 5 1 4 1 0 1 0 1 1 1-5l1-13 .8-11 .2 4 1 12 1 8q.5 3 1 3t1-1 1-1 1-1 1-1 1 1 1 1 1 0 1 0 1 1 1 2 1 1 1-1 1-3 1-4 1-2 1 1 1 1 1-1 1-1 1 2 1 3 1 2 1 2 1 2 1 1 1 0 1-1 1-7l1-20 1-40 1-55 1-65 .2-10 .8 37 1 42 1 35 1 29 1 21 1 15 1 10q.5 3 1 4t1 2 1 0 1-4 1-5 1-3 1 0 1 2 1 1 1 1 1 1 1 0 1 1 1 1 1-1 1-2 1 0 1 3 1 4 1 1 1-3 1-3 1-2 1-2 1-3 1-2 1 1 1 4 1 6 1 3 1 1 1 2 1 1 1 0 1-2 1-4 1-1 1 4 1 4 1 0 1-3 1-2 1 2 1 3 1 0 1-4 1-5 1-2 1 1 1 3 1 4 1 3 1 1 1 0 1-1 1-2 1-2"/></g><g fill="none" stroke="#ff0000" stroke-width="2.2"><circle cx="1615.2" cy="2725.4"/><circle cx="1614.2" cy="2724.4"/><circle cx="1625.3" cy="2708.8"/><circle cx="1629.3" cy="2713.9"/><circle cx="1622.3" cy="2713.9"/><circle cx="1610.7" cy="2698.1"/><circle cx="1632.8" cy="2706"/><circle cx="1623.8" cy="2704.6"/><circle cx="1621.8" cy="2687"/><circle cx="1628.3" cy="2692"/><circle cx="1613.2" cy="2686.4"/><circle cx="1614.7" cy="2683.4"/><circle cx="1607.2" cy="2695"/><circle cx="1629.3" cy="2680.9"/><circle cx="1626.3" cy="2673.2"/><circle cx="1622.8" cy="2678.3"/><circle cx="1613.2" cy="2676.1"/><circle cx="1625.3" cy="2666.2"/><circle cx="1622.8" cy="2666.1"/><circle cx="1617.8" cy="2668.6"/><circle cx="1615.7" cy="2658.6"/><circle cx="1617.3" cy="2664.7"/><circle cx="1619.3" cy="2656.2"/><circle cx="1617.3" cy="2656.7"/><circle cx="1621.3" cy="2655.5"/><circle cx="1612.7" cy="2649.9"/><circle cx="1622.8" cy="2650.3"/><circle cx="1630.3" cy="2644.6"/><circle cx="1618.8" cy="2641.6"/><circle cx="1631.8" cy="2639"/><circle cx="1609.7" cy="2639"/><circle cx="1619.3" cy="2626"/><circle cx="1623.8" cy="2622"/><circle cx="1626.8" cy="2627.2"/><circle cx="1607.2" cy="2629"/><circle cx="1620.8" cy="2628.8"/><circle cx="1617.3" cy="2609.1"/><circle cx="1600.2" cy="2616.5"/><circle cx="1631.3" cy="2600.9"/><circle cx="1616.7" cy="2600.3"/><circle cx="1636.3" cy="2607.5"/><circle cx="1612.2" cy="2593.8"/><circle cx="1614.7" cy="2580.9"/><circle cx="1633.3" cy="2575.4"/><circle cx="1623.8" cy="2583.8"/><circle cx="1634.8" cy="2584.9"/><circle cx="1621.8" cy="2572.4"/><circle cx="1596.2" cy="2570"/><circle cx="1628.8" cy="2561.2"/><circle cx="1609.7" cy="2571"/><circle cx="1627.8" cy="2564.1"/><circle cx="1631.8" cy="2551.4"/><circle cx="1616.2" cy="2565.3"/><circle cx="1625.8" cy="2560.4"/><circle cx="1620.8" cy="2560"/><circle cx="1628.8" cy="2549.3"/><circle cx="1631.3" cy="2546.2"/><circle cx="1618.3" cy="2544.6"/><circle cx="1626.8" cy="2540.4"/><circle cx="1618.8" cy="2541.5"/><circle cx="1630.8" cy="2527.3"/><circle cx="1618.3" cy="2526"/><circle cx="1635.8" cy="2521.1"/><circle cx="1630.8" cy="2515"/><circle cx="1627.3" cy="2521.4"/><circle cx="1628.3" cy="2512.2"/><circle cx="1621.8" cy="2510.5"/><circle cx="1623.8" cy="2511.1"/><circle cx="1619.3" cy="2495.8"/><circle cx="1626.8" cy="2503.7"/><circle cx="1616.7" cy="2486.4"/><circle cx="1616.2" cy="2499"/><circle cx="1622.8" cy="2493.8"/><circle cx="1616.2" cy="2480.9"/><circle cx="1618.3" cy="2488.2"/><circle cx="1631.3" cy="2479.4"/><circle cx="1630.3" cy="2490.9"/><circle cx="1644.8" cy="2477.2"/><circle cx="1634.8" cy="2469.3"/><circle cx="1621.3" cy="2469"/><circle cx="1619.3" cy="2466.3"/><circle cx="1618.8" cy="2462.7"/><circle cx="1614.2" cy="2464.6"/><circle cx="1614.7" cy="2460.8"/><circle cx="1628.8" cy="2451.5"/><circle cx="1630.8" cy="2448.7"/><circle cx="1648.4" cy="2452.5"/><circle cx="1635.3" cy="2446.1"/><circle cx="1626.8" cy="2439.6"/><circle cx="1629.3" cy="2448.3"/><circle cx="1616.2" cy="2444.3"/><circle cx="1619.8" cy="2441.2"/><circle cx="1636.8" cy="2424.7"/><circle cx="1629.3" cy="2425.3"/><circle cx="1630.3" cy="2427.8"/><circle cx="1628.8" cy="2426.7"/><circle cx="1628.3" cy="2419.6"/><circle cx="1630.8" cy="2416.3"/><circle cx="1628.3" cy="2419.4"/><circle cx="1620.8" cy="2413.3"/><circle cx="1634.8" cy="2405.6"/><circle cx="1613.7" cy="2409.9"/><circle cx="1619.3" cy="2415.3"/><circle cx="1637.3" cy="2393.6"/><circle cx="1637.3" cy="2403.7"/><circle cx="1634.3" cy="2384"/><circle cx="1626.3" cy="2393.4"/><circle cx="1633.8" cy="2387.9"/><circle cx="1640.3" cy="2388.3"/><circle cx="1629.8" cy="2384.6"/><circle cx="1625.3" cy="2370"/><circle cx="1630.8" cy="2378.5"/><circle cx="1617.8" cy="2375.5"/><circle cx="1630.3" cy="2378.8"/><circle cx="1631.8" cy="2366"/><circle cx="1627.3" cy="2353.8"/><circle cx="1614.2" cy="2356.9"/><circle cx="1618.3" cy="2358.4"/><circle cx="1636.8" cy="2360.9"/><circle cx="1627.8" cy="2346.6"/><circle cx="1628.8" cy="2343.2"/><circle cx="1617.3" cy="2344.2"/><circle cx="1624.3" cy="2352.2"/><circle cx="1633.8" cy="2346"/><circle cx="1625.8" cy="2337.7"/><circle cx="1629.8" cy="2337.1"/><circle cx="1635.8" cy="2329.6"/><circle cx="1643.3" cy="2319.2"/><circle cx="1615.7" cy="2316.5"/><circle cx="1636.8" cy="2308.4"/><circle cx="1642.3" cy="2311.9"/><circle cx="1629.3" cy="2296.1"/><circle cx="1624.3" cy="2307.4"/><circle cx="1631.3" cy="2288"/><circle cx="1620.8" cy="2309"/><circle cx="1620.8" cy="2289.8"/><circle cx="1619.3" cy="2285.1"/><circle cx="1630.3" cy="2289.4"/><circle cx="1636.3" cy="2282.9"/><circle cx="1632.8" cy="2275.3"/><circle cx="1625.3" cy="2276.5"/><circle cx="1692" cy="2664"/><circle cx="1733" cy="2296"/><circle cx="1712" cy="2430"/><circle cx="1706" cy="2475"/><circle cx="1728" cy="2515"/><circle cx="1716" cy="2561"/><circle cx="1703" cy="2663"/><circle cx="1698" cy="2694"/></g><g fill="none" stroke="#f0f000" stroke-width="2.2"><circle cx="1788.4" cy="2670.9"/><circle cx="1792.4" cy="2647.1"/><circle cx="1776.3" cy="2652.9"/><circle cx="1784.3" cy="2682.4"/><circle cx="1784.8" cy="2679.5"/><circle cx="1789.4" cy="2676.3"/><circle cx="1779.3" cy="2669.8"/><circle cx="1790.9" cy="2653"/><circle cx="1778.3" cy="2633.8"/><circle cx="1788.9" cy="2630.2"/><circle cx="1783.3" cy="2679"/><circle cx="1786.8" cy="2653.5"/><circle cx="1779.8" cy="2640.4"/><circle cx="1774.3" cy="2654.7"/><circle cx="1777.8" cy="2633.8"/><circle cx="1795.9" cy="2623"/><circle cx="1783.3" cy="2600.6"/><circle cx="1796.9" cy="2619.2"/><circle cx="1786.3" cy="2636.8"/><circle cx="1790.4" cy="2620.2"/><circle cx="1782.8" cy="2614.1"/><circle cx="1777.3" cy="2621.2"/><circle cx="1794.4" cy="2614.5"/><circle cx="1775.8" cy="2636.6"/><circle cx="1777.8" cy="2610.7"/><circle cx="1786.3" cy="2591.3"/><circle cx="1781.8" cy="2590.3"/><circle cx="1788.4" cy="2602.5"/><circle cx="1796.9" cy="2599.3"/><circle cx="1774.8" cy="2568"/><circle cx="1782.8" cy="2589.8"/><circle cx="1783.3" cy="2569.2"/><circle cx="1783.8" cy="2563.7"/><circle cx="1792.4" cy="2589.7"/><circle cx="1788.4" cy="2597.3"/><circle cx="1777.3" cy="2594.8"/><circle cx="1793.4" cy="2570.8"/><circle cx="1789.4" cy="2547.4"/><circle cx="1786.8" cy="2590.9"/><circle cx="1786.8" cy="2535.7"/><circle cx="1776.3" cy="2572.8"/><circle cx="1783.3" cy="2546"/><circle cx="1788.4" cy="2518.5"/><circle cx="1786.3" cy="2529.5"/><circle cx="1794.9" cy="2519.3"/><circle cx="1785.8" cy="2536.8"/><circle cx="1779.8" cy="2539.6"/><circle cx="1798.9" cy="2537.5"/><circle cx="1790.4" cy="2545.4"/><circle cx="1785.3" cy="2501.9"/><circle cx="1783.8" cy="2519.5"/><circle cx="1790.9" cy="2530.3"/><circle cx="1776.8" cy="2494.3"/><circle cx="1789.9" cy="2502.9"/><circle cx="1801.9" cy="2494.4"/><circle cx="1790.9" cy="2476.7"/><circle cx="1789.4" cy="2528.9"/><circle cx="1786.8" cy="2524.9"/><circle cx="1791.4" cy="2472.7"/><circle cx="1799.4" cy="2479.7"/><circle cx="1781.8" cy="2514.7"/><circle cx="1786.8" cy="2505.5"/><circle cx="1791.4" cy="2487.7"/><circle cx="1789.4" cy="2492.3"/><circle cx="1789.4" cy="2467.2"/><circle cx="1790.9" cy="2468.1"/><circle cx="1789.4" cy="2458.2"/><circle cx="1788.9" cy="2486.3"/><circle cx="1798.9" cy="2442.7"/><circle cx="1788.9" cy="2462.9"/><circle cx="1793.4" cy="2443.2"/><circle cx="1796.9" cy="2483.2"/><circle cx="1797.4" cy="2479.5"/><circle cx="1790.4" cy="2430.9"/><circle cx="1789.9" cy="2460.4"/><circle cx="1787.9" cy="2464.2"/><circle cx="1791.9" cy="2437.2"/><circle cx="1801.9" cy="2444.5"/><circle cx="1789.4" cy="2444.4"/><circle cx="1792.9" cy="2449.7"/><circle cx="1792.9" cy="2435.8"/><circle cx="1793.4" cy="2403.1"/><circle cx="1795.4" cy="2405.5"/><circle cx="1801.9" cy="2396.3"/><circle cx="1801.4" cy="2433.5"/><circle cx="1790.4" cy="2437"/><circle cx="1791.4" cy="2407.3"/><circle cx="1793.4" cy="2437.2"/><circle cx="1785.3" cy="2394.5"/><circle cx="1786.8" cy="2426.3"/><circle cx="1798.4" cy="2394.8"/><circle cx="1795.9" cy="2418.1"/><circle cx="1790.9" cy="2401.5"/><circle cx="1802.4" cy="2377.9"/><circle cx="1791.4" cy="2405.5"/><circle cx="1793.9" cy="2415.2"/><circle cx="1784.3" cy="2410.9"/><circle cx="1783.8" cy="2398.9"/><circle cx="1791.9" cy="2398.3"/><circle cx="1789.4" cy="2367.3"/><circle cx="1799.4" cy="2405.3"/><circle cx="1791.4" cy="2379.6"/><circle cx="1793.9" cy="2366.8"/><circle cx="1785.8" cy="2388.1"/><circle cx="1791.9" cy="2349.7"/><circle cx="1801.4" cy="2366.7"/><circle cx="1787.9" cy="2377.8"/><circle cx="1788.9" cy="2373.6"/><circle cx="1788.9" cy="2347.1"/><circle cx="1796.9" cy="2360.8"/><circle cx="1799.9" cy="2358.3"/><circle cx="1784.8" cy="2350.8"/><circle cx="1795.4" cy="2342.6"/><circle cx="1795.4" cy="2363.3"/><circle cx="1808.4" cy="2306"/><circle cx="1801.9" cy="2326.8"/><circle cx="1788.9" cy="2318"/><circle cx="1801.9" cy="2344"/><circle cx="1802.4" cy="2338.7"/><circle cx="1804.9" cy="2297.9"/><circle cx="1805.4" cy="2308.2"/><circle cx="1812.4" cy="2334"/><circle cx="1793.4" cy="2300.2"/><circle cx="1790.9" cy="2293.5"/><circle cx="1792.4" cy="2300"/><circle cx="1788.4" cy="2302.8"/><circle cx="1793.9" cy="2310.1"/><circle cx="1819.5" cy="2303.9"/><circle cx="1791.4" cy="2319.2"/><circle cx="1795.4" cy="2298.7"/><circle cx="1798.9" cy="2286.2"/><circle cx="1790.4" cy="2304.3"/><circle cx="1805.9" cy="2304.8"/><circle cx="1801.4" cy="2296.7"/><circle cx="1803.4" cy="2304"/><circle cx="1796.9" cy="2299.8"/><circle cx="1799.4" cy="2256.3"/><circle cx="1809.9" cy="2283.3"/><circle cx="1797.9" cy="2240.8"/><circle cx="1799.9" cy="2274.5"/><circle cx="1791.4" cy="2241"/><circle cx="1803.9" cy="2275"/><circle cx="1797.4" cy="2270"/><circle cx="1799.9" cy="2240.8"/><circle cx="1799.4" cy="2242.3"/><circle cx="1806.4" cy="2211.8"/><circle cx="1791.9" cy="2234.1"/><circle cx="1788.9" cy="2247.2"/><circle cx="1792.9" cy="2214.3"/><circle cx="1799.9" cy="2237.3"/><circle cx="1786.3" cy="2202.1"/><circle cx="1452" cy="2268"/><circle cx="1525" cy="2437"/><circle cx="2017" cy="2660"/></g><g fill="none" stroke="#00e400" stroke-width="2.2"><circle cx="1208.3" cy="2694"/><circle cx="1204.8" cy="2709.2"/><circle cx="1210.8" cy="2681.6"/><circle cx="1204.8" cy="2697.6"/><circle cx="1204.8" cy="2688.8"/><circle cx="1203.3" cy="2693.9"/><circle cx="1215.8" cy="2682.1"/><circle cx="1200.3" cy="2664.2"/><circle cx="1193.8" cy="2666.2"/><circle cx="1208.3" cy="2676.5"/><circle cx="1195.8" cy="2674.2"/><circle cx="1198.8" cy="2649.1"/><circle cx="1212.3" cy="2660.6"/><circle cx="1205.3" cy="2644.9"/><circle cx="1200.8" cy="2643"/><circle cx="1226.4" cy="2647.5"/><circle cx="1208.3" cy="2650"/><circle cx="1214.8" cy="2631"/><circle cx="1223.9" cy="2639.2"/><circle cx="1213.3" cy="2644.5"/><circle cx="1209.3" cy="2620.8"/><circle cx="1209.8" cy="2625.9"/><circle cx="1197.3" cy="2614"/><circle cx="1202.3" cy="2607.1"/><circle cx="1209.8" cy="2623.2"/><circle cx="1201.8" cy="2614.8"/><circle cx="1215.3" cy="2613.2"/><circle cx="1206.3" cy="2604.4"/><circle cx="1206.8" cy="2582"/><circle cx="1201.8" cy="2599.8"/><circle cx="1222.9" cy="2574.2"/><circle cx="1194.3" cy="2582"/><circle cx="1214.8" cy="2577"/><circle cx="1207.8" cy="2587.5"/><circle cx="1199.8" cy="2579.8"/><circle cx="1213.8" cy="2572.8"/><circle cx="1220.4" cy="2572.2"/><circle cx="1206.3" cy="2549"/><circle cx="1218.3" cy="2567.8"/><circle cx="1206.8" cy="2550"/><circle cx="1216.3" cy="2557.1"/><circle cx="1204.8" cy="2559.3"/><circle cx="1206.3" cy="2542"/><circle cx="1221.9" cy="2531.7"/><circle cx="1201.8" cy="2530.4"/><circle cx="1216.8" cy="2541.5"/><circle cx="1215.8" cy="2531"/><circle cx="1209.3" cy="2535.3"/><circle cx="1208.3" cy="2525.7"/><circle cx="1227.4" cy="2529.8"/><circle cx="1216.3" cy="2515"/><circle cx="1202.3" cy="2510.3"/><circle cx="1217.8" cy="2527.7"/><circle cx="1213.8" cy="2517.6"/><circle cx="1208.8" cy="2503.7"/><circle cx="1198.8" cy="2506.7"/><circle cx="1204.3" cy="2506.2"/><circle cx="1206.8" cy="2486.5"/><circle cx="1217.3" cy="2485.3"/><circle cx="1201.8" cy="2500.8"/><circle cx="1221.9" cy="2498"/><circle cx="1198.8" cy="2480.4"/><circle cx="1206.3" cy="2475.9"/><circle cx="1203.3" cy="2480.6"/><circle cx="1213.8" cy="2482.4"/><circle cx="1207.3" cy="2483.1"/><circle cx="1209.8" cy="2469.6"/><circle cx="1211.3" cy="2458.6"/><circle cx="1204.3" cy="2463.7"/><circle cx="1202.3" cy="2470.7"/><circle cx="1205.3" cy="2459.6"/><circle cx="1225.9" cy="2460.3"/><circle cx="1218.8" cy="2453.1"/><circle cx="1215.3" cy="2434.2"/><circle cx="1207.3" cy="2451"/><circle cx="1206.8" cy="2448.7"/><circle cx="1203.8" cy="2445.6"/><circle cx="1205.3" cy="2427.1"/><circle cx="1212.8" cy="2430.7"/><circle cx="1207.8" cy="2416.3"/><circle cx="1214.8" cy="2412.6"/><circle cx="1211.3" cy="2428.4"/><circle cx="1216.8" cy="2419.2"/><circle cx="1217.3" cy="2418"/><circle cx="1217.8" cy="2410.7"/><circle cx="1205.3" cy="2396.2"/><circle cx="1212.8" cy="2402.2"/><circle cx="1220.9" cy="2408.9"/><circle cx="1211.3" cy="2413.5"/><circle cx="1211.3" cy="2382.7"/><circle cx="1210.8" cy="2393.8"/><circle cx="1203.8" cy="2373.7"/><circle cx="1224.9" cy="2370"/><circle cx="1215.3" cy="2375.2"/><circle cx="1220.9" cy="2382.8"/><circle cx="1218.8" cy="2382.7"/><circle cx="1212.3" cy="2378.7"/><circle cx="1205.8" cy="2359.5"/><circle cx="1214.8" cy="2372.5"/><circle cx="1208.8" cy="2347.9"/><circle cx="1211.3" cy="2351.5"/><circle cx="1223.4" cy="2368"/><circle cx="1212.8" cy="2353.1"/><circle cx="1211.8" cy="2346.3"/><circle cx="1198.8" cy="2337.9"/><circle cx="1208.8" cy="2337"/><circle cx="1198.3" cy="2326"/><circle cx="1224.4" cy="2326"/><circle cx="1206.3" cy="2317.5"/><circle cx="1207.3" cy="2321.7"/><circle cx="1209.8" cy="2330.9"/><circle cx="1208.8" cy="2333.1"/><circle cx="1211.3" cy="2325.3"/><circle cx="1209.8" cy="2310.7"/><circle cx="1202.8" cy="2299.5"/><circle cx="1214.8" cy="2305.4"/><circle cx="1234.9" cy="2310.5"/><circle cx="1214.3" cy="2295.4"/><circle cx="1224.9" cy="2293.3"/><circle cx="1225.9" cy="2303.8"/><circle cx="1215.3" cy="2299.6"/><circle cx="1217.3" cy="2287.2"/><circle cx="1218.8" cy="2274.8"/><circle cx="1220.9" cy="2267.2"/><circle cx="1207.3" cy="2275.9"/><circle cx="1197.8" cy="2274.4"/><circle cx="1227.9" cy="2269.8"/><circle cx="1214.8" cy="2277.3"/><circle cx="1221.9" cy="2266.1"/><circle cx="1220.4" cy="2273.5"/><circle cx="1214.3" cy="2259.6"/><circle cx="1221.4" cy="2266.5"/><circle cx="1216.8" cy="2263.3"/><circle cx="1218.8" cy="2264.8"/><circle cx="1207.3" cy="2261.3"/><circle cx="1205.3" cy="2256.9"/><circle cx="1207.3" cy="2252.6"/><circle cx="1005" cy="2660"/><circle cx="1267" cy="2436"/></g><text class="w" x="979" y="2804.9" text-anchor="middle">0.149</text><text class="w" x="1169.9" y="2804.9" text-anchor="middle">0.1495</text><text class="w" x="1360.7" y="2804.9" text-anchor="middle">0.15</text><text class="w" x="1551.6" y="2804.9" text-anchor="middle">0.1505</text><text class="w" x="1742.5" y="2804.9" text-anchor="middle">0.151</text><text class="w" x="1933.3" y="2804.9" text-anchor="middle">0.1515</text><text class="w" x="2124.2" y="2804.9" text-anchor="middle">0.152</text><text class="w" x="944" y="2754.7" text-anchor="end">0</text><text class="w" x="944" y="2689.9" text-anchor="end">20</text><text class="w" x="944" y="2625.1" text-anchor="end">40</text><text class="w" x="2160.7" y="2754.7">00:00</text><text class="w" x="2160.7" y="2716.9">00:15</text><text class="w" x="2160.7" y="2679">00:30</text><text class="w" x="2160.7" y="2641.2">00:45</text><text class="w" x="2160.7" y="2603.4">01:00</text><text class="w" x="2160.7" y="2565.6">01:15</text><text class="w" x="2160.7" y="2527.7">01:30</text><text class="w" x="2160.7" y="2489.9">01:45</text><text class="w" x="2160.7" y="2452.1">02:00</text><text class="w" x="2160.7" y="2414.3">02:15</text><text class="w" x="2160.7" y="2376.4">02:30</text><text class="w" x="2160.7" y="2338.6">02:45</text><text class="w" x="2160.7" y="2300.8">03:00</text><text class="w" font-size="25" text-anchor="middle" transform="translate(903 2682) rotate(-90)" y="8.5">SNR</text><text class="b" font-size="31.5" text-anchor="middle" transform="translate(2276.8 2792.6) rotate(48)" y="7.7">Sept 16th</text><path d="M213.4 2241.4V2745.9H760.9" fill="none" stroke="#6e6e6e" stroke-width="2"/><path d="M213.4 2241.4h5M213.4 2287.3h5M213.4 2333.1h5M213.4 2379h5M213.4 2424.9h5M213.4 2470.7h5M213.4 2516.6h5M213.4 2562.4h5M213.4 2608.3h5M213.4 2654.2h5M213.4 2700h5M213.4 2745.9h5M213.4 2745.9v-5M350.3 2745.9v-5M487.1 2745.9v-5M624 2745.9v-5M760.9 2745.9v-5" stroke="#6e6e6e" stroke-width="2"/><text class="t" x="203.9" y="2249.6" text-anchor="end">18:00</text><text class="t" x="203.9" y="2295.5" text-anchor="end">15:00</text><text class="t" x="203.9" y="2341.3" text-anchor="end">12:00</text><text class="t" x="203.9" y="2387.2" text-anchor="end">09:00</text><text class="t" x="203.9" y="2433.1" text-anchor="end">06:00</text><text class="t" x="203.9" y="2478.9" text-anchor="end">03:00</text><text class="t" x="203.9" y="2524.8" text-anchor="end">00:00</text><text class="t" x="203.9" y="2570.6" text-anchor="end">21:00</text><text class="t" x="203.9" y="2616.5" text-anchor="end">18:00</text><text class="t" x="203.9" y="2662.4" text-anchor="end">15:00</text><text class="t" x="203.9" y="2708.2" text-anchor="end">12:00</text><text class="t" x="203.9" y="2754.1" text-anchor="end">09:00</text><text class="t" x="213.4" y="2778.2" text-anchor="middle">0.149</text><text class="t" x="350.3" y="2778.2" text-anchor="middle">0.15</text><text class="t" x="487.1" y="2778.2" text-anchor="middle">0.151</text><text class="t" x="624" y="2778.2" text-anchor="middle">0.152</text><text class="t" x="760.9" y="2778.2" text-anchor="middle">0.153</text><clipPath id="cB2"><rect x="213.4" y="2276" width="547.5" height="426"/></clipPath><g filter="url(#jB2)" clip-path="url(#cB2)"><rect x="213.4" y="2276" width="547.5" height="426" fill="#1d1d1d"/><rect x="213.4" y="2650" width="548" height="52" fill="#2d2d2d"/><path filter="url(#bB20)" fill="#616161" d="M324 2277l2 3-1 3-5 3 1 3-4 3 7 3 4 3-7 3 7 3-1 3-2 3-1 3 0 3-2 3 1 3 0 3 3 3 0 3-4 3 4 3-4 3 2 3 1 3-1 3-1 3 1 3-2 3 0 3 2 3 3 3-2 3 4 3-3 3-9 3 7 3 5 3-5 3-1 3-1 3 6 3-1 3-1 3 0 3 2 3-1 3-5 3 5 3-2 3-1 3 2 3-1 3-8 3 11 3-1 3-3 3-1 3 1 3-4 3 4 3-3 3 0 3-2 3-1 3 5 3 0 3-3 3-1 3-3 3 4 3 2 3-9 3 6 3-9 3 4 3 2 3-5 3 1 3 4 3 2 3-3 3 5 3-6 3 6 3-5 3 0 3 1 3-1 3 4 3 2 3-4 3-1 3-2 3 1 3 2 3-1 3 1 3 0 3 1 3-5 3 1 3 6 3-1 3-4 3 5 3-5 3 1 3-4 3 7 3-2 3 3 3-1 3-1 3-1 3 4 3-4 3 0 3 2 3 2 3 1 3 3 3-5 3 4 3-5 3 3 3-1 1 16 0-2-1 2-3-1-3-4-3-1-3 7-3-3-3-6-3 6-3-4-3 3-3-1-3-7-3 9-3-3-3 1-3 6-3-10-3 2-3 0-3 0-3 3-3-2-3 1-3 2-3-7-3 4-3 1-3 1-3 1-3-5-3 4-3-3-3 4-3 1-3-5-3 1-3-1-3 3-3-2-3-1-3 4-3-4-3-2-3 6-3-2-3-2-3-1-3-2-3 2-3 0-3 5-3-5-3 3-3 3-3-3-3 2-3-1-3 2-3-1-3-1-3 6-3-4-3-1-3 5-3-3-3 0-3 0-3 4-3-5-3 7-3-6-3 4-3 0-3-3-3 3-3 1-3-2-3 4-3-1-3-3-3-2-3 1-3 5-3-9-3 6-3-1-3 0-3 4-3 1-3 2-3-4-3-1-3-3-3 0-3 1-3-3-3 5-3-2-3-2-3 6-3-3-3 0-3-3-3 4-3-4-3 6-3-3-3-4-3 5-3-3-3 1-3-2-3 0-3 5-3-1-3 5-3-9-3 2-3-1-3 1-3 1-3-2-3 3-3 2-3z"/><path filter="url(#bB21)" fill="#6b6b6b" d="M450 2277l1 3-2 3-3 3 2 3 0 3-2 3 1 3 0 3-2 3 4 3-4 3 1 3 2 3-2 3-2 3 1 3 3 3 0 3-1 3-1 3-1 3 4 3-5 3 2 3-2 3 2 3 0 3 2 3-7 3 8 3-4 3 1 3 2 3-4 3 1 3 1 3-1 3-2 3 3 3 0 3-3 3 6 3-2 3-6 3 4 3 4 3 0 3-3 3-4 3 2 3 2 3-1 3-2 3-1 3 3 3-2 3 1 3 1 3 2 3-3 3 0 3-4 3 5 3 0 3-2 3-4 3 3 3 2 3 4 3-3 3 1 3 0 3 1 3-4 3 0 3 0 3 2 3-1 3 2 3-3 3 2 3-2 3 6 3-5 3 7 3-2 3-6 3 5 3-1 3-5 3 4 3-2 3 1 3-2 3 1 3 1 3-1 3-1 3 2 3-2 3 2 3-6 3 8 3-3 3 1 3 0 3-4 3 7 3-6 3 3 3 0 3 2 3-3 3-3 3 4 3-6 3 6 3-1 3 4 3-3 3-1 3-1 3 0 3 0 3 2 1 11 0 0-1-5-3 7-3 1-3 0-3-4-3 3-3-1-3-2-3 1-3 1-3-2-3 1-3 2-3-2-3 0-3-7-3 5-3 3-3-3-3-2-3 7-3-1-3-1-3-1-3 4-3-6-3 1-3 2-3-4-3 4-3 0-3 0-3 2-3-4-3 3-3 2-3-1-3-2-3 1-3-1-3 0-3-2-3 1-3-2-3 0-3 5-3 0-3 0-3-3-3-1-3 3-3 1-3-3-3-2-3 4-3-3-3 2-3 1-3 0-3-2-3 0-3-1-3-1-3 1-3-6-3 7-3-1-3-1-3 4-3-3-3-1-3 7-3-7-3 4-3-1-3 1-3-2-3 1-3 3-3-3-3 2-3 0-3 1-3 0-3 1-3-6-3 0-3 3-3 0-3-4-3 3-3 1-3 0-3-1-3 1-3-2-3-2-3 4-3-1-3 5-3-3-3 0-3 1-3-3-3 5-3-3-3-1-3 4-3-3-3 3-3-2-3-5-3 1-3 2-3 3-3 0-3-1-3-1-3-2-3 2-3-1-3-2-3 1-3-2-3z"/><path filter="url(#bB22)" fill="#666666" d="M472 2455l3 3-6 3 5 3-2 3-1 3 2 3-1 3 0 3 3 3-3 3 5 3-3 3-3 3-3 3 4 3-1 3 1 3 0 3 3 3-4 3 2 3-3 3 0 3 4 3-3 3 1 3 0 3 0 3 1 1 15 0-1-1 1-3-1-3-3-3 3-3 1-3-2-3 4-3-3-3-2-3 4-3-3-3 0-3 4-3-1-3-2-3 0-3 7-3 0-3-3-3 1-3-8-3 6-3-1-3-1-3-1-3 2-3-3-3 2-3z"/><path filter="url(#bB23)" fill="#666666" d="M547 2277l-8 3 8 3-8 3 6 3-3 3-1 3 1 3-2 3 3 3 3 3-1 3-1 3 2 3-2 3 4 3-4 3-3 3 1 3-1 3 1 3 0 3 2 3-1 3-2 3 1 3-3 3 0 3-5 3 5 3 1 3 8 3-10 3 5 3-2 3-2 3 4 3-2 3-4 3-2 3 5 3-3 3 5 3-2 3 2 3-1 3 4 3-2 3 2 3-4 3-4 3 0 3 2 3 1 3-3 3 8 3-7 3 1 3-2 3-5 3 6 3-1 3-1 3-4 3 1 3 0 3 3 3-7 3 4 3 2 3-5 3-1 3 5 3-3 3 1 3-1 3 0 3-3 3-6 3 7 3-4 3 4 3-3 3 6 3-5 3 3 3 0 3-3 3 1 3-1 3-2 3 7 3-7 3-2 3 3 3 1 3 0 3-2 3-2 3-4 3 8 3 3 3-6 3-3 3 6 3-2 3-10 3 8 3-3 3 1 3 9 3-3 3-2 3 1 3 3 3-6 3 5 3-4 3 3 3-2 3-2 3 4 3-2 3 3 3-6 3 2 1 17 0-3-1 0-3 5-3-3-3-2-3 6-3 0-3-2-3 2-3 1-3-3-3-2-3 0-3 1-3 1-3-1-3 1-3-4-3 4-3-2-3-1-3 5-3-5-3 2-3 0-3-4-3 2-3 6-3-2-3 1-3-1-3-2-3-1-3 0-3 5-3 0-3-1-3 6-3-3-3-6-3 6-3-9-3 6-3 0-3 1-3 0-3-5-3 0-3 1-3 1-3 5-3-3-3 4-3-3-3 2-3-2-3 1-3 6-3-1-3-7-3 4-3 1-3 0-3 1-3 4-3-1-3 0-3-3-3 4-3 6-3-6-3 4-3-2-3 2-3-4-3 2-3 1-3 3-3-2-3-2-3 4-3-1-3 0-3-4-3 0-3-1-3 3-3-1-3-3-3 4-3 3-3-2-3 2-3-4-3-1-3 2-3-1-3 1-3 2-3-8-3 1-3 6-3-1-3 2-3-4-3 6-3-1-3 2-3 5-3-8-3 5-3-7-3 6-3-8-3 4-3 2-3-1-3 0-3 0-3 1-3 2-3-3-3-2-3 6-3-5-3z"/><path filter="url(#bB24)" fill="#5c5c5c" d="M710 2277l2 3-3 3-2 3 1 3-1 3 0 3-2 3 3 3 0 3 3 3-2 3-2 3 0 3 0 3-1 3 0 3 2 3 0 3-1 3-3 3 3 3-4 3 5 3-4 3 1 3 2 3-3 3 3 3-2 3 1 3-2 3 0 3 2 3-2 3-1 3-1 3 2 3-2 3 0 3-1 3 1 3 0 3-1 3 0 3-1 3 2 3 1 3-3 3-2 3 2 3-3 3 3 3 0 3 0 3 2 3 0 3-2 3-1 3 1 3 0 3-4 3 1 3 1 3-2 3 0 3 5 3-5 3 3 3-3 3 3 3-2 3 1 3-3 3 2 3-2 3 3 3-1 3 0 3-1 3 0 3 0 3-1 3 1 3-1 3 0 3 3 3-3 3 4 3-1 3-4 3 0 3 3 3-3 3 2 3 1 3-1 3 0 3 0 3 2 3-2 3 3 3 1 3-4 3 1 3 3 3-3 3 2 3 0 3-3 3 3 3-1 3-2 3 3 3-3 3 4 3-2 3-2 3 2 3-2 3 2 3 0 3-2 3 1 3 1 3-1 1 7 0 1-1 1-3 2-3 0-3-3-3-1-3 4-3-3-3 0-3 1-3-1-3 1-3-3-3 1-3 2-3-1-3 1-3 0-3-1-3 0-3 0-3 2-3-2-3 1-3-1-3 0-3-1-3-3-3 2-3 0-3 2-3-2-3 4-3-1-3-2-3 1-3 0-3 2-3-3-3-2-3 5-3-6-3 4-3 0-3-1-3-1-3 2-3 3-3-5-3 3-3 1-3-3-3-1-3 4-3-5-3 3-3-1-3 4-3-1-3 0-3-3-3 0-3 2-3 0-3-1-3 3-3 1-3-2-3 2-3-1-3 1-3-1-3 0-3-1-3 1-3 2-3-1-3 0-3-1-3 1-3 0-3 1-3-3-3 4-3 0-3 0-3-2-3 1-3 3-3-2-3 0-3 1-3 0-3 0-3 1-3-1-3 0-3-1-3 1-3 0-3 1-3 1-3-1-3 0-3 0-3 2-3 1-3 1-3-5-3 3-3 1-3 0-3 2-3-2-3-2-3 2-3-1-3 0-3 0-3-3-3 6-3-3-3 4-3 0-3-2-3z"/><path filter="url(#bB25)" fill="#ffffff" d="M297 2277l2 3-2 3 3 3-3 3 2 3 0 3-1 3 1 3 2 3-2 3 1 3-2 3 1 3-2 3 0 3 3 3-1 3 0 3 0 3-2 3 2 3-2 3 0 3 3 3-3 3 0 3 1 3 1 3 1 3-4 3 3 3 1 3-1 3-1 3 0 3 1 3 1 3 0 3-1 3 1 3-2 3-3 3 4 3-3 3 3 3 0 3-1 3 2 3 0 3 0 3 0 3 1 3-2 3 1 3-1 3 0 3-1 3-2 3 2 3-1 3-5 3 1 3 4 3-3 3 4 3-3 3-1 3-1 3-1 3 0 3 0 3-1 3-1 3-1 3 0 3 1 3 1 3-1 3-1 3 0 3-3 3 2 3 0 3 2 3-2 3 0 3 3 3-1 3 2 3-3 3 0 3 0 3 3 3 0 3-3 3 2 3-4 3 3 3 0 3-1 3 1 3 0 3-1 3 1 3-2 3 4 3-4 3 1 3 2 3 1 3 0 3-3 3 1 3 1 3-2 3 4 3-3 3 2 3 2 3 0 3-2 3 2 3 1 3-5 3 3 1 19 0-3-1 4-3-1-3-3-3 4-3-3-3 2-3-3-3 0-3 0-3 0-3-2-3 4-3-5-3 1-3-1-3 3-3-3-3 0-3 3-3 2-3-1-3-4-3 2-3 1-3-3-3-1-3 1-3 0-3 5-3-3-3 0-3-2-3 2-3 1-3-2-3-2-3 2-3 1-3 1-3 0-3-1-3 2-3-4-3 2-3 1-3-2-3 1-3-1-3 4-3-3-3 0-3 0-3-3-3 5-3-1-3 2-3-1-3 3-3-3-3 5-3-2-3-3-3 4-3-1-3 3-3 1-3-2-3 1-3 1-3 1-3 1-3-1-3 2-3-1-3 0-3 0-3-1-3 2-3-4-3 0-3 1-3 0-3-1-3-1-3 0-3 0-3-1-3 2-3 1-3 1-3-2-3 0-3-1-3 2-3-2-3 1-3-3-3 3-3 1-3 2-3 0-3 0-3-3-3 0-3-1-3 0-3-2-3 5-3-4-3 4-3-2-3 3-3-3-3 0-3 3-3-1-3-3-3 2-3-2-3 4-3-3-3-1-3 1-3 1-3z"/><path filter="url(#bB26)" fill="#ffffff" d="M514 2277l1 3 0 3-2 3 0 3 1 3 2 3 1 3-1 3-4 3 4 3 1 3-2 3-1 3 2 3 2 3 0 3-1 3-5 3 5 3-3 3 1 3-4 3 2 3-1 3 1 3 2 3-4 3 3 3-1 3-2 3 3 3-2 3-1 3 1 3-2 3 5 3-6 3 2 3-3 3 4 3 1 3 0 3 2 3-3 3 0 3 3 3-3 3 1 3-1 3-1 3 1 3 2 3-1 3-2 3-6 3 4 3 1 3 0 3-3 3 2 3-1 3-4 3 3 3 1 3-3 3-3 3 4 3-2 3-5 3 5 3-2 3 0 3-4 3 0 3 3 3 2 3-3 3 0 3-1 3 1 3 3 3-3 3 4 3-2 3 0 3-1 3-2 3 1 3-2 3 2 3-3 3 6 3-4 3-2 3 3 3-1 3-2 3 2 3-1 3 1 3-1 3 1 3-2 3 2 3-6 3 6 3-1 3 0 3-2 3 2 3-1 3 0 3 0 3-1 3 0 3 2 3 0 3 0 3 2 3-2 3 1 3 1 3-1 3-1 3-2 1 25 0-2-1 0-3 2-3 1-3-3-3 0-3-3-3 3-3-4-3 2-3-1-3 4-3-3-3 2-3-2-3-2-3 1-3 2-3 0-3 1-3-1-3 2-3-1-3 1-3 0-3-1-3 2-3-1-3-1-3 3-3-2-3 1-3-1-3 3-3-2-3 1-3-1-3 4-3-1-3-1-3 4-3-2-3 1-3-1-3-5-3 3-3 0-3 0-3-2-3 5-3 0-3 0-3-4-3 2-3-1-3-2-3 3-3 2-3 1-3 0-3 1-3 2-3 1-3-1-3 0-3 3-3-3-3 1-3 1-3-1-3 4-3 1-3 0-3-2-3-2-3 3-3 0-3 2-3-1-3-1-3 2-3-1-3 0-3 2-3-4-3 2-3 0-3 3-3-1-3-4-3-1-3 4-3-1-3-2-3 4-3-1-3-1-3 2-3-1-3 1-3 1-3-5-3 3-3 1-3 2-3 1-3-2-3 2-3 0-3-1-3 0-3-2-3 3-3 0-3 2-3-5-3 4-3 1-3 1-3-4-3 4-3-9-3 7-3-3-3 0-3z"/></g><rect x="213.4" y="2364" width="547.5" height="1.6" fill="#a0a0e0" opacity="0.45"/><rect x="213.4" y="2702" width="547.5" height="33.8" fill="#0a28e6"/><path d="M225.9 2703v32M252.4 2703v32M265.5 2703v32M281.5 2703v32M331.2 2703v32M339.8 2703v32M346.4 2703v32M363.7 2703v32M389 2703v32M411.4 2703v32M464.7 2703v32M472.2 2703v32M478.8 2703v32M499.2 2703v32M506.8 2703v32M533.2 2703v32M564.7 2703v32M601 2703v32M606.4 2703v32M610.7 2703v32M628.2 2703v32M642.7 2703v32M655.5 2703v32M660.6 2703v32M666.6 2703v32M688.7 2703v32M723.8 2703v32M749.4 2703v32M755 2703v32" stroke="#1a8cff" stroke-width="4" opacity=".55"/><path d="M216.4 2703v32M241.4 2703v32M301 2703v32M355.1 2703v32M380.2 2703v32M397.7 2703v32M407.9 2703v32M455.8 2703v32M496.3 2703v32M514.2 2703v32M528.9 2703v32M537.9 2703v32M581.9 2703v32M637.3 2703v32M647.7 2703v32M664.1 2703v32M671.1 2703v32M708 2703v32M735 2703v32" stroke="#0000b4" stroke-width="5" opacity=".5"/><rect x="236.3" y="2461.7" width="418.2" height="78.2" fill="none" stroke="#d8d8e8" stroke-width="1.3"/><rect x="240.5" y="2457.9" width="418.2" height="78.2" fill="none" stroke="#111" stroke-width="5.8"/><rect x="804.2" y="2243.1" width="29.5" height="503" fill="url(#cbg)"/><path d="M833.7 2293.4h-4M833.7 2343.7h-4M833.7 2394h-4M833.7 2444.3h-4M833.7 2494.6h-4M833.7 2544.9h-4M833.7 2595.2h-4M833.7 2645.5h-4M833.7 2695.8h-4" stroke="#333" stroke-width="1.2" opacity=".6"/><text class="c" x="842.7" y="2753.1">0</text><text class="c" x="842.7" y="2702.8">1</text><text class="c" x="842.7" y="2652.5">2</text><text class="c" x="842.7" y="2602.2">3</text><text class="c" x="842.7" y="2551.9">4</text><text class="c" x="842.7" y="2501.6">5</text><text class="c" x="842.7" y="2451.3">6</text><text class="c" x="842.7" y="2401">7</text><text class="c" x="842.7" y="2350.7">8</text><text class="c" x="842.7" y="2300.4">9</text><text class="c" x="842.7" y="2250.1">10</text><path d="M659.1 2455.5L888 2161.5M659.1 2538.5L888 2809.6" stroke="#000" stroke-width="4.3" fill="none"/><text class="b" x="366.8" y="2228" font-size="80.5">S3</text><text class="ar" font-size="79" transform="translate(453.4 2228) scale(1 .73)">→</text><text class="b" x="533.2" y="2228" font-size="80.5">S2</text><text class="b" font-size="31.5" text-anchor="middle" transform="translate(81.9 2477.7) rotate(48)" y="7.7">Sept 16th</text><text class="b" font-size="31.5" text-anchor="middle" transform="translate(81.9 2706.5) rotate(48)" y="7.7">Sept 15th</text><rect x="857" y="2228" width="28" height="30" fill="#fff"/><text class="b" x="1214.5" y="1404" text-anchor="middle" font-size="64">(a)</text><text class="b" x="1213" y="2894" text-anchor="middle" font-size="64">(b)</text></svg></body></html>
